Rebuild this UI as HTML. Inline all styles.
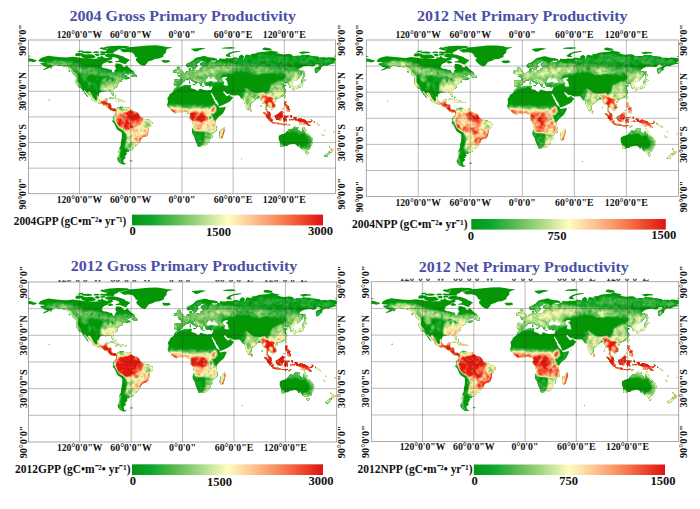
<!DOCTYPE html><html><head><meta charset="utf-8"><title>Primary Productivity</title>
<style>html,body{margin:0;padding:0;background:#fff}svg{display:block}text{font-family:"Liberation Serif",serif;font-weight:bold}</style></head><body>
<svg width="700" height="509" viewBox="0 0 700 509">
<defs>
<path id="land" fill-rule="evenodd" clip-rule="evenodd" d="M-61,51.17L-58,51.17L-57.87,51.28L-58.5,52.33L-60.8,52.33L-60.93,52.23L-61.13,51.33ZM-133.58,-57.39L-135.54,-58.37L-137.54,-58.68L-140.03,-59.57L-144.01,-59.87L-147.02,-60.87L-149.45,-60.87L-151.46,-59.08L-153.95,-58.18L-156.94,-56.68L-159.95,-55.38L-163.08,-54.7L-163.09,-54.89L-162.06,-55.91L-159.07,-57.61L-157.85,-58.58L-160.01,-58.67L-162.04,-59.38L-162.13,-59.5L-162.13,-60.41L-165.04,-61.38L-166.09,-62.41L-166.05,-62.62L-164.51,-63.33L-161.13,-63.62L-161.13,-64.37L-166.51,-64.57L-168.07,-65.49L-168.1,-65.68L-166.05,-68.42L-162.03,-70.13L-156.48,-71.43L-149.99,-70.63L-140.99,-69.83L-135,-69.43L-127.98,-70.33L-114.99,-68.63L-112.46,-68.45L-117.07,-69.74L-118.73,-71.88L-119.46,-71.43L-122.96,-70.93L-125.1,-71.75L-125.25,-71.9L-125.25,-72.11L-124.25,-74.31L-124.03,-74.47L-121.03,-74.77L-116.98,-74.47L-115.39,-73.74L-115.24,-73.58L-115.35,-73.31L-112,-72.97L-108.02,-73.27L-104.98,-73.07L-101.86,-71.23L-101.25,-69.8L-101.26,-69.57L-101.45,-69.44L-104.97,-68.73L-107.99,-68.43L-111.11,-68.35L-108,-68.13L-102,-68.13L-96.09,-68.33L-99.53,-68.73L-99.72,-68.84L-99.77,-69.05L-99.65,-69.22L-97.97,-70.27L-95.97,-70.07L-95.73,-69.8L-95.73,-69.15L-95.1,-70.58L-94,-71.93L-92.42,-70.11L-90.96,-69.42L-88.01,-68.64L-86.01,-69.63L-83,-69.78L-86.05,-69.94L-89.05,-70.54L-90.21,-71.83L-90.27,-72.03L-90.16,-72.22L-88.02,-73.77L-85,-73.97L-81,-73.97L-77.96,-73.27L-75.92,-73.06L-67.92,-70.46L-66.84,-69.23L-61.76,-67.12L-61.26,-66.12L-61.25,-65.9L-61.4,-65.75L-63.52,-64.9L-63.23,-64.47L-63.36,-64.27L-65.56,-62.95L-64.81,-62.19L-64.73,-61.99L-64.83,-61.79L-65.04,-61.73L-68.09,-62.25L-72.08,-63.74L-74.03,-64.23L-77.48,-64.03L-77.72,-64.14L-78.22,-64.84L-78.2,-65.19L-74.2,-65.75L-73.77,-67.04L-73.77,-67.82L-76.1,-68.75L-78.06,-69.73L-81.87,-69.73L-81.37,-67.53L-81.46,-67.37L-85.93,-66.18L-87.46,-64.38L-90.94,-63.18L-92.9,-61.91L-94.34,-59.03L-92.44,-57.12L-87.99,-56.63L-84.97,-55.43L-82.29,-55.13L-82.17,-55.02L-81.88,-52.87L-80,-51.37L-79.12,-52.07L-78.79,-54.59L-76.97,-56.51L-78.6,-58.72L-78.61,-58.87L-77.64,-60.52L-78.13,-62.37L-78,-62.53L-73.96,-62.42L-69.96,-61.12L-69.39,-59.1L-67.03,-58.44L-64.49,-60.43L-61.91,-57.59L-59.92,-55.6L-56.93,-53.61L-55.67,-51.97L-60,-50.07L-66.46,-50.07L-68.92,-48.4L-70.07,-47.48L-64.96,-49.32L-64.2,-48.38L-64.19,-48.24L-64.84,-47.02L-63.94,-46.13L-62.96,-46.06L-64.35,-46.68L-64.37,-46.91L-61.98,-46.63L-61.91,-46.41L-62.3,-46.02L-60.91,-45.89L-60.87,-45.2L-60.96,-45.08L-65.96,-43.48L-66.13,-43.6L-66.13,-44.69L-66.99,-44.86L-69.91,-43.6L-70.54,-42.52L-69.9,-41.79L-69.97,-41.57L-73.87,-40.5L-73.91,-39.41L-75.39,-37.92L-75.87,-36.98L-75.72,-35.4L-76.94,-34.39L-78.93,-33.29L-80.88,-31.73L-81.17,-30.01L-80.17,-27.51L-79.97,-25.51L-80.05,-25.38L-80.95,-24.98L-81.11,-25.02L-82.11,-26.42L-82.91,-27.94L-83.12,-29.12L-84.25,-29.88L-86.01,-30.17L-87.99,-30.17L-89.37,-29.99L-89.37,-29.2L-89.51,-29.07L-91.02,-29.17L-93.49,-29.57L-94.94,-29.18L-96.88,-27.73L-97.57,-23.98L-97.67,-22.32L-97.08,-20.56L-95.92,-19.1L-94.28,-18.33L-91.1,-18.91L-90.62,-20.54L-90.02,-21.33L-87.52,-21.63L-86.72,-21.11L-86.68,-20.95L-87.38,-19.46L-87.68,-18.15L-88.4,-16.46L-87.98,-16.53L-83.99,-15.93L-83.21,-15.69L-82.68,-11.06L-81.26,-9.74L-78.94,-10.12L-76.84,-9.12L-76.82,-8.25L-75.58,-10.61L-74.83,-11.13L-73.05,-11.62L-71.48,-12.53L-71.37,-12.42L-71.19,-11.18L-70.13,-11.59L-70.13,-12.2L-70.02,-12.33L-68.43,-11.41L-67.93,-10.73L-66,-10.73L-64.5,-10.34L-63.04,-10.82L-60.9,-10.93L-60.77,-10.78L-60.91,-10L-61.45,-9.97L-60.71,-8.61L-58.9,-8.09L-57.44,-6.42L-54.98,-6.13L-53.47,-5.73L-51.73,-4.61L-50.89,-3.07L-49.9,-1.88L-49.87,-0.57L-48.43,0.39L-47.94,0.87L-45.91,1L-44.45,2.37L-42.97,2.37L-41.49,2.77L-39.93,2.69L-38.42,3.6L-36.94,4.68L-35.17,5.27L-34.67,7.22L-35.07,9.32L-36.4,10.58L-37.21,11.89L-38.39,13.07L-38.87,14.52L-38.88,17.05L-39.58,18.54L-40.09,20.56L-40.91,22.09L-41.91,23.09L-44.47,23.33L-46.43,24.21L-47.9,25.38L-48.47,26.53L-48.6,28.39L-51.4,31.58L-53.43,34.11L-55.03,35.03L-57.03,34.63L-57.99,34.28L-57.17,35.27L-56.87,36.47L-57.66,38.32L-59.96,39.02L-61.89,39.12L-62.21,40.79L-64.87,41.12L-64.87,42.38L-63.69,42.47L-63.57,42.63L-65.18,43.58L-65.43,45.11L-67.27,46.21L-65.72,47.4L-65.7,47.58L-67.4,49.58L-68.85,50.56L-67.9,53.89L-65.16,54.68L-65.08,54.74L-65.16,54.92L-66.48,55.33L-68.98,55.63L-71.04,54.92L-73.07,53.61L-74.59,52.09L-75.63,50L-75.61,47.93L-73.62,44.95L-73.14,43.04L-74.13,41.99L-73.93,39.99L-73.62,37.96L-72.92,35.94L-71.93,33.96L-71.63,31.99L-71.63,29.97L-70.63,25.98L-70.33,21.99L-70.33,20.01L-70.52,18.47L-72.07,17.11L-74.06,16.12L-75.61,15.07L-76.42,13.86L-79.12,8.26L-80.09,6.6L-81.33,6.01L-81.4,4.41L-80.41,3.33L-80,2.33L-81,2.29L-80.93,0.99L-80.13,-0.24L-80.06,-1.12L-79.11,-1.59L-78.75,-2.62L-77.62,-3.09L-77.43,-4.5L-77.63,-5.71L-77.54,-6.93L-77.82,-7.1L-80.03,-6.67L-83.63,-7.67L-86.29,-10.31L-88.07,-12.39L-92.34,-13.78L-92.43,-13.9L-92.43,-14.68L-94.03,-15.96L-96.03,-15.57L-98.03,-16.07L-100.06,-16.88L-104.06,-18.88L-105.59,-20.2L-105.43,-21.48L-106.11,-22.92L-108.09,-24.91L-110.59,-27.7L-112.11,-28.73L-113.1,-30.41L-114.57,-31.45L-114.57,-30.05L-112.9,-28.08L-111.4,-26.08L-109.37,-23.08L-109.53,-22.97L-110.39,-23.2L-112.09,-24.7L-112.61,-26.12L-114.62,-27.76L-114.35,-28.66L-115.91,-30.23L-117.2,-32.42L-118.57,-33.88L-120.61,-34.43L-121.91,-36.43L-122.61,-37.73L-123.9,-39.42L-124.41,-40.34L-124.13,-44.51L-124.13,-46.28L-124.8,-48.37L-126.57,-49.39L-128.38,-50.69L-128.43,-50.79L-128.28,-50.93L-126.28,-50.57L-127.11,-50.93L-128.1,-52.42L-130.08,-54.4L-131.59,-55.41ZM-122.89,-48.26L-122.63,-47.8L-122.63,-48.92L-125.07,-50.09L-123.41,-48.6L-123.41,-48.41L-123.68,-48.37ZM-78.29,-18.53L-76.29,-18.33L-76.17,-18.19L-76.81,-17.67L-78.21,-17.77L-78.33,-17.87L-78.43,-18.37ZM-67.29,-18.59L-65.59,-18.53L-65.48,-18.35L-65.73,-17.79L-67.2,-17.77L-67.33,-17.9ZM-69.92,-19.9L-68.32,-18.7L-68.29,-18.53L-69.96,-18.17L-71.53,-17.57L-74.6,-18.32L-74.59,-18.49L-73,-20.03ZM-155.86,-20.12L-155.08,-19.85L-155.46,-19.08L-156.03,-19.4L-156.03,-20ZM-85.03,-21.87L-85.12,-22.04L-85.05,-22.12L-82.05,-23.32L-79.99,-23.13L-76.94,-21.82L-74.94,-20.82L-74.07,-20.22L-74.19,-20.07L-77.49,-19.77L-78.09,-20.6L-80.05,-21.58L-82,-22.26L-83.96,-21.68ZM-77.35,-25.32L-77.17,-25.17L-77.47,-23.97L-77.64,-23.88L-78.24,-24.08L-78.41,-24.86ZM-59.42,-47.66L-57.11,-51.07L-55.54,-51.62L-55.37,-51.47L-55.65,-50.09L-53.59,-49.37L-52.58,-47.66L-52.88,-46.66L-53,-46.57L-56.03,-46.67ZM-61.67,-49.19L-61.79,-49.07L-63.06,-48.99L-64.56,-49.79L-64.62,-49.95L-64.47,-50.03L-61.77,-49.33ZM-131.72,-54.11L-131.08,-52.34L-131.16,-52.18L-132.41,-52.73L-133.13,-54.02L-133,-54.13ZM-154.6,-57.58L-152.33,-58.13L-152.18,-58.05L-152.47,-57.07L-153.97,-56.67L-154.11,-56.72L-154.61,-57.42ZM-80.94,-64.62L-80.87,-63.8L-80.97,-63.67L-84.97,-62.87L-87.13,-63.97L-86.03,-65.63L-84.03,-66.13ZM-24.05,-65.62L-22,-66.53L-18,-66.43L-16.01,-66.63L-14.43,-65.61L-13.88,-64.45L-17.97,-63.27L-22.01,-63.67L-22.59,-64.41L-24.07,-65.39ZM-179.93,-69.06L-173.93,-67.46L-173.75,-67.31L-173.79,-67.05L-171.96,-66.92L-169.76,-66.12L-169.68,-65.96L-172.5,-64.37L-175.5,-64.37L-177.51,-65.16L-180,-64.68ZM-179.97,-71.87L-177.47,-71.57L-177.29,-71.47L-177.23,-71.27L-177.33,-71.09L-177.99,-70.63L-179.99,-70.53ZM-11.73,-81.33L-11.93,-81.04L-16.86,-79.76L-18.7,-77.92L-18.24,-76.07L-18.31,-75.81L-21.73,-72.39L-21.73,-70.5L-21.91,-70.24L-24.9,-69.25L-26.97,-68.23L-31.92,-67.74L-34.87,-66.07L-37.92,-65.34L-39.81,-64.58L-40.81,-62.81L-42.29,-61.33L-43.28,-59.85L-43.5,-59.73L-45.09,-59.74L-48.16,-60.78L-50.19,-62.31L-53.69,-65.81L-53.77,-66L-53.77,-68L-53.64,-68.23L-51.67,-69.41L-54.57,-70.24L-54.76,-70.41L-55.24,-71.87L-56.69,-73.81L-58.61,-75.24L-63.02,-75.93L-68.09,-75.74L-71.09,-76.74L-71.27,-77.05L-70.6,-77.66L-73.06,-78.24L-73.25,-78.39L-73.24,-78.62L-73.05,-78.77L-66.07,-80.06L-62.02,-81.47L-40.01,-83.57L-29.97,-83.77L-21.97,-82.77L-17.96,-81.77L-11.99,-81.57ZM-99.96,-74.27L-96.79,-73.67L-96.8,-71.62L-99.97,-71.23L-102.76,-72.92L-102.74,-73.12L-102.6,-73.25ZM-95.53,-74.07L-92.97,-74.37L-89.97,-74.07L-89.77,-73.93L-89.75,-73.69L-90.25,-72.59L-90.49,-72.43L-95.49,-72.23L-95.69,-72.31L-95.77,-72.5L-95.77,-73.8ZM-98.01,-74.73L-104.01,-74.93L-104.21,-75.03L-104.27,-75.23L-104.15,-75.42L-101.98,-76.87L-97.48,-76.57L-97.27,-76.45L-97.25,-76.2L-97.75,-74.9ZM-110.01,-76.77L-105.97,-76.27L-105.73,-76L-105.8,-74.82L-110.02,-74.33L-117.02,-74.93L-117.2,-75.02L-117.27,-75.2L-117.27,-76.2L-121.97,-75.73L-122.19,-75.81L-122.27,-76.03L-122.15,-76.23L-120.01,-77.57L-116.01,-77.77L-115.82,-77.7L-115.73,-77.5L-115.81,-77.31L-116.63,-76.49ZM-93.95,-81.56L-89.95,-80.76L-86.85,-79.2L-86.51,-79.45L-88.1,-80.25L-91.09,-81.24L-91.25,-81.4L-91.23,-81.63L-91.04,-81.77L-85.02,-82.77L-74.99,-83.37L-64.99,-83.07L-61.93,-82.26L-61.76,-82.12L-61.75,-81.9L-61.91,-81.74L-64.96,-80.73L-69.95,-79.94L-74.86,-78.76L-75.88,-77.76L-77.88,-76.76L-79.9,-75.95L-80.9,-75.95L-79.8,-75.78L-79.73,-74.6L-79.81,-74.41L-80,-74.33L-92,-74.43L-96.55,-75.23L-96.72,-75.35L-96.77,-75.55L-96.65,-75.72L-94.99,-76.77L-89.19,-76.6L-88.23,-78.14L-87.71,-78.56L-90.07,-78.04L-96.07,-79.74L-96.23,-79.86L-96.26,-80.06L-96.15,-80.23L-94.15,-81.53ZM69.2,48.97L70,49.02L69.88,49.6L69.22,49.6L69.07,49.13ZM45.92,15.7L49.2,11.91L49.37,11.89L50.42,15.55L49.62,17.54L48.62,20.54L47.42,24.54L45.17,25.63L43.67,23.52L43.38,21.45L44.17,19.48L43.87,17.02L43.93,16.89ZM119.03,9.37L120.91,9.83L120.86,10.02L119.94,10.42L118.94,9.92L118.87,9.5ZM114.9,8.12L121,8.27L122.99,8.07L123.12,8.24L122.92,8.84L122.8,8.93L117,9.13L115.19,8.93L115.08,8.84ZM107.98,7.93L105.15,6.92L105.08,6.76L106.54,5.88L108.51,6.47L110.83,6.27L112.76,6.78L114.56,7.68L114.63,7.82L114.53,8.62L114.39,8.73L110.98,8.43ZM122.05,1.92L121.7,2.06L122.91,3.93L123.11,5.37L122.94,5.42L121.89,4.87L121.38,4.05L120.92,2.96L120.43,3.1L120.49,5.7L119.41,5.59L119.27,3.55L118.68,2.65L119.67,0.17L119.74,-0.92L120.82,-1.43L122.99,-1.13L125.06,-1.72L125.12,-1.55L124.62,-0.35L124.5,-0.27L121.07,-0.27L120.42,0.71L121.31,0.87L123.39,0.71L123.38,0.9ZM104.51,5.9L103.42,4.9L102.2,4.09L100.9,2.59L100.19,1.08L98.88,-0.26L98.39,-1.73L96.91,-3.11L95.41,-4.71L95.17,-5.57L95.24,-5.71L97.6,-5.28L98.59,-4.09L100.37,-2.61L101.58,-2.1L103.08,-0.9L103.91,0.94L104.59,1.91L106.13,3.01L105.89,5.9ZM119.28,-5.1L118.12,-4.22L117.83,-3L118.12,-2.07L119.09,-1.09L119.1,-0.92L117.91,-0.69L117.63,0.82L116.62,1.57L116.43,3.02L116.08,4.1L114.71,4.23L113.95,3.53L112,3.53L110.89,3.07L109.07,0.53L108.87,-0.47L108.87,-1.5L109.41,-2.09L110.92,-1.85L111.38,-2.85L112.92,-3.31L113.9,-4.58L115.41,-5.6L116.79,-7.13L119.28,-5.3ZM79.67,-8.02L79.87,-9.72L80.01,-9.83L81.9,-7.58L81.91,-7.44L81.06,-5.88L79.9,-6.11ZM118.19,-9.04L118.01,-9.04L118,-9.21L118.7,-10.12L118.87,-10.15L118.91,-9.98L118.61,-9.44ZM53.4,-12.73L54.5,-12.73L54.62,-12.56L54.48,-12.19L53.5,-12.17L53.28,-12.56ZM92.63,-13.63L93.03,-13.53L93.13,-13.39L92.93,-11.59L92.77,-11.47L92.37,-11.57L92.27,-11.71L92.47,-13.51ZM120.33,-13.51L121.5,-13.38L121.26,-12.18L120.68,-12.45L120.28,-13.35ZM108.78,-18.37L108.67,-18.48L108.63,-19.41L109.93,-20.21L111.13,-19.63L110.1,-18.22ZM-4.41,-47.72L-4.91,-48.42L-4.9,-48.59L-3.02,-48.93L-1.68,-48.84L-1.92,-49.66L-1.85,-49.82L-1.28,-49.63L0.15,-49.82L1.72,-51L3.43,-51.52L4.4,-52.38L4.98,-53.33L8.58,-53.91L8.66,-54.47L8.07,-55.5L8.07,-57L8.17,-57.13L10.58,-57.6L10.63,-55.5L10.17,-54.56L11.02,-54.14L12.47,-54.43L14.3,-54.13L16.47,-54.63L18.68,-54.53L19.94,-54.92L20.88,-55.57L21.13,-56.91L22.43,-57.71L24.2,-57.45L24.34,-58.17L23.51,-58.2L23.37,-59.19L23.48,-59.33L25.49,-59.63L27.98,-59.73L28.98,-60L27.49,-60.37L22.81,-59.87L21.42,-60.9L21.17,-62.48L21.23,-62.61L22.44,-63.42L24.43,-64.41L25.1,-65L24.45,-65.57L22.54,-65.67L21.59,-64.91L20.6,-63.72L18.57,-62.89L17.43,-61.94L17.43,-60.87L18.87,-59.91L18.88,-59.7L17.59,-58.7L16.62,-57.73L16.23,-56.37L14.88,-56.08L14.31,-55.37L12.94,-55.29L11.09,-58.43L10.47,-59.14L7.47,-57.87L5.97,-58.27L5.07,-59.48L4.9,-61.08L5.9,-62.38L8.45,-63.42L10.44,-64.41L12.42,-65.6L14.41,-67.59L15.92,-68.8L18.96,-69.82L21.97,-70.43L24.97,-71.23L28,-71.13L30.04,-70.13L33.02,-69.63L37.02,-69.13L41.1,-68.08L41.13,-66.8L41.03,-66.67L37.99,-66.07L34.2,-66.35L34.9,-64.61L36.51,-64.13L37.98,-64.43L40.32,-64.71L39.88,-65.96L39.97,-66.13L41.97,-66.63L43.76,-66.45L43.17,-67.52L44.33,-68.63L46.51,-68.13L49.98,-68.13L53.47,-69.03L54.06,-68.44L59.94,-68.93L61.02,-69.93L65.02,-69.33L67.24,-68.72L66.87,-68.99L66.73,-70.91L70,-73.13L72.92,-71.04L72.14,-68.5L72.52,-66.96L73.38,-69.55L74.94,-72.92L81.64,-71.79L80.38,-72.46L80.99,-73.73L85.95,-74.13L86.97,-74.93L89.97,-75.63L99.98,-76.63L104.33,-77.83L107.03,-77.13L113.11,-76.07L113.07,-75.89L110.56,-74.22L113.28,-74.63L114.07,-73.82L119,-73.13L123.49,-73.63L126.04,-73.63L128.59,-72.89L130.54,-70.95L133,-71.63L139.41,-71.63L139.88,-72.75L140.01,-72.83L149.01,-72.33L151.03,-71.63L159.81,-70.63L161.05,-69.53L164,-69.73L168,-69.73L169.94,-68.97L170.5,-69.93L173,-69.93L178.01,-69.43L180,-68.93L180,-65.35L179.04,-64.88L177.79,-64.46L179.12,-63.56L179.62,-62.56L179.58,-62.4L177.02,-62.37L172.06,-60.88L170.48,-59.87L168,-60.17L166.03,-59.87L164.58,-59.39L162.94,-57.45L163.1,-56.12L162.1,-54.92L160.13,-54.4L160.07,-53.09L156.77,-50.89L156.58,-50.96L155.88,-52.96L155.47,-54.97L155.73,-57.11L156.97,-57.93L158.96,-58.42L161.44,-59.61L163.7,-61.09L164.28,-62.34L163.22,-62.2L163.61,-61.57L163.57,-61.39L161.87,-60.19L160.27,-60.47L159.72,-61.57L156.77,-61.47L155.01,-59.17L151.97,-58.87L148.99,-59.57L146.01,-59.27L143.03,-59.17L140.06,-57.88L137.58,-56.39L135.75,-54.75L137.52,-54.13L139.57,-54.31L141.27,-53.31L141.33,-53.18L141.13,-51.98L140.63,-49.97L139.09,-47.91L137.09,-45.91L135.58,-44.2L133.58,-42.7L132.02,-43.06L130.6,-42.21L129.86,-40.89L128.57,-40.19L127.69,-39.49L128.61,-38.57L129.61,-37.07L129.24,-35.18L127.54,-34.58L126.32,-34.4L126.17,-35.99L126.35,-37.39L125.18,-37.65L124.23,-39.74L122.34,-39.08L121.23,-38.89L121.18,-39.05L121.82,-40.42L121.02,-40.66L119.57,-39.69L118.09,-39.1L117.88,-38.75L118.86,-38.21L119.56,-37.34L121.98,-37.63L122.63,-37.02L122.55,-36.88L120.57,-36.09L119.48,-35L120.39,-34.09L121.11,-32.58L122.13,-31.49L121.24,-30.73L122.12,-30.25L121.83,-28.97L120.61,-27.23L119.81,-25.74L118.77,-24.59L117.05,-23.48L111.85,-21.48L110.6,-21.1L110.25,-20.18L110.08,-20.26L109.7,-21.29L108.51,-21.56L107.58,-21.19L106.6,-20.12L105.86,-19L106.6,-17.88L108.99,-15.6L109.43,-13.02L109.06,-11.39L107.1,-10.3L106.56,-9.39L104.95,-8.58L104.39,-10.3L102.95,-10.88L102.21,-12.1L100.89,-12.63L100.87,-13.27L100.12,-13.27L99.93,-11.47L99.44,-9.53L101.09,-6.99L102.41,-6.17L103.51,-4.57L103.53,-3.03L104.31,-1.56L104.22,-1.37L103.43,-1.29L101.18,-2.75L100.67,-3.97L100.18,-5.74L98.17,-8L98.17,-9.02L98.47,-11.49L97.88,-13.46L97.58,-15.46L96.95,-16.52L95.57,-15.69L94.3,-15.91L94.07,-17.95L91.89,-20.93L91.42,-22.34L90.02,-21.87L87.29,-21.39L86.88,-20.6L85.29,-19.4L84.09,-18.1L82.39,-16.6L81.57,-16.19L80.23,-15.14L80.33,-12.98L79.9,-10.22L79.1,-9.22L78.08,-8.4L77.16,-8.08L76.09,-9.94L74.88,-12.44L74.18,-14.45L73.18,-16.44L72.67,-18.97L72.58,-21.25L72.01,-20.87L70.2,-20.82L68.9,-22.42L68.2,-23.62L66.45,-25.27L61.49,-25.07L58.99,-25.27L57.17,-25.67L56.24,-26.96L54.02,-26.57L51.94,-27.58L50.71,-28.81L49.92,-29.98L48.83,-30.16L48.16,-29.75L48.61,-28.57L49.59,-27.59L50.31,-26.57L50.79,-25.36L51.08,-26.14L51.32,-26.16L51.63,-25.53L51.9,-24.14L53.94,-24.33L55.12,-25.4L56.4,-26.33L56.53,-26.23L56.91,-24.3L58.69,-23.7L59.93,-22.51L58.1,-20.32L57.11,-18.83L55.56,-17.69L52.26,-15.89L48.05,-13.88L45.05,-12.68L43.51,-12.57L43.17,-12.97L42.68,-14.96L41.88,-16.94L40.7,-18.92L39.11,-20.41L38.88,-21.95L37.39,-24.13L36.39,-25.93L34.9,-27.92L34.87,-28.84L34.35,-27.68L33.5,-28.06L35.62,-24.06L35.82,-22.86L37.13,-21.52L37.42,-19.55L38.62,-18.05L39.61,-15.59L41.07,-14.61L42.58,-13.1L43.37,-12.61L43.34,-11.65L44.53,-10.64L46.96,-11.33L48.98,-11.43L51.17,-11.93L51.33,-11.79L51.23,-10.49L50.62,-8.94L48.6,-4.92L47.07,-3.09L45.08,-1.7L43.09,-0.11L41.6,1.88L40.41,3.07L39.62,4.85L39.04,6.5L39.63,7.99L39.83,9.96L40.63,11.49L40.83,13.99L40.63,16.01L38.58,17.6L36.88,18.61L35.14,20.05L35.53,21.99L35.63,23.99L33.12,25.58L32.93,27.03L32.39,28.9L31.1,30.09L30.09,31.6L28.59,32.9L27.07,33.81L25.5,34.13L23.02,34.13L20.03,34.93L18.37,34.22L18.07,32.54L16.38,28.86L15.37,27.03L14.38,22.55L12.9,20.58L11.87,18.51L11.67,16.46L12.37,13.96L13.38,12.45L13.67,11.01L11.88,5.06L10.91,3.89L9.41,2.6L8.88,1.04L9.57,-2.02L9.67,-3.45L8.94,-4.17L6.99,-4.27L5.47,-4.67L4.43,-6.17L2.52,-6.17L1.04,-5.78L-1.46,-4.88L-4.98,-4.97L-7.46,-4.27L-9.06,-5.09L-11.07,-6.69L-12.61,-7.43L-13.41,-8.73L-13.81,-9.63L-15.09,-10.9L-16.63,-12.17L-16.92,-13.45L-17.63,-14.71L-16.63,-16.05L-16.43,-18.01L-16.43,-19.47L-17.12,-21.04L-16.42,-23.04L-15.12,-24.57L-14.6,-26.09L-13.06,-27.81L-11.57,-28.61L-10.12,-29.58L-9.82,-31.05L-9.12,-32.55L-6.61,-34.58L-5.96,-35.91L-2.01,-35.33L-0.04,-35.92L3,-37.03L10.04,-37.32L11.12,-36.95L10.44,-35.48L10.63,-34.32L10.23,-33.85L11.54,-33.33L15.33,-32.43L16.08,-31.41L18.03,-30.63L19.42,-30.63L20.38,-32.65L21.97,-33.03L23.55,-32.32L25.03,-31.83L28.99,-31.03L30.96,-31.62L32.33,-31.33L32.47,-31.06L32.58,-31.23L34.15,-31.43L34.39,-31.58L34.89,-33.06L35.67,-34.54L35.87,-35.81L35.87,-36.63L34.03,-36.17L32.52,-35.97L30.61,-36.66L29.45,-36.08L27.26,-36.88L26.68,-38.45L26.07,-39.48L25.89,-40.68L24.56,-40.77L23.84,-39.88L22.77,-40.21L22.92,-39.35L24.13,-37.7L24.03,-37.57L23.15,-37.4L23.31,-36.42L22.32,-36.3L21.52,-36.9L21.18,-38.13L19.3,-40.22L19.37,-41.45L18.92,-41.9L17.44,-42.88L15.45,-43.68L14.44,-45.05L13.51,-44.91L13.54,-45.43L12.45,-45.2L12.62,-44.26L14.07,-42.61L16.06,-42.01L18.63,-40.5L18.63,-40.1L18.47,-39.97L17.05,-40.35L16.78,-40.02L17.28,-39.6L17.3,-39.42L16.69,-38.7L15.79,-37.9L15.58,-37.96L15.27,-36.69L12.57,-37.37L12.37,-37.97L12.49,-38.13L15.49,-38.33L15.6,-38.29L15.61,-38.11L15.86,-38.52L15.59,-39.91L12.24,-41.59L10.22,-43.39L8.8,-44.25L6.49,-42.97L3.61,-43.16L3.27,-41.69L0.31,-39.91L-0.21,-38.41L-1.97,-36.67L-5.27,-35.97L-6.34,-36.37L-9.02,-36.87L-9.63,-38.77L-8.93,-40.04L-8.93,-41.48L-9.33,-42.97L-9.27,-43.11L-7.99,-43.93L-5.99,-43.73L-1.88,-43.53L-1.43,-44.53L-1.33,-45.95L-2.57,-47.18ZM120.94,-25.31L122.03,-25.13L122.12,-24.96L121.12,-21.96L120.98,-21.87L120.08,-23.04ZM32.27,-35.23L34.47,-35.73L34.63,-35.62L33.92,-34.77L32.44,-34.58L32.18,-35.04ZM23.61,-35.73L26.21,-35.43L26.33,-35.31L25.99,-34.87L23.59,-35.07L23.47,-35.2L23.47,-35.6ZM8.2,-41.09L9.79,-41.09L9.7,-39.11L8.42,-38.9ZM8.65,-42.72L9.45,-43.02L9.61,-42.97L9.48,-41.4L8.71,-41.51L8.57,-42.59ZM-6.22,-52.1L-10.3,-51.87L-10.43,-51.98L-9.65,-53.21L-10.12,-54.14L-10.06,-54.32L-8.36,-55.12L-7.03,-55.43L-5.38,-54.54L-5.88,-53.46ZM-6.1,-57.59L-5,-58.73L-3.11,-58.69L-3.1,-58.51L-3.73,-57.8L-1.99,-57.63L-1.87,-57.51L-2.79,-56.08L-1.58,-55.75L-1.09,-54.68L0.08,-53.7L0.3,-53.11L1.81,-52.77L1.43,-51.17L-0.98,-50.57L-3.49,-50.17L-5.79,-50.01L-5.78,-50.21L-4.38,-51.21L-3.83,-51.38L-5.31,-51.73L-5.26,-51.91L-4.45,-52.37L-4.61,-53.38L-3.15,-53.61L-3.31,-54.68L-4.91,-54.93L-5.62,-55.96ZM68.55,-76.53L59.09,-74.74L56.22,-73.31L55.82,-72.11L57.65,-70.82L57.77,-70.63L57.7,-70.42L57.49,-70.33L53.49,-70.43L51.4,-71.25L51.25,-71.4L51.26,-71.62L51.84,-72.72L53.88,-74.24L56.95,-75.76L61.95,-76.76L66.97,-77.27L68.54,-77.07L68.77,-76.81ZM10.78,-79.66L10.97,-79.77L14.97,-80.17L21.98,-80.67L27.02,-80.27L27.27,-80.02L27.07,-79.74L21.09,-78.25L18.12,-76.76L15.02,-76.53L13.35,-77.78L10.86,-79.27L10.74,-79.45ZM94.73,-78.8L94.79,-80.67L98.05,-81.26L104.05,-80.06L105.27,-78.49L105.03,-78.23L99.96,-77.73L94.96,-78.53ZM58.05,-81.76L62.05,-80.96L62.27,-80.69L62.03,-80.43L55.99,-79.73L46.99,-80.03L46.73,-80.27L46.94,-80.56L49.98,-81.27ZM166.41,45.71L168.11,44.11L169.92,43.09L171.2,41.92L171.89,40.83L172.64,40.39L174.33,41.27L172.61,43.87L171.31,44.59L170.85,46.02L168.97,46.73L167.45,46.32L166.45,45.92ZM148.29,40.77L148.43,40.92L148.09,42.59L147.09,43.59L146,43.63L145.19,42.37L144.58,40.65L144.73,40.57L146.51,40.97ZM173.75,39.42L173.7,39.22L174.56,38.07L174.18,36.56L172.88,35.06L172.58,34.46L172.71,34.27L174.57,36.19L175.85,36.68L176.1,37.47L178.4,37.52L177.88,39.3L176.89,40.1L175.39,41.69L175.18,41.65L174.68,40.55L174.84,39.88ZM129.88,13.26L130.74,12.29L132.44,11.39L135.31,12.07L136.88,12.1L136.91,12.27L136.12,13.56L135.66,14.93L137.58,15.9L139.54,17.37L140.7,17.37L141.37,14.98L141.58,12.75L142.38,10.75L142.61,10.73L143.61,12.43L143.63,14.21L145.43,14.96L146.13,17.46L146.32,18.82L147.9,19.71L149.39,21.41L152.59,24.71L153.33,25.98L153.63,28.53L153.13,31.03L152.11,32.86L151.12,34.36L150.43,36.04L150.13,37.53L150.03,37.63L148.05,38.02L146.37,39.21L144.7,38.35L143.47,38.93L140.97,38.33L139.71,37.09L139.12,35.74L137.91,35.79L137.97,34.21L137.73,32.92L136.88,34.1L135.68,35.03L134.7,33.38L133.44,32.32L131.19,31.63L126.03,32.43L124.09,33.11L123.5,34.03L121.02,34.03L119.55,34.42L117.99,35.23L115.99,35.03L114.93,34.41L114.88,34.25L115.47,32.97L115.57,31.52L114.08,28.05L113.38,26.04L113.37,24.49L113.57,21.99L116.64,20.38L118.96,19.88L121.41,18.9L122.19,17.44L123.51,17.18L123.9,16.22L125.46,14.38L126.96,13.88L128.24,14.77L129.4,14.77ZM163.89,20.27L163.95,20.08L164.06,20.09L165.56,20.89L167.09,22.2L167.09,22.4L166.13,22.31L164.43,21.11ZM177.41,17.5L178.51,17.57L178.63,17.73L178.53,18.13L178.39,18.23L177.4,18.09ZM166.59,15.26L166.66,15.08L166.77,15.09L167.42,15.55L167.92,16.75L167.87,16.91L167.71,16.89L167.21,16.39ZM126.57,9.11L124.57,10.31L123.41,10.39L123.42,10.2L124.92,9.1L127.06,8.29L127.1,8.48ZM161.73,10.08L161.51,10.47L161.32,10.5L159.43,9.11L157.14,7.81L157.1,7.32L157.25,7.28L159.85,8.38ZM154.69,5.37L155.98,6.4L156,6.58L155.7,6.98L155.51,7L154.71,6.3L154.57,5.52ZM147.56,5.88L148.12,7.93L149.6,9.22L150.6,10.42L150.58,10.6L147.91,10.3L146.42,8.9L144.52,7.76L143.6,8.59L142.99,9.33L140.99,9.23L139.47,8.24L137.93,8.51L137.89,8.34L138.65,7L137.91,5.6L135.95,4.72L133.5,3.94L132.76,4.12L131.88,2.75L133.03,2.38L132.23,2.31L130.93,1.51L130.87,0.8L130.97,0.67L132.47,0.27L134.03,0.67L134.13,0.78L134.32,2.44L135.01,3.13L136.45,2.08L138.04,1.48L144.54,3.68L145.88,5.09ZM152.15,4.24L150.69,2.77L150.75,2.58L152.57,3.59L153.12,4.65L152.94,4.71L152.39,4.4L151.88,5.4L150.58,6.4L148.9,6.28L148.4,5.68L148.41,5.51L150.46,5.37ZM126,3.07L127.31,3.12L127.12,3.84L127,3.93L126.02,3.9L125.87,3.22ZM128.01,2.87L130.81,3.07L130.92,3.26L130.49,3.93L128.19,3.73L127.88,3.04ZM127.95,0.92L127.37,-0.5L127.37,-2.2L127.48,-2.33L128.82,-1.56L128.62,-0.25L128.12,0.85ZM123.41,-8.59L125.43,-9.81L125.61,-9.77L126.62,-7.96L126.12,-6.46L125.39,-5.71L125.24,-5.69L123.94,-6.39L123.43,-7.34L121.93,-6.89L121.91,-7.09ZM121.95,-11.92L122.98,-11.64L124.54,-12.62L125.54,-12.32L125.63,-12.18L125.33,-10.28L125.23,-10.17L124.05,-9.88L123.07,-9.19L122.91,-9.21L122.17,-9.98L121.87,-11.78ZM120.17,-18.5L120.31,-18.63L122.3,-18.48L122.13,-16.49L121.65,-15.05L123.09,-14.09L124.09,-13.09L124.05,-12.88L123.43,-12.69L121.96,-13.67L120.68,-13.74L120.07,-15.01ZM130.38,-31.15L129.88,-32.45L129.91,-33.59L131.79,-33.69L131.6,-31.42L130.54,-31.08ZM132.49,-35.63L134.96,-35.83L136.61,-36.9L137.2,-37.58L138.45,-37.44L139.38,-38.56L139.87,-40.02L139.9,-41.08L141.27,-41.43L141.42,-41.35L142.11,-39.43L141.13,-37.76L140.93,-35.99L140.09,-35.11L138.81,-34.67L137.06,-34.57L136.01,-33.37L134.95,-34.36L134.57,-34.3L134.62,-34.16L134.25,-33.18L133.05,-32.68L132.18,-33.26L132.47,-34.02L131.01,-33.87L130.87,-34L130.93,-34.61ZM141.59,-45.47L141.78,-45.5L143.06,-44.42L145.33,-43.93L145.42,-43.75L145.12,-42.95L143.28,-41.87L141.04,-42.26L139.99,-41.37L139.87,-41.52L140.19,-43.27ZM141.86,-45.88L141.67,-46.01L141.87,-48.01L141.87,-53L142.38,-54.35L142.54,-54.42L143.31,-53.06L143.33,-51.53L144.62,-49.14L143.16,-48.89L143.62,-46.74ZM179.98,-70.53L178.78,-70.63L178.56,-70.78L178.26,-71.38L178.32,-71.7L180,-71.86ZM142.01,-76.47L148.01,-76.27L150.12,-75.24L150.26,-75.06L150.21,-74.84L150.01,-74.73L145.04,-74.53L141.07,-73.54L136.89,-75.25L136.74,-75.42L136.77,-75.64L136.96,-75.77Z"/>
<path id="lakes" d="M28,-41.5L29,-41.2L31,-41.2L33,-42L35,-42L36.5,-41.3L38.5,-41L40.5,-41L41.7,-41.6L41.5,-42.7L39.5,-43.7L38,-44.5L37,-45.2L36.5,-45.3L37.5,-46.5L39,-47.2L37.5,-47L35.5,-46.3L35.2,-45.5L35,-44.8L33.7,-44.4L32.7,-45.3L33.5,-46L31.5,-46.6L30.5,-46L29.7,-45.2L28.7,-44L28,-43ZM47.5,-45.7L49,-46.6L51,-47L53,-46.7L53,-45.3L51.3,-45L51,-44.3L50.3,-44.5L51.5,-43.2L52.5,-42.7L52.7,-41.5L53.5,-40.8L53,-40L53.5,-39.3L53.8,-37.5L53.9,-37L52,-36.8L50.5,-37L49,-37.6L48.9,-38.8L49.5,-40.3L50.3,-40.3L49.5,-41L48.5,-42L47.5,-43L47.3,-44.2L46.8,-44.8Z"/>
<clipPath id="lc"><use href="#land"/></clipPath>
<linearGradient id="cbg" x1="0" x2="1" y1="0" y2="0"><stop offset="0" stop-color="#089612"/><stop offset="0.1" stop-color="#0ca62c"/><stop offset="0.22" stop-color="#58b94d"/><stop offset="0.36" stop-color="#a9d987"/><stop offset="0.5" stop-color="#fffdc0"/><stop offset="0.64" stop-color="#fcc08e"/><stop offset="0.8" stop-color="#f8794c"/><stop offset="0.92" stop-color="#ea3a24"/><stop offset="1" stop-color="#dc1414"/></linearGradient>
</defs>
<rect width="700" height="509" fill="#fff"/>
<g transform="translate(181.90,116.90) scale(0.8533,0.8544)">
<use href="#land" fill="#049604"/>
<g clip-path="url(#lc)"><path fill="#11a325" d="M148.5,43.8l-1,0.7l-2,-0.5l-2,-3.8l-3,-1.2l-2,-2.7l-3,-0.7l-1,-1.1l1,-0.8l3,0.3l1,0.9l1,0.2l1,-0.9l3.4,-0.7l2.6,-2.8l0.9,-4.2l-1.6,-1l-0.3,-1.9l-1,-0.1l-1.2,-1l0.2,-2l-1,-0.9l-3,0.4l-2,1.3l-2,-0.7l-2,-2.3l-2,0.1l-1,-0.6l-3,0.2l-3,0.9l-2,-0.5l-1,-1.9l3,-2.9l3,-0.2l2,-2.1l2,-0.8l4.1,0l1,1l0,3l1.9,1.8l0.9,-0.8l0,-3l0.5,-1l-0.4,-1l-3,-0.7l-1.3,-1.3l0.3,-1l-0.8,-1l-3.2,-0.7l-1,-0.7l-1,0.3l-3,-0.3l-1,0.6l-1,-0.3l-1.7,1.1l0.7,0.7l3,0l1.1,1.3l-2.1,2.5l-2,0.7l-1,0l-1,-0.6l-3,0.4l-1,-0.7l-10,-1l-3,-0.9l-5,-4.7l-3.4,-4.7l-0.3,-1l-2.8,-3l-0.2,-1l0.7,-1.1l2.9,-0.9l0,-5l-0.9,-1.8l-2,-0.4l-1,-0.8l-0.9,-4l-2,-2l-0.1,-1.2l-0.1,1.2l-0.8,1l-2.1,0.3l-5.9,5.7l-0.4,4l1.7,3l-0.7,2l-1.7,0.9l-1.3,-0.9l-0.7,-2l-2,-0.1l-1,-0.9l-4,-10l-2.6,-3l-0.1,-2l0.7,-0.5l1,0.4l0.5,-0.9l0.1,-1l-1.5,-1l0.3,-2l1.6,-1.9l1,0.3l1,-0.5l0.6,-0.9l-1.4,-2l0.6,-1l1.2,-0.6l9,5.8l7,0.6l6,-1.6l1,1.4l1,0.5l3.2,-3.1l0.5,-1l0,-2l0.8,-1l0.2,-2l1.3,-1.8l2,-0.4l1,-1.1l3.2,-0.7l1.8,-1.6l4,-0.1l3.4,-3.3l0.2,-1l-0.6,-0.9l-2,-1.6l-0.7,0.5l-0.1,2l-1.2,0.4l-0.6,-1.4l1.3,-1l-1.7,-1.5l-0.5,0.5l0,1l-1.5,1.1l-1,-0.2l-2,-1.8l-2,0.9l-1,-1.1l-2,1.1l-3,-1l-1,0.7l-4,-0.8l-3,0.9l-2,1.4l-1,0l-4,-0.8l-3,0.2l-2,-1.6l-3,-0.5l-1,-1l-6,-0.1l-2,-1.2l-1,0.4l-1,1.2l-1,0l-2,-2l-4,3.8l-2,0.5l-5,-0.4l-2,0.7l-3,0.3l-1,0.7l-0.9,1.6l2,2l0.4,2l1.5,1.2l-2,1.4l-3,0.3l-1,1.1l-2,0.4l-2,1.2l-1,-2.3l-1.1,0.7l1.6,2l-1.5,0.3l-1,0.9l-2,0.3l-1,-0.6l-2,1.1l-1,0l-1,-0.9l-3,-0.1l-1,0.6l-3,0.5l-4,-4.4l-1,-0.5l-2,1.4l-1,-0.3l-5,-4.3l-3,0.6l-2,-0.4l-1,0.1l-2.9,2.7l-0.5,1l0.4,1.5l2,-0.9l4,0.8l2,-0.8l1,0.2l0.3,1.2l-1.3,1.6l-4,-1.1l-4,0.9l-1,0.8l-2,0.1l-4,1.2l-2,2.2l-1,0.2l-1.9,-0.9l1.9,-3l-0.2,-1l-1.9,-2l0.1,-5l2,-2l4,-0.2l1.4,-0.8l-2.4,-2.6l-0.6,-1.4l-4.1,-2l-0.4,-1l0.2,-2l2.6,-1l1.3,-3l1,-0.8l2.8,-0.2l1.3,1l1,3l2.9,2.6l1,0.3l6.4,-4.9l-0.4,-1.2l-1,-0.1l-1,0.6l-1,-0.4l-1.9,-2.9l0.8,-1l1.1,-0.6l2,0.2l2,-0.5l3.4,-2.1l0.6,-0.9l2,-0.4l2,-1l4,0.1l1.1,1.2l3.9,0.9l1.6,1.1l-0.3,1l1.7,0.5l2,-2.4l4,-1.8l3.2,0.7l2.8,1.3l4,-0.3l1,1.3l2,0.2l1,0.6l2,0.1l1,-1l2,-0.3l2,1.2l2,-0.3l0.8,-0.8l-1.1,-2l-0.2,-2l2.5,-1.7l2,1.1l2,0l2,2.1l1,-0.7l2,0l1,0.1l1,1.2l2,0.1l0.3,-0.2l-1.2,-2l1.9,-1.4l3,-0.2l1,-1l1,-0.3l2,-0.3l0.8,1.2l-0.9,1l0.1,1.3l1,0.2l3,-1.2l2,0.1l0.4,-0.4l-0.1,-1l-1.5,-2l4.2,-1.8l2,0.9l3,-0.6l2,1.8l2,-1l1,0l2,2.4l1,-2.3l1,0.6l2,-1.3l0.5,1.3l1.5,1.7l3,-0.6l2,0.7l1,-1.3l2,1.1l2,0.1l3,-1.1l1,1.1l2.8,1.3l-0.9,3l1.1,1.5l3.1,-1.5l-1.5,-1l-0.1,-1l1.5,-1.5l3,-1l3,0.7l0.4,-0.2l-0.3,-1l1.9,-1l2,0.8l2,-0.6l1,0.3l2,-1.1l0.9,1.6l-0.4,1l0.1,1l1.4,0.7l3,-2.2l2,0l1,-1.2l1,0.3l1,1.3l1,-0.3l0.9,2.4l1,1l0,2l-1.2,1l0.3,0.2l1,-1.1l2.1,-0.1l-0.8,-2l0.7,-1.1l4,-0.2l1,0.2l2,1.8l1,0l5,-2.4l1,1.8l2,0.9l2,2l-2,2.3l-1,-0.6l-2,0.1l-1,-0.6l-1,1.1l-3,0.7l-2,-1.2l-3,1.2l-3,-1.5l-4,0.6l-0.6,-2.1l-1.4,-0.7l-1,0.1l-1,-0.8l-1,0.2l-1.3,2.2l0.3,0.9l1,-1.3l1,0.3l0.8,1.1l-0.1,2l-1.7,1.4l-3,-1.6l-2,-2l-2,0.8l-3,0l-3,-1.2l-0.9,-1.4l1.6,-3l-0.7,-1.2l-0.8,1.2l0.3,1l-2.5,2.9l-3,-0.6l-1,0.6l1,1l1,-0.3l0.3,0.4l-0.3,1l-1,-0.9l-0.3,0.9l1,2l1.3,1.3l3,1.2l1,1.1l3,1.5l2,-0.9l2.2,1.8l0.1,2l0.8,2l-0.8,3l1.7,3l-1,2l-1.4,1l-1.6,4.8l-2.4,2.2l-2.6,0.4l-1,1l-2,0.1l-2,1.5l-2,0.4l-1,-0.5l-2,-2.8l-2,-0.6l-2,-4.9l-1,-0.8l-1,-0.1l-0.9,1.3l1.7,2l-1.5,2l2.2,3l0.1,2l-1.4,3l1.6,2l-0.8,2.5l-1,1l-3,-2.4l-2.8,1.9l-3.2,1l-0.7,2l-2.4,2l0.9,2l0,3l-4.8,4l-4,-3.6l-0.7,1.6l0.7,2l2,0.7l1.4,1.3l1.1,4l-0.4,1l0.2,1l2.2,2l0.5,1.9l1,0.3l-0.2,-1.2l-2,-3l0.2,-2l2,-2.3l3,-1.2l2.8,-2.5l3.3,-5l-0.5,-3l0.4,-2.9l2,-1.7l1,-0.2l2.5,1.8l0,3l0.5,0.9l2.7,2.1l0.3,1l-0.3,1l0.9,3l-0.6,1.6l-2,1.8l-1,-0.1l-1,-0.8l-2,-0.3l-1.5,1.8l0.5,0.6l4,0.2l3,-0.8l2,0.9l1,1l3,0.3l2,1.5l3,-0.1l5,1.4l4,2.5l1.3,-0.5l0.2,-1l1.5,-1.4l1,0.1l5,4.1l4,2.1l2.3,2.1l0.2,1l-1.5,1.2l-4,-2l-4,-2.8l-1,0l-1.6,1.6l1.6,2l-1,1.4l-1,0.3l-2,-0.4l-3,-1.7l-1.5,0.4l1.4,3l1.5,2l0.9,3l6.5,7l0.6,3l-0.5,3l-2.5,4l-0.4,2l-1,1.1l-2.2,0.9l1,3zM103.5,-73.2l-1,0.5l-0.8,-0.8l0.8,-0.9l1,0.3l0.5,0.6zM96.7,-68.5l0.8,-1l-1,-0.4l-1,0.3l-0.5,-0.9l-1.2,0l1.5,1l0.1,1zM108,-69.5l-0.5,-0.9l-1,0.9l1,0.5zM-60.5,40.6l-3,0.8l-0.6,-1.9l-1.4,-0.6l-0.8,-1.4l-1.8,-1l-0.1,-3l1,-1l0,-3l0.9,-1l0.1,-4l-0.7,-1l0.8,-1l-0.4,-1.2l-2.6,-2.8l0,-2l-3.4,-2l-1,0.6l-1,-0.4l-3,-6.2l-1,-0.4l-3,-2.6l-0.3,-1l0.7,-5l1.9,-3l0.2,-1l-0.5,-0.9l-2,-1l-2,-0.3l-5,-4.9l-4,-1.2l-3,-2.1l-2,0.4l-2.7,-1l-3.3,-2l-3.1,-3l-0.9,-2.1l-1.2,-0.9l-2.4,-5l1.6,-1.8l1,0l1.3,0.8l3.4,3l-0.7,2.2l1.9,1.8l0,1l1,1l1.1,0.3l0.5,-1.3l-0.2,-3l0.7,-1.2l1,-0.4l1.9,1.6l0.4,3l1.7,1.8l2,0l1.4,-1.8l1.6,-1.1l2,0.1l1,0.6l2,-1.7l2.7,-0.9l-1.8,-3l-1.9,-1.6l-4,0.8l-3.7,-0.2l-2.2,-1l-1.6,-2l-0.4,-5l0.9,-1.3l1.6,-5.7l2.4,-2l-0.2,-1l-0.8,-0.4l-3,0.8l-2.7,-1.4l-2.3,-0.4l-2,0.6l-1,-1.7l-5,1.5l-0.8,1l-0.4,3l1.2,1.9l1,0.1l1,-0.5l2,0.9l1,-0.1l0.1,0.7l2.9,1.2l2.3,1.8l0.6,1l-1,1l1.5,3l-0.8,1l-0.6,2l-1,0.2l-0.8,-1.2l0.8,-2l-2,-1.2l-2,-5l-2.9,3.2l-0.1,1.5l-3,0.8l-1,-0.3l0.9,-3l-0.1,-2l-0.8,-2l-1,-1l-2.8,1l-0.2,0.5l0,-1.5l-0.9,-2l-2.3,-3l-0.2,-1l0.6,-1l-1.2,-2l-1,0.3l-1.1,0.7l-0.1,8l2.4,2l1.3,2l0.5,2l1.3,2l-1.3,0.9l-5,-2.9l-2.7,-5l-0.3,-7.4l-3,-2l-3.8,-3.6l-1.1,-1l0.1,-1l-2.2,-1.5l-2.1,-0.5l-0.9,-0.9l-2,-0.3l-8,-0.7l-1,0.1l-1,0.9l-2,-0.4l-2,-1.1l-4,0.2l-1,-1.2l-1,0l-0.7,-0.6l0.7,-1.8l1,-0.6l1,-1.6l1,-0.4l2,1.4l3,-1l2,-2l1,0.5l2,-0.7l1,0.2l1,1.2l1,-0.5l2,0.5l1,-0.5l6,0.8l3,-0.9l5,1.8l1.8,1.6l-0.8,1l1,-0.8l3,-0.3l3.3,1.1l2.7,2.3l2,0.6l1,-0.4l1,1.3l1,0.4l2,-0.9l2,0.7l5,-0.1l1,0.8l2,-0.4l1,0.9l2,0.1l2,1.2l1,-0.5l1,0.2l1,0.9l1,-0.2l2,1.3l1,-0.7l2,1.2l5,0.6l2,-0.9l3,1.5l2,-1.4l3,1.8l2,-2.1l2,-0.2l3,0.7l0.1,-0.7l0.9,-0.3l1,1.1l2,0.7l2,0l3,1l2.1,2.5l0.8,2l-0.9,1.5l-0.7,0.5l-3.2,0l-2.1,-0.8l-2,0.8l-1,-0.2l-1,1.6l-2,-0.7l-1,0.8l-2,0.4l-2.8,3.1l-1.2,0.4l-1.9,1.6l-0.9,1l-0.2,2l-2.9,3l-1.1,0.3l-1,1.7l0.6,4l-0.3,2l2.7,0.1l0.2,0.9l2.8,2.4l3,-0.1l3,1.5l2,0.2l1.1,1l-0.4,1l-1.7,0.9l-3,-0.5l-3,0.5l-3,-0.7l-2,0.7l-1.7,-0.9l-0.3,-1l0.6,-1l-3.6,-1.1l-3,0.3l-0.8,1.8l0.3,1l1.5,0.1l2,1.4l0.9,1.5l0.1,3l1,0.5l4,0.5l2.1,-2l1.9,-0.1l1,-0.8l1,0.8l1,-0.4l5,1.3l2,-0.2l1,-0.6l1.4,1l1.1,2l1.5,1.2l5,1.6l2.5,2.2l2.5,3.5l1.5,0.5l1.5,1.5l4.4,0.5l3.9,2l2.7,2.9l0,2.2l-3.2,4.9l-0.7,4l-2.1,5l-2.4,2l-2.6,0.4l-2,1.5l-1,2.4l-4.7,5.7l-3.8,3l-1.5,1.9zM80.2,-63.5l1.1,-2l-0.8,-2l-1,-0.5l-1.2,0.5l-0.8,1.5l-1.9,0.5l1.9,0.6l1,-0.7l0,2.1l1,0.7zM142,-65.5l1.9,-2l-0.4,-0.6l-1,0l-1,0.7l-0.1,1.9zM97.9,-62.5l0.2,-2l-1.6,-1.2l-0.9,0.2l-1.1,1.5l-2,-1.2l-0.6,1.7l1.6,1.6l2,-0.5l1,0.6zM113.9,-58.5l-1,-1l3.9,-3l0.6,-2l-0.9,-0.5l-3,2.3l-1,0l-1,-1.4l-2,0.3l-4,-2.4l-1.2,0.7l2.2,3.5l1,-0.5l2,0.7l2,-0.1l0.4,0.4l0.2,2l1.4,1.3zM19.4,-56.5l2,-2l0.2,-1l-0.8,-1l1.4,-3l-1.7,-1.1l-1,0.8l-0.5,1.3l0.7,2l-2.1,3l0,1l0.9,0.7zM66.1,-62.5l0.4,-0.5l2,-0.1l0.4,-1.4l-0.4,-0.8l-2,1.5l-2,-0.9l-3.3,1.2l0.6,1l2.7,0.7zM128.5,-59.5l-0.6,-2l-2.4,-2.2l-3.7,2.2l0.7,0.7l1,0l2,2.2zM120.9,-61.5l-0.4,-1.1l-1.4,1.1l1.4,0.5zM101.5,-60.5l-1,-1.3l-1,-0.4l-0.2,0.7l1.2,2zM103.9,-61.5l-0.4,-1l-0.8,1l0.8,0.7zM159.5,-51.4l-1,0.2l-2.6,-2.3l0,-2l1.6,-1.9l2,-0.1l1.9,2l0.1,1zM-88.4,-46.5l0.9,-0.6l1,0.1l1,-0.5l-1,-0.3l-2.6,0.3l-0.1,1zM-98.5,-43.2l-1,0.5l-1,-0.8l0,-2.5l1,-0.4l1.7,0.9l0.5,1zM-80.9,-44.5l-0.6,-1l-2.1,0l0.7,1l1.4,0.7zM135,-37.5l3.1,-2l0.4,-3l1.6,-3l-0.6,-0.8l-4,3.9l-2,1.2l-2,0.4l-1.3,1.3l0,1l1.3,1.6l3,-0.2zM-86.4,-42.5l0.5,-2l-0.6,-0.5l-1,0.7l-0.2,1.8zM32.8,-43.5l-1.3,-1.6l-1.8,1.6l0.8,0.8l1,0zM33.9,-37.5l0.9,-1l-0.2,-1l-1,-1l-1.1,1.2l-2.6,0.8l1.6,1.7zM-115.5,-37.9l-1.3,-0.6l1.3,-0.9l0.5,0.9zM54.5,-35.9l-4,0.3l-2.5,-1.9l1.5,-1.1l2,0.8l3,0.1l0.5,1.2zM71.5,-31.8l-1.5,-0.7l0.5,-1.1l1.4,0.1l0.1,1zM69.5,-25.3l-1,0.4l-0.3,-0.6l0.3,-1.3l0.8,0.3l0.6,1zM-154.5,-18.5l-1,0.7l-1.8,-1.7l1.8,-1.9l1.2,0.9l0.4,1zM25.5,35.5l-5.8,0l-3.2,-3l0,-2.1l2,-0.4l0.3,-0.5l-0.7,-2l-0.6,-0.6l-1,0.1l-2,-3l-1,0.2l0,-2.7l1,0l1,1l2,-1.4l2,-0.4l2.3,-2.2l-4.3,-0.4l-0.7,0.4l0.3,2l-0.6,0.9l-2,0l-0.3,-0.9l-1.3,-1l-0.3,-3l-1.2,-2l0.8,-2l0,-2l-1,-4l-3.5,-5l0.4,-3l-0.6,-0.9l-4,-2l-3,0.4l-2,0.8l-7,0l-4,-2.7l-2,-1.9l-3,-4.5l0.2,-2.2l4.8,-1.5l3,0.6l1,-0.5l2,0.8l1,-0.6l3,1.2l2,-0.6l2,1.2l1,-0.6l2,0.1l1,-0.5l3,-0.1l2,0.6l3,0l3,-0.6l1,0.8l1,-0.3l3,0.5l2,-0.7l3,1l1,1.1l2,-0.4l3,-1.4l2.2,0.9l0.8,-1.5l1,-0.5l2,0.5l1.7,1.5l1.8,6l-0.4,1l-1.4,1l-1.7,2.6l-2.3,0.4l0,1l1.3,1.2l2,-1.3l2,0.5l0,1.7l-3,0.9l-0.4,1l2.6,2l0,3l1,5l-0.2,3.9l-4.9,4.1l-0.1,4l-2,2l-2,4l-3,3.1zM92.5,-10.3l-1,-1.2l0,-2l1,-1l1,0l0.9,1l-0.2,2zM46.5,-7.1l-1.9,-1.4l0.9,-1.5l2,1.4l0.8,0.1zM120.8,-7.5l0.6,-1l-0.9,-0.7l-1.5,1.7l0.5,0.7l1,-0.1zM49.5,-7.3l-1.5,-0.2l0.5,-0.9zM47.5,-4.4l-0.5,-0.1l-0.5,-1l1,-0.2zM33.6,1.5l-0.1,-0.8l-1,0.2l0,0.9zM46.5,26.6l-2,-0.1l-1.2,-1l-0.8,-2l0,-3l0.5,-1l-0.6,-2l5.1,-5.3l2,-1.3l1,0.6l1,2l0.1,3l-2.1,7.4l-1.1,1.6zM168.5,17.9l-1,0.3l-2.4,-2.7l0.3,-1l1.1,-1l3.2,3zM178.5,19.9l-1,0l-1.3,-1.4l-0.1,-1l1.4,-1.4l1.8,0.4l0.5,1l0,1zM25,27.5l-0.2,-4l0.7,-0.4l0.2,-1.6l-0.2,-2.3l-1,-0.9l-0.7,0.2l-1,3l1.1,1l-0.1,1l-1.4,0l-0.7,1l2.4,1l-0.2,2l0.6,0.5zM167.5,23.9l-2,-0.3l-2.3,-2.1l-0.4,-1l0.7,-1.6l1,-0.4l4,3.6l0.3,0.4zM118.5,35.8l-1,0.6l-1,-0.2l-2.3,-1.7l0.3,-3.6l1,-0.6l1,0l2,1.3l1.4,1.9zM170.5,47.3l-2,-0.2l-2.4,-1.6l0.4,-1l5.9,-5l0.5,-2l-1.3,-3l0.9,-0.8l4,2.1l2,0.5l1.1,1.2l-0.1,1l-1.3,2l-3.7,2.4zM-70.5,55l-2.2,-0.5l-0.6,-2l-0.9,-1l-0.1,-2l-1.5,-2l1.1,-3l-0.6,-4l0.7,-1l0.1,-2l1,-1l2,0.8l0.6,1.2l0,2l-1,5l1.1,2l0,4l1.3,2l-0.1,1zM69.5,50.6l-1.3,-1.1l0.2,-1l1.1,-0.7l1.1,0.7l0.3,1zM-68.5,56l-0.9,-0.5l0.9,-0.6l0.9,0.6z"/><path fill="#32ac39" d="M92.5,-71.3l-1,0l-1.7,-1.2l1.7,-0.9l1.6,0.9zM114.5,-64.4l-1,0.6l-0.6,-0.7l-0.2,-1l1,-1l0,-1l-0.7,-1l0.5,-0.8l3,-1.3l2.9,1.1l0.1,1.4l-1,0.2l-2,-0.8l-1,0.2l-0.2,1l2.4,1l-2.2,1zM143.5,-69.3l-0.6,-0.2l0.6,-2l0.4,1zM101.5,-63.5l-2,-3.5l-1,0.8l-3,0l-1,0.8l-1,-0.4l-0.2,-0.7l1.2,-1.6l2.8,0.6l0.2,0.6l2,-2.6l2.8,3zM112.5,-69.4l-1,0.9l-1.4,-1l1.4,-0.3zM124.5,-65.4l-1.4,-1.1l0.8,-1l-0.5,-1l-1.4,-1l0.5,-0.6l2.4,0.6l0.4,1zM132.5,-68.4l-2,0.7l-0.9,-0.8l0.9,-1.2l3,-0.1l0,1.3zM147.5,-63.4l-2,-0.5l-1,0.9l-3,0.1l-3,-0.6l-1,-1l1.9,-2l0.1,-1.4l1,-1l0.7,0.4l-0.7,1.4l-0.9,0.6l0.9,1.6l1,0.3l3,-0.6l1,-3l1.9,-0.3l2.1,-1.6l2,0.3l2,1.7l2,0.6l-1,0.9l-2,-0.7l-2,-0.1l-1,0.6l-1,-0.3l-0.8,0.6l0.6,2zM90.5,-64l-1.6,-0.5l1.3,-2l-1,-1l2.3,-2l1.2,1l-1.9,2l0.5,2zM65.5,-65.5l-1,-1.2l-1,0.4l-1,1.2l-1,0.1l-1.1,-1.5l1.1,-1.7l2,0.4l1,-0.5l1.1,0.8zM168.5,-63.4l-2.8,-2.1l2.8,-0.8l3,-1.6l3.3,2.4l-1.3,1.3l-2,-0.1l-1,0.7zM-61.5,40.5l-3.3,-3l-2.2,-1l-0.6,-1l1.7,-7l0,-2l0.7,-3l-0.3,-2.3l-4,-5.7l-3,-1.3l-2,-1.6l-2,-3.3l-1.8,-1.8l-0.2,-2l-2.3,-1l0.4,-6l1.5,-3l-0.6,-1l-2,-1l-2,-0.3l-5,-4.9l-4,-1.2l-3,-2.4l-2,0.7l-2.5,-0.9l-4.5,-2.9l-2,-2.1l-4.2,-8l1.2,-1.6l1,0l0.7,0.6l1.9,2l1.4,3.7l2,2.7l2,1.5l1,-1.9l-0.5,-3l1.5,-1.1l1.6,1.1l0.6,3l0.6,1l1.2,0.9l1,0.1l1,-0.1l1.5,-1.9l1.5,-1l2,0.1l1,0.7l2,-1.8l4,-1l-1,-0.2l-0.9,-0.8l-1.1,-2.2l-2,-1.6l-5,0.9l-2,-0.4l-2,-0.7l-2.1,-3l0.7,-6l1.4,-1.8l1.2,-0.2l-0.9,-1l0.6,-2l2.3,-2l2.8,-0.3l1.5,-0.7l0.4,1l-1.3,1l-0.2,2l0.6,0.7l1,0l1.3,-2.7l0.1,-3l-1.4,-0.7l-4,0.6l-5,-0.1l-1,-0.2l-1,-1.4l-1,-0.4l-2,1.1l-2,-0.1l-2,-1.5l-0.7,0.7l-3.3,0.6l-2.8,1.4l-0.2,2.6l-2,2.7l-1,-0.3l-1,-0.9l-2,-3.1l1.3,-2l-0.3,-1l-1,0.5l-2,-2.2l-1,-0.2l-1.6,0.9l-0.2,1l0.4,3l-0.1,5l3,3l0.4,2l1.2,2l0.2,1l-0.3,0.3l-5,-2.7l-2.1,-3.6l-0.3,-7l-0.6,-1.9l-3,-1.9l-3.3,-3.2l-1.3,-2l-2.4,-1.6l-1.8,-0.4l-1.2,-1.1l-9,-0.9l-2,0.1l-1,0.7l-4,-1.9l-3,0.2l-0.3,-1.1l-1,-1l0.9,-2l0.4,-0.3l2,1l3,-0.6l2,-1.8l2,-0.1l1,-0.5l2,1.3l4,-0.6l6,1.5l2,-0.7l2,0.8l2,-0.2l1.9,1.2l-0.2,2l0.3,0.2l1,0.1l2,-1.3l3,0.7l0.7,2.3l3.3,0.5l0.4,2.5l1.6,1.1l1,-1.8l3,0.6l1,-0.9l2,-0.5l6,0.2l1,1.5l2,-1l1.7,2.8l-0.4,1l0.7,3l1,0.1l0.6,-1.1l-1.6,-3.7l-0.9,-0.3l1.9,-0.2l2,1.1l1,-0.4l0.3,0.5l-1.3,1l2,1.6l1,-0.2l-0.1,-1.4l1.1,-1.3l1.7,1.3l0.3,1.6l2,0.6l2,-1.4l1,0.5l2,-0.5l4,0l2,1l2,-1.3l3,1.4l1,-0.2l1,-1.5l1,-0.5l1.6,0.3l1.4,1.9l1,0.3l3,-1.5l1,0.5l2,-0.3l3,0.8l2.1,2.3l-0.1,3l-2,1l-3,-0.9l-2.2,-0.1l-1.6,-1l0.3,-1l-0.5,-0.9l-0.4,0.9l0.3,1l-0.9,1.4l-0.7,0.6l-1.3,0.1l-3,1.1l-1,0.9l-2.4,2.9l-3.5,3l-0.2,2l-3,3l-0.9,0.2l-1,1.8l0.2,4l-1.2,2l4,0.3l0.2,0.7l2.8,2.6l3,0.1l3,1.2l2,0.1l1,1l-0.4,1l-1.6,0.8l-3,-0.5l-3,0.4l-3,-0.6l-2,0.7l-1.6,-0.8l-0.3,-1l0.8,-1l-3.9,-1.2l-3,0l-1,3.2l2,0.3l2,1.4l0.7,1.3l0.2,3l1.1,0.7l2,-0.1l2,0.7l3,-2.3l0.9,0l-0.2,1l1.3,0.4l1,-0.2l1,-1.3l5,0.9l2,-0.1l1,-0.5l1.3,0.8l1.1,2l1.6,1.3l5,1.5l2.4,2.2l2.6,3.5l1.4,0.5l1.6,1.6l4,0.5l4.2,1.9l2.7,3l0,2l-3.2,5l-0.6,4l-2.1,4.9l-2.6,2.1l-2.4,0.4l-2,1.4l-1,2.4l-5,6l-2,1.3l-3,3.1zM143.5,39.8l-2,-0.3l-1,-0.6l-1,-2.2l-1,-0.7l-2.5,-0.5l0.5,-0.6l2,-0.3l2,1.8l2,-1.6l4,0.1l2.4,-4.4l0.3,-1l-0.3,-1l1,-2l-2,-1l-0.3,-1l1.1,-1l-0.2,-1l-3.1,0l-0.9,-3.5l-1,-0.2l-5,1.1l-2,-0.6l-0.9,-0.8l-1.1,-2.1l-1,0.9l-3.9,-0.8l0.6,-1l-1.6,-1l-0.3,-1l3.2,-2.6l5,-0.4l1.1,1l-0.5,3l2.4,2.4l2,0.1l-1,-3.7l0.5,-1.8l-0.3,-1l-3.2,-0.8l-1.3,-1.2l0.4,-1l-0.8,-1l-3.3,-0.7l-1,-0.8l-1,0.4l-3,-0.3l-1,0.5l-1,-0.3l-1.7,1.2l0.7,0.8l3,-0.1l1.1,1.3l-2.1,2.5l-2,0.6l-2,-0.6l-3,0.3l-1,-0.6l-10,-1l-3,-0.9l-6,-5.8l-2.4,-3.5l-0.2,-1l-2.9,-3l-0.2,-1l0.7,-1l3,-1l0,-5.9l-0.7,-1.1l-2.3,-0.4l-0.8,-0.6l-0.5,-3l-2.1,-3l-0.6,-2.1l-0.4,0.1l-0.6,2.4l-2,0.6l-6,5.8l-0.7,4.2l0.7,0.2l1,1.8l0.2,2l-1.2,1.4l-1,0.3l-1.2,-0.7l-0.8,-2.4l-2,0.1l-0.8,-0.7l-2,-4l-2.2,-7.2l-2.2,-2.8l2.2,-1.2l0.6,-2.8l-1.2,-1l0,-1l0.6,-0.5l1,0.5l1.6,-2l0.5,-1l-1.3,-2l1.2,-1l8,5.2l2,0.6l6,0.4l6,-1.5l1,1.5l1,0.4l3.7,-3.6l0.7,-3l1.6,-4.1l2,-0.4l1,-0.8l2,-0.6l4,-2.2l3,0.1l1,-0.4l3.1,-3.6l0.8,-2l-1.9,-0.9l-2,-2.4l-1,0.8l-2,-1.1l-2,2.7l-2,-0.8l-1,-1.3l-2,0.5l-1.1,-0.5l-2.9,1l-2,-0.5l-2,0.6l-2,-0.6l-3,0.2l-3,1.4l-3,0.2l-3,-0.6l-2,0.3l-2,-1.7l-2,-0.9l-1,-1.6l-2,0.5l-0.4,-0.3l-0.2,-2l0.6,-1.4l1,-0.4l1,1.2l0.1,-0.4l-1.1,-1.2l-2,-0.4l-0.9,0.6l0.8,2l-0.2,1l-1.7,1.3l-2,0.3l-0.8,-0.6l0,-1l-1.2,-1.3l-2,3.4l-1.1,-0.1l-1.9,-2.3l-5,4.5l-3,0.1l-3,-0.7l-2,1l-2,-0.4l-2,0.8l-1.8,3l2.8,3l1.1,2l-1.1,1.3l-3,0l-2,1.1l-0.6,-0.4l-0.4,-1.4l-6,2l-2,-2.1l-1,-0.2l-2,1.3l-3,-0.2l-0.6,0.6l0,1l1.6,1l0.2,1l-4.2,0.9l-2,-0.5l-4,-3.1l-2,-0.2l-1,1l-1,-0.4l-3,-3.1l-2,-1l-4,-0.2l-2,0.6l-1.8,2l-2.2,1l0.6,4l-0.6,0.5l-1.5,-0.5l1.1,-1l-1.6,-1l-1,0.9l-0.7,2.1l-2.3,0.8l-2,2.2l-1,0.5l-1.4,-0.5l1.9,-3l-2.5,-3l0.2,-5l1.8,-1.7l5,-0.5l0.7,-0.8l-0.9,-1l0,-2l-5.4,-3l-1,-1l-0.3,-1l0.6,-1l2.6,-1l0.7,-2.5l1,-1l3,-0.2l1,0.7l1,3.1l3,2.7l1.3,0.2l6.5,-4l1.1,-3l-1.9,-0.5l-2,1l-1,-1.5l-1,-0.5l0,-0.9l1,-0.6l2,0.3l2,-0.4l5,-3.1l2,0l2,-1.3l2,0.1l0.6,0.4l0.1,1l-2.7,0.6l-1,1.6l-1,-0.4l-1,-1.4l-1.2,1.6l1.2,1.5l1,-1.3l1.4,2.8l-2,3l-0.1,1l1.7,0.9l2,-1l0.6,-0.9l0.9,-2l-0.4,-1l2.9,-4.8l1.4,-0.2l2.1,1l-0.3,2l0.8,2l0.2,-1l0.8,-0.6l1,0.2l2,-3l4,-1.6l2,1l1,2.5l2,-0.1l1.3,-1.4l1.7,-0.3l3,1.4l2,0.1l2.4,0.8l0.6,2l0.3,-2l1.7,-1.1l3,0.8l1,-0.4l2,0.4l1,0.8l4,1l3,-0.7l2,1.9l1,0.1l1,-3.1l1,0.2l1,-1.4l2,1.8l2,1l3,-0.8l2,0.7l1,-0.6l2,-0.1l2.6,1.5l1.4,-0.6l2,0.7l1,-0.6l2,-0.2l3,0.5l1,1.7l3,0.4l2.9,-2.9l1.1,0.8l1,-1l2.5,1.2l0.7,1l-0.1,1l1.9,0.9l1,1.2l1.4,-0.1l0.6,-1.1l2,-1.4l3,1.3l2,-1.8l1,0.1l0.5,0.9l1.5,0.6l2,0l2,-0.9l1,0.8l1,0l2,2.1l1.1,-0.6l2,2l1.9,0.1l2,1.2l0.7,-1.3l1.3,-0.4l1,0.3l1.2,1.1l0,2l0.7,2l-0.7,3l1.7,3l-0.9,1.9l-1.4,1.1l-1.8,5l-2.3,2l-2.5,0.4l-1,0.9l-2,0.1l-2.3,1.6l-1.7,0.3l-1,-0.6l-2,-2.6l-2,-0.8l-2,-5.4l-2,-0.9l-2.1,3l2.1,1l-1,0.8l-0.3,1.2l2.3,3l0.3,2l-1.2,3l1.5,2l-0.6,2.3l-1,0.8l-1,-0.3l-1,-1.4l-1,-0.6l-2.9,2.2l-2.1,0.3l-1.3,0.7l-0.4,2l-2.6,2l1.1,3l-0.1,2l-0.7,1l-4,2.7l-4,-3.7l-0.8,2l0.6,2l2.2,0.8l1.4,1.2l1.1,4l-0.5,1l0.3,1l1.9,2l0.8,2l1,0.3l-0.2,-1.3l-2,-3l0.2,-1.9l2,-2.4l3,-1.2l2.9,-2.5l3.3,-5l-0.5,-3l0.3,-2.7l2,-1.8l1,-0.2l2.4,1.7l0,3l3.2,3l0.1,2l0.9,3l-0.6,1.5l-2,1.9l-1,-0.2l-1,-0.8l-2,-0.3l-1.5,1.9l0.5,0.7l4,0.2l3,-0.8l2,0.8l1,1.1l1,0.3l1,-0.4l2,0.8l1,1l3,-0.1l4,1l5,2.9l1.4,-0.5l0.2,-1l1.4,-1.3l1,0.1l5,4l4,2.1l2.2,2.1l0.2,1l-1.4,1.1l-4,-2l-4,-2.7l-1,-0.1l-1.6,1.7l1.5,2l-0.9,1.3l-1,0.3l-2,-0.3l-3,-1.7l-1.6,0.4l1.3,3l1.6,2l0.9,3l5.9,6l1.1,4l-0.5,3l-2,3l-0.9,3l-0.8,0.9l-3,1.1l-2,-0.2zM118.5,-63.2l-0.4,-0.3l0.4,-1.5l2,-1.3l1.1,-0.2l-0.1,1.5zM73.5,-63.8l-1.1,-0.7l1.1,-1.1l0.8,1.1zM164.5,-64.2l-1,0.5l-0.7,-0.8l0,-1l0.7,-0.9l1.5,1.9zM122.5,-63.1l-1.4,-0.4l1.4,-1.2l0.8,0.2l0,1zM128.5,-62.9l-1.2,-0.6l0.5,-1l0.7,-0.3l0.7,0.3zM150.5,-60.3l-0.8,-1.2l0.8,-0.9l0.7,0.9zM116.5,-58.7l-2.1,-0.8l0.8,-1l1.3,-0.2l0.9,1.2zM123.3,-55.5l-1.8,-1.9l-1,1.9l2,0.6zM159.5,-52.1l-1,0.3l-1.8,-1.7l-0.2,-1.5l1,-1.3l2,0.1l1,0.7zM-105.9,-53.5l0.7,-1l-0.3,-0.2l-1,0.3l-0.2,0.9zM-123.2,-51.5l1.1,-1l-0.4,-1.5l-1,-0.3l-1,1.1l-1,-1l-1,0.1l-0.2,0.6l2.2,2.2zM141.7,-49.5l-0.2,-0.6l-1,-0.6l-0.4,1.2l0.4,0.9l1,-0.1zM-66,-48.5l1.1,-1l-1.6,-0.2l-0.8,1.2l0.8,0.5zM-80,-42.5l0.5,-0.7l1.1,-0.3l-1.1,-0.1l-1.4,-1.9l-2.6,-0.4l-0.7,0.4l2.3,2l-0.3,1l0.7,0.3zM135.1,-37.5l3,-2l0.4,-2.8l1.7,-3.2l-0.7,-0.9l-2,1.5l-2,2.4l-2,1.3l-2,0.3l-1.5,1.4l0.1,1l1.4,1.6l3,-0.1zM-0.4,-43.5l-0.1,-1l-1.3,0l0.3,1zM33,-43.5l-1.5,-1.7l-1.9,1.7l0.9,0.9l2,-0.4zM34.6,-42.5l0.9,-0.9l1,0.6l0.5,-0.7l-0.5,-0.5zM-107.5,-36.4l-2.3,-1.1l-0.5,-2l0.3,-1l1.5,-0.4l2,1.5l0.4,0.9zM54.5,-36.4l-4,0.5l-2,-1.6l1,-0.7l3,1.3l1,-0.3zM4.5,-36.3l-1.6,-0.2l0.6,-0.6l1.5,0.6zM9.5,-35.8l-2.3,-0.7l2.3,-0.7l0.6,0.7zM-155.5,-17.9l-1.7,-1.6l1.7,-1.8l1.1,0.8l0.4,1zM26.5,34.8l-1,0.5l-4,0.1l-2.3,-0.9l2.3,-1.6l2.2,-0.4l-0.2,-2.2l-2,-0.1l-1.7,-1.7l-0.4,-1l3.1,-0.5l2,1.9l1,-0.7l0.4,-3.7l0.6,-1l-0.1,-5l-5,-1l-6.9,-0.3l-1,-0.7l-1.7,-2l0.5,-3l-1,-5l-1.1,-2l-1.9,-2l-0.4,-1l0.3,-3l-0.7,-1.1l-4,-1.8l-3,0.3l-2,0.8l-7,0l-4.7,-3.2l-3.1,-4l-0.6,-1l0.2,-1l1.2,-1.5l2,-0.8l3,0.8l2,-0.4l1,0.6l2,-1l2,0.6l3,0.2l1,1.5l1,0.2l0.8,-0.2l0.6,-1l0.6,-0.2l1,0.6l1,-0.5l1,1.7l1,-0.3l1,-1.6l1,-0.2l2,0.8l1,-0.6l3,-0.3l1,0.4l1,1.2l6,-1.3l1,1.1l3,0.6l6,-0.3l4,-2.4l2.1,1.3l0.7,1l1.1,5l-2.9,3.7l-3,1.3l1.9,3l0.1,2.2l1,1.1l1,-0.1l1,0.8l0.3,6l0.7,2l0,3l-1,1.6l-4,3.3l-0.2,4.1l-2,2l-1.8,3.8l-3,3.2zM92.5,-10.4l-0.9,-1.1l0,-2l0.9,-0.9l1,0.1l0.7,0.8l-0.1,2zM120.9,-7.5l0.6,-1l-1,-0.7l-1.6,1.7l0.6,0.7l1,0zM33.8,1.5l-0.3,-1.1l-1,0l0,1.8l1,-0.1zM46.5,26.6l-2,-0.2l-1.1,-0.9l-0.8,-2l0.1,-3l0.4,-1l-0.5,-2l4.9,-5.3l2,-1.2l1,0.7l0.9,1.8l0.2,3l-2.1,7.3l-1.2,1.7zM126.5,18.1l-1,0.2l-1,-0.4l-1,-1.4l2,-2l1,-0.3l0.9,0.3l0.4,2l-0.4,1zM168.5,17.8l-1,0.2l-2.4,-2.5l0.3,-1l1.1,-0.9l1.4,0.9l1.7,2zM178.5,19.8l-1,0l-1.2,-1.3l-0.1,-1l1.3,-1.4l1.7,0.4l0.6,1l0,1zM167.5,23.8l-2,-0.3l-2.3,-2l-0.3,-1l0.6,-1.5l1,-0.4l4,3.5l0.2,0.4zM19.5,23.8l-0.5,-1.3l0.5,-0.3l0.9,0.3zM151.5,29.5l0,-2.7l-0.7,0.7l-0.2,1l0.3,1zM18.5,33.8l-1.1,-1.3l0.1,-1.1l1,-0.3l0.7,0.4l0.1,1l-0.2,1zM117.5,36.1l-3.1,-1.6l0.1,-3.1l1,-0.7l2,0.8l1.9,2l-0.2,1zM170.5,46.9l-1,0.3l-3.1,-1.7l0.3,-1l5.8,-4.8l0.5,-2.2l-1.1,-3l0.6,-0.6l4,2l2,0.5l1,1.1l-0.5,2l-2.5,2.4l-2,0.7zM-70.5,53.7l-1,0.7l-0.7,-0.9l-1.5,-2l-0.5,-3l-1.3,-1l0.9,-3l-0.4,-4l0.7,-3l0.8,-0.8l1.7,0.8l0.5,2l-1.2,2.8l-0.2,3.2l0.9,2l0.3,4zM148.5,43.7l-1,0.6l-2,-0.5l-1.3,-2.3l0.3,-1.9l3,-0.1l1,0.7l0.7,2.3zM70.5,49.5l-1,0.7l-1.1,-0.7l0.1,-0.8l1.9,-0.2z"/><path fill="#53b84a" d="M-118.5,-34.1l-4,-2.2l-1.8,-3.2l-0.3,-7l-0.6,-2l-3.2,-2l-4.5,-5l-2.6,-1.7l-1.5,-0.3l-1.5,-1.4l-6,-0.8l-4,0l-2,0.7l-1,-0.3l-3,-2l-2,0.2l-0.9,-1.4l0.8,-1l1.1,0.3l3,-0.7l3,-1.6l1,0l1,0.7l3,0.2l3,-0.9l4,0.7l3,1.6l5.6,-0.3l0.4,1.2l-1,0.3l-1,1.4l-1,0.3l-2,-0.9l-1.1,0.7l0.9,1l1.2,0.3l3.9,2.7l0.8,1l-0.1,1l0.5,1l4.6,4l0.7,3l-0.1,5l2.8,3l1.4,4zM25.5,-36.3l-1.1,-0.2l-0.9,-1.8l-1,0.4l-4,-2.2l-2.4,-2.4l-0.6,-1.3l-1.6,0.3l2.9,4l-0.3,0.3l-1,-0.2l-2.3,-2.1l-0.7,-1.2l-3,-1l-3,-0.4l-3,1.4l-1,1.8l-2.9,0.4l-1.1,1.8l-1,-0.1l-0.4,-0.7l0.4,-0.8l1,-0.6l1.7,-2.6l0,-1l-2.7,-0.8l-0.8,-1.2l1.1,-3l-0.2,-1l-3.1,0.6l-4,-2.6l-0.5,-1l0.5,-0.7l2,-0.6l0.7,-0.7l0.3,-1.8l0.8,-1.2l2.2,-0.5l1.6,0.5l1.4,3.7l4,3l4,-1.9l2,-1.5l1,-0.3l1,0.6l1,0l1.2,-0.6l-0.1,-1l-2.1,-0.9l0,-0.6l2.3,-2.5l-0.4,-3l1.1,-0.3l1.7,4.3l-0.4,3l0.5,1l4.2,-0.5l1,-0.5l1,-4.3l1,-0.3l2,0.9l0.7,-0.3l0.3,-1.9l0.2,1.9l1.8,1.1l1,-1.1l2.1,-1l0.9,-2.8l4,-1.6l1.6,1.4l0.4,2l2,0.9l1,-0.4l2,-2.1l1.7,0.6l-1,1l0.3,1.1l0.2,-1.1l0.8,-0.9l1.6,0.9l0.4,1.5l1.1,-0.5l-0.4,-1l1.3,-0.2l1.8,1.2l0.2,1.7l1,0.3l1,-2.7l1,-0.4l1,2.1l3,-2.2l7,2.6l3,-0.8l2,3.3l1,0.3l2.2,2.8l-1.2,0.4l-1,-0.3l-2,-3l-1,-0.5l-1,3.4l-1,1.2l-3,-3.9l-0.7,0.7l-0.2,3l-1.1,0.4l-1,-0.8l-1,1.9l-1,0.5l-2,0.4l-3,-0.3l-2,0.8l-1,-0.1l-1,-0.9l-1,1.1l-3,-0.1l-1,-0.4l-0.3,0.5l0.3,0.8l1,-0.6l0.6,0.8l-1.4,3l-0.3,2l1.1,-0.7l1,0.5l0.5,1.2l2,2l-0.8,1l-2.7,-0.3l-1,0.4l-3,-2.2l-0.1,1.1l-0.9,0.7l-3,0.8l-1,-0.2l-1.7,-1.3l2.4,-2l-0.7,-0.7l-2,0.5l-1,1l-0.2,-0.8l-1.8,-1.8l-1,0.6l-1,1.7l-1.1,0.5l1.1,0.3l3.8,-0.3l-0.4,1l-3.4,1.2l-1,-0.7l-1.3,1.5l0.1,2zM-144.4,-62.5l-0.1,-1.5l-1,-0.3l-0.6,0.8l0.4,1zM8.5,-60.4l-1,0.1l-0.1,-1.2l1.3,0zM-125.5,-57.2l-1,0.7l-0.9,-2l-1.7,-1l0.6,-1l2,0.2l0.7,1.8l1.1,1zM-100.5,-49.3l-2,-0.1l-2,-1.6l-2,0.9l-2,0.1l-2,-1.1l-1,-2.6l-1.1,2.2l-1.9,1.4l-2,-2.7l-1,1.5l-1,0.2l-2.1,-1.4l-1.9,-2.4l-0.9,-0.6l0,-1l-0.8,-1l0.6,-2l-0.4,-1l0.5,-0.7l1,0.5l0,0.8l-0.5,0.4l1.5,1.7l3,-0.7l0.5,2l2.5,1.8l1,-1.3l1,-0.2l2,0.7l1,-1.1l2,-0.8l2,0.3l1,0.6l0,1l-1,0.4l-1.4,1.6l0.4,1l1,0.4l2.4,-2.4l-0.4,-1.3l-0.9,-0.7l1.9,-0.7l2.2,1.7l0.8,1.5l1,-0.3l1.2,1.8l-0.2,2zM73.5,-57.3l-1,0.2l-0.6,-0.4l0.2,-2l1.4,-1.6l0.9,0.6l0.2,1l0,1zM76.5,-59.4l-0.7,-0.1l0.4,-1l1.2,0l0.1,1zM91.5,-49.9l-3,0.2l-2.8,-0.8l0.3,-2l-1.5,-1.3l-1,2l-2,-1.3l-1,0.2l-0.4,-0.6l0.4,-0.6l2,-0.9l0.1,-0.5l-0.5,0l-0.6,1l-1,-0.4l-1,-1l-2,-3.6l2,-0.6l0.8,1.6l1.2,0.8l1,-0.5l0.3,-1.3l0.7,-0.7l2,-0.3l1.6,1l-0.7,1l0,1l1.1,0.4l1.2,-0.4l0.8,-1.9l1,-0.5l2,0.5l1,-0.8l2,-0.4l1.4,1.1l-0.1,1l0.7,0.9l4,-0.7l1.6,1.8l0.4,1.5l1,-1.3l2,0.2l1,-0.5l0.6,0.1l0.7,1l1.6,1l-0.9,1.4l-1,-0.5l-1,1.8l-2,-0.1l-2,0.8l-1.9,-0.4l-0.1,-0.4l-2,1l-5,-0.3zM142.5,39.5l-1,-0.1l-1.3,-0.9l0.3,-1.6l1.5,-0.4l0.5,-1.1l1,-0.1l1.2,0.2l-1.3,1l1.1,0.5l1,0.1l1,-0.9l2,0.4l1.9,-2.1l-0.5,-1l0.7,-2l1,-1l0.5,-3l-0.6,-1.6l-2.6,-3.4l-3.1,-1l-1.3,-3.1l-2.4,-1.9l-1.3,-3l0.1,-3l-3.4,-0.9l-1.2,-1.1l0.4,-1l-0.9,-1l-3.3,-0.8l-1,-0.7l-4,0l-1,0.6l-1,-0.4l-1.8,1.3l0.8,0.9l3,-0.1l1,1.2l-2,2.4l-2,0.7l-2,-0.6l-3,0.2l-1,-0.5l-10,-1l-3,-0.9l-6,-5.8l-2.4,-3.5l-0.2,-1l-2.8,-3l-0.2,-1l0.6,-1l3.2,-1l-0.1,-6l-0.4,-1l-3.2,-1l-0.5,-3l-1.6,-2l-1.4,-3.4l-1,0l-0.8,2.4l-1.2,0.6l-4,4.3l-2,1.1l-1.1,5l1.1,0.3l1.2,2.7l-0.2,1.3l-1,1l-1,0.2l-1.1,-0.5l-0.9,-2.8l-2,0.3l-0.5,-0.5l-3.3,-7l-1.7,-7l0.8,-1l2.9,-7l0.3,-1l-1.2,-2l0.7,-0.5l4,2.1l4,3l2,0.7l6,0.1l5,-1.2l1,0.1l2,1.9l4,-3.9l2,-6.3l1,-0.8l1.8,-0.2l0.8,-1l5.4,-2.5l3,0l2,-0.9l0.7,-1.6l2.2,-2l0.7,-2l-0.3,-1l-1.3,-0.5l-2,-1.4l-1,-1.4l-2,-1.1l-1,-0.2l-1,2.5l-1,0.1l-1.4,-1l0.5,-1l-0.9,-1l-0.5,-2l0.3,-0.3l1,-0.3l1,0.5l0.2,1.1l0.8,0.5l3,0.1l2,-2.6l1,-0.2l0.7,1.2l-0.4,1l0.7,1.3l2,0.2l1,-0.4l1,1.9l1,-0.5l0.4,-1.5l-1.4,-1.9l-0.7,-0.1l0.7,-0.6l2,0.1l1,2.5l1,0.5l2,-0.7l4,1.4l1,-0.5l2,0.3l1,-0.4l1,0.6l0.8,0.8l-0.7,3l0.5,2l-2.6,2.3l-2.1,2.7l-1.9,1.2l-2,0.3l-1.6,1.5l0.1,1l1.5,1.7l3,-0.1l3.7,-2.6l1.2,-5l1.1,-1.8l1.2,-0.2l0.5,-3l-1.4,-3l0.4,-1l1.3,-1l1,0.1l1.1,0.9l0.5,4l-0.4,3l1.5,3l-0.7,1.7l-1.5,1.3l-1.8,5l-2.3,2l-2.4,0.3l-1,1l-2,0l-2.6,1.7l-1.4,0.1l-1,-0.5l-1.8,-2.6l-2.2,-0.9l-2,-6l-2,-0.6l-2.9,3.5l1.2,1l0.2,3l2,2l0.4,1l-0.2,2l-0.9,2l1.2,1l0.4,1l-0.4,2.1l-1,0.8l-1,-0.2l-0.7,-0.7l-0.3,-1.5l-1,-0.2l-3,2.6l-3,0.6l-0.6,0.5l-0.2,2l-1.2,1.1l-1,0.1l-0.5,0.8l1.2,4l-0.9,2l-3.8,2.5l-4,-3.7l-0.8,2.2l0.5,2l2.3,0.8l1.3,1.2l1.1,4l-0.5,1l0.3,1l1.8,2l1,2.1l1,0.2l0.3,-0.3l-0.4,-1l-2.1,-3l0.2,-1.7l2,-2.5l3,-1.3l2.9,-2.5l3.3,-5l-0.5,-3l0.3,-2.6l2,-1.8l1,-0.1l2.4,1.5l0,3l3.2,3l0,2l0.9,3l-0.5,1.5l-2,1.8l-2,-0.9l-2,-0.3l-1.5,1.9l0.5,0.7l4,0.2l3,-0.8l2,0.9l1,1.1l3,0.2l2,1.4l3,-0.1l4,1.1l5,2.9l1.4,-0.6l0.2,-1l1.4,-1.3l1,0.1l6,4.8l3,1.4l2.1,2l0.3,1l-1.4,1.1l-4,-2l-4,-2.8l-1,0l-1.6,1.7l1.5,2l-0.9,1.3l-1,0.3l-2,-0.4l-3,-1.7l-1,0l-0.6,0.5l1.1,3l1.7,2l0.9,3l5.9,6l1.1,4l-0.5,3l-2.2,3l-0.8,3l-0.6,0.7l-3,1zM158.5,-53.4l-1.1,-0.1l0.1,-1.5zM-80.5,-24.8l-1.5,-0.7l-1.5,-2.7l-1,-0.8l-1,-0.4l-5,0.6l-4,-1.4l-1,-0.9l-0.7,-2.4l1.1,-4l-0.4,-1l1,-1l2.3,0l0.7,-1l-1.7,-1l-0.2,-1l0.9,-1.3l2,-1.3l2,0.4l-0.1,2.2l1.1,1.2l1.2,-0.2l0.6,-2l1.2,-1.4l1.9,1.4l-0.2,1l0.3,0.9l2,-0.1l3.2,-1.8l-2.2,-0.6l-1,-1.7l-3.9,-0.7l-0.3,-1l-1.8,-1l-4,0.3l-2,-1l-2,0.9l-1.5,-0.2l-0.8,-1l1.3,-0.9l0.3,-1.1l0.7,-0.6l2,1l2,0.1l1,1.3l1,0.4l1,-1.6l1,0.5l3,-0.6l2,1.1l5,1.5l1,-2.3l1,-0.3l1,1.5l0.5,-1l-0.7,-1l1.2,-0.5l2.7,1.5l0.1,1l-1.3,1l0.4,1l2.1,0.7l2,-0.3l1.1,0.6l-0.6,1l-2.5,1.2l-6,6.8l-1,3l-3.8,3l-0.4,1l0.2,3.3zM-54.5,-46l-3,-1.3l-1,0.4l-0.9,-0.6l1.1,-1l-0.2,-0.4l-1,0.3l-2.3,-1.9l0,-1l1.3,-0.6l1,0.4l2,-0.4l2,0.7l1,-0.2l1,1.1l-0.8,2l1.2,1l-0.5,1zM-68.5,-49.4l-0.3,-1.1l0.3,-0.5l1.1,0.5zM84.5,-50.1l-1.5,-0.4l0.5,-0.9l1.7,0.9zM-113.5,-46.9l-1,0l-0.6,-0.6l0.5,-1l2.1,-0.4l0.4,0.4zM-63.5,-46.8l-1.4,-1.7l1.4,-0.8l0.7,0.8zM41.9,-46.5l0.3,-1l-0.7,-0.6l-0.8,0.6l0.2,1l0.6,0.5zM23.9,-44.5l0.6,-1l-1,-1l-2.2,1l1.2,0.1zM29.8,-46.5l-1.3,-0.6l-0.4,0.6l0.4,0.9l1,0.1zM-113.5,-43.1l-1,-0.4l1,-1.4l0.3,1.4zM-8.5,-31.4l-0.4,-0.1l0,-1l1.4,-2l-1,-2l-1.6,-1l-0.1,-2l0.5,-1l0.2,-2.6l2,-1l5,-0.2l0.5,0.8l-0.2,1l-3,2l-1,3l0.7,0.9l1.1,0.1l-0.1,2l-2,0.8l-0.6,1.2zM-108.5,-38.1l-1.1,-1.4l1.1,-0.7l0.6,0.7l0,1zM51.5,-36.1l-1,-0.2l-1.6,-1.2l0.6,-0.4l2,0.7l0.8,0.7zM-59.5,39.6l-2,0.4l-3,-2.9l-2,-0.8l-0.7,-0.8l0,-1l0.8,-1l1.6,-10l-0.6,-3l-3.9,-5l-3.2,-1.7l-2,-1.6l-3.8,-5.7l-0.2,-1.4l-1.3,-0.6l-0.6,-1l0.1,-5l1.4,-3l-0.4,-1l-1.9,-1l-2.3,-0.5l-5,-4.9l-4,-1.1l-3,-2.6l-2,0.8l-2.2,-0.7l-4.8,-3l-2,-2.2l-3.5,-6.8l-0.4,-1l0.9,-1.3l1,0l1.4,1.3l2.5,5l2.3,3l1.8,1.2l1.1,-2.2l-0.3,-3l1.2,-0.8l1.3,0.8l0.8,3l1.9,2l2.1,0l1.5,-2l1.4,-0.9l2,0.1l1,0.7l2,-1.8l4,-0.8l4,0.3l3,3.2l1,0.3l3,-0.1l2,0.9l2,0.3l0.9,0.8l-0.5,1l-1.4,0.6l-9,-0.5l-2,0.6l-1.5,-0.7l-0.3,-1l0.8,-0.9l1,-0.1l-4,-1.3l-2.5,0.3l-1.5,-0.7l-1.2,3.7l2.2,0.5l2,1.3l0.5,1.2l0.3,3l1.2,0.8l2,-0.1l2,1l2,-1.5l1,-0.3l1,0.7l2,0l2,-1.6l3,0.9l3,0l1,-0.5l1,0.4l1,1.1l0.3,1.1l1.7,1.4l5,1.5l2.4,2.1l2.6,3.6l1.3,0.4l1.7,1.7l2.5,0.3l5.6,2l2,2l0.6,1l-0.1,2l-3,5l-0.6,4l-2,4.8l-2,1.7l-3,0.8l-2,1.4l-1,2.4l-4.8,5.9l-2.2,1.4l-3,2.9zM-155.5,-18l-1.6,-1.5l0.6,-1l1,-0.7l1,0.7l0.4,1zM26.5,34.7l-2,0.5l-3,-0.1l-1.8,-0.6l4.6,-2l0.4,-3l1.3,-1l0.3,-3l2.4,-2l-1.2,-0.2l-0.6,-0.8l-0.1,-3l0.8,-1l-3.1,-1.1l-8,-0.2l-2.2,-0.7l-1.8,-2l-0.2,-4l-0.9,-4l-1.1,-2l-1.9,-2l-0.2,-4l-0.7,-1.3l-4,-1.7l-3,0.4l-2,0.8l-7,0l-4,-2.7l-2,-2l-2.2,-3.5l1.2,-1.6l2,-0.9l2,0.8l4,0.5l2,-1.4l4,0.4l2,1.9l2,0.8l3,-0.4l1,0.4l2,-0.9l1,0.5l1,-0.2l2,-1.3l2,-0.7l1,0.2l1,1.4l1,0.4l4,-1.2l1,0.4l1,1.7l2,-0.8l4,-0.3l2,0.6l1.8,-0.3l0.9,-1l1.3,-0.3l2,-1.6l2,1.2l0.8,1.7l0.5,4l-2.3,3.3l-3.4,1.7l1.9,3l0.5,2.9l1,0.8l1,-0.2l0.7,0.5l0.4,6l0.7,2l-0.1,3l-0.7,1.2l-4,3l-0.5,4.8l-1.9,2l-1.6,3.6l-3.3,3.4zM92.5,-10.5l-0.8,-1l0,-2l0.8,-0.8l1,0.1l0.6,0.7l-0.1,2zM120.9,-7.5l0.7,-1l-1.1,-0.7l-1.6,1.7l0.6,0.8l1,0zM33,2.5l1,-1l-0.1,-1l-1.4,-0.4l-0.4,1.4l0.4,1.1zM46.5,26.5l-2,-0.3l-1.1,-0.7l-0.5,-2l0.4,-4l-0.4,-2l0.4,-1l4.2,-4.2l1,-0.9l1,-0.2l1,0.6l0.8,1.7l0.2,3l-2,7.2l-1.3,1.8zM133.5,13.7l-1,0.3l-1,-0.8l-2,0.9l-0.6,-0.6l0.6,-1.1l2,-1.2l2,0.1l3,-0.6l0.9,0.8l0.1,1l-1,0.9zM135.5,15.5l-0.8,-1l0.8,-0.9l0.5,0.9zM168.5,17.8l-1,0.1l-2.3,-2.4l0.3,-1l1,-0.7l1,0.4l2.1,2.3zM125.5,17.7l-0.2,-1.2l1.2,-1.2l0,1.8zM137.5,18.5l-1,0l-0.5,-1l0.5,-1.6l1,0.4l0.8,1.2zM178.5,19.8l-1,0l-1.2,-1.3l-0.1,-1l1.3,-1.3l1.6,0.3l0.6,1l0,1zM167.5,23.8l-1.9,-0.3l-2.4,-2l-0.2,-1l0.5,-1.4l1,-0.4l4,3.5l0.2,0.3zM117.5,35.9l-2.8,-1.4l0.1,-3l0.7,-0.5l1.3,0.5l2.2,2l-0.1,1zM169.5,46.9l-2.8,-1.4l0.3,-1l5.5,-4.1l0.5,-2.9l-0.9,-3l0.4,-0.4l6,2.4l0.9,1l-0.9,2.5l-2,1.8l-1,0.5l-1,-0.1l-2,2.4zM-73.5,48.2l-1,0l-0.8,-0.7l0.7,-3l0,-4l0.5,-3l0.6,-0.6l1.4,0.6l0.4,2l-1,3l-0.3,4l0.5,1zM148.5,43.7l-2,0.4l-1,-0.6l-0.9,-2l0.4,-1l2.5,-0.5l1,0.7l0.5,1.8zM-72.5,51.9l-1,-1.4l1,-2.9l0.4,2.9z"/><path fill="#74c55e" d="M-119.5,-35.2l-2.8,-1.3l-1.8,-3l-0.1,-7l-0.7,-2l-3.1,-2l-4.7,-5l-2.8,-1.8l-1.1,-0.2l-0.9,-1.5l-5,-1.3l-1,0.3l-0.7,-0.5l0.7,-1l1,0.6l3.6,-1.6l-0.1,-2l0.6,0l2.8,2l0.5,1l-0.1,1l1,1l4.8,3l1.9,3.3l4.4,3.7l0.7,3l-0.1,5l1,1.7l1,0.5l1,1.5l0.4,2.3zM33.5,-58.4l-1,0.6l-1,-0.2l-1,-1.5l1.8,-2l0.3,-2l0.9,-0.4l0.6,1.4l-0.5,1l1.4,1l0.1,1zM-150.5,-59.3l-2,-1l-2,-1.7l-2,-0.5l3,-0.8l3,1l1,0.9l1,0.1l2,-0.9l1.8,0.7l-0.8,1.2l-3,0.1zM25.5,-37.4l-0.9,-2.1l-2.1,-0.5l-1,0.8l-1,-0.1l-2,-1.3l-3,-3.9l-2.9,0l-0.5,1l-0.8,0l-1.3,-1l1.1,-1l-1.6,-1.4l-1,0.1l0.7,1.3l-0.7,0.6l-2,0.1l-3.7,1.3l-1.3,1.8l-1,-0.5l0.5,-2.3l-3.6,-2l0.9,-1l-0.3,-3l-0.5,-0.7l-3,0.8l-1,-1.3l-3.1,-1.8l2.6,-1l1.5,-1.8l1,0.3l1,-0.5l0.4,-1l-0.9,-1l0.5,-0.1l1.2,0.1l0.4,2l1.1,2l2,1l0.8,1l0.5,1.7l1,0.5l0.7,-1.2l1.3,-0.9l4,-1.5l3,-0.3l3,-0.9l3,0.3l2,-0.4l2,2.1l1,-0.2l0,-1.2l-0.7,-1l1.2,-1l-0.5,-0.7l-1,-0.3l1,-1.3l1,0.2l1,0.8l2,-1.1l2,0.6l0.8,1.8l-1.1,1l0.3,0.5l1,-0.2l2,-1.7l3,-1.2l0.8,0.6l0.2,1l1.1,-1l-0.8,-2l-1.2,-1l-0.1,-1l1,-0.8l3,0.8l0,1l-0.6,1l0.6,0.7l2,-0.6l2,0l2,1.5l2,-2.3l1.2,-0.3l0.8,-1.3l1.1,0.3l0.2,2l0.7,0.8l1,-0.1l1,-1.1l1,-0.1l1,0.7l1,-0.3l2,-2.6l2,1.5l2.2,0.2l0.5,1l-1.1,1l-0.6,2.5l-1,0l-1,-1.1l-1,0.6l0.5,3l-0.5,1.3l-1.2,-0.3l0.8,-2l-0.6,-0.2l-2,1l-0.2,1.2l-0.8,0.8l-3,-0.8l-3,0l-1,-0.7l-1,0l-1,1.4l-2,-1.2l-1,0l-1,2.5l-2.3,2l1.3,4.4l0.7,0.6l-1.4,1l-0.3,1.1l-0.9,-1.1l-1.1,-0.3l-1,-1.5l-5.7,-1.2l-0.2,-1l-1.1,-1.4l-1.5,0.4l-0.5,1l0,1.8l-4,-2.4l-4,-0.5l-1,-0.9l-1.3,1l-0.1,1l0.7,1l0.7,0.5l2,0.1l1,0.8l1,-0.2l1.2,0.8l0.8,1.9l1,-2.4l1,-0.3l1,0.8l0,1.5zM66.5,-56.8l-0.5,-0.7l0.1,-2l1.6,0l0,1zM84.5,-55.4l-1,0l-0.5,-1.1l0.5,-2.5l0.6,1.5l1.8,1l-0.5,1zM91.5,-50.4l-3,0.3l-1,-0.4l-0.5,-1l0.5,-1l-1.7,-1l-0.3,-2l1,-0.9l2,-0.3l2,-2.1l1,-0.1l2,0.6l1,1.2l1,-0.1l0.9,0.7l-1.9,2.8l-2,-1.3l-1,0.5l1,1.3l2,-0.2l1,0.5l1.6,-0.6l0.2,-1l-0.6,-1l0.2,-1l3.6,-1.2l1.1,0.2l-0.6,1l0.7,1l-2.2,4l-1,-0.5l-3,0zM-118.5,-52l-2,-1.1l-1.6,-2.4l0.6,-1l2,-1.1l0.9,0.1l-0.6,1l1.7,0.6l1.3,1.4l-0.4,1zM-107.5,-55l-1,0.3l-0.9,-0.8l0.3,-1l1.6,-0.5l0.8,0.5zM118.5,-53.3l-0.9,-1.2l0.9,-1.4l1,1.4zM106.5,-52.5l-1.7,0l-0.3,-0.5l-1,1l-1,0.3l-0.3,-0.8l1.3,-1.2l1,-0.1l1,-1.3l1.1,0.6l0.7,1zM131.5,-30.5l-2,-0.6l-1,-2.1l-3,-1.4l-1.5,-5.9l0.5,-0.8l2.7,-1.2l0.4,-1l-0.3,-1l-1.8,-1.4l-2,0.8l-0.6,-0.4l-0.6,-2l0.2,-2l-3.3,-2l0.1,-1l1.2,-0.9l3,0.1l2,2.4l1,-2.2l2,-0.1l1,-0.6l1,0.8l2,-0.3l4,0.7l2,-0.6l1,0.7l-1.7,2l0.7,0.2l1.1,1.8l0,1l-0.7,1l-1.4,0.8l-2.2,3.2l-1.8,1.2l-2,0.1l-1.7,1.7l0,1l0.9,1l0.8,0.7l1,0.1l2,-0.1l3.8,-2.7l0.2,-2.2l0.9,-0.8l0.1,-2l1,-1.5l1.5,-0.5l0.2,-2l0.7,-1l-0.6,-1l-0.7,-3l0.9,-0.7l2,0.5l0.4,4.2l-0.3,3l1.4,3l-0.5,1.4l-1.6,1.6l-1.4,4.5l-2.7,2.5l-2.3,0.2l-1,1l-2,0.1zM-113.5,-51.3l-1,0.1l-0.4,-1.3l1.4,-0.7l0.5,0.7zM-108.5,-52.5l-1,0.8l-0.8,-0.8l0.8,-0.9zM-101.5,-51.2l-3,-0.6l-1.1,-0.7l2.1,-0.7l1,1.4l1,-0.2l0.8,0.5zM13.5,-50.5l0.8,-1l-0.8,-1l-1,0.3l-0.8,1.7l0.8,0.6zM-55.5,-48.6l-1.6,-0.9l-0.6,-2l1.2,0.6l2,0.1l0.2,0.3zM-94.5,-49.1l-0.8,-0.4l0.8,-1.1l0.6,1.1zM10,-49.5l-0.4,-1l-0.7,0l-0.1,1l0.7,0.9zM-84.5,-48.2l-1.3,-1.3l1.6,0l0.2,1zM35.2,-48.5l0.9,-1l-0.6,-0.4l-1.4,0.4l-0.9,1l0.3,0.5zM-80.5,-25.2l-1.2,-0.3l-1.6,-3l-1.2,-0.9l-1,-0.4l-5,0.6l-4.7,-2.3l-0.5,-1l0.1,-2l1.5,-3l-0.6,-1l3.2,-0.4l1,1.7l0.5,-0.3l0.5,-2.7l1,-0.6l2.8,0.3l1.2,1.4l0.2,-0.4l-1.1,-1l-0.3,-2l1.2,-1.5l1.3,0.5l0.1,2l0.6,1l2,0.5l2.1,-2.5l1.7,-1l-2.4,-1l0.6,-1.1l-1.9,-1.9l0.3,-1l1.6,-0.1l2,1.3l3,-1.1l0.7,0.9l-0.7,2.1l2,-1.3l1,1l3,-0.1l-1,0.6l-5.6,6.7l-1.8,4l-3.5,3l-0.6,1l0.5,2zM-82.5,-46.4l-0.8,-0.1l-0.1,-1l0.9,-0.4l1.4,0.4l-0.7,1zM-54.5,-46.9l-1,0.2l-0.3,-0.8l0.3,-0.9l1.4,0.9zM122.5,-41.8l-2,-0.1l-0.7,-1.6l0,-1l0.7,-0.6l1.3,0.6l0,1l1,1zM-90.5,-42.3l-2,0.6l-0.3,-0.8l1.3,-1.5l2,-0.2l0.3,0.7zM-7.5,-38.4l-1,0.7l-1,0l-0.3,-0.8l0.9,-3l-0.3,-1l0.7,-0.9l1.6,-0.1l0.4,0.9l2,-1.3l2,0.3l-2,1.6l-2,-0.4l-1.6,0.9l0.3,1l1.4,1zM47.5,-40.7l-2,-0.6l-1,0.3l-1.6,-1.5l0.6,-0.7l2,0.1l2.8,1.6zM147.5,39l-6,0.2l-1.2,-0.7l0.1,-1l1.1,-0.6l4,1l1,-0.8l2,0l2.5,-2.6l-0.2,-2l1.4,-3l0,-3l-2.9,-4l-2.8,-1.6l-2,-3l-1.8,-1.4l-1.6,-3l0,-3l-3.6,-0.9l-1.2,-1.1l0.4,-1l-0.8,-1l-3.4,-0.8l-1,-0.7l-4,0l-1,0.5l-1,-0.3l-1.8,1.3l0.8,0.9l3,0l0.9,1.1l-1.9,2.4l-2,0.6l-2,-0.6l-2,0.3l-12,-1.6l-3,-0.8l-6,-5.9l-2.3,-3.4l-0.2,-1l-2.9,-3l-0.2,-1l0.6,-0.9l3.3,-1.1l-0.1,-6l-0.2,-1l-3.3,-1l-0.5,-1l0,-2l-1.6,-2l-1.6,-3.7l-1.4,-0.3l-0.6,2.5l-5,5.1l-2,0.7l-0.5,0.7l-1,5l1.5,0.4l0.9,1.6l0.2,2l-0.8,1l-1.3,0.4l-1.1,-0.4l-0.9,-3.4l-1,0.6l-1.3,-0.2l-3.3,-7l-1.3,-6l1.5,-5l1.7,-3l0.7,-3.4l3,1.4l3,2.6l3,1.2l6,-0.2l5,-1.1l1,0.3l2,2l4,-3.8l1.8,-5l1.2,-2l1,-0.3l1,0.7l0.9,-0.4l-0.3,-1l0.4,-0.5l6,-2.8l2,0.3l2,-0.4l1.6,0.4l-0.6,2.2l-3.6,0.8l1.6,0.7l1.2,1.3l0.1,2l3.2,4l-0.2,2l-0.9,2l1.6,1.4l-0.1,2.6l-0.9,0.7l-1,-0.2l-0.5,-0.5l-0.5,-2.2l-1.6,0.2l-1.4,2l-4,1.3l-1,0.7l0.1,2l-1.1,1l-2,0l-1,-1l1,1l1.5,4l-0.1,2l-0.8,1l-3.6,2.2l-4,-3.5l-0.7,1.3l-0.3,2l0.5,1l2.5,0.9l1.3,1.1l1.1,4l-0.5,1l0.3,1l1.8,2.1l1,2.1l1,0.2l0.4,-0.4l-0.4,-1l-2.1,-3l0.3,-2l1.8,-2.2l3,-1.3l3,-2.5l3.3,-5l-0.5,-3l0.2,-2.4l1,-1.2l2,-0.8l2.3,1.4l0.1,3l3.2,3l0,2l0.9,3l-0.5,1.4l-2,1.8l-4,-1.1l-1.6,1.9l0.6,0.8l4,0.2l3,-0.8l1.9,0.8l1.1,1.1l3,0.2l2,1.5l3,-0.1l4,1l5,2.9l1.5,-0.6l0.1,-1l1.4,-1.2l1,0.1l6,4.8l1.4,0.3l2.7,2l1,1l0.2,1l-1.3,1l-4,-2l-4,-2.7l-1,0l-1.7,1.7l1.5,2l-0.8,1.2l-1,0.3l-2,-0.3l-3,-1.7l-1,-0.1l-0.7,0.6l1,3l1.8,2l0.9,3l6,6.3l1,3.7l-0.6,3l-2.2,3l-0.8,3zM-60.5,39.5l-1,-0.1l-3,-3l-2.4,-0.9l0.8,-2l0,-2l0.8,-2l0.9,-6l-1.1,-3.9l-3.5,-4.1l-5.5,-3.5l-3.5,-5.5l-0.5,-1.7l-1.6,-1.3l-0.1,-5l1.2,-2l-0.2,-2l-5.3,-2.2l-4,-4.3l-4,-1.2l-3,-2.6l-2,0.9l-2,-0.6l-5,-3.1l-2,-2.3l-3.7,-7.6l0.7,-1.1l1,0l1.1,1.1l2.6,5l3.3,4.1l1,0.4l1,-1.1l0.1,-4.4l0.9,-0.6l1.1,0.6l1.4,4l1.5,1.1l2,0.1l2,-2.5l1,-0.4l2,0l0.9,0.7l0.2,1l-0.5,3l3.4,1.1l1,0.9l1,4.4l1,0.5l2,-0.1l2,1.2l2,-1.5l1,0l0.9,0.5l1.1,2.3l0.6,-0.3l0.4,-2l2,-1.8l3,0.8l5,-0.1l1,1.1l0.2,1l1.8,1.5l5,1.4l2.3,2.1l2.7,3.6l1.3,0.4l1.7,1.8l7.7,2.2l2.3,2l0.6,2l-0.5,2l-2.6,4l-0.5,3.9l-2,4.7l-2,1.8l-3,0.9l-2,1.4l-1,2.3l-6,7l-1,0.2l-4,3.3zM80.8,-26.5l0.2,-1l-0.5,-0.6l-1,-0.4l-1,0.8l1,1.5zM85.7,-23.5l0.5,-1l-0.2,-1l0.6,-1l-1.1,-0.4l-2.2,3.4l1.2,0.7zM-65.5,-17.3l-13,0.1l-0.6,-1.3l0.6,-0.8l1.9,-0.2l-4.9,-1.5l-3,0.2l-0.9,-0.7l0,-1l2.9,-1.1l6,-0.1l3,3.1l4,0.3l4,1.1l0.8,0.7zM-155.5,-18.1l-1.4,-1.4l1.4,-1.6l0.9,0.6l0.4,1zM77.7,-18.5l0.5,-1l-0.7,-0.8l-0.7,0.8l0.2,1zM25.5,35l-5.1,-0.5l3.1,-1l1.4,-1l0.9,-3l0.8,-1l0.4,-3l2.5,-1l2,0.8l1.4,-0.8l0.1,-1l-0.4,-1l0.9,-1l-0.7,-2l-2.3,-1.2l-2,-0.1l-4,-1.1l-8,-0.2l-2,-0.6l-1.9,-2.8l-0.5,-5l-0.6,-2l-1.1,-2l-1.9,-2l-0.2,-4l-0.8,-1.5l-5,-1.6l-4,1.2l-7,0l-4,-2.7l-2,-2l-1.8,-3.4l0.8,-0.9l2,-0.9l6,1.3l2,-1.4l1,0.1l3,0.5l1.6,1.3l2.4,1l3,-0.5l1,0.6l2,0.1l2,-0.5l4,-2.2l1.6,1.5l1.4,0.4l4,-1l2,1.8l6,-1.1l2,1l2,-0.8l1,-1l1,-0.2l2,-1.6l2,1.3l0.7,1.2l0.1,4l-1.8,2.9l-3,1.2l-0.8,0.9l1.9,3l0.7,3l1.2,1.1l1,-0.4l0.7,1.3l0.2,6l0.7,2l-0.2,2l-1.4,1.8l-3.5,2.2l-0.2,5l-2,2l-1.3,3.4l-3.6,3.6zM93.5,-11l-1,0.4l-0.8,-0.9l0.1,-2l0.7,-0.7l1.5,0.7l-0.1,2zM121,-7.5l0.7,-1l-1.2,-0.8l-1.7,1.8l0.7,0.8l1,0.1zM33.6,2.5l0.6,-1l-0.1,-1l-1.6,-0.6l-0.4,0.6l0.2,2l0.2,0.3zM124.7,2.5l1.2,-1l-0.4,-0.6l-1.2,1.6zM-38.2,10.5l-0.3,-1.4l-0.7,0.4l-0.3,1.1zM47.5,26l-1,0.4l-3,-0.9l-0.3,-8l0.3,-1l2,-1.5l2,-2.7l1,-0.9l1,-0.1l1,0.7l0.7,1.5l0.2,3l-1.9,7zM136.5,13l-3,0l-1.3,-0.5l3.3,-1.4l1,0l0.5,0.4l0.1,1zM168.5,17.7l-1,0.1l-2,-1.8l0,-1.4l1,-0.7l2,1.3l1,1.3zM178.5,19.8l-1,-0.1l-1.1,-1.2l-0.1,-1l1.2,-1.3l1.5,0.3l0.7,1l0,1zM28.5,22.7l-1,-0.2l-0.4,-2l0.4,-1.1l2.6,1.1l0.3,1zM167.5,23.7l-1.8,-0.2l-2.4,-2l-0.3,-1l0.5,-1.4l1,-0.3l1,0.6l3,2.9zM31.5,23.5l-1.3,-1l0.3,-1l2,-0.7l1,0.7zM-60.7,34.5l-0.4,-1l1.6,-2.1l-2,0.6l-1.7,2.5l1.7,1zM117.5,35.6l-2.6,-1.1l0,-2l0.6,-1.2l2,2l1.1,0.2l0,1zM169.5,46.6l-2.4,-1.1l0.2,-1l4.2,-3.4l2,-0.1l-0.6,-1.5l0.2,-2l-0.8,-3l6.2,2.1l0.7,0.9l-0.7,2.5l-2,1.7l-1,0.5l-1,-0.4l-2,2.4zM-73.5,47.6l-1,0.4l-0.6,-0.5l0.7,-7l0.9,-3.4l1.1,0.4l0.3,2l-0.9,3zM148.5,43.6l-2,0.4l-0.8,-0.5l-0.9,-2l0.7,-0.8l2,-0.3l1.1,1.1z"/><path fill="#96d376" d="M-149.5,-60.3l-1,0.5l-1,-0.2l-0.8,-0.5l-0.3,-1l2.1,0.1l1.6,0.9zM31.5,-48.2l-1,0.4l-2,-1.8l-3,-1l-1,2.9l-2,-1.1l-2,0.8l-1,-0.3l-0.3,-1.2l-0.7,-0.2l-2,1.7l-2.7,-1.5l1.7,-1.2l1,1.2l2,-2.4l2,-0.2l1,-0.7l1,0.9l2,-1.6l1.6,0l-0.6,-0.5l-1,0.3l-0.3,-1.8l1.3,-1.5l1,0l1,-0.8l1.3,0.3l-0.4,3l1.1,0.7l3,-2.4l3,-1l1,1.3l1,-0.2l0.8,-0.4l0.2,-1.4l3,-0.9l2,0.1l1.2,1.2l-0.2,1.1l2,-0.2l0.9,-2.9l2.1,-1l0.3,0l0,2l0.7,0.7l1,-0.1l1.3,1.4l1.7,0.8l1,-0.8l0.6,-2l2.2,-1l0.2,-2l0.2,2l0.8,0.8l2,-1.4l0.4,0.6l-0.4,2.1l-1,0.4l-1,-1.3l-1,0.3l-1,2.4l-2,1.2l-1,1.8l-2,-0.7l-3,-0.4l-1,0.4l-1,-2.2l-1,-0.9l-1,1.3l-2,1.3l-2,-1.4l-1,0.2l-1.1,1.5l2.1,-0.2l0.1,1.2l-2.1,1.9l-1,1.8l-1,0.3l-1,-1.9l-1,-0.1l-4,-2.1zM-139.5,-59.8l-1.4,-0.7l1.4,-0.5l0.6,0.5zM32.5,-58.6l-1,0l-0.6,-0.9l1.6,-1.2l0.9,1.2zM38.5,-60.4l-1,0.4l-0.7,-0.5l0.7,-0.9l1,0.4zM-120.5,-36.5l-1.3,0l-2,-3l0,-8l-1.7,-1.8l-2.1,-1.2l-5,-5l-3.5,-2l-0.7,-1l1.3,-1.4l5.7,3.4l2.3,3.7l4.1,3.3l0.5,4l0,4l1.4,2.3l1.2,0.7l0.3,1zM93.5,-55.8l-1.5,-0.7l0.5,-0.6l1,-0.2l0.3,0.8zM-118.5,-53.5l-1,0.5l-0.6,-0.5l-0.2,-1l0.8,-1l2,0.1l0.5,0.9zM-0.5,-49.6l-1,-0.5l-1,-1.8l-1,-0.7l-1,1.4l-1.2,-0.3l0.6,-3l1.6,-1.3l1,-0.3l1,2.2l2,0.2l1,1.2l-0.3,1zM91.5,-51l-3,0.3l-0.5,-0.8l1.1,-2l-0.6,-0.6l-2,0.2l0,-1.3l1,-0.4l1,0.7l2,-1.4l0.7,0.8l-0.2,2l1.3,2zM99.5,-53.2l-1,-0.4l-1,-1.9l2,-0.5l0.6,0.5zM15.5,-51.9l-2.2,-1.6l2.2,-0.9l2.3,-0.1l-0.4,1zM144.5,-48.9l-2,-2.4l-0.4,-2.2l0.4,-0.3l2.1,0.3zM133.5,-31.4l-2,0.6l-2,-0.4l-1,-2.4l-2,-0.7l-1,-0.9l-0.9,-4.3l0.1,-1l3.8,-2.5l0.2,-1.5l-0.7,-1l0.5,-0.9l1.6,-1.1l-0.6,-1.4l1,0.2l0.4,-0.8l-0.4,-0.4l-4,1.1l-0.7,0.3l0.1,1l-1,1l-1.4,0.3l-0.5,-4.3l-2.5,-1.2l2,-0.7l1.3,0.9l0.7,1.5l1,0.5l1.4,-1l0.6,-1.7l2,-0.2l1,0.6l1,0l1,-0.9l2,0.5l1.6,1.7l0.4,2.8l1,-1.3l1,-0.2l0.5,0.7l-0.5,2l-1,-0.7l-1,0.8l-0.3,0.9l0.3,1l-1.4,2l-1.6,1.1l-2,0.1l-1.8,1.8l0,1l1.8,1.8l3,-0.1l3.9,-2.7l0.1,-1.9l0.9,0.9l0.1,1l1,-0.1l1,-1.9l-0.7,-2l-1.2,-1l0.9,-1.2l1,-0.1l0.9,-0.7l0.1,-1.9l1.5,-0.1l1.8,5l-0.2,1l-1.8,2l-0.3,1.5l-0.6,0.5l-0.4,2.4l-2.9,2.6l-2.1,0.1l-1,1l-2,0.1zM7.5,-45.8l-2,0.3l-0.4,-1l-0.3,-3l0.7,-2.3l0.7,0.3l-0.2,1l0.5,0.6l1,0.2l0.8,1.2zM37.5,-47.4l-2,0.3l-0.3,-0.4l1.3,-0.1l1,-0.8zM0.5,-45.5l-1.3,-1l1.3,-0.9l0.7,0.9zM-80.5,-25.5l-1.5,-1l-0.9,-2l-1.1,-1l-0.5,-1.6l-2,1.2l-4,0.2l-3.8,-1.8l-0.9,-2l0.7,-2.2l2,-1.9l2,1.1l2,-0.5l0.6,-0.5l-1.1,-1l0.5,-1.1l2,0.4l2,1.2l2,-1.2l4,0.1l0.8,-1.4l0.1,-2l1.9,-1l-1.8,-1l-0.4,-1l0.4,-0.7l2,0.1l1,1.3l3,-0.1l0.4,0.4l-0.3,1l-1.1,1.1l-2,-1.8l-0.7,0.7l0.7,1.3l1.5,0.7l-0.2,1l-1.3,1.6l-2,4.4l-1.6,1l-2.1,3l0.4,2zM16.5,-44.8l-2.5,-0.7l1.5,-1l1.3,1zM39.5,-43.1l-2,-0.3l-1,-1.1l0.2,-1l0.8,-0.7l1,0l1.4,1.7l0,1zM21.5,-40.1l-1,0.3l-2,-1.3l-1.1,-1.4l0.2,-1l1.9,-0.8l1,1.6l1,0.1l1.1,-0.9l0.8,1l-0.9,0.9l-0.8,0.1zM-84.5,-41.4l-0.8,-1.1l0.8,-0.8l0.6,0.8zM118.5,-39.5l-1,-0.6l-3,-0.4l4,-0.3l0.7,0.3zM-7.5,-39.3l-1,0.6l-0.8,-0.8l0.8,-1zM149.5,22.2l-4,-2.8l-1,-2l-1.4,-0.9l-1.8,-3l0,-3l-3.8,-1l-1.1,-1l0.4,-1l-1.3,-1.3l-3,-0.5l-1,-0.8l-6,0.2l-1.9,1.4l0.9,1l3,-0.1l0.8,1.1l-1.8,2.3l-2,0.6l-2,-0.5l-2,0.1l-12,-1.4l-3.3,-1.1l-5.7,-5.6l-2.3,-3.4l-0.1,-1l-2.9,-3l-0.2,-1l0.5,-0.8l3,-0.6l0.5,-0.6l-0.4,-7l-3.2,-1l-0.6,-1l0,-2l-1.5,-2l-0.9,-3l-1.9,-1.8l-1.4,-0.2l0.2,3l-1.8,1.4l-0.4,-0.4l-0.3,-1l1.3,-2l0.4,-2.5l0.7,-0.5l7.3,-1.2l1,0.4l2,2l2,-1.7l2,-0.3l1,-0.7l2,-0.2l0.3,-0.3l-0.3,-0.4l-2,-0.3l-0.2,-1.3l0.9,-1l0.5,-3l0.8,-1.2l1,-0.5l1.8,1.7l-1.8,2.8l-1.4,0.2l0.4,0.4l1,-0.2l1.7,-1.2l1.3,-0.2l2.1,2.2l0.9,-0.5l0.1,-1.5l-2.1,-1.5l-1.7,-0.5l-0.1,-1l0.7,-2l0.9,1l1.2,0.2l0.6,-0.2l0.1,-1l1.3,-1.4l1,2.2l3,1l0,2.7l1,0.1l3.1,3.4l0.1,1l-1.3,3l2.1,2l-0.3,2l-0.7,0.6l-1,-0.3l-1,-3l-2,0l-0.8,0.7l-0.2,1.1l-1,1.2l-3,0.7l-3,-0.4l0,0.8l1,-0.1l1,1.2l0.1,1.5l-1.1,0.9l-2,-0.1l-1,-1.1l-0.2,0.3l1.2,1.6l1.4,3.4l-0.2,2l-1.2,1.3l-3,1.6l-4,-3.3l-0.9,1.4l-0.2,2l0.4,1l2.7,0.9l1.3,1.1l1.1,4l-0.6,1l0.3,1l1.9,2.2l1,2.1l1,0.2l0.4,-0.5l-0.3,-1l-2.2,-3l0.4,-2l1.7,-2.1l3,-1.3l3.1,-2.6l3.3,-5l-0.6,-3l0.6,-3l1.6,-1.1l2,0.1l1.3,1l0,3l0.6,1l2.6,2l0,2l0.9,3l-0.4,1.4l-2,1.8l-4,-1.2l-1,0.7l-0.6,1.3l0.6,0.8l4,0.3l3,-0.8l1,0.2l2,1.7l3,0.2l2,1.4l3,-0.1l4,1l5,2.9l1.5,-0.6l0.2,-1l1.3,-1.2l1,0.1l6,4.9l1.3,0.2l3.7,3l0.3,1l-1.3,0.9l-7,-3.7l-1,-0.9l-1,-0.1l-1.7,1.8l1.4,2l-0.7,1.2l-1,0.3l-2,-0.4l-3,-1.7l-1,0l-0.8,0.6l0.9,3l1.8,2l1,3l2.7,3zM76.5,-29.9l-1,-0.3l0.3,-1.3l0.7,-0.6l1.5,0.6zM-58.5,38.7l-3,0.3l-2.8,-3.5l0.8,-0.4l1,1l1,0l1,-0.6l0.8,-1l-0.4,-1l1.6,-0.6l0,-2.6l-3.3,1.2l-1.8,2l-0.9,1.8l-1.6,0.2l-0.2,-1l0.5,-1l0,-2l0.8,-2l0.2,-3l0.9,-2l-1,-4l-2.7,-4l-6.9,-4.8l-3.3,-5.2l-0.7,-2.1l-1.3,-0.9l-0.2,-5l1.1,-2l-0.1,-2l-0.5,-0.6l-5,-1.7l-4,-4.3l-4,-1.2l-3,-2.6l-2,0.8l-1.7,-0.4l-5.3,-3.3l-2,-2.3l-2.2,-5.4l-1.3,-2l0.5,-0.8l1,0l0.8,0.8l2.7,5l3.5,4.4l1,0.3l1,-0.7l0.4,-5l0.6,-0.4l1,0.7l1.4,3.7l1.6,1.2l2.6,-0.2l1.4,-2.2l3,-0.3l0.7,0.5l0.2,1l-0.4,3l3.5,1.2l0.9,0.8l1.1,4.5l1,0.5l2,-0.1l2,1.3l2,-1.4l1,0.2l1,2l2,1.1l0.7,-3.1l1.3,-1.6l3,0.7l5,-0.1l0.9,1l0.2,1l1.9,1.6l5,1.3l2.3,2.1l2.7,3.7l1.2,0.3l1.8,1.9l7.2,2.1l2.6,2l0.6,2l-0.4,2l-2.6,4l-0.4,3.5l-2,5l-2,1.8l-3,0.9l-2,1.4l-1,2.2l-3.8,4.2l-1.2,2zM81.5,-5.4l-2,-0.1l-1,-4.2l-1,1.1l-1,0.1l-2.3,-4l-1.9,-6l-0.2,-4l1.4,-4l2,-2.7l2,1.2l0.7,1.5l-1.4,3l0.6,1l-1.9,1.3l-0.2,1.7l-0.8,1l1,2.9l1,1.3l1.7,-2.2l-0.7,-1l2.2,-3l-1.8,-1l-0.4,-1l1,-1.6l2,-0.3l1,2.1l1,-0.4l2,0.7l1.1,1.5l-0.1,1l-0.9,1l-1.1,1.2l-2.4,0.8l-1,2l-0.5,4l1.9,0.5l0.9,2.5l0.1,1zM82.5,-24.1l-2,-0.5l-0.4,-0.9l2.1,-1l-0.1,-1l0.4,-0.2l0.5,0.2l0.4,2zM-65.5,-17.4l-8,0.1l-1.6,-0.2l-0.4,-0.9l-0.1,0.9l-0.9,0.4l-2,-0.2l-0.5,-1.2l0.5,-0.6l2.6,-0.4l-4.6,-1l-1,-0.7l-3,0.1l-0.6,-0.4l0.1,-1l2.5,-0.9l6,0l2.4,1.9l0.6,1.2l4,0.1l4,1.1l0.7,0.6zM-155.5,-18.2l-1.3,-1.3l1.3,-1.4l1.2,1.4zM35.5,24.6l-1,0.8l-1,-0.9l0.8,-5l-1.8,-0.5l-1,-0.7l-7,-1.5l-8,-0.2l-2.5,-1.1l-1.1,-2l-0.5,-5l-0.7,-2l-3,-4l-0.3,-4l-0.9,-1.7l-2,-0.2l-1,-0.9l-2,-0.5l-4,1.4l-7,0l-4,-2.7l-2,-2l-1.3,-2.4l0.3,-0.9l2,-1.4l6,1.4l1,-0.3l1,-1l1,0l1,0.7l2,0l4,1.9l3,-0.5l3,0.8l2,-0.3l4,-2.2l2,1.5l5,-0.5l1,1.2l1,0.2l6,-1.1l2,1.1l6,-3.7l1,0.3l1.5,1.8l0.2,3l-1.7,3.6l-1,0.8l-2.9,0.6l-0.3,1l2,3l0.7,3l1.5,1.4l1,-0.4l0.5,1l0.4,4l-0.2,2l0.7,2l-0.3,2l-0.6,1l-2.5,1.9l-2.8,1.1l0.8,0.3l0.2,0.7l0.2,3zM93.5,-11.1l-1,0.4l-0.7,-0.8l0,-2l0.7,-0.6l1.4,0.6zM120.6,-6.5l1.2,-2l-1.3,-0.8l-1.7,1.8l0.7,0.9zM33.8,2.5l0.5,-2l-1.8,-0.9l-0.6,0.9l0.2,2l0.4,0.6zM124.8,2.5l1.1,-1l-0.4,-0.7l-1.2,1.7zM118,5.5l-0.5,-0.5l-1.1,0.5l1.1,0.9zM-37.8,10.5l0.2,-1l-0.9,-1.2l-2,0.1l-0.2,-0.9l-0.8,-0.3l0,2.1l1,-0.8l0.4,2l0.6,0.6l1,0zM47.5,25.9l-1,0.4l-2.6,-0.8l-0.4,-3l0.7,-1l0.3,-3l-1,-1l0.9,-2l1.1,-0.3l2,-2.8l1,-0.9l1,-0.1l1,0.7l0.6,1.4l0.1,3l-1.7,7zM136.5,12.6l-0.6,-0.1l-0.6,-1l1.3,0zM168.5,17.6l-1,0.1l-1,-0.8l-1.2,-1.4l0.2,-0.7l1,-0.7l1.2,0.4l1.7,2zM178.5,19.7l-1,0l-1.1,-1.2l-0.1,-1l1.2,-1.2l1,0l1.2,1.2l0,1zM167.5,23.7l-1.7,-0.2l-2.5,-2l0.2,-2.3l1,-0.3l1,0.5l3,2.9zM28.5,22l-0.6,-0.5l0.1,-1l0.5,-0.1l0.6,1.1zM150.5,23.5l-0.8,-1l0.8,-0.6l0.8,0.6zM151.5,34.3l-0.3,-1.8l1.3,-3l0.2,-2l0,-1l-2.2,-3l1,-0.8l2.2,2.8l0.6,3l-0.5,3zM25.5,34.8l-4.3,-0.3l2.3,-0.3l2.9,-2.7l1.1,-5.6l1,-0.4l3,0.4l2,-1.4l0.9,1l-0.8,1l-1.1,3.2l-3.9,3.8zM117.5,35l-2.3,-0.5l0.3,-2.9l1.2,1.9l1.3,1zM176.5,41.6l-1,0.4l-1,-0.5l-1.4,-2l0.1,-2l-0.8,-2l0.1,-1l5.6,2l1,1l-0.3,2zM150.5,37.8l-1.8,-0.3l1.8,-2.1l0.6,1.1zM-73.5,45.4l-0.7,-0.9l-0.1,-3l0.8,-4.2l0.5,0.2l0.5,2zM147.5,38.7l-5,0.4l-2.1,-0.6l1.1,-1.2l4,1l1,-0.6l1,0.2l0.5,0.6zM148.5,43.6l-2,0.2l-1.4,-2.3l0.4,-0.5l2,-0.3l1,1.1zM169.5,45.9l-2,-0.4l0.1,-1l3.9,-3.2l1.3,0.2l0.8,1l-1.8,2l-1.3,0.1l-0.3,0.9zM-74.5,47.8l-0.3,-0.3l0.3,-2.2l0.7,0.2l-0.1,2z"/><path fill="#b9e18d" d="M-128.5,-51.8l-4,-4.1l-1.7,-0.6l-2.1,-2l0.8,-0.6l1,0l4.3,2.6l2.6,4zM42.5,-55.6l-1,-1.9l2,-0.5l0.5,0.5zM39.5,-55.3l0,-1.8l1,0l0.4,0.6zM36.5,-51.2l-1,0.2l-0.5,-0.5l-0.9,-1l-0.6,-2.5l-1,0.5l-0.2,-1l2.2,-0.6l3,0.8l0.9,2.8zM54.5,-53.8l-1,0.1l-2.4,-0.8l1.4,-1.1l2,0.8zM30.5,-49.3l-2,-1.9l-2.4,-0.3l-0.3,-1l1.6,-1l0.1,-1.5l0,2.5l1,0.8l1,-0.7l1,0.9l0.4,1zM16.5,-53.2l-1,0.3l-0.8,-0.6l1.8,-0.3zM144.5,-51.9l-1.8,-1.6l1.8,0zM24.5,-50.4l-0.4,-1.1l0.4,-1.1l0.4,0.1l0.1,1zM-125.5,-49.8l-1.6,-0.7l-1,-1l0.6,-0.8l2.2,1.8zM20.5,-48.4l-0.3,-1.1l1.3,-2.2l1.9,1.2l0.6,1l-2.5,0.4zM133.5,-31.5l-3,0.4l-1,-0.3l-1,-2.7l-1,-0.9l-1,0.4l-0.7,-0.9l-0.7,-4l0.5,-1l3.2,-2l0.4,-2l-0.4,-1l0.7,-0.6l1,0.3l0.8,-0.7l0.7,-2l-0.4,-2l0.9,-0.8l2,-0.1l1,1.4l0.5,2.5l-0.3,4l-2,2l-2.2,0.1l-1.9,1.9l0,1l1.9,1.9l3,-0.1l4,-2.8l0,-1.3l0.3,1.3l0.7,0.5l2,-0.3l0.6,-4.2l-1.8,-1l0.2,-0.7l2,-0.2l0.3,0.9l0.7,0.4l2,-0.4l0,1l-1.1,1l0.2,1l-1.8,3l-0.2,2l-0.8,1l-2.3,2l-2,0l-1,1.1l-2,0.1zM7.5,-47.1l-1,0.3l-0.6,-0.7l0.6,-0.8l1,-0.3zM-122.5,-38l-1.1,-1.5l0.1,-6l0.1,4l0.9,1l0.8,2zM38.5,-43.8l-1.4,-0.7l0.4,-0.8l1,-0.1l0.8,0.9zM19.5,-41.4l-1,-0.3l-0.3,-0.8l0.3,-0.4l1,-0.2zM-81.5,-26.4l-2,-3.5l-0.1,-1.6l-0.9,-0.8l-1.2,-0.2l-0.8,2.1l-4,0l-3,-2l-0.7,-1.1l0.7,-2.1l1,-0.8l2,0.8l0.1,1.1l0.9,0.6l7,-4.7l1.4,0.1l0,2l0.6,0.4l1,-0.1l0.7,-1.3l1.3,-1.1l2,0l-1,3l-1,0.5l-1,-0.4l-1.2,1l0.5,2l-1.2,2l0.3,2l-0.4,1.4zM116.5,-32.9l-1,-0.2l-1,-2l-1,1.3l-4.3,-2.7l0.3,-0.4l2,0.4l2,-0.6l3,0.6l0.5,3zM106.5,-34.1l-1,0.2l-0.4,-0.6l0.4,-1.5l1,-0.5l0.7,1zM143.5,13.9l-1,0.4l-1,-1.1l0.2,-2.7l-4,-1l-1.3,-1l0.5,-1l-1.4,-1.4l-3,-0.5l-1,-0.7l-6,0.2l-1.9,1.4l0.9,1.1l3,-0.1l0.7,1l-1.7,2.3l-2,0.5l-16,-1.8l-3.3,-1l-5.7,-5.7l-2.2,-3.3l-0.2,-1l-2.9,-3l-0.2,-1l0.5,-0.7l3,-0.6l0.6,-0.7l-0.4,-7l-0.2,-0.5l-3,-0.6l-0.5,-0.9l0,-2l-2.1,-3l-0.4,-2.2l-2,-2.1l-1.4,-0.7l2.1,-1l5.3,-0.8l1,0.3l1,1.4l1,0.6l5,-2.4l2,0.6l0.3,1.3l0.7,0.7l1,0.2l0.5,-0.9l-1.5,-2l0.1,-2l0.4,-1l1.5,-1.1l1,0.1l2,1.6l1,0l1,-2.1l2,0.7l1,1.5l1.3,-0.7l-0.5,-1l1.2,-0.5l1.4,2.5l-0.8,1l0.4,0.2l1,-1l0.5,0.8l-0.4,2l-1.1,1.7l-1,0.4l-1,-0.5l-1,0.2l-1,3.2l-3,0.6l-2,-1.2l-1.6,0.6l-0.1,1l0.6,1l1.1,0l1,1l0,1l-1,0.8l-2,-0.2l-1,-1.1l-0.3,0.5l2.6,5l-0.3,2l-1,1.2l-3,1.3l-1,-0.3l-1.9,-2.2l-1.1,-0.5l-1.1,1.5l-0.1,2l0.4,1l2.8,1l1.2,1l1.1,4l-0.6,1l0.4,1l1.9,2.3l1,2.2l1,0.1l0.5,-0.6l-0.4,-1l-2.1,-3l0,-1.2l0.9,-1.8l1.1,-1.1l3,-1.3l3.2,-2.6l3.2,-5l-0.6,-3l0.7,-3l1.5,-1l2,0l1.3,1l0,3l0.5,1l2.7,2l0,2l0.8,3l-0.1,1l-1.2,1.4l-1,0.7l-0.8,-0.1l-1.2,-0.7l-1.9,-0.3l-0.9,-1l1.2,-2l-1.4,-0.9l-1.7,1.9l2.5,2l-0.8,0.5l-0.7,1.5l0.7,0.9l4,0.3l3,-0.9l1,0.3l2,1.7l3,0.1l2,1.5l3,-0.1l4,1l5,2.9l1.6,-0.7l0.1,-1l1.3,-1.1l1,0l6,5l1.2,0.1l2.8,2l1.2,2l-1.2,0.7l-1,-0.3l-7,-4.2l-1,0l-1.7,1.8l1.4,2l-0.7,1.2l-3,-0.1l-3,-1.7l-1,-0.1l-0.9,0.7l0.4,2zM-59.5,38.6l-2,-0.1l-0.4,-1l4.3,-4l0.2,-1l-0.6,-1l-0.1,-2l-1.4,0l-0.4,1l-2.5,1l-3.1,3l-0.1,-3l1,-2l0.1,-2.7l1,-1.5l1.3,-0.8l-0.3,-0.6l-1,-0.1l-1.5,-4.3l-2.3,-3l-7.2,-5.1l-3.1,-4.9l-0.9,-2.4l-1.1,-0.6l0.2,-3l-0.5,-2l1.1,-2l-0.1,-2l-0.6,-0.8l-5,-1.6l-4,-4.4l-4,-1.1l-3,-2.7l-2,0.9l-1.3,-0.3l-5.7,-3.5l-2,-2.4l-1.4,-3.1l-0.4,-2l-1.5,-2l0.3,-0.4l1,-0.1l0.5,0.5l2.8,5l3.7,4.7l2,0.3l1,-6.2l1,0.9l1.2,3.3l1.8,1.3l2,0.1l0.8,-0.4l1.2,-2.1l3,-0.3l0.7,1.4l-0.4,3l0.7,0.6l3,0.6l0.8,0.8l0.7,4l0.5,0.7l1,0.4l2,-0.1l2,1.4l2,-1.2l1.4,1.8l2.6,1.9l2,-0.8l4.2,-0.1l0.4,-1l-0.6,-0.5l-2,0.8l-2,-0.9l-0.8,-1.4l0.8,-1.3l3,0.7l5,-0.3l1,1.9l2,1.7l5,1.3l2.3,2l2.7,3.7l1.1,0.3l1.9,2l3,1.5l4,0.7l2.6,1.8l0.6,1l-0.4,3l-2.4,4l-0.4,3l-2,5.4l-2,1.8l-4,1.5l-1.5,1.3l-0.5,1.6l-4.2,4.4l-0.8,1.5l-1,0.1l-2.4,2.4zM77.5,-9.2l-1,0.5l-1.1,-1.8l-2.2,-5l-0.7,-3l0.1,-4l0.9,-0.9l1,0.3l0.7,-0.4l-0.2,-1l-1.2,-1l0.2,-1l1.5,-1.5l1,0.1l1.2,1.4l-0.2,1l-1.5,1l-0.3,1l0.5,1l-1.2,1l-0.5,1l-0.2,2l0.5,2l0.7,1.7l1,1.1l1,-0.2l1,-1.9l1,-0.1l0.3,0.4l-0.9,2l0.2,2zM121.5,-22.1l-1.2,-0.4l-0.3,-2l0.5,-0.8l1,0l0.8,0.8l-0.3,2zM82.5,-17.1l-1,-0.4l-1,0.6l-1.6,-1.6l1.3,-1l0.4,-1l-2.1,-1.9l0.1,-1.1l0.9,-0.5l2,2.5l2,-0.5l1.7,1.5l-0.1,1zM-65.5,-17.5l-8.6,0l-1.1,-1l-0.3,-1.1l-6,-1.8l-3,0.1l-0.1,-1.2l4.1,-0.7l4,0l2.3,1.7l0.7,1.4l4,0.1l4,1l0.6,0.5zM-155.5,-18.3l-1.2,-1.2l1.2,-1.3l1.1,1.3zM-76.5,-17.2l-2,-0.1l-0.4,-1.2l0.4,-0.5l2,-0.2l0.8,0.7l-0.1,1zM93.5,-11.2l-1,0.4l-0.6,-0.7l0,-2l0.6,-0.5l1.3,0.5zM35.5,18.6l-2,0.5l-2,-1.2l-5,-1.2l-9,-0.2l-3,-0.9l-1.3,-2.1l-0.6,-3l0.2,-2l-1.4,-3l-2.5,-3l-0.6,-5l-0.8,-0.9l-2,-0.1l-2,-1.4l-1,0l-4,1.4l-7,0l-5,-3.7l-1.2,-1.3l-0.8,-2.3l3,-1.3l5,1l2,-0.8l1,0.1l1,1l2,-0.5l4,1.5l3,-0.3l3,0.8l2,-0.2l2,-1.3l5,0.7l2,-0.6l3,1.3l4,-0.3l3,-1l2,1.2l1,0l5,-3.8l1,0.3l1.3,1.5l0.3,2l-1.4,4l-1.2,1.1l-3,0.4l-0.5,1.5l2.1,3l0.1,2l1.2,2l1.1,0.8l1,-0.2l0.2,0.4l0.5,4l-0.3,2l0.8,2l-1,3l-2.2,1.6zM80.5,-5.5l-1,-0.3l-0.3,-0.7l-0.5,-3l0.8,-0.9l2,0.5l0.7,1.4l0.1,2l-0.8,1zM34,2.5l0.5,-1l-0.1,-1l-1.9,-1.3l-0.8,1.3l0.3,2l0.5,0.8zM124.8,2.5l1.2,-1l-0.5,-0.8l-1.3,1.8l0.3,0.3zM117.5,6.5l0.5,-1l-0.5,-0.5l-1.3,0.5zM-41,12.5l0.5,-1l2,0l1.3,-2l-1.3,-2.1l-3,-1.6l-0.7,0.7l-0.4,3l0.1,0.7l1.5,0.3l-0.5,0.7l-1,-0.6l-1,0.1l-0.5,0.8l1.5,1.3l1,0.3zM47.5,25.8l-1,0.4l-2.3,-0.7l-0.1,-2l0.7,-1l0.1,-3l-0.4,-3.3l2,-1.9l1,-1.9l2,-0.9l1,0.8l0.5,1.2l0.1,3l-1.8,7zM148.5,21.2l-3,-2l-1,-2.2l-1,-0.7l-0.4,-0.8l0.4,-0.6l1,-0.4l1,0.2l2,4.3l1.7,1.5zM168.5,17.5l-1,0.1l-1,-0.8l-1,-1l0,-0.8l1,-0.8l1,0.2l1.6,2.1zM178.5,19.7l-1,-0.1l-1,-1.1l-0.1,-1l1.1,-1.2l1,0.1l1.1,1.1l0,1zM167.5,23.6l-1.5,-0.1l-2.6,-2l0.1,-2.3l1,-0.2l1,0.5l3,2.9zM34.5,25.1l-0.7,-0.6l0.7,-4.3l1,0.9l0.2,2.4zM-59,23.5l0.7,-1l-0.2,-1.3l-1.4,1.3l-0.3,1l0.7,0.8zM25.5,34.6l-1.5,-0.1l0.3,-1l2.2,-0.9l3.6,-3.1l-0.6,-0.6l-2,0.5l0,-2.5l1,-0.5l3,0.1l1,-0.8l0.7,0.8l-0.7,3l-4,3.8zM152.5,32.8l-0.9,-0.3l1.2,-3l0.7,-3.9l0.6,2.9l-0.3,2l-0.2,1zM116.5,34.6l-1,-0.1l0,-2.1l0.2,1.1l1.3,1zM176.5,41.5l-1,0.4l-0.7,-0.4l-1.6,-2l0,-2l-0.7,-2.5l1,-0.1l4.3,1.6l1.1,1l-0.2,2zM150.5,37.6l-1.3,-0.1l1.3,-1.7l0.4,0.7zM-73.5,44.8l-0.5,-3.3l0.5,-4l0.7,2zM144.5,38.6l-3,0.3l-0.8,-0.4l0.8,-0.9l3.3,0.9zM147.5,43.7l-1.2,-0.2l-0.8,-2.1l2,-0.4l0.5,0.5l0.4,2zM169.5,44.6l-1,0.5l-0.4,-0.6l3.4,-2.9l1.3,0.9l-0.3,0.8z"/><path fill="#deefa2" d="M-130.5,-54.2l-2,-2.2l-1.4,-0.1l-1.3,-1l-0.1,-1l0.8,-0.2l1.8,1.2l0.2,0.7l2,0.4l0.6,0.9l0,1zM36.5,-52l-1,0.4l-0.6,-0.9l0.8,-2l0.8,-0.2l0.6,0.2l-0.4,1l0.6,1zM132.5,-31.4l-0.7,-0.1l-0.3,-0.9l-0.4,0.9l-1.6,-0.2l-1.1,-3.8l-1.9,-1.4l-1,-1.6l0.8,-2l3,-2l2.3,-3l1.1,-3l-0.1,-1l1.9,-1.1l0.6,1.1l-0.8,1l1.2,1l-1,0.7l-0.6,1.3l1.5,2l-1.8,2l-2.1,0l-1.4,1l-0.6,1l0,1l2,1.9l3,0l1,-0.5l0.7,0.6l-0.8,1l0.3,2l-0.6,1zM140.5,-34.5l-1,-1.2l-2,0.2l-1.8,-2l2.8,-1.7l1,0.7l2,-0.2l2,-4.1l0.7,1.3l-0.7,2.3l-0.8,0.7l-0.2,2.1zM-81.5,-37.5l-1,0.9l-0.9,-0.9l0.9,-0.5zM-80.5,-31l-1,0.3l-2,-2.1l-2,-0.5l-1,0.3l-2,2l-3.6,-1.5l0.6,-1.2l1,-0.3l1,0.9l2,-1.2l1,0l1,-1l2,1.2l1,-0.2l1,-1.5l0.5,0.3l0.2,2l0.8,1zM151.5,11.6l-3,-0.1l-3,-1.6l-1,-0.1l-0.9,0.7l-0.1,0.6l-0.9,-0.6l-4.7,-1l-1.5,-1l0.5,-1l-1.4,-1.4l-3,-0.5l-1,-0.8l-6,0.2l-2,1.5l1,1.2l2.7,-0.2l0.9,1l-1.6,2.2l-2,0.5l-6,-0.9l-10,-0.8l-3,-0.9l-6,-5.8l-2.2,-3.3l-0.1,-1l-3,-3l0.3,-1.6l3,-0.5l0.7,-0.9l-0.1,-6l-0.6,-1.8l-2,0.1l-1,-0.6l-0.4,-0.7l0,-2l-2,-3l-0.6,-2.6l-2.2,-2.4l2,-1l4.2,-0.4l1,0.2l1,1.6l1,0.3l2.9,-0.7l2.1,-1.4l1.2,0.4l0.4,3l1.4,0.4l1,-0.5l1.1,-1.9l-0.1,-1l-1.4,-1l0.4,-2.2l1,-0.9l3,1.6l1,-0.2l0.6,-0.3l0.4,-1.2l1,-0.4l1.6,1.6l0.1,1l1.3,0l1.6,1l0.5,2l-1.1,0.5l-1,-0.6l-1,0.2l-1,1.8l-1.6,0.1l0.6,0.8l1,-0.5l0,0.8l-2,0.2l-0.6,0.7l-0.6,0l-0.4,-1l-1.4,-0.7l-2.5,1.7l1,2l1.5,0.2l0.8,0.8l0.1,1l-0.9,0.7l-2,-0.2l-1,-1.3l-0.5,0.8l1.9,3l0.7,2l-0.1,1.7l-0.9,1.3l-3.1,1.1l-1,-0.1l-1.7,-2l-1.3,-0.6l-1.2,1.6l0.2,3l1,0.7l2,0.3l1.2,1l0.5,3l0.6,1l-0.6,1l3.3,5.6l1,0.1l0.6,-0.7l-2.5,-4l-0.1,-1l1,-2l1,-1l3,-1.4l3.2,-2.6l3.3,-5l-0.6,-3l0.6,-3l1.5,-0.9l2,0.1l1.2,0.8l0.1,3l0.5,1l2.6,2l0.1,2l0.7,2l0,2l-2.2,2.1l-3.8,-1.1l-0.9,-1l1.1,-2l-1.4,-0.9l-1.8,1.9l2.3,2l-1.2,2l0.7,0.9l4,0.4l3,-0.9l1,0.2l2,1.7l3,0.2l2,1.4l3,-0.1l4,1l5,2.9l1.6,-0.7l0.1,-1l1.3,-1.1l1,0.1l4,2.9l1,1.5l2.1,0.6l2.9,2.2l1.1,1.8l-1.1,0.6l-1,-0.3l-6,-3.2l-1,-0.9l-1,-0.1l-1.8,1.9l1.4,2zM-80.5,-28.1l-1.1,-0.4l1.1,-1.4zM-51.5,31.9l-1,0.5l-3,-1.2l-1,0.9l-1,-0.6l0.7,-2l-1.7,-0.7l-1,-0.1l-1,1.8l-3,0l-0.6,-1l-0.1,-2l0.7,-1.4l1,-0.1l0.7,0.5l0.2,1l1.1,0.6l1.3,-1.6l0.2,-2l1.3,-2l-0.8,-2.2l-2.6,2.2l-2.4,0.6l-1.2,-3.6l-2.3,-3l-7.2,-5l-3.2,-5l-0.6,-2l-1,-1l0.5,-1.6l-0.4,-1.4l-0.9,-1l1.2,-4l-0.9,-2l-5,-1.5l-4,-4.4l-3.9,-1.1l-3.1,-2.8l-2,0.9l-1,-0.1l-6,-3.7l-1.9,-2.3l-1.4,-3l0.3,-2.1l4.2,6.1l1.8,1.9l1,0.4l2.2,-0.3l-0.5,-3l0.3,-3l1,1.2l1,2.8l2,1.4l2,0.1l1,-0.5l1,-2.1l3,-0.1l0.6,1.2l-0.4,3l0.8,0.7l3,0.6l0.8,0.7l0.6,4l0.6,0.8l1,0.4l2,-0.1l3,1.9l1,-1.3l1,1.7l3,2.1l3,-1.1l3,0l1.4,-1.4l-1.4,-0.9l-2,0.4l-2,-0.9l-0.5,-0.6l0.5,-1.1l1.9,0.1l1.1,0.6l5,-0.4l1,2l2,1.5l2.1,0.3l3.9,1.9l4,4.9l1,0.2l0.5,1l3.5,2.8l2,0l1,0.6l2,0.3l1,1.1l1.3,0.2l0.7,1l-0.5,3l-2.2,4l-0.3,2.5l-2,5.7l-2,1.8l-4,1.6l-1.6,1.4l-1.4,2.6zM121.5,-22.2l-1,-0.3l0,-2.4l1,-0.1l0.6,0.5zM-66.5,-17.4l-4,-0.5l-3,0.2l-1,-0.3l-1,-1.9l-3,-0.8l-3,-1.5l-1,0.2l-0.9,-0.5l6.9,-0.4l2.2,1.4l0.8,1.6l4,0.1l4.4,1.3l-0.4,0.8zM76.5,-9l-3.2,-6.5l-0.7,-4l0.9,-2.9l0.6,0.9l0.3,5l2.4,4l0.6,2l-0.1,1zM82.5,-17.5l-1.6,-1l0.2,-1l0.4,-1l2,-1.1l1.3,1.1l-0.1,1zM-155.5,-18.4l-1.1,-1.1l1.1,-1.2l0.8,1.2zM-76.5,-17.3l-2,-0.1l-0.3,-1.1l2.3,-0.5l0.6,0.5l-0.1,1zM93.5,-11.3l-1,0.4l-0.5,-0.6l0,-2l0.5,-0.4l1.2,0.4zM33.5,18.7l-2.8,-2.2l0.8,-0.4l2,0.3l0.5,-1.9l-1.5,-1l-1.4,1l-0.8,1l0.1,1l-0.9,0.5l-3,-0.8l-9,0l-2.7,-0.7l-1.3,-2l-0.5,-2l0.2,-3l-0.9,-2l-3.2,-4l-0.6,-5l-1,-1.4l-2,0.3l-2,-1.4l-1,-0.1l-0.6,0.6l-3.4,0.3l-1,0.5l-6,0.1l-4,-2.7l-2,-2l-0.3,-2.2l2.3,-1.2l5,0.9l2,-0.5l2,1.2l2,-0.5l2,0.3l2,0.9l1,-0.4l2,0.1l1,1.3l3,-0.6l2,0.1l1,-1.1l1,1.1l2,-1.1l2,0.5l2,-0.6l3,1.2l2,-0.6l2,0.3l3,-1l1,0.9l2,0.4l5,-4.2l1,0.3l1.1,1.3l0.3,2l-1.4,4l-2,1.2l-1,0.2l-1,-0.4l-0.9,1l0.5,2l-0.6,0.7l-1,-0.4l-0.8,0.7l-0.1,2l0.9,2.2l1,-0.4l1.5,-1.8l-0.1,-1l0.6,-0.5l0.4,2.5l1.1,2l1.5,1.2l1,0l0.5,3.8l-0.4,2l0.8,2l-0.9,3l-2,1.3l-3,0.1zM81.5,-5.7l-2,-0.3l-0.2,-0.5l-0.4,-3l0.6,-0.6l2.2,0.6l0.5,3zM124.9,2.5l1.1,-1l-0.5,-0.9l-1.4,1.9l0.4,0.4zM-41.3,13.5l1.8,-1.7l1,-0.1l1.3,-1.2l0.4,-1l-0.4,-2l0.2,-1l-0.5,-0.8l-1,0.5l-3,-1.5l-2,0.7l-1,-0.4l-0.5,0.5l0.4,1l1.7,1l-0.6,2l-1.4,0l-0.2,1l1.6,2.3zM117.7,6.5l0.4,-1l-0.6,-0.6l-1.4,0.6l0.4,0.8zM142.5,13.6l-0.9,-1.1l0.9,-1.7l1.1,1.7zM47.5,25.8l-1,0.2l-1.7,-0.5l-0.1,-2l0.5,-1l-0.2,-6l1.5,-0.8l1,0.5l0,-3.7l2,-0.7l1,0.6l0.4,1.1l-0.4,6l-1.8,5zM-47.2,16.5l0.6,-1l-0.9,-2.3l-1.3,2.3l0.3,1.4zM168.5,17.4l-1,0.1l-2,-1.8l0,-0.5l1,-0.8l1,0l1.1,1.1l0.3,1zM147.5,20l-2,-1.1l-1.8,-3.4l1.8,-0.4l2.2,4.4zM178.5,19.6l-1,0l-1,-1.3l-0.1,-0.8l1.1,-1.1l1,0l1.1,1.1l0,1zM-49.9,19.5l-1.6,-0.7l-0.6,0.7l1.6,0.8zM167.5,23.6l-1.4,-0.1l-2.7,-2l0.1,-2.2l1.9,0.2l3.1,3zM32.5,29l-0.9,-0.5l0.9,-2.2zM153.5,31.4l-0.5,-0.9l0.5,-3.5l0.4,1.5zM28.5,33l-1,0.4l-0.4,-0.9l1.4,-0.9l0.7,0.9zM-57.5,36.5l-1,-1l2,-2.6l1,-0.4l1,2l-2,1.9zM26.5,33.7l-1,0.5l-0.7,-0.7l0.7,-0.4l1.9,0.4zM175.5,41.8l-2.1,-2.3l-0.1,-2l-0.7,-2l0.9,-0.4l4,1.4l1.3,1l-0.1,2zM-58.5,37.6l-1,0.5l-1.7,-0.6l1.7,-1l1,0.6zM-73.5,42.2l0,-3.7l0.3,1zM147.5,43.6l-0.6,-0.1l-0.8,-2l1.6,0l0.5,1z"/><path fill="#fff6b1" d="M-133.5,-56.6l-1.2,-0.9l0.2,-0.4l1.3,0.4zM133.5,-41.5l-3.2,-1l2.1,-3l0.1,-1l0.4,2l1.8,1l-0.2,1zM134.5,-32.5l-1.2,0l-0.3,-1l-1.5,-1.6l-1.4,0.6l-0.6,1l-1.6,-4l-1.4,-1.1l-0.2,-0.9l0.7,-1l1.5,-0.7l0.6,0.7l-0.4,2l3.4,2l0.4,0.7l1,-0.2l0.7,0.5l0.8,2zM143.5,-39.3l-0.9,-0.2l0.9,-2zM141.5,-35.4l-5.2,-2.1l1,-1l1.2,-0.3l1,0.7l2,0.4l1,0.7l0,0.5zM-81.5,-31.5l-1.1,-1l0.1,-0.5l1,0l0.4,0.5zM112.5,-23.9l-3,-2.2l-0.3,-2.4l0.3,-0.2l1,0.6l1,-0.3l2,2l2,-2l2,-0.4l0.6,0.3l-0.3,1l-1.3,0.4zM151.5,11.6l-2.8,-0.1l-3.2,-1.7l-1,-0.1l-1,0.8l-5.4,-1l-1.6,-1l0.5,-1l-1.5,-1.5l-3,-0.5l-1,-0.7l-6,0.1l-2.4,1.6l1.4,1.3l2.3,-0.3l1.2,1l-0.3,1l-1.2,1.2l-2,0.4l-6,-1l-9.5,-0.6l-3.5,-0.9l-6,-5.9l-2.2,-3.2l-0.1,-1l-2.9,-3l0.2,-1.5l1,-0.5l2.5,0l0.4,-1l-0.2,-6l-0.7,-2l-2,0.1l-1,-0.6l-0.2,-2.5l-2.1,-3l-0.7,-3l-1.6,-2l4.6,-1.2l2,0.3l1,1.8l1,0.1l4,-0.7l1,-1l0.6,0.7l0.1,2l3.3,2l1.1,2l0.9,0.5l1,-0.1l0.6,0.6l0.1,1l-0.7,0.6l-2,-0.3l-1,-1.4l-0.6,1.1l1.9,3l0.7,2l0,1.4l-1,1.5l-4,0.8l-1.6,-1.7l-1.4,-0.7l-0.9,0.7l-0.4,1l0.2,3l4.3,2l0.4,3l0.7,1l-0.7,1l3.4,5.7l1,0.1l0.7,-0.8l-2.5,-4l-0.1,-1l0.9,-2l1,-1l3,-1.3l3.3,-2.7l3.2,-5l-0.6,-3l0.7,-3l1.4,-0.7l2,0l1.2,0.7l0,3l0.5,1l2.7,2l0,2l0.8,2l-0.1,2l-2.1,2l-3.7,-1l-0.9,-1l1.1,-2l-1.5,-1l-1.8,2l2.1,2l-1,2l0.7,1l4,0.4l3,-0.9l1,0.2l2,1.7l3,0.1l2,1.5l3,-0.1l4,0.9l5,2.9l1.7,-0.7l0.1,-1l1.2,-1l1,0.1l4,2.9l1,1.7l0.7,0.3l0.1,1l-0.8,0.8l-2,-0.7l-1,-0.9l-1,-0.1l-1.8,1.9l1.4,2zM-102.5,-18.4l-2,-1.1l-1.6,-2l-0.7,-2l-0.8,-1l0.1,-1.2l1,0.6l0.7,1.6l3.4,4l0.3,1zM108.5,-23.6l-0.5,-0.9l0.5,-0.8l0.9,0.8zM121.5,-22.4l-1.1,-1.1l0.1,-1.1l1,-0.2l0.3,0.3zM-52.5,31.8l-1,-0.3l-1,-2l-1,-0.3l-1,-1.1l-2,-0.1l-0.6,-0.5l0.6,-2.8l1.4,-2.2l-1.4,-3.6l-1,1.1l-1,0.3l-1,1.4l-2,0.9l-0.8,-3.1l0.8,-0.8l1,0.7l1,-0.3l0.7,-0.6l-0.6,-1l-2.1,-1l-0.8,1l0.3,1l-0.5,0.6l-3,-3.3l-6,-3.8l-1.4,-1.5l-2.3,-4l-1.2,-3l1.1,-2l-0.2,-1.8l-1,0.7l-1.1,-0.9l1.1,-4l-0.1,-1l-0.7,-1l-5.2,-1.6l-4,-4.5l-3.7,-0.9l-3.3,-3l-2,0.9l-2.6,-0.9l-0.9,-1l1.5,-0.4l1,0.2l0.6,-0.8l-0.7,-3l0.2,-1l0.9,-0.4l0.8,2.4l0.9,1l2.3,0.7l2,-0.5l1,-2.1l3,-0.2l0.5,2.1l-0.5,2l1,0.8l3,0.6l0.7,0.6l0.6,4l0.7,0.9l4,0.7l1.6,1.4l0.4,1.5l3,0l2,1.5l3,-1.1l3,-0.2l2.6,-1.7l-2.6,-1.4l-1,-0.2l-1,0.6l-2,-0.9l0.5,-1.1l0.5,-0.1l2,1l5,-0.5l1,2.1l2,1.3l1.9,0.2l4.1,2l4,4.8l0.8,0.2l0.5,1l2.5,2l0.3,1l-2.1,1.7l-1,2.3l1,0.6l0.7,-0.6l0.8,0l-0.2,1l-1.3,0.2l-1,2.6l-1,-1.1l-1,0.3l0.7,2l-1.3,1l-0.3,2l0.9,2.6l2.1,-1.6l0.6,-1l-0.8,-1l0,-1l1.1,-1.9l4,2.5l2,-2l1.6,-0.6l1.4,-1.8l0.7,0.8l-1.5,3l-1.2,5.7l-1,2.4l-2.3,1.9l-3.7,1.5l-1.6,1.5l-1.4,2.5zM-67.5,-17.4l-2,-0.7l-4,0.2l-1,-0.5l-0.3,-1.1l-0.7,-0.6l-2,-1.3l-1.2,-0.1l-0.4,-1l2.9,0l1.8,1l0.1,1l0.8,0.9l5,0.1l3.3,1l-0.3,0.6zM-155.5,-18.5l-0.8,-1l0.8,-1.1l0.5,1.1zM82.5,-18.3l-0.3,-0.2l0.4,-2l0.9,-0.7l0.9,0.7l-0.2,1zM75.5,-11.1l-2,-4.4l-0.6,-4l0.6,-0.9l0.5,0.9l-0.2,3l0.7,0.5l1.8,3.5l0,1zM-76.5,-17.4l-1.7,-0.1l-0.4,-1l2.1,-0.4l0.5,0.4zM104.6,-14.5l-0.3,-1l-0.8,-0.4l-1,-0.1l-0.5,0.5l0.1,1l1.4,0.7l1,-0.2zM93.5,-11.3l-1,0.3l-0.4,-0.5l0,-2l0.4,-0.4l1.1,0.4zM38.5,16.9l-1,0.6l-2,-0.1l-1,-0.3l-0.3,-0.6l0.6,-2l-0.2,-1l1.3,-1l-0.4,-1.3l-1.6,0.3l-0.4,1.1l-2,1.1l-2,2.6l-0.9,0.2l-2.1,-0.9l-1,0.3l-2,-0.5l-2,0.7l-6,-0.5l-1,-0.9l-1,-2.2l0.1,-4l-4.6,-7l-0.8,-5l0.3,-1.1l-3,0.7l-2,-1.3l-1,-0.1l-1,0.9l-2,0l-1,-0.6l-4,1.4l-3,-0.1l-4,-2.6l-2,-2.1l0,-1.8l2,-1l4,0.9l3,-0.5l1,1.1l5,-0.2l1,1.5l2,-1.2l1,0.1l2,1.8l2,-0.1l1,1.2l0.7,-0.9l-0.2,-1l0.9,0l0.1,1l0.5,0.2l2,-0.1l0.5,-1.1l1.5,-1.1l2,1.1l1,-1.1l1,0l3,1.3l3,-0.2l4,-1.1l2.7,1.1l0.3,0.5l1.1,-1.5l3.9,-3.3l1,0.3l0.8,1l0.4,2l-1.6,4l-2.6,1.2l-1.4,-1.2l-0.6,-1.4l-1,-0.3l-0.8,0.7l1.4,2l0.1,2l-2,1l0.4,4l0.9,2l2.9,-3l0.1,-1.1l0,2.1l1.2,2l2.8,2.1l0.2,2.9l-0.5,2l0.9,2l-0.4,2zM81.5,-5.8l-2,-0.4l-0.4,-3.3l0.4,-0.4l2.1,0.4l0.5,3zM124.9,2.5l1.2,-1l-0.6,-1l-1.4,2l0.4,0.4zM-35.5,10.2l-0.8,-0.7l-0.2,-2l0.1,-1l0.9,-1.1l0.7,1.1zM117.8,6.5l0.3,-1l-0.6,-0.6l-1.6,0.6l0.6,1zM162.5,10.6l-1,0.4l-1,-0.3l-1.5,-1.2l1.5,-1.1l1,0.6zM27.4,11.5l0.9,-1l-0.8,-0.9l-2.1,0.9l0.2,1l0.9,0.8zM47.5,25.7l-1,0.2l-0.9,-0.4l-0.6,-1l0.9,-5l0.9,-1l-1.5,-1l0.2,-1l1,-0.2l1,1.2l0.5,-2l-0.5,-2.2l0.4,-0.8l1.6,-0.4l1,0.5l0.3,0.9l-0.3,6l-1.8,5zM27,14.5l-0.5,-1.7l-1,0.4l0,0.9l1,1.2zM168.5,16.8l-1,0.2l-1,-0.4l-1,-1.3l2,-0.8l1.1,1zM146.5,19.4l-1,-0.9l-0.4,-3l0.4,0l1,2.1l0.3,0.9zM178.5,19.6l-1.1,-0.1l-0.9,-1.8l1,-1.2l1,0l1,1l0,1zM-49,20.5l-0.1,-1l-1.4,-1l-1,-0.4l-1.3,0.4l0.3,1.6l2,1l1,0zM167.5,23.5l-1.3,0l-2.7,-2l0,-2.1l1,-0.1l2.1,1.2l1.8,2zM-61.5,29.9l-1,0.2l-0.8,-0.6l-0.2,-2.4l1,-0.2l1.3,1.6l0.2,1zM-56.5,35.8l-1.2,-0.3l1.2,-0.8zM175.5,41.6l-2,-2.4l-0.6,-3.7l0.6,-0.3l3.7,1.3l1.4,1l0,2z"/><path fill="#fde0a1" d="M133.5,-42.5l-1.8,-1l0.8,-0.5l1.2,0.5zM139.5,-37.3l-2,-0.2l1,-0.5zM130.5,-35.4l-1,-0.3l-0.6,-0.8l0.6,-0.8l1.6,0.8zM151.5,11.5l-2.6,0l-3.4,-1.7l-1,-0.1l-1,0.6l-5.2,-0.8l-1.8,-1l0.6,-1l-1.6,-1.5l-3,-0.5l-1,-0.7l-6,0.1l-3,1.6l1,0.3l1,1.1l1.8,-0.4l1.6,1l-0.3,1l-1.1,1.2l-2,0.3l-4.3,-0.5l-1.7,-0.6l-2,0.2l-7.1,-0.6l-3.9,-0.9l-6,-5.9l-2.1,-3.2l-0.1,-1l-3,-3l0.2,-1.5l4.1,-0.5l-0.4,-2l0.1,-5l-0.8,-2.2l-2,0.2l-1.2,-1l-0.1,-3l-1.7,-1.7l-0.6,-3.3l-1.5,-2l4.1,-1l2,0.5l1,1.6l5,0l4,2.4l1.5,1.5l0.3,1l-1.6,2l2,3l0.8,3l-0.4,1l-1.6,1.2l-3,0.3l-2,-2l-1,-0.3l-1.1,0.8l-0.4,3l0.5,1.3l4.1,1.7l0.5,3l0.6,1l-0.7,1l2.5,3.5l1,2.3l1,0.1l0.7,-0.9l-2.3,-4l0.6,-2.8l1,-1.1l3,-1.4l3.4,-2.7l1.6,-3l1.6,-2l-0.7,-3l0.8,-3l3.3,-0.6l1.1,0.6l0.5,4l2.7,2l0.1,2l0.7,2l0,2l-2.1,1.8l-3,-0.6l-1.5,-1.2l1.1,-2l-1.6,-1l-1,0.5l-0.8,1.5l1.8,2l-0.8,2l0.8,1.1l4,0.4l3,-1l1,0.2l2,1.8l3,0.1l3,1.7l2,-0.4l4,1l5,2.9l1.7,-0.8l0.1,-1l1.2,-1l1,0.3l4,2.7l1.1,2l-0.1,1l-1,0.4l-2,-1.3l-1,0l-1.1,0.9l-0.7,1l1.3,2zM112.5,-25.1l-1,0l-1.5,-1.4l0.5,-0.9l1,-0.1l1.5,2zM-104.5,-19.9l-1.4,-1.6l-0.2,-1l0.6,-0.4l1.2,1.4l0.3,1zM-52.5,31.1l-1.3,-0.6l-0.5,-2l-2.9,-2l-0.1,-1l1.1,-2l-1.3,-3l0,-3.1l-1.4,0.1l-0.6,1.5l-2,-2.3l-2,-0.7l-2,1.3l-4,-3.3l-4.3,-2.5l-3.2,-5l-1,-3l1.5,-4l-1,-0.3l-1,0.8l-0.8,-0.5l0.9,-5l-1.1,-1.2l-5,-1.5l-4,-4.6l-3.6,-0.7l-3.4,-3.2l-1,0l-1,-0.8l-0.1,-2l-0.9,-2l1,-0.9l0.4,1.9l0.9,1l2.7,0.9l2,-0.5l1,-2.1l3,-0.1l0.4,1.8l-0.4,2.3l1,0.7l3,0.5l0.6,0.5l0.3,3l1.1,2l3,0.3l2.3,1.7l0.4,2l-0.3,2l0.6,0.7l0.8,-0.7l-0.4,-1l0.6,-0.5l2,-0.5l2,1.4l3,-1.2l2,0l2.9,-1.2l1.4,-1l-1.2,-2l0.9,-0.5l1,0l1,2.2l2,1.2l1.4,0.1l3.6,1.5l2,1.4l2.2,3.1l4,4l-2.5,5l-0.2,2l-1.5,0.1l-1,1.7l-1,-0.4l-2,0.8l-2.2,1.8l0.2,0.6l3,-1.9l1.2,0.3l-0.5,2l0.3,1l0.9,1l0.3,2l-1.2,-0.8l-1,0l-2.3,0.8l1.3,3.2l3,0l1.4,-1.2l0.1,-1l0.5,-0.4l1,1.1l1.6,0.3l-0.5,-2l-1.3,-1l1.2,-1l0.2,-1l-0.5,-2l0.3,-0.7l1,0.1l3,1.8l1.7,-2.2l1.3,-0.4l2.1,-1.6l-3.1,10.9l-2.7,2.1l-3.3,1.4l-1.7,1.6l-1.3,2.3zM-74.5,-20.1l-1.3,-0.4l-0.7,-1l2,0zM95.6,-18.5l0.6,-1l0.2,-2l-0.9,-0.3l-0.7,2.3l0.3,1zM73.5,-16.8l-0.3,-2.7l0.3,-0.5zM110.5,-18.1l-2.1,-0.4l-0.4,-1l0.5,-0.7l2.4,0.7l0.2,1zM-76.5,-17.5l-1,-0.1l-1,-0.9l2,-0.2zM-65.5,-18.2l-2,0.6l-1,-0.7l-5.6,-0.2l0.6,-0.7l1,0.5l3,-0.7l1,0.6l3,0.2zM-97.5,-16l-2.3,-0.5l-0.6,-1l0.9,-0.1l1,0.5l1,-0.4l0.8,1zM104.7,-12.5l0,-3l-2.4,-1l-0.8,0.8l0.1,1.2zM74.5,-13.2l-0.4,-1.3l0.4,-1.1l0.8,2.1zM93.5,-11.4l-1,0.3l-0.3,-0.4l0.3,-2.3l0.9,0.3zM35.5,-4.5l-0.9,-1l-1.1,-3l0.5,-1l3.5,-3.1l1.6,1.1l0.4,2.4l-1,1.2l-0.8,2.4zM-66.5,-10l-1.5,-0.5l0.5,-0.6l1.6,0.6zM-63.5,-9.6l-1.5,-0.9l2.4,0zM5.5,-4.2l-2,-1.1l-1,-0.1l-0.9,0.9l-0.9,0l-0.2,-0.5l-1,0.2l-1,-0.8l-1,0.2l-1,1l-5,0.5l-4.1,-2.6l-1.9,-2l-0.1,-1l2.1,-1.2l1,0l2,1.4l2,-0.7l2,-0.1l0.5,0.6l-0.5,1.3l3,-1l2,0.3l2,1l2,-1.3l1,0.2l2,1.7l1,-0.1l1.4,0.9l0.2,1zM81.5,-6l-2,-0.4l0,-3.3l2,0.1l0.5,2.1zM38.5,16.7l-1,0.4l-2.4,-0.6l0.4,-1l-0.1,-2l0.9,-1l0,-1l-1.8,-0.8l-1,0.4l-0.7,1.4l-1.3,0.6l-2,2.4l-1,0.6l-1.2,-0.6l0.7,-3l0.9,-1l-0.1,-3l1.6,-1l-0.9,-1.3l-1.3,0.3l-1.4,3l-1.3,0.2l-0.6,0.8l-0.5,2l0.5,2l-0.4,0.6l-1,-0.3l-3,1.1l-5,-0.7l-1.4,-1.7l-0.5,-2l0.5,-2l-0.4,-2l-4.6,-6l-0.6,-5l1.7,-3l0.3,-0.4l2,0.3l1,-0.4l2,-1.9l1,1.2l2,-0.2l0.8,0.4l1.2,1.3l1,-0.3l0.2,-1l3.8,-0.3l3,-1.2l3,1.2l0.2,0.3l-1.2,0.9l-1,-0.5l-0.4,0.6l0.4,0.6l1,-0.1l1,1.3l1,0.1l0,1.6l-1,0.5l-1,-1.8l-1.5,1.8l0.5,1.2l1,0.1l0.6,1.7l0.5,3l-0.7,2l0.1,2l1.2,1l0.3,1.3l1,-0.1l1,-1.1l-0.1,-1.1l-2.2,-1l2.3,-3.7l1,0.3l0.8,1.4l-0.1,2l1.3,-0.2l1.7,1.2l0.3,2l-1,3l1,0.3l0.3,0.7l-0.3,0.8l-1.1,0.2l0.8,1zM125,2.5l1.2,-1l-0.7,-1.1l-1.5,2.1l0.5,0.5zM117.9,6.5l0.3,-1l-0.7,-0.7l-1.8,0.7l0.8,1.2l1,0.2zM-35.5,9.7l-0.5,-3.2l0.5,-0.7l0.4,0.7zM19.1,7.5l-1.6,-0.4l-0.3,0.4l0.3,0.5zM162.5,10.5l-2,0.1l-1,-1.1l1,-0.9zM47.5,25.7l-1.7,-0.2l-0.3,-2l1.1,-2l0.1,-2l0.9,-1l0.7,-3l-0.5,-2l0.6,-1l1.1,-0.2l1.2,1.2l-0.4,6l-1.7,5zM167.5,16.6l-1,-0.1l0,-1l1.7,0zM178.5,19.5l-1,0l-0.6,-2l0.6,-1l2,1.2l0,0.8zM-62.5,21.8l-1,0.3l-0.3,-0.6l0.3,-2.2l2,1.2zM166.5,23.6l-2.7,-2.1l-0.3,-2.1l1,0l2,1.1l1.5,2l-0.7,1zM175.5,41.5l-1.1,-1l-0.9,-1.9l0,-3.2l3.4,1.1l1.5,1l0.1,2l-1,1z"/><path fill="#fcc78f" d="M150.5,11.7l-5,-2l-1,-0.1l-1,0.5l-5,-0.6l-1.8,-1l0.4,-1l-1.6,-1.6l-2.8,-0.4l-1.2,-0.8l-6,0.1l-2,1.4l-1.6,0.3l1.6,0.5l1,1l1,-0.5l2,0.6l0.1,1.4l-1.1,1.1l-1,0.2l-4.8,-0.3l-2.2,-0.8l-2,0.3l-6,-0.4l-5,-1.1l-0.5,-1l-2.7,-2l-2.8,-2.9l-2.1,-3.1l-0.1,-1l-2.9,-3l0.1,-1.4l4.3,-0.6l-0.5,-2l0.3,-4l-1.1,-3.3l-2,-0.1l-1,-0.6l0,-1l1,-0.4l1,-1.6l0.2,-2l-1.2,-0.6l-1.2,1.6l-0.8,0.4l-1,-1.4l-0.2,-3l-0.8,-1l-0.1,-1l1.1,0.6l2,-1.1l2,0.4l0.1,1.1l5.9,1.1l3,1.1l2.3,1.8l0.3,1l-1.5,2l2,3l0.7,2l-0.3,2l-1.5,1.1l-2,-0.2l-1,0.4l-2,-1.9l-1,-0.4l-1.2,1l-0.4,3l0.6,1.4l4.1,1.6l0.4,3l0.7,1l-0.8,1l2.6,3.6l1,2.3l2,0.4l1.9,-0.3l-1.9,-0.2l-0.5,-1.8l-1.6,-2l-0.4,-2l0.5,-1.6l1,-1.2l5,-2.7l1.5,-1.5l1.5,-2.9l1.7,-2.1l-0.2,-2l-0.5,-1l0.8,-3l3.2,-0.5l1.1,0.5l0.4,4l2.8,2l0,2l0.8,2l0,2l-2.1,1.5l-3.5,-0.5l-0.9,-1l0.2,-1l0.9,-1l-1.7,-1.2l-1,0.5l-0.9,1.7l1.7,2l-0.6,2l0.8,1.2l4,0.4l3,-1l1,0.1l2,1.8l3,0.1l3,1.8l2,-0.4l4,0.9l5,2.9l1.8,-0.8l0,-1l1.2,-0.8l1,0.2l4,2.8l0.6,0.8l0.2,2l-0.8,0.3l-2,-1.2l-1,-0.1l-1.9,2l1.3,2l-0.4,1zM-104.5,-20.5l-1.2,-1l0.2,-1l1.1,1zM-55.5,19l-1,0.3l-0.4,-0.8l0.5,-1l-1.1,-1.7l-2,1.2l-1.1,-0.5l1.2,-2l-1.1,-0.1l-1,1.4l-2,-0.2l-2,1.1l-3.4,-2.2l-0.6,-0.8l-4.1,-2.2l-3.3,-5l-0.5,-2l0.1,-2l1.2,-3l-0.2,-1l-0.2,-0.5l-2,1.6l-0.8,-1.1l1.1,-4l-1.3,-1.3l-5,-1.5l-4,-4.7l-3.4,-0.5l-4.5,-4l-0.6,-1l0.5,-1l1,0.6l3,0.3l1.6,-0.9l0.4,-1.4l3,0l0.2,1.4l-0.5,2l0.3,0.5l4.5,1.5l0.3,3l1.2,2.2l3,0.2l1.2,0.6l1.2,2l-0.4,3.7l1,0.7l3,-2.3l2,0.7l3,-1.3l2,0l3,-1.3l1.7,-1.2l-1.3,-2l0.6,-0.3l1.3,0.3l-0.1,1l0.8,1l7,2.7l2,1.2l5.7,7.1l-2.7,6.5l-1.5,0.5l-0.5,0.8l-2,0.1l-4,3.1l0.1,1l0.9,0.5l2,-1.3l1,0.6l0.2,1.2l0.9,1l-1.8,1l-2.3,0.5zM110.5,-18.2l-1.7,-0.3l-0.5,-1l2.2,-0.2l0.4,1.2zM-65.5,-18.4l-2,0.4l-0.7,-0.5zM105.2,-12.5l-0.2,-3l-1.5,-1.1l-1.9,0.1l-0.3,2l3.2,2.6zM92.5,-11.2l0,-2.5l0.6,0.2l0.3,2zM36.5,-5.1l-1,0.2l-0.5,-0.6l-1.2,-3l3.7,-3.8l1.4,0.8l0.4,2l-0.9,1l-0.9,2.8zM5.5,-4.5l-2,-1l-5,-0.9l-2,1.2l-2,0.1l-3,1l-4,-2.4l-1.8,-2l0.4,-1l1.4,-0.7l1,0l2,1.8l3,-1.4l0.7,0.3l-0.3,2l0.6,0.9l2,-1.9l4,1.1l1,-0.1l2,-1.4l3,1.9l1,-0.1l0.8,0.6l-0.2,1zM81.5,-6.1l-1.7,-0.4l-0.1,-3l1.8,0l0.3,2zM28.5,-6.5l-2.1,-1l2.1,-1l0.7,1zM21.5,15.6l-5,-0.3l-2.1,-1.8l0.1,-1.8l1,0.4l0.5,-0.6l-1.5,-2l0.1,-2l0.9,-0.4l2,1.9l3.8,-1.5l-0.8,-1.3l-7,0.1l-2,-1.7l-2,-2.7l-0.6,-2.4l-0.2,-3l1.8,-2.5l2.9,-0.5l1.1,-0.9l1,0l3,0.6l2,1.3l3,-2l2,0.6l1,1.7l3,0.2l0.5,0.5l-1.3,1l-0.3,1l1.1,1.9l1,0.2l0.7,3.9l-0.7,1.3l-3.6,0.7l-1.8,1l0.4,0.7l1.2,0.3l-0.2,0.9l-1,0.2l-0.9,0.9l-1.1,4.3zM125.1,2.5l1.1,-1l-0.7,-1.3l-1.5,2.3l0.5,0.5zM33.5,6.7l-0.3,-0.2l0.2,-1l1.1,-2l1,0.4l0.4,0.6l-0.4,0.9zM118,6.5l0.2,-1l-0.7,-0.7l-1.9,0.7l0.9,1.3l1,0.2zM139.5,8.5l1,-0.8l1,0.2l0.4,-0.4l-3,0zM30.5,13.5l-1,-0.3l-0.4,-0.7l0.8,-1l-0.9,-2l0.3,-1l1.2,-0.5l1.1,0.5l0.9,3zM37.5,12.4l-2.8,-2.9l1.8,-1.6l2,0.2l0.6,1.4zM161.5,10.7l-1,-0.2l-0.5,-1l0.5,-0.4l1,0.5l0.7,0.9zM-48.5,28.6l-2,0.8l-1,-0.4l-1,0.2l-3.6,-2.7l-0.5,-1l1.1,-1.8l1.1,-0.2l0.1,-1l-2.2,-0.7l0.1,-1.3l0.9,-0.5l2,1.1l1,1.1l3,0.1l1,-0.9l0.9,0.1l0.1,1.2l0,-1.2l5,-1.5l1.1,-1.5l-0.1,-0.4l-1,0.9l-1,-0.1l-1.6,-1.4l0.6,-3.7l1.9,0.7l1.1,1.7l1,0.4l-0.6,-1.1l1.6,-2.9l2,-0.2l0,1.8l-1,2.3l-0.1,2l-0.9,2.6l-3,2.4l-3,1.3l-1.8,1.7zM37.5,16.8l-0.9,-0.3l-0.7,-3l0.6,-0.7l0.9,0.7l0.7,2l0.2,1zM47.5,25.6l-1.4,-0.1l-0.4,-2l1.1,-2l1.7,-5.8l-0.3,-2.2l1.3,-0.9l1.1,0.9l-0.4,6l-1,2l-0.7,3zM28.5,15.7l-0.4,-0.2l0,-1l0.4,-0.7l0.7,0.7zM178.5,19.5l-0.9,-1l0.9,-0.5l0.5,0.5zM166.5,23.5l-1,-1.7l-1.3,-0.3l0.1,-1l-0.8,-0.5l0,-0.5l1,0l0.4,1l2.8,2zM-63.5,21.5l0,-1.5l1.1,0.5zM176.5,40.8l-1,0.4l-0.8,-0.7l-1.2,-4.4l3.1,0.4l1.2,1l-0.6,1l1,1z"/><path fill="#fbac79" d="M150.5,11.7l-5,-2l-2,0.3l-4.6,-0.5l1.6,-0.7l2,0l0.1,-1.3l-1.1,-0.7l-3,0.5l0.2,1.2l-1.2,0.4l-0.6,-0.4l0.3,-1l-1.7,-1.6l-6,-1.4l-4,0.2l-2,1.3l-2.2,0.5l2.2,0.6l1,1l1,-0.5l2,0.7l0,1.2l-1,1.1l-5.4,-0.1l-2.6,-1.1l-2,0.4l-6,-0.3l-4,-1.3l-1,0.1l-1,-1.5l-1,-0.3l-4,-3.9l-2.1,-3.1l0,-1l-3,-3l0.1,-1.3l4,-0.3l0.5,-0.4l-0.6,-2l0.4,-4l-0.9,-3l-0.4,-0.5l-2.4,-0.5l1.7,-3l0.2,-2l-0.5,-0.9l-1,0.1l-2,2l-0.8,-1.2l0,-2l1.7,-3l1.1,0.3l1,1.1l3,0.2l2.7,1.4l3.3,0.4l2,1.6l0.3,1l-1.4,2l2.1,3l0.6,2l-0.2,2l-1.4,1l-3,-1l1,-1l-0.2,-3l-2.8,-1.6l-1,0.4l-0.6,1.2l0.1,1l1.4,1l-2.3,2l-0.3,3l0.1,1l1.6,1.2l3.1,0.8l0.3,3l0.8,1l-0.8,1l0.3,1l2.3,2.7l0.2,1.3l0.8,1l2,0.7l5,-0.6l1,1.4l1,0.1l0.6,-0.6l0.2,-1l-0.8,-0.8l-2,0.6l-5,-0.3l-0.5,-1.5l-1.6,-2l-0.3,-2l0.4,-1.4l1,-1.3l5,-2.8l2.4,-2.5l0.6,-1.7l1.7,-2.3l0,-2l-0.7,-1l0.9,-3l3.1,-0.4l1.1,0.4l0.3,4l2.8,2l0.1,2l0.8,2l-0.1,2l-1,1.1l-4.4,-0.1l-0.9,-1l0.1,-1l1,-1l-1.8,-1.4l-1,0.5l-0.9,1.9l1.5,2l-0.4,2l0.8,1.3l4,0.4l3,-1l1,0.1l2,1.8l3,0.1l2,1.6l1,0.2l1.2,-0.5l4.8,0.9l5,2.9l1.8,-0.8l0.2,-1.1l1,-0.5l1,0.2l4,2.7l0.7,1.7l-0.1,1l-0.6,0.2l-3,-1.3l-1,0.8l-0.9,1.3l1.3,2l-0.4,0.9zM-77.5,-1.5l-1,0.8l-0.6,-0.8l1,-3l0,-1l-0.8,-1l-5.6,-1.9l-2.2,-2.1l-1,-2l-0.8,-0.6l-3.2,-0.4l-3.3,-3l-1.5,-2l4,0.1l1.8,-1.1l0.2,-1.2l1,0.8l2,-0.7l0,2l-0.5,1.1l0.5,0.8l4,0.8l0.4,0.4l0.2,3l1,2l1.4,0.6l2,-0.1l1.1,0.5l0.7,1l0.4,1l-0.4,5zM92.5,-11.3l0,-2.3l0.5,2.1zM36.5,-5.4l-1.2,-0.1l-1.2,-3l3.4,-3.5l1.2,0.5l0.2,2l-0.9,1l-0.5,2.3zM-60.5,-9.7l-1.3,-0.8l1.3,-0.2zM-7.5,-4.5l-1.5,0l-3.3,-2l-1.6,-2l0.4,-0.6l1,-0.7l3,1.6l2,-0.2l0.7,0.9l0.2,2zM7.5,-5.4l-2,0.1l-3.8,-1.2l0.4,-1l1.4,-1l2,1.4l2.3,0.6zM81.5,-6.3l-1.2,-0.2l-0.4,-2l0.6,-0.9l1,0.2zM-56.5,16.7l-1.1,-2.2l-2.9,-0.8l-1,1.5l-1,0.3l-1,-0.3l-2,0.9l-3.2,-1.6l-0.8,-1.9l-2,0l-2.9,-2.1l-2.3,-4l-0.6,-3l1.4,-3l0.6,-3l3.8,-2.1l2,1.3l0.1,-1.2l1.4,-1l3.5,-0.6l4,-2.3l4,1.3l2,1.3l2,0.2l2,1.1l5.3,7l-0.3,1l-1.6,3l-0.6,2l-1.8,1.1l-2,0.4l-4.2,2.5l-0.7,2l1.3,1zM21.5,14.8l-1,0.4l-4.3,-0.7l2,-2l-0.6,-2l1.9,-1.5l2,-0.5l0.6,-1l-0.8,-1l-0.8,-0.6l-2,0.2l-2,-0.6l-3,0.3l-1,-0.4l-3,-3.9l-0.6,-5l2.6,-2.6l4,-0.9l3,0.9l2,1.5l3,-2.2l1,0l2,2.1l0.8,0.2l0.1,2l2.1,2.5l1,0.2l0.4,3.3l-0.4,0.6l-4,1.1l-2,1.3l0.4,1l-1.5,2l0.4,1l-0.2,1l-1,1zM125.1,2.5l1.2,-1l-0.8,-1.5l-1.6,2.5l0.6,0.6zM-55.9,9.5l0,-1l-0.6,-0.2l-0.6,1.2l0.6,0.5zM16.5,11l-1.5,-1.5l0.5,-1.5l1.6,1.5l0.3,1zM31.5,10.8l-1,-0.1l-1,-0.9l0,-0.7l1,-0.4zM37.5,11.4l-1.4,-0.9l-0.6,-1l1,-0.6l2,0.1l0.3,0.5zM-38.5,15.9l-1,0.2l-0.6,-0.6l0.3,-2l1.3,-0.9l0.9,0.9zM47.5,25.5l-1.1,0l-0.6,-1l2.7,-8l0.1,-3l0.9,-0.6l1,0.6l-0.5,6l-1,2l-0.6,3zM-43.5,17.8l-1.1,-1.3l0.2,-1l0.9,-1l0.9,2l-0.3,1zM-52.5,16.8l-1,0.4l-1.7,-0.7l1.7,-1.3l1.6,1.3zM-49.5,28.9l-2,-0.6l-1,0.3l-2.9,-2.1l-0.6,-1l0.9,-1l1.6,-0.6l1.9,1.6l0.1,1.3l1,0.4l0.4,-2.7l0.6,-0.6l2,-0.3l1.8,-2.1l3.6,-1l1.6,-2.9l1,-0.2l0.6,1.1l-0.6,2.3l-1.9,1.7l-4.1,2.2l-3,3.7zM-51.5,24.2l-1,-0.1l-0.3,-0.6l1.3,-1.1l0.5,0.1l0.2,1zM176.5,38l-2,0.1l0,-1.3l2,0.4l0.3,0.3zM176.5,40.6l-1,0.3l-1,-1.4l1,-0.9l2.2,0.9z"/><path fill="#f88f60" d="M150.5,11.6l-5,-1.9l-2.8,-0.2l0.2,-2l-1.4,-1.1l-3,0.4l-0.2,1.7l-0.8,0.3l-0.5,-0.3l0.3,-1l-1.8,-1.7l-6,-1.4l-4,0.3l-2,1.2l-2.9,0.6l2.9,0.8l1,0.9l3,0.3l-1,2l-5.1,0l-2.9,-1.4l-2,0.6l-5.9,-0.2l-4.1,-1.6l-1,0l-5,-4.2l-3,-4.2l0,-1l-3.1,-3l0.1,-1.2l4,-0.2l0.7,-0.6l-0.5,-2l0.3,-3l-0.9,-4l-0.6,-0.6l-1.6,-0.4l1.2,-3l0.2,-2l-0.5,-1l-1.3,-0.1l-2,2l-0.6,-0.9l0.3,-2l2.3,-1.6l3,0.3l1.4,0.3l0.6,1l5,0.6l1.6,1.4l0.4,1l-1.3,2l2.3,3.2l0.5,1.8l-0.3,2l-1.2,0.8l-2.4,-0.8l0.6,-1l-0.1,-3l-2.1,-1.6l-2,0.1l-0.8,1.5l0.1,1l1.2,1l-2,2l-0.3,3l0.1,1l1.7,1.4l3,0.6l0.3,3l0.8,1l-0.8,1l0.2,1l2.5,2.8l0.4,2.2l2.6,1.1l5,-0.7l1,1.2l1,0.1l0.7,-0.7l0.1,-1l-0.8,-0.8l-5,0.4l-2,-0.4l-0.4,-1.2l-1.6,-2l-0.1,-3l1.1,-1.5l5,-2.9l2.6,-2.6l0.4,-1.5l0.9,-0.5l0,-1l0.9,-1l0,-2l-0.5,-1l0.6,-3l3.1,-0.2l1,0.2l0.4,4l2.8,2l0.8,5.1l-1,1.9l-0.6,0l-1.4,-1.3l-1.1,1.3l-0.9,0.1l-1.2,-1.1l0.1,-1l1,-1l-1.9,-1.6l-1.6,0.6l-0.4,2l0.3,1l1.1,1l-0.3,2l0.9,1.5l5,0.2l0.8,-0.7l2.2,-0.2l2,1.9l3,0l2,1.7l3,-0.1l4,0.7l2,0.8l2,1.8l1,0.3l1,-0.2l0.9,-0.7l0.1,-1.1l2,-0.1l1,1.1l1,0.1l2,1.4l0.6,1.6l-0.2,1l-0.4,0.2l-3,-1.5l-1,0.9l-1,1.4l1.3,2l-0.3,0.7zM-78.5,-0.9l-0.4,-0.6l0.8,-2l0.2,-2l-0.8,-1l-5.8,-2l-2.1,-2l-0.8,-2l0.3,-1l-4.4,0l-3.3,-3l-0.8,-2l3.1,0.3l2,-1.2l1,0.4l1.5,-0.5l-0.2,2l0.7,1.1l4.3,0.9l0.2,3l1,2l1.5,0.7l2,-0.1l1,0.5l0.7,0.9l-0.2,6zM36.5,-5.8l-1,-0.1l-1.1,-2.6l3.1,-3.2l1,0.5l0.2,0.7l-1.2,2l-0.2,2zM-8.5,-4.5l-3.5,-2l-1.5,-2l1,-0.9l2,1.1l2.9,0.8l0.5,2zM81.5,-6.4l-1,-0.7l0,-1.8l1,0.1zM-65.5,15.6l-1,-0.9l-2,-0.6l-0.2,-1.6l-0.8,-0.7l-1,0.7l-3,-1.3l-3,-4.7l-0.5,-3l0.5,-1.6l3.2,-0.4l0.8,-1.4l1,-0.6l-2,-0.7l-0.2,-1.3l2.2,-1.7l2,1.5l2,-2.8l3,-0.3l4,-2.3l4.8,1.6l1.2,1.3l2,-0.2l2,0.9l5,7l-2,4l-1,-1.1l-1,0.5l-0.2,0.6l1.2,0.2l0.7,0.8l-0.4,1l-2.4,1l-1.9,0.1l-1,1.4l-2,0.6l-2,2l-3,-0.4l-1,1.6zM4.5,-6l-1.5,-0.5l-0.2,-1l0.7,-0.4l1,0.2l0.9,1.2zM23.5,8.3l-3,-2.8l-2,0.1l-2,-0.8l-4,0.3l-2.8,-3.6l-0.6,-5l0.4,-0.7l2,-1.5l4,-0.9l3,1.2l0.8,0.9l0.2,2.4l0,-1.4l3,-2.2l2,-0.5l1.7,1.7l0.6,2l2.7,3l1,0.4l0.3,1.6l-0.3,1.1l-2,0.4l-4,2zM-68.9,1.5l-1.6,-1.4l-0.8,0.4l1.8,1.2zM125.2,2.5l1.1,-1l-0.8,-1.7l-1.6,2.7l0.6,0.7zM-56.4,10.5l1.8,-2l-0.9,-1l-1.9,1l-0.3,1zM22.5,11l-1.2,-0.5l1.2,-1.1zM37.5,10.8l-0.6,-0.3l-0.1,-1l0.7,-0.2l0.6,0.2zM-39.5,15l0,-1.5l1,-0.4l0.4,0.4l-0.4,0.9zM20.5,14.5l-2.7,0l0.5,-1l1.2,-0.7l1.8,0.7zM47.5,25.4l-1,0l-0.5,-0.9l1.4,-3l1.4,-5l0.2,-3l0.5,-0.4l0.6,0.4l0.3,2l-0.5,4l-1.1,2l-0.6,3zM-40.5,21.4l-1,-0.9l1,-2.3l1,-0.4l0.3,1.7l-0.3,1zM-49.5,28.6l-0.7,-1.1l0.7,-3l2,-0.5l2,-2.2l2,-0.9l1,0l0.9,0.6l-0.3,1l-3.6,2.1l-3,3.5zM-52.5,28l-2.9,-2.5l1.9,-0.9l1,0.5l0.8,2.4z"/><path fill="#f66f46" d="M150.5,11.6l-6,-2.4l-1.3,0.3l0.1,-2l-0.8,-1l-1,-0.4l-3,0.3l-0.5,2.1l-0.5,0.2l-0.2,-1.2l-1.8,-1.8l-2.3,-0.2l-3.7,-1.4l-3,0.2l-2.2,1.2l-4.3,1l3.5,1l1,0.8l2.4,0.2l-0.9,2l-4,0l-3.5,-1.7l-2,0.8l-2,-1.1l0.6,1l-3.2,0l-3.8,-1l-4.6,-2.2l-4,-3.8l-1.9,-3l-0.1,-1.3l-1,-0.7l0.5,-1l-0.3,-1l-0.3,0l-0.1,1l-0.8,0.1l-1,-1.1l0,-1.1l4,-0.2l0.9,-0.7l-0.3,-7l-0.9,-2l-0.7,-0.8l-1,-0.2l0,-1l1.2,-3l-0.4,-2l-1.8,-0.3l-2,1.8l-0.3,-0.5l0.6,-2l1.7,-0.9l3,-0.3l1,0.4l1,1.3l4,-0.1l2.2,1.6l0.4,1l-1.1,2l2.5,3.5l0.4,1.5l-0.3,2l-1.1,0.6l-1.9,-0.6l0.3,-4l-2.4,-1.8l-1,-0.3l-1,0.3l-1.1,1.8l0.1,1l1.2,1l-1.9,2l-0.2,4l1.9,1.6l3,0.4l0.2,3l0.9,1l-0.9,1l0.2,1l2.6,2.8l-0.2,2.2l1.8,1l-0.4,1l0.8,0.6l1,-0.7l1,0.4l0.6,-0.3l-0.4,-1l0.8,-0.3l3,-0.1l1,1.2l1,0l0.9,-0.8l0,-1l-0.9,-0.9l-6,0.3l-0.9,-0.4l-2,-3l-0.1,-1l0,-2l0.6,-1l6.3,-4l1.9,-2l0.2,-1.3l0.7,0.3l0.5,3l0.9,1l0,2l0.9,1.6l5,0.2l1,-0.8l2,-0.1l2,1.9l3.6,0.2l1.4,1.6l6.9,0.4l1.1,0.8l1,0.1l2,1.8l2,0.1l0.9,-0.8l0.1,-1.1l1,-0.2l1.1,0.3l0.2,1l3.1,1l1,1l-0.1,2l-3.3,-1.5l-2,2.5l1.3,2zM-78.5,-1.2l0.7,-4.3l-0.8,-1l-5.7,-2l-2.2,-2.1l-0.4,-0.9l0.4,-2l-1,-0.4l-2,0.5l-1,-0.7l-1,0.4l-3.1,-2.8l-0.6,-1l0.7,-0.7l2,0.2l2,-0.7l1,0.5l1,-0.5l0.1,1.2l0.9,1.4l4.2,0.6l0.1,3l1,2l0.7,0.6l3,0.2l1.5,1.2l-0.3,6zM126.5,-5.9l-3,-3.3l-2,-0.3l-3,-1.5l0.9,-1.5l-0.4,-3l0.5,-2.9l1,0.6l1,-0.8l2,0.3l0.3,3.8l2.8,2l0.7,4zM36.5,-6.3l-0.5,-0.2l-1.1,-2l2.6,-2.7l0.7,0.7l-1.2,2zM-8.5,-4.8l-3.2,-1.7l-1.3,-2l0.5,-0.4l3.7,1.4l1,1l0.2,1zM-62.5,15l-1,-0.4l-2,0.5l-1,-1l-1.6,-0.6l-0.4,-4.2l-1,-0.6l-1.1,0.8l1.1,1l-1,1.3l-3,-0.9l-2,-2.9l-0.5,-1.5l0.7,-2l-1.2,0.4l-0.3,-1.4l0.3,-1.3l3,-0.3l2,-1l1.2,0.6l1.7,2l-0.9,0.6l0,0.7l2,0.3l0.4,-0.6l-1.3,-1l0.3,-2l-0.4,-0.7l-1.6,-1.3l-2.4,-0.7l-0.4,-0.3l0.2,-1l1.2,-1.3l1.1,1.3l0.9,0.3l1,-1.1l2,2.7l2,0.2l-1,-2.1l-2.9,-1l0.4,-1l1.5,-0.8l1,0.2l1,-0.4l4,-2.3l4.2,1.3l0.8,1.7l0.6,0.3l2.4,-0.7l1.8,0.7l3,4l0.2,1.3l1.7,1.7l-1.7,3.3l-1,-1.6l-1.4,1.3l-0.6,1.4l-1.3,0.6l-0.7,1.3l-0.9,-1.3l-0.1,-1.8l-2,0l-1.2,1.8l-1.4,1l-0.3,1l1.8,2l-0.2,1l-0.7,0.7l-1,0.1l-2,-0.6l-1.1,1.8zM122.5,-5.4l-1.1,-1.1l0.1,-1.1l1,-0.5l1.2,1.6l-0.6,1zM23.5,7.2l-3,-2.1l-2,0l-2,-0.9l-4,0.7l-2.6,-3.4l-0.5,-2l0.1,-3.4l2.3,-1.6l3.7,-0.6l2,0.7l1.1,0.9l0.3,1l-0.7,1l1.3,1.2l2,-3.3l3,-0.9l1,1l0.7,2l2.6,3l1.5,1l0.2,1l-1,1l-1,-0.6l-0.2,0.6l-3.8,2zM125.3,2.5l1.1,-1l-0.9,-1.9l-1.5,1.9l-0.2,1l0.7,0.7zM116.3,3.5l0.9,-1l-0.3,-1l-0.7,0l-0.9,1l0.2,1.7zM-48.5,8.1l-1,0.3l-0.5,-0.9l1.5,-0.3zM48.5,21.9l-0.8,-1.4l1.4,-4l0.4,-3.1l0.6,2.1l-0.3,3zM-40.5,20.9l-0.4,-0.4l0.1,-1l1.3,-1.3l0,1.9zM-44.5,23.7l-1,0.6l-0.8,-0.8l0.8,-1.3l2,-1l1.5,0.3l-0.3,1zM47.5,25.2l-1,-0.1l-0.4,-0.6l1.4,-2.8l0.7,0.8l0.1,1zM-48.5,27.9l-1.2,-0.4l0.2,-2.1l0.9,-0.9l2.1,-0.8l0.8,0.8zM-53.5,26.4l-1.1,-0.9l1.1,-0.5l0.8,0.5z"/><path fill="#f04c2f" d="M99.5,-9.1l-0.2,-4.4l-2.5,-4l1.3,-2l0,-2l-0.6,-1.4l-3,-0.6l1,-0.6l2,0.1l1,-0.4l2,1.8l4,-0.3l0.9,0.4l1.1,2l-0.6,2l2.7,4l-0.1,2.9l-2,0.4l-0.5,-0.3l0.1,-4l-0.6,-0.9l-3,-1.5l-1,0.4l-1.4,2l-0.1,1l1.2,1l-1.5,2zM-77.5,-2.8l-0.1,-2.7l-0.7,-1l-5.7,-2l-2.5,-2.5l0.3,-2.5l-0.3,-0.5l-2,0l-2,-0.8l-1,0.9l-3.4,-3.6l0.4,-0.4l4,-0.3l2,0.8l1,1.5l4,0.3l0.4,4.1l0.8,1l0.8,0.7l3,0.2l1.3,1.1zM126.5,-6.6l-3,-3.1l-4.5,-1.8l0.4,-1l0.1,-5.5l1,0.9l2,-1.2l1,0.4l0.2,3.4l2.9,2l0.5,4zM-62.5,14.7l-1,-0.5l-2,0.5l-2,-1.8l-0.6,-2.4l0.3,-2l-0.7,-0.3l-2.1,0.3l-0.9,2.4l-2,-0.2l-2,-3.2l0,-1l1.2,-2l-1.2,-0.7l-1,0l0,-0.8l0.4,-0.5l4.7,-1l0.9,1l0.7,3l1.3,0.3l1,1.5l1.1,-1.8l-0.3,-2l1.6,-1l-0.4,-1.5l-1,0.1l-1,1.8l-0.4,-2.4l0.4,-0.6l1,0.5l2,-0.2l0.5,-0.7l-0.9,-2l-2.1,-1l-0.4,-1l1.9,-0.2l5,-2.8l2,0.4l2.5,1.6l-0.5,1.9l-1,0.2l2,-0.4l1,0.2l0.6,-0.9l1.4,-0.5l1.5,0.5l3.1,4l-1,2l0.3,1l-1,2l-1.4,2l-1.5,1l-1,-3.1l-1,-0.4l-2,1.5l-1,2.1l-0.6,-0.1l0.4,-1l-1.8,-2l-2,-0.2l-1,-1.3l-0.4,1.5l0.4,1.3l1,0.9l1,-0.6l0.6,0.4l0.8,2l-0.3,1l2.3,2l-0.1,1l-1.3,0.6l-2,-0.8l-0.9,0.2l-0.1,1.1zM-8.5,-5.2l-2.9,-1.3l-0.9,-1l0.8,-0.6l1.9,0.6l1.1,1l0.3,1zM150.5,11.5l-5.5,-2l-1.3,-1l0.1,-1l-1.3,-1.4l-4,-0.1l-0.7,0.5l-0.3,2.1l-0.3,-2.1l-7.7,-2.6l-3,0.2l-3,1.5l-4.6,0.9l6.1,2l-0.5,1.4l-0.8,0.6l-2.2,-0.5l-3,-1.7l-2,0.8l-0.5,-0.6l-0.1,-1l1.6,0l1,-1l0,-1l-1,-0.9l-0.8,-0.1l1.1,-3l-1.3,-0.3l-1.1,0.3l-0.8,2l0.4,1l-3.5,0.3l-1,-0.6l-1.6,-2.7l0,-3l0.6,-1.3l2.3,-1.7l1.7,-0.5l4,-3.5l1,2l-1.4,1l0.3,1l1.1,0l1,-0.8l0,1.8l1,1.8l5,0.1l1.4,-0.9l1.6,-0.1l2,1.9l3,0l2,1.9l6.5,0.3l1.5,0.9l1,0l2,1.9l2,0l1,-0.8l0,-1l1,-0.1l0.5,0.1l-0.2,1l0.7,0.4l3.3,0.6l1,1l-0.2,2l-3.1,-1.6l-2.5,2.6l1.7,2zM107.5,7.6l-5,-2.1l-2,-1.9l-2.7,-4.1l0.8,-2l-1.1,-2l-1,-0.6l-1,1.6l-0.9,-1l-0.1,-1l4,-0.1l2,-0.9l1,0.8l3,0.4l0.2,2.8l0.9,1l-0.9,1l0.1,1l2.7,3l-0.6,2l1.8,1zM12.5,4.6l-2.3,-3.1l-0.7,-2.1l0,-2.9l3,-1.8l2,-0.4l3,0.8l0.8,1.4l-2.6,2l0.3,2l-1.9,2l-0.2,1zM23.5,6.3l-2,-0.5l-1,-1.1l-1,0.1l-4,-1.1l-0.5,-1.2l0.5,-1l1,-0.1l1,-0.8l1,-1.6l1,0l0.9,-0.5l1.1,-2.6l1,-0.6l2,-0.2l0.8,1.4l0.1,1l2.1,1.6l0.7,1.4l-0.8,3l-2.9,1.6zM-68.5,-0.4l-2.7,-1.1l2.7,-0.5l0.4,0.5zM125.3,2.5l1.1,-1l-0.9,-2.3l-1.6,2.3l-0.2,1l0.8,0.8zM-46.5,3.8l-2,-1.3l1,-0.8l1.4,0.8zM114.5,7.6l-1,0.7l-1.1,-1.8l3.1,-0.1l0,0.5zM-61.8,11.5l0.3,-1l1.6,-1l-0.1,-1l-1.5,0.1l-1.8,2.9l0.8,0.4zM48.5,21.2l-0.5,-0.7l0.1,-1l1.3,-3l0.1,-2.5l0.2,4.5zM-44.5,23.3l-0.9,-0.8l1.9,0zM47.5,25l-1.2,-0.5l1.2,-2.3l0.6,1.3zM-48.5,27.6l-0.4,-0.1l-0.3,-2l0.7,-0.7l1,0l0.8,0.7z"/><path fill="#ea2e1d" d="M99.5,-14.6l-1,-0.7l-1.3,-2.2l0.4,-1l2.8,-2l-1.8,-1l-0.6,-2l0.5,-0.2l2,1.6l4.5,-0.4l0.6,1l-1.5,1l0.4,0.7l1,0.3l0.6,2l-0.6,0.6l-3,-1.3l-1,0l-1.5,1.7zM-84.5,-9.5l-2.1,-2l0.8,-2l-0.7,-1.3l-2,0.3l-2,-0.9l-1,1.3l-3.1,-3.4l4.1,-0.2l2,0.7l1,1.4l4,0.1l0.2,4l0.8,1l-1,0.9zM119.5,-15.2l0,-2.4l1,2.1zM126.5,-7.4l-4.5,-4.1l0,-3l-1.5,-1l1,-0.9l1,0.4l0.9,-1.5l0.2,3l2.9,2l0.4,4zM107.5,-11.4l-1.2,-0.1l0.1,-4l-0.5,-1l0.6,-0.6l1.3,1.6l0.9,2l-0.2,1.2zM-77.5,-5.6l-0.3,-0.9l-0.7,-0.3l-5.2,-1.7l0.2,-0.7l1,-1.3l1,0.9l2,0.5l1,-0.4l1.2,1zM-9.5,-6.1l-1.4,-0.4l-0.9,-1l1.6,0l1,1zM146.5,9.6l-1.3,-0.1l-1.1,-1l0.4,-1l-2,-1.7l-6,0.2l-2.8,-0.5l1.1,-2l-0.3,-0.1l-2,1.3l-1.3,-0.2l-0.7,-0.8l-4,0.2l-3,1.6l-3,0.1l-1,0.5l-2.3,-1.6l1.1,-3l-0.8,-0.5l-2.7,0.5l-0.9,3l-2.4,0.1l-2.1,-2.1l-0.1,-5l2.7,-2l3.5,-1.3l0.9,-0.7l0.1,-1.1l1,-0.3l0,1.1l-0.8,0.3l0.2,2l1.6,0.3l1,-0.6l0.3,2.3l0.7,0.9l3.7,0.1l-0.5,4l0.8,0.8l2,-1.8l-0.8,-3l1.6,-1l1.2,0l2,1.9l3.4,0.1l0.6,1.3l1,0.5l6.2,0.2l0.8,0.8l2,0.1l2,1.9l2,0.1l1,-0.8l3,1.3l2,-0.5l1.2,1.1l-0.2,1.6l-2,-1.3l-1,-0.1l-2,2.4l-1,0.2l-1,-1l-1.6,0.2l0.2,2zM-62.5,14.3l-2,-0.7l-1,0.6l-1.5,-1.7l-0.7,-2l0.2,-1.6l1.4,-1.4l-0.1,-1l0.6,-1l-0.3,-2l1.3,-1l1,-3l0,-1l-2,-2l0.5,-1l4.6,-2.7l2,0.4l2.1,1.3l-1.7,2l0.6,0.4l3,0l1.2,-1.4l2,0l2.8,3l0.3,1l-0.3,1.1l-3,1.9l0,1l-1,0.6l-2,-0.8l-1.7,1.2l-2.3,0.4l-1,-2.5l-2,0.5l-1,-1.3l-1.3,0.9l0.2,2l1.1,2l1.1,1l-2.5,4l0.4,0.8l1,0.2l0.6,1zM101.5,4.1l-1,-0.6l-0.3,-1l-0.7,-0.4l-1.4,-2.6l0.9,-2l-0.1,-1l-0.8,-1l1.4,-1.4l4,0.3l1,0.5l0.1,2.6l0.9,1l-0.9,1l-0.1,1.6l-2,1.4l-1,1zM12.5,4.2l-2.1,-2.7l0,-2l-0.7,-1l0,-2l0.8,-0.7l4,-1l2.8,1.7l-0.8,0.2l-1.6,1.8l0.3,2l-1.7,1.8l-0.3,1.2zM23.5,5.8l-1.8,-0.3l-1.2,-1.3l-2,-0.1l-2.5,-1.6l1.5,-1l1,-1.8l2,-0.8l1,-2.5l2,-0.8l1,0.2l0.4,0.7l-0.4,1l1.6,1l1.6,2l-1.2,1l0.9,1l-0.5,1l-2.4,1.2zM104.5,5.9l-2,-0.4l1,-1.6l1,-0.7l0.2,-1.7l0.8,-0.2l1.9,2.2l-0.9,1.9zM-71.5,9.9l-2,0.5l-1.6,-2.9l1.5,-3l-0.7,-1l0.8,-1l2,0.3l0.5,0.7l0.3,1l-1,2l0.2,0.4l2,-0.9l0.9,0.5l0.3,1l-2.2,0.4l-0.7,0.6zM-50.5,4.9l-0.8,-0.4l-0.2,-1l1,-0.6l0.4,0.6zM123.5,9.6l-2,0.2l-0.8,-1.3l-2.5,-1l1.3,-0.5l2.3,0.5l0.7,0.7l1.5,0.3zM151.5,10.9l-1,0.4l-2.2,-0.8l1.2,-1.2l1,0l1,0.9zM-58.5,12.8l-2.7,-1.3l0.7,-1.5l2,0.4l1,1.1l-0.1,1zM47.5,24.7l-1,-0.2l1,-1.9l0.4,0.9zM-48.5,27.1l-0.4,-1.6l0.4,-0.4l1,0.2z"/><path fill="#e31611" d="M104.5,-21.1l-2,0.5l-3.1,-0.9l0.1,-0.5l1,0.4l4,-1l0.6,1.1zM99.5,-15.9l-1.9,-1.6l3.9,-2.7l2,-0.1l2,1.8l0,1.1l-4,-1.7l-0.6,1.6zM-93.5,-16.4l-0.5,-1.1l1.1,0l0.4,1zM-88.5,-15.1l-1.4,-0.4l-0.6,-1l2,-0.1l0.5,1.1zM107.5,-11.6l-1,-0.2l-0.1,-0.7l0.5,-3l0.6,-0.3l1.1,2.3zM-83.5,-10.1l-2,-0.3l-0.8,-1.1l0.8,-2.3l1,-0.4l0.7,0.7l0.7,3zM126.5,-8l-1,-0.5l-2.5,-3l1.2,-1l0.3,-1l2,1.2zM-77.5,-6.6l-5.4,-1.9l1.4,-0.9l2,0.5l1,-0.3l1,0.7zM-56.5,4l-2,-0.5l-1,-1.9l-1,0.4l-3,-1.3l0.6,-2.2l-1.9,-2l0.3,-1l1,-0.4l4,4.6l1,0.3l1,-0.5l-2.2,-2l0,-1l-1.8,-0.3l-1.4,-1.7l1.4,-1l1,-0.4l2.2,0.4l1.3,1l-0.5,0.6l-1.5,0.4l0.3,1l1.2,0.7l3.8,0.3l-0.3,1l0.5,0.4l1.6,-0.4l-1.5,-1l0.8,-2l1.1,0l1,0.9l2,2.7l-0.4,1.4l-3.6,2.6l-3,-0.7l-0.3,1.1zM102.5,1.9l-2,0.5l-1,-0.4l-1,-1.5l-0.2,-1l1.4,-3l-0.8,-1l0.6,-1l4,0.1l1,0.5l0,2.4l1,1l-1,1l0,1.1zM122.5,5.6l-2,-0.4l-1,0.6l-1.8,-1.3l0.1,-1l0.7,-1.6l1,-1l0,-0.7l-1,1l-1,-0.5l-2,0.1l-1,-0.6l-2,0.1l-3,-2.3l-0.1,-0.5l1.1,-0.4l1.6,-1.6l3,-1l2.4,1.7l1,-0.2l0.7,0.5l1.3,2.1l3.1,-0.1l0.2,1l-0.5,1l0.3,2l0.9,0.9l2,-1.4l-0.5,-3.5l1.5,-0.9l1,0.1l2,1.7l3.3,0.1l0,1l1.5,2l-2.8,2l-0.7,0l-0.3,-1.3l-2,0.1l-1,0.6l-3,0.1zM12.5,3.9l-1,-0.9l-0.7,-1.5l0.7,-2l-1.5,-1l-0.1,-2l0.6,-0.5l4,-0.7l0.8,1.2l0.1,1l-1.1,1l0.1,2zM24.5,-3.3l-1,0.5l-0.7,-0.7l0.7,-0.5zM23.5,5.2l-1,0l-2,-1.4l-1,0.4l-1,-0.4l-1.2,-1.3l1.2,-2.3l2,-0.9l1,-1.4l2,0.7l1,-0.4l1,0.3l1.2,2l-4.2,1.7l0,0.6l1.6,1.7zM113.5,3.7l-2,0.7l-1,-0.6l-1,-1.3l0,-2.2l1,0.1l1,0.9l1,-0.6l1,0.2l0.8,0.6zM104.5,5.7l-1.4,-0.2l1.4,-1.6l0.7,-1.4l-0.2,-1l0.5,-0.1l1.7,2.1l-0.7,1.3l-1,0zM145.5,9.5l-1,-1l0.9,-2l-2.9,-1l-3.9,0l0.9,-0.5l0.3,-0.5l-0.3,-0.2l-0.8,0.2l-0.2,0.7l-1,-0.3l-1,0.9l-2.4,-0.3l2.2,-2l-1.5,-2l1.9,0l0.8,2.1l1.5,-2.1l2.3,0l0.9,1l2.3,0l2,1.9l2,0l1,-0.5l3,1.5l1,0l1,-0.9l1.1,1l-0.1,1.1l-1,0.1l-1,-1.1l-1,-0.1l-2,2.4l-1,-0.2l-1,-1l-2,0.4l-0.6,0.4l0.5,1l-0.3,1zM25.5,4.1l-1,0l-0.9,-0.6l2.9,-1.6l0.5,0.6l-0.5,1zM-72.5,9.8l-1,-0.2l-1.3,-2.1l1.3,-1.5l0.4,-2.5l0.6,-0.3l1,0.4l0.5,0.9l-0.3,1l-1.1,1l0.6,2l-0.2,1zM-62.5,9l-2,0.1l-1,-0.7l-0.2,-1.9l0.5,-1l-0.4,-1l1.1,-1.5l1.6,3.5l1,1zM-64.5,11.9l-1,0.6l-1,-0.1l-0.6,-0.9l-0.4,-2.1l2,-0.9l1.2,2zM-58.5,12.6l-2.2,-1.1l0.2,-1.2l1,-0.1l1,0.7l0.5,0.6zM151.5,10.7l-1,0.4l-1.8,-0.6l1.8,-0.9l1,0.7z"/></g>
<use href="#lakes" fill="#fff"/>
</g>
<path d="M79.50,40.00V193.80M130.70,40.00V193.80M181.90,40.00V193.80M233.10,40.00V193.80M284.30,40.00V193.80M28.30,65.63H335.50M28.30,91.27H335.50M28.30,116.90H335.50M28.30,142.53H335.50M28.30,168.17H335.50" stroke="#333" stroke-width="0.45" fill="none" opacity="0.75"/>
<rect x="28.30" y="40.00" width="307.20" height="153.80" fill="none" stroke="#666" stroke-width="0.55"/>
<text x="69.5" y="21.2" font-size="15.2" fill="#4b4fa6" textLength="226.5" lengthAdjust="spacingAndGlyphs">2004 Gross Primary Productivity</text>
<text x="79.50" y="202.6" font-size="9.6" text-anchor="middle" fill="#111" textLength="45.5" lengthAdjust="spacingAndGlyphs">120°0'0"W</text>
<text x="79.50" y="37.9" font-size="9.6" text-anchor="middle" fill="#111" textLength="45.5" lengthAdjust="spacingAndGlyphs">120°0'0"W</text>
<text x="130.70" y="202.6" font-size="9.6" text-anchor="middle" fill="#111" textLength="41.5" lengthAdjust="spacingAndGlyphs">60°0'0"W</text>
<text x="130.70" y="37.9" font-size="9.6" text-anchor="middle" fill="#111" textLength="41.5" lengthAdjust="spacingAndGlyphs">60°0'0"W</text>
<text x="181.90" y="202.6" font-size="9.6" text-anchor="middle" fill="#111" textLength="27.0" lengthAdjust="spacingAndGlyphs">0°0'0"</text>
<text x="181.90" y="37.9" font-size="9.6" text-anchor="middle" fill="#111" textLength="27.0" lengthAdjust="spacingAndGlyphs">0°0'0"</text>
<text x="233.10" y="202.6" font-size="9.6" text-anchor="middle" fill="#111" textLength="38.5" lengthAdjust="spacingAndGlyphs">60°0'0"E</text>
<text x="233.10" y="37.9" font-size="9.6" text-anchor="middle" fill="#111" textLength="38.5" lengthAdjust="spacingAndGlyphs">60°0'0"E</text>
<text x="284.30" y="202.6" font-size="9.6" text-anchor="middle" fill="#111" textLength="43.0" lengthAdjust="spacingAndGlyphs">120°0'0"E</text>
<text x="284.30" y="37.9" font-size="9.6" text-anchor="middle" fill="#111" textLength="43.0" lengthAdjust="spacingAndGlyphs">120°0'0"E</text>
<text transform="translate(26.0,40.00) rotate(-90)" font-size="9.6" text-anchor="middle" fill="#111" textLength="31.3" lengthAdjust="spacingAndGlyphs">90°0'0"</text>
<text transform="translate(344.6,40.00) rotate(-90)" font-size="9.6" text-anchor="middle" fill="#111" textLength="31.3" lengthAdjust="spacingAndGlyphs">90°0'0"</text>
<text transform="translate(26.0,91.27) rotate(-90)" font-size="9.6" text-anchor="middle" fill="#111" textLength="38.5" lengthAdjust="spacingAndGlyphs">30°0'0"N</text>
<text transform="translate(344.6,91.27) rotate(-90)" font-size="9.6" text-anchor="middle" fill="#111" textLength="38.5" lengthAdjust="spacingAndGlyphs">30°0'0"N</text>
<text transform="translate(26.0,142.53) rotate(-90)" font-size="9.6" text-anchor="middle" fill="#111" textLength="36.8" lengthAdjust="spacingAndGlyphs">30°0'0"S</text>
<text transform="translate(344.6,142.53) rotate(-90)" font-size="9.6" text-anchor="middle" fill="#111" textLength="36.8" lengthAdjust="spacingAndGlyphs">30°0'0"S</text>
<text transform="translate(26.0,193.80) rotate(-90)" font-size="9.6" text-anchor="middle" fill="#111" textLength="31.3" lengthAdjust="spacingAndGlyphs">90°0'0"</text>
<text transform="translate(344.6,193.80) rotate(-90)" font-size="9.6" text-anchor="middle" fill="#111" textLength="31.3" lengthAdjust="spacingAndGlyphs">90°0'0"</text>
<text x="13.8" y="224.6" font-size="12.3" fill="#111" textLength="112.5" lengthAdjust="spacingAndGlyphs">2004GPP (gC•m⁻²• yr⁻¹)</text>
<rect x="132" y="214.6" width="191.00" height="10.80" fill="url(#cbg)"/>
<text x="132.6" y="235.3" font-size="12.6" text-anchor="middle" fill="#111">0</text>
<text x="218.5" y="236.2" font-size="12.6" text-anchor="middle" fill="#111">1500</text>
<text x="320.5" y="234.6" font-size="12.6" text-anchor="middle" fill="#111">3000</text>
<g transform="translate(522.30,118.30) scale(0.8672,0.8700)">
<use href="#land" fill="#049604"/>
<g clip-path="url(#lc)"><path fill="#11a325" d="M148.5,43.8l-1,0.6l-2,-0.2l-1.8,-2.7l-0.2,-1.2l-2.3,-0.8l-2.7,-2.9l-3,-0.9l-0.9,-1.2l0.9,-0.8l3,0.3l2,1.3l1,-0.9l3.4,-0.9l2,-2l0.1,-1l-0.5,-1l0.8,-2l-3.3,-5l-0.5,-1.7l-3,-0.6l-2,1.4l-2,-0.7l-2,-2.2l-1,-0.3l-5,0.1l-1,0.6l-4,0.2l-0.8,-0.8l-0.3,-2l3,-3l3.1,-0.2l3,-2.8l5.1,0l1,1l0.3,1l-0.3,2l1.9,1.5l0.9,-1.5l0.2,-4l-3.1,-0.8l-1.3,-1.2l0.3,-1l-1,-1.1l-3,-0.6l-1,-0.7l-1,0.4l-3,-0.5l-1,0.7l-1,-0.4l-1.7,1.2l0.7,0.8l3,-0.2l1.1,1.4l-2.1,2.4l-2,0.8l-2,-0.7l-3,0.4l-1,-0.6l-10,-1.1l-3,-0.8l-6,-5.9l-2.7,-4.5l-2.7,-3l-0.3,-1l0.7,-1.1l2.9,-0.9l0.1,-5l-1,-1.7l-2,-0.5l-0.9,-0.8l-1,-4l-2,-2l-0.1,-0.9l-0.9,1.9l-2.1,0.3l-5.9,5.7l-0.3,4l1.3,2l0.2,2l-0.6,1l-1.7,0.9l-1.2,-0.9l-0.8,-1.9l-2,-0.1l-1,-1l-4,-10l-1.3,-2l-1.7,-1.2l-1.2,-3.8l0.1,-1l3.4,-4l-0.9,-2l0.4,-1l1.2,-0.2l2,1.2l0,1.1l0,-1.1l-0.8,-1l1.8,-1.7l5,3.1l2,1.9l1.8,0.7l7.2,0.5l6,-1.1l2,1.7l3,-2.1l0.8,-2l0.5,-5l1.7,-1.8l4,-1.3l4,-2.6l4.9,-0.3l3.1,-2.6l0,-1.1l-2,-2.7l-1,-0.6l-1.1,1l0.4,1l-0.3,0.6l-1,0.4l-1.1,-1l-2.9,0.2l-2,-1.3l-2,0.8l-1,-0.4l-1,0.2l-1,0.9l-2,-1.6l-5,-0.6l-3,0.4l-3,1.4l-2,-0.1l-2,-1l-3,0.7l-2,-0.5l-1,-1.1l-3,0l-1,-1.2l-1,-0.3l-2,0.6l-2,-0.6l-1,0.3l-2,-1.2l-1.6,1.4l-1.4,0.2l-2,-0.1l-1,-0.8l-4,3.3l-4,-0.6l-4,1.4l-2,-0.8l-1.2,0.4l-1.7,2l1.9,1.4l0.6,2.6l1.4,1l-0.3,1l-1.6,1l2.9,1.6l3,0l0.7,1.4l-0.7,1l-2,-0.2l-1,0.5l-2,-0.7l-1.7,-1.6l0.5,-1l-0.8,-0.8l-1,-0.1l-1,0.3l-1,1.1l-2,0.3l-2,1.4l-1,0l-2,1.6l-2,0.1l-1,-1l-2,0.5l-5,-0.4l-3,0.8l-3.2,-1.8l-1.1,-2l-0.7,-0.5l-1,-0.3l-2,1.5l-1,-0.3l-4,-3.6l-5,-0.5l-2,0.3l-2.8,2.4l-0.2,1.3l1,0.7l2,-0.7l3,0.9l2,-0.8l1,0.5l0.6,1.1l-0.6,0.9l-1,0.6l-2,-0.6l-2,0l-4,1.6l-5.9,0.5l-1.1,0.5l-2,2.4l-1,0.1l-1.8,-1l1.8,-3l-0.3,-1l-1.8,-2l0,-5l2.1,-2l4,-0.3l1.4,-0.7l-4.4,-4.8l-2.1,-0.2l-1.4,-1l-0.2,-1l0.6,-2l2.1,-1.1l1.9,-2.9l1.1,-0.8l2,-0.4l1,0.1l1.1,1.1l1,3l0.9,0.9l3,1.8l4.2,-2.7l1.6,-2l-0.8,-1.1l-2,0.3l-1.7,-1.2l-0.2,-2l0.7,-1l1.2,-0.9l2,0.2l3,-1.1l1.8,-1.2l1.2,-1.5l3,-0.8l2,0l2,-0.7l1,0.3l2.6,1.7l2.4,0.5l3,2.3l2,-2.4l3,-0.9l2,0.2l1,0.6l2,-0.4l6,1.4l2,1l3,0.3l2,-1.3l2,0.1l2,1.1l1.2,-0.5l-0.5,-2l0.7,-1l-0.2,-1l0.8,-1l4,0.7l2,-0.5l0.9,0.8l0.1,1.1l1,-1l2,-0.2l2,-1.6l1,1.2l1,0.1l2,-1.3l3,0.2l2,-1.3l2,0.9l2,1.7l1,0.1l1.8,-1.9l0.2,-2l4,-1.9l3,1l2,-1.2l3,1.1l3,-1.4l1.6,0.4l1.4,1l1,-1.3l1,0.2l2,2.1l2,0.8l3,0.3l1,-1.2l1,-0.1l0.5,0.2l0.5,1.1l2,0.6l3,-1.5l1,0.1l2.7,3.7l-0.7,2.1l1,0l1.2,-1.1l0.8,-3.8l2,0.3l2,-0.8l2,0.3l1,1.2l1,-0.1l1,-1.2l2,-0.8l3,0.4l2,-0.6l2,0.7l2,-0.5l2,1.3l4,-1.4l1.4,1l0.7,2l0.9,0.7l4,-0.5l1,-0.7l4,3.3l1,-0.1l2,-1.5l3,-0.5l5.1,4.3l0,1l-1.1,1.5l-5,-0.9l-2,1.6l-2,-0.5l-3,0.3l-4,-0.8l-5,0.5l-1,-0.5l-2,-0.2l-0.9,2l-1.1,0.7l-1,0l-1,-0.8l-2,0.8l-0.6,-0.7l0.3,-1l-0.7,-0.8l-0.5,0.8l-1.5,0.8l-2,-1.1l-3,-0.4l-2,-1.7l-1,1.4l-2,-1.2l-0.3,0.2l0.6,2l-1.9,2l0.5,1l2.1,0.2l6,4.1l2,-1l2.2,1.7l0.1,2l0.8,2l-0.8,3l1.8,3l-1,2l-1.4,1l-1.7,4.9l-2.4,2.1l-2.6,0.5l-1,0.9l-2,0.1l-2,1.6l-2,0.3l-1,-0.4l-2,-2.8l-1,0l-1,-0.7l-1.7,-3.5l-0.1,-1l-1.2,-0.9l-0.4,0.9l0.9,2l-1.8,2l0.3,1.5l1.1,1.5l0.4,2l-1.2,3l1.5,2l-0.8,2.5l-1,1.1l-1,-0.4l-2,-2.3l-2.8,2.1l-2.2,0.3l-0.9,0.7l-0.8,2l-2.5,2l1,2l0.1,3l-0.9,1.2l-3.9,2.8l-4.1,-3.7l-0.7,1.7l0.7,1.8l2,0.9l1.4,1.3l1.1,4l-0.5,1l0.3,1l2,2l0.7,1.9l1,0.3l-0.1,-1.2l-2.1,-3l0.2,-2l2,-2.3l3,-1.2l2.9,-2.5l3.2,-5l-0.4,-3l0.3,-2.6l2,-1.9l1,-0.3l2.4,1.8l0,3l0.6,0.9l2.6,2.1l0,2l0.9,3l-0.5,1.5l-2,1.9l-2,-1l-2,-0.3l-1.5,1.9l0.5,0.7l5,0l2,-0.7l2,1l1,1l3,0.3l2,1.4l3,-0.1l4,1l5,3l1.4,-0.6l0.1,-1l1.5,-1.3l1,0l5,4.1l2.9,1.2l3.4,3l0.2,1l-1.5,1.2l-4,-2l-4,-2.8l-1,0l-1.6,1.6l1.5,2l-0.9,1.3l-1,0.4l-2,-0.5l-3,-1.6l-1,-0.1l-0.4,0.5l2.9,5l0.9,3l6.5,7l0.6,3l-0.6,3l-2.5,4l-0.4,2l-1,1.1l-1.9,0.9l0.7,3zM154.7,-69.5l-0.2,-1.1l-1.1,1.1l0.1,0.6zM80,-67.5l1.4,-1l-0.9,-0.4l-1.6,1.4l0.6,0.5zM-60.5,40.6l-3,0.7l-1,-0.5l-1,0.3l-0.9,-0.6l-0.1,-1.5l-1.1,-1.5l-0.9,-3l-0.7,-1l1.7,-1.8l0.1,-2.2l0.9,-1.3l0.1,-1.7l-0.7,-2l-1.1,-1l0.3,-2l-0.7,-5l-4.9,-2.4l-4,-5.2l-2,-0.9l-2.2,-2.5l-0.3,-1l0.7,-5l2.2,-3l0.1,-1l-0.5,-0.9l-4,-1.3l-5,-4.9l-4,-1.2l-3,-2.1l-2,0.4l-2.9,-1l-4.1,-2.6l-2.2,-2.4l-0.8,-2l-3.4,-5l-0.4,-1l0.5,-1l1.3,-0.8l1,0l3,2.4l1,-0.3l1,0.4l0.7,2.3l-1.1,1l0.2,1l1.2,2l2,0.9l0.1,-3.9l0.9,-1.8l1,0l1.9,1.8l0.4,3l1.7,1.8l2,0.1l1.4,-1.9l1.6,-1.1l2,0.1l1,0.6l2,-1.7l2.5,-0.9l-1.6,-3l-1.9,-1.4l-2,0l-2,0.6l-5.2,-0.2l-2.6,-3l0.7,-6l-0.4,-1l1.5,-4.7l-1,-0.3l-1,1.1l-2,0.2l-2,1.7l2.1,3l-0.5,2l0.4,1.7l1.7,1.3l-2.7,3.7l-1.3,-1.7l0.5,-2l-2.2,-0.8l0,-2.7l-1,-1.3l-1,-0.4l-2,4.5l-3,0.7l-1,-0.6l-0.8,-1.4l1.5,-2l0.4,-2l-1,-2l-1.1,-0.6l-2.1,0.6l-0.9,3l-0.9,-1l0.5,-1l-0.6,-2l-2.4,-3l-0.2,-2l-1.4,-0.8l-1,1.9l0,3.9l2.8,3l2.6,5l-1.4,1.3l-3,-2.4l-1,-0.2l-1.7,-1.7l-2.2,-4l-0.1,-7.1l-7.9,-6.9l0,-1l-2.1,-1.5l-6,-1.8l-7,-0.6l-1,0.2l-1,0.9l-3,0.4l-1,-1l-2,-0.9l-1,0.3l-3,-0.6l-1.4,-1.4l-0.1,-1l0.5,-1.5l2,0l1,-1.8l1,-0.6l1,-0.1l3,1.1l1,-2l3,0.1l3,-0.9l3,1.8l4,-1.6l3,1.1l4,-0.4l2,1l2.2,-0.2l3.8,3.1l3,0l3,0.7l1,1.6l5.6,0.6l0.4,1.2l1,0.3l1,-0.4l3,0.1l3,0.6l2,1l2,-0.7l1.2,0.9l2.9,1l6.9,1.3l1,-0.6l1,0l3,1.6l2,0.1l2,0.8l2,-1.1l1,0.7l2,0.2l2,-2.2l2,1.7l3,-2.4l5,1.3l2.2,1.6l0.8,0.1l1,-0.7l4,2.1l3,3.5l0,1.7l-1,1.3l-4,0l-2,-0.6l-2,1.3l-1,0.1l-0.7,1.2l-2.3,-1l-3,1.1l-2.7,2.9l-1.3,0.4l-1.8,1.6l-0.9,1l-0.3,2.1l-2.9,2.9l-1.7,1l-0.3,1l0.5,4l-0.4,2l2.8,0.2l0.2,0.8l2.8,2.3l3,0l3,1.5l2,0.2l1.1,1l-0.4,1l-1.7,1l-3,-0.7l-3,0.7l-3,-0.8l-2,0.8l-1.7,-1l-0.3,-1l0.6,-1l-3.6,-1l-3,0.2l-0.8,1.8l0.5,1l1.3,0.2l2,1.3l0.9,1.5l0.1,3l1,0.5l4,0.4l2,-1.9l2,-0.2l1,-0.7l1,0.6l1,-0.4l5,1.5l2,0l1,-0.7l1.4,0.9l1.2,2l1.4,1.2l5,1.6l2.5,2.2l2.5,3.5l1.6,0.5l1.4,1.5l4.2,0.5l4.2,2l2.6,2.9l0,2.4l-3.2,4.7l-0.6,4l-2.2,5l-2.2,2l-2.8,0.5l-2,1.4l-1,2.5l-4.6,5.6l-3.8,3l-1.7,2zM132.3,-65.5l1.6,-1l-1.4,-0.8l-2.1,1.8l1.1,0.5zM79.5,-63.5l0.4,-1l-0.4,-0.2l-2,-0.2l-0.2,-0.6l-0.8,-0.3l-0.3,0.3l1.1,1l0.2,1.9l1,0zM127.6,-58.5l3.2,-1l0.1,-1l-1.4,-0.5l-1.1,-1.5l-1.9,-0.7l0,-1.9l-1,0.5l-1.5,2.1l0,1l1.5,2.4zM19.2,-56.5l2.2,-2l0.3,-1l-0.8,-1l0.1,-3l-0.5,-0.2l-1.2,1.2l0.7,2l-2.4,3l0.2,1l0.7,0.6zM67.1,-62.5l-1.6,-1.5l-1,-0.2l-0.9,0.7l-0.2,1l1.1,0.9l2,-0.2zM85.8,-62.5l-0.3,-0.4l-1,0.3l-0.2,-0.9l-0.8,-0.6l-0.6,0.6l0.6,1.1zM91.6,-62.5l-0.1,-0.8l-1,-0.3l-1.1,1.1l1.1,0.3zM113.3,-60.5l3.2,-1.7l0,-0.9l-3,0l-3,-0.9l-2.5,1.5l0.5,0.5l2,0.3l2,1.5zM159.5,-51.3l-1,0.3l-1,-0.3l-1.5,-1.2l-1,-2l0.8,-2l2.7,-2.3l2.1,1.3l1.2,2l-0.5,2zM-105.2,-41.5l2.7,-2.5l0.8,0.5l-0.2,1l0.4,0.4l0.7,-0.4l-0.6,-1l-0.1,-2.7l-2,-0.3l-1,-1.6l-3,0.2l-1.4,1.4l0.2,3l3.2,2.2zM-85.9,-47.5l-2.7,0l2.1,0.4zM-81.2,-44.5l-0.3,-1l-1.5,0l0.5,1.2l1,0.2zM135,-37.5l2.9,-2l0.5,-3l1.7,-3l-0.6,-0.8l-4,3.9l-2,1.2l-2,0.5l-1.2,1.2l-0.1,1l1.3,1.6l3,-0.2zM-86.3,-42.5l-0.2,-2.3l-1.1,2.3zM32.5,-43.5l-1,-1.5l-1.7,1.5l0.7,0.8l1,0zM-115.5,-36.3l-1.5,-0.2l1.5,-1zM20.5,-31.4l-0.7,-1.1l0.7,-0.4l0.7,0.4zM-154.5,-18.5l-1,0.6l-1.8,-1.6l1.8,-2l1.6,2zM24.5,35.5l-4,0.3l-1.2,-0.3l-2.5,-3l-0.3,-1.4l1.2,-1.6l0.2,-1l-0.4,-1l-4,-3l-0.2,-3l-1.8,-1.9l0,-1.7l1,-0.4l0.4,-1l-1.4,-1.2l-0.1,-0.8l0.7,-2l0.1,-2l-1.1,-4l-2.9,-4l-0.2,-4l-0.5,-0.7l-4,-2.2l-5,1.2l-7,-0.1l-4,-2.5l-2,-2l-3,-4.2l0,-2.7l5,-1.9l1,0l2,1.8l1,-0.8l2,0.8l1,-0.6l4,-0.2l2,0.8l6,-0.3l3,-0.8l2,1.1l3,0.2l7,0.2l2,-0.5l2,0.6l2,-0.4l4,0.6l1,-0.9l0.4,0.5l1.6,0.5l0.4,-0.5l-1.1,-1l0.7,-0.5l4,0.9l2.6,1.6l0.4,4.5l1.5,0.5l-1.1,2l-1.4,1l-1.1,2l0,1l-2.6,1l0.7,1.3l1,0.4l0.7,-0.7l0,-1l1,-2l1.8,0l3.2,1l0.2,1l-0.8,1l-1.1,0.7l-1,-0.2l-1,1l-2,0.1l-1,0.6l0,1.1l2,1l0.3,0.7l-0.1,3l1.3,6l-0.5,2.8l-1,1.2l-3.9,3l-0.1,4l-1.9,2l-2.1,4.1l-4,3.7zM92.5,-10.4l-1,-1.1l0,-2l1,-1l1,0.1l0.9,0.9l-0.2,2zM46.5,-5.9l-2.7,-1.6l0,-1l1.7,-1.3l1.7,0.3l0.9,2zM120.8,-7.5l0.6,-1l-0.9,-0.7l-1.6,1.7l0.6,0.7l1,0zM47.5,-3.7l-1,-0.8l0.2,-1l0.8,-0.6l0.8,0.6l-0.1,1zM46.5,26.7l-2,-0.1l-1.3,-1.1l-0.8,-2l0.4,-4l-0.4,-2l6.1,-6.2l1,-0.3l1,0.5l1,1.9l0.1,3.1l-2.1,7.5l-1,1.5zM168.5,17.9l-1,0.3l-2.5,-2.7l0.3,-1l1.2,-1.1l3.2,3.1zM178.5,19.9l-1,-0.1l-1.3,-1.3l0,-1l1.3,-1.4l1.9,0.4l0.4,1l-0.1,1zM19.4,20.5l1.3,-2l-3.2,-0.4l-0.7,0.4l-0.2,1l0.9,1.9zM25.6,20.5l0.2,-1l-0.7,-1l-2.7,0l0.9,1zM167.5,23.9l-2,-0.3l-2.3,-2.1l-0.4,-1l0.7,-1.6l1,-0.4l4,3.6l0.3,0.4zM118.5,35.9l-1,0.5l-1,-0.2l-2.5,-1.7l0.5,-3.7l1,-0.8l2,0.6l2.6,2.9l0.1,1zM170.5,47.5l-2,-0.1l-2,-1.1l-0.6,-0.8l0.6,-1.1l6,-4.9l0.4,-2l-1.3,-3l0.9,-0.8l4,2.2l2,0.4l1.1,1.2l0,1l-1.4,2l-3.7,2.4zM-70.5,55.2l-2.1,-0.7l-1.4,-2l-0.4,-3l-1.4,-2l1.1,-3l-0.5,-4l0.8,-3l0.9,-1l3,0.3l0.4,0.7l-2.5,8l1.5,2l0.6,2l1,-0.7l0.5,0.7l-0.2,1l-1.3,0.6l0.9,3.4zM69.5,50.7l-1.4,-1.2l0.3,-1l1.1,-0.9l1.7,1.9zM-68.5,55.7l-1,0.3l-0.6,-0.5l0.6,-0.8l1.6,0.8z"/><path fill="#32ac39" d="M103.5,-64.2l-1,0.6l-2,-1.9l-2,1.8l-1,0.2l-0.4,-2l-2.6,-1l0,-1l2.6,-1l0,-1l-0.6,0l-1,-1.4l-1,-0.1l-1,0l-0.3,0.5l0.2,1l-0.6,2l-2.3,3.2l-3,0.2l-3,-0.6l-1.3,-0.8l-0.1,-1l0.4,-1.1l1,-0.1l1,0.8l1,0l0.6,-0.6l0.3,-2l1.1,-0.5l2,1.8l0.3,-0.3l-1.7,-3l0.3,-1l2.1,-1.3l2,1.4l2,0.5l1,-0.3l1,-0.9l2,0.6l3,-1.4l1.3,0.4l-1,1l-0.3,1.9l-2,0l-1,-0.8l-1,0l-0.8,0.9l-0.1,2l0.9,0.3l1.9,-1.3l0.1,-0.8l0.1,0.8l1.9,1.6l1,-0.4l1.5,1.8l-1.2,1zM108.5,-71.1l-1.9,-1.4l0.9,-0.7l1.2,1.7zM121.5,-62.3l-1,-0.5l-2,0.3l-1.2,-2l-1.8,-0.1l-2,0.7l-2,-1.5l-1,-0.1l0,-1.1l-1,-0.5l-1,1.1l-0.1,-0.5l-2.6,-1l-0.8,-1l-1.5,-0.2l-0.5,-0.8l1.5,-1.8l1,-0.4l1,2.1l2,-0.2l0.5,-0.7l1.5,-0.5l2,0.2l1,1.3l1.4,-1l0.6,-1.2l0.8,0.2l0.2,1.3l2,-0.2l1,0.5l3,-1.5l2,1.4l0.7,1.5l-1.3,1l0.9,1l-0.3,1.5l-1,-0.7l-1,-0.2l-0.3,0.4l0.3,0.7l1,0.6l0.1,0.7zM136.5,-66.2l-1,0.5l-1.5,-1.8l-1.5,-0.9l-3,1.3l-0.5,-0.4l0,-2l1.5,-0.9l2,-0.2l2,1.5l2,0l0.7,1.6zM148.5,-61.9l-1,0.1l-2,-1.4l-2,1.3l-1,-0.7l-4,-0.5l-1.2,-1.4l-0.1,-1l0.8,-1l0,-1l0.7,-1l-1.2,-1l0.2,-1l1.8,-0.5l1,0.8l1,-0.8l1,0.4l1,-0.4l1.5,1.5l0.3,1l-2.8,-0.1l-0.9,1.1l-0.5,1l0.4,1.4l1.4,-0.4l0.6,-1.2l1,0.6l1,-2.3l2,-0.2l2,-1.7l2.4,0.8l-0.4,1.2l-1.3,0.8l-0.7,1l-1,0.1l-0.4,0.9l0.9,1l-0.1,2zM77.5,-66.5l-2,0.5l-1.6,-1.5l0.4,-1l2.2,-1l1,0.6l0.4,0.4zM123.1,-67.5l-0.1,-1l-1.5,-0.9l-1,0.1l-0.8,0.8l0.8,1.6zM163.5,-63.2l-2,-1.1l-1,1.1l-4,0l-0.5,-0.3l0.5,-2l-1,1l-1,-2l0.1,-1l1.9,-0.3l2.3,1.3l0.7,1.1l0.2,-1.1l-0.6,-1l0.4,-0.5l3,-0.7l1,1.2l0.4,2l0.9,1l-0.3,0.8zM148.5,43.7l-1,0.6l-2,-0.3l-2,-4.1l-2.1,-0.4l-1.4,-1l-1.2,-2l-3.3,-1l-0.5,-1l0.5,-0.5l3,0.4l2,1.5l2,-1.2l2.2,-0.2l2.9,-3l0.1,-3l0.9,-2l-1.7,-1l-2.1,-3l-0.3,-3.3l-2,0.7l-2,-0.2l-2,0.8l-2,-0.6l-2,-2.2l-6,-0.1l-2,1l-3,0l-0.9,-2.1l2.9,-3l3,-0.1l3,-2.9l1,-0.1l4,0.2l1.1,0.9l-0.1,3l2,1.7l1,-0.7l0.2,-5l-3.2,-0.9l-1.2,-1.1l0.3,-1l-1.1,-1.2l-3,-0.5l-1,-0.8l-1,0.4l-3,-0.4l-1,0.6l-1,-0.4l-1.7,1.3l0.7,0.8l3,-0.1l1.1,1.3l-2.1,2.4l-2,0.7l-2,-0.6l-3,0.3l-1,-0.5l-10,-1.1l-3,-0.9l-6,-5.9l-2.7,-4.4l-2.7,-3l-0.2,-1l0.6,-1l3,-1l0,-6l-0.7,-1l-2.3,-0.4l-0.7,-0.6l-0.5,-3l-2.2,-3l-0.6,-1.9l-1,2.3l-2,0.6l-6,6l-0.7,4l0.7,0.2l1,1.8l0.2,2l-0.6,1l-1.6,0.7l-1.2,-0.7l-0.8,-2.5l-2,0.4l-0.8,-0.9l-2,-4l-2.2,-7.1l-2.5,-2.9l2.1,-1l1.4,-3l-3,1.4l-1,0.1l-0.2,-1.5l1.5,-2l2.4,-1l0.3,-1.7l1,0.3l0.8,-0.6l-1.1,-2l1.3,-1.3l8,5.4l8,0.9l6,-1.1l2,1.7l3.3,-2.6l0.9,-2l0.4,-4l1.4,-2.1l4.9,-1.9l4.1,-2.5l4,0.1l3,-2.6l0.5,-1l-0.5,-2l-2,-2.3l-2,-1.3l-1,1.6l-1,-0.2l-0.7,1.2l-1.3,0.4l-6,-1.7l-2,1.1l-2,-0.6l-5,-0.4l-3,0.2l-3,1.2l-4,-0.6l-3,0.5l-1,-0.1l-2,-1.5l-2,-0.6l-2,-1.6l-5,0.3l-1,0.6l-1,-0.5l-1,-1.4l-1,0.1l-0.4,1.6l-0.6,0.5l-1,0.1l-1.4,-0.6l-0.6,-1.4l-5,4.1l-6,-0.8l-2,1.4l-2,-0.3l-2,0.9l-1.7,2.1l2.5,2l0.5,2l1.1,1l-0.5,1l-0.9,0.7l-3.5,0.3l-4.5,2.3l-1,-0.1l-1,0.4l-1,1.4l-2,0.1l-2.4,-3.1l-3.6,-1.1l-0.6,0.1l0.5,1l2.3,2l-1.2,0.6l-5,0.1l-2,-0.4l-4,-3.1l-1.3,-0.2l-1.7,1.2l-1,-0.3l-3,-3.1l-2,-0.9l-2,0l-1,-0.5l-1,0.6l-2,0.3l-2.9,2.7l-0.5,2l1.4,0.3l2,-0.6l3,0.9l2,-0.8l1,1.4l-1,0.7l-2,-0.5l-2,0.1l-3,1.3l-8,1.1l-2,2.4l-1,0.3l-1.2,-0.6l0.1,-1l1.4,-2l-2.3,-3l0.1,-5l1.9,-1.8l4,-0.3l1.8,-0.9l-3.3,-4l-4.7,-2l-0.3,-1l0.5,-1.8l2.4,-1.2l1.6,-3l2,-1l2,0l1.1,1l0.4,2l1.3,2l3.2,1.8l4,-2l2,-1.5l2,0.3l0.1,-0.6l-3.1,-2.6l-1,0.2l-2,-0.8l-0.4,-1.8l0.5,-1l0.9,-0.5l2,0.3l3,-0.7l3,-2.3l3,-1.5l2,0.1l2,-0.8l1.3,0.4l0.7,1.1l3.7,0.9l3.3,2.6l1,0l1,-2.4l4,-1.1l1.8,0.9l1.2,2.1l1,0.4l1,0l0.5,-1.5l2.5,-0.5l3,1.2l2,0l2,0.6l1,0l1,-0.7l2,-0.1l2,0.8l3,-0.3l3,2l3,0.4l2,-1.2l2,0.2l2,-1.3l2,0.9l0.6,-1l-0.6,-0.4l-2,0l-1.3,-1.6l3.3,-0.6l2.2,3.6l0.8,0.6l3,-0.3l6,0.7l1,0.5l3,-0.5l1,0.4l2,-0.6l2,0l1,0.4l2,-1.1l0.8,1.9l1.2,0.6l3,-0.2l1,-1.3l1,-0.1l1,0.5l1,-0.5l1,1.6l0.9,0.4l-0.9,0.3l-1,1.7l2,0.6l1,-0.9l2,-0.2l2,0.7l0.3,-1.2l-0.8,-1l0.5,-1.2l1,-0.2l1,0.4l1,-0.6l2,2.7l1.5,-0.1l1.5,-1.7l1,-0.4l1.5,2.1l3.5,0.8l1,-0.7l4,1.6l2,0.1l0.4,0.2l-0.2,1l3.8,1.3l1,0.9l1.2,-1.2l1.8,-0.1l1.2,1.1l0.1,2l0.7,2l-0.7,3l1.7,3l-1,2l-1.4,1l-1.8,5l-2.3,2l-2.5,0.4l-1,1l-2,0l-2,1.6l-2,0.3l-1,-0.5l-2,-2.7l-1,0l-1,-0.8l-2,-5.4l-1,-0.4l-1,0.2l-0.5,1.3l1.1,2l-1.2,1l-0.2,1l1.9,5l-0.9,3l1.4,2l-0.6,2.3l-1,1l-1,-0.3l-2,-2.5l-3,2.5l-2,0.2l-1,0.6l-0.7,2.2l-2.7,2l1.3,3l-0.1,2l-0.8,1.1l-4,2.7l-4,-3.9l-0.8,2.1l0.7,2l2.1,0.8l1.3,1.2l1.1,4l-0.5,1l0.3,1l1.8,2l1,2l1,0.3l0.3,-0.3l-0.4,-1l-2.1,-3l0.2,-1.9l2,-2.3l3,-1.3l2.9,-2.5l3.3,-5l-0.5,-3l0.3,-2.4l1,-1.3l2,-0.9l2.4,1.6l0,3l0.6,1l2.6,2l0,2l0.9,3l-0.5,1.5l-2,1.8l-2,-0.9l-2,-0.3l-1.6,1.9l0.6,0.7l5,0.1l2,-0.7l2,0.9l1,1.1l3,0.3l2,1.3l3,-0.1l4,1.1l5,2.9l1.4,-0.6l0.2,-1l1.4,-1.3l1,0.1l5,4l2.8,1.2l3.4,3l0.2,1l-1.4,1.1l-4,-1.9l-4,-2.8l-1,-0.1l-1.6,1.7l1.4,2l-0.8,1.3l-1,0.3l-2,-0.4l-3,-1.7l-1,0l-0.5,0.5l2.9,5l0.9,3l6.4,7l0.7,3l-0.6,3l-2.6,4l-0.3,2l-0.9,1l-2.3,1l0.9,2l0.1,1zM67.5,-64l-3,-1l-2,1l-2.1,-1.5l-0.5,-1l0.2,-1l1.4,-0.9l2,0.8l1,-0.2l2,1.7l2,-1l0.7,0.6l-0.1,1l-1.5,1zM112.7,-66.5l0.6,-1l-0.8,-0.5l-0.4,0.5l0.2,1zM169.5,-62.4l-3,-0.5l-0.5,-0.6l0.6,-1l-0.2,-1l3.1,-1.9l3,-0.5l2.2,2.4l-0.4,1l-0.8,1l-3.5,0zM-60.5,40.6l-2,0.1l-1.8,-1.2l-1.2,0.1l-0.6,-2.1l-1,-1l-0.7,-2l-0.3,-1l0.9,-1l0.7,-2.6l0.7,-3.4l-0.1,-2l0.5,-1l-1.3,-2l-1.6,-5l-5.2,-3.1l-4.7,-5.9l-0.3,-2.2l-1,-0.3l-1,0.3l-0.4,-0.8l0.2,-5l1.8,-4l-0.6,-1.1l-4,-1.2l-5,-4.9l-4,-1.2l-3,-2.4l-2,0.7l-2.7,-0.9l-4.3,-2.7l-2.1,-2.3l-4.4,-8l1.5,-1.6l1.8,0.6l2,2l1.2,3.4l2,2.9l2,1.2l0.8,-1.5l-0.4,-3l0.6,-0.9l1,-0.4l1.7,1.3l1.1,4l1.2,0.9l1,0.1l1,0l1.5,-2l1.5,-1l2,0.1l1,0.7l2,-1.9l3,-0.9l-1,-0.7l-1,-2.4l-2,-1.4l-5,0.6l-3,-0.4l-1,-0.4l-2.1,-2.3l0.4,-7l1,-3l2,-3l-0.3,-2.8l-1,0.8l-2,0.2l-3,-1.5l-3,-0.1l-2,-1l-4.6,0.4l-1.9,1l1.2,2l-0.7,3l-1,0.8l-3,0.2l-1,-0.2l-1,-0.9l-1.2,-1.9l-0.5,-2l0.4,-2l-1.7,-1.2l-2,0.8l-0.2,7.4l2.7,3l1.9,4l0.4,1l-0.8,0.7l-5.5,-3.7l-2.1,-4l-0.4,-7.5l-4.4,-3.5l-3.3,-4l-2.3,-1.5l-5,-1.9l-8,-0.5l-2,0.9l-3,-0.6l-3,-1.4l-1.9,0l0.9,-1l-1,1l-2,-0.7l-0.3,-0.3l0.3,-1.3l2,-0.7l1,-1.4l4,0.1l1.2,-0.7l0.8,-1.1l5,-0.4l2,0.4l1,0.8l4,-1.3l3,0.9l2,-0.2l2,1.4l4,-0.2l3,2.2l5,0.4l1.9,1.1l1.1,1.3l1,-0.1l2,1.3l2,0.1l1,0.7l5,-0.4l3,0.6l2,1l2,-0.6l1,0.9l3,1l5,0.4l2,1.1l1,-0.4l1,0.1l2,0.6l1,0.9l2,-0.4l2,0.6l2,-0.6l2,0.6l4,-0.4l1,0.7l2,-1.9l2,-0.5l3,0.4l2,1.3l2,0.4l1,-0.4l4,1.3l2.8,3.4l0.2,1l-1,1.7l-1.9,0.3l-4.1,-0.7l-3.4,0.7l-0.6,0.6l-2,0l-3,1.2l-6.8,6.2l-0.2,2l-2.9,3l-1.8,1l-0.3,1l0.3,4l-0.7,2l3.4,0.4l3,3.1l3,0.1l3,1.3l2,0.2l1,0.9l-0.4,1l-1.6,0.8l-3,-0.5l-3,0.5l-3,-0.6l-2,0.6l-1.6,-0.8l-0.3,-1l0.7,-1l-3.8,-1l-3,0l-0.9,2l0.1,1l1.8,0.4l2,1.2l0.7,1.4l0.2,3l1.1,0.6l4,0.4l2,-1.7l1,-0.4l2.3,0.1l0,1l0.7,0.1l0.1,-1.1l0.9,-0.3l5,1.1l2,0.1l1,-0.6l1,0.4l1.5,2.3l1.5,1.3l5,1.5l2.4,2.2l2.6,3.5l1.5,0.5l1.5,1.6l3.5,0.4l4.8,2l2.6,3l0.1,2l-3.3,5l-0.6,4l-0.9,3l-1.2,1.9l-2.4,2.1l-2.6,0.4l-2,1.4l-1,2.5l-4.7,5.7l-5.7,5zM93.5,-65.2l-0.6,-1.3l0.6,-0.3l1,0.3zM19.4,-56.5l2.6,-3l-0.4,-3l2.3,-2l-0.4,-0.6l-2,0.7l-1,-0.1l-1.3,1l-0.4,1l0.2,3l-1.8,2l1.3,1.7zM128.5,-63.3l-0.5,-0.2l-0.2,-1l0.7,-0.5l0.5,0.5l0.1,1zM150.5,-60.5l-1.2,-1l1,-1l0.2,-1.6l1,-0.2l0.2,0.8l-0.8,1zM77.2,-56.5l0,-2l-0.7,-0.4l-1,0.2l-1.2,1.2l1.2,1.9zM159.5,-51.4l-1.5,-0.1l-2.1,-2l0.1,-2l2.5,-2.6l1.3,0.6l1.1,2l-0.3,3zM-96.2,-50.5l-1.3,-3.6l-0.6,0.6l0.6,1.7l0.6,1.3zM-88.2,-46.5l2.7,-0.6l0.1,-0.4l-1.1,-0.5l-2,0.3l-0.9,0.2l-0.7,1zM-80.8,-44.5l-0.7,-1.3l-2.2,0.3l1.2,1.5l1,0.3zM135.1,-37.5l2.9,-2l0.5,-3l1.7,-3l-0.7,-0.9l-4,3.9l-2,1.3l-2,0.3l-1.3,1.4l-0.1,1l1.4,1.6l3,-0.1zM-86.1,-42.5l0.3,-2l-0.7,-0.7l-1,0.8l-0.3,1.9l1.3,0.5zM32.8,-43.5l-1.3,-1.6l-1.8,1.6l0.8,0.8l1,0zM-109.5,-33.4l-1.2,-0.1l-0.2,-1l1.6,-1l0.1,-1l-0.9,-1l-0.3,-3l1.9,-1.3l1,0.1l1.6,3.2l-1.7,3l0.1,1.5zM-101.5,-37.4l-1,0.2l-0.2,-0.3l-0.4,-1l0.6,-0.7l1.2,0.7zM54.5,-35.9l-4,0.2l-2.3,-1.8l1.3,-1l3,1.1l2,0.1l0.5,0.8zM-101.5,-34.3l-1,-1.2l1,-0.7l0.5,0.7zM71.5,-31l-0.8,-1.5l0.8,-0.3l0.8,1.3zM-155.5,-18l-1.6,-1.5l1.6,-1.8l1.1,0.8l0.4,1zM21.5,35.6l-1.5,-0.1l-2.1,-2l-0.3,-1l1.5,-3l-0.2,-1l-3.1,-4l0.7,-0.6l1,0.9l1,-2.5l1,-0.9l1.3,0.1l0.7,-1.2l2.1,2.2l-1.1,0.7l-1,-0.5l-1,0.4l-1.1,2.4l1.1,1.6l2,-0.3l2,1.5l0.7,-0.8l-0.2,-4l0.7,-1l0.6,-3l-0.3,-1l-1.5,-0.4l-3,0l-1,-0.6l-3,0.1l-2.1,0.9l0.1,1.8l-1,0.1l-1.4,-0.9l-0.2,-1l1,-1l-0.3,-1l-2.1,-2l0.7,-2l0.1,-2l-1.1,-4l-2.9,-4l-0.2,-4l-0.6,-0.8l-4,-2.1l-3,0.3l-2,0.8l-7,0l-4,-2.6l-2,-2l-3,-4.5l0.8,-2.1l4.2,-1.3l1,0.2l0.6,1.1l1.4,0.8l2,0l4,-1.4l4,1.3l8,-1.1l3,0.9l3,-0.1l3,0.9l1,1l1.2,-0.3l0.8,-1.1l3,-0.2l1,0.4l2,-0.6l2,0.8l1,-0.2l2,1.1l1,-1.1l1,0.3l1.8,-0.4l2.2,-1.4l3,2.1l0.9,4.3l-0.3,2l-2.6,2.9l-2.5,1.1l2.1,6l1.4,0.2l1.1,0.8l0,3l1.2,5l-0.3,2.9l-1.2,2.1l-3.8,3l-0.2,4l-1.8,2l-2,4l-1.9,2l-2.1,1.7l-3,1.1zM92.5,-10.5l-0.9,-1l0,-2l0.9,-0.9l1,0.1l0.7,0.8l-0.1,2zM120.9,-7.5l0.6,-1l-1,-0.7l-1.6,1.7l0.6,0.7l1,0.1zM33.6,1.5l-0.1,-0.9l-1,0.3l-0.2,0.6l0.2,0.5zM46.5,26.6l-2,-0.1l-1.2,-1l-0.8,-2l0,-3l0.5,-1l-0.5,-2l6,-6.2l1,-0.2l1,0.5l0.5,0.9l0.6,4l-2.1,7.4l-1.1,1.6zM168.5,17.9l-1,0.2l-2.4,-2.6l0.3,-1l1.1,-1l3.2,3zM178.5,19.8l-1,0l-1.2,-1.3l-0.1,-1l1.3,-1.4l1.8,0.4l0.5,1l-0.1,1zM167.5,23.8l-2,-0.2l-2.3,-2.1l-0.4,-1l0.7,-1.5l1,-0.5l4,3.6l0.2,0.4zM23.3,32.5l0.8,-1l-0.6,-1.2l-1.5,1.2l0.3,1zM118.5,35.6l-1,0.6l-3.3,-1.7l0.3,-3.2l1,-0.8l1,0l1,0.6l2.1,2.4l0,1zM170.5,47.3l-2,-0.1l-2.4,-1.7l0.4,-1.1l6,-4.6l0.4,-2.3l-1,-3l0.6,-0.5l4,2l2,0.4l1,1.1l-0.5,2l-2.5,2.4l-2,0.6zM-71.5,54.4l-2.1,-2.9l-0.2,-2l-1.7,-2l0.8,-3l-0.2,-4l0.7,-3l0.7,-0.8l1.8,0.8l0.5,2l-1.3,2l-0.4,4l1,2l0.3,3l1.1,3zM69.5,50.6l-1.3,-1.1l0.3,-1l1,-0.7l1.1,0.7l0.4,1z"/><path fill="#53b84a" d="M92.5,-71.5l-1,0.5l-0.6,-1.5l0.6,-0.5l1,0.5zM111.5,-67.9l-1.1,-1.6l1.1,-0.6l0.6,0.6zM118.5,-67.6l-1.1,-0.9l0.1,-1l1,-0.3l0.4,0.3zM130.5,-68.1l-0.7,-0.4l0.1,-1l1.6,-0.4l0.7,0.4zM98.5,-65.4l-0.6,-1.1l2.6,-1.7l0.8,0.7l-0.7,1zM-8.5,-31.3l-0.5,-0.2l-0.1,-1l1.3,-2l-2.5,-3l-0.2,-1l0.5,-4l0.5,-0.9l2,-0.9l6.8,-0.2l-0.8,-1.3l-1.9,-0.7l0,-2l0.9,-1l-2,0.3l-4,-1.3l-2,-1.3l0,-2l1,-1l2,-0.8l1,-2.6l1,-0.7l3,-0.4l1,0.8l1,3.6l3,2.2l1,0.1l6,-2.5l2,0.2l1.3,-0.6l-0.3,-1l-1.4,-1l-0.6,-1l0.7,-1l-0.7,-0.7l-3.1,0.7l-1.1,-3l2.2,0.3l2.1,-0.3l0.9,1.8l1.1,-0.8l-0.4,-1l2.3,-1.7l2,2l0.6,-2.3l-0.8,-1l1.2,-0.9l2,0.3l2,-1.2l1,0.5l0,0.9l-1,0.8l-2,0l-0.5,0.6l-0.8,2l0.6,2l-0.2,1l-2.1,2l2,1.9l2,-1.1l1.4,-1.8l0.5,-1l-0.3,-3l3.4,-2.9l1,0l1.4,0.9l0.6,2l1,-0.1l2,0.8l1,-2.9l4,-1.2l1,0.3l1,1.3l1,3.5l2,-1.2l2,-2.3l1,0l3,1.2l2,-0.3l3,0.9l3,-0.7l2,0.6l3,-0.3l2,2.5l4,-0.2l2,-0.9l2,1.2l0.6,-1.2l1.4,-0.9l1.7,0.9l1,2l-0.7,0.4l-0.8,1.6l0.2,1l1,1l0.1,1l-0.5,0.6l-3,0.8l-1,-0.7l-1,-1.9l-1,0.4l-1,2.2l-1,0.7l-2,-3l-2,2.9l-3,1.7l-2,-0.5l-2,0.6l-2,-0.4l-2,1.2l-2,-0.3l-2,0.9l-2.5,2.8l2.5,2l1.9,3l-0.9,1.5l-3,-0.1l-3,1l-3,-0.9l-2,1.4l-3,0.8l-0.3,-0.7l1,-1l-0.7,-1.4l-1.7,0.4l-0.3,1l-2,-0.7l-3,0l-1.3,0.7l3.2,2l-1.2,1l-1.7,0.3l-1,-0.6l-2,-0.1l-4,-2.9l-1.8,-0.7l-1.2,-1.3l-0.3,0.3l1,2l-0.7,0.8l-1,-0.3l-3,-3.1l-5,-1.8l-1,0.4l-0.6,1l-2.4,0.4l-4.4,5.6l0.4,0.5l1,-0.8l1,0.3l2,-0.7l3.6,0.7l-2.6,0.4l-2,1l-2,0.2l-3,-0.5l-0.6,0.9l-2.4,0.5l-2,2.3zM62.5,-65.4l-1.6,-1.1l0.6,-0.9l1,0.1l0.7,0.8zM116.5,-65.3l-3,0.6l-0.7,-0.8l1.7,-1.7l2.5,0.7zM172.5,-66l-1,0.1l-0.6,-0.6l1.6,-0.4l0.4,0.4zM-60.5,40.5l-1,0l-1.1,-1l-2.9,-0.9l0,-1.4l-1.7,-1.7l-0.1,-2l2.5,-10l-3.2,-7l-1.5,-1.2l-3,-1.3l-2.7,-2.5l-2.5,-4l-0.8,-2.6l-1.9,-1.4l0.1,-5l1.3,-2l0.1,-1l-0.6,-1.4l-4,-1l-5,-4.9l-4,-1.2l-3,-2.6l-2,0.9l-2.5,-0.8l-4.5,-2.8l-2,-2.3l-4.2,-7.9l1.2,-1.4l1,0l1,0.8l1.5,1.6l1.5,3.9l1.5,2.1l2.5,2l1.1,-2l-0.5,-3l1.4,-0.9l1.4,0.9l0.8,3l0.8,1.4l2,0.7l1.2,-0.1l1.4,-2l1.4,-0.9l2,0.2l1,0.6l2,-1.9l4,-1l-2,-1l-1,-2.5l-2,-1.1l-5,0.4l-3,-0.6l-2.7,-2.2l0.4,-7l1.3,-2.8l1,-0.2l1.3,-4l0.7,-0.7l3,0.4l1,-0.6l0.8,0.9l-1.1,1l-0.3,2l0.6,0.7l1,0l1.1,-2.7l0.3,-3l-1.4,-0.7l-5,0.8l-1,-0.6l-4,0.3l-1,-1.8l-3,1.1l-1,0l-2,-0.9l-7,0.2l-1.4,0.6l0.3,2l0.9,1l-0.8,2.3l-3,1.1l-2,-1.2l-1,-2.2l-0.2,-1l1.4,-2l-0.2,-0.7l-1,0.1l-2,-1.7l-1,0.3l-1.2,1l-0.3,1l0,6l0.5,1.7l2.1,2.3l1.9,4l-1,0.6l-4,-2.1l-2.1,-3.5l-0.4,-8l-0.5,-0.9l-4,-3.1l-3.5,-4l-2.5,-1.6l-1.7,-0.4l-3.3,-1.7l-7,-0.3l-2,0.2l-1,0.6l-3,-1l-3,-1.6l-1,-1.1l-0.9,-0.1l3.9,-1.8l1,0.1l3,-1.9l4,-0.1l2,0.3l1,0.7l4,-1.2l3,1l2,-0.3l2,1.5l4,-0.2l0.8,0.9l0.2,1.3l1,0.6l3,-0.6l2,0.1l2,1.1l1,1.2l2.1,0.3l-0.1,2.9l1,-1.2l2,0.4l7,-0.5l11,2.8l5,0.3l2,1.5l5,1.1l10,0l1,-0.3l2,0.6l3,-2l3,-0.1l1,1.2l4,0.5l2,-0.2l3,0.8l1,1l1.4,2.2l-0.4,2.3l-1,0.5l-4,-0.6l-4,0.2l-5,1.3l-2,1.3l-5.9,6l-0.1,1.3l-1,1.7l-2.1,2l-0.9,0.3l-1.2,1.7l0.2,4l-1,2l2,0.6l2,0l3,3l4,0.4l2,1l2,0.2l0.9,0.8l-0.4,1l-1.5,0.7l-3,-0.5l-3,0.5l-3,-0.6l-2,0.6l-1.5,-0.7l-0.2,-1l0.7,-1l-1,-0.5l-6,-0.8l-0.8,1.3l-0.3,2l4.1,1.8l0.5,1.2l0.3,3l1.2,0.8l2,-0.1l2,0.7l3,-2.3l1,1.1l2,0.2l0.8,-0.4l0.1,-1l1.1,-0.1l4,1l4,-0.1l1.4,2.2l1.6,1.4l5,1.5l2.4,2.1l2.6,3.6l1.4,0.4l1.6,1.7l2.7,0.3l5.4,2l1.3,1l1.2,2l0.2,2l-3.2,5l-0.5,4l-1,3l-1.1,1.8l-2.6,2.2l-2.4,0.4l-2,1.3l-1,2.5l-4.8,5.8l-5.9,5zM139.5,-64.1l-1.3,-0.4l0.1,-1l1.2,-0.7l0.8,0.7l-0.1,1zM147.5,-63.1l-1,-1.1l-1,-0.2l-2,1.4l-1.7,-0.5l0.7,-1l4,-0.4l1.3,0.4zM148.5,43.6l-2,0.6l-1,-0.4l-1.2,-2.3l0.2,-1.4l2.7,-0.6l-5.7,-0.1l-1.3,-0.9l-0.3,-1l0.6,-1l2,-1.4l2,0l2,-0.7l1.6,-2.9l0.3,-3l1.1,-2l-2,-1.2l-2.1,-2.8l-0.9,-3.9l-6,1l-2,-0.4l-2,-2.4l-3,0.3l-2,-1.1l-0.8,-1.5l-0.3,-1l3.1,-2.7l5,0l0.9,0.7l0.2,1l-0.9,3l4.8,1.5l0.3,-0.5l-1.3,-3.9l0.5,-1.1l-0.1,-1l-3.4,-1l-1.2,-1l0.4,-1l-0.9,-1l-3.3,-0.8l-1,-0.7l-1,0.3l-3,-0.4l-1,0.6l-1,-0.3l-1.8,1.3l0.8,0.9l3,-0.1l1,1.2l-2,2.4l-2,0.7l-2,-0.7l-2,0.3l-12,-1.5l-3,-0.9l-6,-5.9l-2.6,-4.4l-2.7,-3l-0.3,-1l0.6,-0.9l3.2,-1.1l0,-6l-0.4,-1l-1.8,-0.2l-1.4,-0.8l-0.5,-3l-1.6,-2l-1.5,-3.3l-1,0.2l-0.2,2.1l-1.8,0.7l-6.4,6.3l-0.7,4l1.1,0.3l0.9,1.7l0.2,2l-0.7,1l-1.4,0.6l-1,-0.5l-1,-3.2l-2,0.8l-0.7,-0.7l-1.9,-4l-2.4,-7.9l-0.9,-1.1l0.1,-1l0.8,-0.6l1.3,-2.4l0.9,-5l1,-1l-1,-2l0.8,-0.9l8,5.2l5,0.9l3,0l6,-1l2,1.9l3,-2.4l1,-1.3l1.2,-4.4l-0.2,-1l1,-1.7l5,-1.9l4,-2.4l3,0.3l1.8,-0.3l1.3,-2l1.4,-1l0.4,-1l-0.3,-2l-3.6,-4.1l-2,-0.8l-2,2.8l-1,0.5l-2.6,-0.4l-1.4,-2.2l-0.8,1.2l-1.6,0l-1.6,0.8l-8,-0.2l-3.6,0.4l-1.4,0.7l-4,-0.5l-4,0.4l-2,-1.7l-2,-0.8l-2.1,-2.1l1.1,-0.9l0,-0.9l-1,-3.9l-1.6,-0.3l0.6,-0.5l1,0.2l2,-0.8l2,0.7l2,-0.2l4,1.4l1,-1l3,0.5l4,-0.7l2,0.6l2,2l2,-0.9l3,1.2l0.9,-0.5l-1,-1l1.1,-0.4l1.4,1.4l-0.4,0.8l-0.8,0.2l0.5,1l3.3,1l1,-1.2l1,-0.3l2,1.2l2,-0.5l0.9,-2.2l1.1,-0.7l1,1.4l3,0l1,-0.7l4,1l0.9,1l-0.3,2l0.4,0.6l2,-2.5l2,0.2l1,1.2l1,-0.3l0.9,0.8l4.1,0.5l2,1.4l2,-1.8l1,-0.1l1,0.7l0.8,4.3l-0.6,3l1.7,3l-0.9,1.9l-1.5,1.1l-1.8,5l-2.3,2l-2.4,0.3l-1,1l-2,0.1l-2.3,1.6l-1.7,0.2l-1,-0.6l-1,-1.8l-3,-1.7l-1,-4.1l-1,-1.9l-2,-0.1l-1.5,2l1.1,2l-0.8,1l0.2,2l1.8,4l-0.8,3l1.4,2l-0.4,2.1l-1,0.9l-1,-0.1l-0.8,-0.9l-0.2,-1.5l-1,-0.5l-1,0.3l-1,1.7l-1,0.7l-3,0.7l-0.8,2.6l-2.8,2l1.3,3l0,2l-0.7,1l-4,2.6l-4,-3.8l-0.8,2.2l0.6,2l2.2,0.8l1.3,1.2l1.1,4l-0.6,1l0.4,1l1.8,2.1l0.9,1.9l1.1,0.4l0.4,-0.4l-0.4,-1l-2.1,-3l0.1,-1.7l2,-2.5l3,-1.2l3,-2.6l3.3,-5l-0.6,-3l0.3,-2.3l1,-1.3l2,-0.9l2.3,1.5l0.1,3l0.6,1.1l2.5,1.9l0,2l0.9,3l-0.4,1.4l-2,1.8l-4,-1.1l-1,0.7l-0.6,1.2l0.6,0.8l5,0.1l2,-0.7l1.9,0.8l1.1,1.2l3,0.2l2,1.4l3,-0.2l4,1.1l5,2.9l1.5,-0.6l0.1,-1l1.4,-1.2l1,0l5,4.1l2.7,1.1l3.5,3l0.2,1l-1.4,1l-4,-1.9l-4,-2.8l-1,0l-1.7,1.7l1.5,2l-0.8,1.3l-1,0.2l-2,-0.4l-3,-1.6l-1,-0.1l-0.6,0.6l2.9,5l0.9,3l5.8,6l1,2.2l0.2,1.8l-0.6,3l-2.5,4l-0.4,2l-0.7,0.9l-2.9,1.1l1.4,2zM159.5,-51.5l-1,-0.1l-1,-0.7l-1.2,-1.2l-0.2,-1l0.4,-1l2,-2.1l1,0.7l0.8,1.4l0,3zM104.7,-54.5l0,-1l-1.2,-1.3l-0.1,1.3zM122.7,-54.5l0.1,-1l-1.3,-1.2l-1,0.4l-0.4,0.8l0.5,1l1.9,0.8zM-104.4,-54.5l-0.1,-1.5l-1.1,1.5zM-123.3,-51.5l-2.2,-2.5l-1,-0.6l-0.2,1.1l2.2,1l0,1.3zM-95.7,-50.5l-1.8,-4.3l-1.1,1.3l1.1,2.8l1,0.8zM-63.4,-50.5l-1.1,-0.3l-1,0.3l1,0.8zM141.7,-49.5l-0.2,-2l-1.3,2l0.3,0.8l1,-0.3zM135.2,-37.5l2.9,-2l0.4,-2.9l0.9,-2.1l1.1,-1.7l0.9,-0.3l-0.9,-1.7l-0.2,0.7l-4.9,5l-1.9,1.2l-2,0.3l-1.4,1.5l-0.1,1l1.5,1.7l3,-0.1zM-81,-42.5l-0.2,-1l0.8,-1l-0.4,-1l-0.7,-0.6l-2,0.1l-0.6,0.5l2.2,2l0.2,1zM29.6,-42.5l1.9,-0.1l1.5,-0.9l-1.5,-1.7l-1.9,1.7zM-107.5,-36.5l-2.1,-1l0.1,-3.1l1,-0.3l0.6,0.4l1.2,2zM54.5,-36.2l-4,0.3l-2,-1.6l1,-0.8l3,1.4l2,0.1zM9.5,-36.1l-1.5,-0.4l1.5,-0.6l0.5,0.6zM71.5,-27.3l-0.8,-0.2l0.8,-1.2l0.4,1.2zM-155.5,-18l-1.5,-1.5l1.5,-1.7l1,0.7l0.4,1zM26.5,34.7l-5,0.7l-1,0l-1.3,-0.9l2.3,-1.5l2.5,-0.5l0.7,-1l-0.2,-1.3l-1,-0.6l-2,0.4l-1,-0.4l-0.2,-1.1l2.2,-0.4l2,0.9l1,-0.9l1.2,-9.6l-3.2,-0.9l-9,-0.6l-2.5,-2.5l0.3,-4l-1,-4l-2.9,-4l-0.2,-4l-0.8,-1l-3.9,-2l-3,0.4l-2,0.8l-7,-0.1l-4,-2.5l-2,-2.1l-2.3,-3.5l-0.2,-1l0.5,-0.8l2,-0.1l0.8,-1.1l1.2,-0.3l1,1.3l2,0.6l2,-0.1l4,-1.5l4,1.5l2,-0.6l2,0.2l1,-0.5l1,0.2l1,0.9l2,-0.9l3,0.4l2,-0.3l4,1.9l3,-1.1l1,0l2,1l2,-1.3l1,0.8l2,-0.2l2,0.9l6,-2.8l1,0.2l1.7,1.7l0.8,5l-2.5,3.3l-3.1,1.7l1.6,3l0.5,3l1,0.7l1,-0.3l0.9,0.6l0.5,6l0.7,2l-0.1,2.2l-1.6,2.8l-3.6,3l-0.2,4l-1.6,1.9l-2,3.8l-3.2,3.3zM93.5,-10.9l-1,0.4l-0.8,-1l0,-2l0.8,-0.8l1,0.1l0.6,0.7l-0.1,2zM120.9,-7.5l0.7,-1l-1.1,-0.7l-1.6,1.7l0.6,0.8l1,0.1zM33.7,1.5l-0.2,-1.1l-1,0.1l0,1.8zM124.8,2.5l1.1,-1l-0.4,-0.6l-1.2,1.6zM46.5,26.6l-2,-0.2l-1.2,-0.9l-0.7,-2l0.5,-4l-0.4,-2l0.5,-1l5.3,-5.1l1,-0.2l1.5,1.3l0.5,4l-2,7.3l-1.2,1.7zM126.5,18l-2,0.2l-1,-0.5l-0.4,-1.2l2.4,-2.7l1,0l0.9,0.7l-0.7,1l0.5,2zM168.5,17.8l-1,0.2l-2.4,-2.5l0.3,-1l1.1,-0.9l1.4,0.9l1.7,2zM178.5,19.8l-1,-0.1l-1.2,-1.2l0,-1l1.2,-1.3l1.7,0.3l0.6,1l-0.1,1zM167.5,23.8l-2,-0.3l-2.3,-2l-0.3,-1l0.6,-1.5l1,-0.4l4,3.6l0.2,0.3zM117.5,35.9l-3.2,-1.4l0.3,-3l0.9,-0.8l1,0.1l2.8,2.7l0,1zM18.5,33.8l-0.5,-1.3l0.5,-0.7l0.6,0.7l-0.1,1zM139.5,36.9l-1,-0.9l-2.1,-0.5l-1.1,-1l3.2,0.3l2,1.7zM170.5,47l-1,0.3l-1,-0.3l-2.2,-1.5l0.2,-1l6,-4.3l0.5,-2.7l-0.9,-3l0.4,-0.3l4,1.9l2,0.4l0.9,1l-0.4,2l-2.5,2.3l-2,0.4zM-71.5,53.8l-1.9,-3.3l0.1,-2l-1.2,-0.2l-0.8,-0.8l0.7,-3l-0.2,-3l0.8,-4l0.5,-0.5l1.3,0.5l0.6,2l-1.1,2l-0.5,4l2,8zM70.5,49.8l-1,0.6l-1.1,-0.9l0.1,-0.7l1,-0.7l1,0.3z"/><path fill="#74c55e" d="M-118.5,-34.3l-4,-2l-1.9,-3.2l-0.4,-8l-0.5,-1l-3.2,-2.3l-4.4,-4.7l-2.6,-1.7l-6,-2.5l-7,0l-2,0.7l-3,-1.1l-3,-2.4l7,-3.3l3,0.1l3,1l2,-0.8l3,-0.2l2.6,1.2l1.4,-0.4l3,1.5l2,-0.7l1,0.3l0.2,2.3l2.4,1l0.4,1.2l1,0.2l1,-2l1.1,-0.4l1.5,2l3.4,0.9l-0.2,1.1l1.2,1.9l2,-1.5l1,0.5l3,-0.6l3,0l1,0.1l0.7,0.6l-0.4,2l0.7,0.7l1.6,-0.7l0.4,-1.5l1,-0.1l2,1l1,-0.1l1.5,3.7l0,1l-0.5,0.6l-3,0.9l-2,-1l-4,0.6l-3,-0.8l-2.2,1.7l0.1,1l-2.3,1l0.7,1l1.7,0.3l0.5,0.7l-0.5,1.1l-2,0.7l-1.5,-0.8l-1,-2l-0.1,-1l1.5,-2l0.4,-2l-0.3,-0.8l-1,-0.1l-1,1.3l-2,-1.2l-2,0.2l-0.5,-0.4l-0.5,-2l-1,0l-2,-2.8l-1,0.1l-0.6,0.7l-0.4,1l0.3,1l2.7,2.8l2.2,0.2l0.3,9l3,4l0.9,3zM-7.5,-34.9l-2,-2.2l-0.6,-1.4l0.5,-4l0.7,-1l4.4,-0.7l4,0.5l0.7,-0.8l-2.1,-3l0,-2l-0.6,-0.6l-3,0.3l-3,-1.1l-2,-1.6l0.9,-2l2.1,-0.7l1,-2.6l1,-0.9l3,-0.4l0.7,0.6l1.1,4l4.2,2.2l3,-1.1l2,0l2,-0.6l3,-1.5l-0.3,-1l-1.4,-1l-0.2,-1l2.9,-4.9l2,3.7l1,-1.5l0.5,0.7l-0.5,1l-2,0.5l-0.4,0.5l1.4,2.2l2,0.8l3,-0.8l1.3,-3.2l-0.1,-3l1.9,-1l0.9,-1.2l1,-0.2l0.6,0.4l0.7,2l-0.8,2l0.5,0.9l2,1.1l0.2,-1l2.8,-2.4l1,0l1,0.8l3,-1.2l0.8,0.8l1.2,2.6l3,-2.6l1,-2.2l2,0.3l2,1l2,-0.5l0.8,0.4l1.1,1l-0.3,1l0.4,1.1l1,-0.1l0.6,-1l-0.3,-1l2.7,-1.1l2,0.6l1,-0.4l2,0.2l1.3,2.7l1.2,4l-0.3,2l-1.1,1l-3.1,0.9l-2,-0.1l-1,0.5l-2,-0.3l-2,1.1l-1.3,-0.1l0.1,-1l-0.8,-0.2l-1,1.4l-1,-0.1l-3.4,3.9l-0.6,1l1,0.7l1,-0.4l1,0.5l0.5,1.2l2.1,2l-0.6,1.2l-3,-0.2l-2,0.6l-1,-0.6l-3,0l-2,0.9l-1,-0.1l-2,-1.7l-6,0.8l-2,-1.4l-1,0.5l0.6,1l-0.6,0.8l-3,1.4l-3,-2l-1.1,-0.2l-1.9,-1.9l-1,-0.2l-1,-0.9l2.3,4l-0.3,0.4l-1,-0.2l-3,-3.4l-2.5,-0.8l-1.4,-1l-1.1,0l-1,0.3l-1,1.1l-1,-0.4l-1,0.4l-2.3,2.6l-1,2l-1.7,1.2l-2,0.4l-0.3,-0.6l1.2,-1l-0.3,-1l-1.6,-1.2l-0.1,1.2l-1.9,3.7zM33.5,-62.8l-1,-0.7l1,-1.1l0.5,0.1l0.3,1zM37.5,-63l-2.5,-1.5l1.5,-0.8l1.1,0.8l0.3,1zM8.5,-60.2l-0.6,-0.3l0.4,-1l1.6,0l-0.4,1zM71.5,-54l-2,-2.5l-1,-2.4l-1,-0.4l-0.7,1.8l-1.3,0.4l-0.6,-0.4l0.5,-1l-2.1,-1l4.2,-0.3l1,-0.9l1.5,1.2l0.1,2l1.4,0.3l0.5,-0.3l0.1,-1l-0.4,-1l0.2,-1l0.4,-1l0.5,0l1,2l-0.9,2l0.5,2zM91.5,-50.2l-3,0l-2,-0.6l-0.8,-1.7l-1.2,-0.2l-2,-2.3l-1.2,0.5l1.2,0.6l0.3,1.4l-0.3,0.3l-2,-0.3l-1.7,-2l0.4,-1l-0.7,-3l0.5,-1l0.5,-0.5l1.2,1.5l0.8,0.3l0.7,-1.3l-0.2,-1l1.5,-0.1l2.1,2.1l1.9,1.2l0.8,-0.2l0.2,-2.2l5,0l0.7,0.2l0.4,1l1.9,0.3l3,1.8l0.4,-1.1l1.6,-1.1l1.6,4.1l1.4,0.7l3,-0.9l2.2,0.2l-0.2,0.7l-1,-0.2l-1.1,1.5l-1.9,0.6l-3,0.7l-8,0.1l-2,0.3zM-130,-58.5l0.5,-1.2l-1.7,0.2l0,1zM125.5,-54.1l-1,-0.4l0.5,-1l-0.8,-1l0.3,-1.1l1,0.2l0.4,0.9l0.1,2zM149.5,38.5l-2,0.9l-6,-0.1l-1.2,-0.8l0.2,-1.6l1.3,-0.4l0.7,-1l1.6,0l0.4,0.5l3,-1.2l2,0l-1.9,-1.3l0.9,-1.6l0.7,-0.4l0.3,-3.1l0.5,3.1l0.5,0.2l1,-0.8l0.4,-3.4l-0.4,-1.5l-1,-1.1l-1,0.5l-1.7,-0.9l1.7,-1l-0.1,-1l-1.9,-0.9l-1,0.1l-2,-3.5l-1,-0.2l-1,-1.2l-1.6,-3.3l0.2,-3l-3.4,-1l-1.2,-0.8l0.3,-1.2l-1.3,-1.3l-3,-0.5l-1,-0.7l-6,0.1l-1.8,1.4l0.8,0.9l3,-0.1l1,1.2l-2,2.3l-2,0.7l-2,-0.6l-2,0.2l-12,-1.5l-3,-0.8l-6,-6l-2.5,-4.3l-2.8,-3l-0.2,-1l0.5,-0.8l3.3,-1.2l0,-6l-0.3,-1.1l-2,-0.3l-1.2,-0.6l-0.5,-1l-0.1,-2l-3.2,-5.5l-1.1,-0.5l-0.8,3l-1.9,1l-1.4,2l-3.8,2.9l-0.8,1.1l-0.7,4l1.5,0.4l0.8,1.6l0.2,2l-0.7,1l-1.3,0.4l-1,-0.4l-1,-3.7l-0.5,0.7l-1.5,0.5l-2.5,-4.5l-1.8,-6l-0.1,-2l-0.9,-1l1.9,-4l0.9,-4l1.1,-2l-1,-2l0.4,-0.5l8,5l5,0.9l4,-0.1l5,-0.8l2,2.2l4,-3.7l2,-7.3l3,-0.8l6,-3.5l3,0.5l3,-0.4l0,-1.5l2,-2l0.2,-3l-3.5,-5l-4.5,-1l0.8,-0.8l2,0.1l0.1,-1.3l0.9,-0.6l2.2,0.6l-0.1,3l2.9,0.9l3,0.5l3,-0.7l1,-2.2l1,-0.1l2,1l6,0.6l1.6,1l-0.6,3l0.2,2l-4.5,5l-1.7,1.2l-2,0.2l-1.5,1.6l-0.1,1l1.6,1.7l3,0l3.7,-2.7l0.3,-2.7l0.9,-2.3l1.1,-1.5l1.2,-0.5l0.4,-5l-0.5,-2l1.9,-0.7l1,0.5l0.6,4.2l-0.4,3l1.5,3l-0.7,1.7l-1.6,1.3l-1.8,5l-2.3,2l-2.3,0.2l-1,1l-2,0.1l-2.7,1.7l-1.3,0.1l-1,-0.7l-1,-2l-2.8,-1.4l-0.9,-4l-1.3,-2.6l-2.8,0.6l-2.2,3l1.6,1l-0.1,4l1.7,2l-0.2,3l-0.7,1l1.7,1.4l-0.1,2.6l-0.9,0.8l-1,-0.1l-0.7,-0.7l-0.3,-2.4l-2,0.1l-1,1.8l-1,0.9l-3.2,0.6l-0.8,3.2l-1,0.8l-1.9,0l1.6,5l-0.9,2l-3.8,2.3l-1,-0.5l-2,-2.6l-1,-0.5l-0.8,1.3l-0.1,2l0.9,1.3l2,0.6l1.3,1.1l1.1,4l-0.7,1l0.4,1l1.9,2.2l0.8,1.8l1.2,0.5l0.5,-0.5l-0.4,-1l-2.2,-3l0.3,-2l1.8,-2.2l3,-1.2l3,-2.6l3.3,-5l-0.5,-3l0.7,-3l1.5,-1.1l2,0l1.3,1.1l0,3l0.5,1l2.7,2l0.8,6l-2.3,2.2l-4,-1.2l-1,0.6l-0.7,1.4l0.7,0.9l5,0l2,-0.6l1.8,0.7l1.2,1.3l3,0.2l2,1.3l3,-0.1l4,1l5,3l1.5,-0.7l0.2,-1l1.3,-1.2l1,0.1l5,4l2.6,1.1l2.4,1.9l1.1,1.1l0.2,1l-1.3,1l-4,-1.9l-4,-2.8l-1,0l-1.7,1.7l1.4,2l-0.7,1.2l-1,0.3l-2,-0.4l-3,-1.7l-1,-0.1l-0.6,0.7l1.3,3l1.5,2l0.9,3l5.9,6.3l1,2.6l-0.5,4.1l-2.1,3l-0.8,3zM67.5,-54.5l-1,0.6l-0.8,-0.6l0.4,-1l1.4,-0.9l0.4,0.9zM112.5,-53.8l-1.2,-0.7l0.2,-1.7l1.8,1.7zM159.5,-52l-1,0l-1.7,-1.5l-0.3,-1l1,-1.6l1,-0.3l1.2,0.9l0.2,3zM-80.5,-24.8l-1.6,-0.7l-1.4,-2.8l-1,-0.5l-2,-0.5l-4,0.3l-5,-2.2l-0.5,-1.3l0.1,-3l0.6,-3l2.3,-3l0.5,-2l1.2,-2l2.8,0.2l0.2,2.8l0.8,0.9l1,0.1l0.8,-1l1.2,-3.2l1.9,2.2l0.1,1.3l2,0l1,-0.9l1.5,-0.4l-1.5,-0.2l-1,-1.9l-1,-0.7l-2.8,-0.2l-1.2,-1.6l-1,-0.4l-4,0.4l-0.8,-0.4l-1.2,-1.7l-1,-0.4l-0.2,2.1l-0.8,0.4l-1.9,-0.4l-0.2,-1l1.8,-1l-0.7,-0.5l-1,-2.1l0,-1.5l1.5,0.1l0.5,1l2,1.5l2,0.1l1,-1l1,0.4l-0.6,1l0.6,1.1l3,-1.4l1,0.4l2,-0.4l1,1.5l2,0.4l1,1.3l0.7,-0.9l0,-2l0.3,-0.1l3.4,0.1l0.7,1l-0.1,1.2l1,0.7l1.2,-0.9l-1.6,-2l1.4,-0.3l1,1l3,0.4l0.6,0.9l-0.6,1l-2,-0.5l-0.4,0.5l1.4,1.4l2.2,-0.4l1.8,-1.5l2,-0.5l1,1.6l1,-0.5l-1,-1.4l-1,0.1l-0.8,-1.8l0.8,-0.6l8,0.5l1,1l1.1,2.1l-0.4,2l-6.7,0.1l-2,-0.6l-5,1.7l-2,1.4l-6,6.4l-1.5,3l-3.3,3l-0.6,1l0.2,4zM-65.5,-52.4l-1,0.4l-1.3,-0.5l1.3,-1zM84.5,-50.3l-1.4,-0.2l-0.5,-1l0.9,-0.8l1.5,1.8zM30.6,-42.5l1.9,-0.2l0.7,-0.8l-1.7,-1.9l-2,2.1l-0.7,-0.2l-0.5,-1l1.2,-1l0.4,-1l-0.4,-0.6l-1,0.1l-1,1.5l-0.5,2l0.5,0.6l1,-0.2l1,1.2zM35.1,-42.5l1.4,-0.2l0.5,-0.8l-0.5,-0.6l-2.3,1.6l0.3,0.4zM51.5,-36l-1,-0.2l-1.7,-1.3l0.7,-0.5l2,0.6l1,0.9zM-7.5,-32.2l-1,-0.3l1,-1.9l1,-0.9l1,0.8l1.1,-1l0,1l-1.1,0zM-59.5,39.7l-2,0.2l-1,-1l-1.4,-0.4l-1.2,-2l-1.7,-1l-0.2,-1l2.8,-11l-3.5,-7l-4.8,-2.7l-2.5,-2.3l-2.9,-5l-0.5,-2l-1.6,-1l-0.1,-5l1.3,-3l-0.7,-1.7l-4,-0.9l-5,-4.8l-4,-1.3l-1,-1.3l-2,-1.3l-2,0.9l-2,-0.5l-5,-3l-2,-2.4l-3.9,-7.7l0.9,-1.3l1,0.1l1.4,1.2l2.5,5l2.1,3l2,1.3l1,-1.2l0.2,-1.1l-0.4,-3l1.2,-0.8l1.2,0.8l1.3,4l1.5,1.1l2,0.2l1.6,-2.3l1.4,-0.8l2,0.2l0.8,0.6l0.3,1l-0.3,3l3.2,1.1l1,0.8l1,4.5l1,0.5l2,-0.2l2,1l3,-2.1l1,0.9l2,0.2l1,-0.4l0.9,-1.3l6.1,1.3l2,-0.4l1,1l0.3,1.1l1.7,1.5l5,1.4l2.3,2.1l2.7,3.6l1.3,0.4l1.7,1.8l8,2.2l2,2l0.7,2l-0.2,1l-3,5l-0.5,4l-0.9,3l-1.1,1.7l-2.8,2.3l-2.2,0.3l-2,1.4l-1,2.4l-4.8,5.9l-6.2,4.9zM-65.5,-17.2l-4,-0.2l-3,0.4l-3,-0.4l-1,0.5l-2,-0.2l-0.6,-1.4l0.6,-0.8l1.5,-0.2l-4.5,-1.2l-3,0.2l-1.5,-1l1.5,-1.9l4,-0.9l2,0.7l2,-0.1l3,3l4,0.4l2,0.9l2,0.2l0.8,0.7zM-155.5,-18.1l-1.4,-1.4l1.4,-1.6l0.9,0.6l0.4,1zM25.5,34.9l-4,0.3l-1.8,-0.7l4.9,-2l0.5,-1l-0.3,-2l1,-1l0.6,-2l-0.1,-2l0.5,-1l0.4,-5l-3.7,-1.2l-8,-0.4l-2,-1.4l-1.2,-2l0.1,-3l-1,-4l-2.9,-4l-0.2,-4l-0.8,-1.1l-2,-0.7l-1,-0.9l-2,-0.4l-4,1.2l-7,0l-5,-3.5l-3,-4.8l3,-1.7l3.2,0.9l2.8,0.1l4,-1.6l4,1.6l2,-0.3l4,1.2l2,-0.3l1,-0.8l5,-0.4l3,1.6l4,0.1l1,-0.6l2,0.8l5,-1l2,1.4l6,-3.5l1,0.3l1.3,1.4l1,4l-0.7,2l-2.6,2.7l-2,0.4l-0.4,0.9l1.5,3l0.9,3.6l1,0.5l1,-0.5l0.5,0.4l1.5,9.4l-2,3.6l-3.5,3l0.2,3l-0.3,1l-1.6,2l-1.8,3.5l-3.4,3.5zM93.5,-11l-1,0.3l-0.7,-0.8l0,-2l0.7,-0.7l1.5,0.7l-0.1,2zM121,-7.5l0.7,-1l-1.2,-0.8l-1.7,1.8l0.7,0.8l1,0.2zM33,2.5l0.9,-1l-0.4,-1.2l-1.2,0.2l0.1,2zM124.8,2.5l1.1,-1l-0.4,-0.7l-1.3,1.7l0.3,0.3zM47.5,26l-1,0.5l-2,-0.3l-1.1,-0.7l-0.5,-2l0,-6l0.4,-1l4.2,-4.1l1,-1l1,-0.1l1.4,1.2l0.5,4l-1.8,7zM137.5,18.9l-1.2,-0.4l-0.8,-1.7l-1,-0.8l-2,0.7l-0.8,-0.2l-0.2,-0.7l-1.1,-0.3l1.1,-0.1l0.3,-0.9l-0.3,-0.6l-2,0.3l-0.5,-0.7l0.4,-1l2.1,-1.5l5,0l0.6,0.5l0.3,1l-1.3,1l-0.3,2l2.7,2l-0.3,1zM125.5,17.9l-1.2,-0.4l-0.8,-1l1,-0.3l1,-1.8l0.5,0.1l0.4,3zM168.5,17.7l-1,0.1l-2.3,-2.3l0.3,-1l1,-0.7l1,0.4l2.1,2.3zM178.5,19.7l-1,0l-1.1,-1.2l-0.1,-1l1.2,-1.3l1.6,0.3l0.6,1l-0.1,1zM33.2,19.5l-2.6,0l1.9,0.6zM167.5,23.7l-1.9,-0.2l-2.3,-2l-0.3,-1l0.5,-1.4l1,-0.4l1,0.7l3,2.9zM117.5,35.7l-3,-1.2l0.3,-3l0.7,-0.6l1,0.1l2.5,2.5l0,1zM170.5,46.7l-1,0.4l-3,-1.6l0.3,-1l6,-4l0.3,-3l-0.7,-3l6.1,2.1l0.8,0.9l-0.4,2l-2.4,2.2l-1,0.5l-1,-0.3l-2,2.9zM-73.5,47.8l-1,0.3l-0.6,-0.6l0.6,-6l1,-4.3l0.8,0.3l0.7,2l-0.9,2zM148.5,43.6l-2,0.4l-1,-0.5l-0.9,-2l0.6,-1l2.3,-0.7l1.3,1.7zM69.5,49.8l-0.9,-0.3l0.6,-1l1,0l0.2,1z"/><path fill="#96d376" d="M-119.5,-35.1l-3,-1.4l-1.8,-3l0,-5l-0.8,-4l-3.4,-2.5l-4.2,-4.5l-3.8,-2l-1,-1l-3,-1.3l-8,-0.2l-2,0.7l-3,-1.3l-1.7,-1.9l5.7,-3l1,-0.1l5,1.5l1.1,-0.4l0.9,0.6l1,-1l3,-0.2l1,0.9l2,0.2l3,1.4l1,0.1l0.7,-1l0.7,0l0.3,1l-1.7,1.8l-3,-0.8l-1.2,1l0.8,1l3.4,2l2.9,1l-0.4,1l0.4,2l3.1,3.2l1.5,0.8l0.9,3l0,5l0.6,1.5l2.3,2.5l0.3,2zM-140.9,-62.5l-0.6,-0.8l-1,0.8l1,0.5zM-6.5,-37.4l-2,0.2l-1.2,-1.3l0.5,-4l0.7,-0.9l1,-0.3l2,0.5l1,-0.7l1,0l1,0.1l1,0.9l1,0.1l1,-1.1l1.6,-0.6l-0.6,-0.8l-1,0l-1.2,-2.2l1.6,-1l-0.4,-1.6l-1,0.6l-1,-0.2l-1,-0.9l-2,0.6l-1,-0.2l-3,-1l-1.5,-1.3l0,-1l0.5,-0.7l2,-0.6l0.6,-0.7l0.4,-2l1,-1l3,-0.4l0.5,0.4l0.9,4l2.6,1.3l1,1.2l1,0.1l3,-1.2l3,0.9l2,-1.7l3.5,-1.6l-2.6,-3l1.1,-1.4l0.6,0.4l-0.1,1l1.9,3l1.6,0.7l2,-0.5l2,0.4l2,-1.6l0,-6l0.7,1l-0.4,2l0.7,0.8l1,0.7l1,-1.6l2.9,2.1l1.1,1.7l1.4,-0.7l0,-1l-1.1,-1l0,-1l0.7,-0.9l1,-0.6l2,0.5l2,-1l1,0.1l0.7,0.9l-0.3,1l-2.1,1l1.7,2.1l1,-1.9l1,0.3l1,-0.8l4,-1.3l2,0.3l1.6,-0.7l0.4,-1.3l1,-0.3l1,1.5l0,1.5l1,0.7l1.8,-1.1l1.2,-2.1l1,1.3l1,-0.9l3,-0.6l0.6,0.3l-0.6,2.4l1,-0.2l1.1,1.8l0.3,3l-0.4,1.1l-1,-1.2l-1,2.1l-1,0.4l-2,-0.4l-1,0.6l-2,0l-2,0.6l-1,-1.5l-1,0.2l-1,1.1l-2,-0.1l-1,2.1l-1.3,-1l-0.5,1l1.2,1l-0.4,1l-1,0.6l-2,-0.6l-0.9,1l0.9,1.6l1,0.1l2,1.2l1.1,-0.9l0.6,2l2.6,1l-0.7,1l-2.6,-0.4l-2,0.2l-1.7,-1.8l0.3,-1l-0.6,-0.7l-1.3,1.7l1.3,0.3l0.3,0.7l-2.3,0.2l-2,1.1l-1,-0.3l-1.2,-1l1.9,-2l-0.7,-0.8l-3,1.3l-2,-2.5l-1,0.5l0,-1.5l-1,-2.1l-1,0.6l-2,2.6l-3,-0.4l-1,0.7l-2,-2.3l-2.7,0.9l0.7,1.2l2.1,-0.2l1.9,1.1l1.8,1.9l1.1,2l-2.9,1.6l-1,-0.2l-2,-1.7l-1,0l-2,-2.2l-2.1,-1.5l-0.9,-1.7l-2,0.3l-1,-0.9l-1,-0.2l-1,0.4l0,1.3l-4,0.9l-1.5,0.9l-2.5,2.2l-1,2.5l-1,-0.2l-0.9,-2.5l-1.1,-0.6l-3,0.5l1.1,1.1zM-112.5,-50.1l-2,-0.9l-2,-1.8l-2,1.3l-2,-0.5l-1.9,-2.5l-1.1,-0.4l-0.5,-1.6l-1.5,-1l-1,0.4l-0.6,-0.4l-1.1,-2l1.7,-0.6l1,2.6l1,-0.6l1,-1.5l2,0.9l3,0.2l0.6,2l1.4,1.6l1,-0.2l1,-1.3l2,0.4l2,-0.7l3.7,0.2l0.4,1l-1.1,1.2l-1,0l-1,-0.7l-3.4,1.5l1.4,2zM89.5,-50.5l-1,0l-1.7,-1l-0.2,-1l-1.7,-1l-1.6,-2l-0.3,-2l0.5,-1.5l0.9,1.5l1.1,-0.1l1,1.1l2,-0.5l0.6,-0.5l0.4,-1.6l2,0.2l5,1.7l4,2.3l-0.7,3.4l-3.3,-0.1zM59.8,-56.5l0.2,-1l-0.5,-0.7l0,2.3zM71.5,-54.9l-0.5,-0.6l0.5,-1.1l0.8,1.1zM80.5,-55.4l-0.9,-1.1l0.9,-0.7l1,-0.1l0.5,0.8zM-102.5,-53.9l-0.8,-0.6l0.8,-1l0.6,1zM159.5,-52.5l-1,0.2l-1.3,-1.2l0.3,-2.1l1.5,0.1l-0.4,1zM94.1,-54.5l-1.6,-0.4l-0.6,0.4l0.6,0.7zM97.5,-53.5l-0.3,-1l-0.7,-0.4l-1.5,0.4l0.1,1l0.4,0.2zM-101.5,-49.8l-1,-1.2l-2,0.6l-4,0.1l-2.4,-2.2l2.4,-0.5l1,0.8l1,-0.1l1,-1l2,-0.9l2.5,2.7l0.3,1zM-99.5,-52l-0.9,-0.5l0,-1l0.9,-0.6l0.6,1.6zM103.5,-52.4l-1,0.6l-0.3,-0.7l0.3,-1l1.3,0l0.2,1zM105.5,-52.3l-0.8,-0.2l0.8,-1.2l0.6,0.2l-0.2,1zM133.5,-31.5l-2,1l-1,-0.1l-1,-0.7l-1,-2.2l-2,-0.6l-1,-1.6l-0.9,-4.8l2.6,-2l1.3,-2l-1,-0.3l-3,2.3l-1,0.2l-0.2,-1.2l-0.8,-0.4l-0.7,0.4l1,2l-2.6,0l0.1,-2l0.2,-0.6l1,-0.4l0.7,-2l0,-2l-1.5,-2l0.3,-1l3.5,-0.3l1,1l1,-0.1l4,-1.1l1,-1.3l1,-0.3l2,0.4l1,1.8l0.5,-0.1l0.2,-1l1.3,-0.8l2,0.8l0,1.2l-0.9,1.8l0.4,2l-0.5,0.6l-2,0.2l0.5,1.2l-0.2,1l-3,3l-2.3,0.3l-1.6,1.7l-0.1,1l1.7,1.8l3,0l3.7,-2.8l0.3,-2.4l0.6,-0.6l0.4,-2l2.5,-2l-0.2,-1l1.1,-4l0,-1l-0.9,-1l1.5,-0.4l1,0.3l0.4,4.1l-0.3,3l1.2,2l0,2l-1.9,2l-1.3,3l-0.1,1.4l-1,1.1l-1.8,1.5l-2.2,0.1l-1,1.1l-2,0.1zM41.8,-51.5l1.9,-1l-1.2,-0.4l-1.1,1.4zM12.5,-49.5l1.9,-2l-0.9,-0.7l-1,2.5l-1,0.2zM-88.5,-48.4l-2,-0.4l-1.2,-1.7l1.2,-0.4l1,1.3l1,0.1l0.3,1zM-82.5,-46.4l-2,-0.8l-2,-2.3l1,-0.9l1,0.2l1,-0.5l0.6,0.2l0.4,1.8l1,-0.7l2,0.9l-1,0.2zM-74.5,-49.3l-2.1,-0.2l0.1,-0.5l2,-0.9l0.3,0.4zM-53.5,-46.9l-2,0.3l-2,-0.5l-1,0.4l-1.7,-0.8l0.7,-1.3l1,0.1l2,-2l2,-0.6l0.9,0.8l-0.2,1l0.6,2zM36,-45.5l1.7,-1l-0.2,-0.4l-2,0l-0.4,-0.6l0.4,-0.5l1,0.3l0.5,-0.8l-0.5,-1.1l-1.7,0.1l-0.8,2l0.5,1.3l1,0.9zM-62.5,-47.3l-2,-0.2l-0.1,-1l2,0l0.4,1zM16.7,-47.5l-1.2,-1.1l-1.9,1.1l0.9,0.9l2,-0.5zM-80.5,-25.1l-1.3,-0.4l-1.7,-3.2l-2,-0.7l-5,0l-2.3,-1.1l-0.7,-0.9l-1,0.3l-0.7,-0.4l-0.4,-1l0,-3l0.8,-3l2.3,-2.6l0.8,0.6l-1,2l1.9,0l0.3,-1l-0.9,-1l0,-1l-0.7,-1l0.6,-1.7l1,-0.6l2,0.4l-0.3,1.9l1.3,1.4l1,0.2l0.6,-0.6l1.4,-3.3l1.4,1.3l-0.1,1l0.7,0.8l2,-0.1l3.1,-1.7l-2.4,-1l0.3,-1.7l1,0.4l2,-2.2l1,0.6l1,-0.7l2,0.9l2,-0.8l1,1.7l2,0l0.4,0.8l-5.4,5l-5.6,8l-2,2l0.4,2zM-64.5,-46.5l-1,0.4l-1.7,-0.4l2.7,-0.9zM-113.5,-43.2l-1.8,-0.3l-0.9,-2l3,1zM14.5,-40.5l-0.8,-1l0.8,-0.8l0.6,0.8zM149.5,22.1l-4,-2.4l-1,-1.9l-1.7,-1.3l-1.7,-3l0.2,-3l-3.5,-1l-1.3,-0.9l0.4,-1.1l-1.4,-1.3l-3,-0.6l-1,-0.7l-6,0.1l-1.9,1.5l0.9,1l3,-0.1l0.8,1.1l-1.8,2.3l-2,0.6l-2,-0.6l-2,0.2l-12,-1.4l-3.3,-1.1l-5.7,-5.7l-2.3,-3.3l-0.2,-1l-2.7,-3l-0.2,-1l0.4,-0.7l3.5,-1.3l0.1,-4l-0.4,-3l-3.2,-1l-0.6,-1l0,-2l-2.1,-3l-0.7,-2l-1.6,-1.4l-0.6,0.4l-0.4,2.5l-2,1l-1.5,2.5l-3.5,2.3l-1.3,1.7l-0.6,4l1.9,0.5l0.9,3.5l-0.9,1.1l-2,-0.2l-1,-4.2l-0.9,1.3l-1.1,0.3l-2.3,-4.3l-1.8,-6l0.4,-2l-1,-1l3.7,-10l-0.4,-1l0.4,-0.5l6,4.1l6,1l9,-0.8l2,2.4l4.4,-4.2l1.4,-4l0.2,-3l2,-0.5l0.8,0.5l0.2,0.9l1,-1.9l2,-1.4l2,0.6l0,-1.2l1,-1.1l1,-0.1l2,0.8l2,-0.5l1,0.6l0,1.3l-1.6,1l-0.5,1l2.1,1.5l0,1.1l-2,-0.8l-0.2,1.2l0.2,0.6l2,0.3l-0.6,1.1l2.2,2l0.3,1l-0.3,2l-0.9,1l2.3,2l-0.3,2l-0.7,0.7l-1,-0.1l-0.6,-0.6l-0.4,-3l-2,0.1l-2,2.9l-3,0.5l-1,-0.3l-2,0.8l2,0.5l0.1,2.5l-1.1,0.9l-2,-0.1l-1,-1.3l-0.3,0.5l2.7,5l0.2,1l-0.6,1.6l-4,2.5l-1,-0.5l-1.9,-2.6l-1.1,-0.5l-1,1.5l0,2.1l1,1.3l2,0.5l1.2,1.1l1.1,4l-0.7,1l0.5,1l1.9,2.3l0.7,1.7l1.3,0.5l0.5,-0.5l-0.3,-1l-2.2,-3l0.3,-2l1.7,-2.1l3,-1.3l3.1,-2.6l3.3,-5l-0.6,-3l0.7,-3l1.5,-1l2,0l1.2,1l0.1,3l0.5,1l2.6,2l0.8,6l-2.2,2.1l-3.9,-1.1l-1,-1l1.2,-2l-1.3,-0.8l-1.7,1.8l2.5,2l-0.8,0.5l-0.7,1.5l0.7,0.9l4,0.2l3,-0.7l1,0.2l2,1.7l3,0.2l2,1.4l3,-0.2l4,1.1l5,2.9l1.6,-0.7l0.1,-1l1.3,-1.1l1,0l6,4.8l1.5,0.3l3.5,3l0.3,1l-1.3,0.8l-4,-1.8l-4,-2.7l-1,-0.1l-1.7,1.8l1.3,2l-0.6,1.2l-1,0.2l-2,-0.4l-4,-1.7l-0.7,0.7l1.2,3l1.6,2l0.8,3l2.9,3zM51.5,-36.2l-1,-0.2l-1.4,-1.1l0.4,-0.3l2,0.7l0.6,0.6zM-59.5,39.5l-2,-0.2l-3,-3.2l-2,-0.6l0.3,-4l1.4,-6l1,-2l-3.7,-7l-5,-3l-2.3,-2l-2.9,-5l-0.5,-2l-1.4,-1l-0.4,-5l1.3,-3l-0.8,-1.9l-3,-0.5l-2,-0.9l-4,-4.2l-4,-1.3l-1,-1.3l-2,-1.3l-2,0.8l-2,-0.4l-3,-2.2l-2,-0.8l-2,-2.5l-3.8,-7.5l0.8,-1.1l1,0.1l1.2,1l3.9,7l2.9,2.6l1.3,-1.6l-0.3,-3.5l1,-1.1l1,0.7l1.4,3.9l1.6,1.2l2,0.2l1.7,-2.4l1.3,-0.7l2,0.3l0.9,1.4l-0.3,3l3.4,1.2l1,0.8l1,4.6l1,0.4l2,-0.2l2,1.2l3,-1.9l1,0.7l3,-0.1l1,-1.5l6,1.3l2,-0.5l1,1l0.2,1l1.8,1.5l5,1.4l2.3,2.1l2.7,3.6l1.2,0.4l1.8,1.9l7.6,2.1l1.5,1l1.3,3l-0.3,2l-2.6,4l-0.5,3.8l-1,3.2l-1,1.6l-3,2.4l-2,0.3l-2,1.3l-1,2.4l-2,1.9l-2.9,4.1zM105.9,-24.5l1.5,-1l0.3,-1l-1.2,-1.2l-1,2.2l0,1zM-65.5,-17.3l-13,0.1l-0.5,-1.3l0.5,-0.7l2.2,-0.3l-5.2,-1.4l-3,0.2l-0.9,-0.8l0,-1l0.9,-0.7l4,-0.8l2,0.6l2,-0.1l3,2.9l4,0.5l2,0.8l2,0.2l0.7,0.6zM75.8,-18.5l0.7,-0.8l1,-0.2l0.4,-1l-0.4,-1.1l-2.5,1.1l-0.5,2l1,0.5zM-155.5,-18.2l-1.3,-1.3l1.3,-1.4l1.2,1.4zM25.5,34.7l-4,0.3l-1.5,-0.5l2.5,-0.6l2.7,-1.4l0.3,-3l0.8,-1l0.5,-4l0.6,-1l-0.2,-3l0.3,-0.7l0.9,-0.3l0,-1l-4.9,-1.4l-7,-0.3l-2.6,-1.3l-1.3,-2l-0.2,-4l-0.9,-3l-2.7,-4l-0.5,-4l-0.8,-1.3l-2,-0.6l-1,-0.9l-2,-0.4l-4,1.3l-7,-0.1l-4,-2.6l-2,-2l-1.3,-2.4l0,-1l2.3,-1.4l6,1l4,-1.5l1,0.7l5,1.3l2,-0.2l3,0.8l2,0.1l2,-1.4l3,-0.2l3,1.2l6,0.6l6,-1.1l1,0.4l1,1.2l1,-0.2l2,-2l3,-1.7l2,1.4l1,4l-0.7,2l-2.3,2.3l-2.7,0.7l0,1l1.2,2l1.4,5l1.1,0.3l1,-0.5l0.7,1.2l0.3,5l0.9,3l-1.9,3.7l-3.2,2.3l-0.5,1l0.2,3l-3.5,6.3l-3.7,3.7zM93.5,-11.1l-1,0.3l-0.6,-0.7l0,-2l0.6,-0.6l1.4,0.6zM33.6,2.5l0.3,-2l-1.4,-0.3l-0.5,1.3l0.2,1zM124.9,2.5l1.1,-1l-0.5,-0.8l-1.4,1.8l0.4,0.4zM118,5.5l-0.5,-0.5l-1.1,0.5l1.1,1zM-38.3,10.5l0.4,-1l-0.6,-0.4l-1.2,0.4l0.3,1zM47.5,26l-1,0.4l-3.1,-0.9l-0.3,-8l0.3,-1l2.5,-2l1.6,-2.1l1,-0.9l1,-0.1l1.3,1.1l0.5,4l-1.7,7zM132.5,13.8l-1,-0.8l-2,0.4l-0.1,-0.9l2.1,-1.3l5.3,0.3l0.3,1l-0.6,0.6l-3,0.2zM168.5,17.7l-1,0l-2,-1.7l0,-1.3l1,-0.8l1.3,0.6l1.7,2zM178.5,19.7l-1,-0.1l-1,-1.1l-0.1,-1l1.1,-1.2l1.5,0.2l0.7,1l-0.1,1zM33.7,20.5l0.2,-1l-0.4,-0.3l-2.3,-0.7l-2.6,0l0.1,1l0.8,0.1l1,1.3l3,0.1zM167.5,23.7l-1.7,-0.2l-2.5,-2l-0.2,-1l0.4,-1.4l1,-0.3l1,0.6l3,2.9zM148.5,38.8l-1,0.4l-6,-0.1l-1.1,-0.6l0,-1l3.1,-1.1l2,0.8l2,-0.2l1,-0.2l1.3,-1.3l0.3,-1l-1.1,-1l0.3,-1l1.2,0.4l1,-1.2l0.7,-3.2l-0.5,-3l-1.8,-2l-0.2,-1l0.8,-0.9l3,3.4l1,3.5l-0.7,3l-2.7,4l-0.2,2zM117.5,35.5l-2.8,-1l0.4,-3l0.4,-0.4l1,0.2l2.2,2.2l0,1zM169.5,47l-2.7,-1.5l0.2,-1l2.7,-2l1.8,-1.2l2,-0.6l-1,-5.9l6,2l0.7,0.7l-0.7,2.4l-2,1.7l-1,0.4l-1,-0.4l-2,2.9zM-73.5,44.9l-0.7,-0.4l-0.1,-1l0.8,-6l1.2,2zM148.5,43.5l-2,0.3l-0.7,-0.3l-1,-2l0.7,-0.8l2,-0.5l1.1,1.3zM-74.5,47.9l-0.4,-0.4l0.4,-2.6l0.8,2.6z"/><path fill="#b9e18d" d="M-147.5,-62.8l-1,0.1l-1.5,-0.8l-0.1,-1l1.6,-0.3l0.7,0.3l0.9,1zM-119.5,-35.5l-2.7,-1l-1.9,-3l0.1,-5l-0.3,-3l-0.5,-1l-3.7,-2.7l-4,-4.3l-3.5,-2l-1.5,-1.6l-2,-0.3l-1,-0.8l-3.7,-0.3l0.7,-2.6l0.2,1.6l0.8,0.8l2,-0.9l0.8,-2.9l1.2,-0.3l1,0.1l3,2.2l-0.7,2l0.7,1l5.1,3l1.9,3.5l3,3.1l1.1,0.4l1.1,3l-0.4,3l0.4,2l0.8,2l2.1,2zM-145.5,-60.3l-3,0l-2,0.7l-3.5,-1.9l0.1,-1l4.4,1.1l2,-0.6l0.3,0.5l1.7,0.3l0.8,0.7zM40.5,-48.4l-1,-0.8l-1,0.4l-2,-1.7l-3,0.2l-1,0.7l-0.7,-1.9l1.3,-1l-0.3,-1l-2,-1l0.7,-0.2l1.3,-2.8l-1.4,-1l0.1,-1.3l1,-0.6l1,0.1l1.2,0.8l-1,1l0.4,1l1.4,0.1l1,1.2l2,0.7l1,-1.7l2,-1.3l3,0.2l0.6,0.8l0.2,2l-0.4,1l-0.4,0.7l-2,0l-1.3,1.3l-0.7,1l0.1,1l1.1,1zM-0.5,-50.3l-1,0l-1,-0.7l-2,0.7l-1.1,-0.2l-2.6,-1l-1.3,-1l-0.2,-1l1.2,-0.5l1,0.4l1,-2.4l1,0.7l1.1,-0.2l1.1,-1l-0.9,-2l1.7,-0.2l0.8,4.2l3.6,2l0.2,1zM48.5,-56.1l-1,-0.6l-1,1.1l-0.6,-2.9l1,0l1.9,1l0.4,1zM54.5,-52.2l-2.4,-0.3l-1.4,-2l0.3,-1l-1.4,-1l0.1,-1l0.8,-0.5l2,0.5l2,1.3l0.7,-0.3l-0.3,-1l-1.5,-1l1.1,-0.8l1,0.5l2,-0.6l1,1.3l-0.2,1.6l-0.8,0.9l-1,0.2l-1.3,2.9zM-118.5,-52.4l-1,0.1l-1,-0.7l-0.5,-2.5l-0.5,-0.3l-1.1,0.3l0.1,-2.2l2,-0.2l1.3,0.4l1.6,2l0.7,1zM24.5,-46.3l-2,-1.4l-4,-0.6l-1,0.5l-0.8,-0.7l0.1,-2l1.7,-1.6l1,0.1l1,-1.9l1,0l1,0.8l0.7,-0.4l0.5,-2l0.8,-1.1l3,-1.4l2.1,1.5l-0.5,2l0.4,0.5l1,0l0.8,2.5l-0.8,1.4l-4,0.4l-1.2,1.2l-0.2,2zM91.5,-51l-3,0l-0.8,-0.5l0.2,-1l-2,-1l-0.7,-1l0.5,-1l3.8,-1.6l2,0.1l2,-0.6l2.1,1.1l0.7,1l-1.8,0.5l-2,-0.5l-1,0.3l0,1.7l1,0.8l2,-0.5l3.7,0.7l-4.7,1l-1,-0.7zM-112.5,-54.4l-2,0.3l-0.6,-0.4l1.6,-1l1,0.4zM7.5,-45.4l-2,0.2l-0.5,-0.3l-0.5,-1.3l-1,0.6l-0.8,-2.3l-1.1,-1l0.9,-0.8l1,-0.2l0.2,-1l1.8,-1.1l1.9,0.1l2.1,1l2.3,-2l1.7,-0.8l2,-0.6l1.4,0.4l0.2,1l-1.6,1.7l-2,-1.1l-0.7,0.4l-0.4,1l-2.3,2l1,1l-1.6,1l-1,-0.6zM49.5,-53.3l-1,0.6l-1.2,-0.8l1.2,-1.5l1,0.1l0.7,0.4l-0.2,1zM58.5,-52.6l-0.9,-0.9l0.9,-0.9l0.8,0.9zM132.5,-31.2l-2,0.2l-1,-0.5l-1,-2.5l-2.1,-0.5l-1.1,-3l-0.1,-3l2.7,-2l1,-2l-0.1,-1l2.3,-1l-1.7,-2l0.1,-0.6l1,-0.2l0,-0.6l-2,0.4l-1.3,1l0.2,2l-2.4,1l-1.5,1.3l-0.7,-0.3l-0.1,-1l0.6,-3l0.2,-0.4l1,0.7l1,-0.1l0.4,-0.2l-0.4,-1l2,-1.2l3,-0.1l2,-0.7l-0.7,-1l0.7,-0.4l2,0.9l1,1.5l2,1.1l0.8,0.9l-0.8,0.8l-1,0.1l-0.7,1.1l0.7,2.1l-2.8,2.9l-2.2,0.2l-1.7,1.8l-0.1,1l1.8,1.8l3,0l3.8,-2.8l0.2,-2.2l0.8,-0.8l0.2,-1.6l1,0.6l-0.7,2l0.4,1l0.3,0.4l1,-0.8l0.6,-1.6l-0.3,-1l-0.3,-0.4l-1,0.4l-0.6,-1l2.3,-2l-0.2,-1l1.2,-2l-0.2,-1l1,-1l0,-1l-1.5,-1l2,0l0,7l1.3,3l-0.3,1.3l-1.7,1.7l-0.3,1.5l-0.9,1.5l-0.1,1.3l-2.9,2.7l-2.1,0.1l-1,1l-2,0.1zM-113.5,-51.2l-1.2,-1.3l0.2,-0.3l1.4,0.3l0.2,1zM-103.5,-51.4l-1,0.4l-1,-0.1l-0.5,-0.4l0.1,-1l2.4,-0.6l0.6,0.6zM137.5,-49.7l-0.6,-0.8l0.1,-2l1.5,-0.3l0.5,0.3l-0.1,1zM-54.5,-47.3l-1.4,-0.2l-0.7,-1l0.6,-2l0.5,-0.3l1.4,0.3l-0.4,2l0.4,1zM33.5,-44.5l-1,-1l-0.5,-3l0.5,-0.9l0.5,2.9l1.1,1zM-80.5,-25.4l-1,-0.2l-2,-3.4l-3,-0.8l-4,-0.1l-1.5,-0.6l-0.5,-1.3l-2,0l-0.6,-2.7l0.2,-2l1.4,-2l2,1l1,-0.1l1.5,-1.9l-0.5,-1l1,-0.6l2,1.1l1,0l0.9,1.5l0.7,0l-0.1,-1l-1.3,-2l0.8,-1.9l1.1,1.9l1.9,0.4l1,1.5l2,-0.6l0,-0.3l-1.7,-1l3.3,-2l-1.4,-1l0.8,-1.5l3,-1.3l1,0.7l2,-0.1l0.8,1.2l1.2,0.3l0.5,0.7l-2.4,3l-1.5,1l-3.6,4.8l-1,0.6l-0.9,2.6l-1.9,2l0.4,2zM22.5,-39.4l-1,-0.1l-2,-1.8l-1,0.1l-1,-1.6l-2.9,-2.7l0.9,-0.7l3,1.6l2,-0.1l1,1.1l1,-0.2l1.4,1.3l0.6,2zM39.5,-42.7l-2,-0.2l-1,-1.6l-0.5,0l2.5,-2l1,0.1l0.8,1.9l0,1zM-89.5,-43l-1,0.4l-0.8,-0.9l0.8,-0.5l1.6,0.5zM-7.5,-38.2l-1.3,-0.3l-0.7,-1l0.7,-1l-0.1,-2l1.4,-1l0.7,1l-1.2,1l0,1l1.6,1zM47.5,-41.1l-4,-0.2l-0.3,-1.2l0.3,-0.5l3,1.4l1.7,0.1zM148.5,21.4l-3,-2.1l-0.9,-1.8l-1.1,-0.7l-1.6,-2.3l-0.8,-2l0.4,-2l-3.5,-1l-1.5,-0.9l0.4,-1.1l-1.4,-1.4l-3,-0.5l-1,-0.7l-6,0.1l-1.9,1.5l0.9,1.1l3,-0.2l0.7,1.1l-1.7,2.2l-2,0.6l-16,-1.8l-3.3,-1l-5.7,-5.8l-2.2,-3.2l-0.2,-1l-2.8,-3l-0.2,-1l0.4,-0.6l3,-0.8l0.6,-0.6l0.1,-5l-0.7,-2.5l-2,-0.1l-1,-0.6l-0.5,-0.8l0.1,-2l-2.2,-3l-0.6,-2l-0.8,-1.1l-1,-0.6l-1,0.7l-0.1,2l-0.9,0.4l-1,0.3l-1.6,-0.7l0.9,-2l0,-1l0.9,-1l-0.2,-0.4l-1,0.2l-0.5,1.2l-1.4,1l-0.4,1l1.9,2l0.2,2l-1.8,2l-1,0.4l-1,-0.4l-0.8,2l-1,1l-0.7,4l-2.5,2.1l-2.2,-4.1l-1.6,-7l0.8,-0.9l0.7,0.9l0.3,1.6l2,2.8l0.9,-1.4l-1.5,-1l0.6,-1l1,-0.2l1,1l0.6,-0.8l-0.3,-3l-1.3,-1.7l-1,1.4l-1,0.2l-1,-1.3l0,1l0.4,0.4l-1.4,0.7l-1.1,-0.7l3.5,-10l0.6,-0.5l1,0.4l2.4,2.1l-2,1l0.4,1l1.2,0.6l1,0l0.2,-1.6l0.8,-0.1l1,0.1l1,1.1l2,-0.5l7,0l3,-0.7l1,0.2l2,2.4l4.3,-3.5l2.1,-5l-0.4,-2l1,-1.1l1.2,0.1l0.8,2.6l1,0.9l1,0l1,2.1l1,0.5l0.6,-1.1l-1.6,-2.9l-1,0.2l-0.4,-2.3l0.4,-0.4l0.4,0.4l0.6,1.9l1,-0.6l1.4,-2.3l0.6,-2.5l1,-0.1l0.8,0.6l-0.6,2l1.8,2.5l0.3,1.5l-0.3,1l-1.1,0l-0.2,1l4.3,4.4l1,-0.3l0.1,0.9l-2.1,1.9l-1,-0.4l-1,0.4l-0.5,2.1l-1.5,1.1l-2,0l-2,-1.6l-1,0.5l-0.4,2l1.4,0.3l0.8,0.7l0.3,2l-1.1,0.8l-2,-0.1l-1,-1.5l-0.4,0.8l2.7,5l0,2l-0.9,1l-3.4,1.8l-1,-0.4l-1.7,-2.4l-1.3,-0.6l-1.1,1.6l0.1,2.4l1,1.1l2,0.5l1.2,1l0.5,3l0.6,1l-0.7,1l2.4,3.3l0.6,1.7l1.4,0.6l0.6,-0.6l-0.3,-1l-2.3,-3.4l1,-2.6l1,-1.1l3,-1.3l3.2,-2.6l3.3,-5l-0.6,-3l0.7,-3l1.4,-0.8l2,-0.1l1.2,0.9l0.5,4l2.7,2l0.8,6l-2.2,2.1l-3.8,-1.1l-1,-1l1.1,-2l-1.3,-0.9l-1.8,1.9l2.3,2l-1.2,2l0.7,1l4,0.2l3,-0.7l1,0.2l2,1.7l3,0.2l2,1.3l3,-0.1l4,1l5,2.9l1.6,-0.7l0.1,-1l1.3,-1.1l1,0.1l6,4.8l1.4,0.2l3.6,3l0.2,1l-1.2,0.7l-3.8,-1.7l-4.2,-2.8l-1,0l-1.8,1.8l1.4,2l-0.6,1.1l-1,0.3l-1.9,-0.4l-4.1,-1.8l-0.8,0.8l1.1,3l1.8,2l0.6,3l2.1,2zM118.5,-39.3l-0.7,-0.2l0.2,-1l0.5,-0.2l0.3,0.2zM119.5,-30.4l-1,0.4l-0.9,-0.5l0.9,-1zM107.2,-24.5l1.2,-2l-1.9,-3.1l-1.5,5.1l1.5,0.5zM-58.5,38.7l-1,0.5l-1,-0.2l-2.4,-1.5l-0.1,-1l1.5,-1l0.3,-1l-0.3,-1.7l-0.5,-0.3l-0.7,0l-0.8,2.3l-2,0.6l-0.8,-0.9l1.9,-9l0.9,-1.6l1,-0.4l-1,-0.2l-0.6,-0.8l-3.1,-6l-5.1,-3l-2.2,-1.9l-2.5,-4.1l-1,-3l-1.5,-1.5l-0.3,-1.5l0,-3l1.2,-3l-0.8,-2l-3.1,-0.5l-2,-0.9l-4,-4.2l-4,-1.4l-1,-1.3l-2,-1.3l-2,0.9l-1.7,-0.3l-1.9,-1l-1.4,-1.4l-2,-0.8l-2,-2.5l-3.6,-7.3l0.6,-0.8l1,0l1,0.9l1.3,1.9l1.2,3l3.5,4.4l1,0.4l1,-0.5l0.6,-2.3l-0.4,-2l0.2,-1l0.6,-0.4l1,0.9l1.3,3.5l1.7,1.3l2,0.3l0.9,-0.6l0.1,-1l1,-1.2l1,-0.3l2,0.3l0.7,1.2l-0.3,3l4.4,2l0.7,4l0.5,0.7l1,0.4l2,-0.2l2,1.3l3,-1.5l2,2.4l1,-0.3l2,-3.3l6,1.2l2,-0.6l1.1,1.9l1.9,1.6l5,1.4l2.2,2l2.8,3.7l1.1,0.3l0.9,1.2l3,1.8l1,1l1,-0.5l3,0.5l2,1.1l1.1,2.9l-0.2,2l-2.5,4l-0.4,3.5l-1.1,3.5l-0.9,1.4l-3,2.5l-2,0.3l-2,1.3l-1,2.3l-2,1.8l-3,4.4zM79.6,-25.5l-0.1,-0.6l-1,0.3l0,1.3l1,-0.4zM121.5,-22l-1.4,-0.5l-0.1,-2l0.5,-0.8l1,0l0.8,0.8l-0.2,2zM-65.5,-17.4l-2,0.2l-2,-0.5l-4,0.5l-2,-0.5l-1,0.6l-2,-0.2l-0.4,-1.2l0.4,-0.5l2.7,-0.5l-5.7,-1.5l-3,0.1l-0.7,-0.6l0,-1l0.7,-0.5l4,-0.8l2,0.6l2,-0.1l2.4,1.8l0.6,1.1l8,1.4l0.6,0.5zM-155.5,-18.3l-1.1,-1.2l1.1,-1.3l1,1.3zM24.5,34.6l-4.1,-0.1l2.1,-0.1l3.6,-1.9l0.1,-3l1.3,-5l2.2,-1l-0.2,-0.5l-1,0.2l-1,-1.3l0,-1.4l1,-0.5l1,0.4l1,1.6l2,-0.5l1,0.7l1.1,-2.7l-3.1,-1.3l-3,0l-5,-1.4l-6,0l-3,-1l-1.5,-2.3l-0.3,-4l-0.9,-3l-2.8,-4l-0.6,-4l-0.9,-1.5l-2,-0.4l-1,-0.9l-2,-0.5l-4,1.3l-7,-0.1l-4,-2.6l-2,-2l-1.1,-2.3l0.6,-1l1.5,-1l6,1l3,-0.8l2,0.9l1,-0.5l10,1.8l1,0l2,-1.3l3,-0.4l2,0.9l5,0.7l4,0.1l2,-0.9l2,-0.3l1,0.4l1,1.5l1,0l2,-2.5l3,-1.7l1.7,1.1l1.1,4l-0.8,2l-2,2l-3.1,1l1.8,4l1,4l1.3,0.6l1,-0.5l0.5,0.9l0.5,4l-0.2,1l0.9,3l-1.7,3.4l-3.8,2.6l0.2,4l-3.4,6.1l-3.9,3.9zM93.5,-11.2l-1,0.3l-0.5,-0.6l0,-2l0.5,-0.5l1.3,0.5zM80.5,-5.4l-1.2,-1.1l-0.4,-3l0.6,-0.8l2,0.4l0.5,1.4l0.3,2l-0.8,1zM33.7,2.5l0.4,-2l-0.6,-0.5l-1,0.1l-0.5,0.4l0.1,2l0.4,0.4zM125,2.5l1.1,-1l-0.6,-0.9l-1.4,1.9l0.4,0.5zM117.6,6.5l0.5,-1l-0.6,-0.6l-1.3,0.6zM-41.4,12.5l0.9,-1.9l2,0.4l0.7,-0.5l0.3,-1.2l-3,-1.3l-1,0.5l-0.4,1l0.4,0.8l0.7,0.2l-1.7,0.3l-0.6,0.7l0.6,1zM47.5,25.9l-1,0.3l-3,-0.7l-0.2,-8l1.1,-2l1.1,-0.4l2,-2.6l2,-0.9l1.2,0.9l0.4,4l-1.6,7zM136.5,12.8l-3.6,-0.3l3.6,-0.9l0.3,0.9zM168.5,17.6l-1,0l-1,-0.8l-1.2,-1.3l0.2,-0.7l1,-0.7l1.2,0.4l1.7,2zM178.5,19.6l-1,0l-1,-1.1l-0.1,-1l1.1,-1.2l1,0l1.1,1.2l-0.1,1zM167.5,23.6l-1.6,-0.1l-2.5,-2l0.1,-2.3l1,-0.3l1,0.6l3,2.9zM152.5,32.9l-1,-0.4l1,-3l-0.1,-3l-2.1,-3l-0.3,-1l0.5,-0.6l1,0.6l2,2.8l0.7,2.2l-0.5,4zM117.5,35.1l-2.5,-0.6l0.5,-3.2l0.7,0.2l2,2l0.2,1zM151.5,34.6l-0.9,-1.1l0.9,-1l0.5,1zM148.5,38.6l-1,0.4l-6,-0.1l-0.8,-0.4l0.8,-1.2l4,0.5l2.2,-0.3l2.8,-2.5l0.3,2.5zM176.5,41.5l-1,0.4l-2,-1.7l-1,-4.8l2.6,0.1l3.9,2l-0.2,2zM-73.5,44.1l-0.4,-3.6l0.4,-2.5l0.8,1.5zM147.5,43.6l-1.4,-0.1l-1.1,-2l0.5,-0.5l2,-0.4l1,0.9l0,1.3zM169.5,46.8l-2.4,-1.3l0.2,-1l4.2,-2.9l2.5,-0.1l-1.5,2.7z"/><path fill="#deefa2" d="M-138.5,-59.4l-1.5,-1.1l0.6,-2l-0.1,-1l1,-0.9l3,1.6l0.3,1.3l-0.3,0.7l-1.5,0.3l-0.8,1zM-149.5,-60.4l-1,0.3l-1.3,-0.4l0.3,-0.8l2.8,0.8zM-125.5,-49.6l-3,-1.9l-4,-4.3l-4,-2.5l-0.6,-1.2l0.6,-0.6l1,0l0.3,0.6l5.4,3l2.3,3.9l2.2,2.1zM43.5,-54.2l-3,-0.7l-0.6,-0.6l0.3,-1l1.3,-1.4l2,-0.2l0.8,0.6l0.1,2zM57.5,-56.3l-0.6,-0.2l-0.4,-1l1,-0.9l0.6,0.9zM24.5,-47.2l-1,-0.3l-0.2,-1l-2.4,-1l-0.6,-2l1.2,-1.1l1,0.3l1,-0.7l2,0.2l1,-0.6l-0.2,-3.1l1.2,-0.8l1.3,0.8l-0.6,2l0.3,1.2l1,0.4l1.2,1.4l-1.2,1l-1,-1.5l-1,1.3l-1,0.2l-1,-1.1zM39.5,-50.3l-1,0.5l-2,-1.4l-1,0.3l-1.8,-0.6l0.3,-2l-1.8,-2l2.3,-1.4l1,0.2l2.8,2.2l0.2,1.3l2,-1l1,0.2l0,0.6l-2,1.2l-0.3,0.7zM-119.5,-53.3l-0.6,-2.2l0.6,-0.7l1.1,0.7l0.2,1zM54.5,-52.7l-1,-0.1l-1.6,-1.7l0.6,-1.5l3.1,0.5l0.2,1zM91.5,-51.4l-3,-0.1l1.8,-2l-1.8,-0.6l-2,0.3l-0.6,-0.7l0.6,-0.9l3,-0.7l1.1,0.6l0,2l0.9,1.3zM0.5,-51.2l-2,0.4l-1,-0.6l-2,0.8l-0.9,-0.9l-0.1,-3l2,-0.6l2,2.2l2,-0.1l1,0.5l-0.4,1zM15.5,-52.6l-1,-0.8l-0.8,-0.1l1.8,-0.6l0.9,0.6zM6.5,-45.9l-0.5,-0.6l0,-2l-1.5,-3l1,-0.6l2.5,0.6l-0.4,2l-0.7,1l0.1,2zM18.5,-49.3l-0.8,-1.2l0.8,-0.7l0.6,0.7l-0.1,1zM132.5,-31.4l-2.2,-0.1l-1.8,-2.9l-1.7,-1.1l-1,-2l-0.2,-2l0.1,-1l2.9,-2l0.9,-2.7l2,-1l1.3,-1.3l-1.6,-2l2.3,-1.7l1,0.2l1.6,2.5l-0.6,1.4l-1,0.1l-0.6,1.5l0.1,1l1.1,1l-0.4,1l-1.2,1.1l-2,0l-1.8,1.9l-0.1,1l1.9,1.9l3,0l1,-0.5l2.9,-2.4l0.1,-1.9l0.9,0.9l0.1,1.3l1.5,-0.3l1.8,-3l0,-1l1.7,-2.2l1.1,1.2l0.1,1l-0.1,1l-1.9,2l-0.2,1.4l-0.7,0.6l-0.3,2.2l-1,1.1l-1,0.7l-2,-1.2l-2,0.4l-1,2.8zM-119.5,-36.3l-2.4,-0.2l-2,-3l0,-8l-1.4,-2l1.8,0.5l1,2.5l-0.6,2l0.3,2l1.3,3.5l1.8,1.5zM143.5,-46.2l-1,0l-0.3,-1.3l0.3,-0.7l1,-0.4l0.5,1.1zM-75.5,-37.8l-1,0l-0.7,-0.7l-0.3,-2l-1,-2l2.2,-1l-1.4,-1l1.2,-1.1l1,0.2l0.9,0.9l0.1,1.9l1.4,-0.9l-1.1,-1l1.7,-1.4l2.1,1.4l-0.3,1l-1.3,2l-2.4,2zM39.5,-43.3l-2,-0.1l-0.3,-1.1l1.3,-1.4l1.3,1.4zM23.5,-40.4l-2,0.2l-0.6,-1.3l0.2,-1l1.4,-0.7l1.2,1.7zM-80.5,-25.9l-1,-0.1l-2,-3.3l-2,-0.8l-4.7,-0.4l-0.3,-1.1l-1,0.6l-1.2,-1.5l0.5,-1l-0.3,-1l-1,1.8l-0.8,-0.8l-0.1,-3l0.9,-1l1,0.2l1,1.7l1,-0.5l2,-2.4l2,-0.5l1,0l1,1l3,-1.1l1.1,0.6l0.1,1l2.3,0l0.8,1l-1,1l-0.3,2.3l-2,2.7l0.5,2zM113.5,-23.4l-1,0.5l-1,-0.6l-1.9,-3l0.2,-1l1.2,-1l-1.5,-1.8l-1,1.8l-0.8,-2l0.2,-1l0.6,-0.2l2,1.2l1,-0.1l0.9,-0.9l0.6,-2l-1.3,-1l-0.3,-1l2.1,-2.7l1.8,1.7l-1.1,1l-0.1,3l1.4,1l1.3,2l1.8,1l0.4,1l-0.5,0.8l-2,-0.1l-1,2.9zM115.5,-34.3l-0.5,-0.2l-0.1,-1l0.6,-0.7l0.6,1.7zM75.5,-22.4l-1.1,-4.1l1.7,-3l-0.1,-1l0.5,-1l1.3,1l-0.2,1l-0.9,1l1.6,2l-1.8,3.6zM105.5,-29.4l-1.4,-1.1l-0.1,-1l0.5,-0.9l2,0.9zM115.9,-28.5l-2.4,-1.1l-0.3,1.1l1.3,0.8zM-59.5,38.8l-2.7,-1.3l1.7,-3l-0.2,-2l-0.8,-0.6l-1,-0.2l-1,0.7l-0.9,2.1l-1.1,0.3l-0.3,-0.3l0,-3l1.3,-4.8l1,-1.9l1.4,-0.3l0.6,-1l-2,-0.6l-2,-4.2l-2,-2.7l-5,-2.9l-2,-1.7l-1.3,-1.9l-2.7,-6.4l-1,-1l-0.2,-3.6l1.1,-3l-0.6,-2l-5.3,-1.5l-4,-4.2l-3.9,-1.3l-3.1,-2.8l-2,0.9l-1.3,-0.1l-2.1,-1l-1.6,-1.6l-2,-0.8l-2,-2.6l-0.6,-2l-2.8,-5l0.4,-0.6l1,0l1.5,1.6l1.8,4l3.7,4.8l2.1,0.2l0.7,-2l-0.3,-3l0.5,-1.2l1,1.2l1.1,3l0.8,1l1.1,0.5l2,0.2l1,-0.6l1,-2.2l1,-0.3l2,0.3l0.6,2.1l-0.3,2l4.4,2l0.7,4l1,1l2.6,0l2,1.4l2,-0.8l2,1l2,2l1,-0.6l-0.3,-1l1.3,-3.2l6,1.1l2,-0.7l1,1.8l2,1.7l5,1.5l2.2,1.8l2.8,3.7l1.1,0.3l0.4,1l3.1,3l-0.1,1l-1.5,1l-0.4,1l3.4,1l-2.4,4l1.4,1.4l1,0.3l1.4,-1.7l1.6,-0.2l1,-0.7l0.5,-1.1l-0.5,-0.8l-2,-0.8l-1.8,-1.4l0.7,-3l3.1,0.2l2,1.2l0.8,2.6l-0.1,2l-2.4,4l-0.3,3.2l-2,5.1l-3,2.4l-2,0.5l-2,1.3l-1,2.1l-2,1.7l-3,4.4l-1,0.4l-2,1.9zM148.5,21.1l-3,-2.2l-0.6,-1.4l-2.7,-3l-0.9,-2l0.7,-2l-3.8,-1l-1.7,-1l0.5,-1l-0.9,-1l-3.6,-1l-1,-0.6l-6,0l-2,1.6l1,1.2l3,-0.2l0.6,1l-1.6,2.2l-2,0.5l-15.8,-1.7l-3.4,-1l-5.8,-5.8l-2.2,-3.2l-0.2,-1l-2.8,-3l0.2,-1.5l3,-0.7l0.8,-0.8l-0.3,-1l0.4,-3l-0.5,-3l-0.4,-0.8l-2,0l-1,-0.6l-0.6,-3.6l-1.8,-2l-1.3,-3l-1.3,-1l-2,0.7l-0.8,-0.7l1.2,-2l7.6,-0.7l1,0.2l1,1.7l1,0.6l3.9,-1.8l1.1,-1.7l1,0l0.7,1.7l-0.7,3l2,1.1l1,-0.4l1,-1.4l0.5,0.7l-1.2,2l1.7,1.8l1,-0.2l0.5,0.4l0.5,2l-1,0.7l-2,-0.2l-1,-1.5l-0.6,1l2.7,5l0.1,2l-1,1l-3.2,1.5l-1,-0.3l-1.5,-2.2l-1.5,-0.7l-1.2,1.7l0.4,3l2.8,1l1.2,1l0.4,3l0.7,1l-0.8,1l3.5,5.5l1,0.2l0.7,-0.7l-2.7,-5l1,-2l1,-1l3,-1.3l3.3,-2.7l1.6,-3l1.6,-2l-0.6,-3l0.8,-3l1.3,-0.7l2,0l1.1,0.7l0.5,4l2.7,2l0.8,6l-2.1,2l-3.7,-1l-1,-1l1.1,-2l-1.4,-0.9l-1.8,1.9l2.1,2l-1.1,2l0.8,1.1l4,0.2l3,-0.7l1,0.1l2,1.8l3,0.1l2,1.4l3,-0.2l4,1.1l5,2.9l1.7,-0.8l0.1,-1l1.2,-1l1,0l4,3l1,1.3l2.3,0.7l3.7,3.3l0,0.8l-1,0.4l-1,-0.2l-7,-4.1l-1,0l-1.8,1.8l1.3,2l-0.5,1.1l-2.6,-0.1l-4.4,-1.9l-0.8,0.9l0.6,2l2.1,3l0.6,3l2.1,2zM83.5,-17.8l-1,0.2l-2,-0.5l-1.7,-5.4l1.3,-1l1.4,-3.3l3.1,1.3l-0.5,1l-3.6,3l1,0.2l1,-0.9l2.2,1.7l0.5,1l-0.2,1zM86.5,-22.4l0,-2.4l0.6,2.3zM121.5,-22.1l-1.3,-0.4l0.3,-2.5l1,-0.1l0.6,0.6l-0.2,2zM-65.5,-17.5l-2,0.2l-2,-0.7l-4,0.7l-1.4,-0.2l-0.6,-0.8l-1,1.1l-2,-0.2l0,-1.5l3,-0.1l0.1,-0.5l-1.1,-0.7l-3.8,-0.3l-1.2,-0.7l-3,0.1l-0.5,-0.4l0.1,-1l4.4,-1l2,0.6l2,-0.2l2.3,1.6l0.7,1.3l8,1.3l0.4,0.4zM-155.5,-18.4l-1,-1.1l1,-1.1l0.8,1.1zM76.5,-8.6l-2,-3.9l-1,-3l-0.5,-3l0.5,-1.4l3,6.4l1,0.3l1,-3l1,0.1l0.3,0.6l-0.8,1l-0.5,3.6l-1,0.3l-0.1,1.1zM93.5,-11.3l-1,0.3l-0.4,-0.5l0,-2l0.4,-0.4l1.2,0.4zM36.5,18.9l-1,0.3l-4,-1.3l-3,-0.1l-5,-1.2l-5,0l-3,-0.5l-0.9,-0.6l-1.3,-2l-0.6,-5l-0.7,-2l-2.7,-4l-0.8,-4l-1,-1.8l-2,-0.2l-2,-1.4l-1,-0.1l-4,1.3l-7,0l-4.3,-2.8l-1.7,-1.8l-0.8,-2.2l1.8,-1.4l6,0.8l2,-0.5l2,0.7l5,-0.1l2,0.7l3,0.1l2,0.9l3,-1.7l7,0.4l2,0.7l5,0.4l1,0l1,-1.1l2,-0.3l1,0.3l1,1.5l1,0.3l2,-2.8l1,-0.2l2,-1.6l1,0.4l1.5,3.5l-0.8,3l-1.7,1.7l-1,0.5l-2,-0.1l-0.4,0.9l1.9,4l0.1,2l0.8,2l0.6,0.8l2,-0.3l0.3,0.5l0.5,4l-0.3,1l0.9,3l-1.4,3zM81.5,-5.7l-1,0.1l-1,-0.6l-0.4,-3.3l0.4,-0.5l2.1,0.5l0.6,3zM33.9,2.5l0.3,-2l-0.7,-0.6l-1,0l-0.7,0.6l0.1,2l0.6,0.6zM125,2.5l1.1,-1l-0.6,-1l-1.5,2l0.5,0.5zM117.7,6.5l0.5,-1l-0.7,-0.6l-1.4,0.6l0.8,1zM47.5,25.8l-1,0.3l-2.7,-0.6l-0.2,-2l0.8,-1l-0.9,-1.9l0.7,-2.1l-0.6,-1l0.9,-2l1,-0.2l2.2,-2.8l1.8,-0.7l1.1,0.7l0.4,4l-1.6,7zM33.8,14.5l-1.3,-1l-0.7,1l0.7,0.9zM168.5,17.5l-1,0l-1,-0.8l-1,-0.9l0,-0.8l1,-0.8l1,0.1l1.6,2.2zM178.5,19.6l-1,-0.1l-0.7,-1l-0.3,-1l1,-1.1l1,-0.1l1.1,1.2l-0.1,0.9zM167.5,23.6l-1.4,-0.1l-2.7,-2l0.1,-2.3l1,-0.1l1,0.4l2.1,2l0.9,1zM-59.1,23.5l1.7,-1l-1.1,-2.2l-1.3,3.2zM28.5,22.2l-0.7,-0.7l0.7,-1l0.7,1zM27.5,33.6l-3,0.6l-0.3,-0.7l2.6,-1l0.3,-5l1.1,-2l2.8,-1l0.5,-2.2l0.9,1.2l0.1,1.1l1,-0.4l1,-2.8l1,0.3l0.2,1.8l-3.2,5.7l-2,2.5l-2,1.6zM152.5,26l-1.7,-2.5l0.7,-0.6l1.8,2.6zM152.5,32.6l-0.3,-1.1l0.6,-2l0.1,-3l0.6,-0.9l0.6,2.9l-0.6,3zM-58.4,31.5l-0.1,-1.2l-1,0.1l-0.7,1.1l0.7,0.9zM117.5,34.8l-2.3,-0.3l0.3,-3l2,2.3l0.4,0.7zM175.5,41.8l-1,-0.6l-1.2,-1.7l-0.4,-4l1.8,0l4.2,2l-0.2,2l-1.2,1.2zM150.5,37.7l-1.8,-0.2l1.8,-1.7l0.3,0.7zM147.5,38.8l-6.3,-0.3l0.3,-0.6l5,0l1.7,0.6zM-73.5,42.1l0,-3.6l0.5,1zM147.5,43.3l-1,-0.1l0,-0.7l-1,-0.5l0,-0.8l2,-0.4l0.7,0.7l0,1zM169.5,46.6l-2.1,-1.1l0.2,-1l2.9,-2.2l2,-0.6l0.7,0.8l-0.3,1z"/><path fill="#fff6b1" d="M-136.5,-61.2l-2,0.2l-0.1,-2.5l2.8,1l0,1zM-128.5,-51.9l-4,-4.2l-1.3,-0.4l-2.1,-2l0.4,-0.4l1,0.1l4.4,2.3l2.2,4zM42.5,-55.5l-1.3,-1l0.8,-1l1.5,-0.1l0,1.1zM54.5,-53.3l-1,-0.3l-0.8,-0.9l0.5,-1l2,1zM35.5,-51.5l-0.9,-1l1,-2l0.9,-0.5l0.8,0.5l-0.2,2zM-0.5,-51.2l-1.5,-0.3l1.5,-1.1l1.3,0.1zM22.5,-49.7l-1,-0.3l-0.5,-1.5l0.5,-0.4l1,0.2l1,-0.7l1,0l0,1.4zM134.5,-48.5l-2.2,-1l1.2,-1.2l1.5,1.2zM134.5,-32.4l-1.6,-0.1l-1.1,-3l-4.3,-0.5l-0.2,-1.5l-0.8,-0.4l-0.4,-1.6l0.1,-1l3,-2l0.9,-1l0,-1l2.4,-2.1l2.1,4.1l-1.1,1l-2,0l-1.9,2l-0.1,1l2,2l3,0.6l1,1.4l-0.4,2zM38.5,-43.5l-0.7,-1l0.7,-0.8l0.8,0.8zM-121.5,-36.4l-2.3,-3.1l0.3,-4.6l1.5,4.6l1.6,2l-0.5,1zM141.5,-35.3l-1,0.1l-2,-1.1l-1,0.2l-1.4,-1.4l2.3,-2l0.1,-1.4l1,2.2l2,-0.1l1.9,-3.7l-0.1,-1l1.2,-0.9l1,0.9l-1.6,1l0.3,1l-0.7,2.3l-1,1.2l-1,-0.2l0,1.2l1,0.5zM-75.5,-40.4l-1,-0.2l-1.4,-1.9l1.4,-0.5l1,0.4l0.8,1.1zM-73.5,-40.8l-0.8,-0.7l0.8,-0.7l0.9,0.7zM-81.5,-26.4l-2,-3.9l-0.9,-0.2l0.9,-0.2l0.5,-0.8l-0.5,-1l-2,-0.3l-1,1.6l-2,0.6l-2,-1.7l-1,-0.2l0,-2l1,-0.3l1,0.8l1,-2.2l1,0.6l0.6,-0.9l-1,-1l0.4,-0.5l2,-0.1l1,0.5l3,-1l0.5,1.1l-0.5,1.1l2,-0.4l1.2,0.3l-1,2l0.2,1l-2.1,3l0.7,0.5l0.3,1.5l-0.3,1.7zM115.5,-29.3l-1.6,-1.2l-0.7,-1l0.3,-0.5l1,0.3l1.3,1.2zM112.5,-23.5l-2.1,-3l1.1,-1.7l0.7,-0.3l-0.7,-0.4l-0.3,-0.6l0.3,-0.3l1,0.1l0.1,1.2l0.6,1l1.9,1l0.2,1l-0.8,0.7l-1.6,0.3zM-102.5,-18.3l-2,-0.8l-1.8,-2.4l-0.6,-2l-2.9,-5l0.3,-0.4l1,0l2,2.4l0.5,2l2.6,4l1.2,1l0.3,1zM143.5,14.4l-1,-0.1l-1,-1.8l1.1,-2l-4.2,-1l-1.9,-1l0.6,-1l-0.9,-1l-3.7,-1l-1,-0.7l-6,0l-2,1.6l-0.9,0.1l0.9,0.2l1,1.1l2.7,-0.3l0.8,1l-1.5,2.1l-2,0.4l-15.4,-1.5l-3.8,-1l-5.8,-5.9l-2.1,-3.1l-0.2,-1l-2.8,-3l0.1,-1.4l3,-0.7l0.9,-0.9l-0.3,-1l0.5,-3l-0.6,-3l-0.5,-1l-2,0.1l-1,-0.7l-0.3,-3.4l-2,-2l-0.7,-2.4l-2,-1.8l-1,0.1l-0.7,-0.9l1.7,-1.2l5,-0.2l2,0.3l1,1.8l1,0.4l4,-1.3l1,-1.7l1.2,0.9l0.1,1l-1,2l2.7,1.3l2.7,2.7l1.5,0l0.7,2l-0.9,0.6l-2,-0.3l-1,-1.5l-0.8,1.2l2,3l1.1,3l-0.3,1l-1,1l-3,1.2l-1,-0.2l-1.3,-2l-1.7,-0.9l-1,0.9l-0.3,1l0.3,3l4.1,2l0.4,3l0.7,1l-0.8,1l3.6,5.6l1,0.2l0.8,-0.8l-2.3,-4l-0.3,-1l0.8,-1.8l1,-1.2l3,-1.3l3.4,-2.7l1.5,-3l1.7,-2l-0.1,-2l-0.6,-1l0.9,-3l3.2,-0.6l1.1,0.6l0.4,4l2.7,2l0.9,6l-2.1,1.7l-3.6,-0.7l-1,-1l1.1,-2l-1.5,-1l-1.8,2l1.9,2l-0.9,2l0.8,1.2l5,0.2l2,-0.8l1,0.2l2,1.7l3,0.2l2,1.3l3,-0.1l4,1l5,2.9l1.7,-0.8l0.1,-1l1.2,-1l1,0.2l4,2.8l1,1.6l2.2,0.4l3.8,3.6l0,0.5l-1,0.3l-1,-0.2l-7,-4.1l-1,0l-1.8,1.9l1.2,2l-0.4,1l-2.3,0l-4.7,-1.9l-0.9,0.9l0.9,3zM-56.5,36.6l-1,0.5l-1.6,-1.6l1.2,-2l-0.1,-3l-0.5,-0.9l-1,0.2l-1,1.4l-1,0.1l-2,-0.8l-1,3.3l-1,-0.3l0,-2l0.8,-1l0.1,-3l1.1,-2.1l2,-0.2l1,-1.3l1,0.6l1,-0.3l1,-0.9l0.5,0.2l-0.3,1l0.8,0.4l0.4,-2.4l-2.4,-3.2l-0.4,0.2l-0.6,2.3l-1,1.1l-1,-0.7l-2,0.3l-1.7,-4l-2.3,-2.7l-4.2,-2.3l-2.8,-2.3l-2.7,-4.7l-1,-4l-0.8,-1l0.2,-1l-0.8,-1l1.1,-4l0.1,-1l-0.7,-1l-5.4,-1.6l-4,-4.2l-3.7,-1.2l-3.3,-2.9l-2,0.9l-3.2,-1l-0.7,-1l2.4,-1l0.3,-1l0.2,-5l2.6,5l1.4,0.6l2,0.3l1,-0.5l1,-2.4l1,-0.2l2,0.5l0.5,1.7l-0.4,2l4.5,2l0.7,4l0.7,0.9l1,0.4l2,-0.1l3,2.1l1,-0.7l2,0.5l2,2.3l1.2,-0.4l1.5,-2l-0.1,-1l-0.8,-1l0.2,-0.7l1,-0.3l5,1.2l2,-0.8l1,1.9l2,1.5l1.6,0.2l1.4,1l3,0.9l4,4.9l1,0.2l2.7,4l-0.2,1l-1.3,1l-1.5,2l0.3,0.4l1,-0.8l2.2,0.4l0.3,1l-1,1l-0.7,2l3.2,2.5l2,-2.4l1,0l1.5,-1.1l0.4,-1l-0.9,-2.2l-1,0.1l-1.8,-0.9l0.2,-2l2.6,-0.4l2,1.1l0.4,4.3l-2.2,4l-0.2,2.8l-2,5.4l-2.1,1.8l-3.9,1.5l-1,0.9l-1.4,2.6l-1.6,1l-2.5,3l-0.5,1.3l-1,-0.7l-1,0.2l-0.3,0.2l0.7,1zM121.5,-22.3l-1.2,-0.2l0.1,-2l1.1,-0.4l0.4,0.4zM-66.5,-17.5l-1.5,0l-1.5,-0.8l-5,0.8l-0.8,-1l0.2,-1l-0.4,-0.5l-3,-1l-6,-0.3l-0.2,-1.2l3.2,-0.3l1,-0.5l2,0.6l2,-0.2l2.2,1.4l0.8,1.5l4.7,0.5l3.6,1l-0.3,0.7zM83.5,-18.2l-2,-0.3l-0.5,-1l-0.2,-1l1.7,-1.9l1.8,0.9l0.7,1l-0.3,1zM96,-19.5l0.2,-1l-0.7,-1.2l-0.5,2.2l0.5,0.5zM-155.5,-18.6l-0.7,-0.9l0.7,-1l0.5,1zM-76.5,-17.3l-2,-0.2l-0.2,-1l2.2,-0.5l0.9,0.5zM73.5,-16.1l0,-3.3l0.9,2.9zM76.5,-8.9l-2,-4l-0.5,-2.6l0.5,-0.9l2.3,4.9l0.3,2zM93.5,-11.4l-1,0.3l-0.3,-0.4l0.3,-2.3l1,0.3zM36.5,18.6l-1,0.2l-5,-1.6l-2,0.3l-5,-1.2l-2,0.3l-6,-0.7l-1.8,-2.4l-0.5,-5l-3.7,-6l-1.2,-5l-0.8,-1l-2,-0.1l-2,-1.4l-1,-0.1l-1,0.7l-10,0.5l-4,-2.4l-2,-2.1l-0.3,-1.1l0.3,-1l2,-1l5,0.7l2,-0.2l1,0.8l6,-0.6l1,0.7l5.1,0.6l0.9,2l3,-3l1,-0.1l1,0.8l1,-0.5l2,0.4l2,-0.4l1,0.7l6,0.7l4,-1.7l3,3l2,-3.5l1,-0.3l2,-1.7l1,0.3l1.4,3.3l-1,3l-0.7,1l-1.7,1l-2,-0.3l-0.6,1.3l1.9,4l0,2l1.3,3l0.4,0.3l2.1,-0.3l0.5,4l-0.3,1l0.9,3l-1.5,3zM-63.3,-7.5l-1.2,-2.1l-1.7,2.1l0.7,0.6zM81.5,-5.8l-1,0l-1,-0.7l0,-3.1l2,-0.1l0.6,3.2zM33.5,-6.5l-1,-1l-0.9,1l0.9,0.6zM34.1,2.5l0.2,-2l-0.8,-0.7l-1,0l-0.8,0.7l0,2l0.8,0.7zM125.1,2.5l1.1,-1l-0.7,-1.2l-1.5,2.2l0.5,0.6zM117.9,6.5l0.3,-1l-0.7,-0.7l-1.6,0.7l0.7,1l0.9,0.3zM47.5,25.8l-3.3,-0.3l0.1,-2l0.6,-1l-0.4,-6l3.8,-4l1.2,-0.4l1,0.3l0.3,1.1l0.2,2l-0.5,4l-1.2,4zM33.4,15.5l1,-1l-0.9,-1.2l-2,-0.1l0,2.5zM-46.9,16.5l0.1,-1l-0.7,-1.6l-1,1.1l0,2.3zM147.5,20l-2,-1.4l-0.2,-1.1l-1.5,-2l-0.2,-1l0.9,-1l1.6,2l0.1,2l1.5,2zM168.5,17.2l-2,-0.6l-1,-1.4l1,-0.8l1,0l1.1,1.1l0.3,1zM178.5,19.6l-0.9,-0.1l-0.5,-1l-0.3,-1l0.7,-1.1l1,0l1.1,1.1zM167.5,23.5l-1.3,0l-2.7,-2l0,-2.2l1.8,0.2l2.3,2l0.8,1zM34.5,24.8l-0.4,-0.3l0.3,-2l1.1,-0.1l0,1.1zM28.5,33.1l-1,-0.1l-0.2,-0.5l1.2,-3l-1,-0.7l0,-1.6l2.6,-1.7l3.4,-0.6l0.4,0.6l-1.4,3.3l-2,-0.8l-1,0.3l-1,1.2l1,0.9l1,-0.5l0.6,0.6zM-61,27.5l0.8,-1l-1.3,-0.5l-0.5,1.5l0.5,0.4zM153.5,30.9l-0.4,-0.4l-0.2,-2l0.6,-2.2l0.5,2.2zM-55.1,31.5l-0.4,-1.5l-0.9,0.5l0.9,1.7zM116.5,34.6l-1.1,-0.1l0.1,-0.8l1,0.1l0.7,0.7zM175.5,41.6l-2.1,-2.1l0,-4l5.3,2l-0.1,2l-1.1,1.2zM-59.5,38.2l-1.9,-0.7l0.9,-1.6l2,1.6zM147.5,42.7l-1,-1.1l-0.7,-0.1l1.7,-0.4l0.4,0.4zM170.5,44.5l-2,0.7l-0.5,-0.7l2.5,-2l2,-0.1l0,1.3z"/><path fill="#fde0a1" d="M-133.5,-56.6l-1.1,-0.9l0.1,-0.9l1.8,0.9zM-130.5,-54.3l-2,-2.1l-0.6,-0.1l0.6,-0.5l2,0.5l0.7,1l-0.2,1zM133.5,-42l-2,-0.6l-0.5,-0.9l0.5,-1.4l2.2,1.4zM-122.5,-38.1l-1.1,-1.4l0.1,-3.3l1.5,4.3zM129.5,-36.2l-1.2,-0.3l-0.2,-1l-1.4,-2l0.3,-1l2.5,-1.4l0.3,1.4l-1,2l1.3,2zM142.5,-38.5l0.2,-2l0.8,-1l0.1,2zM139.5,-36.4l-3,-1.1l2,-1.8l1,1.3l1,0.5zM-85.5,-33.7l-0.5,-0.8l0.5,-1.5l0.6,0.5l0.1,1zM-87.5,-31.4l-1,0.3l-0.7,-1.4l0.2,-1l1.5,-1l1.7,1zM-81.5,-31.7l-1,-0.1l-1,-1.5l-0.7,-0.2l2.7,-1.3l0.6,2.3zM134.5,-32.5l-0.6,0l-0.1,-1l-1,-1l0.7,-0.6l1.3,0.6zM-80.5,-28.1l-1,0.4l-0.6,-0.8l0.6,-1l1,0.2zM-102.5,-18.8l-2,-0.6l-1.6,-2.1l-0.5,-2l-2.9,-5.1l1,-0.1l1.1,1.2l0.9,1.5l0.6,2.5l1.4,1.3l0.7,1.7l1.4,1zM143.5,12.6l-1,0.7l-0.5,-0.8l0.1,-1l1.1,-1l-4.6,-1l-1.9,-1l0.5,-1l-1.7,-1.5l-2.9,-0.5l-1.1,-0.7l-5,-0.3l-3,1.7l-1.4,0.3l1.4,0.4l1,1l2.3,-0.4l1.1,1l-0.3,1l-1.1,1.1l-2,0.3l-15,-1.4l-4.1,-1l-5.9,-5.9l-2.1,-3.1l-0.2,-1l-2.8,-3l0.1,-1.3l4.1,-0.7l-0.4,-2l0.5,-3l-0.6,-3l-0.6,-1.1l-2,0.1l-1.1,-1l0.1,-1.7l2,-1.3l0.1,-2l-1.1,-0.6l-2,1.7l-1.1,-1.1l-1.1,-3l-3,-2l1.2,-1l3,0.3l2,-0.5l2,0.5l1,1.8l4,0.4l1.7,1.5l2.3,0.2l2.6,1.8l0.4,1l-1.4,1l-0.5,1l1.9,3l1.2,3l-0.3,1l-0.9,0.9l-3,1l-1,-0.1l-1.1,-1.8l-1.9,-1l-1.2,1l-0.2,3l0.3,1l1.1,0.8l3.1,1.2l0.3,3l0.8,1l-0.9,1l3.7,5.7l2.2,0.3l-0.6,-2l-1.7,-2l-0.5,-2l0.6,-1.6l1,-1.2l5,-2.7l1.5,-1.5l1.5,-3l1.7,-2l-0.1,-2l-0.6,-1l0.9,-3l3.1,-0.4l1.1,0.4l0.3,4l2.8,2l0.8,6l-1,1.1l-1,0.3l-3.5,-0.4l-1,-1l1.1,-2l-1.6,-1l-1.9,2l1.7,2l-0.7,2l0.9,1.4l5,0.1l1,-0.6l2,-0.1l2,1.8l3,0.1l2,1.5l3,-0.3l4,1l2,0.9l2,1.8l1,0.2l1.8,-0.8l0.2,-1.2l1,-0.6l1,0.1l4,2.8l1,1.8l2,0.1l1.1,1l-0.1,0.9l-1,0.6l-1.6,-0.5l-0.4,-0.8l-1,0.1l-2,-1.2l-1,0l-1.9,1.9l1.3,2l-0.4,1l-2.1,0l-4.9,-2l-1,1zM103.5,-25.3l-0.4,-1.2l0.4,-0.9l0.8,0.9zM113.5,-25.4l-1.2,-0.1l-1.1,-1l1.3,-0.5l0.9,0.5l0.6,1zM121.5,-22.4l-1,-0.1l0,-1.1l1,-1.1zM-79.5,-21.2l-4,0l-1.1,-0.3l0.1,-0.8l1,-0.4l1.8,0.2l0.2,1l0.1,-1l0.9,-0.5l1,0.2l0.9,0.3zM-70.5,-18.2l-3,0.6l-1,-0.2l-0.6,-0.7l0.2,-1l-0.6,-0.8l-2.8,-2.2l2.4,0l1.5,1l0.1,1l0.8,0.7l3.2,0.3l0.7,1zM-78.5,0.4l-0.9,-0.9l1.1,-4l0,-1l-0.6,-1l-5.6,-1.7l-4,-4.2l-3.5,-1.1l-3.5,-3.2l-2,0.9l-3,-0.7l-0.5,-1l2.4,-1l0.3,-3l0.8,-0.9l1.3,2.9l2.7,0.9l2,-0.3l0.5,-0.6l0.1,-1l0.9,-1l1.3,0l1.2,0.6l0.4,1.4l-0.4,2l1,0.8l3.5,1.2l0.4,3l1,2l1.1,0.4l2,-0.1l2.6,1.7l0.4,2l-0.8,2l-0.4,3zM83.5,-18.6l-1,0l-0.8,-0.9l-0.1,-1l1.9,-1.2l1.2,1.2zM110.5,-18l-2.2,-0.5l-0.3,-1l0.5,-1l2,0.1l0.7,0.9l0,1zM-76.5,-17.4l-1,-0.1l-1,-1l2,-0.4l0.6,0.4zM-65.5,-18.1l-2,0.5l-1,-0.9l3,-0.2zM75.5,-11.2l-1,-2.3l0,-2.1l1.5,3.1l0,1zM104.7,-13.5l-0.3,-2l-0.9,-0.5l-1,0.6l-0.4,0.9l0.4,0.6l2,1.1zM93.5,-11.5l-1.2,0l0.2,-2.2l0.7,0.2zM37.5,-5.3l-2,0.5l-1.6,-0.7l-0.4,-3l1,-2l2,-1.2l1,-1.2l1,0.4l1.2,3l-1.1,3zM-66.5,-8.2l-0.4,-1.3l-1.3,-1l0.7,-0.5l2.4,0.5zM-52.5,32.5l-1.7,-1l-1.3,-1.9l-1.4,-0.1l-0.6,1l0.5,1l-0.5,0.7l-0.2,-2.7l-0.8,-0.3l-1,0l-1,1.5l-1,0.2l-2.5,-1.4l-0.4,-1l0.9,-1.9l2,1.8l2.2,-1.9l-0.7,-1l1.5,-0.3l1,0.8l1,-0.2l1,-2l0.1,-1.3l-3.1,-3.7l-2,0.5l-0.6,-1.8l-2.4,-0.7l-2,0.8l-2,-2.1l-6,-3.5l-2,-2.5l-1.5,-3l-0.8,-4l0.8,-2l-0.1,-1l0.6,-0.4l1.6,-3.6l-0.3,-1l1.7,-2.3l1,-0.1l2,2.6l3,-2.1l2,1l3.2,-1.1l-0.2,-1l-1.2,-1l3.2,-1.5l1.4,2.5l2.8,1l1.8,1.3l3,0.7l4,4.8l0.8,0.2l1.7,3l-0.3,2l-2.1,3l0.5,1l-0.6,1l-1,0.1l-0.8,0.9l0.8,0.5l2,-0.3l1,0.4l3.8,3.4l0.2,0.9l0.6,-1.9l1.4,-1.6l1,0l2,-1.8l0.8,0.4l-1.7,3l-0.1,2.2l-2,5.9l-3,2.3l-3,1.1l-1.7,1.5l-0.9,2l-1.9,1zM37.5,17.7l-2,0.6l-3,-0.6l-1,-0.9l-1,-0.2l-2,0.6l-5,-1.2l-2,0.5l-6,-0.8l-1.5,-2.2l-0.5,-2.1l0.2,-2.9l-3.9,-6l-1.9,-7l-2.4,0.6l-2,-1.3l-1,0l-1,0.7l-3,-0.2l-2,0.4l-1,-0.5l-4,0.7l-4.2,-2.4l-1.8,-2l0,-1.6l2,-0.8l3,0l4,0.6l1,0.8l3,-0.6l2,0.2l0.6,0.4l-1,1l1.4,0.6l1.9,-1.6l3.1,-0.1l1,2.1l2,0.5l1,-1.6l2,-0.9l1,1.2l1,-1.5l3,0.5l1,-0.4l1,1.2l1,-0.5l4,0.8l5,-1.8l2.4,2.5l-0.9,1l0.4,1l2.1,0.3l0.4,2.7l1.8,3l-0.2,1.2l-2,-2.1l-1,0l-1,0.9l0,2l1,0.9l1,-0.2l1,-1.4l1,0.8l1,3.4l1,0.6l2,-0.7l0.1,4.6l0.9,3l-1.6,3zM81.5,-6l-1.7,-0.5l0,-3l1.7,0l0.4,3zM-68.3,2.5l1.1,-3l-0.5,0l-2,2l0.5,1l0.7,0.4zM125.2,2.5l1,-1l-0.7,-1.4l-1.6,2.4l0.6,0.7zM-66.3,7.5l0,-2l-3.2,-1.7l-0.5,0.7l1.5,1l1,1.5zM-58.3,6.5l0,-1l-1.3,-1l-0.6,1l0.4,1zM-38.5,6.6l-0.2,-2.1l1.4,0l-1.1,1zM-35.5,10.3l-0.5,-0.8l0,-4l0.5,-0.1zM118,6.5l0.3,-1l-0.8,-0.7l-1.7,0.7l0.7,1.1l1,0.3zM140.2,7.5l-0.7,-0.4l-1.1,0.4l0.1,0.4l1,0.2zM-69.2,9.5l0.2,-1l-1.7,0l0.2,1.5l1,0zM162.5,10.5l-2,0.1l-1.8,-1.1l0.8,-0.9l1,-0.1zM34,15.5l0.8,-1l-0.6,-1l0.7,-1l-0.4,-0.7l-1.2,0.7l-1.8,0.2l-0.6,2.8l0.6,0.8l2,-0.3zM47.5,25.7l-1,0.2l-2,-1.1l1,-4.2l1.1,-0.1l-1.1,-0.2l-0.5,-3.8l0.5,-0.6l1,0l0.7,0.6l0.3,1.9l0.6,-2.9l-0.2,-2l1.6,-1.1l1,0.4l0.2,0.7l0.2,2l-0.6,4l-1.6,5zM-47.4,17.5l1.4,-1l-0.1,-1l-1.4,-2.2l-1,0.4l-0.4,0.8l-0.1,2l0.5,1.6zM168.5,16.7l-2,-0.2l-1,-1.2l1,-0.8l1,-0.1l1.1,1.1zM145.5,16.8l-1.2,-1.3l0.2,-0.4l1,-0.2l0.3,0.6zM178.5,19.5l-1.1,-1l0.1,-2l1,-0.1l1,1.1zM-60.5,21.5l-3,0.7l-1.1,-2.7l0.1,-1.6l1,0.9l2,0.7l0.9,1zM166.5,23.6l-2.8,-2.1l-0.2,-2.1l1.5,0.1l0.5,0.8l1,0.2l1,1l0.6,1l-0.6,0.9zM32.5,28.3l-1.6,-0.8l-0.2,-1l1.8,-0.7l0.7,0.7zM153.5,29.9l-0.4,-1.4l0.4,-1.7l0.3,1.7zM-56.5,35.7l-1,0.6l-0.7,-0.8l0.7,-1.3l2,-0.2l0.6,0.5l-0.6,0.8zM177.5,40.6l-2,0.9l-1,-0.7l-1,-1.5l0,-3.2l1,-0.1l4.1,1.5l0,2zM170.5,44.1l-1,0l-0.2,-0.6l1.2,-0.7l0.7,0.7z"/><path fill="#fcc78f" d="M-87.5,-32l-0.9,-0.5l0.9,-1.5l0.6,0.5zM-107.5,-25.2l0,-1.8l0.9,1.5zM150.5,11.7l-6,-2.4l-1,1l-1,-0.6l-3.4,-0.2l1.9,-2l-0.5,-0.4l-2,-0.2l-0.4,0.6l0.3,1l-0.9,0.3l-0.6,-0.3l0.4,-1l-1.8,-1.6l-2.7,-0.4l-1.3,-0.8l-4,-0.5l-2,0.5l-2,1.4l-1.9,0.4l1.9,0.6l1,0.9l1,-0.5l2,0.5l0.1,1.5l-1.1,1l-2,0.3l-5,-0.8l-9.5,-0.5l-2.5,-0.9l-2,-0.1l-6,-6l-2.1,-3l-0.1,-1l-2.8,-3l0,-1.2l4.3,-0.8l-0.5,-2l0.6,-3l-0.7,-3l-0.7,-1.3l-2,0l-1,-0.7l0.2,-1l2.2,-2l0.2,-2l-0.6,-0.8l-1,-0.2l-2,1.8l-1,-0.9l-0.8,-2.9l-2.8,-2l0.6,-0.4l5,-0.4l2,0.6l1,1.6l3,0.2l2,1.5l3,0.3l2.4,1.6l0.3,1l-1.3,1l-0.5,1l2.1,3.3l1,2.7l-0.2,1l-1.6,1l-3.2,0.5l-0.7,-1.5l1.2,-1l0.2,-2l-0.7,-1.6l-2,-0.4l-0.8,2l0.7,1l-2.3,2l-0.1,3l0.2,1l1.3,0.9l3,1.1l0.3,3l0.8,1l-0.9,1l0.4,1l2.4,2.7l0.3,1.3l0.7,0.8l2,0.5l1.9,-0.3l-1.9,-0.6l-0.4,-1.4l-1.6,-2l-0.4,-2l0.4,-1.4l1,-1.3l5,-2.7l2.5,-2.6l0.5,-1.8l1.7,-2.2l0,-2l-0.6,-1l0.8,-3l3.1,-0.3l1,0.3l0.4,4l2.7,2l0.6,6l-0.7,1l-4.4,0l-0.9,-1l0.1,-1l0.9,-1l-1.7,-1.3l-1.9,2.3l1.5,2l-0.5,2l0.9,1.6l5,0.1l0.9,-0.7l2.1,-0.1l2,1.8l3,0.1l2,1.5l3,-0.3l4,1l2,0.8l2,1.9l1,0.2l1,-0.2l0.8,-0.7l0.1,-1l1.1,-0.6l2,0.5l3.6,3.1l0.2,2l-0.8,0.2l-2,-1.1l-1,-0.1l-1.9,2l1.2,2l-0.3,0.9zM-104.5,-20l-1.8,-2.5l0.8,-0.6l1.2,1.6zM-74.5,-20.6l-2.1,-0.9l-0.5,-1l2.6,1zM-78.5,0.1l-0.7,-1.6l1.1,-3l-0.7,-2l-5.7,-1.8l-3.9,-4.2l-3.5,-1l-3.6,-3.4l-2,0.8l-2.7,-0.4l-0.5,-1l2.2,-0.5l0.4,-0.5l0.6,-3.4l1.1,2.4l0.9,0.7l3,0.6l1.8,-1.3l0.2,-1.5l2,0.7l1,-0.2l-0.2,3l1.2,0.9l3.4,1.1l0.4,3l0.9,2l1.3,0.6l2,-0.2l2.2,1.6l0.4,2l-0.8,2l-0.4,3zM83.5,-19.3l-1,-0.1l-0.2,-1.1l1.2,-0.7l0.8,0.7zM-70.5,-18.4l-4,0.3l-0.3,-0.4l0.3,-1.9l1,0.9l2,0.3zM110.5,-18.1l-2,-0.4l0,-1.5l2,-0.2l0.6,1.7zM-65.5,-18.4l-2,0.3l-0.4,-0.4zM92.5,-11.4l0,-2.2l0.8,1.1l-0.2,1zM36.5,-5.2l-1.7,-0.3l-1,-3l0.7,-1.5l2.3,-1.5l0.7,-1.1l1,0.7l1,3l-1.2,2.4zM-51.5,30.9l-2,0.5l-2,-2.4l-5,-0.5l2,-2l2,-0.2l1.5,-2.8l0,-1l-1.9,-3l-1.3,-1l-0.3,-2.2l-1,0.7l-3,-0.2l-1,-0.6l-2,0.8l-1,-1.5l-2,-0.6l-5,-3.1l-2,-2.5l-1.3,-2.8l-0.7,-4l3,-6.5l0.2,-1.5l1.8,-2l2,2.8l1,-0.1l0.3,-0.7l1.7,-1.2l2,0.8l3.6,-1.6l-0.5,-2l0.5,-1l1.4,-0.3l1,2.4l3,1.1l2,1.5l2,0.1l2,1.1l2.2,3.1l1.4,1l1,2l0.3,2l-2,3l0,2l-2.2,2l-0.4,1l0.7,0.4l3,-0.6l4.3,3.2l0.7,2l1.6,-4l3.4,-1.7l0.1,0.7l-1.1,2l-0.1,2l-1.9,5.9l-3,2.3l-3,1.2l-1.7,1.6l-1,2l-2.2,1zM36.5,17.7l-1,0l-1.8,-1.2l1.5,-2l-0.4,-1l0.8,-1l-0.3,-1l-0.8,-0.4l-2,1.1l-1,-0.2l-2,4.6l-2,0.2l-4,-1.1l-2,0.5l-5.9,-0.7l-1.3,-2l-0.2,-5l-4.6,-7.2l-1,-6.1l-1,-0.1l-2,0.7l-2,-1.1l-1,-0.1l-1,0.7l-3,-0.5l-2,0.6l-1,-0.8l-1,0.1l-1,0.8l-2,0.3l-4.1,-2.3l-1.8,-2l-0.1,-1.2l2,-0.7l3,-0.2l1,1l2,-0.6l2,1.4l1.3,-0.7l1.7,-0.2l2,2l1,0.1l2,-1.2l1,-0.2l2,1.5l3,1.3l1,-1.2l3.7,-0.1l0.3,-1.4l1,-0.3l1.2,0.7l-0.2,0.6l-1.6,0.4l0.6,0.1l1,-0.1l1,-0.8l2,0.3l2,-0.5l1,0.8l3,0.1l1,-0.9l2,-0.5l2,0.7l0.7,0.8l-1,2l2.3,0.3l0.9,0.7l-0.2,1l1.6,3l-0.3,0.6l-1,-0.6l-2,0.2l-2,-1.3l0,1.3l1.6,0.8l0.2,3l-0.8,0.7l-1.6,0.3l-0.2,1l0.8,0.7l1,-0.3l2.2,-2.4l1.8,-1.1l1,0.8l0.6,1.3l0.4,3.3l1,0.6l2,-0.8l0.1,1.9l-0.4,1l0.9,3l-1.5,1l0,2zM81.5,-6.1l-1.4,-0.4l0.2,-3l1.2,0.3l0.3,2.7zM-69.3,10.5l1.8,-2.6l1,0.3l0.9,-0.7l0.5,-2l-1.6,-1l2.8,-2l-0.6,-2l-2,1.4l-0.5,-0.4l0.5,-1.3l1.2,-0.7l-0.1,-1l-1.1,-1.1l-1,-0.3l0,0.7l0.7,0.7l-2.7,0.9l-4,-0.1l-0.4,1.2l0.4,1.8l1,0l1,-0.8l0.9,1l-0.5,1l0.6,1.7l1,0.1l1.2,1.2l0.4,1l-0.6,0.7l-2,-0.4l-0.8,0.7l0.8,2.1zM125.2,2.5l1.1,-1l-0.8,-1.7l-1.6,2.7l0.6,0.7zM-57.6,6.5l0.4,-1l-2.3,-1.8l-3,0.2l-0.9,0.6l1.9,2.1l1,-0.1l1,1l1,0zM118.1,6.5l0.2,-1l-0.8,-0.8l-1,0.1l-0.9,0.7l0.9,1.3l1,0.3zM-56,9.5l0.4,-1l-0.9,-0.2l-2,0.6l-2,-0.5l-0.8,1.1l0.8,0.4zM161.5,10.6l-1.1,-0.1l-0.8,-1l0.9,-0.4l1.6,1.4zM26.8,11.5l1.9,-1l-1.2,-0.6l-1,1l0,1.3zM-43.4,20.5l-2.1,-1l-0.8,-1l-0.3,-1l1.2,-1l-0.1,-1l-1.4,-2l-0.6,-0.6l-1.5,0.6l-0.2,4l0.7,1.4l1,0.1l1,1.5l1,0.3zM47.5,25.7l-1.6,-0.2l-0.9,-1l1.1,-3l1.5,-2l1,-4l-0.2,-2l1.1,-0.8l1,0.5l0,4l-1.9,7.3zM168.5,15.5l-1.8,0l0.8,-1zM178.5,18.2l-1,-0.7l1,-0.9l0.9,0.9zM-52.1,21.5l0.1,-1l2.1,0l0.1,-1l-0.7,-1l-2,0.5l-0.5,0.5l0.2,2zM-62.5,21.8l-1,0.1l-0.3,-0.4l-0.2,-1l0.5,-1.1l1.9,1.1zM166.5,23.5l-2.5,-2l-0.5,-0.8l0,-1.3l1.3,0.1l0.7,1.5l2,1l0.3,0.5zM-61.5,30.4l-1.2,-0.9l0.2,-0.3l1,-0.1l0.7,0.4zM177.5,40.5l-2,0.6l-1,-0.5l-1.1,-2.1l0.6,-2l1.5,0l1,0.7l1.7,0.3l0.2,2z"/><path fill="#fbac79" d="M150.5,11.6l-6,-2.6l-1,0.9l-0.7,-0.4l-0.3,-1.5l-1.9,-1.5l-2.2,0l-0.5,1l0.2,1l-0.6,0.2l-0.4,-0.2l0.3,-1l-1.9,-1.6l-8,-1.8l-2,0.5l-2,1.4l-2.8,0.5l2.8,0.8l1,0.8l1,-0.4l2,0.5l0,1.3l-1.4,1l-3.9,0l-2.7,-0.7l-8.9,-0.3l-4.1,-1.3l-1,0.2l-0.5,-0.9l-1.5,-0.9l-4,-4.1l-0.3,-1l-1.7,-2l-0.1,-1l-2.9,-3.2l0,-0.9l4.5,-0.9l-0.6,-2l0.6,-3l-0.6,-3l-0.9,-1.4l-2.6,-0.6l0.4,-1l2,-2l0.2,-2l-1,-1.3l-1,-0.1l-2,1.8l-1,-1.1l-0.4,-2.3l-2.2,-2l4.6,-0.1l2,0.6l1,1.1l3,0.4l2,1.4l3,0.2l2.1,1.4l0.3,1l-1.6,2l2.2,3.7l0.9,2.3l-0.3,1l-1.6,0.9l-2,0l-0.9,-0.9l1,-1l0,-2l-1,-2l-2.1,-0.4l-1.1,1.4l-0.1,1l0.7,1l-2,2l-0.1,3l0.2,1l1.4,1.1l3,0.9l0.2,3l0.9,1l-0.9,1l0.2,1l2.6,2.8l0.2,1.2l0.8,0.9l2,0.6l5,-0.5l1,1.5l1,0.2l0.8,-0.7l0.1,-1l-0.9,-0.8l-1,0l-1,0.7l-4,-0.3l-0.9,-0.6l-2,-3l-0.2,-3l1.1,-1.6l2,-1.4l2,-0.6l3.7,-3.4l0.3,-1.5l1.8,-2.5l-0.4,-3l0.6,-2.8l3,-0.3l1,0.3l0.3,3.8l2.8,2l0.1,6l-0.2,0.6l-0.5,-0.6l0.2,-1l-0.7,-0.4l-1.3,0.4l0.2,1l-1.1,1l-1,0l-1,-1l0.1,-1l0.9,-1l-1.8,-1.6l-1.6,1.6l-0.3,1l0.2,1l1.1,1l-0.4,2l1,1.7l5,0.1l1.3,-0.8l1.7,0l2,1.8l3.5,0.2l1.5,1.5l2.2,-0.5l4.8,1l2,0.9l2,1.9l2,0l0.9,-0.8l0.1,-1.1l1,-0.3l2,0.4l3.5,3l0,2l-1,0l-1.5,-1l-1,0l-1,0.7l-1,1.3l1.3,2l-0.3,0.7zM-104.5,-21.3l-1,0l-0.3,-1.2l0.3,-0.2zM-78.5,-0.3l-0.6,-1.2l1.2,-3l-0.7,-2l-5.9,-1.9l-3.6,-4.1l-3.6,-1l-4.8,-4.2l-0.8,1.2l-1.2,0.2l-1.4,-0.2l0.4,-0.8l1.3,-0.2l0.7,-1.3l5,0.9l1.2,-0.6l0.8,-1l0,-1.2l0.4,0.2l-0.2,1l0.8,0.4l2,-0.7l-0.4,2.3l1.4,1.1l3.3,0.9l0.3,3l1,2l1.4,0.7l2,-0.2l1.1,0.5l0.8,1l0.4,2l-1.3,5zM110.5,-18.2l-1.6,-0.3l-0.3,-1l1.9,-0.5l0.4,1.5zM-73.5,-18.2l-1,-0.2l0,-0.5l1,-0.2l1,0.6zM36.5,-5.5l-1.2,0l-1.2,-3l0.4,-0.9l1,-0.5l2,-2.2l1.7,2.6l-1.3,3zM-53.5,30.8l-2.7,-4.3l1.6,-3l-0.1,-1l-1.5,-3l-1.4,-1l0.1,-2.2l-1,-0.9l-1,-0.2l-1,-1.5l-1,2.1l-1,0.5l-1,-0.6l-2,0.8l-1,-1.5l-2,-0.3l-1,-1.1l-2,-0.6l-2.2,-1.5l-1,-1l-1.9,-4l-0.6,-4l1.7,-4l1.5,-2l0.4,-2l1.1,-1.3l1.6,2.3l1.2,3l-1.8,0.5l-2,-0.4l-0.7,0.9l-0.2,2l0.3,1l0.6,0.6l1.5,0.4l0.5,1l-1,0.5l-2,-1.4l-0.8,0.9l2.7,3l2.1,3.5l1,0.4l2,-2.7l2,-0.3l1.5,-2.9l0.5,-0.2l2,1.7l1.3,0.5l-1.7,2l0.4,0.6l4,0.2l3,-1.2l1,0l0.2,-0.6l-1.2,-0.9l-3,0.3l-0.4,-0.4l1.2,-1l0.2,-1l-3,-2.5l-3,0.2l-1.9,-3.7l0.1,-1l-2.2,-2.1l-1,-0.4l-1.1,0.5l0.1,-2l1,-0.6l1,0l1,0.9l1.6,-1.3l1.4,-0.1l1,-0.9l0.4,-1l-0.9,-1l0.5,-1.1l1.2,0.1l0.1,2l3.7,1.5l2,1.9l2,-0.4l2,1l1.3,2l2.1,2l0.1,1l1.2,2l-2.2,4l-0.2,2l-2.8,3l1.5,0.8l1,-0.2l1,0.4l-2,0.7l-1,1l0.7,1.3l0.2,2l-3.2,1l-1,2l0.4,1l0.9,0.4l4,-1.3l4,0.7l1.6,-0.8l-2.5,-2l0.3,-3l-0.4,-1l-2,-2l1,-0.5l3,1.7l0.8,0.8l1.2,2.6l1.4,-0.6l-0.4,-2l1,-2l2,-0.3l0.2,0.3l-2.2,8.7l-2.9,2.3l-3.1,1.3l-1.8,1.7l-1.2,2.1l-3,0.6l-1,1.2zM-7.5,-4.5l-1.3,0l-3.7,-2l-1.5,-2l0,-1l2.5,-0.7l2,0.3l1,0.9l2,-0.8l1,1.5l1,0.3l3,-1l2,1.8l1,0.2l2,-1.3l1,-0.1l1,1l2.9,0.9l-0.1,1l-2.8,0.8l-4,-1.2l-2,0.6l-2,-0.4l-1,0.5l-1,-0.9l-1,0.1zM81.5,-6.3l-1.1,-0.2l0.1,-2.4l1,0.5zM37.5,16.9l-2,0l-0.6,-0.4l1,-1l-0.6,-2l0.6,-1l-0.1,-1l-1.3,-0.8l-2,0.9l-2,-0.5l-0.7,0.4l0.7,1.4l-1,1.6l0,1.2l-1,0.8l-1.1,0l-0.9,-0.8l-2,0.2l-1,-0.5l-2,0.6l-3,-0.1l-2.3,-0.4l-0.7,-0.6l-0.7,-1.4l0.4,-2l-0.6,-1l-0.1,-2l-4.3,-6l-0.8,-2l-0.7,-4l1.4,-3l1.4,-0.5l1,0.6l2,-0.7l2,0.2l1,-0.6l4,0.6l2,-0.5l2,0.4l1.7,1.5l0.2,3l1.1,0.8l1,2.2l1,-0.2l0.5,1.2l-0.5,2.1l-2,0.3l-2.3,1.6l2.1,3l-2.3,2l-0.4,1l0.3,1l-0.4,1l0.4,1l0.6,0.8l1.7,-1.8l-0.5,-1l1.7,-2l-0.8,-1l0,-1l2.9,-1.6l0.8,-2.4l2.2,-1.6l1.3,1.6l0.2,4l2.5,0.4l0.8,0.6l-0.9,2l1.1,0.9l0.2,1.1l-1.2,-0.2l-0.5,3.2zM28.5,-6.3l-1,0.4l-1.1,-1.6l1.1,-0.6l2.7,0.6zM19.9,-3.5l0.6,-0.4l0,-0.8l-1,0.2l0,1.2zM33.5,-0.9l-3.5,-1.6l-0.9,-1l0.4,-1.4l1,0.3l2,-0.3l0.5,0.4l-0.2,1l1.2,2zM125.3,2.5l1,-1l-0.8,-2l-1.7,3l0.7,0.8zM14.5,4.5l1.2,-1l-0.2,-0.7l-1,-0.6l-0.6,0.3l-0.1,1zM116.2,3.5l-0.3,-1l-0.6,0l-0.2,1l0.4,0.4zM17.8,8.5l0.3,-1l-0.6,-0.8l-1,0.1l0,1.4zM34.8,9.5l0,-1l-1.3,-0.6l-1.1,1.6l2.1,0.5zM141.5,9.5l-1.7,0l0.7,-1l1,-0.4l0.5,0.4l-0.1,1zM-52.2,12.5l-0.3,-0.7l-1.7,0.7l0.7,0.6zM47.5,25.6l-1.3,-0.1l-0.7,-1l2.3,-5l1.1,-6l0.6,-0.4l0.7,0.4l0.4,2l-2,9zM-63.5,21.6l0,-1.6l1.2,0.5l-0.4,1zM176.5,40.5l-1,0.3l-1,-0.9l-0.6,-1.4l0.6,-1.2l1,1.4l2,0.2l0.4,0.6z"/><path fill="#f88f60" d="M92.5,-24.7l-1.1,-0.8l0.1,-0.3l1.6,0.3zM150.5,11.6l-3,-1.5l-2.4,-0.6l-0.6,-0.7l-1.1,0.7l-0.4,-2l-1.5,-1.1l-3.7,0.1l-0.3,2.1l-0.7,-2.1l-1.3,-0.7l-8,-1.9l-1,0.1l-2,1.5l-4,0.5l-0.7,0.5l3.7,1l1,0.7l2,-0.2l1,0.4l0,0.6l-2.3,1.5l-5.7,-0.9l-2,0.3l-6.2,-0.4l-4.8,-1.6l-1,0.1l-5,-4.5l-6,-8.8l2,-0.7l2,0l0.7,-0.5l-0.7,-2l0.7,-3l-0.3,-2l-0.9,-2l-0.5,-0.6l-2.3,-0.4l2.5,-3l0.2,-2l-1.4,-1.7l-1,0l-2,1.7l-0.8,-1l-0.1,-2l2.9,-1.3l2,1.2l2.3,0.1l2.7,1.7l3,0l1.7,1.3l0.4,1l-1.5,2l0.7,2l1.7,2.1l0.7,1.9l-0.2,1l-1.5,0.7l-2,-0.5l0.4,-3.2l-0.8,-2l-2.6,-0.8l-1.1,0.8l-0.4,1l-0.1,1l0.8,1l-1.9,2l0,3l0.1,1l1.6,1.4l3,0.8l0.1,2.8l1,1l-1,1l0.2,1l2.7,2.9l0.1,1.1l0.9,1l2,0.8l5,-0.6l1,1.4l1,0.2l0.9,-0.8l0.1,-1l-1,-0.9l-5,0.5l-1.6,-0.6l-2.1,-3l-0.3,-3l1,-1.5l2.2,-1.5l1.8,-0.4l3.9,-3.6l0.1,-1.2l1,-0.8l0,-1l0.9,-1l0.1,-4.9l1,2.4l1,-0.5l1,-3l1,0.5l0.2,3.5l2.8,2l0,3.7l-3.3,0.3l-0.2,1l0.7,1l-1.2,1l-1.1,-1l0,-1l1,-1l-1.9,-1.8l-1.8,1.8l-0.2,2.4l-1,-0.2l-0.6,0.8l0.6,0.9l2.2,-0.9l-0.2,2l1,1.9l5,0l1.9,-0.9l1.1,0.1l2,1.7l3.3,0.2l1.7,1.6l2,-0.4l4.7,0.8l2.3,0.9l2,2l2,-0.1l0.9,-0.8l0.1,-1.1l2.8,0.1l3.6,3l-0.1,2l-3.3,-1.2l-1.5,1.2l-0.5,1l1.2,2zM110.5,-18.3l-1.1,-0.2l-0.2,-1l1.3,-0.3zM-77.5,-2.5l-0.3,-3l-0.7,-1l-6,-2l-4,-4.5l-3,-0.5l-4.3,-4l0.3,-0.8l3,0.6l4,-1.6l0.6,0.8l-0.2,1l0.6,0.7l1,0.6l3.2,0.7l0.3,3l0.9,2l1.6,0.8l2.9,0.2l0.8,1l0.3,2zM36.5,-6.1l-1,-0.5l-1.2,-1.9l3.2,-2.8l1.3,1.8l-1.3,3zM-6.5,-5.5l-2,0.8l-1,-0.4l-2.6,-1.4l-1.5,-2l0.1,-0.5l2,-1l4,1.7l1.5,1.8zM-54.5,19.3l-1,0.1l-1.4,-0.9l-0.6,-3l-1.6,-1l0.6,-1l-1,0.4l-1,-1.2l-1,2.1l-1,0.9l-1,-0.5l-1,0.4l-1,-0.2l-1,-0.9l-1,0.3l-1,-0.3l-0.8,-1l-0.1,-1l1.9,-3.4l3.9,0.4l-0.5,-1l0.6,-1.6l1,-0.2l1,0.8l-1,2l1,3l0.2,-1l0.8,-0.9l3,0.1l4.6,-1.2l-0.6,-5.1l-1,0.6l-1,0l-2,-0.9l-2,-1.8l-2,0.7l-1,-0.4l-1.3,-3.1l0.2,-1l-2.2,-2l1.1,-2l1.2,-0.9l1,0.1l2,-1.9l4,1.6l1,2.2l1,0.1l1,-0.8l1,-0.2l1.8,0.8l3.4,4l0.4,2l0.8,1l-0.4,0.8l-1.3,0.2l0.3,1l-0.9,2l-0.1,1.5l-2,2.1l-4.2,2.4l0.2,1.2l2,-0.6l1,-1.1l1.4,0.5l-0.8,1l-0.1,1l1.1,2l-0.6,1l-3,0.9zM0.5,-6.3l-4,0.4l-0.6,-0.6l0,-1l2.6,-0.8l1,1.2l1.5,0.6zM5.5,-6.4l-2,0.6l-1.8,-0.7l0.7,-1l1.1,-0.5l1,0.2l1.3,1.3zM25.5,15.6l-3,-0.7l-1,0.8l-3,0.1l-1.5,-0.3l-1.5,-1l0.1,-1l1.4,-1l-1.2,-1l-0.9,-2l0.6,-1.9l1,1.4l1,0.2l2,-1.5l1,-0.2l-0.1,-1l-0.9,-1.2l-1,1.6l-0.4,-1.4l-2,-1l0.1,-1l-0.7,-2.4l-2.3,0.4l0.1,3l-0.8,0.7l-2,-2.7l-1.1,-3l-0.4,-3l1.5,-2.5l1,-0.5l2,0.5l1,-0.7l2,0.4l3,-0.7l2,1l2,-0.9l2,0.4l0.9,1l0.6,3l1.5,1.5l1,2.4l1,-0.6l0.3,0.7l-0.3,1.3l-1,0.7l-1,-0.7l-2.7,2.7l1.5,3l-2.3,3l-0.1,2zM-66.5,-4.7l-1,-0.1l-0.3,-0.7l1.3,-0.2zM-71.5,-1.5l-1.7,-1l-0.1,-1l0.8,-1.8l1.5,1.8l0.2,1zM20.3,-2.5l0.7,-2l-0.5,-0.9l-1,0.4l-0.5,1.5l0,1l0.5,0.4zM-78.5,-0.6l-0.4,-0.9l0.4,-1.1l0.9,0.1zM17.9,-0.5l-0.4,-0.8l-1.5,-0.2l0.5,1.2l1,0.3zM-76.5,4.6l-0.4,-2.1l1.4,-3.4l0.6,0.4l0,4zM125.3,2.5l1.1,-1l-0.9,-2.6l-0.6,0.6l-1.2,3l0.8,0.9zM104,3.5l0.8,-1l-0.3,-0.3l-1.7,0.3l-1.1,1l0.8,0.4zM116.9,3.5l-0.1,-1l-1.3,-0.5l-0.7,0.5l-0.1,1l0.8,0.8zM32.5,7.6l-0.3,-2.1l2.3,-2.1l1.1,1.1l-0.1,2.5zM14.5,7.7l-1.2,-2.2l2.2,-0.7l0.6,0.7l-0.9,2zM-70.5,12.9l-1,-0.2l-3.1,-2.2l-1.7,-4l0.8,-0.9l2.6,1.9l1.6,3l1.7,2zM31.5,10.8l-2,-0.8l-0.4,-1.5l2.4,-0.6l0.7,2.6zM37.5,16.3l-1.6,-2.8l0.3,-2l-1,-1l1.3,-1.2l2,0.2zM-52.5,29.6l-1,0.4l-0.7,-2.5l-1.5,-1l1.7,-4l4.5,-0.8l1,0l1,1l1,-0.8l2,-0.2l2.2,-1.2l-0.1,-1l0.9,-0.1l0.4,-1.9l1.8,-1l-0.8,-1l0.3,-2l0.3,-0.5l1,-0.1l0.4,2.6l-1.4,5.5l-1.6,1.5l-4.4,2.2l-1.9,1.8l-1.1,2l-3,-0.4zM47.5,25.6l-1,-0.1l-0.7,-1l1.7,-3.2l2,-7.8l0.9,2l-0.5,1l-0.4,3.8l-1,2.2l0,2zM-42.5,19.5l-2.4,-1l0.4,-2l-0.4,-2l0.4,-0.8l1.4,0.8l0.6,2l0.8,1zM-50.1,26.5l0.3,-1l-0.7,-1l-1,0.3l0,1.9l1,0.5z"/><path fill="#f66f46" d="M94.5,-22.4l-1,0.3l-0.4,-0.4l0.4,-0.9l1.1,-0.1zM108.5,8.1l-3,-0.4l-3.1,-2.2l0.1,-0.8l2.4,-1.2l0.2,-1l-0.6,-0.7l-1,0.1l-3,1l-1,-0.8l-3,-4.6l0.1,-1l-1.2,0l-0.5,-2l3.6,-0.3l1,-0.7l-0.6,-2l0.5,-3l-0.6,-3l-1.3,-1.7l-1.8,-0.3l0.8,-1.5l1.7,-1.5l0.1,-2l-1.5,-2l1.7,-1l4,1.9l3,0l1.2,1.1l0.3,1l-0.5,0.4l-1.4,-0.4l0.9,1l0.3,2l-0.8,1l-3,-1.2l-1.5,1.2l-0.4,2l0.6,1l-1.6,2l0.1,3l0.1,1l1.7,1.7l2,0.1l1,0.6l0,2.6l1,1l-1,0.9l0.1,1.1l2.9,3l0.2,2l1.8,1zM-77.5,-3.4l-0.2,-2.1l-0.8,-1.3l-5.7,-1.7l-2.3,-2l-1,-2l0.9,-1l-1.9,0.3l-3,-0.5l-3.6,-3.8l0.6,-0.3l2,0.6l4,-1.5l0.2,1.2l1.8,1.6l3,0.3l0.4,3.1l0.8,2l0.8,0.7l3.6,0.3l0.9,1l0.2,2zM126.5,-9.3l-1,0.4l-2,-0.2l-1,0.5l-1.1,-0.9l-0.3,-1l-2.2,-1l0.6,-2.1l1,1.2l2.2,-1.1l-0.7,-2l0.1,-1l0.9,-1l0.5,-0.2l0.1,3.2l2.9,3.1zM108.5,-11.2l-2.7,-0.3l0.7,-4.8l1,0.7l1,1.7l0.5,1.4zM37.5,-7.3l-1,0.5l-1.7,-1.7l2.7,-2l0.7,1zM-7.5,-5.3l-1,0.2l-3.2,-1.4l-1.5,-2l1.1,-1l1.1,0l2.7,2l1.2,2zM-2.5,-6.5l-0.6,-1l1.6,-0.4l0.4,0.4l-0.4,0.7zM4.5,-6.3l-1.7,-0.2l0.4,-1l0.8,0zM-49.5,5.9l-3,0.5l-1,-2.6l-2,0.5l-2,-0.7l-2,-2l-1,0.1l-1.1,0.8l-1.5,-3l0.3,-1l-2.4,-2l0.2,-1l1.5,-1.5l1,0.1l2,-1.6l2.8,1l0.9,1l-0.3,1l0.6,0.8l2.2,0.2l0.6,-1l1.2,-0.5l1.5,0.5l3.5,4l-0.7,2l1.8,1l-2.1,0.4l-0.1,1.6zM147.5,9.5l-2.2,0l-1.2,-1l-0.3,-1l-2.3,-1.4l-5,0.1l-9,-2.5l-2,0.6l-1.1,1.2l-1.9,0.3l-2,-0.6l-1,0.9l-2.6,-1.6l0.8,-2l-0.2,-1l-3,0.6l-0.2,1.4l0.8,1l-3.6,0.2l-2.2,-2.2l-0.1,-3l-0.5,-1l0.8,-1.4l1,-0.2l1.3,-1.4l1.7,-0.3l2,-1.8l0.7,0.1l0.7,2l1.6,0.2l1.7,2.8l4.7,0l-0.8,1l0.5,1l-0.9,2l0.8,0.9l2,-1.9l-0.2,-2l-0.6,-1l1.8,-0.7l2,0.5l1,1.1l3.2,0.1l1.8,1.8l2,-0.4l4.3,0.6l0.7,0.6l2,0.4l2,2l2,-0.2l1,-0.8l0,-1l2.1,0l-1.2,1l1.1,0.4l1,-0.6l1,0.1l2.3,2.1l-0.3,2l-2,-1.4l-1,0l-2,2.2l-2,-0.3l-0.8,0.5zM12.5,4.7l-0.5,-1.2l-1.8,-2l-0.9,-4l0.2,-1.5l2,-2l1.2,0.5l0.8,1.3l0.3,-1.3l0.7,-0.6l2,0.3l3,-0.4l0.2,0.7l-1.7,3l-0.5,0.4l-2,-0.6l-0.5,1.2l0.5,1l-2.8,2zM23.5,13.2l-3,-1.1l-4,-0.4l-1.2,-2.2l0.2,-0.7l2,1.2l3.6,-2.5l-0.6,-2.3l-3,-1.1l-1,-1.2l0,-1.4l2,-2.4l2.3,-1.6l1,-3l1.7,-0.9l1,-0.1l1.5,1l-0.1,2l2.9,4l-0.3,0.8l-0.8,0.2l0.3,1l-3.4,4l1.9,0.6l0.3,1.4l-1.3,1.5l-1,0.3l-0.3,-0.8l-0.7,-0.3l-0.3,0.3l1.3,1l-0.1,2zM-75.5,3.6l-1,0.4l0,-1.9l0.7,0.4zM34.5,6.8l-1.4,-0.3l-0.4,-1l1.8,-1.6l0.7,0.6zM124.5,9.8l-4,-0.1l-1,-0.5l-2,0.5l-4.8,-0.2l-3.1,-1l1.3,-1l-0.1,-1l4.7,-0.5l1,1.3l3,-0.6l5,1.6l2.9,0.2l-0.9,0.6l-1,-0.1zM-71.5,12.1l-2,-0.8l-1,-1l-1,-1.8l0,-1.6l2.2,0.6l2.1,4zM30.5,9.9l-1,-0.4l0.2,-1l1.4,0l0.2,1zM-62.5,15l-3,-0.2l-1,-1.1l-1,0.9l-1,-0.5l-0.5,-0.6l1.6,-4l1.6,0l2.3,1.4l1.6,2.6l0,1zM150.5,11.5l-1.8,-1l1.8,-1.3l1.1,1.3zM36.5,11.5l-0.6,-1l0.6,-0.6l0.9,0.6zM-54.5,18.5l-1,0.4l-0.6,-0.4l-1.1,-3l-0.9,-1l0.3,-1l-2.7,-1.5l-0.3,-0.5l0.3,-0.3l5,-0.3l0.8,0.6l-0.6,2l0.8,0.6l3,-0.5l0.4,1.9l0.9,1l-1.4,1zM37.5,13.3l-1,-0.8l1,-0.8zM19.5,15.6l-1.6,-0.1l-1.8,-1l2.4,-1.6l3,-0.1l0.6,0.7l-0.6,1.8zM-38.5,16.1l-1.2,-0.6l0.2,-2l1,0.4zM49.5,19.2l-0.7,-1.7l0.7,-1l0,-2.1l0.4,1.1zM-43.5,18.6l-0.5,-0.1l0,-3l0.5,-0.9l0.3,1.9l0.9,1l-0.2,0.7zM-48.5,28.2l-1,0.1l-0.7,-0.8l0.8,-2l-1.1,-1.6l-1.5,0.6l0.2,3l-0.7,1l-0.8,-1l-1.8,-1l0.6,-2.1l1,-1.2l2,-1l3,0.1l1,0.9l2,-1.2l2,-0.3l2,-1.2l1.3,-3l0.7,-0.5l0.7,0.5l-0.7,3.3l-2,1.7l-4,2.1zM48.5,21.4l-0.4,-0.9l0.4,-1.6l0.8,0.6zM47.5,25.5l-1.5,-1l1.5,-2.6l1,1.6z"/><path fill="#f04c2f" d="M99.5,-11.7l-0.2,-2.8l-1.8,-1.8l-1.2,-0.2l0.2,-1.1l2.2,-1.9l0,-2l-0.9,-2l0.7,-0.5l5.8,2.5l-0.2,1l1.4,1.1l0.4,1.9l-0.4,0.5l-3,-1.1l-1,0.4l-1.4,2.2l-0.2,1l0.6,1zM-77.5,-5.2l-1,-1.8l-2.9,-0.5l-4.1,-2l-1.3,-2l0.7,-2l-0.4,-0.7l-2,0.8l-1.1,-0.1l-0.9,-0.7l-1,0.3l-1.1,-1.6l0.1,-0.7l1,0.2l0.7,-0.5l-0.2,-1l1.5,-0.2l1,0.2l2,1.8l3,0.2l0.2,3l0.8,2l1,0.8l3.3,0.2l1.1,1l0.1,2zM122.5,-15.3l0,-1.2l1,-0.6l0,1.5zM108.5,-11.3l-2.3,-0.2l0.3,-2.2l1,-0.8l1.3,2zM125.5,-9.2l-2,-0.5l-1,0.4l-0.4,-1.2l-1.5,-1l1.9,-1.5l3,1.3l1,1.2zM-9.5,-6l-1.5,-0.5l-1.7,-2l1.2,-0.5l2.2,1.5zM-51.5,5.8l-2,-2.6l-2,0.7l-3.2,-2.4l-1.8,-0.3l-1.7,-1.7l0.5,-1l-3,-2l0.2,-1.1l1,-1l1,0.1l2,-1.5l2,0.5l0.5,3l0.5,0.3l2,-0.1l2,0.7l0.5,-1.9l1.8,0l3.4,4l-0.7,1.4l-2.3,0.6l0.3,0.7l1,0.3l0.3,2zM103.5,1.6l-3,0.6l-1,-0.3l-1.4,-2.4l-0.1,-1l0.5,-1l-3.1,-3l3.1,-0.2l2,-0.9l1,1.1l2.3,0l0.7,0.7l0,1.3l-1.4,1l0.6,2l0.8,1l-0.5,1zM117.5,0.9l-2,0.5l-3.4,-1.9l1.1,-2l-0.7,-0.1l-3,1.8l-0.4,-0.7l0.2,-1l1.2,-0.4l1.5,-1.6l1.5,-0.1l2.2,-1.9l0.8,2.5l2,0.1l0.7,1.4l-0.1,2zM11.5,2.2l-1,-0.5l0,-1l1.6,-1.2l-1.6,-0.8l-1,-1.1l-0.1,-1.1l1.8,-1l0.3,-1l1.3,2l0.7,0.2l1,-0.6l0.4,1.4l-0.5,2l-1.9,1zM17.5,-3.3l-0.7,-0.2l-0.3,-1l0.6,-1l1.4,-0.2l0.4,0.2zM23.5,12.1l-3.7,-0.6l-1.6,-1l1.3,-1.6l2.1,-1.4l-0.9,-3l-3.1,-1l-0.7,-1l1.6,-2.8l2.8,-2.2l1.2,-3l1,0.2l1,-0.6l1,0.2l0.3,1.2l-1.1,2l-1.5,1l1,1l0.2,1l-1.3,1l0.4,0.7l1,0.1l1.5,1.2l-1.9,3l1.3,1l0.1,2l-1,-0.9l-1,-0.2l-1,1.1l1.2,1zM-56.3,1.5l-3.2,-3.7l-1.1,-0.3l-0.1,1l2,1l1.2,1.8l1,0.5zM116.4,-1.5l0,-1l-0.9,-0.1l-0.3,1.1zM123.5,5.6l-1.5,-0.1l-1.5,-1.3l-0.9,0.3l-0.1,0.7l-1.9,-0.7l0.9,-3.4l1,-0.1l0.5,-0.5l-0.1,-1l1.6,-1l1.8,0l0,1l1,1l-0.7,2l1,1zM146.5,9.3l-1,0.1l-0.5,-1.9l-3.5,-1.8l-4,-0.1l-1,0.4l-3.1,-0.5l-0.9,-0.8l-1.9,-0.2l-1.1,-0.6l-4,-0.4l0,-1l1.1,-1l-0.2,-3l2.1,-0.4l1,0.3l1,1.1l3,0l0.3,1l1.7,0.9l3,-0.2l2.6,0.3l0.4,1.1l2.8,-0.1l1.3,1l0.9,1.8l3,-1.7l2,1l2,-1.1l2.2,2l-0.2,0.9l-1,0.3l-1,-0.9l-1,0.1l-2,2.1l-2,-0.6l-1.6,0.1zM113.5,4.5l-1.9,0l-2.1,-1.9l0,-2.5l1,0.1l1,1.8l2,-1l0.4,0.5l0,3zM107.5,7.7l-2.9,-1.2l0.9,-1l0,-3l1,-0.2l0.7,1.2l-0.3,2l2,1l-0.5,1zM34.5,5.8l-1.1,-0.3l1.1,-1.1zM104.5,6.5l-2,-1.1l1,-0.7l1.9,-0.2l0.1,1zM120.5,9.5l-2,-1l-1,1.1l-1,-0.4l-2.8,0.3l-1.2,-0.7l-2.2,-0.3l2.2,-1.5l3,-0.8l1,1.3l1,0.3l2,-0.7l2.2,0.4l0.8,0.8l2.6,0.2l-0.6,0.5l-2,-0.2zM-72.5,11.5l-2,-1.4l-0.7,-1.6l0.3,-1l1.4,0.2l1.4,2.8zM-67.5,14.1l-1.1,-0.6l2.1,-3.8l1.5,0.8l0.3,1l-0.8,0.7l-1,0zM151.5,10.7l-1,0.3l-1.1,-0.5l1.1,-0.6zM-52.5,17.6l-3,0.4l-1.9,-3.5l0.4,-1l-1.9,-1l0.4,-0.7l2,-0.5l0.4,0.2l0.4,1l-0.3,1l0.5,0.4l2,0.7l1,-0.4l0.4,0.3l-0.1,1l0.6,1zM19.5,15.2l-1,0l-0.7,-0.7l1.8,-1l0.7,1zM-39.5,20.6l-1,0.5l-0.5,-0.6l0.1,-1l1.4,-2l0.3,1zM-42.5,22.6l-0.4,-0.1l0,-1l1.2,0zM-48.5,27.9l-1.3,-0.4l1.3,-3.6l1,-0.2l2,-1.3l1.5,0.1l0,1l-2.7,2zM47.5,25.2l-1.3,-0.7l1.3,-2.1l0.7,1.1zM-51.5,23.9l-1,0.4l-0.3,-0.8l1.3,-1l0.7,1zM-53.5,26.9l-0.9,-0.4l-0.2,-1l1.1,-1.6l0.9,0.6l0.3,1z"/><path fill="#ea2e1d" d="M99.5,-15l-1,-0.4l-1.6,-2.1l2.2,-2l0.3,-1l-1,-2l0.1,-1.1l1,0.1l2,1.3l2.1,0.7l-0.1,1.8l-1,1.1l-1,0zM105.5,-17.4l-2.8,-1.1l0.8,-0.8l2,0.5zM-87.5,-14.3l-1,0.4l-1.7,-1.6l0,-1l0.7,-0.8l1,0.2l1.8,1.6l-0.3,1zM-81.5,-8.4l-2.1,-0.1l-2.4,-2l-0.6,-1l0.8,-1l0.3,-1.8l2,1.4l0.5,2.4l1.7,1l0.5,1zM108.5,-11.5l-0.8,0l-0.5,-1l1.3,-0.2zM125.5,-9.5l-3.5,-2l0.5,-0.9l3,1.4l0.4,0.5zM-77.5,-5.9l-1,-1.4l-1.9,-0.2l0,-1l1.9,-0.7l1,0.5zM-59.5,-2.9l-2,-1.3l-0.4,-1.3l1.4,-1l1,0.2l0.7,0.8l0.1,2zM102.5,1.6l-3,0.1l-1,-1.2l-0.2,-1l0.7,-2l-0.2,-1l-2.7,-2l2.4,0l2,-0.9l0.9,1.9l0.5,0l0.6,-1l1,0l1,0.9l-2.3,2.1l0,1l1.2,2zM-52.5,3.2l-1,-0.7l0.4,-1l-0.4,-1.1l-0.4,1.1l0.3,1l-1.9,0l0.2,-1l-1,-1l0,-1l-1.2,-0.3l-1.6,-1.7l0.6,-0.8l4,0.6l1,1.2l2,-3l0.8,1l0.2,1.4l1,-0.1l0.9,0.7l0.4,1l-0.3,0.6l-2.9,1.4l-0.2,1zM112.5,-3.2l-1,0.5l-0.2,-0.8l0.9,-1l1.1,0zM114.5,-1.6l-0.7,-1.9l0.3,-1l1.4,-0.5l0.5,1.5zM13.5,-0.3l-3,-1.7l-0.7,-1.5l1.7,-0.6l1,1l1.8,0.6l-0.7,1zM24.5,-3.2l-1,0.4l-1.1,-0.7l0.1,-0.4l2,-0.4zM109.5,-1.4l0,-1.2l1.7,0.1zM116.5,1.1l-1,-0.1l-1,-1.4l-0.7,-0.1l0.7,-0.5l2,0l2,-2l0.3,1.5l-0.3,0.8zM23.5,8.1l-1,0l-0.4,-0.6l-1,-2l0.1,-1l-0.7,-0.6l-1.8,-0.4l-0.8,-1l0.6,-2.4l3,-1.9l1.6,1.3l0,1l-0.7,1l0.1,1.2l0.5,0.8l1.9,1l-1.1,2l0.5,1zM136.5,5.7l-3,-0.2l0,-1.1l-2.4,0.1l-0.6,-0.6l-2.5,-0.4l-1.4,-1l0.8,-4l2.1,0l1,1.3l1.6,0.7l0.1,1l1.3,-0.5l1.4,0.5l0.4,1l-0.3,1l0.5,0.4l0.7,-0.4l-0.5,-1l0.5,-1l3.2,0l-0.9,1l0.3,2zM-59.5,0.7l-1,0.1l-0.5,-1.3l0.5,-0.3l0.7,0.3l0.7,1zM121.5,0.6l-0.6,-0.1l-0.2,-1l0.8,-0.4l0.8,0.4zM109.5,2.6l0,-1.2l1,-0.3l-0.2,1.4zM123.5,5.2l-1,0.1l-0.7,-0.8l0.7,-2.7l1,-1l0.4,2.7zM112.5,4.5l-1.5,-1l0.5,-0.9l1.6,-0.1l0.3,1zM120.5,3.3l-1,0l-0.6,-0.8l0.6,-1l1,0.6zM144.5,6.1l-1,-0.7l-1.6,0.1l-0.7,-1l0.2,-1l1.1,-0.4l2.1,0.4l0.9,2zM150.5,7.7l-0.8,-0.2l-0.2,-1.3l-1,-0.4l-1.2,0.7l-0.1,-1l0.8,-1l1.5,-0.5l1,1l2,-0.3l1.7,0.8l-1.7,0.2zM107.5,7.3l-1.4,-0.8l0.4,-0.5l1.8,0.5zM-73.5,10.8l-1.1,-1.3l-0.3,-1l0.4,-0.8l1,0.5l0.7,1.3l0.3,1zM22.5,11.7l-1.5,-1.2l0.5,-0.7l1.1,0.7l0.4,1zM-52.5,16.9l-2,0.4l-1,-0.6l-1,-1.1l0,-1.5l4,2.2zM-40.5,20.5l-0.1,-1l1.1,-1.3l0,1.9zM47.5,24.8l-1,-0.3l1,-1.6l0.4,0.6zM-53.5,26.4l-0.7,-0.9l0.7,-1.1l0.8,1.1zM-48.5,27.7l-0.5,-0.2l0.5,-2.3l2,-1.5l0.6,0.8l-2.1,2z"/><path fill="#e31611" d="M99.5,-16.1l-1,-0.1l-1.1,-1.3l1.1,-0.1l1.9,-2.9l-1.5,-2l0.6,-0.5l2.4,1.5l0.8,1l-1.2,1.1l-0.7,1.9zM-88.5,-14.8l-1.4,-1.7l0.4,-0.4l1,0.1l0.9,1.3zM-84.5,-9.5l-1,-0.6l-0.9,-1.4l1.9,-1.6l1.1,1.6zM-59.5,-3.9l-1,0l-0.8,-1.6l0.8,-0.6l1,0.4zM-50.5,0.6l-2,0.5l-1,-1.4l-1,1.4l-1,-0.3l0.2,-1.3l-2.2,-0.7l-0.3,-1.3l3.1,0l1.2,1.8l1.6,-0.8l0,-2l0.4,-0.4l0.4,2.4l0.6,0.2l1,-0.7l1,1.5zM12.5,-1.9l-2,-0.5l-0.4,-1.1l1.4,-0.1l1.8,1.1zM99.5,1.5l-0.8,-2l0.8,-2.4l1,-1l1,0l0.6,0.4l-0.7,2l1.6,2l-0.5,0.6zM21.5,4.2l-2,-0.9l-1.1,-1.8l0.1,-1l1,-1l2.1,0l0.4,3zM116.5,0.8l-1.3,-0.3l0.3,-0.7l2,-1l0.2,0.7zM130.5,3.5l-1.2,0l-2,-1l0.4,-3l1.8,-0.3l1.4,1.3l0.4,2l-0.3,1zM133.5,3.8l-1,0.3l-0.9,-0.6l0.2,-1l1.7,-1l1.3,1zM137.5,4.5l-1.1,-2l1.1,-0.6l0.4,1.6zM23.5,7.8l-1,-0.3l-1.1,-2l0.1,-0.8l1,-0.7l1.4,0.5l-0.5,2l0.5,1zM136.5,5.5l-2.7,0l0.7,-0.9l1,-0.2zM151.5,6.6l-0.9,-0.1l-0.4,-1l2.5,0zM-73.5,10.6l-1,-1.1l0,-1.3l1,0.4l0.4,0.9l0,1z"/></g>
<use href="#lakes" fill="#fff"/>
</g>
<path d="M418.23,40.00V196.60M470.27,40.00V196.60M522.30,40.00V196.60M574.33,40.00V196.60M626.37,40.00V196.60M366.20,66.10H678.40M366.20,92.20H678.40M366.20,118.30H678.40M366.20,144.40H678.40M366.20,170.50H678.40" stroke="#333" stroke-width="0.45" fill="none" opacity="0.75"/>
<rect x="366.20" y="40.00" width="312.20" height="156.60" fill="none" stroke="#666" stroke-width="0.55"/>
<text x="417" y="21.2" font-size="15.2" fill="#4b4fa6" textLength="210.5" lengthAdjust="spacingAndGlyphs">2012 Net Primary Productivity</text>
<text x="418.23" y="205.8" font-size="9.6" text-anchor="middle" fill="#111" textLength="45.5" lengthAdjust="spacingAndGlyphs">120°0'0"W</text>
<text x="418.23" y="37.9" font-size="9.6" text-anchor="middle" fill="#111" textLength="45.5" lengthAdjust="spacingAndGlyphs">120°0'0"W</text>
<text x="470.27" y="205.8" font-size="9.6" text-anchor="middle" fill="#111" textLength="41.5" lengthAdjust="spacingAndGlyphs">60°0'0"W</text>
<text x="470.27" y="37.9" font-size="9.6" text-anchor="middle" fill="#111" textLength="41.5" lengthAdjust="spacingAndGlyphs">60°0'0"W</text>
<text x="522.30" y="205.8" font-size="9.6" text-anchor="middle" fill="#111" textLength="27.0" lengthAdjust="spacingAndGlyphs">0°0'0"</text>
<text x="522.30" y="37.9" font-size="9.6" text-anchor="middle" fill="#111" textLength="27.0" lengthAdjust="spacingAndGlyphs">0°0'0"</text>
<text x="574.33" y="205.8" font-size="9.6" text-anchor="middle" fill="#111" textLength="38.5" lengthAdjust="spacingAndGlyphs">60°0'0"E</text>
<text x="574.33" y="37.9" font-size="9.6" text-anchor="middle" fill="#111" textLength="38.5" lengthAdjust="spacingAndGlyphs">60°0'0"E</text>
<text x="626.37" y="205.8" font-size="9.6" text-anchor="middle" fill="#111" textLength="43.0" lengthAdjust="spacingAndGlyphs">120°0'0"E</text>
<text x="626.37" y="37.9" font-size="9.6" text-anchor="middle" fill="#111" textLength="43.0" lengthAdjust="spacingAndGlyphs">120°0'0"E</text>
<text transform="translate(362.8,40.00) rotate(-90)" font-size="9.6" text-anchor="middle" fill="#111" textLength="31.3" lengthAdjust="spacingAndGlyphs">90°0'0"</text>
<text transform="translate(687.2,40.00) rotate(-90)" font-size="9.6" text-anchor="middle" fill="#111" textLength="31.3" lengthAdjust="spacingAndGlyphs">90°0'0"</text>
<text transform="translate(362.8,92.20) rotate(-90)" font-size="9.6" text-anchor="middle" fill="#111" textLength="38.5" lengthAdjust="spacingAndGlyphs">30°0'0"N</text>
<text transform="translate(687.2,92.20) rotate(-90)" font-size="9.6" text-anchor="middle" fill="#111" textLength="38.5" lengthAdjust="spacingAndGlyphs">30°0'0"N</text>
<text transform="translate(362.8,144.40) rotate(-90)" font-size="9.6" text-anchor="middle" fill="#111" textLength="36.8" lengthAdjust="spacingAndGlyphs">30°0'0"S</text>
<text transform="translate(687.2,144.40) rotate(-90)" font-size="9.6" text-anchor="middle" fill="#111" textLength="36.8" lengthAdjust="spacingAndGlyphs">30°0'0"S</text>
<text transform="translate(362.8,196.60) rotate(-90)" font-size="9.6" text-anchor="middle" fill="#111" textLength="31.3" lengthAdjust="spacingAndGlyphs">90°0'0"</text>
<text transform="translate(687.2,196.60) rotate(-90)" font-size="9.6" text-anchor="middle" fill="#111" textLength="31.3" lengthAdjust="spacingAndGlyphs">90°0'0"</text>
<text x="352" y="228.0" font-size="12.3" fill="#111" textLength="115.5" lengthAdjust="spacingAndGlyphs">2004NPP (gC•m⁻²• yr⁻¹)</text>
<rect x="471.3" y="219" width="194.50" height="10.60" fill="url(#cbg)"/>
<text x="471" y="239.6" font-size="12.6" text-anchor="middle" fill="#111">0</text>
<text x="557" y="240.0" font-size="12.6" text-anchor="middle" fill="#111">750</text>
<text x="663.8" y="239.0" font-size="12.6" text-anchor="middle" fill="#111">1500</text>
<g transform="translate(182.55,362.00) scale(0.8569,0.8889)">
<use href="#land" fill="#049604"/>
<g clip-path="url(#lc)"><path fill="#11a325" d="M148.5,43.8l-1,0.7l-2,-0.4l-1.8,-2.6l-0.2,-1.1l-3.5,-1.9l-1.5,-2.3l-3,-0.6l-1,-1.1l1,-0.7l3,0.6l1,0.6l1.7,-1.5l3.5,0l1.8,-1.4l0.8,-1.6l0.2,-4l-3,-3.6l-1,-2.5l-2,-0.2l-3,1.2l-7,-3.2l-2,0.7l-5,0.4l-1,-0.3l-1,-2.1l-0.1,-0.4l3.1,-3l3,-0.1l3,-2.9l1,-0.1l4.1,0.1l1,1l0,3l1.9,1.4l0.9,-1.4l0,-2l0.5,-1l-0.3,-1l-3.1,-0.7l-1.3,-1.3l0.3,-1l-1,-1.1l-3,-0.6l-1,-0.7l-1,0.4l-3,-0.4l-1,0.7l-1,-0.4l-1.7,1.1l0.7,0.7l3,-0.1l1.2,1.4l-2.2,2.5l-2,0.7l-2,-0.6l-3,0.3l-1,-0.5l-10,-1.1l-3,-0.9l-6,-5.8l-2.8,-4.6l-2.7,-3l-0.2,-1l0.7,-1.1l2.8,-0.9l0.2,-5.4l-0.9,-1.6l-2.1,-0.1l-1,-0.9l-0.9,-4l-2.1,-2l-1,1l-2,0.3l-5.9,5.7l-0.2,4l1.5,3l-0.6,2l-1.8,0.9l-1.3,-0.9l-0.7,-1.7l-2,-0.3l-1,-1l-2,-4l-1.2,-4l-0.8,-1l-0.3,-2l-0.7,-1.2l-2,-0.9l-0.4,-2.9l-0.7,-1l0.2,-1l1.9,-0.8l1.4,-3.2l-0.7,-2l0.3,-0.8l2,0.2l0.3,-1.4l0.7,-0.7l2,0.1l3,2.6l5,3l7,1l6,-1.6l2,1.7l3.2,-3.1l0.2,-3l2.6,-4.1l8,-4.6l4.1,-0.3l1.1,-2l1.6,-1l0.4,-2l-1.2,-1.5l-0.6,0.5l0.3,1l-0.6,1l-1.1,0.8l-1,-0.3l-1,-2.5l-3,1.2l-2,-1.5l-2,0.6l-1,-0.8l-2,1.2l-2,-1.1l-2,0l-2,-1.1l-1,0l-4,1.8l-5,0.8l-2,-1.5l-3,0.4l-3,-0.8l-2,-1l-1,-1.1l-3,0.6l-3,-0.2l-2,-0.7l-2,1.1l-2,-0.6l-1,-0.8l-1,0.2l-2,2.7l-1,0.4l-5,-0.6l-2,1.3l-5.4,0.5l-1.8,2l1.2,1.5l1.1,0.5l0.9,2.6l1.4,0.4l-2.4,1.8l-3,0.5l-4,2.9l-1,0.2l-1,-1.5l-0.4,1.1l-2.6,1.3l-2,-0.4l-2,1l-2,-0.8l-3,-0.5l-2,1.4l-4.4,-2l-1.6,-2.4l-1,-0.4l-2,1.6l-1,-0.3l-1.7,-1.5l-1.3,-2.2l-1,-0.5l-4,0.4l-3,-0.6l-2.9,2.9l-0.4,1l0.3,0.9l1,0.2l1,-0.9l3,0.5l1,0.6l2,-0.5l0.7,1.2l-0.7,0.9l-4,0.1l-5,1.3l-4,0l-2,1.1l-2,2.3l-1,0.1l-1.6,-0.8l1.7,-3l-0.3,-1l-1.9,-2l0,-5l2.1,-1.9l4,-0.3l1.3,-0.8l-3.1,-4l-1.2,-0.9l-1.7,-0.1l-1.6,-1l-0.3,-1l0.5,-2l3.1,-1.7l1,-2.3l1.6,-1l1.4,-0.2l1,0.2l1,1l0.5,2l1.5,1.9l2,1.7l1,0.2l3,-1.4l1,-2l2.8,-1.4l-0.5,-1l-1.3,-0.6l-1,0.3l-2,-0.7l-0.8,-2l0.8,-1.1l1,-0.9l3,0.4l3,-0.9l2,-1.5l1,-1.6l5,-1.2l1,0l2,1.3l2,0.1l2,1l1.7,1.4l-0.2,1l0.5,0.7l1.5,-0.7l0.3,-1l1,-1l5.2,-2.1l1,1.1l7,0.8l2,1.5l1,0.1l5,-0.7l3,0.5l1,0.6l0.9,-0.8l0.1,-0.9l0.3,0.9l1.7,0.1l2,1.8l2,0.3l1,-0.5l1,0.4l1,-0.9l1,-0.2l0.2,-1l-1.2,-0.4l-2,0.5l-1,-0.5l-3,1l-2.5,-2.6l1,-2l1.5,-0.9l2,0.9l2,0l1,1.9l1.6,-0.9l-0.1,-1l0.5,-0.5l1,0.6l1,-0.2l1,-1l2,0.8l3,-1.2l2,0.3l2,-1.6l0.9,0.8l-0.2,1l-2.5,1l-2.7,3l1.5,3.2l1.1,-0.2l1.2,-2l2.4,-1l-1.3,-1l0.9,-2l2.9,0l2.5,-2l0.3,-1.4l2,-0.5l0.7,-1.1l1.3,-0.5l3,1.2l1,1.9l1,-0.1l1,-1.2l1,0.5l2,-1l1,0l1,1.6l1,0.3l1,-1.8l2,0.6l0.8,-0.5l-1.1,-1l-0.1,-1l0.4,-0.3l1.4,0.3l1.3,2l2.3,0.8l3,0.2l2,-1.2l0.5,0.2l0.5,1.5l2,0.1l1,-1l2,-0.5l3,2.3l1,-0.8l3,0.6l4,-1.6l3,0.9l1,-1.1l1,0.3l3,-0.8l1,0.9l1,-0.4l2,0.3l0,1.9l1,0.6l2,-1.8l3,0l2,-0.7l0.4,0.3l-0.4,2.1l2,1.1l2,0.3l1,1.7l1.9,-2.2l2.1,-1.1l1,0.2l1,1.6l2,0l1,0.5l1.3,-0.2l1.7,-1.8l3,2l2,0.5l1.3,2.3l-4.3,2.7l-1,-0.3l-2,0.7l-7,-0.5l-2,-1.1l-2,0.9l-2,0.1l-1.7,-1.5l0.7,-0.8l1,0.1l0,-1.3l-2,-0.6l-1,0.3l-1.2,1.3l1.5,2l-1.3,0.8l-1,1.9l-1,0.3l-2,-0.9l-1,0.3l-1,-0.3l-0.2,-1.1l-0.8,-1.1l-1.3,0.1l-1.7,1.2l-2,0l-3.3,-2.2l-0.6,-1l1.5,-3l-0.6,-1.6l-0.6,0.6l-0.4,1.9l-1.5,1.1l0,1l1.5,2l-1,0l-2,-1.6l-1,0.6l1.3,2l-1.1,2l0,1l0.8,0.9l2.7,1.1l0.3,0.7l1,0l3,1.9l0.3,-0.6l1.7,-0.6l2.2,1.6l0.2,2l0.8,2l-0.9,3l1.8,3l-1,2l-1.5,1l-1.6,4.9l-2.5,2.1l-2.5,0.4l-1,1l-2,0.1l-2,1.5l-2,0.4l-1,-0.5l-2,-2.8l-2,-0.6l-1,-2.4l-0.5,-0.1l0,-2l-0.5,-0.7l-1.9,-0.3l-0.6,1l1.9,2l-1.8,1l-0.7,1l2.4,3l0.3,2l-1.3,3l1.5,2l-0.8,2.5l-1,1.1l-1,-0.3l-2,-2.4l-1,1.1l-1.8,1l-2.2,0.3l-0.9,0.7l-0.7,2l-2.5,2l0.8,2l0.2,3l-0.9,1.1l-4,2.8l-4,-3.4l-0.6,1.5l0.6,1.8l2,0.9l1.4,1.3l1.1,4l-0.4,1l0.2,1l1.9,2l0.8,1.9l1,0.2l-0.2,-1.1l-2,-3l0.2,-2l2,-2.3l3,-1.2l2.8,-2.5l3.3,-5l-0.5,-3l0.5,-3l1.9,-1.6l1,-0.2l2.4,1.8l0.1,3l0.5,0.9l2.7,2.1l0,2l0.9,3l-0.6,1.6l-2,1.8l-1,-0.1l-1,-0.8l-2,-0.3l-1.5,1.8l0.5,0.6l4,0.2l3,-0.8l2,0.9l1,1l3,0.3l2,1.4l3,-0.1l4,1.1l5,2.9l1.3,-0.5l0.2,-1l1.5,-1.4l1,0.1l5,4.1l2.9,1.2l3.5,3l0.2,1l-1.6,1.2l-4,-2l-4,-2.7l-1,-0.1l-1.5,1.6l1.5,2l-1,1.4l-1,0.3l-2,-0.4l-3,-1.7l-1.5,0.4l2.9,5l1,3l5.7,6l1,2l0.2,2l-0.4,3l-2.6,4l-0.3,2l-1,1.1l-2,0.9l0.9,3zM-60.5,40.6l-2,0l-1,-1l-2,0.3l-1,-2.3l-2.9,-1.1l0.1,-3l1.8,-0.7l1.5,-6.3l-1.3,-4l0.1,-2l-1.6,-2l0.3,-1l-0.6,-1l-1.2,-1l-3.2,-1.1l-2.6,-2.9l-1.4,-2.6l-2.6,-2.4l0.7,-1l-1.1,0.6l-0.4,-0.6l-0.4,-2l0.2,-4l1.9,-3l0.2,-1l-0.5,-1l-4,-1.1l-5,-4.9l-4,-1.2l-3,-2.1l-2,0.3l-2.8,-1l-4.2,-2.6l-2.2,-2.4l-0.8,-2l-1.1,-1l-0.9,-2.4l-1.9,-2.6l0.4,-1l1.5,-0.9l1,0l1.3,0.9l2.6,3l0.1,1.9l3,4.1l1.2,0l0.5,-1l-0.5,-3l0.8,-1.4l1,-0.2l1.7,1.6l0.7,3l1.6,1.9l2,-0.1l1.3,-1.8l1.7,-1.1l2,0l1,0.7l2,-1.7l2.6,-0.9l-1.7,-3l-1.9,-1.4l-2,0l-2,0.7l-6,-0.2l-1.5,-2.1l-0.4,-2l0,-4l0.9,-2.7l1.8,-3.3l0.9,-3l-2.7,-1.2l-1,-0.2l-1,0.5l-0.5,-1.1l-1.5,-0.5l-1,0.1l-2,1.1l-0.8,-0.7l-0.1,-1l-1.1,-0.2l-3.2,1.2l-1,1l0.2,3l1.8,3l1.2,0.9l1,0l0.2,-0.9l1.8,-1.4l0.7,0.4l-0.3,1l0.6,0.9l1.8,1.1l0.2,1l1,-0.3l1.5,2.3l-0.5,0.5l-1,-1l-2,2l-2.6,-2.5l-0.4,-1.8l-1,-1.2l-0.6,3l-1.4,3l-3,0.5l-1,-0.5l1.4,-3l-0.7,-4l0.4,-1l-2.1,-0.3l-3,0.5l-2,-2.7l-2,0.1l-0.4,-0.6l0.3,-1l-0.9,-1.2l-1,2l-0.2,2.2l0.2,1l2.6,3l2,4l-0.6,1.4l-1,-0.1l-4,-2.6l-2.5,-3.7l-0.5,-8.1l-7.7,-6.9l-0.3,-1.2l-2,-1.3l-5,-1.8l-3,0.1l-2,-0.7l-3,0l-1,0.1l-1,0.9l-3.3,-1.1l-5.7,0l-2.1,-2l0.2,-2l0.9,-0.3l1,0.5l2,-2.9l1,-0.4l2.6,0.1l0.4,1.3l1,-0.2l-0.8,-1.1l0.8,-0.8l3,0.5l3,-1.3l3,0.9l4,-0.2l1,1.2l3,0.2l3,-1l2,0.8l2,-0.1l1,2l1,0.6l3,0l3,1.2l3,0.3l2.2,2.7l-0.2,1.1l1,0.1l1,-0.8l2,-0.4l3,1l1,0.1l1,-0.7l3,0.2l2,1.3l2,-0.7l5,2.7l1,-0.3l3,0.4l2,1.2l1,-0.9l1,0.1l3,2.5l1.6,-0.9l0.4,-1.1l1,0.9l3,-0.6l2,0.7l3,-1.5l2,1.5l2.2,-0.9l0.8,-1l3,0.6l2,-0.2l1.2,1.6l1.8,0.3l1,-0.7l4,2.1l2.1,2.3l0.9,1.9l-1,1.8l-4,0.3l-1,-0.7l-1,0l-3.9,2.7l-1.1,-0.1l-1,-1l-3,1.2l-2.5,2.9l-1.5,0.5l-1.8,1.5l-0.9,1l-0.3,2.1l-2.9,2.9l-1.1,0.4l-0.9,1.6l0.7,4l-0.5,2l2.7,0.1l0.2,0.9l2.8,2.4l3,-0.1l3,1.5l2,0.1l1.2,1.1l-0.4,1l-1.8,0.9l-3,-0.6l-3,0.6l-3,-0.7l-2,0.8l-1.7,-1l-0.3,-1l0.7,-1l-3.7,-1.1l-3,0.3l-0.9,1.8l0.3,1l1.6,0.2l2,1.3l0.8,1.5l0.1,3l1.1,0.5l4,0.4l2,-1.9l3,-0.2l1,0.3l1,-0.6l5,1.3l2,-0.1l1,-0.6l1.4,0.9l1.2,2l1.4,1.1l5,1.6l2.5,2.3l2.5,3.4l1.5,0.6l1.5,1.4l5,0.8l3.3,1.8l2.7,2.9l0,2.3l-3.2,4.8l-0.6,4l-2.2,5l-2.4,2l-2.6,0.5l-2,1.4l-0.7,2.1l-4.3,5.3l-6.3,5.7zM129.2,-59.5l0.4,-2l1.2,-1l-0.1,-1l1.6,-2l2.1,-1l-0.9,-0.8l-1,-0.4l-2.6,1.2l0.5,3l-0.1,1l-0.8,1l-3,-1.8l1.6,-2.2l-1.6,-1.8l-1.1,-0.2l-0.9,4l-1.4,2l3.4,2.6l1,0.1zM97.5,-62.5l-1,-2.4l-3,1.3l-1,-2l-0.4,1.1l1.4,2.6l2,-0.4l1,0.4zM111.7,-60.5l0.8,-0.6l2,0.1l3,-1.5l-0.5,-2l-1.5,-0.2l-1,1.1l-1,0.2l-2,-1.1l-1,0.6l-2,-0.2l-3,-1.9l-0.6,0.5l1.6,2.6l1,0l3,3.1zM150.7,-64.5l-0.2,-1.4l-1.2,1.4l0.2,0.7zM84.2,-62.5l0.6,-1l-1.3,-1.2l-0.7,0.2l-0.1,2l0.8,0.6zM19.3,-56.5l2.2,-2l0.4,-1l-1.2,-1l-0.2,-3.2l-0.7,1.2l0.3,2l-2.6,3l0.1,1l0.9,0.7zM91.2,-62.5l-0.7,-1l-1,1l1,0.4zM102.8,-59.5l2.1,-2l-1.4,-1.7l-1.6,0.7l0.1,2l-0.5,0.9l-0.7,-0.9l0.4,-1l-0.7,-0.6l-1,0.1l-0.2,0.5l1.2,1.6l2,0.7zM120.4,-59.5l0.1,-1l-1,-0.6l-1,0.6l1,1.9zM158.5,-51.4l-2.2,-1.1l-1.3,-2l1.9,-3l1.6,-0.6l2,1.1l1.4,1.5l-1.4,3l-1,1zM-85.8,-47.5l-0.7,-0.3l-2.4,0.3l0.4,0.7l2,-0.2zM-99.5,-44.7l-0.9,-0.8l0.9,-0.6l0.7,0.6zM-81.2,-44.5l-0.7,-1l-1.6,0l1,1.2l1,0.2zM135,-37.5l3,-2l0.4,-3l1.7,-3l-0.6,-0.9l-4,3.9l-2,1.3l-2,0.4l-1.3,1.3l0,1l1.3,1.6l3,-0.2zM-86.5,-42.5l0,-2.4l-1,1.1l-0.1,1.3zM32.9,-43.5l-1.4,-1.6l-1.8,1.6l0.8,0.8l1,0zM32.6,-37.5l0.8,-1l-2.9,-0.6l-0.9,0.6l0.9,1.3l1,0.3zM54.5,-35.6l-4,-0.1l-2.4,-1.8l1.4,-1.2l2,1l3,-0.5l0.8,1.7zM-100.5,-29l-1.2,-0.5l-0.4,-1l2.6,-2.5l1.3,0.5l-1.2,2l-0.1,1zM71.3,-24.5l0.2,-1l-2,0.4l-0.3,0.6l1.3,0.5zM-155.5,-17.9l-1.7,-1.6l1.7,-1.9l1.2,0.9l0.4,1zM24.5,35.5l-4.9,0l-3,-3l0,-1l1.5,-1l0.4,-2l-2.3,-2l-0.4,-2l-2.3,0l-0.5,-3l0.8,-1l-1.5,-1l0.8,-2l0,-1l-0.6,-1.4l-1,-0.6l0.8,-2l-0.1,-2l-0.7,-1.5l-0.2,-2.5l-3.5,-5l0.3,-3l-0.6,-0.9l-3,-1.7l-2,-0.3l-4,1.2l-7,0l-4.8,-3.3l-4.2,-5.5l0,-2.2l1,-1l1,0.3l3,-1.5l5,2.2l1,0l2,-0.9l10,0.7l4,-1.1l8,1.7l2,0.8l1,-0.8l3,-1.2l4,2.1l1.9,-0.6l3.1,-2.3l0.9,0.3l-0.2,1l1.3,0.5l0.5,-0.5l-0.1,-1l0.6,-0.2l3,0.6l2,1.6l0.6,1l-0.2,2l1.1,2l0.3,2l-1.8,0.9l-3,2.9l-1.3,0.2l0.1,1l1.4,2l-0.2,2.1l3.2,1.9l-0.1,3l1.2,5l-0.6,4l-4.6,4l-0.1,4l-2,2l-2,4l-4,3.8zM92.5,-10.3l-1,-1.2l0,-2l1,-0.9l1,0l0.8,0.9l-0.1,2zM47.5,-4.1l-2.3,-2.4l-1.1,-2l1,-1l1.4,0.2l0.8,0.8l-0.7,2l1.6,1zM120.8,-7.5l0.6,-1l-0.9,-0.6l-1.5,1.6l0.5,0.6l1,0zM45.5,-2l-0.4,-1.5l0.4,-0.5l1,0.2l0.3,0.3zM33.6,1.5l-0.1,-1l-1,0.5l0,0.8zM46.5,26.6l-2,-0.1l-1.2,-1l-0.8,-2l-0.1,-3l0.5,-1l-0.4,-2l5,-5.3l2,-1.2l1,0.6l1,1.9l0.1,3l-2.1,7.4l-1.2,1.6zM168.5,17.9l-1,0.2l-2.4,-2.6l0.2,-1l1.2,-1.1l1.6,1.1l1.6,2zM178.5,19.9l-1,0l-1.3,-1.4l-0.1,-1l1.4,-1.5l1,-0.1l1,0.6l0.4,1l-0.1,1zM24.9,27.5l0,-6l0.6,-0.3l0.6,-2.7l-1.6,-0.6l-5,0.3l-2,-0.6l-1.3,0.9l-0.2,2l1.5,2.2l3,-2l3.5,1.8l-3.2,1l-0.4,1l0.1,0.4l1,-0.7l1,0l0.9,1.3l-0.3,2l1.4,1zM167.5,23.9l-2,-0.2l-2.3,-2.2l-0.4,-1l0.7,-1.6l1,-0.3l4,3.4l0.3,0.5zM23.1,32.5l0.7,-1l-0.3,-1.2l-1.6,2.2zM118.5,35.8l-1,0.6l-1,-0.2l-2.3,-1.7l0.3,-3.5l1,-0.9l1,-0.1l2,1.2l1.5,2.3l0,1zM169.5,47.5l-2,-0.6l-1.4,-1.4l0.4,-1.1l5.9,-4.9l0.5,-2l-1.2,-3l0.8,-0.7l4,2.1l2,0.5l1.1,1.1l-0.1,1.1l-1,1.6l-2,1.8l-2,0.8l-3.1,3.7zM-70.5,55.2l-2,-0.7l-2.2,-3l0.3,-2l-1.4,-2l1.1,-3l-0.5,-4l0.8,-3l0.9,-1.2l3,0.6l0.4,0.6l-2.4,8l1.8,6l1.7,2zM69.5,50.6l-1.2,-1.1l0.1,-1l1.1,-0.8l1.1,0.8l0.3,1zM-68.5,50.3l-1.2,-0.8l0.2,-0.7l1,0.2zM-67.5,55.5l-1,0.5l-1.2,-0.5l0.4,-1l0.8,-0.5z"/><path fill="#32ac39" d="M92.5,-70.8l-1,0.3l-0.7,-1l-0.1,-1l0.8,-0.7l1.4,0.7l0.2,1zM101.5,-64.1l-1,-1l-3,0.2l-2,-1.1l-1,1.1l-0.9,-0.6l0.2,-1l1.7,-1.3l1,0l0.9,-0.7l0.1,-0.9l1,-0.2l2,-1.9l1,2.9l1,0.5l0.7,-1.4l2.3,-2l2,2.5l3,-1.9l3,0.4l2.3,1l-1.3,1l-1,-0.6l-1,0.4l-1,1.6l-1,-1.1l-2,1.2l-3,-1.4l-0.5,1.9l-1.5,1.5l-1,-0.5zM124.5,-68.1l-1,-0.1l-3.1,-2.3l2.1,-0.9l2.4,1.9l0.2,1zM140.5,-66.9l-1,-0.1l-0.8,-2.5l0.1,-1l1.7,-0.3l0.5,0.3l0.3,2zM143.5,-68.7l-1.4,-0.8l1.4,-1l0.6,1zM91.5,-67.2l-1,-0.3l0.7,-1l0.3,-2l1,2zM118.5,-68.2l-1.1,-1.3l1.1,-0.4l0.5,0.4zM128.5,-67.1l-0.5,-0.4l0.5,-1.1l2,-1.1l2,-0.3l0.7,0.5l-2.7,1.6l-1,-0.2zM150.5,-60.4l-3,-1.4l-1,-2.5l-1.5,0.8l-4.5,1.1l-3.1,-2.1l1.1,-1.8l2,0.2l1,1l2,0.3l3,-0.5l-0.9,-1.2l0.9,-1.8l1,0.4l0.7,-1.6l1.3,-0.8l2,0.2l1.2,1.6l0,1l-1.2,-0.5l-1.9,0.5l-1.4,1l0.1,2l1.2,2.3l1,-0.5l1.2,0.2zM76.5,-67.3l-1,0.1l-0.4,-1.3l0.8,0zM18.5,-63.5l-2.6,-2l1.6,-1.1l1,0.7l3,-1.6l1.2,1l0.3,1l-1.5,0.8l-2,-0.2zM63.5,-65.4l-2,0.1l-1.3,-1.2l1.3,-1.6l1,-0.1l1.3,1.7zM87.5,-64.7l-2,0.1l-1,-0.5l-0.9,-1.4l0.8,-1l2.1,-0.7l1.4,1.7l0.2,1zM170.5,-62.5l-3.4,0l-2.6,-0.8l-1,0.3l-1.2,-0.5l-0.2,-1l2.4,-0.9l1,-1.5l3,0.5l1,-0.6l1,0.2l1,-0.8l0.8,1.1l-0.4,2zM-60.5,40.5l-1.1,0l-0.9,-1.1l-2.3,-0.9l-0.3,-1l-2.4,-1l-0.6,-1l2.7,-9l-0.1,-3l-1.9,-5l-1.3,-2l-1.1,-1l-3.7,-1.7l-4.8,-6.3l-0.2,-2l-2,-1.3l-0.4,-1.7l0.5,-4l1.5,-3l-0.6,-1.2l-4,-1l-5,-4.9l-4,-1.3l-3,-2.3l-2,0.6l-3,-1.1l-4,-2.5l-2.1,-2.3l-2.9,-6l-1.6,-2l1.6,-1.7l1,0l0.8,0.7l1.8,2l3,6l1.4,1.3l1,0.2l1.1,-1.5l-0.7,-3l1.6,-1.2l1.4,1.2l0.9,3l1.7,1.9l2,0l1.4,-1.9l1.6,-1.1l2,0.1l1,0.7l2,-1.8l3.2,-0.9l-1.2,-1.1l-1,-2l-2,-1.4l-2,0l-2,0.6l-5,-0.3l-1,-0.8l-1.1,-2l-0.3,-1l0.8,-6l2.3,-3l0.3,-2l1.3,-3l-1.3,-1.7l-3,0.6l-1,-1.2l-1,-0.4l-1,0.8l-3,0.2l-2,-1.2l-4,0.7l-2.6,1.2l0.6,2l-0.7,2l-2.3,1.2l-2,-0.7l-2.6,-2.5l0.5,-2l-0.3,-1l-1.7,-2l-1.9,2.2l-0.5,4.8l0.5,2.5l3.7,5.5l0.2,1l-0.9,0.7l-4,-2.4l-2.2,-3.3l-0.4,-4l0.4,-1l-0.8,-3.5l-3,-2.2l-4.6,-5.3l-2.4,-1.6l-1.8,-0.4l-1.2,-0.9l-2,-0.6l-3,0l-4,-0.7l-2,0.4l-1,0.6l-4,-1.6l-1,0.4l-1,-0.5l-2.7,-0.1l-1.1,-1l0.8,-0.4l2,-2.9l5,0.7l1,-1.7l1,-0.3l4,-0.7l1,0.5l4,-0.3l4,1.1l1,0.8l3,-0.7l1.1,0.9l3.9,0.1l2,2.8l3,-1.3l1,0.4l2,2.2l2,-0.9l2.5,1.7l-0.7,2l0.2,1.1l1.2,-1.1l2.8,0.2l3,-0.8l2,0.3l3,-0.4l3,1.4l2,0l4,1.5l1.3,0.8l0.1,1l1.1,0l2.5,-1.5l2,1.6l1,1.6l1,-0.2l2,0.6l4,-1.6l5,0.2l2,-0.6l3,0.8l3,-1.5l2,0l1.8,0.6l0.2,1.3l3,-0.6l3,0l2,1.2l1,0l1,1l1.5,3.1l-0.5,1.3l-2,0.7l-3,-0.9l-1,0.1l-1,0.6l-2,0.1l-1,1l-2,-0.5l-1.7,0.6l-2.3,1.5l-2,2.5l-2,1.1l-1.8,1.9l-0.2,2l-3.1,3l-0.9,0.3l-1,1.7l0.5,4l-1,2l1.5,0.5l2,-0.1l0.2,0.6l2.8,2.6l4,0.3l2,1l2,0.1l1.1,1l-0.4,1l-1.7,0.8l-3,-0.6l-3,0.5l-3,-0.5l-2,0.6l-1.6,-0.8l-0.3,-1l0.9,-1l-4,-1.2l-3,0.2l-0.7,1l-0.4,2l2.1,0.4l2,1.2l0.7,1.4l0.1,3l1.2,0.6l2,-0.1l2,0.5l3,-2l1.3,0l0,1l0.7,0.3l1.5,-0.3l0.5,-1.1l4,0.9l3,0l1,-0.4l1,0.3l1.5,2.3l1.5,1.2l5,1.5l2.4,2.3l2.6,3.5l1.5,0.5l1.5,1.5l4,0.6l4.1,1.9l2.8,3l0.1,2l-3.3,5l-0.6,4l-2.1,4.8l-2.6,2.2l-2.4,0.4l-2,1.4l-0.8,2.2l-4.2,5.2l-6.7,5.8zM116.5,-65.5l-3,0.9l-0.3,-0.9l1.3,-1.6l1,-0.2l1.6,0.8zM123.5,-63.3l-1,0.7l-2,-1l-2,0.2l-0.3,-1.1l0.3,-0.9l1,0.1l1,-1.2l1,-0.1l0.5,1.1l1.8,1zM148.5,43.7l-1,0.6l-2,-0.4l-1.4,-2.4l-0.1,-1l-3.9,-2l-0.7,-2l2.1,-2.1l4,0l2.1,-2.9l0.8,-2l0.4,-3l-2.1,-3l-2.1,-2l-0.1,-2.2l-3,0.1l-3,1.1l-3,-1.7l-4,-1.6l-2,0.8l-5,0.6l-1.7,-2.1l1.7,-1.9l4,-1.1l2,-2l2,-1l1,0.3l3,-0.3l1,1l0,3l2,1.8l1,-0.8l0,-3l0.6,-1l-0.3,-1l-3.3,-0.8l-1.3,-1.2l0.4,-1l-0.8,-1l-3.3,-0.7l-1,-0.7l-1,0.3l-3,-0.3l-1,0.6l-1,-0.4l-1.8,1.2l0.8,0.8l3,-0.1l1.1,1.3l-2.1,2.5l-2,0.6l-2,-0.6l-3,0.3l-1,-0.5l-10,-1.1l-3,-0.8l-6,-5.9l-2.7,-4.5l-2.7,-3l-0.3,-1l0.7,-1.1l3,-0.9l0.1,-6l-0.6,-1l-2.5,-0.3l-0.8,-0.7l-0.4,-3l-2.4,-3l-0.4,-1.4l-1,1.7l-2,0.8l-6.1,5.9l-0.4,4l0.5,0.1l1.1,1.9l0.1,2l-1.2,1.5l-1,0.2l-1.2,-0.7l-0.8,-2.3l-2,0.1l-0.9,-0.8l-3.9,-9l-0.2,-2.6l-1,-1.6l-1.4,-0.8l0.4,-0.5l1,0.4l1,-1l0.9,-1.9l-0.2,-1l1.3,-2l-1.2,-2l2.1,-1l-1.5,-2l0.5,-1l1.1,-0.6l3.1,2.6l5.9,3.4l7,0.8l5,-1.3l1,0.1l2,1.7l3.8,-3.7l0.2,-3l2,-3.5l9,-4.8l3,0l1,-0.5l1,-1.8l2,-0.9l0.4,-0.5l0.1,-2l-1.5,-2.2l-2,-1.1l-1,1.4l-2,-1.5l-0.7,0.4l-1.3,2.1l-2,-0.4l-2,-1.3l-1,0.3l-1,-0.6l-2,1.3l-3,-0.9l-1,0.2l-3,-0.6l-3,0.6l-3,1.3l-3,0.3l-2,-1.7l-3,0.9l-3,-1.1l-3,-2.5l-3,0.7l-2,-0.5l-1,0.6l-2,-0.9l-2,1.4l-1.1,-0.2l-0.9,-1.5l-1,-0.2l-4,3.7l-1,0.3l-2,-0.9l-2,0.1l-4,1.2l-2,-0.1l-2,1l-1.6,1.4l-0.4,1l4.3,5l-1.3,1.4l-3,0.3l-2,1.2l-1,0l-1,-1.4l-2,0.4l-2,3.4l-3,-0.4l-0.4,-0.9l0.4,-1l2,-0.5l0,-0.5l-2,-0.4l-1,-1l-2,1l-3.4,0.4l1.4,2.8l1,0.3l-3,0l-2,0.9l-2,-1.4l-2,0.1l-1,-0.7l-1,-1.8l-1,-0.2l-2,1.3l-1,-0.3l-3,-3.9l-2.9,-1.1l-0.1,-0.8l-2,1.6l-2.1,0.2l-0.9,-0.6l-1,0.3l-0.2,1.3l-2.5,3l-0.2,1l0.9,1.1l1,0.1l0.8,0.8l-2.8,0.6l-3,-0.8l-3,2l-2,2l-1,0.3l-0.6,-1.1l1.1,-2l-2.5,-3l0,-5l2,-1.5l5,-0.7l0.6,-0.8l-1,-1l-0.2,-1l0.9,-2l-2.3,0.1l-4.7,-2.1l-0.6,-1l0.5,-2l0.8,-0.5l2,-0.3l1,-2.9l3,-1.3l1.9,1l1.1,3.4l3,2.4l1,0.1l3.6,-0.9l1.4,-2.5l1,-0.3l2,1.1l0.7,-0.3l-1.1,-2l0,-1l2.4,-3l-0.4,-2l1.4,-0.6l2,3.3l2,-1l0.2,0.3l0.4,1l-0.6,1l-2.1,2l0.3,1l1.8,0.9l2.8,-1.9l0.6,-1l0.4,-1l-0.5,-2l0.7,-1.5l1,-0.5l1,1.2l1,0.2l0.4,-0.4l-0.1,-1l-1.3,-0.4l-0.6,-1.6l1.6,-0.6l1.4,0.6l1,1l-0.3,1l0.8,2l-1.1,1l1.2,0.5l1,-1.5l2,-1.4l1,-1.8l4,-1.5l2,0.8l3,2l1,-0.8l2,-0.4l3,1.2l2,-0.3l3,0.5l1,-0.8l3,0.9l4,-0.1l4,1.8l2,0l2,-1l1,0.3l1,1.1l2,-1l4,-0.1l3,0.5l1.2,1.1l0.8,1.7l0.4,-1.7l4.6,-1.7l1,0.9l4,1.1l3,-0.9l3,0.2l3,2.2l2,0.4l2,-1.9l1,-0.4l1,0.4l1,-0.9l1,0.7l0.3,0.9l-0.3,0.8l-2,1l-1,-0.4l-0.4,0.6l0.4,0.6l2,-0.2l1,-0.9l1,0l3,0.3l1,0.9l1,0.1l2,-1.7l5,0.7l1,-1.6l1,-0.2l3,1.9l1,0.1l4,-1.5l0.3,1.5l1.7,2l1,-0.3l2,1.2l2,0.3l2,1.5l1,-1.6l1,-0.4l1,0.2l1.2,1.1l0.9,4l-0.9,3l1.8,3l-1,2l-1.4,1l-1.8,5l-2.5,2l-2.3,0.3l-1,1l-2,0.1l-2.1,1.6l-1.9,0.3l-1,-0.5l-2,-2.7l-2,-0.8l-1.3,-3.3l0.2,-1l-0.9,-1.3l-2,-0.3l-1.7,1.6l-0.4,1l1.5,1l-1.1,2l0.4,1l2.2,2l0.3,1l-0.2,2l-0.9,2l1.5,2l-0.6,2.3l-1,1l-1,-0.2l-1.1,-2.1l-0.9,-0.5l-3,2.5l-2,0.2l-1,0.7l-0.7,2.1l-2.6,2l1,3l0,2l-0.7,1l-4,2.7l-4,-3.7l-0.7,2l0.6,2l2.1,0.7l1.4,1.3l1.1,4l-0.5,1l0.3,1l2.7,4l1,0.2l-0.1,-1.2l-2.1,-3l0.3,-2l1.9,-2.2l3,-1.3l2.9,-2.5l3.2,-5l-0.4,-3l0.5,-3l1.8,-1.5l1,-0.2l2.4,1.7l0.1,3l3.2,3l0,2l0.8,3l-0.5,1.5l-2,1.9l-2,-1l-2,-0.2l-1.5,1.8l0.5,0.6l4,0.3l3,-0.8l2,0.9l1,1l1,0.3l1,-0.4l2,0.8l1,1l3,-0.1l4,1l5,2.9l1.3,-0.5l0.2,-1l1.5,-1.3l1,0l5,4.1l4,2.1l2.3,2.1l0.2,1l-1.5,1.2l-4,-2l-4,-2.8l-1,0l-1.6,1.6l1.6,2l-1,1.3l-1,0.3l-2,-0.3l-3,-1.8l-1,0l-0.5,0.5l2.8,5l1,3l5.7,6l1,2l-0.3,5l-2.1,3l-0.7,3l-0.9,1l-2.6,1l1.3,2l0,1zM74.5,-64l-1,0.4l-1,-0.9l0.9,-1l1.1,-0.2l0.4,1.2zM159.5,-63.4l-2.2,-0.1l0.4,-1l2.8,-0.6l0.5,0.6zM9.5,-59.8l-2,0l-2,-1.7l0.3,-1l0.7,-0.5l1,0.1l1,0.7l1,0l0.7,0.7l0.2,1zM78.1,-55.5l-0.6,-1.3l-1,0.6l0.1,-2.3l-1.1,-0.3l-2.8,2.3l2.8,1.8zM69.9,-55.5l-0.4,-1.3l-1,-0.1l0,1.8l1,0.5zM158.5,-51.9l-2.1,-1.6l0.6,-2l1.5,-1.7l2.4,1.7l-1.4,3zM110.7,-53.5l0.2,-1l-0.4,-1.1l-0.5,0.1zM-105.4,-53.5l0.5,-1l-0.6,-0.4l-1.1,0.4l0.1,1.6zM-96.3,-50.5l0.2,-1l-1.4,-2.9l-1,0.9l1,2.8zM-66.2,-48.5l2.7,-1l0,-1.5l-2,0.9l-1.1,1.6zM135,-37.5l3.1,-2l0.4,-3.1l2,-3.8l0.6,-0.1l-0.2,-2l0.9,-1l-0.3,-0.8l-1,-0.2l-0.7,1l0.5,2l-4.9,5l-1.9,1.2l-2,0.4l-1.4,1.4l0,1l1.4,1.6l3,-0.1zM-86.4,-46.5l1.1,-1l-1.2,-0.7l-3,0.7l-1,1l1,0.5l2,-0.6l1,0.4zM-80.7,-44.5l-0.8,-1.3l-2,0l-0.4,0.3l1.4,1.5l1,0.4zM-86.3,-42.5l0.5,-2l-0.7,-0.9l-1.1,0.9l-0.2,2l0.3,0.3zM33.2,-43.5l-1.7,-1.7l-1.8,1.7l0.8,0.9zM-107.5,-35.8l-2.2,-1.7l0.2,-2.8l1,0l1.9,1.8l0.1,1zM54.5,-36l-4,-0.1l-1.8,-1.4l0.8,-0.6l3,1.2l2,-0.7l0.4,1.1zM8.5,-36.4l-5,0.8l-1,-0.9l1,-1l1,0l4.7,1zM-108.5,-34.1l-1.2,-0.4l1.2,-1.5l1,1.5zM71.5,-27l-0.6,-0.5l0.6,-1.2l0.5,1.2zM-155.5,-18l-1.6,-1.5l1.6,-1.8l1.1,0.8l0.3,1zM21.5,35.5l-1.1,0l-1.3,-1l0.4,-0.6l3,-0.5l1.5,-0.9l0.6,-2l-0.1,-0.6l-2.9,-0.4l-0.9,-1l1.8,-0.4l1,1.3l1,0l0.9,-0.9l1,-5l-0.4,-2l1,-3l-2.5,-1.1l-9,0l-1,-0.4l-1,-0.9l-1.3,-2.6l0,-3l-0.7,-1.9l-0.1,-2.1l-3,-4l-0.5,-2l0.3,-2l-0.7,-1.1l-3,-1.5l-2,-0.4l-4,1.2l-7,0l-4.7,-3.2l-4.3,-5.8l0,-0.6l1,-0.4l1,0.3l1,-0.3l1,-1.8l1,-0.6l3.9,2.2l1.1,0.2l3,-1l3,-0.1l2,0.8l7,0.7l1,-1.5l1,0l6,0.7l1,1.4l1,0.3l2,-0.2l4,-1.7l4,1.6l4,-1.4l3,0.4l3,-1.3l2.3,1.1l0.7,1l0,2l1.1,3l-0.5,1l-3.6,3.4l-2.2,0.6l1.8,3l0.4,2.6l2.9,1.4l0.2,3l1,5l-0.4,3l-1.1,2l-3.6,2.8l-0.3,4.2l-1.8,2l-2.9,5l-3,2.6l-3,1.1zM92.5,-10.4l-0.9,-1.1l0,-2l0.9,-0.9l1,0.1l0.7,0.8l-0.1,2zM120.8,-7.5l0.6,-1l-0.9,-0.7l-1.5,1.7l0.5,0.7l1,0zM33.8,1.5l-0.3,-1.2l-1,0l0,2l1,-0.1zM46.5,26.6l-2,-0.2l-1.1,-0.9l-0.8,-2l-0.1,-3l0.6,-1l-0.4,-2l0.5,-1l4.3,-4.2l2,-1.2l1,0.6l0.9,1.8l0.2,3l-2.1,7.3l-1.3,1.7zM168.5,17.9l-1,0.1l-2.3,-2.5l0.2,-1l1.1,-1l1.5,1l1.6,2zM178.5,19.9l-1,-0.1l-1.3,-1.3l-0.1,-1l1.4,-1.4l1.9,0.4l0.5,1l-0.1,1zM167.5,23.8l-2,-0.2l-2.3,-2.1l-0.3,-1l0.6,-1.5l1,-0.3l4,3.4l0.3,0.4zM21.5,31.6l-1,-0.9l0,-0.6l1,0.1zM117.5,36.1l-3.1,-1.6l0.1,-3l1,-0.9l1,0l2,1.4l0.9,1.5l0,1zM18.5,33.9l-0.8,-1.4l0.8,-0.9l0.8,0.9l-0.2,1zM136.5,35.1l-1,0.1l-0.6,-0.7l0.6,-0.4l1,0.3zM170.5,46.9l-2,0.2l-2.2,-1.6l0.3,-1l5.9,-4.8l0.4,-2.2l-1,-3l0.6,-0.5l4,2l2,0.5l1,1l-0.5,2l-2.5,2.4l-1,0.6l-1,-0.1zM-71.5,54.5l-2.4,-3l0.3,-2l-1.9,-2l0.8,-3l-0.1,-4l0.6,-3l0.7,-0.8l1.8,0.8l0.1,1l0,2l-1,2l-0.2,3l1.3,6l1.2,2zM69.5,50.5l-1.1,-1l0.4,-1l0.7,-0.4l1,0.4l0.1,1z"/><path fill="#53b84a" d="M99.5,-66.4l-0.2,-1.1l1.2,-0.6l0,1.4zM-118.5,-34.2l-2,-1.5l-1.9,-0.8l-2,-3l-0.4,-4l0.4,-1l-1.1,-4l-3,-2l-5,-5.4l-2,-1.3l-1.5,-0.3l-1,-1l-2.5,-0.8l-3,0l-3,-1l-4,1.3l-4,-2.1l-1,0.5l-2.3,-1.9l0.3,-0.9l3.2,-0.1l1.8,0.9l0.2,-0.9l1.8,-1.5l2,-0.3l1.1,1.8l-0.5,1l1.4,1.4l1.7,-1.4l0.5,-2l0.8,-0.7l3,-0.7l4,1.9l3,-0.3l1,0.8l3,-0.5l0.9,0.5l0.5,2l2.3,1l0.3,1.9l1,0.3l0.4,-2.2l0.6,-0.5l2,1.2l1,0.2l1,-0.5l2.5,0.6l-0.7,2l0.2,1l1,1l1,0l1,-1.4l3,0.5l2,-0.9l4,0.4l1,-0.6l6,2.6l0.2,0.4l-0.8,1l0.5,1l-1,1l1.1,-0.9l0,1.9l-1,1.3l-3,0.1l-1,-1.2l-5,0.6l-1,-0.6l-1,1.1l-2.2,0.7l-1,3l1.2,-0.3l0.2,1.3l-0.4,1l-0.8,0.6l-1.6,-0.6l-2,-2l1.2,-2l-0.6,-1.4l-1,-0.2l-2,-2.2l-2,1.3l-0.5,1.5l-0.2,6l0.7,2.1l2.3,2.9l1,2l0.1,1zM167.5,-64.4l-1.1,-0.1l0.1,-1.1l1.2,0.1zM-7.5,-32.3l-0.5,-0.2l-0.1,-1l0.5,-1l-0.3,-1l-2,-2l-0.4,-1l0.4,-4l0.8,-1l7.5,-1l-1.9,-2l1.5,-3l-0.5,-0.5l-3,0.1l-2.1,-0.6l-0.9,-1.3l-1,-0.1l-0.8,-0.6l0.5,-2l2.3,-0.4l0.7,-0.6l0.3,-2.3l1,-0.9l3,-0.3l0.6,0.5l1.2,4l3.2,2l3,-0.4l2,0.4l0.7,-1l-0.2,-1l0.9,-1l0.6,-0.3l2,1.1l1.6,-0.8l0,-1l1.4,-1l1,0.4l1,1.3l1,0.2l1,0.2l2.6,-1.1l1.1,-1l0.7,-2l-0.2,-1l0.8,-0.9l1.2,0.9l-0.2,1.1l1,0.4l1,-1.3l2,1.1l3,-2.6l1.8,-2.7l1.2,0l1,-0.8l1,-0.1l1,1.5l1,-0.1l0.5,0.5l-0.5,0.9l-1,-0.7l-1,0.4l-2,-1.6l0,1.4l1,0.8l3,-0.1l1,1.4l3,-1.1l1,-1.8l4,1.3l2,-0.5l3,0.8l2,-0.7l1.1,0.5l0.5,1l-0.9,1l0.3,1l1,-1l0.1,-1l1.9,-1.3l6,1.9l2,0.2l2,-1l1.3,2.2l-0.3,1.3l-1,-0.1l-2,1.1l-4,-2.8l-0.6,1.5l0.6,1.6l1.3,1.4l-0.3,1l-2,2.4l-2,0.9l-3,-0.8l-6,1.6l-3,-1.1l-1,-2.2l-0.8,1.2l0.6,1l-0.5,1l0.8,1l-1.1,0.8l-0.9,2.2l4.5,5l-0.7,1l-0.9,0.3l-2,-0.2l-2,1.1l-1,-2.6l-1.3,1.4l-3.7,0.9l-4,-1.8l-5,1l-1,-0.2l-1.2,3.1l-0.8,1l-1.7,-1l-0.3,-0.8l-1,0.8l-1,0l-2,-2.4l-3,-1.7l-0.5,0.1l1,2l-0.5,0.7l-1,-0.2l-2.1,-2.5l-0.3,-1l0.4,-0.7l1,0.2l0.2,-0.5l-1.2,-1.8l-1,-0.1l-1,0.7l-1,-0.4l-1,-1.4l-1,-0.1l-0.5,1.1l-2.5,2l-1,-0.5l-1.6,0.5l-0.4,3l-3,-0.3l-1,-1.2l-1.5,0.5l0.5,0.9l1,-0.3l0.4,0.4l0.1,1l0.9,1l-2.4,1l-0.8,-1l0.2,-1l-1.4,-0.6l-1.3,1.6l-0.2,3l0.8,1zM15.5,-59.2l-2,0.2l-0.3,-0.5l1.3,-1.9l1.2,0.9zM52.5,-59.5l0.7,-1l-0.7,-0.7l-0.6,0.7zM73.5,-57.6l-1,-0.2l0,-2.1l1,-0.5l1,0.6l2,-1.1l0.6,0.4l0.1,1l-1.7,0zM80.5,-55.6l-1,-0.3l-1.6,-1.6l0.6,-1.9l1.2,-0.1l1.6,2l0.2,1zM91.5,-50l-3,0.2l-2,-2.7l-3,-1l-1,-2.9l-0.6,-0.1l0.6,-0.2l1,-3l2,-0.3l2,0.3l1,-0.6l2,0.7l3,0.2l1,1.2l0.7,-0.3l0.3,-1.8l2,2.9l1,-0.7l5.3,0.6l-1.6,2l-2.2,1l0.1,3l-0.6,0.1l-1,-0.6l-1,0.1l-5,1.2zM-126.8,-54.5l0.4,-1l-0.9,-1l-0.1,-2l-1.1,-0.5l-0.6,0.5l1.5,2l0,2zM85.2,-58.5l-0.7,-0.9l-0.9,0.9l0.9,0.4zM71.5,-54.7l-1,-1l0,-1.8l1.4,1l0.1,1zM143.5,39.7l-2,-0.3l-1.2,-0.9l-0.2,-1l1.2,-2l1.2,-0.8l2,0.2l3,0.8l1,0.8l1.1,-1l0.3,-1l-0.4,-0.4l-1,1l-1.1,-1.6l2.3,-4l0.8,-0.6l1,0.6l0.2,-2l-0.2,-0.5l-1,1l-0.5,-0.5l-2.1,-3l-0.2,-2l-1.2,0l-1,-0.9l-1,-2.9l-1,-0.3l-4,1.1l-0.9,-1l0.9,-1.3l1.3,-0.7l0.5,-1l-0.6,-3l0.5,-1l-0.2,-1l-3.5,-0.9l-1.2,-1.1l0.4,-1l-0.9,-1l-3.3,-0.8l-1,-0.7l-1,0.3l-3,-0.3l-1,0.6l-1,-0.3l-1.8,1.2l0.8,0.8l3,0l1.1,1.2l-2.1,2.4l-2,0.7l-2,-0.6l-3,0.2l-6,-1.1l-5,-0.4l-3,-0.9l-6,-5.8l-2.6,-4.5l-2.8,-3l-0.2,-1l0.6,-1l3.1,-1l0.1,-6l-0.3,-1l-2.9,-0.5l-0.6,-0.5l-0.4,-3l-2.2,-3l-0.8,-2.1l-0.6,0.1l-1,2l-1.4,0.7l-6.6,6.3l-0.3,4l0.9,0.2l1,1.8l0.2,2l-1.2,1.4l-1,0.2l-1,-0.5l-0.7,-1.1l-0.3,-2l-2,0.7l-1.8,-2.7l-2.8,-7l-0.2,-3l-0.6,-1l0.1,-1l2.6,-5l0.1,-3l0.9,-1l-1.5,-2l0.7,-1l0.5,-0.3l3,2.5l6,3.5l4,0.7l3,0l5,-1.2l1,0.1l2,2.1l4,-4l0.5,-3.4l1.6,-3l0.9,-0.7l2,-0.6l6,-3.5l4,0l1.3,-2.2l2.6,-1l0.4,-3l-1.6,-2l-0.5,-2l0.8,-1.5l2,0.4l1,-1.8l1.5,-0.1l-0.5,-0.4l-1,0.2l-0.6,-1.8l0.6,-0.6l2.2,0.6l0.4,1l-0.2,1l1.6,1.5l1,-0.2l2,-2.1l2,2.1l6,0.4l1.7,2.3l-0.9,2l0.4,2l-0.8,1l-3.6,4l-1.8,1.2l-2,0.3l-1.6,1.5l0.1,1l1.5,1.7l3,-0.1l3.7,-2.6l0.3,-2.9l0.9,-2.1l1.1,-1.6l1.2,-0.4l0,-2l0.6,-1l-1.3,-3l0.2,-1l1.3,-0.9l1,0l1,0.7l0.9,4.2l-0.8,3l1.7,3l-0.8,1.8l-1.5,1.2l-1.8,5l-2.5,2l-2.2,0.3l-1,0.9l-2,0.1l-2.4,1.7l-1.6,0.2l-1,-0.6l-1,-1.9l-3.1,-1.7l-0.8,-3l0.2,-1l-1.3,-1.9l-2,-0.2l-1,0.5l-2,1.6l0,1l1.5,1l-0.8,2l1,2l1.7,1l0.6,1l-1.1,4l1.5,2l-0.4,2.1l-1,0.9l-1,-0.1l-0.8,-0.9l-0.2,-1.5l-1,-0.4l-1.7,1.9l-4.3,1.6l-0.7,2.4l-1.3,1.1l-1,0l-0.6,0.9l1.3,4l-0.8,2l-3.9,2.5l-4,-3.7l-0.8,2.2l0.6,2l2.2,0.8l1.3,1.2l1.1,4l-0.4,1l0.2,1l2.7,4l1.1,0.2l-0.1,-1.2l-2,-3l0.3,-2l1.8,-2.2l3,-1.3l2.9,-2.5l3.3,-5l-0.5,-3l0.5,-3l1.8,-1.4l1,-0.1l2.4,1.5l0,3l3.2,3l0,2l0.9,3l-0.5,1.4l-2,1.9l-2,-0.9l-2,-0.3l-1.5,1.9l0.5,0.7l4,0.3l3,-0.8l2,0.8l1,1.1l1,0.3l1,-0.4l2,0.7l1,1l3,-0.1l4,1l5,3l1.4,-0.6l0.1,-1l1.5,-1.3l1,0.1l5,4.1l2.7,1.1l3.5,3l0.3,1l-1.5,1.1l-4,-2l-4,-2.7l-1,0l-1.6,1.6l1.5,2l-0.9,1.3l-1,0.3l-2,-0.4l-3,-1.7l-1,0l-0.6,0.5l2.8,5l1,3l6.3,7l0.5,3l-0.5,3l-2.1,3l-0.7,3l-0.7,0.9l-3,1l-2,-0.2zM118.5,-53.4l-2.1,-1.1l1.1,-1.9l1,-0.7l0.9,0.6l0.6,2zM-105.8,-51.5l0,-1l1.6,-2l-0.3,-0.7l-1,-0.6l-1.8,1.3l-0.3,1l0.2,2l0.9,0.8zM104.5,-51.4l-2,0.2l-0.6,-0.3l-0.5,-1l1.1,-1.7l2,0.3l0.7,-0.6l-0.3,-1l0.6,-0.3l2,0.1l2.2,1.2l-0.3,1l-0.9,0.4l-1,1.5l-1,-0.5zM112.5,-52.1l-0.6,-0.4l0.6,-3.3l2,-0.2l0.8,0.5l-0.4,1zM-123.1,-51.5l1.2,-2l-1.6,-1.2l-1.8,2.2l0.8,1.4zM-95.5,-52.8l-1,-0.3l0,-1.5l1.1,0.1l0.3,1zM93.7,-53.5l-1.3,-1l0.1,1.1zM-80.5,-24.6l-1.6,-0.9l-1.4,-2.5l-2,-1.1l-5,0.5l-3,-0.5l-1.3,-0.4l-1.2,-2l-0.3,-1l0.8,-6l2.1,-2l0.9,-3.7l1,-1.2l2,0.1l2,-0.9l0.7,0.7l-1.2,1l-0.1,2l0.6,0.6l1,-0.1l1.2,-2.5l0.4,-3l-1.6,-1l-5,1.5l-0.5,-0.5l-0.5,-1.9l-3,1.3l-1,-0.2l-0.7,-1.2l1.4,-1l0.3,-1.5l1,0.2l1,-0.6l2,0.5l1,-0.6l-0.7,-1l0.7,-0.8l2.2,2.8l1.8,1l3,-0.5l1,-0.7l1,0.5l1,-1.1l0.7,0.8l-0.4,1l1.7,1.6l1.5,-1.6l-0.8,-1l0.3,-0.3l1,0.3l3,-1.1l1,0.1l1.5,1l0.5,1.3l1,0.1l1.4,-1.4l-0.6,-1l1.2,-0.6l2,0l0.9,0.6l-1.9,2l-0.7,2l0.7,1.1l1,0l0.8,-1.1l3.1,-1l-0.9,-0.2l-0.4,-1.8l0.4,-0.4l2,-0.3l2,0.5l1,-0.2l3.9,1.4l-0.3,1l1.3,2l-0.2,1l-0.7,0.3l-1,0.3l-1.7,-0.6l-0.3,-0.5l-3,0.7l-2,-0.6l-1.4,1.4l-2.6,0l-2,1.1l-6.9,6.9l-0.1,1.5l-0.9,1.5l-3.8,3l-0.4,1l0.3,4zM82.5,-51.7l-2,-0.3l-1.5,-1.5l0.5,-0.7l2.6,0.7l0.8,1zM110.5,-50.3l-0.6,-1.2l0.1,-1l0.5,-0.2l1.3,1.2zM83.5,-50.4l-0.8,-1.1l0.8,-0.3l0.8,1.3zM-72.2,-49.5l-1.3,-1.7l0,1.4zM-57.4,-48.5l-0.2,-2l-0.9,-0.7l0,2.7zM23.8,-45.5l-0.3,-1.2l-1.1,0.2l0.2,1l0.9,0.5zM-80.6,-42.5l-0.4,-1l0.5,-0.5l1,0.6l1.2,-0.1l-1.2,0l-2,-2.6l-2,-0.1l-0.7,0.7l2.2,2l0.4,1zM33.5,-43.5l-2,-1.8l-1.9,1.8l0.9,1l2,-0.3zM34.8,-42.5l1.7,-0.1l0.6,-0.9l-0.6,-0.6l-2.5,0.6zM-107.5,-37.1l-1.3,-1.4l0.3,-0.3l1,0.3zM-59.5,39.6l-1,0.5l-1,-0.3l-2.3,-2.3l-3.7,-2l2.3,-9l0.3,-3l-0.6,-2l-2.9,-5l-1.1,-1l-3,-1.3l-2.8,-2.7l-2.6,-4l-0.6,-2.3l-1.8,-1.7l0,-5l1.3,-2l-0.2,-2l-0.3,-0.4l-4,-1l-5,-4.8l-4,-1.3l-3,-2.5l-2,0.7l-3,-1l-4,-2.5l-2,-2.2l-2.8,-6l-1.5,-2l1.3,-1.5l1,0l1.5,1.5l3.9,7l1.6,1.6l1,0.3l1,-0.9l0.2,-1l-0.6,-3l1.4,-0.9l1.1,0.9l1.6,4l1.3,1l2,0l1.5,-2l1.5,-1l2,0.2l1,0.7l2,-1.9l4,-0.9l2,0.7l2,-0.2l3,3.2l4,0.2l2,0.9l2,0.2l1,0.9l-1,1.4l-4,-0.2l-3,0.3l-3,-0.4l-2,0.6l-1.5,-0.7l-0.2,-1l0.7,-0.9l1,-0.1l-4,-1.3l-3.1,0.3l-0.9,-0.6l-1.2,3.6l4.2,1.8l0.5,1.2l0.2,3l1.3,0.7l2,-0.1l2,0.7l3,-2.1l2,1.5l2,-0.6l1,-1l3,0.7l5,0l1.4,2.2l1.6,1.3l5,1.5l2.4,2.2l2.6,3.5l1.4,0.5l1.6,1.6l6,1.5l2,0.9l2.1,2l0.6,1l0.1,2l-3.2,5l-0.5,4l-2.1,4.7l-2.8,2.3l-2.2,0.4l-2,1.3l-0.8,2.3l-4.2,5.2l-7,5.7zM-155.5,-18.1l-1.4,-1.4l1.4,-1.7l1,0.7l0.3,1zM26.5,34.6l-5,0.7l-1.9,-0.8l0.9,-0.6l2,-0.1l2,-1.3l0.6,-3l1.1,-1l0.6,-2l-0.2,-1l0.7,-2l-0.7,-2l0.2,-1l0.7,-1.1l3,0.6l1.2,-0.5l-0.6,-1l-3.6,-0.3l-3,-1.1l-8,0l-2,-0.8l-1.9,-2.8l-1.1,-7l-3,-4l-0.2,-4l-0.8,-1.3l-5,-1.8l-4,1.3l-7,0l-4,-2.7l-2,-2l-2.5,-4.5l2.5,-0.3l2,-1.5l1,1l4,0.6l3,-0.9l3,-0.2l3,1.5l5,0.5l3,-1.8l2,0.7l0.7,-0.6l1.3,-0.1l1.2,0.1l1.8,1.9l1,0.4l4,-1.1l1,0.1l1,0.8l2,-1.1l2,0.6l2,-0.3l3,1.1l0.9,-1.4l2.1,-0.6l1,-0.9l2,-0.1l1,0.8l0.6,0.8l0.9,5l-3.5,3.9l-2,0.3l-0.6,0.8l1.8,3l0.1,2l0.7,1.2l2.6,0.8l1.3,8l-0.5,3l-1.3,2l-3.1,2.3l-0.4,0.7l0.2,3l-0.4,1l-1.7,2l-1.7,3.6l-3.2,3.4zM93.5,-10.9l-1,0.4l-0.8,-1l0,-2l0.8,-0.8l1,0.1l0.6,0.7l-0.1,2zM120.9,-7.5l0.6,-1l-1,-0.7l-1.6,1.7l0.6,0.7l1,0.1zM33.6,2.5l0.3,-2l-0.4,-0.5l-1,0l-0.1,2.5zM46.5,26.5l-2,-0.3l-1.1,-0.7l-0.6,-2l-0.1,-3l0.5,-2l-0.3,-1l0.4,-1l2.4,-2l1.8,-2.2l2,-1.1l1,0.6l0.8,1.7l0.2,3l-2,7.2l-1.4,1.8zM136.5,18.2l-1.6,-0.7l-0.4,-1.1l-5,0.6l-0.6,-0.5l0.2,-1l-0.8,-1l1.1,-2l3.1,-1.8l2,0.6l2,-0.6l0.8,0.8l0.1,1l-1.4,4l1.2,1zM132.3,14.5l0.9,-1l-1.7,-0.7l-1,1.7l1,0.7zM168.5,17.8l-1,0.1l-2.3,-2.4l0.2,-1l1.1,-0.9l1.4,0.9l1.7,2zM126.5,17.8l-1,0.2l-1,-0.4l-1,-1.3l1,-0.9l2,-0.6l0.7,2.7zM178.5,19.8l-1,0l-1.2,-1.3l-0.1,-1l1.3,-1.4l1.8,0.4l0.5,1l0,1zM167.5,23.8l-2,-0.2l-2.3,-2.1l-0.3,-1l0.6,-1.4l1,-0.3l1,0.6l3,2.8l0.2,0.3zM117.5,35.8l-2.8,-1.3l0.1,-3l0.7,-0.6l1.5,0.6l1.9,2l0.1,1zM170.5,46.5l-1,0.5l-1,-0.2l-1.9,-1.3l0.3,-1l5.6,-4.2l0.5,-2.8l-0.8,-3l0.3,-0.3l6,2.4l0.9,0.9l-0.4,2l-2.5,2.3l-1,0.5l-1,-0.3zM-73.5,48.3l-1,0.1l-0.8,-0.9l0.7,-3l-0.1,-3l0.7,-4l0.5,-0.6l1.3,0.6l0.3,2l-0.9,3l-0.1,5zM148.5,43.7l-1,0.4l-2,-0.5l-1.1,-2.1l0.1,-1.5l3,-0.3l1,0.9l0.6,1.9z"/><path fill="#74c55e" d="M-119.5,-35.3l-2.5,-1.2l-2.2,-3l-0.3,-4l0.4,-1l-1.4,-4.3l-2.6,-1.7l-4.6,-5l-2.8,-1.8l-1.1,-0.2l-0.9,-1.3l-8.5,-1.7l2.3,-2l1.2,-1.9l1,0l1,-0.8l1,0.1l3,1.6l1.7,0l-0.1,2l1.1,2l2.3,1.4l2,0.4l1.9,4.2l2.1,1.5l1,1.4l2,-0.1l0.5,5.2l-0.4,3l0.9,2.8l2,2.2l0.7,2zM22.5,-38.3l-1,-0.1l-1.9,-2.1l-1.1,-0.2l-2.6,-1.8l-1.9,-3l1,-2l0.1,-1l-0.6,-0.4l-1,0l-1.2,2.4l-0.8,0.4l-1,-0.3l-0.9,-1.1l-0.1,-3.6l-1,0.3l0.6,2.3l-1.8,2l-0.2,1l-1.6,0.9l-1,-0.5l-1,0.2l-1,-0.6l-0.2,-1l-0.8,-0.4l-1.2,0.4l0.2,-2.7l-3,-1.6l-2,0.6l-1.8,-0.3l-1.2,-0.7l-0.4,-1.3l-0.6,-0.4l-1,0.2l-0.4,-0.8l0.4,-0.7l2,-0.2l1,-0.7l0.6,-1.4l-0.4,-1l0.8,-0.7l2,-0.6l1.3,0.3l0.8,4l3.9,2.4l2,0l1,-0.4l2,0.7l2,0.1l0.3,-0.8l-1.1,-2l0.8,-0.7l2,1.1l3,-1.7l1,0.1l1.6,1.2l0.4,1.5l0.7,-1.5l3.3,-1.4l1.9,0.4l-0.9,1l1,0l0.1,-1l0.8,-1l0.1,-1.4l1,-0.1l1,-1.2l2,0.9l1,-0.3l4,-5.2l1,2.8l1,0.2l1,-0.7l1.3,0l0.9,1l-0.4,1l1.2,0.9l2,-1.2l1.8,0.3l0,-2l2.2,-0.7l1.4,0.7l0,1l0.6,0.7l1,0.1l0.8,-2.8l1.2,0.1l0.8,0.9l-0.3,2l0.5,1l1,0.1l2,-0.7l2,0.1l0.6,-0.5l0.4,-2l1,-0.7l1.6,0.7l-1,1l0.4,1l1.2,0l2,4l-0.2,0.8l-1,0.7l-2,-3.5l-1,-0.1l-0.4,1.1l-2.6,3l0.2,1l-1.2,0.8l-2.5,0.2l-1.5,-1.2l-1,0.6l-1,0l-2,-2.6l-1.4,0.2l-0.6,1.1l-1,-0.1l-1,0.7l-0.3,4.3l-1.5,2l2,1l-0.2,0.9l-1,0.8l-1,-1l0.9,1.3l-0.8,1l-0.1,1.5l-1,-0.3l-0.7,-1.2l-1.3,-0.4l-1,-1.4l-6.5,-1.2l-0.5,-1.8l-1,-0.8l-0.5,0.6l0,2l1.5,0.4l0.3,0.6l-0.3,1.2l-1,0l-1,1l-0.6,-0.2l-0.4,-2l-3,-2.8l-2,0.4l-3,-0.3l-0.9,0.7l0.5,1l1.4,0.9l1,0.1l0.9,1l1.1,-0.7l1.2,0.7l0.8,2.1l0.9,0.9l-1.9,1.1zM-150.5,-59.4l-2.3,-1.1l-0.5,-1l1.8,-1.6l1,0l2.8,2.6zM-131.5,-60.6l-1,-0.3l-0.5,-1.6l1.6,0l0.5,1zM66.5,-58.4l-1,-1.1l1,-0.5l1.4,0.5zM91.5,-50.5l-3,0l-1,-2.1l-3,-1.4l-1,-2.6l2.4,0.1l-0.4,-1l1,-0.1l1,0.9l1,-0.2l0.8,-0.6l0.2,-1.6l2,0.1l3,1.4l1,-0.2l2,1.1l1,-0.3l1.3,0.5l-0.9,2l0.3,1l-1.1,1l-3.6,0.5l-1,0.7l-1,0zM-120.5,-51.3l-1.5,-0.2l0.9,-2l-2.4,-2.7l-1,0.9l-0.3,-0.2l-0.1,-1l1.4,-1.7l1,0.5l4,-0.5l0.2,1.7l3.2,3l-0.4,0.7l-2,-0.4l-1,1.4l-1,-0.2zM31.3,-55.5l2,-1l0.6,-1l-0.4,-0.3l-1,0.6l-2,-0.9l-0.6,2.6l0.6,0.5zM-108.5,-51.9l-1,0.1l-0.8,-0.7l0.5,-1l-0.1,-1l-0.6,-0.5l-2,1.2l-1.8,-1.7l0.8,-0.8l2,0.6l1,-0.2l1,-0.8l2.8,0.2l-1.3,2zM-101.5,-54.1l-2,0l0,-1.4l1,-0.3l1.2,0.3l0.5,1zM92.7,-52.5l3.8,-0.5l0.7,-0.5l0.1,-1l-0.8,-0.6l-2,0.3l-2,-0.4l-0.9,0.7l0,1l0.9,1.3zM151.5,35.3l-1.5,-1.8l2.1,-5l-0.6,-3l-1,-0.5l-1,0.6l-0.8,-1.1l0.6,-1l-0.3,-1l-3.5,-2.2l-1,-2.2l-2,-0.9l-1.5,-3.7l0.2,-3l-3.7,-1l-1.2,-1l0.5,-1l-1.3,-1.3l-3,-0.5l-1,-0.7l-4,0l-1,0.5l-1,-0.3l-1.9,1.3l0.9,0.9l3,-0.1l1,1.2l-2,2.4l-2,0.6l-2,-0.6l-2,0.2l-12,-1.5l-3,-0.8l-3.6,-3.3l-2.8,-3l-2.2,-4l-2.7,-3l-0.2,-1l0.5,-0.9l3.3,-1.1l0,-6l-0.3,-1.1l-2,-0.2l-1.4,-0.7l-0.4,-3l-1.6,-2l-1.6,-3.4l-1,-0.1l-1.5,2.5l-4.5,4.6l-2,1.1l-1,1.3l-0.6,4l1.6,0.3l0.9,1.7l0.2,2l-0.7,1l-1.4,0.4l-1.1,-0.4l-0.9,-4.2l-0.4,1.2l-1.6,0.5l-2.6,-4.5l-2,-6l-0.1,-4l2.4,-5l0,-2l0.9,-2l-1.4,-2l0.8,-0.9l9,6.3l4,0.3l4,-0.2l4,-1.1l1,0.3l2,2.4l2,-2.4l2.2,-1.7l0.8,-4l2,-3.3l1,-0.2l1,1l0.8,-0.5l-0.1,-1l1.1,-1l5.2,-2.7l4,0.9l0.4,-0.2l0.2,-2l1.4,-1.3l1.5,0.3l0.5,1.1l1,0.4l3.2,-0.5l-1.4,-1l-1.8,-0.1l-1.3,-1.9l0.2,-2l-1,-2l0.3,-1l1.8,-1.6l2,2l1,-2.1l2,-0.3l2,-1.8l1,1.3l2.7,0.5l1.3,1.5l0.1,-0.5l1.9,-1l1,0.2l0.7,0.8l-0.2,5l-0.5,0.9l-3.4,4.1l-1.6,1.1l-2,0.3l-1.7,1.6l0.1,1l0.8,1l0.8,0.8l1,0l2,-0.2l3.8,-2.6l0.2,-2.6l0.9,-2.4l1.1,-1.4l1.5,-0.6l0.1,-2l0.7,-1l-1.2,-4l0.9,-0.6l2,0.5l0.6,4.1l-0.5,3l1.5,3l-0.6,1.5l-1.6,1.5l-1.8,5l-2.5,2l-2.1,0.2l-1,1l-2,0.1l-2.7,1.7l-1.3,0.1l-1,-0.6l-1,-2.2l-3,-1.5l-0.6,-2.8l0.2,-1l-1.6,-2.6l-3,-0.1l-2.9,2.7l0.3,1l1.3,1l-0.9,2l1.3,2l1.9,1l0.7,1l-0.4,2l-1.1,2l1.8,1.7l-0.1,2.3l-0.9,0.9l-1,-0.1l-0.6,-0.8l-0.4,-2.1l-1.6,0.1l-1.8,2l-3.6,1.3l-0.6,0.7l-0.2,2l-1.2,1l-2,-0.1l-1,-1l1.7,3.1l0.9,3l-0.1,1l-1.5,1.5l-3,1.7l-4,-3.5l-1,3.3l0.6,1l2.4,0.9l1.3,1.1l1.1,4l-0.5,1l0.3,1l2.6,4l1.2,0.3l0,-1.3l-2.1,-3l0.3,-2l1.8,-2.1l3,-1.3l3,-2.6l3.3,-5l-0.6,-3l0.6,-3l1.7,-1.3l1,-0.1l2.3,1.4l0.1,3l0.6,1l2.6,2l0,2l0.8,3l-0.4,1.4l-2,1.9l-2,-1l-2,-0.2l-1.6,1.9l0.6,0.7l4,0.4l3,-0.9l1.9,0.8l1.1,1.1l1,0.3l1,-0.3l2,0.6l1,1.1l3,-0.1l4,1l5,2.9l1.4,-0.6l0.2,-1l1.4,-1.3l1,0.1l5,4.1l4,2.1l2.2,2l0.2,1l-1.4,1l-4,-1.9l-4,-2.8l-1,0l-1.6,1.7l1.4,2l-0.8,1.3l-3,-0.1l-3,-1.7l-1,-0.1l-0.7,0.6l1.3,3l1.5,2l1,3l3.9,4l2.6,4l-0.2,5zM57.5,-52.4l0,-1.5l1,-0.3l1,0.7zM105.5,-52.5l-0.1,-1l2.1,-1l0,1.1zM-112.5,-49.4l-0.5,-1.1l-1.5,-0.2l-0.8,-0.8l0.2,-1l2.6,-0.5l1.4,1.5l0.1,1zM-103.5,-51.5l-1,0.6l-0.5,-1.6l1.5,-0.5zM-88.5,-48.4l-3,0.2l-0.2,-1.3l-0.8,-0.9l-2,1.2l-1,0.2l-0.7,-0.5l1.7,-1.3l2,-0.7l1,0.7l1,-0.4l1,1l1,0l0.6,0.7zM-80.5,-25l-1,-0.3l-2,-3l-1,-0.6l-2,-0.4l-4,0.3l-4,-1l-1.3,-2.5l0.1,-3l0.7,-3l0.5,-0.6l1.8,-0.4l0.1,-3l1.1,-1.6l3,-0.6l0.1,2.2l0.9,0.9l1,-0.1l2,-3.9l1.9,2.1l0.1,1.2l2,0.1l3.1,-1.3l-1.1,-0.5l-1,0.1l-2,-2.5l-2.2,-0.1l-2.1,-2l0.3,-0.7l2,-0.7l1,1.2l1,-0.9l1,0.4l1.1,0.7l0,2l0.9,1.1l1.3,-1.1l0.1,-1l1.2,-1l0.1,-2l1.3,-0.4l1,2l3,0.9l1,1.2l2,-0.5l1.8,0.8l-0.8,1l-2,0.5l-0.5,1.5l-5.5,6l-1,3l-3.8,3l-0.5,1l0.2,4zM-54.5,-46.3l-1.6,-1.2l-0.3,-2l0.9,-0.9l1,0.6l0.2,1.3l1,1zM26.7,-48.5l0.1,-1l-1.3,-0.9l-1.1,0.9l1.1,1.4zM37.9,-46.5l-0.4,-0.9l-2,0.7l-0.3,-0.8l0.5,-1l-1.2,-0.5l-2,0.5l1,2.5l1,0.3l1,-0.6l2,0.2zM39.2,-48.5l-2.2,0l0.5,0.6l1,0.1zM-63.5,-46l-1.2,-0.5l1.2,-1.1l0.8,1.1zM-58.5,-47l-1.5,-0.5l0.5,-0.5l1,0.2l0.4,0.3zM128.8,-46.5l-0.3,-1.9l-1.4,0.9l-0.2,1l0.6,0.6zM-72.1,-46.5l-0.4,-0.9l-1.4,0.9l1.4,0.6zM-1.5,-45.4l-1,-1.2l1.8,0.1l-0.2,1zM1.5,-42.1l-1,0.1l-0.5,-0.5l-0.2,-1l0.7,-1.7l1,0.2l0.2,0.5zM47.5,-40.4l-2,-0.4l-2,0.2l-1,-2.6l-0.8,-0.3l0.8,-0.9l1,0.4l2,-0.8l1,1.9l2.1,1.4zM-7.5,-36.4l-2,-1.5l-0.5,-1.6l0.6,-3l1.9,-1l0.8,1l-0.5,1l1.1,2zM-2.5,-43.1l-2,0.3l-0.5,-0.7l2.5,-0.2l0.4,0.2zM31.5,-41.5l-0.4,-1l1.7,0zM-60.5,39.7l-2,-1.2l-1,-1.5l-3.5,-1.5l2.7,-12l-1.2,-3.3l-1.9,-2.7l-2.1,-2.1l-3,-1.3l-2.6,-2.6l-3,-5l-0.4,-1.6l-1.6,-1.4l0,-5l1.1,-2l0,-2l-0.5,-0.7l-4,-0.8l-5,-4.8l-4,-1.3l-3,-2.6l-2,0.8l-2.1,-0.6l-4.9,-2.9l-2,-2.3l-2.6,-5.8l-1.4,-2l1,-1.3l1,0l1.3,1.3l3.9,7l1.8,1.9l1,0.2l1.3,-1.1l-0.4,-4l1.1,-0.7l1,0.9l1.6,3.8l1.4,1.1l2,0l1.6,-2.1l1.4,-0.9l2,0.2l1,0.7l0.3,1l-0.6,3l3.3,1.1l1,0.8l1,4.5l1,0.4l2,-0.2l2,1.1l3,-2.1l1,1.2l0.9,0.2l-0.9,1l1,0.8l0.1,-1.8l1.9,-0.5l1,-1.1l3,0.5l5,0l1,1l0.3,1.1l1.7,1.3l5,1.5l2.4,2.2l2.6,3.6l1.3,0.4l1.7,1.7l7.5,2.3l2.5,2l0.6,3l-3,5l-0.6,4l-2,4.5l-3,2.5l-2,0.3l-2,1.4l-1,2.4l-5.9,6.9l-1.1,0.3l-4,3.3zM-65.5,-17.2l-10,-0.3l-1,0.6l-2,-0.2l-0.6,-1.4l0.6,-0.7l1.8,-0.3l-4.8,-1.5l-3,0.3l-0.9,-0.8l0.1,-1l0.8,-0.7l4,-0.8l2,0.5l2,-0.1l3,3l4,0.3l4,1l0.9,0.8zM-155.5,-18.2l-1.3,-1.3l1.3,-1.5l0.8,0.5l0.4,1zM75.7,-18.5l0.4,-2l-0.6,-0.2l-0.3,1.2l0.3,1.4zM78.3,-18.5l-0.8,-1.7l-0.4,0.7l0.3,1zM25.5,34.8l-4,0.2l-1.4,-0.5l2.4,-0.3l2.7,-1.7l2.3,-7.2l1,-0.7l3,0.3l0.6,-0.4l-2.6,-0.7l-0.3,-0.3l0.3,-1.2l-2,0l-0.3,-0.8l0.3,-1.1l1,-0.4l2,0.7l3.1,-1.2l-2.1,-1.3l-3,-0.2l-3,-1l-7,-0.1l-2,-0.2l-2,-0.8l-2,-3.7l-0.7,-5.7l-3.2,-4l-0.3,-4l-0.8,-1.5l-2,-0.4l-1,-0.8l-2,-0.6l-4,1.4l-7,0l-4.5,-3.1l-1.8,-2l-1.4,-3l2.7,-1.4l7,0.7l2,-0.9l2,-0.1l5,1.7l2,-0.2l4,1.2l-0.4,-1l1.4,-1.1l0.3,1.1l0.7,0.3l2,-0.7l1,-1.1l1,0.1l1,1.8l2,0.3l5,-0.7l1,0.7l2,-1.1l1,0l1,0.4l2,-0.2l2,1.4l1,0l2,-2.2l3,-1.4l1,0.2l1,0.9l1.1,4.3l-0.1,1l-3,3.5l-2.5,0.5l-0.5,1l1.4,2l0.6,3l1,1.8l2.3,0.2l1.4,8l-0.6,3l-1.1,1.7l-3.5,2.3l0.1,4l-2.2,3l-1.4,3.3l-3.5,3.7zM93.5,-11l-1,0.4l-0.7,-0.9l0,-2l0.7,-0.7l1,0.1l0.5,0.6l-0.1,2zM120.9,-7.5l0.7,-1l-1.1,-0.7l-1.6,1.7l0.6,0.8l1,0.1zM33.8,2.5l0.3,-2l-0.6,-0.7l-1,0l-0.5,1.7l0.5,1.6zM-38.4,10.5l0.4,-1l-0.5,-0.6l-0.7,0.6zM47.5,25.9l-1,0.5l-3,-0.9l-0.4,-2l0.1,-6l0.2,-1l2.5,-2l1.6,-2.1l2,-1l1,0.6l0.7,1.5l0.1,3l-1.7,7zM132.5,12.3l-1.1,-0.8l1.1,-0.3l0.7,0.3zM135.5,15.5l-0.8,-1l0.3,-1l-2.1,-1l3.6,-1.4l0.5,1.4l-1.3,1l0.3,1zM168.5,17.7l-1,0.1l-2.2,-2.3l0.2,-1l1,-0.7l1,0.4l2,2.3zM178.5,19.8l-1,0l-1.2,-1.3l-0.1,-1l1.3,-1.4l1.7,0.4l0.6,1l-0.1,1zM167.5,23.7l-2,-0.2l-2.2,-2l-0.3,-1l0.5,-1.4l1,-0.2l1,0.5l3,2.8zM117.5,35.6l-2.6,-1.1l0.1,-2l0.5,-1.3l0.8,0.3l2.2,2.5zM-61.1,34.5l-0.4,-1.9l-1,0.7l0,0.9l1,0.8zM169.5,46.8l-2.5,-1.3l0.2,-1l4.3,-3.3l2,-0.5l-0.6,-1.2l0.2,-2l-0.8,-2l0.2,-1l6,2.2l0.7,0.8l-0.7,2.5l-3,2.2l-1,-0.5l-2,2.6zM148.5,38.8l-1,0.4l-5,0.1l-2.1,-0.8l0,-1l2.1,-2.3l2.2,0.3l0.8,1.2l2,0.3l1,-0.1l2,-2l0.6,0.6l-0.1,2l-0.5,0.6zM-73.5,47.6l-1,0.6l-0.6,-0.7l0.9,-8l0.7,-2.3l0.8,0.3l0.4,2zM148.5,43.6l-1,0.4l-1.8,-0.5l-1,-2l0.7,-1l2.1,-0.4l1,0.8l0.4,1.6z"/><path fill="#96d376" d="M-120.5,-36.5l-1.1,0l-2.3,-3l0,-5l-1,-4l-0.6,-0.7l-2.3,-1.3l-1.7,-2.2l-3.1,-2.8l-3.4,-2l-1.5,-2.1l-1,0.3l-2,-0.9l-3,0l-0.9,-0.3l0.5,-1l2.4,-0.3l1,-0.6l0.3,-2.1l1.2,0l1.5,1.4l2,0.5l0.5,2.1l1.5,1.7l4,2.2l1.5,3.1l3.5,3.4l1,0l0.5,0.6l0.7,3l-0.5,4l1.3,3.7l1.3,1.3zM-149.5,-60.1l-2,-0.1l-0.6,-0.3l-0.1,-1l0.7,-0.6l2,0.9l0.7,0.7zM32.5,-58l-1,-0.5l-0.3,-1l1.3,-1.3l2.1,1.3l-1.1,0.2zM54.5,-52.1l-2,-0.1l-2,-1.3l-2,0.7l-2,-2.7l-2,0l-2.5,2l-0.5,1.3l-1,0.2l0.4,-1.5l-0.4,-0.7l-1,-0.3l0,-1l-1.9,-1l0,-1l0.9,-0.8l2,-0.1l1,-0.6l2.7,0.5l1.3,-1.4l3.1,2.4l0.7,-1l0.2,-1.6l0.3,1.6l6.4,3l-1.1,3zM20.5,-48.2l-1,0.5l-0.8,-0.8l-0.8,-3l0.6,-0.5l2,0.1l1,-1.7l1,0.7l3.8,-0.6l-0.3,-3l0.5,-1.4l1.5,0.4l1.1,1l-0.9,2l1.3,0.9l1,0.1l1.7,-2l3.3,-2l1.8,2l0.5,1l-0.2,1l0.8,1l-0.9,0.3l-2,2l-3,0.6l-0.6,-0.9l-0.1,-2l-1.3,-0.9l-0.6,1.9l-2.4,1.4l-2,-1.4l-3,2.7l-1,-0.1zM91.5,-51.2l-2,0.4l-1.1,-0.7l-0.5,-2l-2,-1l0.5,-1l5.1,-2.8l2.2,1.8l-2.8,2l-0.1,1l1,2zM-119.5,-52.9l-2.4,-2.6l0.4,-1.2l1,0l3,2.2zM-3.5,-51.3l-1,0.6l-1.4,-0.8l0.8,-1l-0.2,-2l0.8,-0.7l0.9,0.7l-0.3,1l1.3,1l-0.4,1zM15.5,-52.5l-3.4,-1l1.4,-1l2,0.1l1.3,0.9zM131.5,-30.5l-2,-0.7l-1,-2.4l-2.3,-0.9l-0.7,-0.8l-0.1,-3.2l-1.2,-3l0.3,-0.7l2,0.7l1.5,-1l0.7,-1l-0.2,-2l1.2,-1l-0.5,-2l0.5,-1l-0.2,-0.7l-1,0l-1,1.5l-1,0l-0.5,-0.8l0.7,-2l0.6,-1l0.7,0l0.5,1.4l1,-2.5l3,1.1l-1,1l1,0.2l0.6,-0.2l-0.6,-1l2,0l-0.6,1l1.6,1.1l1,-0.6l0.3,-1.5l0.7,-0.5l1.2,0.5l-0.2,4.5l-1,0.4l-1,-1.4l-0.2,0.5l1,1l-0.7,3l-2.9,3l-2.2,0.3l-1.8,1.7l0.1,1l1.7,1.8l3,-0.1l3.8,-2.7l0.2,-2.3l1,-2.7l1,-1.1l1,-0.1l0.8,-0.8l0.2,-1.9l0.9,-1.1l-0.6,-1l0.2,-2l-1,-1l0.5,-0.3l2,0.3l0.4,4l-0.5,3l1.5,3l-0.4,1.3l-1.7,1.7l-0.3,1.5l-0.7,0.5l-0.3,2.4l-3.1,2.6l-1.9,0.1l-1,1l-2,0.1zM3.5,-48.2l-1,0.3l-0.9,-0.6l0.5,-2l-0.6,-1l-1,0.7l-1.4,-0.7l1.4,-1.5l1,1.4l2.8,0.1zM6.5,-47.4l-1.4,-2.1l0.3,-1l-0.6,-1l0.7,-0.3l1.2,0.3l1.3,2l0,1l-0.5,0.8zM11.5,-50.7l-1,-0.4l0,-1l1,-0.3l0.7,0.9zM39.5,-50.1l-1,0.5l-0.8,-0.9l0.8,-2l1.8,1l0,1zM124.5,-45.6l-1.3,-0.9l0.3,-5.3l1,1.3l-0.9,1l0.2,1l1.4,1l0,1zM11.5,-47.3l-1,-0.8l0,-1l1,-0.2l0.6,0.8zM-80.5,-25.3l-1,-0.3l-2,-3.1l-1,-0.4l-6,-0.2l-3.5,-1.2l-1.2,-2l-0.2,-3l0.9,-3.1l1,-0.3l2,1.5l1,0.1l1,-0.5l0.8,-1.7l-1.3,-2l-1.5,-0.5l-0.2,-0.5l0.5,-1l0.7,-0.3l1.7,0.3l-0.5,1l1.8,1.2l1,-0.1l2,-3.2l1.5,1.1l0.5,1.9l3,-0.4l2.7,-1.5l-1.7,-1l3,-2.4l1,1.5l3,0.3l1.6,1.6l-3.6,3.8l-2.6,5.2l-3.9,4l0.4,2l-0.2,2zM22.5,-39.3l-1,0.2l-1.3,-1.4l-1.7,-0.5l-1.8,-1.5l-2,-3l0.8,-1.5l5,4l1,0.4l1,-0.9l1,0.9l0.4,1.1zM39.5,-42.9l-2,-0.5l-1,-1.1l2,-1.8l1,0.1l0.3,0.7l0.3,2zM121.5,-41.7l-0.8,-0.8l0.8,-1l0.5,1zM-7.5,-38.2l-1,0.3l-0.9,-0.6l-0.3,-1l1.1,-2l0.1,-1.1l0.7,0.1l-0.6,1l1.6,2zM47.5,-41.2l-4,-0.2l-0.4,-1.1l0.4,-0.7l1,-0.3l3.3,2zM149.5,22.4l-4,-2.6l-1,-2.2l-2,-1.7l-1.2,-2.4l0.1,-3l-3.9,-1l-1.2,-1l0.5,-1l-1.3,-1.4l-3,-0.4l-1,-0.8l-6,0.3l-1.9,1.3l0.9,1l3,-0.1l0.9,1.1l-1.9,2.3l-2,0.6l-2,-0.5l-2,0.1l-12,-1.4l-3.3,-1.1l-5.7,-5.6l-2.3,-3.4l-0.2,-1l-2.8,-3l-0.2,-1l0.5,-0.8l3.4,-1.2l0,-6l-0.4,-1.3l-2,-0.1l-1.2,-0.6l-0.5,-1l0,-2l-2.1,-3l-0.7,-2l-1.5,-1.3l-1.3,2.3l-4.3,5l-2.4,0.9l-1.4,2.1l-1.1,4l-1.1,1l-0.3,1l-1.1,0.3l-2.5,-4.3l-1.9,-6l0.3,-2l-0.2,-2l2.5,-5l0.7,-4l-0.6,-1l0.7,-1l6.7,5l-0.4,1l0.7,0.4l1,0.2l1,-0.8l1,-0.1l1,0.3l-1,2.1l-1,0.1l-1.1,0.8l1.1,1.1l2,-1.5l1.2,-2.6l7.8,-1.3l1,0.4l1.2,1.9l0.8,0.3l4,-3.7l2.2,0.4l-1.2,-2l0.6,-3l0.9,-1l0.5,-1.8l1,0l1.1,1.8l-0.1,1.7l2,-0.6l2,1.1l1,-0.2l-1,-0.1l-1,-1.4l-1,0.3l-0.6,-0.8l-0.1,-1l0.7,-1l1.1,0l-0.4,-2l4.3,-2.2l2.5,1.2l-1.1,1l1.3,2l0.2,3l2.1,2.6l2,0.8l0.4,0.6l0,1l-1.7,3l0.3,1l1,0l0.9,1l-0.2,2l-0.7,0.7l-1,-0.1l-0.5,-0.6l-0.5,-2.6l-2,0.4l-2.4,2.2l-2.6,1l-0.9,1l0.1,2l-1.2,1l-2,-0.2l-1,-1.1l0,0.9l1.6,2.4l0.9,3l-0.2,1l-1.3,1.4l-3,1.6l-4,-3.4l-0.8,1.4l-0.2,2.2l1,1.2l2,0.5l1.3,1.1l1.1,4l-0.6,1l0.4,1l2.6,4l1.2,0.4l0.4,-0.4l-0.3,-1l-2.1,-3l0.3,-2l1.7,-2.1l3,-1.3l3,-2.6l3.3,-5l-0.5,-3l0.6,-3l1.6,-1.1l2,0l1.3,1.1l0.1,3l0.5,1l2.6,2l0,2l0.8,2l-0.1,2l-2.2,2.2l-2,-0.9l-2,-0.3l-1.6,2l0.6,0.8l4,0.4l3,-0.9l1,0.2l2,1.7l3,0.2l2,1.4l3,-0.1l4,1l5,2.9l1.5,-0.6l0.1,-1l1.4,-1.2l1,0.1l5,4.1l2.4,1l3.7,3l0.3,1l-1.4,1l-4,-2l-4,-2.7l-1,0l-1.7,1.7l1.5,2l-0.8,1.2l-3,-0.1l-3,-1.7l-1,-0.1l-0.7,0.7l1.1,3l1.6,2l1,3.1l2.6,2.9zM-58.5,38.7l-2,0.5l-1,-0.3l-2,-3l-3.1,-0.4l1.8,-9l1.2,-3l-1.3,-2l-0.6,-2l-2.6,-3l-1.4,-1.3l-3,-1.3l-2.5,-2.4l-2.9,-5l-0.6,-2l-1.3,-1l-0.2,-5l1.3,-3l-0.8,-1.9l-4,-0.7l-5,-4.8l-4,-1.4l-3,-2.6l-2,0.8l-1.9,-0.4l-5.1,-3l-2,-2.5l-2,-4.8l-1.8,-2.7l0.8,-1.1l1,0l1.1,1.1l3.8,7l2.1,2.1l1,0.2l1.5,-1.3l-0.4,-4l0.9,-0.5l1,1l1.4,3.5l1.6,1.2l2,0.1l1.7,-2.3l1.3,-0.8l2,0.2l0.8,0.6l0.2,1l-0.5,3l3.5,1.2l1,0.8l0.5,4l0.5,0.5l1,0.4l2,-0.2l2,1.3l3,-1.8l0.6,0.8l-0.2,1l1.6,1.3l0.9,-0.3l0.1,-1.6l2,-1.7l6,0.6l2,-0.3l1,1l0.2,1l1.8,1.4l5,1.5l2.3,2.1l2.7,3.6l1.2,0.4l1.8,1.8l7,2.2l2.8,2l0.6,3l-2.9,5l-0.5,3.7l-2,4.7l-3,2.5l-2,0.3l-2,1.4l-1,2.4l-2.8,3l-1.2,2l-2,2l-1,0.2zM-65.5,-17.3l-10,-0.3l-1,0.6l-2,-0.2l-0.5,-1.3l0.5,-0.5l2.6,-0.5l-4.7,-1l-0.9,-0.7l-3,0.2l-0.6,-0.5l0.1,-1l0.5,-0.4l4,-0.7l4,0.2l2.4,1.9l0.6,1.1l4,0.3l4,0.9l0.8,0.7zM-155.5,-18.3l-1.2,-1.2l1.2,-1.4l1.1,1.4zM77.6,-15.5l0.4,-1l1.4,-1l-0.6,-3l-1.3,-1l-2,0.2l-0.9,0.8l-0.1,1l1,4l1,0.8zM36.5,18.9l-2,0.6l-3,-1.7l-3,-0.2l-3,-1l-7,0.1l-3,-0.5l-1,-0.7l-2,-3.9l-0.1,-4.1l-3.6,-5l-0.6,-5l-0.7,-0.7l-2,-0.2l-1,-0.9l-2,-0.6l-4,1.5l-7,0l-4,-2.7l-2,-2l-1.2,-2.4l0.2,-0.8l2,-1l7,0.6l2,-0.9l1,0l3,0.4l3,1.3l3,-0.2l3,1.2l5,-1.7l1,0l0.2,1.1l0.8,0.2l4,-0.5l1,0.4l2,-0.3l1,0.4l3,-1.1l1,0.4l2,-0.3l2,1.6l1,0l4,-3.4l1,-0.4l1,0.2l0.9,0.8l0.6,2l0.3,2l-0.3,1l-1.2,2l-1.3,1.2l-1,0.5l-2,0.1l-0.4,1.2l1.5,2l0.6,3l1.3,2.6l2,-0.5l1,4.3l-0.1,2.6l0.5,2l-1.1,3zM93.5,-11.1l-1,0.4l-0.6,-0.8l0,-2l0.6,-0.6l1.4,0.6zM81.5,-5.3l-2,-0.2l-0.5,-1l-0.3,-3l0.8,-0.9l2,0.3l0.9,1.6l0.1,2zM121,-7.5l0.7,-1l-1.2,-0.8l-1.6,1.8l0.6,0.8l1,0.2zM34.1,2.5l0.3,-2l-0.9,-0.9l-1,-0.2l-0.6,2.1l0.6,2zM124.8,2.5l1.1,-1l-0.4,-0.6l-1.3,1.6zM-38,10.5l0.7,-1l-1.2,-1.7l-1,-0.5l-2,2.2l2,1.2l1,0.2zM47.5,25.9l-1,0.4l-2,-0.5l-1,-1.2l-0.3,-4.1l0.3,-1.8l0.7,-0.2l-0.7,-0.6l0.1,-1.4l0.8,-1l1.7,-1l1.4,-2.1l2,-0.9l1,0.6l0.6,1.4l0.1,3l-1.7,7zM168.5,17.7l-1,0l-2.2,-2.2l0.2,-0.8l1,-0.8l1,0.3l2,2.3zM178.5,19.7l-1,0l-1.1,-1.2l-0.1,-1l1.2,-1.3l1.6,0.3l0.7,1l-0.1,1zM167.5,23.7l-1.9,-0.2l-2.3,-2l-0.2,-1l0.4,-1.3l1,-0.2l1,0.5l3,2.8zM28.5,21.9l-0.7,-0.4l0.7,-1.1l0.7,1.1zM25.5,34.6l-2.9,-0.1l3.6,-2l1.1,-5l1.2,-1.8l3,0.1l2,-1.3l-1.1,-1l0.4,-1l-0.3,-0.6l-1,1.1l-1,-0.5l0,-1l1,-0.5l2,0l1,-1.4l1,0.9l0.4,3l-1.7,2l-1.7,4.1l-3.9,3.9zM151.5,34.4l-0.7,-0.9l0.1,-1l1.4,-3l0.3,-2l-0.5,-2l-2.2,-2l-0.3,-1l0.9,-0.7l3.1,3.7l0.4,2l-0.3,4zM-60.9,35.5l0.6,-1l-0.2,-1.6l2,-1.4l-1,-0.3l-1,1l-1,-0.8l-1,0.8l-0.9,2.3l1,1zM117.5,34.9l-2.3,-0.4l0.3,-3l0.8,2l1.6,1zM176.5,41.6l-1,0.4l-0.9,-0.5l-1.6,-2l0.1,-2l-0.7,-2l0.1,-0.7l2.8,0.7l3.8,2l-0.3,2zM148.5,38.6l-5,0.6l-2.9,-0.7l1.9,-2.4l2.2,1.4l2.8,0.1l1,-0.3l2,-1.6l0.3,1.8zM-73.5,45.1l-0.6,-0.6l-0.1,-3l0.7,-4.1l0.9,2.1zM148.5,43.5l-2.4,0l-1.1,-2l0.5,-0.7l2,-0.3l1.1,1zM169.5,46.5l-2.1,-1l0.1,-1l4,-3.1l1.7,0.1l0.3,1l-0.6,1zM-74.5,48l-0.5,-0.5l0.5,-2.3l0.8,2.3z"/><path fill="#b9e18d" d="M-136.5,-61.2l-1,0.2l-0.5,-0.5l0.2,-1l1.3,0.4zM-128.5,-51.5l-1,-2l-6.9,-5l0.8,-2l1.9,2l3.8,2l0.6,2l1.7,2zM42.5,-54.4l-2,-0.8l-2.1,-2.3l3.1,-0.6l2.8,0.6l-0.7,1l0,1zM54.5,-52.5l-3,-1.8l-3,1l-0.5,-2.2l-1.1,-1l2.6,-0.4l1,-0.8l0.7,1.2l-0.4,1l0.7,0.8l1,-1.3l2.4,0.5l0.2,1zM88.5,-54.4l-0.4,-1.1l2.4,0l-1,1zM33.5,-50.4l-1,-1.1l0.5,-1l-0.4,-2l1.9,-0.8l2,0.5l0.4,2.3l-0.4,0.7l-1,0.5l-1,-0.7zM144.5,-49.1l-0.9,-1.4l0.3,-2l0.6,-0.5zM-122.5,-38l-1.2,-1.5l0.1,-5l-0.6,-3l-1.3,-2l-3,-2l1,-1l1.5,1l1.5,1.8l1.1,0.2l0.9,3l0,1.3l-0.7,0.7l0.1,2l1.1,3l0,1zM22.5,-49.5l-1,0l-0.3,-1l2.3,-1.7l0.8,0.7zM133.5,-31.5l-2,0.7l-2,-0.6l-1.9,-4.1l-1.1,0.4l-1,-1.3l-0.1,-1.1l0.6,-1l-0.2,-2l2.8,-2l0.7,-1l-0.2,-2l2.8,-2l-0.4,-2.3l2,-1.1l1.8,1.4l-0.1,1l0.9,1l0.2,2l-0.8,1.4l-0.7,-0.4l0.1,-2l-0.4,-0.4l-0.9,0.4l0,1l1.4,2l-0.3,1l-1.2,1.1l-2,0.1l-1.9,1.8l0.1,1l1.8,1.9l3,-0.1l3.9,-2.8l0.1,-2.1l0.8,-0.9l0.2,-1.5l3,-2l2,0.4l1,1.1l0.2,1l-0.2,1l-1,0l0.2,1l-1,1l-0.2,1.4l-0.8,0.6l-0.1,2l-0.7,1l-1.4,1l-1.2,0l-0.6,1l-2.1,0l-0.1,-1l-1,1l-0.2,1zM-75.5,-40l-1,-0.3l-1,0.4l-0.1,-0.6l-1.3,-1l0.4,-1l2.6,-1l-1.7,-1l1.1,-1.3l2,1.5l2.3,-0.2l0.9,1l-0.2,1.3l-1,0.8l-2,-0.4zM19.5,-41.3l-1,-0.1l-1.3,-1.1l-1.7,-3.3l1,0l3.7,3.3l-0.1,1zM38.5,-43.4l-1,-1.1l1,-1.1l1.1,1.1l-0.1,0.5zM-80.5,-25.7l-1.6,-0.8l-1.4,-2.6l-9,-1.3l-1.8,-1.1l-0.4,-1l-0.4,-3l0.6,-1.7l1,-1.1l2,1.6l1,0.2l1.9,-1l1.2,-2l-0.5,-1l2.1,-1l0.3,-1.1l1,-1.2l1.1,0.3l0.6,3l-0.7,0.6l-2,0l-0.3,0.4l1.3,0.8l3,-0.9l0.8,-0.9l-0.3,-1l0.5,-0.1l0.9,0.1l-0.1,1l1.2,2.1l2,0.4l1,-1l0.2,0.5l-0.9,3l-4,5l0.5,2zM22.5,-40.9l-0.5,-0.6l0.5,-1.4l0.5,1.4zM141.6,-39.5l-0.7,-1l0.6,-1l-1,-0.3l-1,1.3l-0.1,1l1.1,0.4zM148.5,21.4l-3,-2l-1,-2.5l-0.7,-0.4l-0.3,-1l0.4,-1l-1.4,0.3l-1,-2.1l0.2,-2.2l-4.2,-1.1l-1.1,-0.9l0.5,-1l-1.4,-1.4l-3,-0.5l-1,-0.7l-6,0.2l-2,1.4l1,1l3,-0.1l0.8,1.1l-1.8,2.3l-2,0.5l-16,-1.7l-3.3,-1.1l-5.7,-5.7l-2.3,-3.3l-0.2,-1l-2.8,-3l-0.1,-1l0.4,-0.7l3,-0.7l0.5,-0.6l-0.2,-7l-0.3,-0.5l-3,-0.5l-0.6,-1l0.1,-2l-2.2,-3l-0.6,-2l-1.7,-1.9l-1,0.4l-0.8,-0.5l0,-1l1.3,-1l6.5,-1l1,0.5l1,1.7l1,0.4l1.2,-0.6l1.4,-2l1.4,-0.8l3,0.9l2,1.2l0.2,-2.3l1.5,-4l1.6,1l-1.2,2l0.9,0.5l0.3,-1.5l1.7,-0.7l2.7,-2.3l-0.7,-1.3l-2,1.3l-1.4,-1l-0.1,-1l2,-2l0,-2l1.5,-0.5l0.7,0.5l-0.7,1l1.8,2l1.2,5.4l4,1.4l0.2,1.2l-2.2,4l-3,1l-2.3,2l-1.7,0.6l-2,-0.5l-1.8,0.9l0.8,0.8l1,-0.5l1.2,1.7l-0.1,1l-1.1,0.9l-2,-0.3l-1,-1.1l-0.3,0.5l1.8,3l0.9,3l-1,2l-3.4,1.8l-4,-3.3l-1,1.5l0,2.5l1,1l2,0.5l1.2,1l1.1,4l-0.6,1l0.4,1l1.9,2.4l0.7,1.6l1.3,0.5l0.4,-0.5l-0.2,-1l-2.2,-3.6l0.9,-2.4l1.1,-1.1l3,-1.3l3.1,-2.6l3.3,-5l-0.6,-3l0.7,-3l1.5,-1l2,0l1.2,1l0.1,3l0.6,1l2.6,2l0,2l0.8,2l-0.1,2l-2.2,2.1l-2,-0.9l-1.9,-0.2l-1,-1l1.2,-2l-1.3,-0.8l-1.7,1.8l2.6,2l-1.5,2l0.6,0.8l4,0.5l3,-0.9l1,0.2l2,1.7l3,0.2l2,1.3l3,0l4,0.9l5,3l1.5,-0.7l0.1,-1l1.4,-1.2l1,0.1l4,3l1,1.3l2.3,0.8l3.8,3l0.2,1l-1.3,0.8l-7,-3.6l-1,-0.9l-1,-0.1l-1.7,1.8l1.4,2l-0.7,1.2l-3,-0.1l-3,-1.7l-1,-0.1l-0.8,0.7l3.6,8l1.8,2zM-8.5,-38.5l-0.8,-1l0.8,-0.9l1,0.9zM105.5,-33.3l-1,0.6l0,-1l1,-0.5zM76.5,-8.4l-2.3,-4.1l-2,-6l1.3,-3.4l1.8,6.4l1.2,1.5l1,-0.5l1,-1.6l1.8,-1.4l-0.6,-1l-0.1,-2l-1.7,-2l2,-2l-0.4,-0.6l-1,-0.5l-1.6,2.1l0.1,1l-0.5,0.4l-1,0.1l-1,-1l-1,0.3l-0.3,-0.8l0.3,-1l1.4,-1l-0.3,-1l0.9,-2l0,-2l1,-1.7l3.6,2.7l-1.6,1l1,1.8l2.2,1.2l-0.7,3l1.3,0l0.2,-0.5l2,0.9l1,1.6l-0.2,1l-1.8,2.1l-1,0.4l-1,-0.4l-1.8,2.9l-0.9,3l-1.8,3zM-59.5,38.7l-2,-0.2l-0.6,-1l0.2,-1l2,-1l0.6,-1l-0.1,-1l1.1,-1l0.3,-2l-0.5,-0.6l-2,1.2l-2,-0.1l-1.9,3.5l-1.1,0.5l-0.6,-0.5l0.4,-3l1.2,-5.1l1,-1.6l1,-0.5l1,2.1l1,0.6l1,-2.3l2.3,-2.2l-1.3,-0.9l-1.5,0.9l-0.5,1.5l-1,-0.9l-2,-0.2l-1,-1l-1.3,-3.4l-3.7,-3.4l-3,-1.4l-2.3,-2.2l-3,-5l-0.7,-2.2l-1.1,-0.8l-0.3,-5l1.3,-3l-0.1,-1l-0.7,-1l-4.1,-0.7l-2,-1.5l-3,-3.3l-4,-1.4l-3,-2.6l-2,0.8l-1.5,-0.3l-5.5,-3.1l-2,-2.6l-2,-5.1l-1.6,-2.2l0.6,-0.8l1,0l0.8,0.8l4.2,7.3l2,2.1l1,0.1l1.7,-1.5l-0.4,-3l0.7,-1.3l1,1.1l1.3,3.2l1.7,1.3l2,0.1l1.8,-2.4l1.2,-0.6l2,0.2l0.6,0.4l0.2,1l-0.4,3l3.6,1.3l0.9,0.7l0.5,4l0.6,0.7l1,0.3l2,-0.2l2,1.4l2.3,-1.2l1.5,2l2.2,1.1l1,-1.1l-0.3,-1l1.4,-2l5.9,0.5l2,-0.4l1.1,1.9l1.9,1.4l5,1.5l2.3,2.1l2.7,3.7l1.1,0.3l0.9,1.3l3,1.9l5,1.1l2.5,1.7l0.7,2l-0.2,2l-2.6,4l-0.4,3.3l-2,5l-2,1.8l-3,1.1l-2,1.3l-1,2.4l-2.2,2.1l-2,3l-0.8,0.6l-1,-0.9l-0.4,0.3l0.3,1l-0.7,1zM87.5,-22.4l-1,0.6l-0.7,-0.7l1.7,-2.8l0.6,1.8zM121.5,-21.9l-1.4,-0.6l-0.1,-2l0.5,-0.7l1,-0.1l0.7,0.8l-0.1,2zM-65.5,-17.4l-2,0.1l-2,-0.5l-4,0.4l-2,-1.1l-0.2,1l-0.8,0.4l-2,-0.2l-0.3,-1.2l0.3,-0.4l2,-0.4l1,0.7l0.1,-0.9l-6.1,-1.9l-3,0.1l-0.1,-1.2l4.1,-0.7l4,0.1l2.3,1.6l0.7,1.4l8,1l0.7,0.6zM-155.5,-18.4l-1,-1.1l1,-1.2l0.8,1.2zM93.5,-11.2l-1,0.4l-0.5,-0.7l0,-2l0.5,-0.5l1.3,0.5zM35.5,18.8l-1,0.1l-1,-0.9l-3,-1.4l-1,0.5l-2,-0.2l-1,-0.6l-5,0.3l-6,-0.6l-2.8,-4.5l-0.1,-1l1,-1l-1.3,-3l-3.4,-4l-0.5,-5l-0.9,-0.9l-2,-0.1l-3,-1.5l-4,1.6l-7,-0.1l-4,-2.7l-2,-2l-1,-2.6l2,-1.1l7,0.5l2,-0.5l3,0l4,1.7l3,-0.5l3,1.3l4,-1l1,0.7l4,0l1,-0.8l2,0.7l9,-1.1l2,1.6l1,0.1l4,-3.5l1,-0.5l1,0.2l1,1.5l0.5,2l0,1l-0.9,2l-0.6,1l-2,1.5l-2,-0.3l-0.7,1.8l0.2,1l-0.5,0.4l-1,-0.3l-0.8,1.9l0.8,4l1.8,-2l0.5,-2l0.7,-0.6l0.3,2.6l0.9,2l-0.7,1l0.5,0.8l3,-1.2l0.2,0.4l0.6,4l-0.2,2l0.5,1l-0.5,3l-1.6,1.9zM81.5,-5.4l-2,-0.3l-0.4,-0.8l-0.2,-3l0.6,-0.7l2,0.2l0.8,1.5l0.1,2zM124.8,2.5l1.2,-1l-0.5,-0.7l-1.3,1.7zM118,5.5l-0.5,-0.5l-1.2,0.5l1.2,0.9zM-40.8,11.5l2.3,-0.3l1.6,-1.7l-1.1,-2l-1.5,-1.4l-1,-0.4l-0.6,0.8l0.3,1l-2.3,3l0.6,1.4zM47.5,25.8l-1,0.4l-2.2,-0.7l-0.5,-2l1.3,-1l-0.5,-2l0.3,-2l-0.9,-2l0.4,-1l1.1,-0.2l0.8,-0.8l1.2,-2l2,-0.8l1.2,0.8l0.5,3l-1.7,7.7zM33.7,15.5l-0.2,-1.3l-1.2,0.3l1.2,1.4zM168.5,17.6l-1,0l-2,-1.9l0,-0.8l1,-0.9l1,0.3l1.2,1.2l0.6,1zM-46.4,16.5l-1.1,-1.1l-0.5,1.1l0.5,0.4zM178.5,19.7l-1,0l-1.1,-1.2l-0.1,-1l1.2,-1.3l1.5,0.3l0.7,1l0,1zM167.5,23.7l-1.8,-0.2l-2.3,-2l0.1,-2.3l2,0.3l3,2.9zM34.5,24.8l-0.9,-2.3l0.9,-1.8l1,0.4l0.2,1.4l-0.2,1.4zM151.5,23.9l-1,-0.4l-0.5,-1l0.5,-0.3zM24.5,34.5l-0.1,-1l2.1,-0.7l0.9,-1.3l0.1,-2.2l1,-2.6l2,-0.6l1,0.4l1,-0.6l0.7,0.6l-0.7,2.6l-2,2.5l-2.3,1.9zM151.5,33.7l-0.1,-1.2l1.5,-4l0,-2l0.6,-0.7l0.1,5.7zM176.5,41.6l-1,0.3l-0.7,-0.4l-1.6,-2l0,-2l-0.7,-2.3l2.4,0.3l4,2l-0.1,2zM150.5,37.7l-1.6,-0.2l1.6,-1.3zM-73.5,43.9l-0.4,-2.4l0.4,-3.6l0.7,1.6zM147.5,38.8l-4,0.2l-2.3,-0.5l1.3,-0.6l3,0.3l1,-0.4l1.6,0.7zM147.5,43.6l-1,-0.1l-0.2,-1l-1.1,-1l0.3,-0.3l2,-0.4l0.9,0.7l0.1,1.6zM169.5,45.7l-1.4,-0.2l-0.3,-1l2.7,-2.2l2,-0.2l0.1,1.4l-1.1,0z"/><path fill="#deefa2" d="M-130.5,-54.3l-4.2,-3.2l-1,-1l0.2,-0.7l5.1,2.7l0.6,1l-0.2,1zM42.5,-55l-1,0l-1.4,-1.5l1.4,-0.7l1,0.3l0.5,1.4zM-126.5,-50.3l-1,-1.3l1.1,0.1l0.4,1zM133.5,-48.8l-0.7,-0.7l0.7,-0.7l1,0.7zM132.5,-31.4l-1,0.3l-2,-0.5l-1,-2.9l0.2,-1l-2.2,-2l-0.3,-2l0.1,-1l3.6,-3l0.4,-1l-0.4,-1l2.6,-0.8l2.1,3.8l-1.1,1l-2,0.1l-2,1.9l0.1,1l1.9,1.9l3,0l4,-2.9l0,-1.2l0.1,1.2l0.9,1.2l3,1.1l0,0.7l-1,1.3l-1,0.2l-2,-0.7l-2,0.3l-1,0.9l-0.6,2zM142.5,-38.1l-0.6,-2.4l0.5,-1l0,-2l2.1,-0.3l0.5,0.3l-1.5,0.9l-1,0.1l1,0l0.9,1l-0.7,1l-0.2,1.3zM19.5,-42.1l-1,0.1l-0.6,-0.5l0.6,-0.7l1,0.5zM-80.5,-26.1l-1,-0.1l-2,-3.3l-1,-0.5l-4,0.1l-3,-0.6l-1.8,-1l-1.2,-2.2l0,-2.8l1,-0.9l4,2.2l0.1,-1.3l2.9,-2l3,0.3l2,-0.8l4,1.6l0.6,0.9l-0.6,1.4l-1,-0.7l0.5,1.3l-2.5,4l0.6,2zM113.5,-36.2l-1.1,-0.3l1.1,-0.8l0.8,0.8zM144.5,13.8l-2,0.1l-0.5,-1.4l0.3,-2l-4.8,-1.2l-1.1,-0.8l0.6,-1l-1.5,-1.5l-3,-0.4l-1,-0.7l-6,0.1l-2.4,1.5l1.4,1.1l3,-0.1l0.7,1l-1.7,2.3l-2,0.4l-16,-1.7l-3.2,-1l-5.8,-5.7l-2.2,-3.3l-0.2,-1l-2.8,-3l0.2,-1.6l3,-0.7l0.7,-0.7l0,-6l-0.7,-1.7l-2,0l-1,-0.5l-0.5,-0.8l0.1,-2l-2.2,-3l-0.4,-2l-2,-2.4l-1.3,-0.6l1.3,-0.7l6,-1l1,0.5l1,1.8l1,0.2l2.3,-0.8l0.7,-1.6l1,-0.6l3,1l1,1.6l1,0.5l1.9,-2.9l2.5,-2l1.6,-2.3l2,-0.4l1,-1l0.2,2.7l2.8,1.4l0,-0.4l1,-0.3l0.6,0.3l0,1l-1.1,1l-0.5,2.2l-0.6,0.8l-4.4,1.5l-1.4,1.5l-0.6,0.2l-2,-1.1l-1,0.8l-1,0.1l-0.1,1l0.9,1l1.2,-0.3l1,1.3l0,1l-1,0.7l-2,-0.2l-1,-1.2l-0.4,0.7l1.8,3l0.8,3l-0.2,1l-1,1.2l-3,1.3l-1,-0.4l-3,-2.8l-1.1,1.7l0.1,2.7l4.2,2.3l0.5,3l0.6,1l-0.6,1l0.4,1l1.9,2.5l0.6,1.5l1.4,0.6l0.5,-0.6l-0.3,-1l-1.9,-3l-0.2,-1l0.9,-2l1,-1l3,-1.4l3.2,-2.6l3.3,-5l-0.7,-3l0.7,-3l1.5,-0.9l2,0l1.2,0.9l0.1,3l0.5,1l2.6,2l0.1,2l0.7,2l-0.1,2l-2.1,2.1l-2,-0.9l-1.8,-0.2l-1,-1l1.1,-2l-1.3,-0.9l-1.7,1.9l2.4,2l-1.4,2l0.7,0.9l4,0.5l3,-1l1,0.2l2,1.7l3,0.2l2,1.4l3,-0.1l4,1l5,2.9l1.6,-0.7l0.1,-1l1.3,-1.1l1,0.1l4,3l1,1.4l2.2,0.6l2.8,2l1,1l0.3,1l-1.3,0.7l-7,-3.5l-1,-1l-1,0l-1.8,1.8l1.5,2l-0.7,1.1l-3,-0.1l-3,-1.7l-1,-0.1l-0.9,0.8zM-57.5,36.9l-1.6,-1.4l1.3,-2l0.7,-3l-0.4,-1.3l-2,-0.1l-1,1.5l-3.2,-0.1l-0.1,2l-0.7,1.3l-1,-0.1l0,-1.4l0.7,-1.8l0.3,-3.1l1,-2l1,0l0.9,2.1l1.1,0.7l1,-0.6l0.1,-2.1l1.9,-1.5l1,0.2l1,-0.7l-0.2,-1l-1.7,-1l-1.1,-1.5l-2,1.8l-3,0.5l-0.9,-0.8l-0.8,-3l-1.3,-0.6l-3,-2.9l-3.1,-1.5l-3.5,-4l-3.5,-7l-0.1,-4l1.1,-3l0.1,-1l-0.8,-1l-3.2,-0.5l-2,-0.9l-4,-4.2l-3.9,-1.4l-3.1,-2.7l-2,0.8l-1.1,-0.1l-5.9,-3.3l-2,-2.6l-1.9,-5.1l-1.5,-2l0.4,-0.6l1,0l0.6,0.6l4.4,7.6l2,2l2,0.1l0.5,-0.7l0.4,-1l-0.4,-3l0.5,-1.1l1,1.3l1.1,2.8l1.9,1.4l2,0.1l0.8,-0.5l0.2,-1l1,-1.1l1,-0.4l2,0.2l0.7,1.3l-0.5,3l4.6,2l0.5,4l0.7,0.8l3,0.1l2,1.5l2,-0.9l1.3,1.5l2.7,1.5l2,-0.2l1.3,-1.3l-1.3,-2l0.9,-1l5.1,0.7l2,-0.5l1,1.8l2,1.5l5.1,1.5l2.1,2l2.8,3.7l1,0.3l1,1.5l2.2,1.5l0.8,1.7l2,-1l1,0.6l2,0.3l2.3,1.4l0.7,3.2l-2.7,4.8l-0.3,2.8l-2,5.3l-2.1,1.9l-3.9,1.6l-1.5,1.4l-0.7,2l-2.4,2l-2.2,3l-0.5,0l-0.7,-1.3l-0.7,0.3l-0.9,1l0.5,1l-0.5,1zM76.5,-24.3l-0.5,-0.2l-0.5,-3l1,-0.6l1,0l0.9,0.6l0.2,1zM121.5,-22.1l-1.3,-0.4l0.3,-2.5l1,-0.1l0.5,0.6l-0.1,2zM-83.5,-21.4l-0.8,-0.1l0.6,-1l1.8,0l-0.6,0.9zM-65.5,-17.4l-2,0l-2,-0.6l-4,0.4l-1.6,-0.9l-0.4,-1.4l-3,-1.3l-2.3,-0.3l-0.4,-1l4.7,-0.4l2.2,1.4l0.8,1.6l8,0.9l0.6,0.5zM82.5,-17.2l-1.5,-1.3l-0.5,-2.7l-0.6,-0.3l3.6,-0.6l1.6,1.6l-0.2,1zM-155.5,-18.5l-0.6,-1l0.6,-1.1l0.5,1.1zM76.5,-8.6l-2.2,-3.9l-1.9,-6l1.1,-1.9l1.5,4.9l1.5,2.2l1.6,-1.2l0.4,-1l0.5,1l-0.3,2l-0.2,0.4l-1,0l-0.2,2.6zM-76.5,-17.2l-2,-0.2l-0.2,-1.1l2.2,-0.6l0.8,0.6l-0.2,1zM93.5,-11.3l-1,0.3l-0.4,-0.5l0,-2l0.4,-0.4l1.2,0.4zM37.5,17.8l-2,0.3l-0.9,-0.6l-0.2,-3l-0.9,-0.9l-2,0.5l-2,2.5l-2,-0.2l-0.6,-0.9l0.8,-2l-2.2,-0.6l-0.5,0.6l0.9,2l-0.4,0.2l-4,0.6l-6,-0.6l-2.5,-4.2l0,-1l1.1,-1l-0.3,-1l-1.2,-2l-3.5,-4l-0.6,-5.7l-1,-0.7l-2,0.3l-3,-1.5l-0.7,0.6l-3.3,1l-7,-0.1l-4.3,-2.9l-1.8,-2l-0.7,-2l2.8,-0.9l11,0.3l2,0.8l0.8,0.8l0.2,1.1l2,-1.6l2.6,0.5l-1,1l0.4,0.2l1,-1.1l2,0.4l1,-0.4l1,0.2l1,1.1l2,0.5l1,-1.6l3,0.4l1,-0.3l0.2,0.6l0.8,0.3l2,-1.3l3,-0.4l0.8,0.4l-0.3,2l1.5,1.5l0.8,-0.5l-0.9,-2l1.1,-1.2l2,-0.7l2,1.6l1,0.1l4,-3.6l1,-0.6l1,0.3l1.2,2.1l0,2l-2.2,3.6l-1,0.6l-2,-0.4l-1.4,2.2l-1.7,1l0.3,4l-1.1,3l-0.2,2l2.1,1.4l1,0l2,-2.3l1,0.3l3,-1.3l0.6,3.9l-0.3,2l0.6,2l-0.9,2.6zM80.5,-5.5l-1.3,-1l-0.1,-3l0.4,-0.5l2,0.1l0.7,1.4l0.1,2l-0.8,1zM124.9,2.5l1.1,-1l-0.5,-0.8l-1.4,1.8l0.4,0.4zM33.5,6.6l-1.2,-0.1l-0.2,-1l2.4,-2.9l1,0.1l0.7,1.8l-1.7,1.8zM-41.1,12.5l1.6,-1l1,0l2.1,-2l-1.1,-2.4l-2,-1.9l-2,-0.3l-1,0.8l-1,-0.3l-1,0.5l-0.4,0.6l0.4,1l1,-0.3l1.3,0.3l-1.5,3l0.2,1l1,1.2l1,0.4zM118.1,5.5l-0.6,-0.5l-1.3,0.5l1.3,1zM47.5,25.8l-1,0.2l-1.4,-0.5l-0.5,-1l0.1,-1l1,-1l-0.6,-2l0.2,-2l-0.9,-2l0.1,-1l3,0.3l-1,-1.3l1,-1.8l2,-0.8l1,0.5l0.4,1.1l-0.3,6l-1.4,4zM168.5,17.5l-1,0l-2,-1.9l1,-1.4l1,0.1l1.2,1.2l0.3,1zM-45.9,16.5l-1.6,-1.6l-1.1,1.6l0.1,0.6l1,0.3l1,-0.2zM147.5,20.1l-2,-1l-1,-3.7l1,-0.5l0.2,1.6l0.8,0.6l1.3,2.4zM178.5,19.7l-1,-0.1l-1.1,-1.1l0,-1l1.1,-1.2l1.4,0.2l0.8,1l-0.1,1zM-51.2,21.5l1.4,-1l-0.4,-1l-1.3,0.4l-1.1,-0.4l0.7,2zM167.5,23.6l-1.6,-0.1l-2.5,-2l0.1,-2.2l1.7,0.2l3.3,2.9zM35.5,22.7l-1,0.6l-0.4,-0.8l0.4,-1.3l0.6,0.3zM153.5,31.1l-0.9,-0.6l0.7,-1l0.2,-3.1zM152.5,32.6l-0.4,-0.1l0.4,-2l0.6,1zM27.5,33.5l-2.5,0l1.5,-0.2l2,-1.6l0.7,0.8zM175.5,41.8l-2.2,-2.3l0,-2l-0.8,-2l2.1,0l4.2,2l-0.1,2l-2.2,2zM-59.5,37.7l-1,0.3l-1.2,-0.5l1.2,-0.5l1.5,0.5zM-73.5,42.1l0,-3.4l0.4,0.8zM147.5,43.4l-1,-1.5l-0.9,-0.4l1.9,-0.5l0.6,0.5l0.1,1zM169.5,45.1l-1,0.1l-0.4,-0.7l2.4,-1.9l0.4,0.9z"/><path fill="#fff6b1" d="M130.5,-36.4l-1,0.7l-1.2,-0.8l-1.2,-2l-0.3,-2l4.7,-3.8l1,-0.2l1.2,2l-1,1l-2.2,-0.4l-2.1,2.4l0.5,1l1.6,1l0.6,1zM143.5,-39.3l-1,-0.2l-0.1,-1l1.1,-0.8zM-81.5,-26.5l-1.1,-2l-0.9,-4.5l-2.2,0.5l0.6,2l-4.2,0l-1.2,-1.3l-1,0.4l-1.5,-1.1l-1.1,-2l0.6,-2l4,2.3l0.9,-0.3l0.1,-2l2,-0.1l0.5,-0.9l4.6,-1l0.3,1l-0.5,1l2.1,-0.3l0.4,1.3l-0.3,3l-1.8,2l0.9,1l-0.2,2.9zM141.5,-35.3l-0.9,-0.2l-0.1,-0.5l-4,-0.7l-0.6,-0.8l1.2,-1l1.4,-0.3l1,1.7l3,0.5zM134.5,-32.5l-1.5,0l0.3,-1l-1.3,-1l0.5,-1.1l3,-1.3l0.8,0.4l-1.8,2.8l-0.6,0.2zM-83.2,-34.5l-0.3,-1.4l-0.4,0.4l0.4,1.9zM131.5,-31.5l-2,-0.8l0,-1.8l1,-0.3l1.5,0.9l0.1,1zM151.5,11.6l-2.8,-0.1l-3.2,-1.7l-1,-0.1l-1,0.8l0,0.7l-1,-0.9l-4.3,-0.8l-1.8,-1l0.7,-1l-1.6,-1.5l-6,-1.3l-4,0.3l-3,1.5l1,0.3l1,0.9l2.8,-0.2l0.8,1l-1.6,2.2l-2,0.4l-15.9,-1.6l-3.1,-0.9l-6,-5.8l-2.2,-3.3l-0.2,-1l-2.8,-3l0.2,-1.5l1,-0.6l2,-0.1l0.8,-0.8l0,-6l-0.8,-1.9l-2,0.1l-1,-0.6l-0.7,-3.6l-1.8,-2l-0.5,-2.4l-2.5,-2.6l5.5,-1.5l2,0.8l1,1.6l3,-0.3l1,0.5l0.6,-2.1l1.4,-0.4l2.2,1.4l0.3,1l-0.6,1l1.1,-0.5l1,0.3l2,-2.8l3,-2.1l1,-2.7l1,-0.3l1,0.3l1,1.8l2.7,2l-0.3,2l-0.4,0.6l-4,1.2l-1,1.4l-1,0.4l-2,-1.1l-2.6,1.5l0.9,2l0.7,0.3l1,-0.3l0.9,1l0.1,1l-1,0.6l-2,-0.3l-1,-1.2l-0.6,0.9l1.9,3l0.8,3l-0.2,1l-0.9,1.1l-3,1.1l-1,-0.2l-3,-2.8l-1.2,1.8l-0.2,2l0.4,1l4.2,2l0.4,3l0.7,1l-0.7,1l2.4,3.5l0.5,1.5l0.5,0.6l1,0l0.6,-0.6l-2.2,-4l-0.1,-1l0.8,-2l2.9,-2.1l1,-0.2l3.3,-2.7l3.2,-5l-0.6,-3l0.7,-3l1.4,-0.8l2,0l1.2,0.8l0.5,4l2.7,2l0,2l0.8,2l-0.1,2l-2.1,2l-2,-0.8l-1.7,-0.2l-1,-1l1.1,-2l-1.4,-0.9l-1.7,1.9l2.2,2l-1.2,2l0.7,0.9l4,0.5l3,-0.9l1,0.2l2,1.7l3,0.2l2,1.3l3,0l4,0.9l5,2.9l1.6,-0.7l0.1,-1l1.3,-1.1l1,0.1l4,3l1,1.7l2.1,0.3l3.9,3l0.2,1l-1.2,0.6l-1,-0.3l-7,-4.1l-1,0l-1.8,1.8l1.4,2zM-52.5,32.8l-3,-2.3l-1.7,-2l-1.7,-1l0.1,-2l2.3,-0.6l1.8,-1.4l-0.2,-1l-1.5,-1l-1.7,-3l-0.4,-0.2l-3.1,3.2l-1.9,0.5l-0.9,-1.5l-0.1,-1.7l2,0.4l1,-0.3l0,-0.7l-2,-0.8l-2,0.7l-1,-0.5l-3,-2.7l-2.9,-1.4l-3.6,-4l-3.2,-7l-0.4,-4l0.9,-2l0.3,-2l-0.7,-1l-3.4,-0.6l-2,-0.9l-4,-4.2l-3.8,-1.3l-3.2,-2.9l-1,0.1l-1,0.8l-1,-0.1l-2,-0.8l-2,-1.7l-2,-0.9l-2,-2.7l-1.6,-4.8l-1.4,-1.6l0,-0.7l1,-0.1l0.4,0.4l4.6,7.8l2,2l2,0.3l0.9,-1.1l0.1,-4.5l1,1l1.7,3.5l1.3,0.5l2,0.2l1,-0.6l1,-2.2l3,-0.1l0.6,1.2l-0.5,3l0.9,0.8l3,0.6l0.7,0.6l0.5,4l0.8,0.9l3,0.1l2,1.6l1,0.3l1,-0.8l1,1.3l3,1.6l2,-0.3l2,-1.4l0.7,0.7l1.3,0l0.9,-1l-0.9,-0.6l-2,0.5l-1.6,-1.9l0.6,-0.6l5,0.5l2,-0.5l0.8,1.6l2.2,1.6l5,1.4l2.2,2l2.8,3.7l0.9,0.3l0.4,1l2.3,2l0.1,2l-2.1,3l0.2,1l1.6,1l-0.2,2l2.8,2.9l1,-2l2.4,-0.9l1.6,-1.4l0.6,0.4l-1.4,3l-0.2,2.3l-2,5.7l-2.3,2l-3.7,1.5l-1.6,1.5l-0.8,2zM114.6,-27.5l1.2,-1l-1.5,0zM76.5,-25.4l-0.6,-1.1l0.4,-1l1.2,-0.1l0.6,1.1l-0.6,0.9zM121.5,-22.2l-1.1,-0.3l0.1,-2.2l1,-0.2l0.3,0.4zM-67.5,-17.4l-2,-0.9l-4,0.5l-1.2,-0.7l-0.1,-1l-0.7,-0.7l-2.2,-1.3l0.4,-1l0.8,-0.2l2.1,1.2l0.1,1l0.8,0.8l5,0.2l3.5,1l-0.5,0.9zM83.5,-18.5l-1,0.9l-0.5,-0.9l-0.6,-2l1.1,-1.2l1,0l1.2,1.2l-0.2,1zM76.5,-8.9l-2.1,-3.6l-1.6,-5l-0.2,-1l0.9,-1.5l0.9,2.5l-0.1,1l2.5,5l0.2,2zM-76.5,-17.3l-2,-0.1l-0.1,-1.1l2.1,-0.5l0.7,0.5zM93.5,-11.4l-1,0.3l-0.4,-0.4l0.4,-2.3l1.1,0.3zM36.5,-4.5l-3,-1l0.3,-1l-0.3,-2l1,-1.7l3,-2.4l1,0.4l1,1.6l0,1.6l-1,1.2l-0.6,2.3zM38.5,16.8l-1,0.7l-2,-0.3l-0.7,-1.7l-0.3,-4l-0.4,1l-2.6,0.6l-2,2.5l-1,0.2l-0.7,-0.3l0.5,-2l-0.7,-1l0.9,-0.7l0,-1.4l-1,2l-3,-0.2l-0.3,1.3l0.7,1l-0.4,0.9l-3,0.6l-6,-0.5l-2.2,-4l0.2,-1l1.1,-1l-0.4,-1l-1.2,-2l-3.7,-4l-0.8,-7.3l-3,0.9l-3,-1.4l-1,0.8l-5,0.3l-1.8,0.7l-3.2,-0.2l-4,-2.6l-2,-2.1l-0.3,-2.1l2.3,-0.4l7,0.1l4,0.6l2,1l0.1,0.7l0.9,0.5l2,-1.4l0.6,0.9l1.4,0.6l1,-0.5l3,-0.4l1.4,1.3l1.6,0.5l1,-0.1l1,-1.5l5,0.8l2,-1.2l2,0.5l3,3l1,0.2l0.5,-0.2l0.2,-1l-1,-1l0,-1l2.3,-1.3l1.8,1.3l0.7,1l-0.5,1.4l2,0.6l0,1l-2.6,3l0.7,4l-0.7,2l-1.4,0.9l0,1.1l-1.3,1l5.3,2.1l2,-2.2l2,0l1,-1.1l0.6,0.2l0.7,3l-0.3,2l0.6,2l-0.6,2zM81.5,-5.6l-2,-0.5l-0.4,-2.4l0.4,-1.3l2.2,0.3l0.5,3zM124.9,2.5l1.2,-1l-0.6,-0.9l-1.4,1.9l0.4,0.4zM-35.5,10.3l-0.6,-0.8l-0.7,-3l-1.7,-1l0.5,-1l1.5,0.9l1.1,0.1l0.7,3zM34.5,5.8l-0.7,-0.3l-0.1,-1l0.8,-0.9l1,0.1l0.3,0.8zM117.6,6.5l0.5,-1l-0.6,-0.6l-1.5,0.6l0.5,0.7zM47.5,25.7l-1,0.2l-1.6,-1.4l1.3,-2l-0.6,-3l0.9,-0.9l1,0.5l0.4,-3.6l-0.5,-2l2.1,-1.4l1,0.4l0.4,1l-0.4,6l-1.9,5zM-46.2,17.5l0.8,-1l-2.1,-2.4l-1,0.7l-0.6,1.7l0.2,1l0.4,0.7l2,-0.3zM168.5,17.3l-1,-0.2l-2,-1.6l0.7,-1l1.3,-0.1l1.1,1.1zM46.5,17.1l-1,0.3l-0.5,-0.9l0.5,-0.5l1,0.3zM178.5,19.6l-1,0l-1,-1.1l-0.1,-1l1.1,-1.2l1,0l1.2,1.2l-0.1,1zM146.5,19.4l-1.1,-0.9l0.1,-1.4l1,0.4l0.4,1zM-49.9,21.5l2.5,-1l-3.1,-1.6l-2,0l-1.1,0.6l0,1l1.1,1.2zM167.5,23.6l-1.5,-0.1l-2.5,-2l0,-2.2l1.4,0.2l2.7,2l0.9,1zM-61.5,30l-2.7,-0.5l0.1,-2l0.6,-1.4l1,0.2l0.5,1.2l1,1l0.1,1zM-56.5,35.6l-1,0.6l-0.6,-0.7l0.3,-1l2.3,-0.4l0,0.8zM175.5,41.6l-2,-2.1l-0.5,-4l1.1,0l4.5,2l0,2l-1.1,1.1zM169.5,44.7l-1.1,-0.2l1.1,-1.1l0.6,0.1z"/><path fill="#fde0a1" d="M132.5,-42.2l-1.8,-0.3l0.8,-1.2l1,0zM138.5,-37.2l-1,0.2l-1.1,-0.5l0.9,-1l0.8,0zM-86.5,-30.7l-2,0.2l-1,-1.5l-0.9,-0.5l2.9,-2.1l1,0.2l1,-2.4l1,0l0.6,0.3l-0.9,1l0.4,2l-1.9,1l0.4,1zM-81.5,-31.1l-1.3,-1.4l0,-2l0.5,-1l1.8,-0.6l0.8,0.6l-0.9,2l0.7,1zM-91.5,-32.5l0,-1.2l1,-0.3l1,0.5l-1,1zM114.5,-29.3l-1,-2.2l1,-0.5l0.8,0.5l0.5,1zM-81.5,-27.2l-0.7,-1.3l0.7,-0.9l1,-0.3l0,2.1zM-108.5,-27.4l-1,-1.2l1.2,0.1zM118.5,-28.2l-1,0.5l-0.6,-0.8l0.6,-0.4l1,0.3zM151.5,11.6l-2.5,-0.1l-3.5,-1.8l-1,-0.1l-1,0.8l-5.1,-0.9l-1.9,-1l0.6,-1l-1.6,-1.6l-6,-1.3l-4,0.3l-2,1.3l-1.4,0.3l1.4,0.4l1,0.9l1,-0.4l1.5,0.1l1,1l-0.3,1l-1.2,1.2l-2,0.3l-15.6,-1.5l-3.4,-0.9l-6,-5.9l-2.2,-3.2l-0.1,-1l-2.8,-3l0.1,-1.4l1,-0.6l2,0l0.9,-1l-0.3,-1l0.5,-3l-0.2,-2l-0.9,-2l-2,0.1l-1,-0.7l-0.2,-3.4l-0.8,-0.3l-1.4,-1.7l-0.6,-2.8l-1.6,-2.2l4.6,-1.3l2,1l0.6,1.3l3.4,0l1,1.2l1,0l0.5,-0.2l-0.2,-2l0.7,-0.8l1.6,0.8l-0.6,2l2,1.2l1.6,1.8l0.4,1l-1.7,2l1.9,3l0.8,3l-0.2,1l-1.8,1.5l-2,0.5l-1,-0.2l-3,-2.7l-1,0.9l-0.5,3l0.4,1l1.1,0.8l3.1,1.2l0.4,3l0.7,1l-0.7,1l3.5,5.7l1,0l0.6,-0.7l-2,-4l0.4,-2.7l1,-1.1l3,-1.5l3.4,-2.7l1.5,-3l1.7,-2l-0.7,-3l0.8,-3l1.3,-0.7l2,0.1l1.1,0.6l0.5,4l2.7,2l0.1,2l0.7,2l-0.1,2l-2,1.9l-3.6,-0.9l-1,-1l1.1,-2l-1.5,-0.9l-1.8,1.9l2.1,2l-1.1,2l0.8,1l4,0.5l3,-0.9l1,0.1l2,1.7l3,0.2l2,1.4l3,-0.1l4,0.9l5,3l1.6,-0.8l0.1,-1l1.3,-1l1,0.2l3.9,2.8l1.1,1.9l3.2,1.1l2.8,2.3l0.1,0.7l-1.1,0.5l-1,-0.3l-6,-3.1l-1,-0.9l-1,-0.1l-1.8,1.9l1.4,2zM113.5,-24.3l-1,0.6l-2.7,-0.8l-0.6,-2l2.3,-1l2,0.2l1,0.8l2,-1.6l0.8,0.6l-0.2,1l-1,1l-1.6,0.2zM-103.5,-18.8l-1,-0.4l-2,-2.9l-1.2,-3.4l0.2,-1.7l1.3,2.7l3.7,5zM121.5,-22.4l-1,-0.1l-0.1,-1l0.4,-1l0.7,-0.1zM-51.5,31.3l-2,-0.3l-1,-1l-1,-0.3l-1,-1.8l-1.3,-0.4l1.3,-1.1l0.1,-0.9l2.4,-2l-0.5,-1.7l-1.1,-0.3l-0.1,-1l1.2,-0.3l2,2l5,-0.5l2.1,-1.2l0.4,-1l-0.9,-1l0.9,-2l-0.5,-1.1l-2,-2.3l-1,0.3l-1,3.1l0.5,2l-0.5,0.3l-2,-0.6l-3,1.1l-1,-0.1l-3,-2.2l-0.9,0.5l0.3,1l-1.4,1.1l-0.9,-2.1l-2.1,-0.4l-2,0.6l-1,-0.3l-3,-2.6l-2.7,-1.3l-3.7,-4l-2.7,-6l-0.3,-3l-0.6,-1l1.2,-4l-0.2,-1.4l-1,-0.9l-3,-0.4l-2,-0.9l-4,-4.2l-3.6,-1.2l-3.4,-3l-2,0.7l-3,-0.7l-1,-1.3l2.8,-0.7l0.5,-1l-0.3,-3.8l1,0.6l1.4,3.2l2.6,0.8l2,-0.6l1,-2.2l3,0l0.4,1l-0.4,3.1l1,0.8l3.6,1.1l0.5,4l0.9,1l3,0.1l1,0.5l1.6,1.4l0.4,1.2l1,1l1,-0.1l1,-1l2,1.1l2,-0.1l2,-1l2,0.1l1.9,-1.2l-1.9,-1.2l-2,0.5l-1,-1.5l4,-0.1l1,0.6l2,-0.8l0.5,1.5l2.5,1.6l2,0.4l4,1.9l4,4.9l0.8,0.2l0.2,1l2.1,2l-0.3,2l-1.7,3l0.5,2l-0.6,0.8l-1.3,0.2l0.3,1.4l1,-1.1l0.3,0.7l1.7,0.4l3,3.7l1.3,-3.1l2.7,-1.1l1,0.1l-3,9.7l-2.6,2.3l-3.4,1.4l-1.7,1.6l-0.9,2l-2.4,1.1zM-74.5,-19.2l-2.4,-2.3l0.4,-0.6l1.8,0.6l1,2zM83.5,-19.4l-1,-0.4l-0.4,-0.7l0.4,-0.5l1,-0.2l0.8,0.7zM95.5,-18.5l0.4,-1l-0.4,-1.5l-0.7,1.5zM73.5,-15.8l-0.6,-2.7l0.6,-1.1l0.7,2.1zM110.5,-18l-2,-0.3l-0.8,-1.2l0.8,-0.9l1,0.4l1,-0.3l0.7,0.8l0.1,1zM-76.5,-17.4l-1.6,-0.1l-0.2,-1l1.8,-0.4l0.5,0.4zM-70.5,-18.4l-3,0.3l-0.8,-0.4l0.8,-1l1,0.7l2,-0.2l0.7,0.5zM-65.5,-17.8l-2,0.2l-1.8,-0.9l0.8,-0.5l3,0.2l0.4,0.3zM75.5,-10.8l-1,-2l-0.3,-1.7l0.3,-1l1.7,3l0.1,1zM104.1,-14.5l-0.6,-1.3l-1,0.3l-0.3,1l0.3,0.3l1,0.6zM93.5,-11.5l-1,0.3l-0.3,-0.3l0.3,-2.2l0.9,0.2zM37.5,-5.4l-1,0.6l-1.9,-0.7l-0.9,-3l0.8,-1.3l3,-2.5l1.7,1.8zM38.5,16.5l-1,0.6l-1.9,-0.6l-0.4,-3l0.9,-2l-0.6,-0.4l-2,-0.5l-4,3.8l-0.6,-0.9l0,-3l-0.4,-0.7l-1,0l-1,1.2l-1,-0.7l-0.6,0.2l-1.4,2.3l-2.3,-0.3l0.6,1l0.2,2l-3.5,0.3l-2,-0.4l-1,-0.5l-1.7,-3.4l1.1,-2l-0.2,-1l-1.3,-2l-2.4,-2l-1.5,-2l-0.6,-3l0.2,-4l-0.6,-0.8l-3,1.2l-3,-1.3l-1.1,0.9l-1.9,0.1l-2,-0.5l-3,1.1l-3,-0.1l-4,-2.5l-2,-2l0,-1.8l8.1,-0.3l1.9,0.7l3,0.3l3,1.8l2,-0.7l2,0.9l1,-0.4l2,0.2l1,0.7l3,0.5l1,-0.1l2,-1.4l4,0.7l2,-1.2l6,3.5l1.7,-0.5l0.5,-1l-1.4,-1l1.2,-0.9l1,0l0.7,0.9l-0.5,2l1.5,2l-1.4,1l-0.3,1l0.9,4l-0.9,2.1l-1,0.2l-1,1.3l-1.8,0.4l1.8,1.7l1,-0.1l3,2.2l2,-0.3l1,-1.6l1,-0.2l3,1.3l-1.1,2l0,1l1.1,-0.3l0.2,1.3l-0.9,1zM81.5,-5.8l-2,-0.6l0,-3.2l1,-0.3l1.1,0.4l0.5,3zM125,2.5l1.2,-1l-0.7,-1l-1.5,2l0.5,0.5zM117.7,6.5l0.5,-1l-0.7,-0.6l-1.6,0.6l0.6,0.9zM-35.5,9.9l-0.7,-2.4l0,-1l0.7,-0.8l0.5,2.8zM47.5,25.6l-1,0.2l-1.3,-1.3l1.4,-2l-0.1,-2.1l1.4,-1.9l0.3,-3l-0.4,-2l1.7,-1.2l1,0.4l0.3,0.8l-0.4,6l-1.8,5zM168.5,16.7l-1.6,-0.2l-0.6,-1l0.1,-1l1.1,-0.1l1,1zM178.5,19.6l-1,0l-1,-1.6l1,-1.6l1,0l1.1,1.1l0,1zM-62.5,21.5l-1.1,0l-0.6,-2l0.7,-0.3l2,0.9l0.1,0.4zM167.5,23.5l-1.3,0l-1.5,-1l-1.2,-1.4l0,-1.7l1.2,0.1l2.8,2l0.7,1zM-50.2,25.5l0.2,-1l-0.5,-0.7l-0.7,0.7l0.1,1l0.6,0.5zM-62.5,29.6l-1,-0.4l-0.3,-0.7l0.3,-1.3l1,0.3l0.9,1l-0.5,1zM177.5,40.6l-2,0.9l-1,-1l-1.1,-2l0.1,-2.9l5,1.9l0.1,2z"/><path fill="#fcc78f" d="M-81.5,-32.3l-0.8,-2.2l0.8,-0.9l0.6,0.9l-0.5,1l0.5,1zM-87.5,-31.3l-1,0.3l-0.5,-1.5l1.5,-1.5l1.4,0.5l-0.9,1l0.2,1zM151.5,11.5l-2.2,0l-4.8,-2l-1,0.7l-1,-0.5l-3.8,-0.2l-2.1,-1l0.6,-1l-1.7,-1.6l-6,-1.4l-4,0.4l-2,1.2l-1.8,0.4l1.8,0.6l1,0.8l1,-0.5l2,0.5l0.4,0.6l-0.3,1l-1.1,1.1l-3,0.3l-5,-0.9l-9,-0.5l-4,-1l-6,-5.8l-2.1,-3.2l-0.2,-1l-2.8,-3l0.1,-1.3l1,-0.6l3,-0.2l-0.3,-1.9l0.5,-4l-1.2,-3.2l-2,0.2l-1.2,-1l0.2,-1.6l1,-0.1l0.8,-1.3l0,-2l-0.8,-0.2l-1,1.9l-1,-0.2l-1.3,-1.5l-0.6,-3l-1.1,-2l4.4,-1l1.4,1l0.2,1l4,0.4l1,1.4l3,-0.1l2,0.8l1.4,1.5l0.4,1l-1.6,2l2.2,4l0.2,3l-1.6,1.4l-3,0.2l-3,-2.7l-1.2,1.1l-0.4,3l0.6,1.2l4.1,1.8l0.3,3l0.8,1l-0.7,1l3.5,5.8l1,0l0.7,-0.8l-1.7,-3l-0.4,-2l0.4,-1.5l1,-1.2l3,-1.6l3.5,-2.7l1.5,-3l1.7,-2l-0.2,-2l-0.6,-1l0.8,-3l2.3,-0.6l2.1,0.6l0.5,4l2.7,2l0,2l0.8,2l-0.1,1.9l-2,1.8l-3.5,-0.7l-1,-1l1.1,-2l-1.6,-1l-1.8,2l1.9,2l-0.9,2l0.8,1.1l4,0.5l2,-0.7l2,-0.1l2,1.7l3,0.1l2,1.4l3,0l4,0.9l2,0.9l2,1.8l1,0.2l1.7,-0.8l0.1,-1l1.2,-1l1,0.3l4,2.9l1,2.6l0.8,0.2l-1.8,0.3l-2,-1.2l-1,0l-1.9,1.9l1.4,2zM112.5,-24.3l-1.3,-0.2l-1,-2l1.3,-0.6l2.3,0.6l0.3,1zM-103.5,-19.1l-1,-0.3l-2,-3l0,-2.7l2.6,4.6l1,1zM-54.5,18.8l-1.4,-0.3l-1.6,-3l-1,0.3l-1.9,1.7l0.2,1l-0.3,0.2l-0.1,-1.2l-0.9,-0.4l-2,-0.2l-2,0.5l-1,-0.2l-3,-2.6l-2.5,-1.1l-1.5,-1.3l-2.3,-2.7l-2.6,-6l0.3,-2l-1.2,-2l1.1,-4l-0.3,-1.6l-1,-0.8l-3,-0.3l-2,-1l-3,-3.5l-2,-1.3l-2.5,-0.5l-3.5,-3.3l-1,-0.1l-2,0.9l-1.6,-0.5l-1,-1l2.9,-1l0.4,-1l-0.2,-2l0.5,-0.8l0.4,1.8l0.8,1l2.8,0.9l2,-0.5l1,-2.2l1,-0.3l2,0.3l0.2,1.8l-0.4,2l1.2,1l3.5,1l0.2,3l1.1,2l3.2,0.2l1.3,0.8l1.5,3l-0.7,2l0.9,0.3l0.8,-1.3l2.2,-1.2l2,0.7l2,-0.2l2,-0.9l2,0l2.7,-1.4l-0.3,-2l1.6,-0.4l0.3,1.4l0.7,0.5l2,1.2l5,1.6l2,1.6l5.7,7.1l-0.1,1l-1.8,4l-0.1,2l-1.7,1l0.4,2l-1.4,0.1l-0.5,0.9l0.4,2l-0.3,1l-1,1zM110.5,-18.1l-2,-0.4l-0.5,-1l0.5,-0.6l1,0.3l1,-0.3l0.6,1.6zM-76.5,-17.5l-1.2,-1l1.5,0zM-65.5,-18l-2,0.1l-0.9,-0.6l2.9,-0.2zM73.5,-16.4l-0.4,-1.1l0.4,-1.7l0.5,1.7zM104.8,-12.5l-0.5,-3l-1,-1l-1.2,0l-0.3,2l2.7,2.2zM92.5,-11.3l0,-2.3l0.5,0.1l0.4,1l-0.2,1zM75.5,-11.1l-0.6,-1.4l0.6,-0.7l0.4,0.7zM36.5,-5l-1.5,-0.5l-1,-3l0.5,-1l3,-2.4l1.3,1.4l-0.9,2l0,2zM-63.5,-9.4l-1.4,-1.1l1.9,0l-0.1,1zM5.5,-4.3l-3,-1.3l-2,1l-3,-0.9l-3,1.3l-3,0.1l-4,-2.4l-1.9,-2l-0.1,-1.2l2,-0.3l3.8,0.5l1.2,1.1l0.3,-0.1l-1.2,-1l0.9,-0.6l1,0.2l0.8,0.4l-0.6,1l0.2,1l0.6,0.4l2,-2.1l4,1.7l1,0.2l2,-0.8l2,1l1,-0.2l1.8,0.8l-0.3,1zM81.5,-5.9l-1.9,-0.6l0,-3l2,0l0.4,3zM18.5,15.5l-2,-0.6l-1,-1.2l0.4,-1.2l-0.9,-2l0.1,-2l-0.5,-1l0.8,-1l-1.9,-0.3l-2,-1.4l-2,-2.6l-0.4,-5.7l0.6,-2l0.8,-0.8l3,0.1l1,-0.9l3,-0.4l1,0.8l3,0.3l1,-0.4l3,0.9l2,1.2l2,-0.4l1,0.5l0.3,1.1l-1.3,1l1.4,3l0.3,2l-0.7,1.6l-5.1,2.4l0.1,1.4l2.3,0.6l-1.3,0.2l-1,1l-2,-0.5l-0.3,0.3l0.7,1l-0.4,1.3l-2,-0.1l-1,0.4l-0.4,0.4l1.1,1l-0.1,1l-0.6,1zM125.1,2.5l1.1,-1l-0.7,-1.1l-1.5,2.1l0.5,0.5zM117.9,6.5l0.3,-1l-0.7,-0.7l-1.8,0.7l0.8,1.1l1,0.2zM17.6,7.5l-0.2,-1l-1.8,0l0.9,1zM30.5,12.5l-1,0.7l0.1,-1.7l-0.9,-2l0.8,-1l2.5,2l-0.3,1zM158.5,8.7l-1.6,-0.2l0.6,-1l1.3,1zM37.5,15.3l-1,0l-0.8,-1.8l1.3,-2l-2,-1l0.5,-1l1,-0.3l2.2,0.3l-1,2l0.4,3zM162.5,10.6l-2,0l-1.4,-1.1l0.4,-0.5l1,-0.1l2,1.2zM-52.5,30l-3,-2.6l-0.2,-1.9l3.6,-3l1.8,0l-1.8,2l0.6,1.5l1,0.6l1.5,-3.1l0,-1l1.5,0l1,-1l2.4,-1l0.5,-1l-1.1,-1l-0.2,-3l-2.1,-3l0.5,-0.4l2.2,0.4l2,3l-0.2,2l0.3,1l0.7,0.4l0.7,-4.4l0.9,-2l2.4,-0.6l0,2.9l-2,6.1l-2.9,2.6l-3.1,1.3l-1.7,1.7l-1.3,2.3l-1,0.3l-2,-0.4zM47.5,25.6l-1.4,-0.1l-0.6,-1l1.3,-2l0,-2l1.3,-2l0.4,-3l-0.4,-2l1.4,-1l1.2,1l-0.5,6l-1.7,5zM168.5,15.7l-1,0.5l-0.4,-1.7zM178.5,19.5l-1,0l-0.9,-2l0.9,-1.1l1,0l1.1,1.1l-0.1,1zM166.5,23.6l-1.5,-1.1l-1.5,-1.9l0,-1.1l0.7,0l0.5,1l2.8,1.4l0.4,0.6l-0.4,0.6zM177.5,40.5l-2,0.4l-1,-0.9l-1,-1.3l0,-2.4l1.4,0.2l0.6,0.8l2.3,0.2l0.7,2z"/><path fill="#fbac79" d="M150.5,11.7l-6,-2.3l-1,0.5l-0.8,-0.4l0.2,-1l-0.4,-0.4l-0.6,0.4l0.2,1l-2.6,0l0.5,-2l-0.5,-0.3l-1,-0.1l0.2,1.4l-1.2,0.4l-0.7,-0.4l0.5,-1l-1.8,-1.7l-2.7,-0.3l-1.3,-0.8l-2,-0.3l-4,0.4l-1,0.8l-3.2,0.9l3.2,1.5l1,-0.5l2,0.6l0.1,1.4l-1.1,1.1l-3,0.2l-4,-0.9l-9.9,-0.4l-4.1,-1l-0.5,-1l-2.8,-2l-2.7,-2.9l-2.1,-3.1l-0.1,-1l-2.9,-3l0.1,-1.2l1,-0.5l3.2,-0.3l-0.4,-2l0.5,-4l-1.3,-3.3l-2,0.1l-1,-0.8l0,-1l1,-0.3l1,-1.3l0.3,-2.4l-1.3,-0.6l-1,1.7l-1,0.2l-1.1,-1.3l-0.9,-4.5l0.4,-0.5l2.6,-0.8l1.4,0.8l0.6,1.3l4,0.5l1,1.4l4,0.1l2.3,1.7l0.3,1l-1.6,2l2.3,4l0.2,3l-1.5,1.2l-3,0.3l-3,-2.9l-1.3,1.4l-0.4,3l0.7,1.4l4.1,1.6l0.3,3l0.8,1l-0.8,1l0.3,1l2.3,2.8l0.2,1.2l0.8,0.9l2.3,0.1l-0.8,-2l-1.5,-2l0,-3.3l1,-1.3l5,-3l1.6,-1.4l1.4,-3l1.7,-2l-0.1,-2l-0.6,-1l0.8,-3l2.2,-0.5l2,0.5l0.5,4l2.7,2l0.8,4.6l-0.9,2.4l-1.1,0.5l-3.4,-0.5l-1,-1l0.2,-1l0.9,-1l-1.7,-1.1l-1,0.8l-0.9,1.3l1.9,2l-0.8,2l0.8,1.3l4,0.4l1,-0.1l1,-0.7l2,0l2,1.7l3,0.1l2,1.5l1,0.2l2,-0.4l4,0.9l1,0.8l1,0.1l2,1.8l1,0.2l1,-0.1l0.7,-0.7l0.1,-1l1.2,-0.8l2,0.7l3.5,3.1l0.3,2l-1.8,0l-1,-0.9l-1,0l-1.9,1.9l1.4,2l-0.5,1zM112.5,-25.1l-1,0.1l-0.3,-1.5l2,1zM-104.5,-19.8l-1.7,-2.7l0.7,-0.7l1,1.7zM-78.5,0.3l-0.6,-1.8l1.1,-4l-0.6,-1l-0.9,-0.5l-3,-0.3l-2,-0.9l-2.3,-2.3l-0.7,-1.4l-2,-1.2l-2.3,-0.4l-3.7,-3.5l-1,-0.3l-2,1.1l-1.2,-0.3l-0.9,-1l2.1,-0.3l1,-1.6l5,1l1.5,-1.1l0.5,-1.6l1,-0.4l2,0.6l-0.4,3.4l0.4,0.5l1,0.8l3,0.4l0.4,0.3l0.2,3l1,2l1.4,0.4l2,-0.1l1.2,0.7l1.1,2l-0.4,5l-0.3,1zM110.5,-18.2l-1.3,-0.3l-0.9,-1l2.2,-0.4l0.5,1.4zM-65.5,-18.2l-2,0.1l-0.6,-0.4l2.6,-0.2zM105.2,-12.5l-0.5,-3l-0.8,-1l-1.4,-0.4l-1,0.4l0,2.1l3,2.4zM92.5,-11.4l0,-2.1l0.6,1zM36.5,-5.3l-1.1,-0.2l-1.2,-3l3.3,-3l0.8,1l-0.8,2l0.2,2zM-52.5,17.7l-2,0.7l-1,-0.4l-2,-2.9l-1,0.1l-2,1.7l-3,-0.3l-2,0.6l-1,-0.2l-7,-5l-2.2,-2.5l-2.5,-6l1.1,-4l0.8,-1l0,-2l3.8,-2.8l2,0.5l7.5,-1.7l1.8,-1l0.4,-1l-1,-1l1.3,-0.3l0.1,1.3l0.9,0.7l8,3.3l4.5,5l0.1,1l1.8,2l-2.4,7l-3.7,2l-0.3,1l-1,-0.2l-1,0.6l-0.3,0.6l0.3,0.4l2,-0.3l1.1,2.9zM-6.5,-4.4l-2,0.2l-3.7,-2.3l-1.7,-2l0.4,-1l4,0.8l5.3,3.2l-1.3,0.9zM81.5,-6l-1.6,-0.5l-0.4,-2l0.5,-1l1.5,0l0.4,2zM6.5,-5.3l-1,0.6l-1,-0.2l-2,-1.2l-2,0.8l-1,-0.1l-1,-0.6l-2,-0.1l-0.4,-1.4l0.4,-0.9l5,1.5l2,-0.8l3.5,1.2l0.2,1zM22.5,9l-1,0.1l-0.5,-0.6l0.3,-1l-0.8,-1l-2,0.5l-2,-1.3l-1,0.4l-2,-0.3l-3,-2.3l-1.1,-2l-0.2,-3l0.1,-2l1.2,-2.1l1,-0.6l2,0.3l1,-0.7l2,-0.4l2,0.8l4,0l3,0.6l3.4,2.1l0.6,2.7l1,0.6l0.2,0.7l-0.1,3l-6.1,3l-0.2,1zM125.1,2.5l1.2,-1l-0.8,-1.3l-1.6,2.3l0.6,0.6zM118,6.5l0.3,-1l-0.8,-0.7l-1.9,0.7l0.9,1.3l1,0.2zM19.5,11.9l-2,-1l-1,0.8l-1,-1.2l0,-1.8l1,0.2l1,1.4l2,-1.7l1,0.2l2.1,1.7l-0.1,0.4l-2,-0.1zM162.5,10.5l-2,0l-0.4,-1zM30.5,11.5l-0.7,-1l0.7,-0.7l0.9,0.7zM-48.5,28.6l-1,0.2l-1,-0.8l-1,0l-1,0.6l-2.8,-2.1l0.2,-1l1.6,-0.7l1,0.7l0.4,1l1.6,0.6l2,-3.4l1,-0.4l1.6,-1.8l4.4,-2.1l1.4,-2.9l-0.3,-2l0.7,-2l2,0l0.2,1.3l-1.1,2.7l0.1,1.3l-1,2.8l-3,2.8l-3,1.3l-1.8,1.8zM-43.5,17.9l-0.7,-0.4l-0.1,-2l-0.9,-2l0.7,-0.6l1.4,2.6zM19.5,15l-2.5,-0.5l0.1,-1l2.4,-0.8l1,0.6l-0.1,1.2zM47.5,25.5l-1.1,0l-0.7,-1l1.3,-2l0.2,-2l1.1,-2l0.4,-3l-0.2,-2l1,-0.8l1,0.5l0.2,2.3l-1.2,5.7l-1.2,3.3zM178.5,19.4l-1,-0.4l-0.6,-1.5l0.6,-1l1,0l1,1l0,0.7zM166.5,23.5l-1.2,-1l-0.1,-1l2.4,1zM174.5,39.1l-0.4,-0.6l0.4,-1.4l0.4,1.4z"/><path fill="#f88f60" d="M150.5,11.6l-5.6,-2.1l-2.4,-2l-2,-0.1l-2,-1l-0.5,1.1l0.3,1l-0.8,0.3l-0.5,-0.3l0.4,-1l-1.9,-1.7l-2.5,-0.3l-3.5,-1.3l-3,0.3l-2,1l-3.7,1l3.7,1.6l1,-0.6l2,0.7l0,1.3l-1,1l-5,0l-2,-0.9l-9.4,-0.1l-4.6,-1.3l-1,-1.3l-2.2,-1.4l-2.8,-2.9l-0.4,-1.1l-1.7,-2l0,-1l-2.9,-3l0,-1.1l1,-0.5l3.5,-0.4l0,-1l-0.6,-1l0.6,-3l-0.1,-2l-1.4,-2.4l-2,0l-0.8,-0.6l1.8,-2l0.6,-3l-0.6,-1l-1,0.1l-1,1.5l-1,0.5l-1,-1.1l-0.6,-4l1,-1l1.6,-0.5l2,2.1l3,0.1l2,1.7l4,0.1l2.1,1.5l0.2,1l-1.5,2l2.4,4l0.2,3l-1.4,1.1l-3,0.2l-2.4,-2.3l0.4,-0.6l2,1.4l1,-0.8l-0.2,-2l-0.8,-2l-2,-0.7l-1.3,0.7l0,2l0.9,1l-2.1,2l-0.3,3l0.2,1l1.6,1.2l3,0.8l0.3,3l0.8,1l-0.8,1l0.3,1l2.4,2.9l0.1,1.1l0.9,1l5,0.5l2,-0.4l1,1.3l1,0.2l0.6,-0.6l0.2,-1l-0.8,-0.8l-2,0.6l-5,-0.1l-0.4,-1.7l-1.4,-2l-0.2,-3l1,-1.5l5,-3l1.7,-1.5l1.3,-2.8l1.8,-2.2l-0.1,-2l-0.7,-1l0.9,-3l2.1,-0.4l2,0.5l0.4,3.9l2.8,2l0.7,4l-0.8,3l-1.1,0.3l-2,-0.6l-1.3,0.3l-1,-1l0.1,-1l1,-1l-1.8,-1.3l-1,0.8l-0.9,1.5l1.7,2l-0.7,2l0.9,1.5l5,0.3l1,-0.8l2,-0.1l2,1.7l3,0.1l2,1.6l1,0.2l1,-0.5l5,0.9l1,0.9l1,0.1l2,1.8l1,0.2l1,-0.2l0.8,-0.7l0,-1l1.2,-0.7l2,0.7l3.4,3l0.2,2l-1.4,0l-1.2,-0.9l-1,-0.1l-1.9,2l1.3,2l-0.4,0.9zM-78.5,-0.1l-0.4,-1.4l1.1,-4l-0.6,-1l-1.1,-0.6l-3,-0.3l-2,-0.9l-2.2,-2.2l-0.8,-1.6l-2,-1.1l-2.1,-0.3l-4.6,-4l-0.1,-1l3.8,0.3l1.7,-1.3l0.3,-1.4l3,0.3l-0.6,3.1l1.6,1.5l3.3,0.5l0.1,3l1,2l1.6,0.5l2,-0.1l1.1,0.6l0.6,1l0.3,2l-0.4,4zM110.5,-18.3l-0.8,-0.2l0.1,-1l0.7,-0.2l0.3,1.2zM36.5,-5.6l-1,-0.3l-1.1,-2.6l2.1,-2.1l1,-0.4l0.4,0.5l-0.8,2l0.2,2zM81.5,-6.2l-1.4,-0.3l-0.3,-2l0.6,-1l1.1,0.1l0.3,1.9zM-53.5,17.9l-1,0.1l-0.7,-0.5l-0.3,-1l-2,-1.8l-1,0.1l-2.8,1.7l-2.2,-0.1l-2,0.6l-1,-0.2l-3,-2.6l-2.1,-0.7l-2.9,-2.6l-2.4,-4.4l-1.1,-4l2,-4l0,-1l2.5,-2.8l1,-0.7l2,0.5l4,-1.1l2,-0.1l2,-0.7l2,-1.5l4,1.4l2,1.5l2,0.2l2,1.3l3.3,4l0,1l1.8,2l0,1l-2.6,6l-3.5,1.4l-2.4,1.6l-0.6,1l0.4,1l1.8,0l1.1,2zM-7.5,-4.4l-1,0l-3.3,-2.1l-1.6,-2l0.9,-0.6l1,0.1l3,1.2l3.3,2.3zM5.5,-5.1l-1,-0.1l-1.9,-1.3l0.9,-0.8l1,0.3l1.7,1.5zM23.5,7.7l-1,0.4l-2,-2.5l-2,0.7l-2,-1l-1,0.3l-4,-1.2l-2,-2.9l-0.2,-3l0.2,-2l1.4,-2l0.6,-0.4l2,0.4l1,-0.7l2,-0.3l2,0.7l7,0.5l2.7,1.8l1.3,3.8l1,0.1l0,2.7l-1,0.5l-1,-0.7l-0.6,1.6l-4,2zM125.2,2.5l1.1,-1l-0.8,-1.6l-1.7,2.6l0.7,0.6zM-38.5,15.8l-1,0.5l-0.4,-0.8l-0.2,-1l0.6,-1.8l1,-0.1l0.7,0.9zM19.5,14.6l-1.2,-0.1l0.3,-1l0.9,-0.3l0.5,0.3zM47.5,25.3l-1,0.1l-0.7,-0.9l1.4,-2l1.7,-6l-0.1,-3l0.7,-0.6l1,0.6l0,2l-0.5,1l-0.5,4.3zM-49.5,28.5l-0.9,-1l1.9,-3.3l1.3,-0.7l1.7,-1.8l4,-1.9l2,-2.9l0.2,2.6l-1.2,2l-2,1.7l-3,1.4l-3,3.8zM178.5,18.7l-1,-0.3l-0.4,-0.9l0.4,-0.9l1,0.1l1,0.8zM-53.5,27.3l-1,-0.8l0,-1l1.4,0z"/><path fill="#f66f46" d="M150.5,11.6l-3.3,-1.1l-0.7,-0.8l-1.4,-0.2l-1.3,-1l-0.3,-1l-1,-0.6l-2,0l-2,-0.9l-2,0.3l-7,-2.3l-3,0.3l-2,1.2l-4.1,1l4.1,1.7l1,-0.5l2,0.7l0,1.1l-1.2,1l-4.5,0l-2.3,-1.2l-2,0.5l-6.7,-0.3l-5.3,-1.6l-1,-1.2l-2.2,-1.2l-2.8,-3l-0.3,-1l-1.7,-2l-0.1,-1l-2.7,-3l-0.2,-1l1,-0.5l3,-0.1l0.7,-0.4l0,-1l-0.7,-1l0.6,-5l-1.6,-2.5l-2.5,-0.5l2.2,-3l0.2,-2l-0.5,-1l-1.4,-0.3l-2,2.1l-0.7,-0.8l-0.2,-4l1.9,-1.2l2,2l3,0.1l2,1.7l4,0l1.9,1.4l0.2,1l-1.5,2l2.5,4l0.1,3l-1.2,1l-2.8,-1l1,-1l-0.1,-2l-0.7,-2l-2.4,-0.9l-1,0.3l-0.6,0.6l0,2l0.7,1l-1.7,2l-0.2,3l0.1,1l1.7,1.4l3,0.6l0.2,3l0.9,1l-0.8,1l0.2,1l2.5,3l0,2.1l6,0.7l2,-0.4l1,1.2l1,0.1l0.7,-0.7l0.2,-1l-0.9,-0.9l-5,0.6l-2,-0.3l-0.3,-1.4l-1.3,-2l-0.3,-3l0.9,-1.3l2.1,-1.7l2.9,-1.4l2.5,-2.6l0.5,-1.6l1.8,-2.4l0,-2l-0.6,-1l0.8,-3l2,-0.3l2,0.9l0.3,3.4l2.8,2l0.5,4l-0.6,3l-1.4,0l-1.6,-3.1l-0.8,1.1l1.1,1l-1.3,1l-1.2,-1l0.1,-1l1,-1l-1.9,-1.6l-1,0.9l-0.9,1.7l0.3,1l1.2,1l-0.5,2l0.9,1.6l5,0.3l1,-0.9l2,0l2,1.7l3.6,0.3l1.4,1.5l2,-0.2l5,0.7l1,0.8l1,0.1l2,1.9l2,-0.1l0.8,-0.7l0.2,-1.2l1,-0.3l1.9,0.5l3.4,3l0,2l-3.3,-1.1l-1,0.8l-1,1.3l1.3,2l-0.3,0.7zM-78.5,-0.4l-0.3,-1.1l1.1,-4l-0.5,-1l-1.3,-0.7l-3,-0.3l-2,-0.9l-2.1,-2.1l-0.9,-1.8l-2,-1l-2,-0.2l-4.1,-4l0.1,-0.9l3,0.4l1.8,-1.5l0.2,-1.2l0.6,0.2l0.3,1l1.1,0.2l0.3,1.8l0.7,1l1,0.7l3.2,0.3l0.1,3l0.9,2l0.8,0.5l3,0l0.9,0.5l0.9,2l-0.2,4zM36.5,-6.1l-1,-0.4l-0.5,-2l1.5,-1.4l0.4,0.4zM-6.5,-5.3l-2,0.7l-2.9,-1.9l-1.4,-2l1.3,-0.1l2.6,1.1l2.8,2zM81.5,-6.3l-1.1,-0.2l-0.4,-2l0.5,-0.8l1,0.3zM-53.5,17.6l-1.2,-0.1l-0.8,-1.6l-2,-1.6l-1,0.1l-3,1.8l-2,-0.1l-2,0.7l-1,-0.2l-3,-2.7l-2,-0.6l-3,-2.6l-1.5,-2.2l-1.8,-5l0.9,-3l1.3,-2l0,-1l2.1,-2.5l1,-0.7l2,0.4l4,-1.1l2,0l4,-2l1,0l3,1.1l1.2,0.8l0.8,1.4l1,-0.7l1,0.1l2,1.3l3.2,3.9l-0.1,1l1.7,2l-0.1,1l-1.9,5l-0.8,0.9l-2,0.3l-1,-1.3l-0.3,2.1l-2.7,2.2l-0.4,1.8l2.7,1l0,1zM22.5,7.4l-2,-2.4l-2,0.9l-2,-1l-1,0.2l-3,-0.4l-1.6,-1.2l-1.2,-2l0.3,-1l-0.6,-2l0.3,-2l1.7,-2l2.1,0.5l1,-0.7l3,-0.1l2,1.3l2,-0.7l3,0l3.2,1.7l0.2,1l1,1l0.5,3l-1.2,1l-0.8,2l-3.9,1.8zM125.3,2.5l1.1,-1l-0.9,-1.8l-1.7,2.8l0.7,0.7zM-39.5,15.6l-0.2,-2.1l1.2,-0.4l0,1.6zM47.5,25.1l-1,0.1l-0.5,-0.7l1.4,-2l0.4,-2l1.1,-2l0.3,-2l-0.2,-3l0.5,-0.4l0.7,0.4l0.2,1l-0.7,2l0,3zM-40.5,21.1l-1,0l-0.2,-0.6l1.2,-1.5l1,0.5zM-48.5,28.1l-1.3,-0.6l1.3,-2.9l3,-2.6l3,-1.1l0.9,0.6l-0.3,1l-3.6,2z"/><path fill="#f04c2f" d="M150.5,11.5l-3.1,-1l-0.9,-1l-1.2,0l-1.2,-1l-0.6,-1.8l-0.6,-0.2l-2.4,-0.1l-3,-1.3l-1,1l-3,-0.5l-1,-0.8l-2,-0.3l-1,-0.7l-3,0.3l-2,1.2l-4.9,1.2l4.9,1.8l1,-0.3l2,0.5l-1,1.3l-1.1,-0.3l-0.5,1l-2.5,0l-3.9,-1.8l-1,1l-1.9,-0.2l-1.1,-1.7l-3,1l-3.9,-0.3l-5.1,-2.9l-3,-3.1l-0.3,-1l-1.7,-2l0,-1l-0.9,-1l0.3,-1l-1.4,0.1l-0.5,-1.1l-0.2,-1l3.7,-0.4l0.9,-0.6l-0.4,-3l0.2,-4l-1.7,-2.7l-2.1,-0.3l1.7,-2l0.7,-3l-0.5,-1l-1.8,-0.6l-2,2.1l-0.4,-0.5l-0.1,-3l0.5,-1l1,-0.5l0.9,1.5l3.8,0l2.3,1.8l4,0l1.6,1.2l0.3,1l-1.5,2l1,2l1.6,2l0.1,3l-1.1,0.7l-2.2,-0.7l0.6,-3l-0.5,-2l-0.9,-0.7l-2,-0.5l-1,0.4l-0.8,0.8l-0.1,2l0.5,1l-1.3,2l-0.2,3l0,1l1.9,1.7l3,0.5l0.1,2.8l1,1l-0.9,1l0.1,1l2.5,3l-0.4,2l0.6,0.4l6,0.8l2,-0.6l1,1.1l1,0.1l0.9,-0.8l0,-1l-0.9,-0.9l-1.8,-0.1l0.8,-2l-1.7,-1l-0.3,-1.1l-0.5,0.1l1.2,4l-3.7,0.5l-1,-0.5l-1.5,-3l-0.1,-3l0.6,-1.2l1,-0.4l1.3,-1.4l1.7,-0.5l3.7,-3.5l0.3,-1.4l1.9,-2.6l-0.4,-3l0.5,-2.7l2,-0.5l0.8,0.2l0.2,1l1,0l0.3,3l2.8,2l0.3,4l-0.4,2.6l-1,-0.1l-1,-2.7l-1,-0.3l-1,0.8l-2,-2.1l-1,1l-1,1.8l0.3,1l1.1,1l-0.3,2l0.9,1.8l5,0.2l1,-0.8l2,-0.2l2,1.8l3.5,0.2l1.5,1.6l7,0.4l1,0.9l1,0l2,2l2,-0.1l0.9,-0.8l0.1,-1.1l2.4,0.1l3.6,2.7l0.3,1.3l-0.3,1l-3,-1.3l-1.5,1.3l-0.5,1l1.3,2l-0.3,0.6zM-77.5,-2.5l-0.4,-1l0.3,-2l-0.9,-1.5l-3.7,-0.5l-2.3,-1l-2,-2l-1,-2l-4,-1.2l-3.7,-3.8l0.7,-0.6l2,0.4l1.6,-0.8l0.4,-2l0,1l2,0.9l0.7,2.1l1.3,0.9l3.1,0.1l0.1,3l0.8,2l1,0.7l3,-0.1l1.4,1.4l0,5zM81.5,-6.4l-1,-0.8l0,-1.7l1,0.2zM-65.5,16.6l-2,-0.8l-2,-2.2l-2,-0.6l-2,-1.4l-2.4,-3.1l-1.7,-5l1,-3l1.6,-2l-0.2,-1l0.5,-1l2.2,-1.9l3,0.3l3,-1.1l2,0.1l5,-2.1l3.8,1.7l0.4,3l1.8,1.4l0.5,-1.4l-1.1,-1l0.6,-1l2,0.6l4,4.4l-0.5,2l1.9,1l-2.1,6l-1.3,0.5l-1,-0.3l0,-2.1l-2,1.9l-1,-0.8l-1,0.8l2.2,2l-2.7,2l-0.5,2.4l-2,-1.1l-1,0l-3,2.1l-2,0zM-7.5,-5.1l-1,0.1l-1.1,-0.5l-2.3,-2l0.4,-0.5l2,0.6l2.6,1.9zM22.5,6.5l-2,-2.1l-2,0.8l-2,-0.9l-4,0.1l-1,-0.4l-1.6,-2.5l0.7,-2l-0.8,-1l0.1,-2l0.6,-0.7l1,-0.7l2,0.3l1,-0.6l2,0.3l1,-0.4l1.2,0.8l0.1,2l0.7,0.4l1.4,-2.4l0.6,-0.3l3,-0.2l2.7,1.5l-0.2,1l1.7,1l-0.1,3l-0.9,1l-0.9,2zM18.2,-0.5l0.1,-1l-0.8,-0.7l-1.4,1.7l0.4,0.6zM-72.2,0.5l-1.6,-1l-0.1,1l0.4,0.6zM125.3,2.5l1.1,-1l-0.9,-2l-1.8,3l0.8,0.7zM104.2,3.5l1,-1l-0.7,-0.6l-1.8,0.6l-0.6,1l0.4,0.7zM112.4,7.5l-1.9,-0.7l-0.9,0.7l1.9,0.8zM-55.9,9.5l-0.6,-0.7l-1.3,0.7l1.3,0.9zM49.5,16.4l-0.3,-1.9l0.3,-1.2l0.5,1.2zM-53.5,17l-1,-0.3l0.1,-1.2l1.4,0l0,1zM48.5,21.8l-0.5,-1.3l0.5,-1.2l1,-0.8l0,-1.7l0,2.7zM-44.5,23.7l-1,0.4l-0.9,-0.6l0.9,-1.2l1,-0.4l2,-0.7l0.4,0.3l-0.1,1zM47.5,25l-1,0l-0.4,-0.5l1.4,-1.8l0.6,0.8zM-48.5,27.7l-0.6,-0.2l0.2,-2l2.4,-1.9l0.6,0.9z"/><path fill="#ea2e1d" d="M99.5,-8.8l-0.1,-4.7l-0.4,-1l-1.5,-1.8l-1.6,-0.2l2.1,-3l0.2,-2l-0.7,-1.2l-2.2,-0.8l3.2,-0.9l3,2l3.9,-0.1l1.4,1l-0.3,1.5l-2,-1.1l-0.3,0.6l0.3,0.5l1,-0.3l0.7,0.8l-0.7,2.5l-3,-0.9l-1,0.3l-1.1,1.1zM151.5,11l-1,0.4l-2.7,-0.9l0,-1l1.6,-1l-2.9,-2.6l-0.8,0.6l-0.2,2.3l-1,-0.3l-0.5,-2l-0.5,-0.5l-3,0l-1.3,-0.5l0.3,-1.2l-2,0.1l-1,1.4l-3.1,-0.3l-0.9,-0.9l-1.5,-0.1l-1.5,-0.9l-3,0.2l-2,1.3l-5.9,1.4l3.9,1.6l4.6,0.4l-0.6,0.7l-2,0l-2,0.9l-4,-1.9l-0.9,1.3l-1.4,0l-0.7,-2l2,-0.1l1,-0.9l0,-1l-1,-1l-0.9,0l0.7,-2l-2.8,-2.4l-1,0l-2,-2l-1,0.3l-0.9,1.1l1.9,1.2l2,0.5l0.8,2.3l-0.3,1l-2.5,0.3l-0.7,-0.3l-1.6,-3l0.2,-4l1.1,-0.4l1.4,-1.6l1.6,-0.3l3.9,-3.7l0,-1l1.1,-1l1,-2.8l1,-0.2l-1.3,-2l0.3,-2.1l0.9,-0.9l1.4,0l0,1l1.7,0.5l0.2,2.5l2.9,2l-0.1,5.4l-1,0l-0.3,-1.4l-1.7,-1l-1,0.7l-2,-2l-1.9,2.3l0,2l1.2,1l-0.3,2l1,2l3.2,0l1.4,1l-1.4,3l0.8,0.8l2,-1.8l-0.7,-3l1.7,-0.9l2,0.8l1,0.9l3.3,0.2l0.5,1l1.2,0.8l6.8,0.2l1.2,1l1,0l2,1.9l2,-0.1l0.9,-0.8l0.1,-1.1l1.9,0.1l0.1,1.1l2,-0.1l2.2,2l-0.2,1.5l-3,-0.9l-2,2.2l-0.9,0.2l0.9,0.3l1,1.2zM-77.5,-5.8l-1,-1.4l-3.4,-0.3l-2.3,-1l-2.2,-2l-0.2,-1l0.5,-2l-0.4,-0.6l-2,0.8l-3,-0.6l-2.4,-2.6l0.4,-1l3,-0.9l1.8,0.9l2.2,2.6l0.7,-0.6l2.3,0l0,3l0.6,2l1.4,0.8l3.5,0.2l0.8,2zM107.5,-11l-1.8,-0.5l0.8,-4.9l1,0.7l1,2l-0.2,2.2zM-61.5,15.6l-4,0.8l-1,-0.4l-2.2,-1.5l-0.8,-1.5l-2,-0.4l-1,-1.2l-1,-0.1l-2.3,-2.8l-1.6,-5l1,-3l0.9,-1.2l1,0.7l1,1.7l2.6,-1.2l-0.6,-0.8l-3,-1.4l-0.4,-0.8l2.4,-2.6l3,0.4l3,-1.4l2,0.2l2,-0.6l2,-1.3l2,0l2.4,1.3l0.3,1l-0.7,1.6l-1.3,0.4l0.3,0.3l1,0l4,1.8l-0.1,-2.1l-1,-1l1.1,-0.6l2,1.2l2.8,3.4l-1.2,2l-0.1,3l-0.5,1l-2,0.7l-0.9,-0.7l0.9,-1.1l0.6,-1.9l-0.6,-0.1l-0.3,1.1l-2,1l-1.7,4.8l-1,-0.9l-1,0.1l-0.7,1l0.4,1l2.2,1l-0.3,1l-0.6,0.7l-2,0.1zM101.5,3.3l-1,0.2l-2.6,-4l0.3,-3l-1.7,-1.2l-1,1.2l-0.4,-2l3.4,-0.3l2,-0.8l1,1l2,0.1l1,0.5l0,2.5l1,1l-0.9,1l-0.1,2l-2.6,1zM22.5,5.7l-2,-1.6l-1,0.3l-3,-1.1l-1,0.6l-2,-0.2l-1,0.4l-1,-0.3l-1.4,-2.3l1.1,-1l0.2,-1l-1,-1l-0.2,-2l0.3,-0.4l1,-0.5l2,0.3l1,-0.6l2,0.7l1,-0.9l0.5,0.4l0.5,1.2l-1,0.3l-2.2,2.5l0.2,1.2l1,0.1l4,-2.3l1,-2.8l3,-0.4l1,0.9l1.1,0.3l-1.1,0.3l-1.7,1.7l0.7,0.8l1,-0.7l2.3,-0.1l0.7,2l-1,1.2l-3,-1.7l-0.7,1.5l0.1,1l0.6,0.6l1,-0.1l1,-0.7l0,1.5l-0.3,0.7zM108.5,8.5l-6,-2.9l0,-0.8l1,-0.7l2,-0.3l0.4,-1.3l0.6,0l0.3,1l-0.3,2l1,0.7l2.3,0.3zM-69.3,10.5l-0.2,-1.4l-1,-0.6l-0.6,1l0.6,0.7zM-54.5,10.8l-1,0.6l-0.3,-0.9l0.3,-0.8l1.9,0.8zM-44.5,23.5l-1.3,0l1.3,-1.3l0.7,0.3zM47.5,24.8l-1.2,-0.3l1.2,-1.5l0.4,0.5zM-48.5,27.1l-0.2,-1.6l1.2,-0.7l0.6,0.7z"/><path fill="#e31611" d="M99.5,-13.9l-2,-2.5l-1.2,-0.1l1.8,-2l0.4,-3l-1,-1.6l-0.9,-0.4l1.9,-0.6l3,2l2,-0.1l0.9,0.7l-0.6,1l0.7,0.9l1.1,0.1l-0.1,1.7l-3,-0.3l-1.5,0.6l-0.9,1zM-88.5,-13.4l-0.7,-0.1l-0.3,-0.9l-2,0.4l-0.5,-0.5l0.1,-1l0.9,-1l-1.1,-1l1.6,-0.5l3.3,2.5l0.5,1zM126.5,-8.7l-1,0.2l-2,-1.3l-1,0.6l-1,-0.7l-0.9,-2.6l0.5,-1l-1.7,-2l0.1,-1.3l1,-0.9l3,1.1l0.1,2.1l2.9,2zM-77.5,-6.4l-1,-1l-3,-0.1l-2.4,-1l-2.3,-2l-0.3,-1l2,-3.6l1,0.1l0,1.9l-0.6,0.6l1.6,3l4.4,0l0.6,1zM107.5,-11.2l-1.5,-0.3l0.5,-2.9l1,-1l0.8,1.9l-0.3,2zM-64.5,15.7l-1,0.4l-2,-0.6l-2,-3.3l-1,0l-0.9,-0.7l0.9,-0.7l1,0.5l0.8,-0.8l-0.8,-2.2l-1,-0.2l-3,2.9l-1,-0.9l-1.2,-1.6l-1.5,-5l0.1,-1l1.6,-2.8l0.8,0.8l0.2,1l1,0.7l2,-0.9l3,0.7l0.4,-0.5l0.9,-2l-0.3,-0.2l-1,0.2l-1,1.5l-1,-1.7l-2,-0.5l-1,-1.2l-1,0l1,-0.3l0.4,-1.8l0.6,-0.4l2.7,0.4l0.3,1.2l0.4,-1.2l1.6,-1.2l3,0.1l1,-0.5l1,0.3l2,-1.8l2,-0.1l2.2,1.2l0.3,1l-0.5,1l-1.7,1l0.7,0.6l1.5,0.4l0.5,0.9l1,-0.2l1,0.8l1,0l0.8,-0.5l-0.5,-2l-0.9,-1l1.6,-0.1l3.6,4.1l-0.6,1.4l-1,0.6l-1,-0.2l-1.6,1.2l-0.4,1l-1,0.3l-2,4.2l-2,0.1l-1,1.3l-1,-0.6l-1.3,0.7l4.2,2l-0.2,1l-3.7,1.2l-1,1.5zM136.5,5.6l-2.7,-0.1l0.6,-1l-2.9,0l-0.9,-1l-1.1,-0.4l-1,0.6l-2,0l-2,1.2l-5,1.2l-2,-1.6l-0.1,-1l1.1,-2.5l1.2,-0.5l-1.2,-0.4l-2,1.2l-2,-1.5l-1.1,-0.3l-0.8,-1l0.5,-1l-1.3,0l-2.3,1.1l0,-1.1l1,-0.2l1.5,-1.8l1.5,-0.2l4,-3.6l1,2.8l1.1,0l-0.1,4l1,0.7l0.5,-0.7l2.2,0l1.4,1l0,1l-0.9,1l-0.1,1l0.9,0.9l2.3,-1.9l-0.8,-3l1.5,-0.6l2,0.6l1,0.9l3.2,0.1l-0.4,1l1.2,1.1l2.6,-0.1l-0.8,1l0.2,0.2l1,-0.8l1.5,1.6l-1.5,0.2zM98.5,-4l-2,-1.2l-1,0.2l-0.2,-0.5l4.2,-0.2l1,-0.7l0.7,0.9zM-61.6,-3.5l-0.9,-1.8l-0.7,0.8l0.1,1zM100.5,3l-2.1,-2.5l-0.2,-1l1,-2l0.3,-1.8l1,0.8l1,-1.7l3,0.4l0,1.2l-1.1,1.1l2.1,1l-0.9,1l-0.1,1.3zM12.5,3.9l-1.1,-0.4l-1.1,-2l1.2,-0.6l0.3,-1.4l-1.3,-1.5l-0.1,-1.5l1.1,-0.6l2,0.4l1,-0.6l1.8,0.8l0.1,1l-1.5,2l-1.7,4zM23.5,4.9l-1,0.4l-2,-1.4l-1,0.1l-1,-1.1l-3.1,-0.4l0.3,-1l4.8,-2.4l1,-2.9l1,0.1l2,-0.8l0.8,1l-2.2,2l0.8,1l-0.7,3l0.9,1l0,1zM-66,-2.5l-0.5,-0.5l-1.1,0.5l1.1,0.8zM117.9,-1.5l-0.4,-1.1l-2,-0.3l-0.7,0.4l0.7,1.7zM-57.8,-0.5l-0.7,-1l-0.5,1l0.5,0.8zM27.5,1.2l-0.7,-0.7l-0.1,-1l0.8,-0.5l0.6,1.5zM112.5,4.6l-1.4,-0.1l-1.6,-2l0,-2.5l1.3,0.5l0.7,1l2,0.3l0.5,1.7zM150.5,8l-1,0.1l-2,-1.6l-1,-1.5l-1,1.2l-1,0.1l-1,-0.8l-3.5,0l0.3,-1l-1.6,-3l3.4,0l1.4,1.8l2,0.3l1,0.9l2,-0.2l1,-0.8l0,-1.1l1,0l0.4,0.1l-0.3,1l1.4,1l1.5,0.3l1,-0.4l1.1,1.1l-0.2,1l-0.9,0.3l-1,-0.9l-1,0zM-50.5,5.7l-0.9,-0.2l0.9,-2.1l0.8,1.1zM-73.5,5.5l-0.3,-1l-0.7,-0.3l-0.7,0.3l0.7,1.2zM-67.1,6.5l0.7,-1l-2.1,-1l-1,-0.2l-1,1.2l1,-0.2l1,0.3l1,1.2zM104.5,6l-2,-0.5l0,-0.3l2,-1l0.6,0.3l0.4,1zM-57.7,6.5l0.4,-1l-1.2,-0.5l-1,-0.1l-1,0.4l-1,-0.7l-0.7,0.9l0.7,1.4l1,-0.4l2,0.7zM108.5,7.6l-1,0.2l-1.9,-1.3l0.9,-0.5l2.1,0.5zM122.5,9.7l-1.2,-0.2l-1.8,-1.6l-1.6,-0.4l2.6,-0.2l2,1.1l4.3,0.1l-0.3,0.4l-3,-0.1zM151.5,10.9l-1,0.4l-2.2,-0.8l0.1,-1l2.1,-0.3l1,0.9z"/></g>
<use href="#lakes" fill="#fff"/>
</g>
<path d="M79.72,282.00V442.00M131.13,282.00V442.00M182.55,282.00V442.00M233.97,282.00V442.00M285.38,282.00V442.00M28.30,308.67H336.80M28.30,335.33H336.80M28.30,362.00H336.80M28.30,388.67H336.80M28.30,415.33H336.80" stroke="#333" stroke-width="0.45" fill="none" opacity="0.75"/>
<rect x="28.30" y="282.00" width="308.50" height="160.00" fill="none" stroke="#666" stroke-width="0.55"/>
<text x="70.8" y="270.5" font-size="15.2" fill="#4b4fa6" textLength="226.5" lengthAdjust="spacingAndGlyphs">2012 Gross Primary Productivity</text>
<text x="79.72" y="450.8" font-size="9.6" text-anchor="middle" fill="#111" textLength="45.5" lengthAdjust="spacingAndGlyphs">120°0'0"W</text>
<text x="131.13" y="450.8" font-size="9.6" text-anchor="middle" fill="#111" textLength="41.5" lengthAdjust="spacingAndGlyphs">60°0'0"W</text>
<text x="182.55" y="450.8" font-size="9.6" text-anchor="middle" fill="#111" textLength="27.0" lengthAdjust="spacingAndGlyphs">0°0'0"</text>
<text x="233.97" y="450.8" font-size="9.6" text-anchor="middle" fill="#111" textLength="38.5" lengthAdjust="spacingAndGlyphs">60°0'0"E</text>
<text x="285.38" y="450.8" font-size="9.6" text-anchor="middle" fill="#111" textLength="43.0" lengthAdjust="spacingAndGlyphs">120°0'0"E</text>
<clipPath id="tc3"><rect x="28.3" y="280.00" width="308.5" height="1.7"/></clipPath><g clip-path="url(#tc3)">
<text x="79.72" y="281.50" font-size="9.6" text-anchor="middle" fill="#333" textLength="45.5" lengthAdjust="spacingAndGlyphs">120°0'0"W</text>
<text x="131.13" y="281.50" font-size="9.6" text-anchor="middle" fill="#333" textLength="41.5" lengthAdjust="spacingAndGlyphs">60°0'0"W</text>
<text x="182.55" y="281.50" font-size="9.6" text-anchor="middle" fill="#333" textLength="27.0" lengthAdjust="spacingAndGlyphs">0°0'0"</text>
<text x="233.97" y="281.50" font-size="9.6" text-anchor="middle" fill="#333" textLength="38.5" lengthAdjust="spacingAndGlyphs">60°0'0"E</text>
<text x="285.38" y="281.50" font-size="9.6" text-anchor="middle" fill="#333" textLength="43.0" lengthAdjust="spacingAndGlyphs">120°0'0"E</text>
</g>
<text transform="translate(26.6,282.00) rotate(-90)" font-size="9.6" text-anchor="middle" fill="#111" textLength="32.7" lengthAdjust="spacingAndGlyphs">90°0'0"</text>
<text transform="translate(345.4,282.00) rotate(-90)" font-size="9.6" text-anchor="middle" fill="#111" textLength="32.7" lengthAdjust="spacingAndGlyphs">90°0'0"</text>
<text transform="translate(26.6,335.33) rotate(-90)" font-size="9.6" text-anchor="middle" fill="#111" textLength="40.2" lengthAdjust="spacingAndGlyphs">30°0'0"N</text>
<text transform="translate(345.4,335.33) rotate(-90)" font-size="9.6" text-anchor="middle" fill="#111" textLength="40.2" lengthAdjust="spacingAndGlyphs">30°0'0"N</text>
<text transform="translate(26.6,388.67) rotate(-90)" font-size="9.6" text-anchor="middle" fill="#111" textLength="38.5" lengthAdjust="spacingAndGlyphs">30°0'0"S</text>
<text transform="translate(345.4,388.67) rotate(-90)" font-size="9.6" text-anchor="middle" fill="#111" textLength="38.5" lengthAdjust="spacingAndGlyphs">30°0'0"S</text>
<text transform="translate(26.6,442.00) rotate(-90)" font-size="9.6" text-anchor="middle" fill="#111" textLength="32.7" lengthAdjust="spacingAndGlyphs">90°0'0"</text>
<text transform="translate(345.4,442.00) rotate(-90)" font-size="9.6" text-anchor="middle" fill="#111" textLength="32.7" lengthAdjust="spacingAndGlyphs">90°0'0"</text>
<text x="15" y="473.3" font-size="12.3" fill="#111" textLength="115.5" lengthAdjust="spacingAndGlyphs">2012GPP (gC•m⁻²• yr⁻¹)</text>
<rect x="132" y="464.3" width="191.00" height="10.70" fill="url(#cbg)"/>
<text x="132.8" y="485.2" font-size="12.6" text-anchor="middle" fill="#111">0</text>
<text x="219.5" y="485.8" font-size="12.6" text-anchor="middle" fill="#111">1500</text>
<text x="321" y="484.6" font-size="12.6" text-anchor="middle" fill="#111">3000</text>
<g transform="translate(525.05,361.70) scale(0.8542,0.8878)">
<use href="#land" fill="#049604"/>
<g clip-path="url(#lc)"><path fill="#11a325" d="M147.5,44.5l-2,-0.4l-1.8,-2.6l-0.2,-1.1l-2.3,-0.9l-2.7,-2.9l-2,-0.9l-1,0l-1,-1.2l1,-0.8l5,1.1l1,-1l2,0.2l3.4,-2.5l0.5,-4l-2.8,-4l-0.1,-2.5l-3,-1.2l-3,1.4l-1,-0.2l-3,-2.3l-3,-0.5l-7,1l-1.8,-0.7l-0.2,-1l-0.1,-1l3.1,-3.1l3,-0.1l3,-2.8l1,-0.1l4.1,0.1l1,1l0,3l1.9,1.4l0.9,-1.4l0.2,-4l-3.1,-0.7l-1.3,-1.3l0.3,-1l-1,-1.1l-3,-0.5l-1,-0.8l-1,0.4l-3,-0.4l-1,0.7l-1,-0.4l-1.6,1.1l0.6,0.7l3,0l1.1,1.3l-2.1,2.5l-2,0.7l-1,0l-1,-0.7l-3,0.4l-1,-0.6l-10,-1l-3,-0.9l-6,-5.9l-2.8,-4.5l-2.7,-3l-0.2,-1l0.7,-1.1l2.8,-0.9l0.2,-5l-1,-1.6l-3,-1.2l-1,-4l-2,-2.5l-0.7,1.3l-2.3,0.4l-6,5.6l-0.3,4l1.4,2l0.2,2l-0.6,1l-1.7,0.8l-1.3,-0.8l-0.7,-1.7l-2,-0.3l-1.1,-1l-3.9,-9l-0.1,-1l-1,-2l-1.9,-1.3l-0.7,-2.7l-1,-1l0.7,-1.7l2,-1.6l1.1,-1.7l-0.8,-1l0.1,-2l0.6,-0.5l2,0.3l1,-1.5l1,-0.3l1,0.3l5.9,4.7l2.1,1.1l7,0.7l6,-1.5l2,1.8l3,-2.5l1.3,-6.6l5.7,-3.8l2,-0.5l2,-1.4l4,-0.4l3.3,-2.9l0.3,-1l-0.6,-0.8l-2,-0.5l-1,1.5l-1,-0.2l-1,-1.4l-3,0.6l-2,-1l-3,0.6l-1,-1l-1,0.7l-1,0l-6,-1.4l-1.6,0.9l-0.4,0.9l-2,-0.7l-1,0.9l-1,0.1l-3,-0.3l-2,-0.9l-2,0.5l-1,-0.2l-2,-1l-6,-1.7l-4,0.1l-2,-0.5l-2,0.7l-2,-0.1l-1,0.8l-1,-0.6l-3,1.8l-3,-0.4l-3,0.8l-2,1.3l-3,-0.8l-1.1,0.3l-1.9,2l3,2.6l1,-0.9l0.7,1.3l-1.7,0.4l-0.1,0.6l1.5,1l-0.6,1l-1.8,0.9l-2.4,0.1l-1.6,1.3l-2,0.3l-5,3.3l-2,-0.1l-1,-0.8l-2,1.1l-3,-1.2l-2,0.2l-3,1.3l-2,-0.9l-1.8,-1.5l-1.2,-2.1l-1,-0.4l-2,1.2l-1,-0.2l-4,-3.8l-2,-0.3l-2,0.5l-2,-0.5l-1,0.1l-2,1.7l-0.8,0.8l-0.2,1.2l1,0.7l2,-0.8l3,1l2,-0.9l1.1,0.8l0.3,1l-0.4,1.1l-1,0.7l-4,-0.6l-5,1.3l-4,0.2l-2,1.2l-2,2.2l-1,0.4l-1,-0.2l-1,-1.3l2,-3l-0.3,-1l-1.8,-2l0,-5l2.1,-2l4,-0.3l1,-0.7l-4,-4.8l-2.2,-0.2l-1.2,-1l-0.2,-1l0.5,-2l3,-2l1,-2l1.1,-0.9l2,-0.3l1,0.2l1.1,1l0.7,1l0.3,2l0.9,0.9l2,1.6l1,0.2l3.9,-2.7l1.7,-2l-0.6,-0.8l-2,0.4l-1.8,-1.6l-0.5,-1l1.1,-2l1.2,-0.9l4,0l3.3,-2.1l0.7,-1.1l2,-1.3l6,-0.2l2,1.4l3,0.4l2,2.1l1,0.3l2,-2.2l2,-1l5,0.3l6,1.3l1,-0.5l3,1.1l1,-0.9l2,1.4l5,-1.1l2,0.9l0.2,-0.9l-1.1,-1l0.1,-2l0.5,-1l1.3,-0.5l5,1.4l2,-0.4l2,0.8l3.6,-1.3l2.4,-2.2l0.2,1.2l1.8,0.4l4,-2.4l1,0.2l2,3.2l1,-0.4l1.1,-2l0.1,-1l2.8,-0.8l2,-1.2l2,1l2,0.2l1,-0.8l1.1,0.6l1.9,0.2l1.2,-0.2l1.8,-1.3l1,0.1l2,1.2l2,-0.8l2,1.8l2,0.5l3,0l1,-0.5l3,1.4l1,0.1l1,-0.9l5,1.1l2,-1l1,0l1,1.3l0.7,0l2.3,-1.3l2,1.3l1,-0.2l1.7,-1.8l1.3,-0.7l4,0.8l2,-0.3l1.5,1.2l0.5,1.1l2,-1.6l0.5,0.5l2.5,0.2l1,-0.9l3,0.8l1.2,1.9l1.8,1.2l4,-1.5l1,0l1.7,0.3l0.3,1l2,0.9l4,-1.6l5,3l1.5,1.7l-0.3,1l-2.2,1.1l-3,0.6l-1,-0.6l-2,1l-2,0.2l-2,-1.4l-1,-0.1l-3,0.8l-1,-0.3l-6,0.1l-1,1.7l-1,-0.1l-2,0.8l-4,-0.5l-1,-1.6l-6,-0.1l-3,1.3l-2,-1.4l-0.6,2.5l1.6,1.9l5,3.1l2,-0.8l2.2,1.8l0.9,4l-0.8,3l1.8,3l-1.1,2l-1.4,1l-1.6,4.9l-2.4,2.1l-2.6,0.4l-1,1l-2,0.1l-2,1.5l-2,0.4l-1,-0.5l-2,-2.7l-2,-0.8l-2,-4.6l-1,-0.4l-1,0.4l1.5,2.2l-1.9,2l0.5,2l1,1l0.5,2l-1.3,3l1.5,2l-0.8,2.5l-1,1.2l-1,-0.4l-2,-2.6l-0.9,1.3l-5,2l-0.7,2l-2.4,2l0.9,2l-0.1,3l-4.8,4l-3,-2.9l-1,-0.4l-0.6,1.3l0.8,2l1.8,0.7l1.4,1.3l1.1,4l-0.5,1l0.3,1l2.7,4l1,0.1l-0.2,-1.1l-2,-3l0.2,-2l2,-2.3l3,-1.2l2.8,-2.5l3.3,-5l-0.5,-3l0.4,-2.7l2,-1.9l1,-0.3l2.4,1.9l0,3l0.6,1l2.7,2l-0.1,2l1,3l-0.6,1.6l-2,1.8l-4,-1.2l-1.5,1.8l0.5,0.6l4,0.2l3,-0.8l2,0.9l1,1l3,0.3l2,1.5l3,-0.2l4,1.1l5,2.9l1.3,-0.5l0.2,-1l1.5,-1.4l1,0.1l5,4l3,1.3l3.4,3l0.2,1l-1.6,1.2l-4,-2l-4,-2.8l-1,0l-1.6,1.6l1.5,2l-0.9,1.3l-1,0.4l-2,-0.4l-3,-1.7l-1.5,0.4l3,5l0.8,3l6.6,7l0.5,3l-0.5,3l-2.1,3l-0.8,3l-1,1.1l-1.9,0.9l0.8,3zM-67.5,55.7l-1,0.2l-3,-0.6l-1.4,-0.8l-1.8,-3l0.2,-2l-1.2,-2l0.9,-3l0,-2l-0.5,-1l0.7,-2l0.1,-2.4l1,-0.9l2.4,0.3l-0.4,-1l0.6,-1l3.3,-3l-0.1,-2l1.1,-1l0,-1l-0.6,-2l-1.7,-1l0,-1l1,-1l-0.6,-5.3l-1.9,-1.7l-4.1,-1.8l-1,-2l-1,-0.4l-1,-1.8l-4.2,-4l-0.4,-1l1,-3l-0.2,-2l2.1,-3l0.2,-1l-0.5,-0.9l-5,-2l-4,-4.1l-4,-1.3l-3,-2.1l-2,0.4l-3,-1l-4,-2.7l-2.1,-2.3l-0.9,-1.9l-1.6,-1.1l-0.4,-2.1l-1.7,-1.9l-0.2,-1l0.9,-1.9l1,-0.4l2,0.9l2,2.1l3,-0.8l-0.3,2.1l1,2l-1.1,1l0.4,2.1l1,0.9l1,0l0.3,-5l0.7,-0.9l1,0l1,0.4l1,1.5l0.4,3l0.6,1l1,0.8l1,0.1l1,-0.1l1.3,-1.8l1.7,-1.1l2,0l1,0.6l2,-1.6l2.2,-0.9l-1.4,-3l-1.8,-1.3l-2,-0.1l-2,0.8l-6,-0.2l-1.2,-1.2l-0.8,-5.7l-1,1.7l-1,-0.5l-3,0.3l-1,-2.2l-0.9,-0.6l-0.1,-2.3l0,1.3l-2.2,2l-0.2,2l-0.6,1l-1,0.3l-1,-0.5l-1,1.9l-2.3,-2.7l2,-3l-0.1,-4l-2.6,-0.8l-2,0.8l-1,-0.7l-1,-2.3l-1,-0.1l-1,-2.9l0,-2.1l-1.4,1.1l0.1,1l-0.8,2l0,3l3.8,4l1.8,4l-1.5,1.1l-5,-3.1l-0.8,-1l-2.1,-4l-0.2,-7l-7.9,-6.4l0,-1.6l-1,-0.8l-4,-1.8l-5,-0.5l-3,-0.7l-3,0.2l-2,1.3l-2,0.5l-2,-1.2l-1,0.5l-4,-1.6l-1,-1.5l-0.9,-0.4l0.6,-2l0.8,-1l1.5,-0.3l2,-2l2,0.7l1,-0.2l1,0.9l0.7,-1.1l2.3,-1.4l1,0.8l3,-1l1,0.6l3,0.4l3,-0.3l3,0.8l5,-0.4l1,0.8l2,0l3,1.5l1,-0.1l3,1.1l6,2.7l7,-0.1l0.5,0.6l-0.1,1l4.6,0.5l5,1.7l3,0.1l1,0.9l2,-0.3l4,1.4l6,-0.1l3,1.3l2,-0.3l2,0.9l1.1,-0.1l0.9,-0.8l5,-0.5l1,-0.6l2,0.8l4,-0.6l1,1l2,0.1l3,1.4l3.3,3.2l0.6,1l0.1,1.5l-1.1,1.5l-3.9,0.1l-2,-0.7l-3,2.6l-2.1,0l-0.9,-1.1l-1.2,1.1l-1.8,0.1l-2.6,2.9l-1.4,0.5l-1.8,1.5l-0.8,1l-0.4,2.2l-2.9,2.8l-1.1,0.5l-0.9,1.5l0.6,6l2.3,0.1l0.3,0.9l2.7,2.3l3,-0.1l3,1.6l2,0.2l1.1,1l-0.3,1l-1.8,1l-3,-0.6l-3,0.6l-3,-0.8l-2,0.8l-1.7,-1l-0.3,-1l0.6,-1l-2.6,-0.9l-4,0.2l-0.8,1.7l0,1l1.8,0.3l2,1.2l0.9,1.5l0.1,3l1,0.5l4,0.4l2,-1.9l2,-0.2l1,-0.6l1,0.5l1,-0.4l2,0.9l3,0.5l3,-0.7l1.5,1l1.2,2l1.3,1.1l5,1.6l2.5,2.3l2.5,3.5l1.6,0.5l1.4,1.3l5,0.8l4.7,2.9l1.4,2l-0.1,2.3l-3.2,4.7l-0.6,4l-2.1,5l-2.2,2l-2.9,0.5l-2,1.4l-0.7,2.1l-3.2,4l-7.1,7l-4,1.3l-2,-0.3l-1,0.4l-1.9,-1.4l-1.1,-1.5l-2,-0.2l-1,0.5l-0.3,4.2l-0.7,2l0.1,3l0.9,2.9l2,-0.3l1,0.6l0.2,1.8l1,1l0,1zM128.7,-59.5l1.7,-1l-4.3,-3l0.6,-2l-1.2,-0.9l-0.2,1.9l-1.8,2l0.2,1l1.9,2l1.9,0.5zM95,-62.5l-0.4,-1l-2.1,-1.2l0,1.3l1.4,0.9zM112.1,-62.5l-0.6,-1.3l-3.3,0.3l0.1,1l1.2,0.9zM19.1,-56.5l2.3,-2l0.2,-1l-0.7,-1l0.6,-2.2l-1,-0.6l-1.2,0.8l0.4,2l-1.9,3l0,1l0.7,0.5zM159.5,-51.4l-1,0.4l-2.9,-1.5l-0.7,-1l-0.3,-1l2.9,-3.9l1,-0.2l3.1,2.1l-0.1,3zM-104.2,-42.5l0.7,-1.9l2,-0.8l0.9,-1.3l-0.6,-1l-1.3,0.3l-1,2l-1,-1.8l-2,-0.8l-1.5,0.3l-0.7,1l-0.3,3l0.5,0.9l4,0.9zM-97.4,-37.5l1.2,-3l0.5,-3l0.6,-1l0,-1l-2.4,-0.9l-0.4,0.9l0.7,2l-1.1,2l-0.1,2l-0.8,1l0.7,1.1zM-81.2,-44.5l-0.3,-0.9l-1.2,-0.1l0.2,1.1l1,0.3zM135,-37.5l3,-2l0.4,-3l1.6,-3l-0.5,-0.8l-4,3.9l-2,1.2l-2,0.4l-1.3,1.3l0,1l1.3,1.6l3,-0.1zM-87.1,-42.5l0.6,-0.5l0,-1.6l-1,0.8l0,1.3zM32.6,-43.5l-1.1,-1.3l-1.6,1.3l0.6,0.6l1,0.1zM-115.5,-38l-1.3,-0.5l0.1,-1l1.2,-0.9l0.7,1.9zM54.5,-35.8l-4,0.2l-2.6,-1.9l1.6,-1.7l1,1l2,0.7l2,-0.6l0.7,1.6zM20.5,-31.1l-0.7,-0.4l-0.3,-1l1,-0.8l2,0.1l0.5,0.7zM-114.5,-29.2l-0.5,-1.3l0.5,-1.1l1.6,1.1l-0.6,0.9zM-99.5,-29.3l-1.3,-0.2l-0.4,-1l0.7,-1l1.4,2zM-155.5,-17.9l-1.7,-1.6l1.7,-1.9l1.2,0.9l0.4,1zM25.5,35.5l-6,0.1l-3,-3l0,-2.4l1.7,-0.7l0,-1l-2.7,-1.7l-0.4,-1.3l-1.6,-1l-0.1,-2l-1.6,-3l0,-3l-0.5,-2l0.7,-2l0.1,-2l-1,-4l-3.4,-5l0.4,-3l-0.6,-0.8l-4,-2l-5,1.1l-7,0l-5,-3.5l-3.8,-4.8l-0.2,-1.7l2,-2.3l3,-1.1l3,1.3l1,-0.8l1,-0.1l1,0.9l2,-0.4l7,0.9l3,-0.4l1,0.3l2,-0.6l4,0.8l3,-0.1l2,0.7l6,-0.9l1,0.6l4,0.7l4,-2.3l0.5,1.5l1.1,1l0.5,0l0.9,-1.8l2,0l1,0.2l3,2.4l-0.2,3.2l1,2l-0.1,1l-3.6,4l-0.1,0.7l-2,-0.1l0,0.4l2,0.1l0.5,1.9l-0.8,2l0.3,0.4l1,0.1l1.4,1.5l-0.2,3l1.3,6l-0.5,2.6l-1,1.4l-4,3l0,4l-1.9,2l-2.1,4.1l-3,3zM92.5,-10.3l-1.1,-1.2l0.1,-2l1,-1l1,0.1l0.9,0.9l-0.2,2zM41.5,1l-1,0.3l-0.8,-2.8l0.8,-0.7l1.5,-0.3l2.5,-1.9l1,-0.2l0.1,-0.9l-2.1,-3l2,-1.9l2,-0.4l2,1.2l1.8,0.1l-1.8,0.2l-0.4,0.8l-0.6,1l1.2,1l-1.1,1l-1.1,2.7l-2.9,2.3l-2.1,0.1zM120.8,-7.5l0.6,-1l-0.9,-0.7l-1.6,1.7l0.6,0.7l1,-0.1zM46.5,26.6l-2,0l-1.2,-1.1l-0.9,-2l0.4,-4l-0.4,-2l0.5,-1l4.6,-4.4l2,-1.2l1,0.6l1,1.8l0.1,3.2l-2.1,7.6l-1.1,1.4zM168.5,18l-1,0.3l-2.5,-2.8l0.2,-1l1.3,-1.1l1.6,1.1l1.7,2zM178.5,19.9l-1,0l-1.3,-1.4l-0.1,-1l1.4,-1.5l2,0.5l0.4,1l-0.1,1zM18.6,21.5l3.5,-3l-5.6,-0.3l-0.3,3.3l1.3,0.4zM24.6,22.5l0.9,-0.7l0.2,-1.3l-0.2,-1.2l-1,-0.8l-0.6,1zM167.5,23.9l-2,-0.2l-2.4,-2.2l-0.3,-1l0.7,-1.6l1,-0.4l4,3.5l0.3,0.5zM118.5,35.9l-2,0.5l-2.4,-1.9l0.4,-3.8l1,-0.7l1,0l2,1.2l1.7,2.3l0,1zM169.5,47.6l-2,-0.5l-1.6,-1.6l2.6,-3l1,-0.3l2.9,-2.7l0.4,-2l-1.1,-3l0.8,-0.7l4,2.1l2,0.5l1.1,1.1l-0.1,1.1l-1,1.6l-4,2.8l-4,4.4zM-67.5,43.2l-1,0.1l-0.3,-0.8l0.3,-1l1,-0.4l0.3,1.4zM70.5,50.5l-1,0.3l-1.3,-1.3l0.2,-1l1.1,-1l1.7,2z"/><path fill="#32ac39" d="M148.5,43.8l-1,0.6l-2,-0.5l-2,-3.8l-2.2,-0.6l-1.3,-1l-1.5,-2.2l-3,-0.7l-0.8,-1.1l0.8,-0.6l1,0.2l4,1.5l1,-1l3,-0.4l3,-2.7l0.7,-4l-3.2,-5l-0.5,-3.2l-2,0.2l-1,-0.4l-3,1.3l-4,-2.5l-3,-0.2l-7,1l-1,-0.4l-0.9,-1.8l2.9,-3.1l3,0l2,-2l2,-1l4,0.1l1.1,1l0,3l1.9,1.7l0.8,-0.7l0.5,-5l-3.3,-0.8l-1.3,-1.2l0.4,-1l-0.8,-1l-3.3,-0.7l-1,-0.7l-1,0.3l-3,-0.3l-1,0.6l-1,-0.4l-1.7,1.2l0.7,0.8l3,-0.1l1.1,1.3l-2.1,2.5l-2,0.6l-1,0l-1,-0.6l-3,0.3l-1,-0.6l-10,-0.9l-3,-1l-6,-5.8l-2.7,-4.5l-2.7,-3l-0.3,-1l0.7,-1l3,-1l0,-6l-0.7,-1l-2.3,-0.3l-0.8,-0.7l-0.6,-3l-2.1,-3l-0.5,-1.5l-1,1.9l-2,0.7l-6,5.3l-0.7,4.6l0.7,0.1l1.1,1.9l0.1,2l-0.6,1l-1.6,0.7l-1.2,-0.7l-0.8,-2.3l-2,0.2l-1,-0.9l-3.8,-9l-0.2,-2.1l-1,-1.7l-1.5,-1.2l0.5,-0.5l1,-0.1l0.2,-1.4l-1.2,-0.6l-1,0.4l-0.9,-0.8l0,-1l1.9,-1l1.6,-2l0.3,-1l-1.1,-2l0.2,-0.6l1,-0.3l0.7,0.9l0,1l1.3,0.7l0.7,-0.7l-1.4,-2l0.4,-1l1.3,-0.7l3.4,2.7l5.6,3.4l4,0.7l3,0l5,-1.5l1,0.2l2,1.9l3.2,-2.7l0.8,-2l0.5,-4l0.6,-1l8.9,-5l5,-0.8l3,-3.2l0,-2l-1.8,-1l-1.2,-1.6l-1,1.1l-2,-1.4l-1,1.9l-1,0.3l-1,0l-3,-1.4l-2,-0.1l-2,0.8l-3,-0.4l-1,0.3l-3,-0.7l-2,0.5l-1,-0.2l-3,1.4l-2,0l-3,-0.9l-3,0.2l-2,-1.2l-3,-0.8l-1,-0.9l-6.3,0.1l-0.7,-0.2l-1,-1.4l-0.9,0.6l-0.4,1l-1.7,0.4l-1,-0.4l-1,-1.2l-4,3.4l-1,0.1l-1,-0.8l-1,0l-1,0.7l-2,0.2l-2,1.3l-3,-0.5l-2,0.8l-1.8,2l3.5,3l-0.1,1l1,1l-0.6,0.9l-1,0.6l-2,0l-3,1.3l-1,-0.1l-2,1.1l-1,-1l0.3,1.2l-2.3,2.2l-2,-0.1l-1,-0.9l-2,1.1l-3,-0.8l-4,0.8l-4,-1.2l-2,-2.5l-1,-0.3l-2,1.1l-1,-0.3l-4.6,-4.1l-6.4,0.3l-2.9,2.7l-0.4,1l0.1,1l1.2,0.3l2,-0.7l3,0.9l2,-0.9l1,1.4l-0.6,1l-0.4,0.3l-4,-0.6l-3,0.9l-6,0.7l-2,1.2l-2,2.1l-1,0.3l-1,-0.2l-0.6,-0.7l1.8,-3l-0.3,-1l-2,-2l0,-5l2.1,-1.7l4,-0.5l1.3,-0.8l-3.1,-4l-1.2,-0.8l-1.7,-0.2l-1.4,-1l-0.3,-1l0.5,-2l0.9,-0.8l2,-0.6l1,-2.6l1.8,-1l1.2,0l2,1l1,3l1,1l2,1.6l1,0.2l3.4,-1.8l3.2,-3l-0.6,-1l-1,-0.5l-2,0.1l-1,-0.6l-0.7,-2l0.7,-1l1,-0.5l4,0.1l3,-1.6l1.1,0l2.9,-2.9l1,0.7l4,-0.7l1,1.7l4,0l2,2.3l1,0.3l1,-1.7l2,-1.3l3,-0.4l4,0.5l2,1.5l1,-0.7l3,0l5.8,1.7l2.2,-0.8l3,0.9l3,-0.3l0.8,-0.8l-1.4,-2l0.3,-1l1.3,-1.3l2,0.3l0,1.1l1,-0.5l1,0.7l1,1.7l-1,0.8l-1,-0.1l-2,0.7l-0.6,0.6l0.6,1l4,0.8l2,-1.6l1,1.3l1,-0.1l2,-1.3l2,0.5l1,-0.6l0.7,1l1.3,0.4l2,-0.4l2,-2l1,2.3l2,-0.6l1,0.7l2,-1.4l0.9,1l0.1,1l1,0.7l1,-1l4,0.3l4,-0.4l0.8,1.4l1.2,0.6l2,-1.2l1,0.3l0.8,-0.7l0.1,-2l-0.9,-0.4l-1,1l-1,0.1l-0.8,-0.7l-0.2,-1.1l-0.1,1.1l-1.9,0.9l-2,-2.2l-1,0.4l-3,-1.1l-1,1.4l-3,1.4l-2.8,-1.8l-2.2,-0.1l-2,-1.9l-1.1,0l0.2,-1l1.9,-0.9l3,-0.1l1,0.6l1,-2.4l2.1,0.8l-1.1,-2l3,-2.2l4,1.4l5,-0.6l1,0.3l0.7,1.1l-0.6,2l0.9,0.5l3,-2.9l2,1.7l-0.1,-1.3l1.1,-0.7l2,0.7l3,-0.1l1,0.7l1,-0.4l2,1.3l1,-0.3l1,0.5l1,-1.1l2,0.9l3,0.1l1,-0.6l2,-0.1l1,1l3,-1.2l1,0.5l1,1.3l1,0l3,-2.9l2,0.3l1,1l1,0l1,-1.1l0.7,0.2l1.3,1.7l1,0.5l3,-1.4l2.8,1.2l1.2,1.9l4,-0.2l0.3,0.3l-0.3,1.8l-2,1.9l-1,-2.1l-1,-0.2l-0.6,2.6l0.8,1l-2.2,0.9l-1,1.1l-2,-0.8l-1.5,-1.2l-8.5,-0.1l-1,-0.7l-0.3,-1.2l1.4,-3l0,-1l-1.1,-0.7l-2,2.6l-3,-1.7l-1,0.1l-2,1.5l-2,-3.2l-0.7,0.4l-0.3,1.5l1.5,0.5l0.1,1l1.4,0.2l0.5,0.8l0.2,1l-0.7,1.8l-1,0.1l-1.2,-0.9l0.1,-2l-0.9,-1.8l-1,0.1l-0.7,0.7l-0.8,1l0.3,1l-0.6,1l-2.2,1.6l-1,-1.5l-3,0.3l0.6,-1.4l-0.6,-0.5l-3,1.6l-3,-1.5l-2,0.7l-2,-1l0,-1.5l-2,-0.1l-1.4,1.3l0.5,2l1.9,1.2l1,-0.2l2,2l2,-0.5l1,1.5l1,-1.3l3,-0.3l2,1.1l2,-0.2l1,-0.8l2,0.8l1,1.2l3,1.1l2,-1.1l2,0.1l2,1.8l1,0l1,1l2,0.6l0.6,1l1.4,0.1l1,0.6l2,-1.2l2.2,1.5l0.8,4l-0.7,3l1.7,3l-1,1.8l-1.5,1.2l-1.7,5l-2.3,2l-2.5,0.3l-1,1l-2,0.2l-2.1,1.5l-1.9,0.2l-1,-0.5l-2,-2.6l-1,-0.1l-1,-0.8l-2,-5l-1,-0.5l-1.5,0.3l-0.7,1l2,2l-2.1,2l0,1l2.4,3l0,2l-0.9,2l1.4,2l-0.6,2.3l-1,1.1l-1,-0.3l-2,-2.9l-1,0.8l-0.3,1l-4.7,1.9l-0.7,2.1l-2.5,2l0.9,2l0,3l-4.7,3.8l-4,-3.7l-0.7,1.9l0.6,2l2.1,0.7l1.4,1.3l1,4l-0.4,1l0.3,1l2.6,4l1.1,0.2l-0.1,-1.2l-2.1,-3l0.3,-2l1.9,-2.2l3,-1.3l2.9,-2.5l3.3,-5l-0.5,-3l0.3,-2.6l2,-1.9l1,-0.2l2.3,1.7l0.1,3l0.6,1l2.7,2l-0.1,2l0.9,3l-0.5,1.5l-2,1.8l-4,-1.2l-1.5,1.9l0.5,0.7l4,0.2l3,-0.8l2,0.9l1,1l1,0.3l1,-0.4l2,0.8l1,1l3,-0.1l4,1l5,2.9l1.3,-0.5l0.2,-1l1.5,-1.3l1,0.1l5,4l2.9,1.2l3.4,3l0.3,1l-1.6,1.1l-4,-1.9l-4,-2.8l-1,0l-1.6,1.6l1.5,2l-0.9,1.3l-1,0.3l-2,-0.3l-3,-1.7l-1,-0.1l-0.6,0.5l3,5l0.8,3l5.9,6l1,2l0.2,2l-0.5,3l-2.2,3l-0.7,3l-0.9,1l-2.6,1l0.6,0.3l0.7,1.7l0.1,1zM82.5,-68.8l-1,-0.2l-1.8,-1.5l1.8,-0.3l1,0.8zM97,-68.5l-0.5,-1.2l-0.5,1.2l0.5,0.5zM75.5,-63.5l-1,-0.4l-2,0.3l-1,-1.3l-1,0.3l-1,-1.7l-1.1,-0.2l5.1,0.4l1,-0.4l0.1,-2l2.9,-0.7l1,0.3l0,0.5l-2,1.5l-1.8,0.4l0.8,0.7zM123.1,-67.5l-0.6,-1.2l-1,-0.3l-1.3,0.5l1.3,1.5l1,0zM169.5,-62.1l-2,0.1l-2,-1.6l-1,-0.2l-6,1.1l-1.6,-0.8l0.6,-1.8l2,0.2l0.5,-0.4l0.3,-1l-0.8,-1l2,-1.4l1,0.1l5,2.1l4,-1.3l4.2,2.5l-1.2,1.8l-1,0.1l-1,0.7l-2,0zM-61.5,40.6l-2,-1.3l-2,0.3l-0.7,-2.1l-2.2,-1l0.2,-3l0.9,-1l1.3,-6l-1.5,-3l0.9,-1l0.1,-2l-1.4,-3l-2.2,-2l-3.7,-2l-3.2,-4l-1.2,-2l-0.3,-1.9l-2.6,-1.1l-0.2,-1l0.8,-2l-0.3,-2l1.9,-4l-0.6,-1.1l-4,-1.2l-5,-4.8l-4,-1.3l-3,-2.3l-2,0.7l-3,-1.1l-4,-2.7l-2,-2.2l-4.6,-8l1.6,-1.9l1,0.1l2.7,2.8l3.3,6.4l1,0.9l1,0.1l0.7,-1.4l-0.5,-3l0.8,-1.3l1,-0.3l1.8,1.6l0.5,3l1.7,1.9l2,0l1.4,-1.9l1.6,-1l2,0l1,0.7l2,-1.8l2.7,-0.9l-0.7,-0.5l-1,-2.5l-2,-1.4l-2,-0.1l-2,0.7l-3,-0.2l-2,-0.4l-1.7,-1.6l-0.5,-2l0.2,-5l1.4,-5l1.6,-2l-0.3,-1l-2,-1l-1.7,-1.9l-1,0.5l-2,0l-4,-0.9l-2,0.1l-2.7,1.2l-0.8,5l-0.5,0.4l-2,0.5l-3,-0.2l-0.9,-0.7l-1.9,-3l0,-3l-1.2,-1.5l-2,1.6l-0.3,6.9l2.8,3l2,4l0.4,1l-0.9,0.7l-5,-2.9l-1.8,-2.8l-0.8,-2l-0.4,-7.1l-7.8,-6.9l-0.1,-1l-2.1,-1.6l-3,-1.2l-7,-1l-3,-0.1l-2,1l-3,0l-3,-1.7l-3,0.2l-1.5,-1.6l0.5,-2l1,0.1l2,-2.3l3,0.4l1,0.7l2,-1.5l4,-1.2l4,0.9l2,-0.6l5,1.5l2,-0.6l2,1l1,-0.6l3,0.4l4,1.8l3,0.5l6,2.8l3,0.2l2,0.9l1,-0.2l1,0.8l5,0.2l2,1.2l1,-0.4l2,0.9l2,-0.2l2,1.2l2,-0.3l4,1.4l1,-0.2l1,0.4l5,0.3l2,0.7l2,-0.3l2,0.8l4,-0.5l2,-0.9l6,0.2l1,-0.3l2,0.9l3,0.1l3,1.4l2.6,3.4l0,2l-0.6,0.6l-1,0.4l-3,0l-2,-0.7l-2,0.7l-2,1.7l-2,-1.1l-2,1.4l-1,0l-3,3l-1,0.3l-1.9,1.7l-0.8,1l-0.3,2.1l-2.9,2.9l-1.1,0.4l-0.9,1.6l-0.1,6l3,0.2l0.3,0.8l2.7,2.4l3,0l3,1.5l2,0.2l1.1,0.9l-0.4,1l-1.7,0.9l-3,-0.6l-3,0.5l-3,-0.6l-2,0.7l-1.6,-0.9l-0.3,-1l0.7,-1l-3.8,-1l-3,0.1l-0.7,0.9l-0.4,2l3.1,0.9l1,0.7l0.7,1.4l0.2,3l1.1,0.6l4,0.4l2.8,-2l3.2,0l1,-0.5l2,0.9l3,0.4l3,-0.6l1.4,0.8l1.2,2l1.4,1.2l5,1.6l2.5,2.2l2.5,3.5l1.5,0.5l1.5,1.4l4.3,0.6l4,2l2.7,2.9l0,2.2l-3.2,4.9l-0.6,4l-2.2,5l-2.2,2l-2.8,0.4l-2,1.4l-0.8,2.2l-3.1,4l-7.1,6.8zM144.6,-65.5l-0.1,-1.5l-1.2,0.5l0.2,1.9zM132.5,-61.9l-0.5,-0.6l0.2,-3l1.3,-0.6l1,0.2l0.5,1.4zM19.3,-56.5l2.2,-2l0.4,-1l-0.3,-1l0.9,-4.2l-2,0.4l-2,1.8l0.6,2l-1.5,3l0.1,1l0.8,0.7zM159.5,-51.4l-1.4,-0.1l-2.3,-2l0.2,-2l0.5,-0.9l1,-1.2l1,-0.3l2.2,1.4l0.3,1l0,2zM122.3,-55.5l0.2,-1l-1.2,0l-0.3,1zM-88.1,-46.5l2.4,-1l-3.7,0l-0.1,1l1,0.3zM-100.5,-41.3l-0.4,-0.2l0,-2l0.7,-1l-0.1,-1l0.8,-0.4l1,2.4zM-80.8,-44.5l-0.7,-1.2l-2.1,0.2l1.1,1.3l1,0.5zM135.1,-37.5l3,-2l0.4,-3l1.6,-3l-0.6,-0.9l-2,1.3l-2,2.6l-2,1.3l-2,0.2l-1.4,1.5l0,1l1.4,1.7l3,-0.2zM-86.4,-42.5l0.3,-2l-0.4,-0.5l-1,0.5l-0.3,1l0.3,1.3zM32.9,-43.5l-1.4,-1.5l-1.7,1.5l0.7,0.7l1,0.1zM-102.5,-41.5l-0.5,-1l0.5,-1.2l0.5,0.2zM-110.5,-33l-1.2,-0.5l1.7,-3l-0.4,-2l0.5,-2l2.4,-1.3l1,0.3l0.8,1l0.2,2l-0.4,1l-2,2l-0.2,1zM-100.5,-35l-1,0.2l-0.7,-0.7l0.7,-1.1l-1,0.5l-0.6,-1.4l0.1,-1l0.5,-0.4l1,0.3l1,1.1l1.1,0l0.2,1zM32.5,-37.5l-0.4,-1l-1.1,0l0.5,1.2zM54.5,-36.1l-4,0.2l-2.2,-1.6l1.2,-1l3,1.4l2,-0.6l0.4,1.2zM-155.5,-18l-1.6,-1.5l1.6,-1.8l1.1,0.8l0.4,1zM21.5,35.6l-2,-0.1l-2.5,-3l0,-1l1.5,-1l0.8,-1l0,-1l-3.1,-2l-0.9,-2l0.2,-1l3.4,1l1.6,2.8l1,0.3l1,-0.7l0.2,0.6l1.8,0.6l0.6,-0.6l0.9,-6l0,-3l-5.5,-0.9l-6,-0.1l-2,-1.4l-1,-1.3l0.7,-3.3l-1,-5l-3.3,-5l0.2,-3l-0.6,-0.9l-4,-2l-5,1.2l-7,0l-5,-3.6l-3.6,-4.7l-0.4,-1.1l1.6,-0.9l0.3,-1l1.1,-0.8l2,-0.4l2,1.2l2,-0.8l1,0.1l1,0.7l2,-0.6l7,1l3,-0.5l2,0.5l1,-0.7l3,0.7l4,0l1,0.7l3,0.3l4,-0.9l1,0.6l2,-0.3l1,0.8l1,0.1l2,-0.9l1,1.2l2,-0.1l4,-2.2l2,0.9l1.4,1.4l0.2,3l0.6,2l-0.3,1l-2.9,3l-2.6,1l1.6,3l0.2,2l0.8,1.1l1,-0.1l1.2,1l0,3l1.1,6l-0.4,2l-1.3,2l-3.6,2.7l-0.2,4.3l-1.8,2l-2,4l-2,2.1l-2,1.5l-3,1.3zM92.5,-10.4l-1,-1.1l0.1,-2l0.9,-0.9l1,0.1l0.8,0.8l-0.2,2zM120.8,-7.5l0.7,-1l-1,-0.7l-1.6,1.7l0.6,0.7l1,0zM33.6,1.5l-0.1,-1l-1,0.3l0,1zM46.5,26.6l-2,-0.1l-1.2,-1l-0.8,-2l0,-3l0.4,-1l-0.4,-2l0.5,-1l4.5,-4.3l2,-1.2l1,0.5l1,2l0.1,3l-2.1,7.5l-1.2,1.5zM168.5,17.9l-1,0.3l-2.5,-2.7l0.3,-1l1.2,-1l1.6,1l1.6,2zM178.5,19.9l-1,0l-1.3,-1.4l-0.1,-1l1.4,-1.4l1.9,0.4l0.4,1l0,1zM15.5,20l-2,-0.1l-0.5,-0.4l0.2,-1l1.3,-1l1,1.4zM167.5,23.9l-2,-0.3l-2.3,-2.1l-0.3,-1l0.6,-1.5l1,-0.4l4,3.4l0.3,0.5zM23.5,22.7l-1,0.4l-1,-0.4l-2,0.3l-0.2,-0.5l1.2,-2.1l1,-0.3l2,1.9zM118.5,35.6l-1,0.7l-1,-0.2l-2.3,-1.6l0.3,-3.2l1,-0.9l1,0l1,0.7l2.3,2.4l-0.2,1zM170.5,47.2l-2,0l-2,-1l-0.4,-0.7l0.4,-1l6,-4.7l0.4,-2.3l-1,-3l0.6,-0.5l4,1.9l2,0.5l1,1.1l-0.5,2l-2.5,2.4l-2,0.8zM-70.5,54.6l-1,0.2l-1,-0.6l-1.5,-2.7l0.1,-2l-1.5,-2l0.7,-3l-0.4,-3l0.7,-4l0.9,-0.9l1.9,0.9l0.2,1l0,4l-0.8,3l0.7,5l1.6,3zM69.5,50.7l-1.2,-1.2l0.2,-1l1,-0.7l1.1,0.7l0.4,1z"/><path fill="#53b84a" d="M92.5,-68.3l-1,0.6l-0.5,-0.8l0.5,-1.6l0.9,-0.4l-0.6,-1l0.7,-0.6l0.6,0.6l-0.5,1zM100.5,-70.7l-2,-0.1l-0.4,-0.7l2.4,-0.5l0.5,0.5zM106.5,-68.1l-2,0.5l-0.5,-0.9l0.5,-1.7l1,-0.5l1,1.9l0.6,0.3zM112.5,-69.1l-1,0.5l-3,-0.9l1,-1.3l3,0.3l0.5,1zM143.5,-68.7l-0.5,-0.8l0.5,-1l0.8,1zM102.5,-65.1l-1,-0.3l-3,0.6l-1.3,-0.7l2.3,-4.8l1,0.3l1,1.9l2,-0.1l0.9,0.7zM119.5,-66.9l-1,-0.5l-0.6,-1.1l0.6,-1.1l1.3,2.1zM140.5,-66.8l-0.8,-0.7l-0.2,-2l1,-0.7l0.7,2.7zM150.5,-68.2l-2,0.3l-0.9,-0.6l1.9,-1.6l1.7,0.6zM90.5,-64.3l-1,-0.8l-1.1,0.6l-0.6,-1l1.6,-1l-1.1,-1l-0.2,-1l0.4,-0.3l1.5,0.3l1.4,1l0.3,2zM96.5,-66.2l-1,-0.1l-1.5,-1.2l-0.1,-1l0.6,-0.8l2,2.5l0.8,0.3zM124.5,-67.3l-0.6,-1.2l0.6,-0.8l1,0.8zM147.5,-63.1l-3.6,-0.4l1.6,-2l-0.6,-3l1.8,0l0.8,0.7l0,1.3l0.9,2l-0.2,1zM113.5,-64.4l-0.8,-1.1l0.8,-2.4l1,-0.2l1,1.3l1.8,0.3l-0.8,1zM-58.5,39.5l-3,0.7l-2,-1.4l-2,-0.2l0.5,-1.1l-1.5,-0.7l-1.3,-1.3l2.4,-9l0.3,-3l-0.4,-2.4l-2.9,-4.6l-5,-3l-2.7,-3l-2.4,-5.2l-2,-1.8l0.2,-5l1.4,-3l-0.6,-1.4l-5,-1.7l-4,-4.1l-4,-1.4l-3,-2.4l-2,0.9l-3,-1.1l-4,-2.7l-3.8,-5.1l-1.1,-3l-1.4,-2l1.3,-1.7l1.7,0.7l1.6,2l3.7,6.7l2,1.1l1,-1.8l-0.6,-3l0.6,-0.9l1,-0.4l1.6,1.3l0.6,3l0.8,1.2l1,0.8l1,0l1,0l1.5,-2l1.5,-0.9l2,0.1l1,0.6l2,-1.8l3.6,-1l-1.6,-0.9l-1,-2.4l-2,-1.3l-5.6,0.6l-3.4,-0.9l-1.2,-1.1l-0.6,-2l0.2,-5l1.1,-4l2.4,-4l-2.9,-1.7l-2,-1.9l-3,0.7l-3.5,-1.1l-5.5,1.1l-1,0.9l0.5,2l-0.5,2.5l-1,0.7l-3,0.3l-1.2,-0.5l-2,-3l-0.2,-4l-1.6,-1.3l-1,0.1l-1,1l-0.3,1.2l-0.2,7l3.3,4l1.6,4l-0.4,0.4l-5.4,-3.4l-2,-4l-0.6,-7.5l-3,-2.2l-5,-5.5l-5,-2.8l-8,-1l-3,0.2l-1,0.7l-2,-0.4l-5,-1.9l-2,0.5l-0.7,-1.1l2.7,-3.2l4,0.5l3,-1.8l3,-0.8l4,0.8l2,-0.4l5,1.4l2,-0.5l2,1.5l2,-0.7l2,0.1l4,1.8l3,0.4l6,2.7l2.2,0.2l2.8,1.2l4,0.6l3,-0.1l2,1.3l1,-0.4l2,0.8l2,-0.2l2,1.3l2,-0.4l2,0.5l3.6,1.4l-0.6,1.1l3,-1.1l2,0.9l1,-0.4l4,0l2,0.7l2,-0.4l2,0.2l2,-1.1l2,-0.2l4,0.8l1,-0.5l2,0.5l3,0.1l3,1.1l2.1,2.3l0.3,2l-0.4,1.3l-2,0.5l-4,-0.6l-3,0.6l-1,0.8l-2,-0.4l-1,0.3l-3,1.8l-2,2.3l-2,1.4l-1.8,2l-0.2,2l-3.1,3l-0.9,0.3l-1,1.7l-0.1,5l-0.7,1l3.8,0.4l3,3.1l1,0.4l2,-0.2l3,1.2l2,0.2l1,0.9l-0.4,1l-1.6,0.8l-3,-0.5l-4,0.3l-2,-0.5l-2,0.7l-1.5,-0.8l-0.2,-1l0.8,-1l-3.1,-1l-4,-0.1l-0.8,1.1l-0.4,2l3.2,1l1,0.8l0.6,1.2l0.2,3l1.2,0.7l2,-0.1l2,0.8l3,-1.7l1,0.6l2,-0.2l1,-1.3l4,1l4,-0.4l1,0.3l1.5,2.3l1.5,1.2l5,1.6l2.4,2.2l2.6,3.5l1.5,0.5l1.5,1.5l4,0.6l4.2,1.9l2.7,3l0,2l-3.2,5l-0.5,4l-2.2,4.9l-2.4,2.1l-2.6,0.4l-2,1.4l-1,2.4l-4.8,5.8zM21.5,-65.1l-2.1,-0.4l2.1,-1.3l0.6,0.3l0,1zM63.5,-65.4l-1,0.3l-1,-0.2l-0.6,-1.2l0.6,-0.9l1,0l1.4,1.9zM86.5,-65.2l-2.1,-0.3l-0.9,-0.9l0,-0.6l1,-0.5l1.9,1l0.8,1zM120.5,-65.1l-1,-0.4l1,-1l0.5,1zM169.5,-63.1l-2,0.2l-0.9,-0.6l-0.5,-2l3.4,-1.2l1,0.5l1,-1l1,0.3l1.2,1.4zM18.5,-63.3l-1,0.1l-1.3,-2.3l1.3,-0.7l1,0.9l0.8,0.8zM143.5,39.8l-2,-0.3l-1,-0.6l-1.4,-2.4l0.4,-0.9l1,0.5l2,-1.4l2.7,-0.2l2.3,-2.1l1.1,-2.9l0.1,-2l-1.5,-3l0.3,-1l1.1,-1l-1,0l-0.1,0.8l-1.6,-0.8l-1.4,-3.8l-3,-0.2l-2,0.8l-2,-0.1l-1,-0.3l-2,-1.8l-6,0.3l-4,0.8l-1,-0.6l-0.4,-1.1l2.4,-2.8l3,-0.2l2,-2.1l2,-0.9l4,0.2l1,0.8l0,3l2,2l1,-0.3l0.4,-0.7l-0.4,-3l0.6,-1l-0.1,-1l-3.5,-0.9l-1.2,-1.1l0.3,-1l-0.8,-1l-3.3,-0.7l-1,-0.8l-4,0l-1,0.6l-1,-0.3l-1.7,1.2l0.7,0.8l3,0l1,1.2l-2,2.4l-2,0.7l-1,0l-1,-0.7l-2,0.3l-2,-0.5l-10,-1l-3,-0.9l-6,-5.9l-2.7,-4.4l-2.7,-3l-0.2,-1l0.6,-1l3.1,-1l0,-6l-0.4,-1l-1.7,-0.2l-1.6,-0.8l-0.6,-3l-1.5,-2l-1.3,-3.1l-1,0.6l-0.3,1.5l-1.9,1l-3.8,3.9l-2,0.9l-0.7,1.2l0.2,1l-0.5,3l1,0.2l1.1,2.8l-0.1,1.2l-1,1.1l-1,0.2l-1.1,-0.5l-0.9,-2.8l-2,0.5l-0.8,-0.7l-3.8,-9l-1.1,-5l1.7,-3l0.5,-4l1.7,-2l-1.5,-2l0.6,-1l0.7,-0.4l3,2.5l6,3.5l4,0.7l3,-0.1l5,-1.2l1,0.2l2,2l3.6,-3.2l1.4,-6l0.6,-1l8.4,-4.5l4,-0.6l1,0.3l1.4,-2.2l1.6,-1.4l0.7,-1.6l-0.1,-1l-1.5,-1l-2.1,-3.3l-3,-0.6l-1,2.4l-1,1l-2,-0.3l-1,-1.1l-1,0l-4,0.9l-10,-0.3l-3,1.2l-5,-0.7l-2,0.5l-1,-0.2l-4,-2.8l-3.3,-0.7l-0.3,-1l0.9,-1l0.7,-2l-2,-0.6l-1.4,0.6l-0.1,1l1,1l0.1,1l-0.6,0.9l-1,0.4l-2.9,-0.3l-1.1,-2.5l-3,3.3l-2,-1.8l-3,3.1l-1,0.4l-3,-0.6l-5,2.1l-3,-0.5l-2,0.7l-2.6,2.8l0.9,1l2.7,1.5l1,2.6l-1,1.1l-3,0.1l-2,0.9l-4,-0.5l-1,0.9l0.2,1.4l-1.2,1.5l-1,-0.5l-0.2,-3l-1.8,-0.9l-1,0.1l-1,1l-4.2,-0.2l0.2,1l0.9,1l-0.1,1l-3.8,0.7l-2,-0.7l-4,-2.7l-1,-0.2l-2,0.9l-1,-0.2l-4,-3.9l-4,-0.3l-3,0.4l-3,3l-0.8,2l0.8,0.7l3,-0.7l3,0.8l2,-0.8l0.6,1l-0.6,0.8l-4,-0.5l-5,1.2l-1.3,-0.5l0.3,-1l-1.3,0l-0.7,1.3l-1,0.2l-5,4.1l-1.2,-0.6l0.2,-1l1.6,-2l-2.6,-3l0.1,-5l1.9,-1.4l3,-0.3l2,-0.7l0.5,-0.6l-0.9,-1l-0.6,-2.6l-1,-0.1l-4.7,-2.3l-0.5,-1l0.6,-2l0.6,-0.6l2,-0.2l1,-2.9l2,-1.1l2,0.2l0.9,0.6l1.1,3.3l3,2.5l1,0.1l4,-1.7l2,-1.8l1,-0.1l1,1l1,-0.1l0.4,-0.2l-0.4,-0.7l-1.5,-1.3l0.5,-2.1l-1,-0.4l-1,0.6l-2,-0.1l-1,-1.5l-1,0.5l-0.3,-1l1,-1l1.3,-0.2l3,0.6l1,1.1l0.8,-0.5l0,-1l1.2,-1.3l5,3.1l-0.1,1.2l-1,2l0.1,1l1,0.8l3.5,-2.8l0,-2l1,-3l1.5,-1.7l3,0l1.1,1.7l1.9,1.2l1.1,-2.2l0.9,-0.6l4,-1l2,0.6l1,1l1,-0.5l0.2,0.5l-1.2,0l-0.5,1l0.5,0.8l1,0.3l2,-0.7l1,-1.5l1,0l5,0.8l2,0.8l3,-0.8l3,0.9l3,-0.2l6,2.1l2,-0.9l2,1.5l2,-1.7l1,-0.1l6,0.9l2,-0.5l1,0.6l2,-0.6l2,2.1l4,-0.5l2,0.9l0.2,-1.2l0.8,-0.5l2,0l4,2l8,-1.8l1.8,1.3l-0.8,0.7l-1.5,-0.7l-0.5,-0.9l-1.8,2.9l0.8,0.9l3,-0.8l0.3,-1.1l1.7,-1.2l1,2.1l1,-0.2l2,0.8l1,-0.1l1,-1l3,-0.2l3,-1l1.1,0.8l3,1l1.9,2.4l1.4,-0.4l0.6,-1l-0.9,-1l0.9,-0.6l1.3,0.6l0.2,2l1.5,0l1,1.2l1,-0.4l4,0.9l1,0.6l1.5,-1.3l1.5,0l1.2,1l0.6,4l-0.6,3l1.7,3l-0.9,1.6l-1.5,1.4l-1.8,5l-2.3,2l-2.4,0.3l-1,1l-2,0.1l-2.5,1.6l-1.5,0.1l-1,-0.5l-2,-2.6l-2,-1l-1,-3.8l-1,-1.6l-1,-0.4l-2,0.4l-1.4,2.4l1.4,0.2l1.1,0.8l-2.1,2l0.7,2l2,2l0.1,2l-0.8,2l1.4,2l-0.4,2.1l-1,1l-1,-0.2l-0.8,-0.9l-0.2,-2.3l-1.4,0.3l-1.7,2l-3.9,1.5l-0.7,2.5l-2.7,2l0.9,2l0.2,2l-0.9,2l-3.8,2.6l-4,-3.7l-0.8,2.1l0.6,2l2.2,0.8l1.3,1.2l1.1,4l-0.5,1l0.3,1l2.6,4l1.2,0.3l0,-1.3l-2.1,-3l0.2,-2l1.9,-2.2l3,-1.2l2.9,-2.6l3.4,-5l-0.6,-3l0.3,-2.5l1,-1.2l2,-0.9l2.3,1.6l0.1,3l0.5,1l2.7,2l-0.1,2l0.9,3l-0.4,1.5l-2,1.8l-4,-1.2l-1.6,1.9l0.6,0.7l4,0.3l3,-0.8l2,0.8l1,1.1l1,0.3l1,-0.4l2,0.8l1,1l3,-0.2l4,1l5,3l1.4,-0.6l0.2,-1l1.4,-1.3l1,0.1l5,4l4,2.1l2.3,2.1l0.2,1l-1.5,1l-4,-1.8l-4,-2.8l-1,-0.1l-1.6,1.7l1.4,2l-0.8,1.3l-1,0.3l-2,-0.4l-3,-1.7l-1,-0.1l-0.6,0.6l2.9,5l0.8,3l6.6,7l0.5,3l-0.6,3l-2.2,3l-0.7,3l-0.7,0.9l-3,1zM138.5,-63.4l-0.7,-1.1l0.7,-0.9l1,0l1.6,0.9zM121.6,-54.5l2.5,-1l-1.6,-1.9l-1,0.1l-1.1,0.8l0.1,1.5zM159.5,-51.7l-1,0.1l-1.1,-0.9l-1,-1l-0.2,-1l0.9,-2l1.4,-0.9l1.9,1.9l-0.1,3zM-96.2,-50.5l0,-1l-1.3,-2.6l-1,0.5l1,2.7l1,0.8zM-87.6,-46.5l2.3,-1l-3.2,-0.5l-1.3,0.5l-0.4,1l1.7,0.6zM135.2,-37.5l3,-2l0.3,-2.9l0.9,-2.1l1.1,-1.8l1,-0.2l-1,-1.3l-3,2.4l-2.1,2.9l-1.9,1.2l-2,0.2l-1.5,1.6l0,1l1.5,1.7l3,-0.1zM-81.2,-43.5l0.8,-1l-1.1,-1.4l-2.4,0.4l1.4,1.5l1,0.8zM-86.3,-42.5l0.5,-2l-0.7,-0.8l-1.3,0.8l-0.2,2l0.5,0.5zM33.1,-43.5l-1.6,-1.6l-1.7,1.6l0.7,0.8l1,0zM-107.5,-36.4l-2,-0.5l-0.5,-1.6l1,-2l1.5,-0.6l1.4,2.6zM54.5,-36.4l-4,0.3l-1.9,-1.4l0.9,-0.7l3,1.5l1,-0.3l1,0.2zM-155.5,-18.1l-1.5,-1.4l1.5,-1.6l1,0.6l0.3,1zM26.5,34.7l-1,0.5l-5,0.3l-1,-0.3l-1.9,-2.7l0.9,-1l1,1.7l3,-0.1l1.2,-0.6l0.8,-2.1l-3,-0.4l-0.6,-0.5l1.6,-1.1l2,0.6l1,-1.1l0.9,-4.4l0.1,-5l-2,-0.9l-10,-0.6l-1.9,-1.5l-0.7,-1l0.3,-4l-0.9,-4l-2.9,-4l-0.4,-2l0.2,-2l-0.7,-1.1l-4,-1.8l-5,1.1l-7,0l-3.4,-2.2l-2.6,-2.4l-2.4,-3.6l-0.1,-1l3.5,-2.4l1,0.2l1,1l4,0.1l3,-0.9l4,0.9l5,0l3,1.5l1,-1.7l3,0.4l3,-0.3l1,0.3l1,1.3l5,-0.9l2,1l3,-0.8l1,0.5l2,-0.2l3,1.2l5,-3.1l1,0.2l1.9,1.7l0.9,5l-0.2,1l-2.6,2.5l-3.1,1.5l1.7,3l0.4,2.3l1,1.1l1,-0.2l1,0.8l1,10l-1.8,3l-3.2,2.2l-0.4,4.8l-1.8,2l-1.8,3.7l-3,3.3zM92.5,-10.4l-0.9,-1.1l0,-2l0.9,-0.8l1,0.1l0.6,0.7l-0.1,2zM120.9,-7.5l0.7,-1l-1.1,-0.7l-1.6,1.7l0.6,0.8l1,0zM33.8,1.5l-0.1,-1l-1.3,0l0.1,1.6l1,-0.1zM46.5,26.5l-2,-0.1l-1.1,-0.9l-0.7,-2l-0.1,-3l0.4,-1l-0.3,-2l0.4,-1l4.4,-4.3l2,-1.1l1,0.6l0.9,1.8l0.1,3l-2,7.4l-1.2,1.6zM168.5,17.9l-1,0.2l-2.4,-2.6l0.2,-1l1.2,-0.9l1.5,0.9l1.7,2zM178.5,19.8l-1,0l-1.2,-1.3l-0.1,-1l1.3,-1.4l1.8,0.4l0.5,1l-0.1,1zM167.5,23.8l-2,-0.2l-2.3,-2.1l-0.3,-1l0.6,-1.5l1,-0.3l1,0.6l3,2.8l0.3,0.4zM117.5,36.1l-3.1,-1.6l0.2,-3l0.9,-0.8l1,0.1l3,2.7l-0.2,1zM138.5,36l-3,-0.7l-0.4,-0.8l1.4,-0.1l2.9,1.1zM170.5,46.9l-1,0.3l-1,-0.3l-2.3,-1.4l0.4,-1l5.9,-4.2l0.4,-2.8l-0.8,-3l0.4,-0.3l6,2.3l0.9,1l-0.5,2l-2.4,2.3l-2,0.5zM-70.5,53.7l-1,0.7l-0.8,-0.9l-1.2,-2l0.3,-3l-1.3,-0.2l-0.7,-0.8l1,-10l0.7,-0.7l1.6,0.7l0.1,3l-0.7,1.3l-0.2,4.7l1,5zM148.5,43.7l-1,0.6l-2.2,-0.8l-1,-2l0.2,-2l1,0.4l2,-0.3l1,0.5l0.6,2.4zM69.5,50.5l-1.1,-1l0.4,-1l0.7,-0.4l1,0.4l0.3,1z"/><path fill="#74c55e" d="M-80.5,-24.7l-1.8,-0.8l-1.2,-2.7l-1,-0.6l-3,-0.4l-3,0.6l-4,-1.3l-1,-1l-0.6,-2.6l0.3,-4l1.3,-4.2l3,-4.1l1,-0.3l2,0.5l1,-0.6l0.8,0.7l-1.5,1l0,2l0.7,0.7l1,0l1,-2.7l-0.8,-2l0.8,-0.2l0.4,-0.8l-1.4,-0.6l-2,-0.1l-1,0.2l-1,1.1l-1,0.1l-4,-1.3l-1.2,-1.4l1,-1l-0.1,-1l-1.7,-3l-1,0.3l-0.4,0.7l1.2,3l-0.8,0.8l-2,0.7l-3,-1l-4,0.8l-2,-0.6l-0.8,0.3l-0.9,1l0.6,3l-0.3,2l-2,1l-1.6,0.1l-1,-0.7l-0.5,-1.4l-1,-1l-0.2,-1l0.8,-2l-0.1,-1l-3,-1.8l-2,0.5l-0.7,2.3l0.1,7l0.6,1.4l2.5,2.6l1.2,3l-0.7,0.5l-2,-1.5l-2,-0.8l-1.4,-2.2l-0.9,-3l-0.1,-5l-0.6,-1.8l-3,-2.2l-5,-5.3l-5,-3l-8,-0.9l-4,0.8l-2,-0.4l-2,-1.3l-1,0.1l-1.6,-1l-1.2,-1l0.5,-1l2.3,-0.6l3,0.4l1,-1.2l3,-1.2l5,0.6l2,-0.5l4,0.9l1,0.6l3,0.2l1,1l1,0l2,-1l2.1,0.8l0.9,1.2l5,0.6l1,0.7l1,0.1l1,1.3l2,0.3l0.7,0.8l-1.8,1l1.1,1.5l1,-2.3l2,-0.1l9,1.8l1,-0.5l2,1l3,0.6l2,-0.1l2,1.3l2,-0.5l2,0.3l1.7,1l1.3,2.1l2,-0.4l1,-1l1,0.8l3,-0.5l5,0.8l2,-0.4l3,0.2l1,-0.8l2,-0.6l1,0.3l1,1.4l2,-0.3l1,-1l5,0.3l3,1l2,2.1l-0.1,3l-1.9,0.5l-6,-0.5l-3,0.9l-2,0.1l-2,1.2l-5.3,4.8l-1.6,2l-0.1,1.4l-0.9,1.6l-3.8,3l-0.4,1l-0.2,5zM-8.5,-31.3l-0.6,-0.2l0,-1l1.5,-2l-0.8,-2l-1.5,-1l-0.3,-2l0.4,-3l1,-1l1.3,-0.5l5.9,-0.5l-0.9,-0.2l-1.1,-1.8l0.5,-3l-2.4,-0.2l-2.5,-0.8l-1.8,-1l-0.7,-1l0.6,-2l2.9,-1l0.5,-2.4l1,-0.8l2,-0.3l1.6,0.5l1.5,4l2.9,2l1,0.2l4,-1.5l2,-1.6l1,-0.2l1,0.7l1.9,-0.6l-0.3,-1l-1.3,-1l0,-1l0.4,-2l2.3,-1.6l3,1.6l0.3,1l-0.3,0.5l-1,-0.4l-0.3,0.9l0.3,2.1l0.7,0.9l1.3,0l3.9,-3l-0.1,-2l1.2,-3.1l1,-0.9l2,-0.4l1,0.3l0.6,1.1l0.2,2l-1,1l1.2,1.1l3,-2.6l0.6,-2.5l4.4,-1.2l1.1,0.2l1.1,1l-0.7,2l2.5,2l0.5,-1l1.5,-0.5l1,-2l1,-0.1l3,1l2,-0.2l2,1l3,-0.8l1,0.8l5,-0.3l6,2.4l2,2.6l1,-2.1l2,1.8l0.7,-0.6l-0.2,-1l0.9,-2l2,0l0.4,1l-2.4,4l0.1,1l1.1,1l-0.6,0.5l-2,-0.2l-0.8,-1.3l-0.2,-1.3l-1,-0.5l-1,0.3l-0.3,1.5l-1.7,2l-3,-2.4l-0.7,0.4l0.2,2l-1.5,1.6l-4,0l-5,2l-2,-0.3l-1,-0.6l-3,0.8l-2.4,3.5l-0.1,1l0.5,0.5l2,0.2l1.8,1.3l0.6,2l-0.4,0.6l-3,0.2l-2,0.7l-4,-0.5l-1.9,1l-0.1,1.2l-0.1,-1.2l-2.9,-1.5l-1,0l-2,1l-3,-0.1l-1.4,0.6l1.2,2l-0.8,1l-2,0.1l-2,-0.9l-1.1,-1.2l-3.9,-1.2l-1,-0.8l-0.2,1l-0.8,0.6l-1,-0.1l-4,-3.9l-4,-0.8l-2,1l-1,-0.5l-1,0.7l-2.6,3l-0.4,1.3l-1,0.8l-1.1,-0.1l-1.9,-2.4l-1,0l0.7,3.4l-0.4,2zM169.5,-64.3l-1.5,-0.2l0.5,-0.6l1.8,0.6zM9.5,-61.5l-1,0.8l-1,0l-0.4,-0.8l0.4,-0.4zM92.5,-50.4l-1,0.5l-3,-0.1l-2,-0.8l-2,0.6l-1,-0.1l-0.5,-1.2l1,-1l-0.5,-2.2l-0.7,0.2l-0.3,1.5l-1.4,-0.5l1.1,-1l0,-1l-0.7,-0.1l-2,1.8l-2.6,-0.7l1.9,-2l-1.3,-2.6l-1.3,-1.4l2.3,-0.3l2,0.5l1,1.7l1,0l1,-1.4l3,1.5l1.1,1l0.9,0l1,-1.7l2,0.1l1,0.6l2,-0.5l1,-1.2l1,1.3l2,0.9l3,-0.7l1,0.6l1,-0.3l0.4,0.9l-0.5,1l0.1,1.3l5,-0.9l1,0.2l0.6,1.4l-0.2,1l1.1,1l0.3,1l-0.8,0.3l-2,-1.8l-1,1.6l-1,-0.3l-2,0.7l-4,0.2l-2,-0.5l-4,0.2zM142.5,39.5l-2,-0.7l-0.5,-1.3l1.5,-1.9l1,-0.5l2,0.1l3,-0.7l-0.1,-1l1.7,-4l0,-2l-1.3,-3l1.1,-1l0.1,-1l-2.3,-1l-2.2,-3.3l-1,-0.1l-1.6,-1.6l-1.2,-4l0.5,-2l-3.7,-1l-1.2,-1l0.4,-1l-1.2,-1.3l-3,-0.5l-1,-0.7l-4,0l-1,0.5l-1,-0.3l-1.8,1.3l0.8,0.9l3,-0.1l0.9,1.2l-1.9,2.4l-2,0.6l-1,0l-1,-0.6l-2,0.2l-12,-1.4l-3,-0.9l-6,-5.9l-2.6,-4.4l-2.7,-3l-0.3,-1l0.6,-0.9l3.3,-1.1l0,-6l-0.3,-1.1l-2,-0.2l-1.4,-0.7l-0.5,-1l-0.1,-2l-1.5,-2l-1.5,-3.4l-1,-0.1l-1,2.5l-1.6,1l-2.4,2.8l-3.7,2.2l-0.5,1l0.3,1l-0.5,3l1.4,0.3l0.9,1.7l0.1,2l-1,1.2l-2,-0.1l-1,-3.5l-1,0.9l-1,0.1l-0.6,-0.6l-2,-4l-2,-6l-0.5,-4l1.5,-3l0.8,-4l1.3,-2l-1.5,-2l0.9,-1l6.1,4.3l3,1.5l4,0.7l3,-0.1l5,-1.1l1,0.3l2,2.2l3,-2.4l0.9,-1.4l1.5,-6l0.7,-1l8.9,-4.3l3,-0.1l1.1,0.4l0.9,-0.5l1,-2.5l1.9,-2l0.3,-2l-1.3,-1l-2.2,-4l-3.7,-0.7l-1.6,1.7l-0.7,0l-0.1,-1l1.4,-2.5l1,-0.2l1,1.1l1,0.3l1,-2l2,-0.9l0.5,0.2l-0.2,2l0.7,1.5l2,0.4l2.5,-1.9l-1.1,-2l1.6,0l1.2,1l0.4,1l-0.2,2l1.6,0.2l0.6,-1.2l1.4,-0.4l4.2,1.4l0.8,1.9l1,-0.3l1,-1.5l2,0.1l1,0.6l2,-1.7l2,0.7l0.6,4.2l-0.5,3l1.6,3l-0.7,1.4l-1.6,1.6l-1.8,5l-2.3,2l-2.3,0.2l-1,1l-2,0.1l-2.8,1.7l-1.2,0l-1,-0.6l-1,-1.9l-2.7,-1.5l-1.1,-4l-1.2,-1.9l-1,-0.4l-2,0.1l-1,1.5l-1.4,0.7l-0.1,1l0.5,0.6l1.9,0.4l-2,2l1.3,2l2.1,2l0,2l-0.9,2l1.6,1.2l0,2.8l-1,0.9l-1,-0.1l-0.7,-0.8l-0.3,-2.8l-2.5,0.8l-1.2,2l-3.3,1.1l-0.6,0.9l-0.2,2l-1.2,1.1l-1,0.1l-0.6,0.8l1.2,4l-1,2l-3.6,2.4l-4,-3.6l-0.8,2.2l0.4,2l2.4,0.8l1.3,1.2l1.1,4l-0.5,1l0.3,1l2.6,4l1.2,0.4l0.3,-0.4l-0.3,-1l-2.1,-3l0.3,-2l1.8,-2.2l3,-1.2l3,-2.6l3.3,-5l-0.6,-3l0.6,-3l1.7,-1.3l2,0.2l1.3,1.1l0,3l0.5,1l2.8,2l0.7,6l-2.3,2.2l-4,-1.2l-1.6,2l0.6,0.8l4,0.3l3,-0.9l1.9,0.8l1.1,1.1l2,0l2,0.7l1,1l3,-0.1l4,1l5,2.9l1.4,-0.6l0.2,-1l1.4,-1.2l1,0.1l5,4l4,2l2.2,2.1l0.3,1l-1.5,1l-4,-1.9l-4,-2.8l-1,0l-1.7,1.7l1.5,2l-0.8,1.2l-1,0.3l-2,-0.3l-3,-1.7l-1,-0.1l-0.7,0.6l1.3,3l1.6,2l0.8,3l6,6.1l1,3.9l-0.5,3l-2.3,3l-0.6,3l-0.6,0.7l-3,1zM159.5,-52.2l-1,0.2l-1.5,-1.5l-0.3,-1l0.8,-1.8l1,-0.5l1.3,1.3zM-123.1,-51.5l-2.5,-4l-0.8,1l1.9,1l-0.3,2l0.3,0.4zM-105.7,-53.5l1.2,-1l0,-1.3l-1,0.3l-0.8,1l-0.3,1zM102,-53.5l-0.5,-0.5l-1.4,0.5l1.4,0.8zM135.3,-37.5l3,-2l0.2,-2.6l0.9,-2.4l1.1,-1.6l1.3,-0.4l0.2,-3l-0.5,-1.1l-1,0.5l-0.4,1.6l-1.5,2l-1.3,0l-0.5,2l-1.5,2l-1.8,1.2l-2,0.1l-1.6,1.7l0,1l1.6,1.8l3,-0.1zM128.6,-47.5l-1.1,-0.6l-0.3,0.6l0.3,0.8zM-80.7,-42.5l0.2,-1.1l1,0.6l1.7,-0.5l-1.7,-0.2l-2,-2.4l-2,0l-0.7,0.6l2.2,2l0.4,1zM33.4,-43.5l-1.9,-1.7l-1.8,1.7l0.8,0.9l1,0l1,0zM-107.5,-37.2l-2,-0.8l0,-0.8l1,-1.3l1,0.2l0.6,1.4zM4.5,-36.1l-1.7,-0.4l1.7,-0.5l0.8,0.5zM51.5,-36.2l-1.2,-0.3l0.2,-0.9l1.8,0.9zM-59.5,39.6l-2,0.1l-5.9,-4.2l2.7,-12l-0.7,-3l-3.1,-4.3l-4,-2.2l-2.5,-2.5l-2.2,-3l-1.3,-3.4l-1.7,-1.6l0,-5l1.4,-3l-0.7,-1.6l-5,-1.6l-4,-4.1l-4,-1.4l-1,-1.2l-2,-1.2l-2,0.9l-1,-0.3l-2,-0.8l-4,-2.6l-2,-2.4l-1.7,-2.7l-1,-3l-0.9,-1l-0.4,-1l1,-1.5l1,0.1l1.4,1.4l4.6,8l2,1.1l1,-1.1l0.2,-1l-0.6,-3l1.4,-1l1.4,1l0.8,3l1.8,2l2.2,0l1.4,-2l1.4,-0.8l2,0.1l1,0.7l2,-1.9l4,-0.9l4,0.4l3,3.1l1,0.4l3,-0.1l2,1l2,0.2l0.9,0.8l-0.4,1l-1.5,0.6l-3,-0.4l-4,0.3l-2,-0.4l-2,0.5l-1.4,-0.6l-0.2,-1l0.6,-0.8l1,-0.2l-4,-1.2l-3,0.3l-1,-0.5l-0.6,0.4l-0.8,3l3.4,1.1l1,0.8l1,4.5l3,0.3l2,1l2,-1.4l4,0.1l1,-1.1l1,-0.3l1,0.6l2,0.3l5,-0.1l1.4,2.2l1.6,1.3l5,1.5l2.4,2.2l2.6,3.6l1.4,0.4l1.6,1.6l6,1.5l2.1,0.9l2,2l0.8,2l-0.2,1l-3.1,5l-0.5,4l-2.1,4.8l-2.6,2.2l-2.4,0.3l-2,1.4l-1,2.5l-4.8,5.8l-5.2,4.2zM-155.5,-18.2l-1.3,-1.3l1.3,-1.5l0.8,0.5l0.4,1zM26.5,34.5l-1,0.5l-4,0.3l-2.4,-0.8l0.4,-0.6l3,-0.4l1.7,-1l0.9,-2l-0.4,-1l1.7,-3l0.6,-8l-2.5,-1.1l-6,-0.2l-4,-0.6l-1.3,-1.1l-1.1,-2l0.2,-3l-0.9,-4l-2.8,-4l-0.5,-2l0.2,-2l-0.8,-1.2l-4,-1.7l-5,1.1l-7,0l-6,-4.7l-2.2,-3.5l0.2,-0.7l3,-1.6l2,0.7l3,0.1l4,-0.8l3,0.3l4,1.2l2,-0.5l1.8,1.3l1.2,0.1l2,-1.5l2,0.5l3,-0.8l2,1.8l5,-0.9l2,1l3,-0.7l3,0l3,1.3l1.9,-1.8l3.1,-1.7l1,0.3l1.6,1.4l0.9,5l-0.3,1l-3.2,2.8l-2,0.5l-0.4,0.7l1.7,3l0.7,2.8l1,0.8l1,-0.2l0.7,0.6l1.1,10l-1.8,2.8l-3.3,2.2l-0.3,5l-1.7,2l-1.7,3.5l-3,3.3zM93.5,-10.9l-1,0.4l-0.8,-1l0,-2l0.8,-0.7l1.5,0.7l-0.1,2zM120.9,-7.5l0.8,-1l-1.2,-0.8l-1.7,1.8l0.7,0.8l1,0.1zM33.9,1.5l-0.4,-1.2l-1.2,0.2l0.2,1.9l1,-0.2zM124.7,2.5l1.2,-1l-0.4,-0.6l-1.2,1.6zM47.5,26l-1,0.5l-2,-0.3l-1.1,-0.7l-0.6,-2l0.1,-6l0.3,-1l4.3,-4.3l2,-1l1,0.6l0.8,1.7l0.2,3l-1.9,7zM137.5,18.7l-1,-0.3l-2,-2.2l-2,0.4l-1,-1l-1,0.6l-1,-0.1l-1,-1.2l-1,0.2l-0.9,2.4l-1.1,0.4l-1.3,-0.4l-0.4,-1l1.9,-2l2.8,-0.3l0.8,-1.7l1.2,-1l2,-0.7l4,0.1l0.7,0.6l0.2,1l-0.4,2l1.1,2l1.4,0.9l1.3,0.1l-0.3,0.6l-1,-0.1zM168.5,17.8l-1,0.2l-2.4,-2.5l0.3,-1l1.1,-0.8l1.4,0.8l1.7,2zM178.5,19.8l-1,0l-1.2,-1.3l-0.1,-1l1.3,-1.3l1.7,0.3l0.6,1l-0.1,1zM167.5,23.8l-2,-0.3l-2.2,-2l-0.3,-1l0.5,-1.4l1,-0.3l1,0.6l3,2.8l0.2,0.3zM117.5,36l-3,-1.5l0.4,-3l0.6,-0.6l1,0.2l2.6,2.4l-0.1,1zM18.5,33.7l-0.6,-1.2l0.6,-0.6l0.6,0.6zM170.5,46.6l-1,0.4l-3.1,-1.5l0.4,-1l1.7,-1.3l3,-2.2l1.7,-0.5l-0.9,-6l6.2,2.2l0.8,0.8l-0.8,2.5l-2,1.7l-1,0.4l-1,-0.1l-2,2.7zM-73.5,47.9l-1,0.2l-0.6,-0.6l1.1,-10l0.5,-0.5l1.2,0.5l0.3,2l-0.8,3l-0.2,5zM148.5,43.7l-1,0.4l-2,-0.6l-1,-3l3,-0.5l1,0.5l0.5,2zM70.5,49.6l-1,0.5l-0.7,-0.6l0.7,-1.2z"/><path fill="#96d376" d="M-119.5,-34.9l-2.9,-1.6l-1.8,-3l-0.6,-3l0.1,-4l-0.7,-2l-3.1,-2.2l-4.5,-4.8l-3.2,-2l-1.3,-1.4l-10,-1.1l-3,0.9l-2,-0.6l-2,-1.4l-1,0.1l-2,-1.5l1,-0.7l2,-0.4l2,0.8l1.4,-1.7l2.6,-1.3l5,0.8l2.4,-0.5l3.6,0.7l1,0.7l2,0.1l2,1.1l1,0l2,-1l1.2,0.4l0.4,1l-0.4,1l-2.2,2l2,0.7l1,-1.5l1,-0.1l0.6,0.9l0,3l-1.6,2l3,3.8l1,0.2l0.9,1l0.5,3l-0.2,5l0.8,1.7l2.3,2.3l0.6,2zM25.5,-37l-0.9,-0.5l0.5,-1l-0.6,-0.5l-3,0l-3,-1l-3,-2.5l-0.5,-1l-0.7,0l1.2,1.1l1.3,2.9l-0.3,0.3l-1,0l-3,-3.4l-5,-1.8l-1,0.2l-1,0.9l-1,-0.9l-1,0.3l-1,2.1l-2.3,1.3l-0.7,2.3l-1.4,-1.3l-0.2,-1l2.2,-4l-3.2,-2l0.8,-3l-1.2,-0.6l-2,0.1l-1.8,-0.5l-2,-1l-0.9,-1l0.1,-1l0.6,-1.1l2,-0.2l0.8,-0.7l0.1,-2l1.1,-0.9l3,-0.3l1.7,4.2l3.3,2.6l1,0l4,-1.4l2,-1.5l2,0.2l2.5,-0.9l-0.1,-1l-1.4,-2l0.1,-1l1.9,-1.5l1,0l0.4,0.5l-0.1,1l-0.9,1l0.9,1l0.2,2l0.5,0.6l1,0.1l2,-0.8l4,-3.3l2,-1l1,0l2,1.5l2,0.1l1,1.7l0.6,-0.9l-1.5,-1l0,-1l1.4,-2l0.5,-3l3,-0.2l1,-0.5l1.1,0.7l-0.6,2l1.7,1l0.8,1.7l1,0.2l1,-1.3l1.4,-0.6l0.7,-2l0.9,-0.1l1.5,1.1l0.5,3.5l1.9,-1.5l-0.3,-1l0.4,-1.1l1,0.1l0.9,1l1.1,0.2l2,-1.1l1,0l1,1.6l1,-0.1l2,-1.4l1,0l3,1.3l2,0.2l1.2,1.3l-0.2,1l1,-0.6l1.1,1.6l-2.1,1.8l-3,-1.2l-2,1.2l-1,-0.7l-0.5,0.9l0.2,1l1.3,2l-4,0.2l-4,1.9l-1.5,-0.1l-1.5,-1.3l-1,0.7l-2,-0.7l-3,4.9l-0.2,1.4l0.2,1.1l2,-0.3l1,0.4l0.7,0.8l-0.4,1l0.4,1l-3.7,0.6l-1,-1.1l-1,1l-1,0.2l-1,-0.6l-2,1.4l-3,-1.5l1,-1.2l1,0.2l0.7,-1l-0.7,-0.7l-1,0.2l-1,1.2l-3,-2.5l-1.9,1.8l0.9,0.9l1.6,0.1l1.4,1l-4,0.9l-2,-0.1l-1.4,1.2l0.1,2zM26.5,-61.7l-0.8,-1.8l0.8,-0.8l1.1,0.8l-0.2,1zM-133.2,-59.5l0.3,-1l-0.6,-0.5l-0.5,0.5l0.4,1zM-112.5,-43.2l-1,0.4l-1.8,-0.7l2.2,-2l-0.8,-1l-1.1,0l-0.5,1.3l-1,-0.9l0.8,-1.4l0.3,-4l-1.1,-1.6l-1,1.4l-1,0.3l-3,-0.5l-0.6,-0.6l-0.4,-2.2l-1.9,-1.8l0.3,-3l0.6,-1.4l1,-0.3l1,0.3l1,1.4l1,-0.5l2,1.5l-0.7,2l1.3,1l0.4,1l1,-0.7l0,-1.5l1,-0.9l2,0.5l4,-0.1l2,0.7l0.3,1l-1,2l0.7,0.8l4,-3l1.6,0.2l0.4,1l1,0.4l1.3,2.6l-0.3,1.2l-3,0.8l-2,-0.9l-5,0.6l-2,-0.9l-1.8,2.2l1,2l0.1,2l-0.3,0.8zM81.5,-56.4l-1,0.6l-1,-0.1l-1.2,-2.6l0.2,-1.1l1.4,0.1l1.6,1.6l1.3,0.4zM91.5,-50.2l-4,-0.5l-2.5,-2.8l-1,-3l1.5,-1.2l3,0.8l2,-1.7l2,0.8l4,0l1,0.8l4,-0.7l1,1.2l0,1.3l-1,0.4l-5,-0.2l-1.4,0.5l-0.1,1l3.5,0.7l1,-0.5l1.9,1.8l-1.9,0.3l-1,-1l-1,0.5l-4,0.6zM119.5,-54.1l-1.6,-0.4l0.6,-2zM158.5,-52.4l-1.2,-2.1l0.2,-1.1l1,-0.5l0.7,0.6l-0.6,1zM-95.5,-51.7l-1,-1l0,-2.1l1.8,1.3l0,1zM-80.5,-24.9l-1.6,-0.6l-1.4,-3l-3,-0.8l-4,0.4l-4,-1.5l-1,-1.1l-0.4,-2l0.8,-5l2.6,-5.2l2,-1.6l1,0.2l1,0.4l0.1,2.2l0.9,1l1,-0.1l1.6,-3.9l0,-2l-0.6,-0.6l-4,-0.2l-2,0.9l-1,-0.7l-2,-0.2l-1,-0.6l-0.4,-0.6l0.7,-1l-0.1,-1l1.8,-2l1,1.3l1,0.1l0.5,-0.4l-0.2,-1l0.7,-0.3l0.9,0.3l0.2,2l0.9,0.8l5,-0.4l5,1.5l4,-1.8l2,2.4l1.2,-0.5l0.8,-1.3l0.7,0.3l0.3,2.2l0.1,-2.2l1.4,-1l0.5,-1.1l0.3,1.1l1.3,1l-0.2,1l0.6,0.9l2,-0.7l1,1.2l3.2,-1.4l-2.2,-0.5l-1,0.2l-0.5,-1.7l0.5,-0.7l5,0l1,0.6l2,0.2l0.8,0.9l0.2,1.8l0.6,1.2l-0.4,1l-2.2,0.3l-5,-0.9l-3,1.1l-2,0l-3,1.9l-4,3.9l-2,2.7l-1,3l-2,1.2l-1.8,1.8l-0.5,1l0.3,2l-0.5,3zM103.5,-51.4l-1.9,-0.1l1.9,-2.7l1,0.3l3,-0.3l0.5,0.7l-0.5,1.2zM133.5,-31.4l-2,0.8l-2,-0.6l-1,-2.2l-2.4,-1.1l-1.1,-4l-1.5,-2.8l-2,0.1l-1.9,-1.3l0.4,-2l1.4,-1l0.9,-2l0,-1l-2,-2l0.3,-1l0.9,-1.3l1,-0.1l1,-0.8l2,2.7l1,0.5l-0.2,-1l1.2,-0.5l1,0.2l1.1,-0.7l-0.1,-1.2l1,-0.1l3,0.3l1,1l0.1,1l0.9,0.5l1,0l0.6,-1.5l1.4,-0.6l1,0.2l1.7,1.4l-0.7,0.5l-1.2,2.5l-2.8,1.9l0.1,2.1l-1.5,2l-1.6,1.1l-2,0.1l-1.7,1.8l0,1l1.7,1.8l3,0l3.9,-2.8l0.1,-2.4l0.6,-0.6l0.4,-2l1,-1.4l1,0l0.6,-0.6l-0.3,-1l0.7,-2l-1.5,-3l1.5,-1.7l1,0.1l1.1,0.6l0.3,4l-0.3,3l1.2,2l-0.1,2l-1.9,2l-1.3,4.5l-1,1l-1.9,1.5l-2.1,0.1l-1,1l-2,0.2zM127,-42.5l1.6,-2l-0.4,-1l0.8,-2l-0.5,-1.2l-1,-0.2l-0.6,0.4l-0.4,1l0.3,1l-2,4l1.7,0.8zM21.9,-45.5l0.1,-1l-0.5,-0.3l-1.3,0.3l1.3,1.2zM-79.5,-42.5l2.2,-1l-1.2,-0.6l-1,0.1l-2,-2.3l-2,0l-0.9,0.8l2,2l-0.1,1l1,0.3zM25.7,-41.5l0.2,-1l-0.9,-2l-1.5,-1.4l-0.3,0.4l0.1,2l1.2,1.5zM-6.5,-36.6l-2,-0.7l-1,-1l-0.5,-1.2l0.7,-3l1.8,-1.2l2,0.1l2,-0.7l2.6,0.8l-1.6,2.2l-2,0.1l-1,0.6l-1,-0.7l-0.4,0.8l1.4,0.3l0.2,1.7zM151.5,34.5l-1,-0.4l-1.7,-2.6l0.7,-1.2l1,1.8l1,-1.5l0.5,-2.1l-0.5,-2.7l-1,-0.4l0.4,1.1l-0.2,1l-0.2,0.4l-1,-0.4l-1,-3l1,-0.9l-0.1,-1.1l-3.9,-2.8l-1,-1.9l-1,-0.2l-1.2,-1.1l-1.3,-3l0.4,-3l-3.9,-1.1l-1.1,-0.9l0.4,-1l-1.3,-1.4l-3,-0.4l-1,-0.8l-4,0l-1,0.5l-1,-0.2l-1.8,1.3l0.8,1l3,-0.1l0.8,1.1l-1.8,2.3l-3,0.6l-1,-0.6l-2,0.2l-12,-1.4l-3,-0.9l-3.5,-3.2l-2.8,-3l-2.2,-4l-2.8,-3l-0.2,-1l0.5,-0.8l3,-0.7l0.4,-0.5l0,-6l-0.4,-1.3l-2,-0.1l-1.2,-0.6l-0.6,-1l0,-2l-1.5,-2l-1.7,-3.6l-1,-0.5l-1,2.5l-2,1.4l-1.4,2.2l-4.9,3l-0.4,1l0.3,1l-0.4,3l1.8,0.4l0.8,1.6l0.1,2l-0.7,1l-2.2,0l-1,-4.1l-0.6,1.1l-1.4,0.4l-2.5,-4.4l-1.9,-6l0.3,-2l-0.6,-2l1.4,-3l1,-4l1.2,-2l-1.5,-2l0.6,-0.6l6,4.2l4,1.9l6,0l5,-1l3,2.6l3.8,-3.1l2,-7l0.8,-1l1.4,-0.5l1,0.1l1,-1.3l5,-2.2l2,-0.1l4,1l-0.8,1l-2.2,0.5l-0.3,0.5l1.5,2l0.3,1l-0.2,1l1.2,2l2.5,2.6l-0.5,2.4l-1.5,1.6l-3,1l-1.5,2.4l-2.5,0.5l-1,-0.7l-0.4,0.2l0.8,3l-0.2,1l-1.2,1l-2,0l-1,-1.5l0,1.4l1,0.3l1.1,2.8l0.1,3l-1.2,1.3l-3,1.9l-4,-3.5l-0.9,2.3l0.4,2l2.5,0.9l1.3,1.1l1,4l-0.5,1l0.3,1l1.9,2.4l0.7,1.6l1.3,0.5l0.4,-0.5l-0.3,-1l-2.1,-3l0.3,-2l1.7,-2.1l3,-1.3l3.1,-2.6l3.3,-5l-0.6,-3l0.6,-3l1.6,-1.1l2,0l1.2,1.1l0.5,4l2.8,2l0.7,6l-2.2,2.2l-3.9,-1.2l-1.1,-1l1.3,-2l-1.3,-0.8l-1.7,1.8l2.6,2l-0.9,0.6l-0.6,1.4l0.6,0.8l4,0.4l3,-0.9l1,0.3l2,1.6l3,0.2l2,1.5l3,-0.2l4,1l5,2.9l1.5,-0.6l0.1,-1l1.4,-1.2l1,0.1l5,4l4,2.1l2.2,2l0.2,1l-1.4,0.9l-4,-1.8l-4,-2.8l-1,0l-1.7,1.7l1.4,2l-0.7,1.2l-1,0.3l-2,-0.4l-3,-1.7l-1,-0.1l-0.8,0.7l0.8,1.1l0.4,1.9l1.7,2l0.8,3l6.5,7l0.5,3l-0.5,3zM-7.5,-32.2l-1.1,-0.3l2.1,-3.6l1,-0.7l0.7,2.3zM112,-31.5l-0.4,-1l-1.1,-0.2l-0.8,1.2l0.8,0.7zM-58.5,39.1l-3,0.2l-2,-1.9l-3.6,-1.9l2.8,-12l-1.2,-3.8l-1.6,-2.2l-2.4,-2.2l-3,-1.5l-1.5,-1.3l-3,-4l-1.5,-3.7l-1.5,-1.3l-0.1,-5l1.4,-3l-0.8,-1.9l-5,-1.4l-4,-4.1l-4,-1.5l-1,-1.2l-2,-1.2l-2,1l-2,-0.6l-5,-3.2l-2,-2.3l-1.5,-2.6l-1.1,-3l-0.8,-1l-0.4,-1l0.8,-1.3l1,0l1.2,1.3l4.6,8l1.2,0.9l1,0.3l1.2,-1.2l-0.5,-4l1.3,-0.8l1.2,0.8l1.4,4l1.4,1.1l2.4,-0.1l1.6,-2.3l3,-0.2l0.8,0.5l0.2,1l-0.5,3l0.5,0.5l3,0.7l0.9,0.8l1.1,4.5l1,0.4l2,-0.1l2,1.2l2,-1.5l4,0.2l2,-1.4l3,0.7l5,-0.1l1.3,2.1l1.7,1.4l5,1.5l2.3,2.1l2.7,3.6l1.3,0.4l1.7,1.7l7.8,2.3l2.1,2l0.8,2l-0.4,2l-2.8,4l-0.4,4l-2.1,4.7l-2.8,2.3l-2.2,0.3l-2,1.4l-1,2.4l-4.9,5.9zM121.5,-21.7l-1,-0.2l-0.6,-0.6l0.1,-3l0.5,-0.5l1,0.2l1.1,1.3l-0.3,2zM-65.5,-17.2l-8,0.1l-2,-0.4l-2,0.5l-1.3,-0.5l-0.2,-1l0.5,-0.7l1.7,-0.3l-4.7,-1.3l-3.2,0.3l-1.3,-1l0.4,-1l1.1,-0.7l2,-0.5l6,-0.1l3,3.1l1,0.5l3,-0.1l2,0.9l2,0.2l0.8,0.7zM-155.5,-18.3l-1.2,-1.2l1.2,-1.3l1.1,1.3zM25.5,34.8l-5,0.3l-1.1,-0.6l1.1,-0.7l2,0l2.2,-1.3l1,-2l-0.3,-1l1.3,-3l-0.1,-1l0.7,-1l-0.4,-3l0.6,-3l-2,-1.1l-7,-0.3l-4,-0.9l-0.8,-0.7l-1.3,-2l-0.2,-5l-1.2,-3l-2.3,-3l-0.3,-4l-0.9,-1.4l-2,-0.5l-1,-0.8l-2,-0.4l-4,1.2l-7,0l-6,-4.7l-1.9,-3.4l2.9,-1.5l5,0.6l6,-0.8l3,0.7l2,1.1l1,0.1l1,-0.7l1,0.7l3,0.5l2,-1l4,-0.9l2,1.8l5,-0.8l2,0.8l2,-0.1l2,-0.7l2,0.2l3,1.3l2,-2.1l3,-1.6l1,0.2l1.3,1.2l0.8,4l-0.1,1.7l-3,2.8l-2.2,0.5l-0.5,1l1.6,3l1,3l1.1,0.9l1,-0.3l0.5,0.4l1.3,9l-0.2,1l-2,3l-3.3,2l0.3,4l-2.1,3l-1.5,3.3l-3,3.3zM93.5,-11l-1,0.4l-0.7,-0.9l0,-2l0.7,-0.6l1.4,0.6zM33.3,2.5l0.7,-1l0,-1l-1.5,-0.3l-0.5,1.3l0.5,1.1zM124.8,2.5l1.1,-1l-0.4,-0.7l-1.2,1.7zM-38.6,10.5l0.1,-1.3l-1,-0.3l-1.5,1.6l1.5,0.4zM47.5,25.9l-1,0.4l-3,-0.8l-0.5,-2l0,-6l0.3,-1l4.2,-4.2l1,-0.9l1,-0.2l1,0.7l0.7,1.6l0.1,3l-1.7,7zM135.5,16l-1,-0.7l-1,0.5l-1,-0.2l0.1,-1.1l-1.1,-1.3l-2,1.2l-0.4,-0.9l0.3,-1l2.1,-1.2l5,-0.1l0.6,1.3l-0.6,1l0,2zM168.5,17.8l-1,0.1l-2,-1.9l-0.3,-0.5l0.3,-1.1l1,-0.6l2,1.3l1.1,1.4zM178.5,19.7l-1,0l-1.1,-1.2l-0.1,-1l1.2,-1.3l1.6,0.3l0.6,1l0,1zM32.8,19.5l-2.3,-0.9l-0.7,0.9l1.7,0.8zM167.5,23.8l-1.9,-0.3l-2.3,-2l0.2,-2.3l1,-0.3l1,0.5l3,2.8zM117.5,35.8l-2.8,-1.3l0.8,-3.4l1,0.3l0.6,1.1l1.7,1l0,1zM148.5,38.6l-6,0.8l-2,-0.7l-0.2,-1.2l2.2,-2l3,0.8l1,-0.4l2,0.9l2,-2.2l0.6,0.9l-0.1,2zM169.5,46.9l-2.8,-1.4l0.4,-1l4.4,-3.4l2,0l-1,-6.4l6,2.1l0.7,0.7l-0.7,2.4l-2,1.7l-1,0.4l-1,-0.4l-2,2.9zM-74.5,47.9l-0.4,-0.4l1.4,-10.3l0.8,0.3l0.3,2l-1.2,8zM148.5,43.6l-1,0.4l-1.7,-0.5l-1,-2l0.7,-0.9l2.4,-0.1l0.9,1z"/><path fill="#b9e18d" d="M-119.5,-35.2l-2.5,-1.3l-2,-3l-0.6,-3l0.1,-4l-0.7,-2l-3.3,-2.4l-4.3,-4.6l-3,-2l-1.7,-1.9l-2,0.3l-8,-1.2l-3,0.9l-2,-0.6l-2,-1.5l-1,0.1l-0.8,-1.1l1.8,-0.6l2,0.9l1.4,-0.3l1.2,-1l-0.2,-1l1.6,-0.9l2,0.3l0.8,0.6l-1.3,2l0,1l0.5,0.3l1,-0.4l0.7,-0.9l0.3,-1.6l2,-0.6l1.5,0.2l-0.4,1l0.9,0.1l1,-1l1,-0.2l7,2.4l2,-0.8l0.5,0.5l-0.3,1l-1.5,1l-0.7,1.3l-1,-2.1l-1,-0.5l-1.1,1.3l1.1,1.5l3,1l1,-0.2l2,1.5l-0.4,2.2l0.4,0.6l2.9,3.4l1.7,1l0.7,3l-0.3,5l1,2.1l2.1,1.9l0.4,2zM33.5,-61.7l-1.1,-1.8l1.1,-1l1.7,1zM21.5,-39.4l-3,-1l-3,-3.8l-1,-0.3l-1,1l0.5,1l-0.5,0.4l-1,-1.1l-1,-0.3l-0.8,-2l-1.2,-1.2l-0.4,0.2l1.2,1l-0.8,0.8l-3,-0.4l-1,0.8l-1,-1.8l-2,2l-0.9,-1.4l0.4,-1l-0.5,-0.2l-1,1l-3,-0.8l1,-1l-0.2,-2l-0.8,-1l-3.9,0l-3.1,-1.6l-0.4,-1.4l0.4,-0.7l2,-0.3l1.4,-1l0.1,-2l0.5,-0.4l0.5,0.4l-0.1,1l0.6,0.3l1,-0.3l1,-2l1.3,4l1.8,1l1.6,2l-1.3,1l-0.4,1.2l5,-3.3l3,-0.3l1,1l1.1,-0.6l0.1,-1l3.8,-2l1,0.2l1,1l1,0.3l4,-2.5l1,0.1l1,1l1,-0.1l1,-2.9l1,-0.1l1,1l2,-0.4l1,1.6l1,0.3l1.1,-0.5l0.5,-1l-1.7,-2l0.7,-1l1.4,-0.8l1,0.3l2,-0.8l1.2,0.3l0.3,1l-1.5,2l2,-1.2l0.4,1.2l0.6,0.3l2.4,-1.3l1.6,-1.6l1,0.4l0.9,1.2l0.1,2.1l1.1,-0.1l2.9,-3.2l1,-0.1l1,1l3,-0.2l1,1l2,-1.1l1,0.9l1,0.3l1,-0.2l0.8,0.6l0.4,1l-1.2,0.8l-1,-1l-1,-0.1l-0.6,2.3l1.2,2l-0.6,0.8l-1,-0.1l-1,-1.2l-1.2,1.5l-2.8,1.6l-1,-0.2l-0.4,-1.4l-0.6,-0.5l-2,0.8l-2,-2l-2,0l-0.2,0.7l-0.8,0.5l-1,0l-1.1,1.5l1.4,1l-1.2,2l-1.1,-0.5l-1,0.3l-0.4,0.2l-0.1,1l1.5,1.2l2,0l0.3,1.8l0.7,0.7l2,-0.3l0.6,0.6l-1.6,1.9l-1,-0.1l-1,-1.2l-1,-0.2l-1,1l-0.2,-0.4l-2.8,-0.3l-1,-1.6l-0.6,-0.1l0.7,-2l-1.5,-1l0.1,-2l-0.7,-0.4l-1.4,0.4l-1.3,2l0.1,1l0.6,0.4l1,-0.4l1.4,2l-0.4,0.5l-2,-0.5l-1,-0.9l-1,0.4l-1,2.2l-1,0l-0.8,-0.7l-0.1,-1l1.9,-1l-1,-1.9l-1,2.7l-3,-1.1l-1,-1.7l-1,0.5l-1,-0.6l-1,0.2l-1,0.9l2,1.9l1,0.1l1,2l2.3,2l-1.3,0.6l-2,-0.4zM-118.5,-52.1l-2,-0.4l-1.2,-1l-0.4,-2l-1.3,-2l0.9,-0.8l2,0.4l1,-0.8l0.4,0.2l0.5,1l-0.4,1l1.5,1l0.4,1l0,1zM91.5,-50.4l-2.1,-0.1l-2.2,-1l0.3,-1l-1.5,-1l-0.4,-1l0.1,-1l0.8,-1l2,0.1l2,-1.3l1,0l2,0.9l3.4,0.3l-2.4,1.6l-2,0.1l-0.3,1.3l3.3,1l2.1,0l-3.1,0.3zM-113.5,-51.1l-1,0.1l-1.5,-2.5l1.3,-1l0.2,-2l2,0l1.7,1l-2,2l-0.5,1l0.4,1zM-107.5,-53.9l-1,0.1l-1.8,-1.7l0.4,-1l2.5,0l0.6,1zM-99.5,-50.5l-6,-0.5l-0.7,-0.5l0.2,-1l2.5,-1.8l1,-0.5l1,0.3l0.2,1l1.8,0.5l1,1.4zM-108.5,-50.6l-2.6,-0.9l0.2,-1l1.4,-1.6l2.1,1.6zM133.5,-31.5l-2,0.5l-2,-0.4l-1,-2.5l-2.1,-0.6l-0.6,-3l-1.2,-2l-0.1,-1l2.5,-1l2.2,-3l-0.1,-4l-1.3,-1l0.6,-1l2.1,-1l0.4,-1l1.6,-0.4l3,2.5l1,-0.1l1.2,-2l0.8,-0.3l0.9,0.3l0.7,1l-0.6,1.6l-1.3,0.4l-0.3,1l-1.4,-0.3l-0.1,1.3l-0.7,1l0.5,2l-1.3,2l-1.4,1.1l-2,0l-1.8,1.9l0,1l1.8,1.9l3,-0.1l4,-2.8l0,-2.1l0.8,-0.9l0.3,-2l0.9,-1.2l1,0.1l0.9,-0.9l-0.3,-1l1.1,-2l-1.3,-4l0.6,-0.4l2,0.4l0,7l1.3,3l-0.3,1l-1.8,2l-1.2,4.3l-2,1.8l-2,-0.5l-0.4,0.4l1.4,0.5l0,0.5l-2,0l-1,1.1l-2,0.1zM19.5,-46.5l-6.5,-3l1.8,-2l-1.3,-1.2l-0.6,0.2l0.2,2l-2.6,0.8l-1,-0.3l0,0.8l3,0.4l2,1.9l2,0.2l2,0.9zM-90.5,-48.1l-1,-0.1l-1,-1.5l-2,0.7l-0.7,-0.5l0.7,-1.4l1,-0.9l1,0.6l2,0.2l0.8,0.5l-0.1,2zM-57.5,-50.7l-2.4,-0.8l2.4,-0.3l0.6,0.3zM123.5,-43.7l-0.9,-0.8l-0.2,-1l0.8,-2l-0.5,-3l-1.2,0.4l-0.4,-0.4l0.4,-1.3l2,-0.6l1.2,1.9l0.2,1l-0.6,1l1.2,-0.1l0.2,2.1l-0.4,1zM-112.5,-49.5l-0.4,-1l0.4,-0.7l0.9,0.7zM-80.5,-25.2l-1.3,-0.3l-1.7,-3.3l-3,-0.7l-4,0.4l-4,-1.8l-1.1,-2.6l0.9,-5l1.6,-1l0.5,-3l1.1,-1.6l2,0.1l0.4,1.5l1.6,1.5l1,-0.2l1,-2.6l1,-1.2l1.8,1.5l0.2,1.7l3,-0.3l2.5,-1.4l-1.5,-0.9l-1,0.2l-1,-1.9l-4,-0.8l-1,-1.4l-1,-0.2l-0.8,-1l0.8,-0.6l3,0l1,1.2l1,-0.3l4,0.3l2,-0.7l1,-1l0.2,1.1l0.8,0.7l1,0.4l2,-0.4l1,1.4l1,0.5l0.8,-0.6l-1.1,-2l1.3,-1.2l0.6,1.2l-0.5,2l1.9,0.8l2,-1.3l0.4,0.5l-0.4,1l-2,0.1l-3,1.6l-2,2.6l-3.1,2.7l-2.5,5l-1.4,0.7l-2.5,3.3l0.3,2zM-55.5,-46.5l-2.4,-3l0.8,-1l1.6,-0.5l1.3,0.5l0.1,2l0.8,1l-1.2,0.9zM-114.5,-47.4l0,-1.8l1.1,0.7l-0.5,1zM-57.5,-47.5l-1,0.4l-1.5,-0.4l1.5,-0.7l1,0.1l0.5,0.6zM-77.9,-45.5l0.3,-1l-0.9,-0.3l-0.6,1.3l0.6,0.8zM121.5,-41.7l-1.4,-1.8l0.4,-1.1l1.7,0.1l0.1,2zM-113.5,-43.2l-1.2,-0.3l1.2,-0.7l0.6,0.7zM-6.5,-37.9l-2,0l-1,-1.2l0.8,-2.4l-0.2,-1l1.4,-1l2,0.8l0.3,-0.8l0.7,-0.4l2.4,0.4l-0.4,1l-1,0.5l-2,-0.3l-2.5,0.8l0,1l1.9,1l0.1,1zM1.5,-42l-0.7,-0.5l0,-1l0.7,-0.7l0.8,0.7l0.2,1zM141.2,-39.5l-0.4,-2l1,-1l0.2,-1l-0.5,-0.1l-0.5,0.1l-1,3l-1.1,1l0.6,0.6zM149.5,22.2l-4,-2.8l-1,-2l-1.7,-0.9l-1.8,-4l0.5,-1.6l0.6,-0.4l-4.6,-1.2l-1.1,-0.8l0.4,-1l-1.3,-1.4l-3,-0.5l-1,-0.7l-6,0.2l-1.9,1.4l0.9,1l3,0l0.7,1l-1.7,2.3l-2,0.5l-16,-1.7l-3.3,-1.1l-5.7,-5.7l-2.5,-4.3l-2.8,-3l-0.1,-1l0.4,-0.7l3,-0.7l0.5,-0.6l0,-6l-0.5,-1.5l-2,0l-1,-0.5l-0.7,-1l0,-2l-2,-3l-0.6,-2l-1.7,-1.5l-1.2,2.5l-1.8,1.1l-0.5,-0.1l-1.3,-3l-0.8,0l-0.2,1l1.3,1l0.8,2l-0.3,1l-2,2l-2,0.3l-1.9,1.7l-0.4,1l0.4,2l-0.5,2l-1.5,2l-1.1,0.3l-2.4,-4.3l-1.9,-6l0.6,-2l-0.6,-2l0.2,-1l1.4,-2l0.7,-3.5l1,-2l1,-1l3,1.5l4,2.9l1,0.1l8,-0.5l3,-0.7l3,2.6l5,-3.4l-0.2,-2l0.8,-1l0.6,-4l0.8,-1l1,-0.2l1,1.2l0.2,2l0.8,0.8l1.5,0.2l-0.5,0.9l-2,-0.5l-0.9,0.6l1.9,0.1l1,3.5l1,0.4l1,-1.9l3.1,-2.1l-1.1,-1.5l-2,0.3l-1,-1.8l-1,0l-1.3,-2l0.1,-1l5.2,-2.4l2.6,0.4l-0.8,2l1.9,3l0.1,2l-0.9,2l1.1,0.4l1,-0.6l1.3,1.2l-0.4,1l-0.1,3l-2.8,0.8l-4,3.1l-2,-1.7l-1.3,2.8l1.3,0.2l0.8,0.8l0.3,2l-1.1,0.9l-2,-0.1l-1,-1.6l-0.4,0.8l0.3,1l1.8,2l0.7,3l-0.3,1l-1.1,1.2l-3,1.8l-1,-0.5l-2,-2.5l-1,-0.5l-0.9,1.5l-0.2,2l0.4,1l2.7,0.9l1.2,1.1l1.1,4l-0.6,1l0.4,1l1.9,2.5l0.6,1.5l1.4,0.5l0.5,-0.5l-0.3,-1l-2.2,-3l0,-1.1l0.9,-1.9l1.1,-1.1l3,-1.3l3.2,-2.6l3.3,-5l-0.7,-3l0.7,-3l1.5,-1l2,0l1.2,1l0.5,4l2.8,2l0.7,6l-2.2,2.1l-3.8,-1.1l-1,-1l1.2,-2l-1.4,-0.9l-1.7,1.9l2.3,2l-1.3,2l0.7,0.9l4,0.4l3,-0.9l1,0.2l2,1.7l3,0.2l2,1.4l3,-0.2l4,1l5,3l1.5,-0.7l0.2,-1l1.3,-1.1l1,0.1l5,4l2.5,1l3.6,3l0.3,1l-1.4,0.8l-4,-1.8l-4,-2.7l-1,-0.1l-1.8,1.8l1.4,2l-0.6,1.1l-3,0l-3,-1.7l-1,-0.2l-0.9,0.8l1.2,3l1.7,2l0.7,3l3.1,3zM-58.5,38.9l-3,0.1l-3,-2.9l-2.3,-0.6l2.9,-12l-1.5,-4l-1.5,-2l-2.6,-2.3l-4.3,-2.7l-3.1,-4l-1.6,-3.9l-1.2,-1.1l-0.2,-5l1.2,-3l-0.7,-2l-5.1,-1.4l-4,-4.2l-4,-1.4l-1,-1.2l-2,-1.2l-2,1l-2,-0.6l-5,-3.3l-2,-2.3l-3.7,-7.4l0.7,-1.2l1,0.1l1,1.1l4.6,8l1.4,1.1l1,0.3l1.3,-1.4l-0.4,-4l1.1,-0.7l1,0.8l1.5,3.9l1.5,1.2l2,0.2l0.7,-0.4l1.3,-2.2l3,-0.2l0.6,0.4l0.2,1l-0.4,3l0.6,0.6l3,0.7l0.9,0.7l0.6,4l0.5,0.7l1,0.3l2,-0.1l2,1.3l2,-1.4l2,0.7l3,-0.6l1,-1.3l3,0.5l5,-0.1l1.2,2l1.8,1.4l5,1.5l2.3,2.1l2.7,3.7l1.2,0.3l1.8,1.8l7.5,2.2l2.2,2l0.8,2l-0.3,2l-2.8,4l-0.4,4l-2,4.6l-2.9,2.4l-2.1,0.2l-2,1.4l-1,2.4l-3.8,4l-1.1,2zM75.6,-19.5l0.9,-1.4l2,1.2l0.2,-1.8l-0.9,-1l0.1,-1l0.9,-1l-0.3,-1.5l-1.5,1.5l0.1,1l-0.6,1l-1.3,1l-0.2,1zM107.7,-24.5l1.3,-1l-1.5,-0.2l-0.3,1.2zM121.5,-21.8l-1.4,-0.7l0.4,-2.9l1,-0.1l0.9,1l-0.2,2zM-65.5,-17.3l-8,0.1l-2,-0.5l-1,0.6l-2,-0.2l-0.4,-1.2l0.4,-0.5l2.2,-0.5l-5.2,-1.5l-3,0.4l-1,-0.9l0.1,-1l2.9,-1.1l6,0l3,3.1l1,0.4l3,-0.1l2,0.9l2,0.2l0.7,0.6zM-155.5,-18.4l-1.1,-1.1l1.1,-1.2l0.9,1.2zM25.5,34.7l-4,0.3l-1.8,-0.5l0.8,-0.5l2,0.1l2.7,-1.6l0.6,-1l1.3,-6l1.1,-1l-0.9,-2l0.2,-3.1l5,1.5l1,-1.4l-2,-1l-4,-0.4l-2,-1l-7,-0.2l-4,-1l-1.8,-2.4l-0.1,-5l-1.5,-3l-2.2,-3l-0.5,-4l-0.9,-1.6l-2,-0.3l-1,-0.9l-2,-0.4l-4,1.3l-7,0l-6,-4.7l-1.3,-2.4l0.2,-1l2.1,-0.9l5,0.4l7,-0.7l4,2l2,-0.4l4,0.8l6,-1.9l1,1.7l6,-0.7l4,0.9l2,-1l3,0.5l2,1.1l2,-2.3l3,-1.7l1,0.3l1,0.9l0.7,2l0.2,3l-2.9,3.3l-2.8,0.7l-0.1,1l1.6,3l0.9,3l1.4,1.2l1.3,-0.2l1.3,9l-0.2,1l-2.4,3.2l-3.5,1.8l0.5,0.5l0.5,3.5l-2.2,3l-1.3,3.1l-3,3.3zM93.5,-11.1l-1,0.4l-0.6,-0.8l0,-2l0.6,-0.5l1.3,0.5zM81.5,-5.5l-2,-0.2l-0.4,-0.8l-0.4,-3l0.8,-0.9l2,0.4l0.7,1.5l0.1,2zM33.6,2.5l0.5,-2l-1.6,-0.5l-0.6,0.5l0.4,2l0.2,0.3zM124.9,2.5l1.1,-1l-0.5,-0.8l-1.3,1.8l0.3,0.3zM-40.3,11.5l1.8,-0.6l0.5,-1.4l-0.5,-0.9l-1.7,-1.1l-0.1,-1l-1.2,-0.4l-0.6,0.4l0.3,2l-0.5,2l0.8,0.9zM47.5,25.9l-1,0.3l-3,-0.7l-0.3,-8l0.2,-1l2.4,-2l1.7,-2.2l1,-0.8l1,-0.2l1,0.7l0.6,1.5l0.1,3l-1.6,7zM134.5,13.6l-3,-0.9l-2,0.5l0,-0.7l2.1,-1l5,0l-0.1,1.5zM168.5,17.7l-1,0.1l-2,-1.8l0,-1.5l1,-0.6l2,1.2l1,1.4zM178.5,19.7l-1,0l-1.1,-1.2l-0.1,-1l1.2,-1.2l1.5,0.2l0.7,1l-0.1,1zM167.5,23.7l-1.8,-0.2l-2.3,-2l0.1,-2.3l2,0.3l3,2.8zM151.5,33.6l-0.3,-1.1l1.2,-3l-0.1,-3l-2.4,-3l-0.1,-1l0.7,-0.8l3,3.4l0.6,2.4l-0.4,4zM117.5,35.6l-2.6,-1.1l0.6,-3.2l2.8,2.2l0.2,1zM-61,34.5l-0.5,-1.3l-1.8,1.3l1.8,0.9zM147.5,38.8l-6,0.3l-1.1,-0.6l0.1,-1l2,-0.9l3,0.8l1,-0.4l2,0.2l2,-1.8l0.5,1.1l-0.5,1.4l-2,0.2zM176.5,41.5l-1,0.4l-0.8,-0.4l-1.2,-1.5l-1,-4.8l1,-0.3l4.2,1.6l1.3,1l-0.3,2zM-73.5,45.4l-0.8,-0.9l0.8,-7.1l0.8,2.1zM148.5,43.6l-1,0.3l-1.4,-0.4l-1.1,-2l0.5,-0.6l2,-0.4l1.1,1zM169.5,46.7l-2.5,-1.2l0.3,-1l4.2,-3.2l1.5,0.2l0.6,1l-0.6,1zM-74.5,47.7l0,-2.7l0.8,0.5l-0.7,1l0.4,1z"/><path fill="#deefa2" d="M-119.5,-35.5l-2.2,-1l-2.1,-3l-0.6,-3l0.2,-4l-1.3,-2.6l-3,-2l-4.2,-4.4l-2.8,-2l-0.8,-1l-0.2,-2.1l-3,1.3l-6.2,-1.2l1.2,-1.4l1,-0.2l1,0.4l4,-2l4.4,1.2l-1,2l0.5,1l3.1,1.9l2,0.5l0.7,0.6l1.2,3l2.7,3l1.6,1l0.9,3l-0.3,5l1.2,2.6l2,1.9zM-148.5,-60.5l-2,0.8l-2,-0.7l-1.2,-1.1l3.2,-0.5l1.4,0.5zM38.5,-49.1l-1.9,-1.4l-3,-1l0.6,-1l-0.7,-0.7l-3.6,-0.3l1.7,-2l3.9,-2.4l1,1.3l2,-0.9l1,0.1l1.2,-1.1l2.8,-0.9l0.7,0.9l0.3,2.1l3,-0.6l0.8,-1.5l1.2,-0.6l2.4,1.6l-1.5,3l-1.9,1.4l-1,-1.5l-4,-0.7l-4,5.7zM57.5,-56.3l-1.2,-0.2l-0.4,-1l0.6,-1.6l1,0l0.5,0.6zM-118.5,-52.9l-1,0.3l-1.2,-0.9l-0.3,-1l0.5,-2.2l2,1.2l0.7,1zM26.5,-46.1l-1.8,-0.4l-0.2,-2l-1,-0.6l-4,1.2l-2,-0.1l-3.1,-1.5l2.1,-0.8l0.1,-1.2l2.5,-1l-0.4,-1l0.7,-1l3.1,0.7l2,-0.9l1,-1.6l1,-0.6l3,-0.3l0.4,0.7l-0.3,1l-0.9,1l2.7,4l0.1,2l-1,1.7l-0.7,-0.7l-0.3,-1.4l-2,1.3l-1,-1.5l-1,-0.5l-1,1.1l2.5,1zM54.5,-52.4l-1,0.2l-0.6,-0.3l-0.1,-1l-2.2,-1l1.9,-2.2l1,0.4l2,0.1l0.6,0.7l0,1zM92.5,-51.4l-1,0.6l-3.5,-0.7l0.7,-1l-0.2,-0.9l-2,-0.4l-0.5,-0.7l0.1,-1l0.4,-0.5l2,0.2l2,-1.1l0.7,0.4l0.9,1l-0.8,2l1.5,2zM-0.5,-49.4l-2,-1.6l-2,0.5l-3,-0.9l-1,-0.9l-1,-0.2l-0.2,-1l1.2,-0.4l1,0.3l5,-2.9l1,1l-0.5,1l2.5,1.5l0.9,1.5l-0.9,0.5zM16.5,-53l-1,0.5l-2,-0.9l-1.4,-0.1l1.4,-0.2l1,-1.1l1,0.2l1.4,1.1zM-103.5,-51.5l-1.8,-1l1.8,-1.1l1.6,1.1l-0.6,0.9zM144.5,-49.7l-1,-0.8l0.2,-1l-1.2,-1.4l0,-0.8l1,0l1,0.6zM3.5,-46.1l-0.4,-1.4l-1.2,-1l0,-1l1.6,-1.2l1,0.6l0.1,-1.4l0.9,-0.6l2,-0.2l1.1,1.8l-0.2,3l-0.9,0.9l-1,0.1l-2,-1.1zM11.5,-50.9l-1,0.1l-0.5,-0.7l1.5,-0.8l0.6,0.8zM132.5,-31.4l-3,-0.3l-0.4,-1.8l-3.9,-6l0.6,-1l1.7,-1l2,-2.1l1.3,0.1l0.7,-0.7l0.4,-1.3l-0.2,-2l0.8,-1.5l-2,2.3l-0.8,-2.8l1.8,-0.4l0.8,-0.6l0.2,-1.3l3.6,2.3l-0.4,2l-1,1l1,2l-1,2l-1.1,1l-2.1,-0.4l-0.4,0.4l-1.5,2l0,1l1.9,1.9l4,-0.3l1.2,2.4l-1.3,2zM-81.5,-47.4l-1,0.4l-2,-0.5l-2,-2l1,-0.2zM-54.5,-47l-1.4,-0.5l-0.8,-2l1.2,-0.9l0.6,1.9l1.1,1zM143.5,-46.5l-1.2,-1l1.2,-1.3l0.4,1.3zM-78.5,-47.5l-1,0.7l-0.5,-0.7l0.5,-0.7l1.6,0.7zM-80.5,-25.4l-1.1,-0.1l-1.9,-3.6l-3,-0.6l-4,0.3l-1,-0.8l-3,-1.2l-0.9,-2.1l0.9,-3.9l1,-1.2l1,0l2,1.2l0,-1.1l0.6,-1l1.4,-1l0.1,1l0.9,0.2l1.6,-2.2l0.4,-1.9l1,-0.9l1.4,0.8l0.2,2l0.4,0.7l0.9,0.3l-0.4,1l2.5,-0.3l1,0.3l0,-1.3l-3,0.2l-0.2,-0.9l3.2,-0.4l1.9,-1.6l-1,-1l0.6,-3l2.5,-0.7l0.9,0.7l0.1,1.2l1,0.4l2,-1.9l0.6,1.3l-1,1l1.4,1l-0.2,1l-4.3,4l-1.5,3.5l-2,1.8l-2.6,3.7l0.2,2zM124.5,-45.4l-1,0.5l-0.3,-0.6l0.3,-1.3l1,-0.3l0.4,0.6zM20.5,-41.3l-2,0.6l-2.6,-3.8l-1.4,-1l2,-0.6l2,1.2l1,-0.2l1,2.1l2,-0.1l0.5,0.6l-0.5,0.8l-1,-0.4zM40.5,-43.3l-3,0l-0.8,-1.2l1.8,-1.7l2,1.6l1,-1.1l0.4,1.2zM141.5,-35.2l-1,0.5l-1,-0.9l-2,-0.3l-1.6,-1.6l2.6,-1.7l1,0.8l1,0.1l1.3,-1.2l0.1,-2l1.3,-1l0.3,-1.4l1,-0.9l1,0.2l0,1.5l-1.8,0.6l0.5,1l-0.6,2l-0.9,1l-0.2,2.2zM-3.5,-42.9l-1,0l-0.2,-0.6l1.8,0zM-7.5,-38.3l-1,-0.3l-0.8,-0.9l0.8,-1l1.4,1l0.4,1zM113.5,-35.1l-1,0.5l-0.7,-0.9l0.6,-4l1.1,-0.4l1,0.2l0.4,2.2zM110.5,-36.2l-1,0.2l-0.4,-0.5l-0.1,-1l0.5,-0.8l1.6,0.8l0,1zM105.5,-32.7l-1,-0.8l0.6,-3l1.4,-0.7l0.5,0.7l-0.2,1zM148.5,21.3l-3,-2.2l-1,-2l-1.4,-0.6l-1.6,-2.8l0,-2.1l1.4,-1.1l-5.4,-1.2l-1.1,-0.8l0.5,-1l-1.4,-1.5l-3,-0.4l-1,-0.7l-6,0.1l-1.9,1.5l0.9,1.1l2.9,-0.1l0.7,1l-1.6,2.3l-2,0.4l-16,-1.6l-3.2,-1.1l-5.8,-5.7l-2.2,-3.3l-0.2,-1l-2.8,-3l0.2,-1.6l3,-0.6l0.6,-0.8l0.2,-5l-0.8,-2.7l-2,0.1l-1,-0.6l-0.6,-0.8l0,-2l-2,-3l-0.5,-2l-1.9,-1.9l-1.6,2.9l-1.4,0.5l-0.7,-1.5l1.1,-3l1.9,-1l6.7,-1l3,2.6l1,-0.2l2,-1l2,-1.9l1,0.1l0.4,-0.6l-1.1,-2l0.7,-0.7l1,0l1,1l1.9,0.7l0.5,2l0.6,0.5l2,-0.4l1,0.8l1,-0.9l-1.6,-1l1.6,-0.9l1,-1.5l1,-0.2l1.7,2.6l1.5,1l-1.2,1.6l-1,-0.3l-0.7,0.7l0.1,1l-0.4,0.4l-1.8,0.6l-1.2,1l-5,-4.3l-1,0.3l-1.7,2l-0.1,1l1.8,1l2,-0.6l0.7,0.6l-0.6,1l0.1,1l0.8,0.7l1,-0.2l1,1.1l0.1,1.4l-1.1,0.8l-2,-0.2l-1,-1.6l-0.6,1l0.3,1l1.9,2l0.7,3l-0.3,1l-1,1.1l-3,1.7l-1,-0.5l-1.8,-2.3l-1.2,-0.6l-1,1.6l0.2,3l2.8,1l1.2,1l0.5,3l0.6,1l-0.6,1l2.8,5l1.5,0.6l0.6,-0.6l-2.4,-4l-0.1,-1l0.8,-2l1.1,-1l3,-1.3l3.3,-2.7l3.2,-5l-0.7,-3l0.8,-3l1.4,-0.9l2,0l1.1,0.9l0.5,4l2.8,2l0.7,6l-2.1,2l-3.7,-1l-1,-1l1.2,-2l-1.5,-0.9l-1.8,1.9l2.2,2l-1.1,2l0.7,0.9l4,0.5l3,-0.9l1,0.2l2,1.6l3,0.2l2,1.4l3,-0.1l4,1l5,2.9l1.6,-0.7l0.1,-1l1.3,-1.1l0.9,0.1l5.1,4l2.4,1l3.7,3l0.2,1l-1.3,0.7l-3.8,-1.7l-4.2,-2.8l-1,0l-1.8,1.8l1.4,2l-0.6,1.1l-3,-0.1l-4,-1.8l-0.9,0.8l1,3l1.8,2l0.7,3l2.3,2zM77.5,-25.4l-2,0.6l-0.8,-1.7l0.1,-2l1.3,-1l0.4,-1.2l1,1.2l1,-1.1l1.6,1.1l-0.8,1l0.4,1l-1.2,0.3zM-58.5,38.6l-3.3,-0.1l-0.5,-1l0.1,-1l1.6,-1l0.2,-1l-0.1,-1.1l-1,-0.8l-2.6,1.9l-0.6,1l-1.8,0l0.9,-5l1.5,-5l2.4,-2l-0.8,-0.7l-1,0.7l-1,-1.6l-0.7,-2.4l-1.6,-2l-2.7,-2.5l-4,-2.3l-3.2,-4.2l-1.1,-3l-1.7,-2.1l-0.4,-3.9l1.3,-4l-0.7,-2l-5.2,-1.5l-4,-4.2l-3.8,-1.3l-1.2,-1.3l-2,-1.2l-2,1l-3.8,-1.5l-1.2,-1.4l-2,-1l-2,-2.4l-2.2,-5.2l-1.4,-2l0.6,-1l1,0.1l0.8,0.9l4.6,8l1.6,1.3l1,0.2l1.5,-1.5l-0.4,-4l0.9,-0.5l1,0.9l1.4,3.6l1.6,1.3l2,0.2l0.9,-0.5l0.2,-1l0.9,-1.2l3,-0.1l0.7,1.3l-0.4,3l0.7,0.8l3,0.5l0.8,0.7l0.6,4l0.6,0.8l3,0.2l2,1.3l2,-1.2l3,2.5l3.9,-0.6l0.2,-1l-1.4,-1l0.3,-1l6,0.4l2,-0.3l1.1,1.9l1.9,1.5l5,1.5l2.3,2l2.7,3.7l1.1,0.3l1.9,1.8l7.1,2.2l2.4,2l0.8,2l-0.3,2l-2.6,4l-0.4,3.8l-2,4.7l-3,2.4l-2,0.3l-2,1.3l-1,2.3l-4.2,4.2l-0.8,1.9zM82.5,-17.5l-1,-0.3l-1,0.4l-1.2,-1.1l0.5,-1l-0.9,-3l0.7,-1l0,-2l1.1,-1l0.4,-1l-1.3,-1l0.7,-0.2l1.5,0.2l0.4,1l1.9,1l0.6,1l-3.1,1l0,1l2.7,1.4l0.9,1.6l-0.9,1.9zM121.5,-22l-1.3,-0.5l-0.1,-1l0.4,-1.6l1,-0.2l0.7,0.8l-0.1,2zM-65.5,-17.3l-5,-0.3l-3,0.3l-1.5,-0.2l-0.5,-0.9l-0.2,0.9l-0.8,0.4l-2,-0.3l0,-1.4l2.7,-0.7l-5.7,-1.6l-3,0.3l-0.8,-0.7l0.2,-1l2.6,-0.9l6,0l2.3,1.9l0.7,1.2l1,0.3l3,0l2,0.8l2,0.2l0.6,0.5zM-155.5,-18.5l-0.7,-1l0.7,-1l0.5,1zM76.5,-8.4l-2.3,-4.1l-1.6,-5l-0.1,-2l1,-1.9l1.2,1.9l0.5,3l0.8,1l0.5,2.6l1,0.3l1,-1.7l0,2.8l-1,0.8l0,1.7zM93.5,-11.2l-1,0.4l-0.6,-0.7l0.1,-2l0.5,-0.5l1.2,0.5zM35.5,18.8l-2,0.3l-2,-0.9l-3,-0.2l-5,-1.4l-5,0.1l-4,-1.2l-1.8,-3l0.3,-4l-3.9,-6l-0.9,-5l-0.7,-0.8l-2,-0.2l-1,-0.8l-2,-0.5l-4,1.4l-7,0l-6,-4.8l-1,-2.8l1,-0.8l2,-0.3l2,0.5l4,0.1l5,-0.7l3,1.2l1,0.9l3,-0.4l3,0.6l6,-1.7l0.4,1.1l0.6,0.4l3,-0.7l2,0.4l1,-0.4l4,0.9l2,-1.1l3,0.5l2,1.3l3,-3.1l2,-1.1l1,0.2l1.3,1.7l0.2,4l-2.5,3l-3,0.7l-0.1,1.3l1.6,3l0.3,2l0.6,1l1.6,1.4l1.1,-0.4l1.3,9l-1.4,3l-2,1.7zM81.5,-5.6l-2,-0.3l-0.3,-0.6l-0.3,-3l0.6,-0.7l2,0.3l0.2,0.4l0.5,3zM33.8,2.5l0.5,-2l-1.8,-0.6l-0.7,0.6l0.3,2l0.4,0.5zM124.9,2.5l1.1,-1l-0.5,-0.9l-1.3,1.9l0.3,0.4zM118,5.5l-0.5,-0.6l-1.2,0.6l1.2,0.9zM-41.5,12.5l3,-1.2l0.9,-1.8l-2,-3l-1.9,-1l-1.6,1l0.7,1l0,1l-1.3,3l1.1,1zM47.5,25.8l-1,0.3l-2.6,-0.6l-0.5,-2l0.1,-7l2.5,-2l1.5,-2.1l1,-0.8l1,-0.2l1,0.8l0.5,1.3l0.1,3l-1.6,7zM136.5,12.6l-2,0.5l-1.9,-0.6l2.9,-0.8zM168.5,17.6l-1,0.1l-2,-1.8l0,-1.3l1,-0.5l1,0.2l1,0.9l1,1.3zM178.5,19.7l-1,-0.1l-1,-1.1l-0.1,-1l1.1,-1.2l1.4,0.2l0.8,1l-0.1,1zM167.5,23.7l-1.7,-0.2l-2.4,-2l0.1,-2.2l2,0.2l3,2.9zM24.5,34.7l-4.4,-0.2l1.4,-0.3l1,0.2l3.6,-1.9l0.7,-5l0.9,-2l3.8,-1l-1,-1l-1,0.2l-1.4,-1.2l-0.6,-0.7l0.3,-1.3l0.7,-0.6l2,1.3l1.4,0.3l0.2,1l1.4,1.5l0.5,-3.5l0.5,-0.6l1,1.4l0.3,2.2l-2.1,3l-1.2,2.8l-3,3.5zM152.5,32.7l-0.6,-0.2l-0.1,-1l1.1,-2l-0.2,-3l-2.5,-3l-0.1,-1l0.4,-0.5l3.1,3.5l0.2,5l-0.2,1zM117.5,35.4l-2.4,-0.9l0.4,-2.7l2.7,2.7zM175.5,41.7l-1,-0.6l-1.2,-1.6l-0.7,-4l0.9,-0.4l5.4,2.4l-0.4,2.2l-2,1.7zM150.5,37.7l-1,0.2l-0.8,-0.4l1.8,-1.7l0.4,0.7zM147.5,38.6l-5,0.5l-1.9,-0.6l0.9,-1.4l4,0.8l1,-0.2l1,0.3l0.3,0.5zM-73.5,45l-0.4,-0.5l0.4,-6.2l0.5,1.2zM147.5,43.7l-1.1,-0.2l-0.9,-1.1l-0.3,-0.9l0.3,-0.4l2,-0.3l0.9,0.7l0.1,2zM169.5,46.3l-2.2,-0.8l0.2,-1l4,-3l1,0.3l0.8,0.7l-0.5,1l-1.3,1.3l-1,0.3z"/><path fill="#fff6b1" d="M-135.5,-60.5l-1,-0.9l-1.1,-0.1l1,-1l1.3,0l0.3,1zM-149.5,-60.3l-2.5,-0.2l-0.5,-1l1.7,0l1.3,0.6l0.4,0.4zM-139.5,-59.6l-2.9,-0.9l1.9,-1.4l1,-0.1l0.7,0.5l0.2,1zM-122.5,-37.9l-1.2,-1.6l-0.3,-7l-0.8,-2l-1.7,-1.7l-2,-1.1l-2,-2.4l-4.7,-3.8l-0.3,-1.5l1,-0.1l4.9,2.6l1.7,3l4.4,4.3l0.8,2.7l-0.2,5l1.2,3zM42.5,-55.4l-1,0.5l-0.9,-1.6l-0.2,-1l1.1,-0.8l2,0.3l0.3,0.5zM39.5,-51.5l-2,-0.5l-2.1,0.5l-0.4,-2l-0.5,-0.5l-3,0l-0.2,-0.5l1.1,-1l3.1,-1.4l1,1.1l2,-0.5l0.9,0.8l-0.9,2l1.7,1zM20.5,-48.5l-0.8,-1l1.2,-2l0.6,-0.5l1,0.1l1,-1.7l2,0.5l0.4,-2.4l0.6,-0.6l1,0l0.8,0.6l0,2l1.3,1l0.9,2.3l-1,-0.2l-2,0.6l-1.1,-0.7l-0.9,-1.5l-1,2.1l-1,-0.1zM54.5,-53.1l-1,-1.4l-1,-0.1l0,-1.1l2,0.4l0.7,0.8zM87.5,-54.2l-1.2,-0.3l0.5,-1l1.2,0l0.3,1zM90.5,-53.8l-1.5,-0.7l0,-1l1.5,-0.6l0.6,0.6zM-0.5,-50.4l-2,-1l-2,0.4l-0.8,-0.5l0.8,-1.5l1,0.4l1,-0.5l1,0.8l1,-0.1l0.8,0.9zM17.5,-48.4l-0.7,-1.1l1.3,-2l1.8,0l-0.6,1l0,1zM91.5,-51.1l-2.5,-0.4l1.5,-1l1,0.2l0.7,0.8zM7.5,-47.3l-1,0.2l-0.9,-1.4l-0.2,-1l1.1,-1.7l1,0.1l0.6,1.6zM133.5,-45.3l-0.9,-1.2l0.8,-2l-0.2,-1l0.3,-0.5l1,0l0.8,0.5l-1.3,2zM-80.5,-26l-1,0.3l-1.3,-2.8l-1.7,-1.4l-1,-0.3l-5,0.3l-1,-1l-3,-1.3l-0.5,-1.3l0.5,-2.5l1,-1.5l1,-0.3l0.9,1.3l1.1,0.2l1,-2.3l2,0.3l2,-2.2l0,-2.3l1,-0.9l1.1,0.2l-0.3,1l0.7,2l-0.5,1l1,0.8l1.6,0.2l0.4,1.1l1,-0.5l2.4,-2.6l-0.6,-2l1.5,-1l-0.7,-1l0.4,-1.6l1.2,-1.4l0.8,-0.2l0.2,1.2l-0.6,1l3.4,0.6l1.2,1.4l-5,5l-0.2,2l-2.3,2l-2.5,4l0.2,2zM19.5,-41.3l-1,0.2l-0.4,-0.4l-1.1,-3l2.5,0.5l0.7,1.5zM39.5,-44.3l-1,0.5l-1.2,-0.7l1.2,-0.8zM133.5,-41.5l-1.1,-1l1.1,-1.6l1,1.6zM129.5,-33.1l-0.4,-2.4l-1.5,-2l-1.1,-0.6l-0.7,-1.4l3.7,-3.4l1.5,0.4l-1.8,3l0.3,1l1.9,2zM142.5,-37.8l-0.9,-0.7l0.9,-2.5l1,-0.9l0.1,2.4zM141.5,-35.3l-1,0l-4.2,-2.2l1.2,-1.1l3,0.9l1,-0.4l1,0.9l0,0.7zM134.5,-32.4l-3,0.3l-0.4,-0.4l1.4,-0.1l0.3,-0.9l-1.1,-2l0.8,-0.7l2.1,-0.3l0.8,3l-0.4,1zM115.5,-28.7l-1.5,-0.8l0.5,-1.7l1,0.1l0.3,0.6zM151.5,11.6l-2.8,-0.1l-4.2,-1.9l-1,0.9l-5.4,-1l-1.6,-1l0.5,-1l-1.5,-1.5l-3,-0.4l-1,-0.8l-6,0.2l-2,1.5l1,1.2l2.6,-0.2l0.9,1l-0.3,1l-1.2,1.2l-2,0.4l-6,-1l-2,0.2l-8,-0.8l-1,-0.7l-2,-0.2l-6,-5.9l-2.2,-3.2l-0.2,-1l-2.8,-3l0.2,-1.5l3,-0.6l0.8,-0.9l0.1,-5l-0.5,-2l-0.4,-0.9l-2,0.1l-1,-0.6l-0.4,-0.6l0,-2l-2.1,-3l-0.5,-2.2l-2,-2.1l-1,0.2l-0.9,-0.9l2.4,-1l4.5,-0.6l2,0.5l2,2l3,-0.2l2,-2.5l1,0.3l3,-2l0.2,1.5l-2,1l-1.8,3l3.6,1.7l1.6,2.3l1.4,-0.2l1,1.2l0,1l-1,0.7l-2,-0.2l-1,-1.8l-0.7,1.3l0.3,1l1.9,2l0.6,3l-0.3,1l-0.8,1l-3,1.5l-1,-0.4l-1.7,-2.1l-1.3,-0.7l-1,1.3l-0.3,2.4l0.3,1l1,0.7l2,0.4l1.2,0.9l0.4,3l0.6,1l-0.6,1l3.4,5.6l1,0.1l0.6,-0.7l-2.2,-4l-0.1,-1l0.7,-2l1,-1l3,-1.3l3.4,-2.7l1.5,-3l1.7,-2l-0.7,-3l0.7,-3l1.4,-0.8l2,0l1.1,0.8l0.4,4l2.9,2l0.7,6l-2.1,2l-3.6,-1l-1,-1l1.2,-2l-1.6,-1l-1.8,2l2,2l-1,2l0.8,1l4,0.5l3,-0.9l1,0.1l2,1.7l3,0.2l2,1.4l3,-0.2l4,1l5,2.9l1.6,-0.7l0.1,-1l1.3,-1l1,0.2l4,2.8l1,1.3l2.3,0.7l2.7,2l1,1l0.3,1l-1.3,0.6l-1,-0.3l-7,-4.1l-1,0l-1.8,1.8l1.3,2zM-59.5,38.5l-2,-0.2l-0.4,-0.8l2.3,-2l-0.2,-2l1.3,-1.4l0,-1.1l-3,0.5l-4,3.8l-0.6,-0.8l0.6,-3.6l2,-5.4l2,-0.9l0.4,-1.1l-1.4,-1.2l-1,0.6l-1.5,-3.4l-1.6,-2l-2.9,-2.6l-3,-1.5l-3.5,-3.9l-1.7,-4l-1.4,-2l-0.7,-4l1.3,-4l-0.6,-2l-5.4,-1.6l-4,-4.2l-3.7,-1.2l-1.3,-1.4l-2,-1.3l-2,1l-3.7,-1.3l-1.3,-1.6l-2,-1l-2,-2.4l-2,-5l-1.5,-2l0.5,-0.8l1,0.1l0.7,0.7l4.5,8l1.8,1.5l1,0.2l1.2,-0.7l0.5,-1l-0.3,-4l0.6,-0.4l1,1.1l1.2,3.3l1.8,1.5l2,0.1l1,-0.5l1,-2.2l3,0l0.6,2.1l-0.5,2l0.9,0.9l3,0.5l0.7,0.6l0.6,4l0.7,0.9l3,0.2l2,1.4l2,-0.9l3,2.6l1,0.1l3.7,-1.3l0.2,-1l-0.9,-1.1l7,-0.7l1,1.8l2,1.6l5,1.5l2.2,1.9l2.8,3.8l1,0.2l2,1.9l3,1.6l3.5,0.5l2.8,2l0.8,2l-0.2,2l-2.6,4l-0.3,3.4l-2,4.9l-3,2.5l-3,0.8l-1.5,1.4l-0.9,2l-4.3,4l-0.3,1.4l-3.2,2.6zM77.5,-26.2l-1,0.5l-1,-1.2l-0.3,-0.6l0.3,-1.2l1,-0.3l0.8,0.5zM112.5,-24.5l-2.8,-2l1.8,-1l1,0.5l2,-0.1l0.8,1.6zM83.5,-25.5l-1.6,0l0,-1l1.1,0zM87.5,-23.8l-0.3,-0.7l0.3,-1.6l0.6,0.6zM121.5,-22.1l-1.2,-0.4l-0.1,-1l0.3,-1.2l1,-0.4l0.5,0.6l-0.1,2zM-65.5,-17.4l-5,-0.4l-4,0.3l-0.8,-1l-0.1,-1l-1.1,-0.6l-5,-1.2l-2,0.5l-1.6,-0.7l0.3,-1l2.3,-0.6l6,-0.1l2.3,1.7l0.7,1.3l5,0.5l1,0.7l2,0.1l0.5,0.4zM83.5,-18.1l-1,0.2l-1.4,-0.6l-1.5,-4l0.9,-0.6l4,1.4l0.6,1.2l-0.2,1zM76.5,-8.5l-2.1,-4l-1.6,-5l-0.1,-2l0.8,-0.9l0.8,0.9l1.2,5.5l1.7,2.5l0.3,2zM-76.5,-17.2l-1.9,-0.3l-0.2,-1l2.1,-0.7l0.9,0.7l-0.3,1zM93.5,-11.3l-1,0.4l-0.5,-0.6l0.1,-2l0.4,-0.4l1.1,0.4zM34.5,18.7l-4,-1l-2,0l-5,-1.5l-5,0.3l-3.6,-1l-1.1,-1l-0.9,-2l-0.1,-2l0.6,-2l-4.1,-6l-0.9,-5l-0.9,-1l-2,0l-1,-0.9l-2,-0.5l-4,1.4l-7,0l-6,-4.8l-0.9,-2.2l0.9,-0.8l2,-0.4l2,0.6l5,-0.3l2,0.3l2,-0.6l4,2.2l3,-0.6l3,0.7l4,-1.1l4,0.8l2,-0.8l2,0.5l1,-0.5l4,1l1,-0.2l1,-1l2,0.2l3,1.8l1,-0.5l1.3,-2.3l2.7,-1.7l1,0.2l1.4,2.5l-0.3,3l-2.1,2.8l-1,0.4l-2,-0.1l-0.4,1.9l1.7,3l0.2,2l0.7,1l1.8,1.7l1,-0.4l0.9,4.7l-0.3,2l0.6,2l-1.5,3l-1,1zM81.5,-5.7l-2,-0.4l-0.4,-3.4l0.4,-0.5l2.2,0.5l0.4,3zM34,2.5l0.5,-2l-2,-0.8l-0.9,0.8l0.4,2l0.5,0.6zM125,2.5l1.1,-1l-0.6,-1l-1.4,2l0.4,0.4zM-41.1,12.5l2.7,-1l1.1,-2l-0.2,-1l-1,-1l-1,-1.9l-2,-0.7l-1,0.1l-1.6,0.5l0,1l1,1l0.1,1l-1.1,3l0.6,1.1l2,0.4zM118.1,5.5l-0.6,-0.6l-1.3,0.6l1.3,1zM143.5,14.3l-1,0.1l-1.1,-1.9l2.1,-1.8l0.5,1.8zM47.5,25.8l-3.3,-0.3l-0.5,-2l0.7,-1l-0.4,-2l0.5,-1.6l-0.8,-1.4l0.1,-1l0.6,-1l1.8,-1l1.3,-2.1l2,-0.8l1,0.7l0.5,1.2l-0.4,6l-1.1,3.8zM147.5,20.4l-2,-1.6l-1,-2.1l-1,-0.4l-0.3,-0.8l0.6,-1l0.7,-0.4l1,0.4l1.4,4l0.9,1zM168.5,17.6l-1,0l-2,-1.8l0,-1l1,-0.6l1.2,0.3l1.5,2zM178.5,19.6l-1,0l-1,-1.2l-0.1,-0.9l1.1,-1.1l1,-0.1l1.1,1.2l-0.1,1zM167.5,23.6l-1.5,-0.1l-2.5,-1.9l0,-2.3l1.7,0.2l3.3,2.9zM29.5,21.5l-1,0.6l-0.6,-0.6l0.6,-1.2zM-59.1,23.5l1.5,-1l-0.9,-1.4l-1.3,2.4l0.3,0.6zM34.5,24.9l-0.7,-0.4l0.7,-3.6l1,1.2l0.2,1.4zM29.5,32.6l-2,0.8l-0.5,-0.9l0.1,-5l1.4,-1.7l1,0.2l4,-1.3l0.5,0.8l-1.5,3.3l-1,-0.7l-1,0l-1.1,1.4l2.1,-0.7l0.5,0.7zM152.5,32.5l-0.4,-1l0.4,-1.2l0.9,-0.8l-0.4,-2l0.5,-1.7l0.2,4.7zM24.5,34.6l-0.6,-0.1l0.6,-1.2l2,-0.3l1,0.5zM117.5,34.9l-2.1,-0.4l0.1,-1.7l2,1.3zM175.5,41.6l-2,-2.1l-0.6,-4l0.6,-0.3l5.2,2.3l-0.2,2.2l-1,1zM150.5,37.5l-1.4,0l1.4,-1.4zM146.5,38.7l-4,0.2l-1.6,-0.4l0.6,-1.1l5.8,1.1zM147.5,43.6l-1,-0.6l-1,-1.6l2,-0.4l0.6,0.5l0.2,1zM168.5,45.6l-0.6,-0.1l-0.1,-1l1.3,-1l2.4,-1.5l1.3,0.5l-0.2,1l-1.1,1.1l-1,-0.4z"/><path fill="#fde0a1" d="M-126.5,-50.5l-2,-1l-2,-2.6l-4.3,-3.4l-0.1,-1l0.4,-0.2l4.4,2.2l1.9,3l2,2l0.2,1zM42.5,-56.3l-1,-0.1l-0.1,-1.1l1.1,0.6zM28.5,-51.4l-1,0.3l-0.8,-1.4l0,-3l1,0l-0.1,2zM36.5,-52.3l-0.7,-0.2l-0.1,-2l0.8,-0.6l1,0.1l0.5,0.5l-0.2,1zM21.5,-49.3l-0.6,-0.2l0.6,-1.4l1,0.1l0.2,0.3zM6.5,-47.9l-0.3,-1.6l1.3,-0.4l0,1.4zM-123.5,-39.6l-0.3,-7.9l0.3,-0.9l0.6,7.9zM-81.5,-26.1l-1.5,-3.4l-1.3,-1l0.4,-1l-0.5,-1l-1.1,-0.7l-0.7,0.7l-0.2,2l-3.1,0.4l-2.9,-2.4l0.3,-1l-1.4,-2l1,-0.6l1.7,0.6l1.3,1.2l0,-2.3l2,-0.5l1,-1l1,-0.3l2,0.8l1,-0.2l1,1.3l2,-0.6l2.7,-2.4l0.4,-1l-0.7,-2l1.5,-1l0.1,-0.6l1,0.2l0.2,-0.6l0.8,-0.3l1,0.3l-0.6,3l-2.4,2.2l-0.5,2.8l-2.6,2l-0.5,2l-1.4,2l0.3,2l-0.5,2zM18.5,-41.4l-0.6,-1.1l0.6,-1.2l1.2,1.2zM127.5,-38.2l-1,-1.3l0.8,-1l1.2,-0.3l0.5,0.3zM139.5,-37.3l-2.1,-0.2l0,-1zM129.5,-35.9l-0.7,-0.6l0.1,-1l0.6,-0.3l0.7,1.3zM141.5,-35.4l-0.7,-0.1l-0.7,-1l1.4,-0.3l0.9,0.3zM-83.1,-34.5l0,-1l-0.4,-0.3l-0.9,1.3l0.9,0.7zM134.5,-32.5l-0.4,0l0.1,-1l-1.5,-1l0.3,-1l0.7,0l0.8,1zM-93.5,-33.3l-1,0.1l-0.1,-0.3l1.1,-2l1,1zM-108.5,-26.8l-1.3,-1.7l0.3,-0.6l1,0.1l1,1.5zM76.5,-26.7l-0.9,-0.8l0.9,-0.8l0.5,0.8zM151.5,11.5l-2.6,0l-4.4,-1.9l-1,0.7l-5.3,-0.8l-1.6,-1l0.4,-1l-1.5,-1.6l-3,-0.4l-1,-0.7l-6,0.1l-2.5,1.6l1.5,1.3l2.3,-0.3l1.1,1l-0.3,1l-0.9,1l-1.2,0.3l-2,0.1l-5,-1l-2,0.3l-7.7,-0.7l-1.3,-0.7l-2,-0.2l-6,-5.9l-2.1,-3.2l-0.2,-1l-2.8,-3l0.1,-1.4l3.4,-0.6l0.5,-1l-0.1,-6l-0.8,-2.1l-2,0.2l-1,-0.6l-0.3,-2.5l-2.1,-3l-0.6,-2.5l-2,-2.2l-0.9,-0.3l2.4,-1l3.5,-0.4l2,0.6l1.8,1.8l2.2,0.3l1.7,1.7l2.3,-0.4l2,0.8l1.6,1.6l0.3,1l-0.9,0.5l-0.8,1.5l0.3,1l1.9,2l0.6,3l-0.3,1l-0.7,0.8l-3,1.5l-4,-3.1l-1,1l-0.4,2.8l0.3,1l1.1,0.8l2,0.4l1.1,0.8l0.4,3l0.7,1l-0.7,1l3.5,5.7l1,0.1l0.7,-0.8l-2.1,-4l0.5,-3l2.9,-2.1l1,-0.2l3.5,-2.7l1.5,-3l1.7,-2l-0.2,-2l-0.6,-1l0.8,-3l1.3,-0.6l2,0l1,0.6l0.4,4l2.9,2l0.8,6l-2.1,1.8l-3.5,-0.8l-1,-1l0.2,-1l1,-1l-1.7,-1l-1.9,2l1.9,2l-0.8,2l0.8,1.1l4,0.5l3,-1l1,0.2l2,1.7l3,0.1l2,1.5l3,-0.2l4,0.9l5,3l1.7,-0.8l0.1,-1l1.2,-1l1,0.3l4,2.7l1,1.5l2.2,0.5l3.8,3l0.2,1l-1.2,0.5l-1,-0.3l-7,-4l-1,-0.1l-1.9,1.9l1.4,2zM-58.5,37.5l-2,0.4l-1,-0.4l2.8,-1l-0.2,-2l1,-1l0.1,-2l-0.7,-1.5l-1,-0.1l-1,1l-1,0l-2.6,1.6l-0.1,1l-1.4,1l0.1,-1.1l0.9,-0.9l-0.7,-1l1.8,-5.1l1,-0.7l2,1.9l0.3,-1.1l-1,-1l2.7,-1l1.5,-2l-1.5,-2.7l-0.5,1.7l-1.5,1.9l-1,-1.2l-1,-0.2l-1,0.4l-1.3,-2.9l-1.4,-2l-3.3,-2.7l-3.8,-2.3l-3.1,-4l-2.4,-5l-0.9,-4l1.3,-4l-0.6,-2l-5.5,-1.7l-4,-4.2l-3.5,-1.1l-3.5,-2.8l-2,1l-3.5,-1.2l-1.5,-1.8l-2,-1l-1.9,-2.2l-1.5,-3l-0.3,-2l0.7,-1l4,7l2,1.7l2,0.1l0.5,-0.8l0.3,-1l-0.3,-3l0.5,-1.2l1,1.2l1.1,3l0.9,1.1l1,0.5l2,0.2l1,-0.5l1,-2.3l3,0.1l0.5,1.9l-0.5,2l1,1.1l3,0.4l0.6,0.5l0.6,4l0.8,1l3,0.2l2,1.5l2,-0.4l3,2.3l1,0.2l1,-0.6l5,-0.5l0.5,-0.7l-0.5,-1l-2.3,-1l6.3,-0.6l0.9,1.6l2.1,1.6l4.6,1.4l2.6,2l2.8,3.8l0.9,0.2l1.1,1.4l2.6,1.6l-0.2,2l-1.4,0.2l-0.5,0.8l0,1l0.9,1l0.3,1l-0.6,3l0.9,1.5l2,0.4l1,-1l2.4,-0.9l1.2,-2l0.1,-1l-1.7,-2.3l3.1,-0.7l0.7,2l-0.1,2l-2.5,4l-0.2,3l-2,5.2l-3,2.4l-3,0.9l-1.6,1.5l-0.9,2l-3.5,3l-1,0.7l-2,-0.1l-0.5,0.4l-0.3,1l0.9,1l-1.8,2zM113.5,-25.3l-1.4,-0.2l-1,-1l2.9,0l0.1,1zM121.5,-22.2l-1.1,-0.3l0,-1l0.2,-1l0.9,-0.4l0.4,1.4zM-66.5,-17.5l-4,-0.5l-3.1,0.5l-0.9,-0.3l-1,-2l-2,-1l-4,-0.7l-2,0.5l-1.4,-0.5l0.5,-1l0.9,-0.3l7,-0.2l2.2,1.5l0.8,1.5l5,0.4l1,0.7l2.4,0.4l-0.4,0.9zM83.5,-18.4l-1,0.1l-1,-0.8l-1.3,-2.4l0.3,-0.6l3,0.2l1,0.8l0.1,1.6zM73.5,-15.6l-0.7,-2.9l0.7,-1.7l0.6,0.7l0.4,2l-0.2,1zM110.5,-17.9l-2,-0.3l-0.4,-1.3l0.4,-0.8l2,-0.2l0.9,1l0,1zM-76.5,-17.3l-1.4,-0.2l-0.6,-1l2,-0.5l0.7,0.5zM76.5,-8.7l-2,-3.8l-0.8,-3l0.8,-0.7l2.8,6.7zM93.5,-11.4l-1,0.4l-0.4,-0.5l0.4,-2.3l0.9,0.3zM37.5,17.8l-4,0.4l-5,-0.8l-5,-1.6l-5,0.5l-3.2,-0.8l-1.2,-1l-0.9,-2l-0.2,-2l0.7,-2l-4.2,-6l-0.9,-5l-1.1,-1.5l-2,0.2l-3,-1.2l-0.5,0.5l-3.5,0.7l-7,0.2l-6,-4.8l-0.3,-2.1l3.3,-0.8l1,0.6l5,-0.3l1,0.6l1,0l2,-0.8l2,1l1,1.2l4,-0.8l1.9,0.3l1.1,0.8l4,-1l1,0.9l1,-0.8l2,0.4l2,-1l2,0.6l1,-0.4l4,1l1,-0.2l1,-0.9l2,0.3l2.6,1.3l-1.1,2l1.5,1.1l0.6,-0.1l0.1,-2l1.3,-3.2l3,-2.3l1,0.3l1.3,2.2l-0.1,2l-0.9,2l-2.3,2l-2,-0.4l-0.4,0.4l-0.2,2l1.1,2l-0.5,0.7l-2,-0.6l-1.1,0.9l0.4,2l0.7,0.8l1.7,-0.8l1.3,-2.3l0.3,2.3l1.4,2l1.3,0.9l1,-0.2l0.1,0.3l0.6,4l-0.3,2l0.7,2l-1.6,3zM81.5,-5.9l-2,-0.4l0,-3.4l2.1,0.2l0.4,3zM125,2.5l1.1,-1l-0.6,-1.2l-1.5,2.2l0.5,0.5zM-37.5,5.2l-3,-0.3l-0.7,-0.4l0,-1l0.7,-0.3l1.6,0.3l1.9,1zM117.6,6.5l0.5,-1l-0.6,-0.7l-1.5,0.7zM47.5,25.7l-1,0.1l-2,-1.1l-0.2,-1.2l0.8,-1l0.1,-1l-1,-5l0.3,-1l1,-0.2l1.8,-1.8l0.2,-1l2,-0.7l1,0.6l0.4,1.1l-0.4,6l-1,3.6zM142.5,13.6l-0.7,-1.1l0.7,-0.8l1,0.3l0,1.1zM168.5,17.5l-1,0l-2,-1.8l0,-0.7l1,-0.7l1,0.1l1.2,1.1l0.2,1zM145.5,18.5l-0.7,-2l-1,-1l0.7,-0.6l1,0l0.4,0.6l0.2,2zM178.5,19.6l-1,0l-1,-1.6l1,-1.6l1,0l1.1,1.1l-0.1,1zM167.5,23.6l-1.4,-0.1l-2.6,-2l0,-2.1l1.3,0.1l2.8,2l0.9,1zM32.5,28.3l-2.7,-1.8l3.7,-1.4l0.2,0.4zM28.5,28.8l-1,-0.1l-0.2,-1.2l1.2,-0.8l1.2,0.8zM28.5,32.9l-0.8,-0.4l0.1,-2l0.7,-0.5l1.5,1.5zM177.5,40.6l-2,0.8l-1,-0.7l-1,-1.5l-0.3,-3.7l1,0l4.4,2l0,2zM143.5,38.7l-2.2,-0.2l0.2,-0.5l1,0l1.9,0.5zM147.5,43.3l-1.6,-1.8l1.9,0zM170.5,43.8l-1,0.4l-0.2,-0.7l1.2,-0.4l0.6,0.4z"/><path fill="#fcc78f" d="M-128.5,-52l-4.4,-4.5l2.4,0l2.8,4zM-75.5,-40.6l-1,-1.9l1.6,0l0.3,1zM-80.5,-31l-2,0.3l-0.7,-0.8l0.7,-3.4l1,-1l3,-0.7l0.7,-0.9l0.1,-1l1.2,-0.1l0,2l-3.6,2.1l0.7,2zM-84.5,-36l-1,0.2l-0.5,-0.7l0.5,-0.7l1.7,0.7zM-87.5,-30.5l-2.1,0l-0.9,-1.6l-0.8,-0.4l0.7,-1l1.1,0.1l2,-1.1l0.8,1l-0.1,2zM-108.5,-27.2l-1,-0.9l0,-0.7l1.3,0.3l0.2,1zM-80.5,-28.2l-1,0.5l-0.4,-0.8l0.4,-0.8l1,0zM150.5,11.7l-6,-2.2l-1,0.5l-5.1,-0.5l-1.7,-1l0.4,-1l-1.6,-1.6l-6,-1.3l-4,0.2l-2,1.5l-1.1,0.2l1.1,0.4l1,1.1l1,-0.6l2,0.7l0.1,1.4l-1.1,1.1l-3,0.2l-5,-1l-2,0.3l-7,-0.6l-2,-0.8l-2,-0.2l-6,-5.9l-2.1,-3.1l-0.2,-1l-2.8,-3l0.1,-1.3l4.1,-0.7l-0.4,-2l0.3,-5l-1,-2.2l-2,0.2l-1.2,-1l-0.3,-3l-1.5,-1.6l-1,-3.2l-1.8,-2.2l1.8,-0.9l3,-0.3l2,0.7l1.2,1.5l2.8,1l0.7,1l4.3,0.2l1.6,0.8l0.7,1l0.2,1l-1.5,2l0.3,1l2,2l0.5,3l-0.2,1l-3.6,2.1l-4,-3l-1.1,0.9l-0.4,3l0.5,1.3l4.1,1.7l0.3,3l0.8,1l-0.7,1l0.3,1l3.2,4.8l4.8,0.2l-2.8,-0.1l-0.5,-1.9l-1.5,-2l-0.3,-3l1.3,-1.8l3,-1.4l3.6,-2.8l1.4,-3l1.7,-2l-0.1,-2l-0.6,-1l0.8,-3l1.2,-0.5l2,0l1,0.5l0.3,4l3,2l0.7,6l-2,1.6l-3.4,-0.6l-1,-1l0.1,-1l1.1,-1l-1.8,-1.2l-1.9,2.2l1.7,2l-0.6,2l0.8,1.2l4,0.5l2,-0.8l2,-0.1l2,1.7l3,0.2l2,1.5l3,-0.3l4,1l5,2.9l1.7,-0.8l0.1,-1l1.2,-0.8l1,0.3l3.9,2.5l1.1,1.7l2.1,0.3l3.9,3.3l0.2,0.7l-2.2,0.1l-4,-2.5l-2,-0.6l-1,-0.9l-1,0l-1.9,1.9l1.3,2l-0.4,1zM-103.5,-19.2l-1,-0.3l-1,-1.1l-2,-3.3l-0.4,-1.6l0.4,-1.5l1,1l3,5.9l1,0.6zM-53.5,31.7l-2,-1.6l-1,0l-1,1l-1,-2.4l-1.7,-0.2l1.3,-1l0.4,-1.6l2,-0.8l0.9,-1.6l-2.5,-4l-0.4,-0.3l-0.6,0.3l-0.4,2l-1,0.7l-2,-0.6l-1,0.5l-1.4,-3.6l-0.9,-1l-3.7,-2.8l-3,-1.6l-3.2,-3.6l-2.8,-6l-1.1,-4l1.4,-4l-0.6,-2l-5.7,-1.8l-4,-4.2l-3.4,-1l-3.6,-2.9l-2,1l-1.2,-0.1l-2.2,-1l-1.6,-2l3.5,0l0.5,-2l-0.1,-4l2.8,5l1.3,0.7l2,0.2l1,-0.4l1,-2.3l1,-0.3l2,0.5l0.4,1.6l-0.5,2l1.1,1.3l3,0.3l0.5,0.4l0.3,3l1,2l3.2,0.3l2.7,1.7l0.5,1l-0.9,3l0.7,0.2l0.7,-1.2l2.3,-1.4l2,0.7l1,-0.7l5,-0.5l1.1,-1.1l-0.4,-1l-1.3,-1l2.6,0.2l2,-0.7l0.6,1.5l2.4,1.7l1.7,0.3l4.3,2l4,4.8l0.7,0.2l3.2,3l-0.2,1l-1.2,1l-1.6,3l0.1,1l1.6,2l-0.1,1l1.5,1.9l2,0.7l1.2,-1.6l2.4,-1l1.3,-2l0.6,-3l0.5,-0.6l0.5,3.6l-2.4,4l-0.1,2.4l-2,5.7l-2.1,1.9l-3.9,1.4l-1.7,1.6l-1.3,2.3l-1.5,0.7l-1.5,1.4zM121.5,-22.3l-0.7,-0.2l-0.3,-1l1,-1.2zM-67.5,-17.5l-2,-0.7l-4,0.5l-1,-0.4l-0.5,-1.4l-2.5,-1.9l-2,0l-2,-1l-0.5,0.9l-1.5,0.3l-1.1,-0.3l1.1,-1.1l7,-0.2l2.1,1.3l0.2,1l0.7,0.7l5,0.3l1,0.7l2.3,0.3l-0.3,0.7zM83.5,-19.1l-1,-0.1l-0.7,-1.3l1.7,-1l1,1zM96,-19.5l0.1,-2l-0.6,-0.3l-0.4,0.3l0,2l0.4,0.4zM73.5,-16.1l-0.6,-2.4l0.6,-1.4l0.8,2.4zM110.5,-18l-2,-0.3l0,-1.5l2,-0.5l0.7,0.8l0,1zM-76.5,-17.4l-0.8,-0.1l-0.8,-1l1.6,-0.4l0.5,0.4zM74.5,-13l0,-2.6l0.4,2.1zM92.5,-11.1l-0.3,-0.4l0.3,-2.2l0.7,0.2l0.2,1l0,1zM37.5,-5.2l-2,0.5l-1.8,-1.8l0.1,-2l0.7,-1.7l3,-2.6l1,0.3l1,1.5l0.2,1.5l-1.2,3zM75.5,-11l-0.7,-1.5l0.7,-0.5l0.7,1.5zM37.5,17.5l-9,-0.4l-5,-1.7l-2,0.6l-3,0.1l-2.7,-0.6l-2,-2l-0.5,-3l0.7,-2l-4.5,-6.2l-0.7,-4.8l-1.2,-2l-2.1,0.5l-3,-1.2l-1,0.8l-10,0.6l-4,-2.7l-2,-1.9l0,-1.8l3,-0.7l1,0.7l2,-0.5l3,0.1l1,1.3l3,-1.4l1.9,1.2l0.4,1l0.7,0.1l3,-1.1l2,0.1l3,2.6l0.9,-0.7l0.1,-1l1,0.7l2,0l1,-1.1l2,0.4l1,-1l1,-0.3l1,0.7l2,-0.5l4,1.2l2,-1.1l1,0.2l2.3,3.8l2.7,1l0.2,2l1,2l-0.2,0.3l-3,-0.2l-0.3,0.9l0.5,2l0.8,1l1,-0.3l2,-2.2l0,1.5l1.4,2l1.6,1.3l1,-0.2l0.5,3.9l-0.4,2l0.7,2l-1.6,3zM76.5,-8.9l-0.4,-1.6l0.4,-0.6l0.6,1.6zM81.5,-6l-1.9,-0.5l-0.1,-3l2.1,0l0.3,3zM125.1,2.5l1.1,-1l-0.7,-1.4l-1.5,2.4l0.5,0.5zM-39.5,4.7l-1.1,-0.2l0.1,-1l1.5,1zM117.7,6.5l0.5,-1l-0.7,-0.7l-1.6,0.7l0.6,0.9zM47.5,25.6l-1.5,-0.1l-1.1,-1l0,-1l1.7,-2l-1.2,-1l-0.7,-4l0.6,-1l1.2,-0.5l1,0.9l0,-2.4l0.5,-1l1.5,-0.4l1,0.5l0.3,0.9l-0.3,6l-1,3.3zM-46.4,16.5l-1.1,-2.1l-0.4,0.1l-0.5,2l0.9,0.3zM33.7,14.5l-1.2,-0.5l-0.8,0.5l0.8,0.6zM168.5,16.8l-2,-0.3l-1,-1.3l1,-0.8l1,0l1.1,1.1zM178.5,19.5l-1,0l-1,-2l1,-1l1,-0.1l1.1,1.1zM-49.9,19.5l-1.6,-0.6l-1.1,0.6l2.1,0.8zM167.5,23.5l-1,0.1l-2,-1.1l-0.8,-1l-0.2,-2.1l1,0.1l0.9,1l1.1,0l1,1l0.7,1zM-62.5,30.2l-1,0.1l-0.8,-0.8l1.8,-2.6l1.6,1.6zM-56.5,36.1l-1,0.2l-0.6,-0.8l0.1,-1l1.5,-1.5l1.2,1.5zM177.5,40.6l-2,0.6l-1,-0.7l-1.1,-2l0,-3l5,2l0,2z"/><path fill="#fbac79" d="M-81.5,-31.2l-1,-0.3l-0.1,-1l1.1,-2.7l0.4,0.7l-0.3,1l1.2,1l-0.5,1zM-87.5,-31.1l-1,0.3l-0.8,-0.7l0.2,-1l1.6,-1.2zM-104.5,-19.9l-1.6,-1.6l-1.4,-2.7l0,-2.4l1,0.8l2.3,4.3l0.2,1zM150.5,11.7l-6,-2.4l-1,0.5l-4.8,-0.3l-1.8,-1l0.3,-1l-1.7,-1.7l-6,-1.3l-4,0.3l-2,1.3l-1.9,0.4l1.9,0.5l1,1.1l1,-0.6l2,0.8l0,1.2l-1,1.1l-5,-0.1l-3,-0.9l-2,0.3l-6.9,-0.4l-2.1,-0.9l-2,-0.1l-6,-5.9l-0.3,-1.1l-1.8,-2l-0.1,-1l-2.8,-3l0,-1.2l4.4,-0.8l-0.6,-2l0.3,-5l-1.1,-2.4l-2,0.2l-1.1,-0.8l0.1,-3.5l1,1.4l1,-0.9l0,-2.5l-1,-0.2l-1.1,0.7l-0.1,1l-0.8,0.3l-1.1,-1.3l-0.7,-3l-1.6,-2l4.4,-0.9l2,0.7l0.7,1.2l1.3,0.4l2,1.6l5,0.4l1.3,0.6l0.8,1l0.1,1l-1.4,2l0.4,1l2,2l0.2,4l-3.4,1.8l-1,-0.3l-1.2,-1.5l-1.8,-1.1l-1.2,1.1l-0.4,3l0.2,1l1.4,1.1l3.1,0.9l0.2,3l0.8,1l-0.7,1l0.3,1l3.3,4.9l2,0.5l3.6,-0.4l-3.6,-0.4l-0.5,-1.6l-1.5,-2l-0.2,-3l1.2,-1.7l4,-2.1l2.7,-2.2l1.3,-2.8l1.8,-2.2l0,-2l-0.8,-1l0.9,-3l3.1,-0.3l1,0.6l0.3,3.7l2.9,2l0,2l0.7,2l-0.1,2l-0.8,1.1l-1,0.3l-3.3,-0.4l-1,-1l0.1,-1l1.1,-1l-1.9,-1.4l-1.9,2.4l0.3,1l1.2,1l-0.5,2l0.9,1.4l4,0.4l2,-0.8l2,-0.1l2,1.7l3,0.1l2,1.7l3,-0.4l4,0.9l2,1l2,1.7l1,0.2l1.8,-0.8l0.2,-1.2l1,-0.5l1,0.3l3.7,2.4l1.3,2l2,0l0,1l2,1l2.1,2l-2.2,0l-1.9,-1.8l-1.3,-0.2l-0.7,-1.5l-0.1,0.5l-0.9,0.2l-2,-1.1l-1,-0.1l-1.9,2l1.3,2l-0.4,0.8zM-52.5,30.9l-1,0.1l-3.5,-2.5l-0.6,-2l1.1,-0.8l1.4,-2.2l-0.3,-1l-1.1,-0.8l-1,-2.3l-1,-0.7l-1.8,0.8l-0.2,1.4l-3,0.9l-0.6,-2.3l0.6,-0.7l2,0.5l0.4,-0.8l-0.4,-0.5l-1,-0.7l-3,0.1l-1,-0.4l-2,-1.8l-4,-2.2l-3.1,-3.5l-2.6,-6l-0.1,-2l1.1,-1l-0.3,-0.4l-1,1.2l-0.9,-1.8l1.3,-4l-0.6,-2l-5.8,-1.9l-4,-4.3l-3.2,-0.8l-3.8,-3.1l-2,1.1l-3.2,-1l-0.8,-1.1l1,-0.6l2.1,-0.3l-0.1,-5.2l1,1l1.5,3.2l1.5,0.8l2,0.3l1,-0.4l1,-2.3l3,0.3l0.2,1.3l-0.5,2l1.3,1.5l3.4,0.5l0.3,3l0.9,2l4.4,0.9l1.8,2.1l-1,3l0.2,0.9l1,-0.3l2,-2.2l1,-0.3l2,0.5l1,-0.6l3,-0.6l1,0.2l1.8,-0.6l1.4,-1l0.2,-2l0.6,-0.3l1,-0.1l0.4,1.4l2.6,1.8l4,1.2l2,1.2l7.3,7.8l-2.7,5l0.4,2l-1.6,1l0.6,0.6l0.9,-0.6l0.1,-0.8l0.1,0.8l2.9,3.4l1.6,0.6l0.4,0.6l1.5,-2.6l1.5,-0.2l2.3,-2.8l0.7,-2.7l0.3,2.7l-0.3,1l-1.7,2l-0.9,5l-1.4,4l-2.4,2l-3.6,1.3l-1.7,1.7l-1.3,2.2l-2.2,0.8zM-65.5,-18.1l-7,-0.2l-1,0.3l-1,-0.3l-0.2,-1.2l-2.8,-2.7l-1.7,-0.3l2.9,0l1.8,1l0.1,1l1.9,1.5l7,0.4zM73.5,-16.6l-0.4,-1.9l0.4,-1.1l0.6,2.1zM110.5,-18.1l-2,-0.4l0.2,-1l1.8,-0.6l0.6,0.6l0,1zM-76.5,-17.5l-1.2,-1l1.5,0zM104.5,-14.5l-1,-2l-0.3,1l-1.1,1zM92.5,-11.2l0,-2.4l0.4,0.1l0.3,2zM37.5,-5.5l-2,0.5l-1.5,-1.5l0,-1l0.5,-2.2l3,-2.8l1,0.4l1,1.5l0,1.1zM37.5,17.3l-2,0l-1.7,-1.8l0.4,-1l-1.7,-0.9l-1,0.3l-0.4,0.6l-0.4,1l0.4,1l-1.6,0.4l-1.9,-0.4l-1.1,-0.8l-2,0.1l-1,-0.7l-2,0.7l-5.1,-0.3l-2.3,-2l-0.6,-2.5l0.7,-2.5l-4.9,-7l-0.8,-6.1l-2,-0.2l-1,0.5l-3,-1l-0.8,0.8l-2.2,0.1l-2,-0.7l-1,0.7l-5,0.4l-4.9,-3.5l-1,-1l-0.1,-1.3l3,-0.6l1,0.6l4,-0.1l0.6,0.4l0.4,1.3l4,-2l2,2l1,0.1l3,-0.9l1.7,0.5l3.3,2.2l1,-0.8l3,-0.2l1,-0.9l2,0.1l2,-0.9l1,0.7l2,-0.8l3,0.8l2.5,2.8l1.9,0l0.6,-0.4l1,0.8l2.2,0.6l1.3,3l-0.5,0.8l-1,-0.3l-1.7,0.5l0.8,3l-0.1,2.6l3,-2.6l1,0.5l2,2.4l2.1,1.1l0.2,3l-0.7,2l1,2l-1.1,1l-0.6,2zM81.5,-6.2l-1.7,-0.3l0.3,-3l1.4,0zM28.5,-5.6l-2.8,-1.9l1.8,-1.5l0.9,0.5l0.9,2zM125.2,2.5l1,-1l-0.7,-1.7l-1.6,2.7l0.6,0.6zM117.8,6.5l0.4,-1l-0.7,-0.8l-1.8,0.8l0.8,1zM47.5,25.6l-1.2,-0.1l-1,-1l0.1,-1l1.2,-1l0.4,-1l-0.9,-2l1.4,-0.3l0.4,-0.7l-0.3,-2l0.6,-1l-0.2,-2l0.7,-1l0.8,-0.2l1.2,1.2l-0.4,6l-0.8,3zM26.8,14.5l1,-1l-1.3,-0.4l-0.8,0.4l0.8,1.2zM-48.2,17.5l1.7,-0.3l0.7,-0.7l-1.7,-2.8l-1,-0.1l-0.5,2.9l0.3,1zM168.5,16.2l-3,-0.7l2,-1l1.1,1zM46.5,17.8l-1,0.5l-0.4,-0.8l0.4,-1.2l1.3,0.2zM178.5,19.5l-1,-0.7l-0.5,-1.3l0.5,-0.8l1,-0.2l1,1zM-49.3,20.5l-0.2,-1.3l-2,-0.8l-1.9,1.1l-0.1,1l1,0.6zM166.5,23.6l-2.5,-2.1l0.5,-0.8l2,0.4l1,0.9l0.3,0.5l-0.3,0.8zM176.5,40.8l-1.7,-0.3l-1.3,-2.2l0,-1.7l2,0l2.3,0.9l-0.4,1l0.6,1l-0.5,1z"/><path fill="#f88f60" d="M150.5,11.6l-6,-2.5l-1.4,0.4l-0.6,-0.9l-1.5,0.9l-1.9,0l-2.1,-1l0.2,-1l-1.7,-1.7l-2.5,-0.3l-1.5,-0.8l-2,-0.3l-3,0l-3,1.6l-3.2,0.5l3.2,0.7l1,1l1,-0.6l2,0.9l-0.1,1l-0.9,1l-4,0l-4,-1.1l-2,0.4l-5.9,-0.3l-4.1,-1.4l-1,0.1l-6,-5.7l-0.3,-1l-1.7,-2l-0.2,-1l-2.8,-3l0,-1.1l4.7,-0.9l-0.8,-2l0.4,-5l-1.3,-2.5l-2,0l-0.9,-0.5l0.1,-1l2.2,-2l0.2,-2l-0.5,-1l-1.3,0l-1.8,2l-1,-1l-0.5,-3l-1.2,-2l3.7,-0.5l2,0.8l0.3,0.7l1.7,0.6l2,1.7l5,0.2l1.8,1.5l0,1l-1.2,2l0.4,1l2.1,2l0.2,4l-1.3,0.9l-3,0.5l-1,-1.4l-2,-1.3l-1.4,1.3l-0.3,3l0.1,1l1.6,1.4l3,0.6l0.3,3l0.8,1l-0.8,1l0.2,1l3.5,5l1,0l1,0.7l4.5,-0.7l-4.5,-0.6l-1.8,-3.4l-0.3,-3l1.1,-1.6l4,-2l2.8,-2.4l0.8,-1l0.4,-1.6l1.8,-2.4l0.1,-2l-0.7,-1l0.7,-3l3.1,-0.2l1,0.8l0.2,3.4l3,2l0.3,6l-0.5,1.1l-4.2,-0.1l-1,-1l0.1,-1l1.1,-1l-2,-1.7l-1.6,1.7l-0.4,1l0.2,1l1.2,1l-0.3,2l0.9,1.5l4,0.4l2.3,-0.9l1.7,-0.1l2,1.8l3.6,0.3l1.4,1.5l3,-0.4l4,0.8l2,1l2,1.8l1,0.2l1.8,-0.9l0.2,-1.1l1,-0.4l1.7,0.5l2.9,2l1.2,2l-0.2,1l-0.6,0.1l-2,-1.1l-1,0l-1.4,1l-0.6,1l1.3,2l-0.3,0.7zM-106.5,-22.6l-1,-1.9l0,-1.5l1,0.5l0.9,2zM-104.5,-20.3l-1.9,-2.2l0.9,-1l1.2,2zM-52.5,30.4l-1,-0.1l-2.9,-1.8l-0.2,-2l2,-3l-2.9,-5l-1,-0.4l-1,0.7l-0.8,-0.3l-1.7,-2l-1.5,0l-2,0.7l-1,-0.3l-3,-2.7l-3,-1.4l-3,-3.3l-2.5,-6l1.2,-3l-0.7,-0.9l-1,0.8l-0.6,-0.9l0,-1l1.2,-3l-0.6,-2l-6,-2l-4,-4.3l-3.1,-0.7l-3.9,-3.3l-2,1.1l-3,-0.8l-0.7,-1l3.1,-1l-0.1,-3l0.7,-0.8l1.3,2.8l2.7,1.2l2,-0.3l0.8,-0.9l0.2,-1.3l1,0.6l2,-0.2l0,1.9l-0.5,1l1.5,1.6l3.3,0.4l0.2,3l0.9,2l0.6,0.5l3,0l1,0.5l1.5,2l-0.9,3l0.4,3.8l0.4,-1.8l2.6,-3.3l1,-0.3l2,0.6l3,-1.2l2,0.1l3,-0.9l0.8,-1l-0.1,-2l0.3,-0.2l1,0l0.1,1.2l2.9,1.8l3.5,1.2l3.6,2l1.2,2l4.4,5l-2.5,5l0,2l-1.2,0.3l0,1.6l1,0.5l1,-0.4l1.7,1l3.3,4.1l1.8,-4.1l2.2,0l-1,6.3l-1,2.4l-2.7,2.3l-3.3,1.2l-1.8,1.8l-1.2,2l-3,0.6zM110.5,-18.2l-1.6,-0.3l0.3,-1l1.3,-0.5l0.5,1.5zM104.9,-12.5l1.1,-2l-1.5,-2l-2,-0.3l-1,2.3l1.9,1l1.1,1.2zM92.5,-11.3l0,-2.2l0.5,2zM36.5,-5.3l-1,0l-1.1,-1.2l-0.2,-2l3.3,-3.7l1.1,0.7l0.6,1l-0.1,1l-0.8,1l-0.3,2zM1.5,-4.5l-2,0l-1,-1.2l-1,-0.3l-1,1l-5,0.9l-3.5,-2.4l-2,-2l0.5,-0.8l2,-0.6l1,0.6l3,0.5l1,1.5l1,0l4,-2.4l1,1.7l2,0.2l3,-0.8l3.7,2.1l0.2,1l-2.9,0.8l-3,-0.7zM37.5,17l-2,-0.3l-0.8,-1.2l0,-1l-0.8,-1l1.6,-1l-0.3,-1l-0.7,-0.5l-1,2.1l-2,-0.1l-2,3.6l-1.1,-0.1l-0.4,-1l-0.1,-1l0.5,-1l-1.9,-0.9l-1.4,0.9l0.9,2l-0.5,0.2l-3,-1l-1,0.8l-4,0.1l-2.3,-1.1l-0.9,-1l0.5,-1l-0.3,-4l-5.1,-7l-0.8,-7l1.9,-1.1l2,0.2l3,-1.3l2,-0.3l3,0.4l1,-1l3,0.9l2,2.3l5,1.4l2.2,2.5l-0.2,0.4l-2,-0.2l-1.5,0.8l1.3,3l-0.8,1.5l-1,0.3l-0.4,1.2l0.4,0.8l1,-0.3l0.9,0.5l0.1,0.7l0.6,0.3l-0.3,1l0.7,1.4l2,-1.3l0,-1.1l-2,0l-1,-1l2,-3l1,-0.6l1.8,1.6l0.2,1.4l1,1l2,1.1l0.1,1.5l-1.1,2l0,0.8l1,0l0.3,1.2l-1.3,0.6l-0.5,2.4zM27.5,-6.8l-0.6,-0.7l0.6,-1l0.7,1zM81.5,-6.3l-1.4,-0.2l0.4,-2.8l1,0zM124.6,-6.5l0.3,-2l-1.4,-0.6l-0.9,0.6l1.9,2.5zM125.2,2.5l1.1,-1l-0.8,-1.9l-1.6,2.9l0.6,0.6zM117.9,6.5l0.4,-1l-0.8,-0.8l-1,0.1l-0.9,0.7l0.9,1.2l1,0.2zM162.5,10.5l-1.9,0l0.9,-0.8zM-51.1,21.5l2.4,-1l0,-1l-1,-1l0.2,-0.8l1,0.5l1,-0.4l0.9,0.7l0.1,1l1,0.4l0.2,-0.4l-0.3,-2l0.3,-1l-2.2,-3.4l-1,0l-0.4,0.4l-0.7,4l-3.7,1l-0.8,1l-0.1,1l1.3,1zM47.5,25.5l-1,0l-0.9,-1l0.3,-1l1.1,-1l0.3,-1l-0.4,-1l1.2,-2l-0.3,-1l0.8,-2l-0.2,-2l1.1,-1l1.1,1l-0.5,6l-0.9,3zM-61.5,20.6l-2,0.8l-0.1,-1.9zM166.5,23.5l-2,-1.8l0,-0.5l2,0.6l0.8,0.7zM176.5,40.6l-1.2,-0.1l-0.2,-1l0.4,-0.5l1,-0.2l1,0.5z"/><path fill="#f66f46" d="M99.5,-6.6l-1,-1.9l0.5,-5l-1.5,-2.7l-2.4,-0.3l0.3,-1l1.8,-2l0.3,-2l-1,-1.5l-1.7,0.5l-1.3,1.6l-0.6,-0.6l-0.6,-3l-0.6,-1l1.2,-1l1.6,-0.1l2,1.3l2,0.6l1,1.3l1,0.4l5,0.1l1.5,1.4l-1,3l0.2,1l2.3,2.2l0.2,3.8l-1.2,0.6l-3,0.6l-0.5,-1.2l1.5,-0.9l1.1,-2.1l-2.1,-2.5l-2,-0.5l-1.1,1l-0.2,2l1.2,1l-1.9,1.1l-0.5,0.9zM-104.5,-21.1l-1.2,-0.4l-0.4,-1l0.6,-0.6zM-78.5,0l-0.5,-1.5l1.2,-2l0,-1l-0.7,-2.2l-5.8,-1.8l-4.2,-4.5l-3,-0.6l-4,-3.4l-1,0l-1,1l-2.8,-0.5l-0.7,-1l0.5,-0.4l2,0.2l0.7,-0.8l-0.1,-3l0.4,-0.5l1.1,2.5l0.9,0.8l2,0.6l2.4,-0.4l0.6,-2.1l1,1.7l1,-0.8l1,0l-0.6,2.2l1.6,1.8l3.2,0.2l0.1,3l1,2l0.7,0.6l3,0l0.9,0.4l1.4,2l-0.7,2l-0.5,4zM110.5,-18.3l-1.2,-0.2l0.4,-1l0.8,-0.3l0.3,1.3zM150.5,11.6l-5.5,-2.1l-0.5,-0.6l-1,0.2l-0.5,-0.6l0.4,-2l-4.9,0l0,1.4l0.5,0.6l-1.5,0.2l-0.2,-1.2l-1.8,-1.8l-2.3,-0.2l-3.7,-1.3l-3,0l-2,1.4l-4,0.3l-0.6,0.6l3.6,0.9l1,0.9l1,-0.4l1.6,0.6l-0.6,1.8l-0.7,0.2l-2.3,-1.2l-1,0.7l-4,-1l-1,0.6l-5,0l-5,-1.6l-2,0l-6,-5.5l-0.2,-1l-1.8,-2l-0.1,-1l-2,-2l-0.9,-2l4,-0.4l2,-0.8l1,0.9l2.9,0.3l0.3,3l0.9,1l-0.8,1l0.1,1l1.7,2l0.6,3l3.1,1l-1.3,1l0.5,0.3l1.2,-1.3l4.8,-0.9l1,1.2l1,0.2l0.9,-1.5l-0.9,-0.9l-2,0.6l-5,-0.6l-1.6,-3.1l0.1,-2l-0.5,-1l1,-1.5l2.4,-1.5l1.6,-0.4l3.7,-3.6l0.3,-1.5l1,-0.5l0,-1l0.9,-1l0.1,-2l-0.5,-1l0.5,-2.9l3,-0.2l1,1l0.1,3.1l3,2l-0.1,7l-1,0l-0.3,-1l0.5,-2l-2.2,-1.2l-2,-0.1l-1,-0.6l-2.6,2.9l0.6,1l-0.3,1l1.5,0l-0.1,2l0.9,1.7l3.8,0.3l0.4,2l-0.9,2l0.7,0.7l1.8,-1.7l-0.8,-2.4l-0.7,-0.6l2.7,-1l1,0l2,1.7l3.4,0.3l1.6,1.6l3,-0.4l4,0.8l1,0.8l1,0.1l2,1.8l2,0l0.9,-0.7l0.1,-1.1l2,0l3.5,2.1l1.1,2l-0.6,1.1l-3,-1.2l-1.6,1.1l-0.5,1l1.3,2zM37.5,-6.2l-2,0.6l-0.7,-0.9l-0.4,-2l3.1,-3.4l1.4,1.4l-1,2zM-52.5,29.6l-1,0.2l-2.3,-1.3l-0.3,-2l0.3,-1l1.3,-1.4l1,-0.1l0,-0.7l-0.8,-0.8l0.8,-0.9l1,0.5l3,-0.5l1,0.1l1,0.9l1,-0.1l1.8,-2l-0.2,-4l-0.5,-1l0.7,-1l-2.8,-2l-1,0l-0.8,1l-1.2,3.7l-3.5,1.3l-1.5,2.6l-2,-3.1l-1,-0.7l-1,0.5l-1,-2.4l-5,1.5l-1,-0.2l-3,-2.8l-3,-1.2l-3.5,-4.2l-0.7,-3l-1,-2l2,-6l2.2,-2.9l1,-0.4l2,0.5l3,-1.1l2,0.1l3,-0.9l2,-2.1l9,4.3l1,0.5l5.1,7l-2.8,6l-1.3,1l0.3,2l0.7,0.9l2,-0.3l1,0.4l1,1l0.1,1l2.6,3l-0.3,1l-2.2,1l1.2,1l0.9,0l1.1,-3l0.8,-1l0,-2l0.8,-1.7l1.5,0.7l-0.5,5l-1,2.4l-3,2.6l-3,1.2l-3,3.5l-3,0.1zM-7.5,-4.5l-1,0.2l-1.9,-1.2l-3.1,-3.1l2,-0.6l2,0.5l2,0.8l1,1.8l3,-2.1l1,0.7l-0.2,1l-0.8,0.8l-3,0.5zM81.5,-6.4l-1.2,-0.1l0.2,-2.3l1,0.1zM5.5,-5.4l-3,-0.2l-1,0.5l-2,0l-0.7,-1.4l0.7,-0.7l5,-0.9l1.6,1.6zM29.5,14.9l-1,0.2l-0.2,-0.6l1.1,-1l-2.9,-1.6l-1.8,1.6l0.4,1l-0.6,0.5l-3,-1.9l-0.5,1.4l-2.5,0.9l-2.7,-0.9l-1,-1l0.9,-1l-0.8,-2l0.1,-2l0.5,-0.8l2,-0.1l0.8,-1.1l-1.8,-0.6l-1,0.3l-1,1l-4,-4.1l-1.1,-2.6l0,-3l-0.4,-1l0.5,-1.8l2,-1l1,0.2l2,-0.9l3,-0.5l4,1.2l2,-1.3l1,0.3l2,2.2l1.6,0.6l0.8,1l-0.6,1l2.2,3.3l0.4,1.7l-1.4,1l-1,1.7l-1.7,0.3l-1,1l1.7,1.4l1,0.2l2,-1.2l2,3.6l1,-0.5l1,0.5l-1,0.8l-1,-0.3l-2.4,2.5zM122.5,-5.5l-1,-1l0,-1.2l1,0.1l1.2,1.1l-0.7,1zM17.6,0.5l2.6,-3l-0.7,-1.2l-3.1,3.2l0.5,1zM31.5,-1.9l-1,0.2l0,-1.2l1,-0.1l0.4,0.5zM116.4,3.5l0.5,-1l-1.4,-0.4l-0.3,1.4l0.3,0.4zM37.5,16.7l-1.3,-0.2l-0.9,-1l-0.4,-2l1.1,-1l-0.1,-1l-0.4,-0.7l-1,-0.3l0.9,-2l-0.1,-1l-3.2,-1l1,-2l1.4,-1.1l1.5,1.1l-0.4,1l0.7,3l2.2,-0.5l0.8,1.5l-1.4,2l0.2,2zM-50.7,8.5l-0.6,-1l0.8,-1.1l-1.2,1.1l-0.3,1l0.5,0.4zM140.5,9.1l-0.6,-0.6l0.6,-1.3l0.5,1.3zM-55.8,11.5l0,-2l-0.7,-0.6l-0.7,1.6l0.7,1.3zM47.5,25.3l-1,-0.1l-0.6,-0.7l1.8,-3l-0.4,-1l1.1,-2l-0.3,-1l0.7,-2l0,-2l0.7,-0.7l1,0.7l-0.6,6zM-47.5,20.4l-0.6,-0.9l0.6,-1l0.5,1z"/><path fill="#f04c2f" d="M99.5,-7.2l-0.6,-1.3l0.3,-5l-1.7,-2.8l-1.9,-0.2l2.1,-3l0.5,-2l-1.7,-1.9l-2,0.7l-1,1.3l-1,-2.1l0.2,-2l0.8,-0.5l1,0l2,1.3l2,0.1l1,1.6l2,0.4l4,-0.1l1.3,1.2l-0.3,0.9l-1.4,0.1l0.6,1l0,2l2.8,2.6l0,3.4l-2,0.5l-1.7,-0.5l0.7,-0.4l1.4,-2.6l-2.4,-2.9l-2.8,-0.1l-0.7,1l-0.1,2l1,1l-1.7,1l-0.4,1zM-77.5,-2.8l-0.2,-2.7l-0.8,-1.4l-3,-0.6l-1,-0.7l-1.4,-0.3l-2.5,-2l-1.1,-1.9l-1,-0.8l-3,-0.6l-1.4,-1.7l-3.5,-2l-0.9,-1l0.8,-0.7l4,1.5l2,-1.1l1,0.6l1,-0.9l0.7,2.6l1.2,1l-0.4,2l0.5,1l0.3,-3l2.7,-0.1l0.2,3.1l0.9,2l0.9,0.8l3.6,0.2l1.4,2zM-97.5,-16.2l-2.4,-0.3l-0.8,-1l2.2,0.1l1,-0.8l0.8,0.7zM119.5,-15.1l0,-2.5l0.7,1.1l-0.1,1zM126.5,-8.6l-3,-1.5l-2.4,-0.4l-0.5,-2l1.9,-1l-1.4,-1l-0.2,-2l0.6,-1l2,0.2l0,2.8l0.9,1l2.2,1zM36.5,-6.1l-1.2,-0.4l-0.5,-2l2.7,-3.1l1.1,1.1l-1.2,2l0.1,1.6zM118.5,-8.3l-1,0.2l0,-1.7l1.7,0.3zM-55.5,19.3l-1,-0.4l-2,-3.4l-1,0.4l-1,-1l-5,1.8l-1,-0.2l-3,-3l-3,-0.9l-3,-3.4l-0.8,-2.7l0.3,-1l-1.3,-1l-0.1,-2l1.9,-3.5l2.2,1.5l0.6,-2l-0.8,-0.8l-1,0.6l-0.7,-0.8l1.7,-2.5l1,-0.5l2,0.5l3,-1.2l2,0.2l3,-0.9l2,-2l5,2.7l4.8,1.7l3.1,4l0.1,1.3l1,0.6l0.7,1.1l-1.7,3.8l-5,-0.2l-1,-0.7l-0.5,2.1l-1.5,1.4l-1,-0.5l-0.8,1.1l-0.4,1l0.5,1l2.7,2.7l1,-1.1l1,0.1l0.4,-1.7l1.6,-2.1l0.5,1.1l0.3,2l-0.9,3l0.1,1l-1,1l-3,0.9zM-8.5,-4.5l-3,-2l-0.4,-1l0.4,-0.7l2,-0.1l1.8,0.8l1,2zM3.5,-5.5l-1,-0.7l-2,0.5l-1.1,-0.8l5.1,-1.1l0.7,1.1l-0.7,0.9zM150.5,11.5l-2.8,-1l-0.2,-0.8l-2.3,-0.2l-1.5,-1l0.4,-2l-0.6,-0.6l-5,0l-0.5,0.6l0.1,2l-0.6,0.1l-0.5,-2.1l-7.5,-2.5l-3,0l-3,1.7l-3,-0.1l-1,0.9l1,0.6l2.5,0.4l0.3,1l-0.8,1l-4,-0.8l-1.2,0.8l-5,0l-2.7,-1l2.6,-2l3.3,-0.7l1,1.2l1,0.2l0.9,-1.7l-0.9,-0.9l-6,0.2l-1,-0.5l-1.1,-1.8l-0.1,-3l-0.6,-1l0.8,-1.3l1,-0.3l1.5,-1.4l1.5,-0.2l3,-2.9l1,1.1l0,1.4l1,0.3l1,-0.7l0,2l1,1.8l3.2,0.2l0.9,2l-0.8,2l0.7,0.8l1.9,-1.8l-0.7,-3l1.8,-0.7l2,0.5l1,1l3.3,0.2l1.7,1.8l3,-0.4l4,0.6l1,0.9l1,0.1l2,1.8l2,0l0.9,-0.8l0.1,-1.1l1.8,0.1l3.6,2l0.9,1l0.1,1l-0.4,0.9l-2,-1.1l-1,-0.1l-1.7,1.3l-0.7,1l1.6,2zM19.5,14.7l-1,0.4l-1.9,-0.6l-0.8,-1l0.8,-1l-1.4,-2l0.3,-1.8l2,0.3l1,-1.5l2,0.4l0.4,-0.4l-0.4,-2l-5,-0.1l-0.9,-0.9l0.9,-1.1l-3,1.7l-2.7,-3.6l-0.4,-2l0.5,-1l-0.6,-3l2.2,-1.5l2,0.1l1,-0.8l2,-0.3l1,0.1l1.9,1.4l-0.6,2l-1.3,0.9l-1.6,2.1l0.6,1.8l1,0.4l1,-2l2.1,-2.2l-0.1,-1l0.6,-2l2.4,-1.5l1,0.2l2.5,2.3l0.6,1l-0.1,1l3,4l-0.6,1l-1.4,0.2l-1.1,1.8l-1.8,1l-0.8,1l1.7,1l0.9,1l0.1,1l1,-1l2,-0.7l1.5,2.7l-0.5,0.7l-2,1.7l-0.8,-0.4l0.4,-2l-0.6,-0.6l-1,-0.4l-1,0.5l-0.8,0.5l-0.2,1.1l-1.1,-2.1l-0.9,-0.5l-0.7,0.5l1.3,1l0.3,1l-0.9,1l-4,-0.6l-1,-0.6l-0.5,0.2l1.8,2zM107.5,7.6l-2,0.1l-1,-1.1l-2.1,-1.1l-2.9,-3.3l-2.1,-3.7l-1.9,-2l0.5,-1l-1.2,-1l3.7,-0.2l2,-0.9l1,1.3l2,-0.4l1,0.4l0.1,2.8l0.9,1l-0.8,1l0.1,1l1.8,2l0.1,3l2.6,1zM-78.5,-0.3l-0.4,-1.2l0.4,-1l0.5,0l0.3,1zM-69.5,1.5l-2,-1.6l-0.7,0.6zM106.2,3.5l-1.7,-1.4l-1.1,1.4l2.1,1zM117.1,3.5l0.5,-1l-0.1,-0.8l-2,0l-0.8,0.8l0,1l0.8,0.9l1,0zM34.5,6.5l-1.7,0l0.7,-2l1,-0.7l1.1,0.7zM126.5,8.8l-1,0.5l-1.8,-0.8l1.8,-0.3l1.1,0.3zM-69.2,9.5l-1.3,-0.7l-0.5,0.7l0.5,0.5zM-53.5,11.8l-1,0.3l-0.6,-0.6l0.1,-2l0.5,-0.2l1.7,1.2zM36.5,15.8l-0.8,-1.3l0.7,-2l-0.2,-2l1.3,-1.7l1,-0.1l0.3,0.8l-0.3,0.8l-1.8,1.2l0.6,4zM-40.5,21.7l-0.8,-0.2l-0.2,-2l1.8,-3l-0.3,-2l0.4,-1l1.1,-0.1l0.2,2.1l-0.8,1l0.6,0.6l0,0.7l-1,2.9zM48.5,22.8l-0.5,-0.3l-0.2,-2l1,-2l-0.5,-1l0.7,-2l0.1,-2l0.4,-0.4l0.6,0.4l0.1,2l-0.5,4zM-42.5,17.8l-1,0.5l-1,-0.4l0,-2l2,1.3zM-48.5,28l-1,0.2l-0.9,-0.7l0.9,-3.2l-3,-0.3l-0.5,-1.5l3.5,-0.4l1,0.2l1,0.8l1.9,-0.6l2.1,-1.7l1.9,0.7l0,1l-3.9,2.1zM47.5,25l-1.4,-0.5l1.4,-1.7l0.6,0.7zM-52.5,28.9l-1,0.2l-1.8,-1.6l-0.1,-2l0.9,-0.8l1.9,0.8l0.4,1l0.5,1z"/><path fill="#ea2e1d" d="M93.5,-22.2l-0.5,-1.3l0.4,-1l1.1,-0.9l1.2,0.9l0.1,1l-1.3,0.2zM99.5,-8.4l-0.1,-5.1l-1.9,-3l-1,0l2.7,-4l-1.9,-3l0.2,-0.5l1,0.1l1,1.2l2,0.4l4,-0.3l1,1.1l-2.1,1l0.1,1.7l1,-0.1l0,0.9l-1,-0.3l-3,0.5l-0.9,1.3l-0.1,2l0.8,1l-1.5,1zM-88.5,-13.4l-1.6,-0.1l-2,-1l-0.2,-1l0.4,-1l-0.6,-0.9l-0.3,0.9l-0.7,0.2l-1,-0.2l-1.3,-1l1.3,-0.6l2,0.6l2,-0.7l1,0.5l1,-0.5l0.5,1.7l0.9,1l0.1,1zM122.5,-14.4l-0.9,-1.1l0.3,-1l1.6,-0.4l0,1.5zM107.5,-13.7l-0.7,-1.8l0.7,-0.3l0.8,1.3zM-84.5,-9.4l-1,-0.3l-1.3,-1.8l1.3,-2.2l1,0l1,0.8l0.8,2.4l-0.8,0.9zM107.5,-11.3l-1.8,-0.2l0.8,-1.4l1,-0.5l0.6,0.9l-0.1,1zM126.5,-9.4l-4.3,-1.1l-0.3,-2l1.6,-0.5l2,0.5l1,1zM-77.5,-4.8l-0.3,-1.7l-0.7,-0.6l-2.6,-0.4l-2.4,-1.1l1.2,-0.9l4.2,0l1.3,2zM36.5,-7l-1.1,-1.5l1.1,-1.3l0.8,0.3l-0.7,1zM-55.5,18.7l-2,-2.2l-1,-2l-1.2,0l-0.8,-0.7l-0.2,0.7l-1.7,1l-1.1,-0.2l-2,0.9l-1,-1.4l-1,0.3l-1,-0.6l-0.5,-2l0.8,-2l-0.3,-2l-2,-0.4l-3,3.1l-2,-2.2l-0.4,-2.5l1.4,-1l-2,-0.5l-0.8,-1.5l0.2,-1l1,-1l0.6,-1.6l1,1.8l1,0.1l1,-0.9l3,2l1.2,-1.4l-3.2,-2.3l-1,-1.9l-1.9,-0.8l0.9,-1.1l2,-0.6l2,0.5l2,-1.3l2,0.3l3,-1l2,-1.8l4.3,2l0.4,1l-0.7,1l2,1l0.7,1l0.1,1l-1.5,1l-0.3,1.1l-3.2,-2.1l-1,0l1.3,2l1.9,1.6l1,-0.2l1.2,-1.4l0,-1l1.7,-1l-0.9,-3l1,-0.4l1.5,0.4l2.5,3l0.6,1l-0.4,2l0.8,0.5l1,-0.1l0.4,0.6l-0.4,1.2l-2,-0.8l-1,2.1l-1,0.4l-3,-1.2l-1,3l-1,0.9l-1,0l-1.4,1.4l-0.3,1l2.7,4l1,0.3l1,-1.1l1.9,-0.2l0.1,-1.7l1,-0.3l0.3,1l-1.2,3l0.2,1zM-7.5,-5.5l-1,0.7l-2.5,-1.7l0,-1l1.5,-0.4l1.1,0.4zM4.5,-6.3l-1,0.3l-0.7,-0.5l0.7,-0.5l1,0.2zM12.5,4.8l-2.5,-3.3l-0.3,-2l0.8,-1l-0.1,-1l-1,-1l0.3,-1l1.8,-1.2l2,0.5l1,-1l3,-0.2l1.2,0.9l0.1,1l-3.4,4l-0.3,1l0.6,1l-0.2,0.4l-1,0.3zM151.5,10.8l-1,0.4l-2.4,-0.7l0.4,-1l-1,-1l-0.6,1l-1.5,0l-0.9,-1l0,-1.2l3,1.1l0.4,-0.9l-1.4,-1.5l-2,0.1l-1,-0.7l-5.5,0.1l-0.5,3l0,-2l-2,-0.9l-1.9,-0.1l0.4,-1l-0.5,-0.6l-1,0.7l-3,-0.8l-3,0l-3,1.8l-3,-0.5l-1.4,1.4l1.4,0.9l1.6,0.1l0.2,1l-0.8,0.4l-3,-0.6l-3,1l-1,-0.8l-2,0.5l-1.5,-0.5l2.4,-2l2.1,-0.5l1,1.1l1,0.2l0.8,-0.8l0.2,-1l-1.2,-1l1.1,-1l-0.4,-2l-2.5,-0.5l-0.3,-0.5l1.5,-3l-1.2,-0.5l-1,0.4l-0.9,-1.9l1.9,-2l1,-0.1l1,2.3l1,0.1l1,0.9l1,1.8l2.7,0l1,2l-0.5,2l0.8,0.8l1.9,-1.8l-0.1,-3l1.2,-0.3l2,0.2l1,1l3.2,0.1l0.2,1l1.6,0.9l3,-0.3l3.7,0.4l1.3,0.9l0.8,0.1l2.2,1.9l2,-0.1l1,-0.8l0,-1l1.1,0l0.9,0.9l3,1l1.2,1.1l-0.2,1.4l-1,0l-1,-0.9l-1,0.1l-2.7,2.4l1.7,1.7zM25.5,10l-1,-1.1l-2,-0.5l-0.8,-0.9l-1.2,-3.6l-1,0.7l-2,0.2l-0.6,-0.3l-0.1,-1l0.3,-1l1.1,-1l0.3,-1.3l2.4,-2.7l-0.1,-1l0.7,-1.7l3,-0.9l2,1.7l0.6,0.9l-0.2,1l1.4,2l-0.8,0.8l-1,-1.3l-1.1,0.5l-0.1,2l2.2,-0.5l0.8,0.5l-1.9,3l-2.2,2l2.1,2l0,1zM102.5,3.1l-2,-0.1l-1,-1l-2.8,-4.5l0.2,-2l-1.5,-1l3.9,0l-0.9,1l-0.1,1l1.2,0.8l1.7,-0.8l1.6,-2l1.7,0.4l0,2.6l1,1l-0.9,1l0,1l1,1l-0.1,0.8l-1,-0.8l-1.8,1zM-61,-3.5l-1.5,-1l-0.4,1l1.4,0.6zM114.5,-0.2l-2,0.1l-0.8,-0.4l-0.2,-0.7l-2,0.5l-0.5,-0.8l0.2,-1l1.3,-0.4l1.7,-1.6l1.2,0l-0.3,1l0.4,0.9l1,0.2l1,1.9zM114.5,4.6l-3,0l-1,-0.5l-1.1,-1.6l0.1,-1.9l1,0.1l1,1.1l1,-0.7l1,0.1l0.8,1.3l0.5,2zM-67.1,7.5l0.2,-2l-0.5,-1l-2.1,-0.1l0.9,1.1l0.1,1.1l1,1.1zM104.5,6.2l-2,-0.7l-1,-1l0,-0.8l1,-0.1l2,1l0.7,0.9zM-59.3,6.5l-2.2,-1.4l-0.5,0.4l0.5,1.4zM108.5,6.7l-3,0.4l-0.4,-0.6l1.4,-0.4zM30.5,11.1l-1.8,-1.6l0.8,-1.1l1,0.2l0.7,0.9l0.3,1zM-60.2,12.5l-1,-1l-0.2,-1l1.2,-1l-0.3,-0.7l-2,1.8l-0.3,0.9l2.3,1.8zM17.5,10.7l-1,0.6l-0.9,-0.8l0.9,-1.2l1.3,1.2zM23.5,11.8l-1.5,-0.3l-0.3,-1l0.8,-0.3l1,0.9zM-70.5,12.9l-1.9,-0.4l-0.7,-1l0.6,-0.8l2,0.3l0.6,1.5zM18.5,14.8l-1.1,-0.3l-0.3,-1l0.4,-1l1.5,1l0.1,1zM48.5,21.5l-0.1,-2l1,-1l-0.8,-1l0.5,-1l0.4,-3.1l0.4,2.1l-0.4,4zM-39.5,15.6l0,-1.6l1,0.2l0,1.1zM-40.5,21.3l-0.6,-0.8l0,-1l1.6,-2.5l0.5,0.5l-0.3,2zM-48.5,27.7l-1.4,-0.2l0.5,-2l0.9,-0.9l1.4,-1.1l1.6,-0.4l2,-1.7l1,0.1l0.4,1l-3.4,1.7zM-51.5,23.8l-0.8,-0.3l0.8,-0.9l0.9,0.9zM47.5,24.7l-1.1,-0.2l1.1,-1.2zM-52.5,28.2l-1,0.1l-1.2,-0.8l-0.3,-1l0.5,-1.3l1.2,0.3l0.1,1l1,1z"/><path fill="#e31611" d="M99.5,-13.9l-1,-1.6l-0.2,-2l0.6,-2l0.9,-1l-0.3,-1.2l5.6,-0.8l0.5,1l-1.5,1l-0.1,2l-2.5,0.4l-1.3,1.6l-0.2,2zM-89.5,-13.5l-2.4,-1l0.9,-2l-0.9,-1l1.4,-0.3l2,0.5l1.1,1.8l-0.1,1l-1,0.9zM-83.5,-9.9l-2,0l-1,-1.3l0,-0.7l2,-0.6l1,0.4l0.5,1.6zM125.5,-10.1l-2.8,-1.4l0.8,-0.7l2,0.2l0.5,0.5l0,1zM-77.5,-6.1l-1,-1.2l-1.7,-0.2l1.3,-1l-0.6,-0.8l-1,0.4l-0.8,-0.6l3,0l1.2,2zM-68.5,0.5l-3,-2l-0.4,-1l-1.4,-1l0.1,-1l1.7,-0.5l2,1l2,-1.9l2,0.4l3,-0.9l2,-1.8l2,0.5l1.8,1.2l0.2,1l-2.5,2l0.5,0.5l4,0.1l0.3,0.4l-0.3,1.2l-3,0.3l-1,-1l-1.5,-0.5l-0.5,-1l-2,-1.3l-0.8,1.3l1.4,1l-0.6,0.7l-1,0.2l-4,-2l-0.8,0.1l-0.4,1l0.7,2zM-8.5,-5.2l-2.1,-1.3l0.7,-1l1.8,1l0.1,1zM12.5,4.6l-2.4,-3.1l0,-2l1,-1l-0.2,-1l-1.2,-1l0.4,-1l1.4,-0.8l2,1.2l2,-0.1l0.6,-0.3l-0.6,-0.9l-1,0.8l-0.3,-0.9l3.3,-0.5l0.8,0.5l0.2,1l-1.3,1l-2.9,4l-1,3zM97.5,-4.5l-1.3,-1l2,0zM151.5,10.7l-1,0.3l-2,-0.5l0.9,-1l0,-1l-2.9,-3.1l-1,0.2l-2,-0.6l-2,0.1l-1,-0.5l-0.2,-1.1l-0.8,-0.6l-0.4,1.6l-2.6,1.3l-2.4,-0.3l0.1,-2l-1.3,0l-0.4,0.8l-1,-1.3l-1,0.6l-4,0l-3,1.9l-3.9,-1l0.2,-1l-1.3,-0.7l-0.1,-1.3l-0.9,-0.8l-1,0.3l-0.9,-0.5l1.8,-3l-0.9,-0.7l-2,0l-0.5,-1.3l0.5,-1l1,-0.6l1,0.5l1,1.7l1,0.1l1,0.9l0.5,1.4l2.7,0l1.1,2l-0.1,2l0.8,0.9l2,-1.9l0,-1.5l1,-1.2l1,0.9l1,-1.2l1,0.9l3.1,0.1l-0.4,1l2.3,1.2l2,-0.5l4.4,0.3l4.6,2.9l2,0l1,-1.4l0.1,0.5l2.9,0.5l1,0.9l1,-0.5l1.1,1.1l-0.1,1l-1,0.2l-1,-1l-1,0.2l-3,2.6zM-62.5,15.2l-1,-0.2l-2,0.4l-1,-2.7l-1,0.3l-0.8,-0.5l0.3,-3l0.4,-1l1.5,-1l-0.7,-3l-0.7,-0.8l-1.3,-0.2l0.9,-2l-0.6,-1l2,-0.8l2,-0.1l1,-0.7l1,0.1l1,-0.9l1,-0.1l1.4,2.5l-1.4,2l1,1.5l0.6,-0.5l-0.2,-2l0.6,-0.4l1.8,1.4l1.2,0.1l2,-2.1l1.8,-2l-0.8,-1.2l-0.3,-1.8l1.5,0l3.2,4l-1.4,1.9l-2.2,-0.9l0.8,1l1.4,0l0.9,1l-1,2l-0.9,0.5l-3,-1.2l-0.8,0.7l-0.2,2.1l-1,1l-2,0.8l-0.7,-0.9l0.1,-1l-1.4,-1.3l-3,-1.2l-1,0.5l2,2.9l1.4,0.1l-1.4,0.7l-1,1.4l-2,-0.7l-0.7,0.6l4.1,4l-0.4,1zM24.5,8l-2,-0.2l-1,-1.3l-0.7,-3l-1.3,-0.1l-0.9,-1.9l0,-1l2.6,-3l0.1,-2l1.2,-0.7l2,0l2.2,1.7l-0.2,0.7l-2.1,1.3l0.4,2l-1.4,2l3.1,-0.8l0.6,0.8l-3.4,4l1,1zM103.5,1.5l-1,0.7l-2,0.1l-1,-0.5l-1,-1.3l-0.3,-2l3.3,-1.6l2,-2.3l1,0.5l0,2l-0.4,0.4l0.9,1l-0.5,2.2zM110.5,-1.5l-1,0.5l-0.2,-1.5l1.2,-0.2l1.8,-1.8l0.8,0l-0.6,1.7zM114.5,-1.4l-1,0.8l-1,-0.9l1,-0.5zM-65,2.5l-0.5,-1.2l-1.6,1.2l0.6,1zM113.5,4.5l-2,0l-1,-0.6l-1,-1.4l0,-1.1l1,-0.1l1,1.1l2,-0.7l0.5,0.8l-0.1,2zM-73.5,10.8l-2.2,-2.3l0.2,-1.9l1.7,-1.1l-1.6,-1l-1.1,0.3l-0.6,-1.3l0.6,-1.5l1,-0.5l2,0.7l1,-0.7l2.8,2l-0.5,1l1,1l0.3,1l-0.4,1l-1.2,0.3l-1,1.1l-1,0.4zM104.5,5.6l-2,-0.1l0,-0.6l1,0zM116.5,8.8l-2,-1.2l-1,0.4l-1,-0.5l3,-1.4l1,1.2l1,0.1l0.9,-0.9l0.1,-1l0.3,1l1.5,1zM-57.5,13.3l-1,-0.1l-2.3,-1.7l0.1,-1l1.2,-1.7l1,-0.6l0.7,0.3l-0.8,2l1.4,2zM146.5,8.8l-1,0.4l-0.4,-0.7l0.4,-0.4l1.2,0.4zM30.5,10.6l-1.2,-1.1l0.2,-0.3l1.3,0.3zM-70.5,12.5l-1.5,0l-0.6,-1l1.1,-0.4l0.7,0.4zM-54.5,17.6l-2.5,-1.1l-0.8,-2l0.3,-0.6l1,-0.2l1,1.3l1,0.1l1,-0.7l1.4,0.1l-0.3,1l0.6,1zM-40.5,20.9l-0.3,-1.4l1.3,-1.6l0,2zM-48.5,27.5l-0.7,-1l0.1,-1l2.6,-1.7l0.5,0.7z"/></g>
<use href="#lakes" fill="#fff"/>
</g>
<path d="M422.55,281.80V441.60M473.80,281.80V441.60M525.05,281.80V441.60M576.30,281.80V441.60M627.55,281.80V441.60M371.30,308.43H678.80M371.30,335.07H678.80M371.30,361.70H678.80M371.30,388.33H678.80M371.30,414.97H678.80" stroke="#333" stroke-width="0.45" fill="none" opacity="0.75"/>
<rect x="371.30" y="281.80" width="307.50" height="159.80" fill="none" stroke="#666" stroke-width="0.55"/>
<text x="418.8" y="271.6" font-size="15.2" fill="#4b4fa6" textLength="210" lengthAdjust="spacingAndGlyphs">2012 Net Primary Productivity</text>
<text x="422.55" y="450.3" font-size="9.6" text-anchor="middle" fill="#111" textLength="45.5" lengthAdjust="spacingAndGlyphs">120°0'0"W</text>
<text x="473.80" y="450.3" font-size="9.6" text-anchor="middle" fill="#111" textLength="41.5" lengthAdjust="spacingAndGlyphs">60°0'0"W</text>
<text x="525.05" y="450.3" font-size="9.6" text-anchor="middle" fill="#111" textLength="27.0" lengthAdjust="spacingAndGlyphs">0°0'0"</text>
<text x="576.30" y="450.3" font-size="9.6" text-anchor="middle" fill="#111" textLength="38.5" lengthAdjust="spacingAndGlyphs">60°0'0"E</text>
<text x="627.55" y="450.3" font-size="9.6" text-anchor="middle" fill="#111" textLength="43.0" lengthAdjust="spacingAndGlyphs">120°0'0"E</text>
<clipPath id="tc4"><rect x="371.3" y="278.70" width="307.49999999999994" height="2.8"/></clipPath><g clip-path="url(#tc4)">
<text x="422.55" y="281.30" font-size="9.6" text-anchor="middle" fill="#333" textLength="45.5" lengthAdjust="spacingAndGlyphs">120°0'0"W</text>
<text x="473.80" y="281.30" font-size="9.6" text-anchor="middle" fill="#333" textLength="41.5" lengthAdjust="spacingAndGlyphs">60°0'0"W</text>
<text x="525.05" y="281.30" font-size="9.6" text-anchor="middle" fill="#333" textLength="27.0" lengthAdjust="spacingAndGlyphs">0°0'0"</text>
<text x="576.30" y="281.30" font-size="9.6" text-anchor="middle" fill="#333" textLength="38.5" lengthAdjust="spacingAndGlyphs">60°0'0"E</text>
<text x="627.55" y="281.30" font-size="9.6" text-anchor="middle" fill="#333" textLength="43.0" lengthAdjust="spacingAndGlyphs">120°0'0"E</text>
</g>
<text transform="translate(368.9,281.80) rotate(-90)" font-size="9.6" text-anchor="middle" fill="#111" textLength="32.7" lengthAdjust="spacingAndGlyphs">90°0'0"</text>
<text transform="translate(687.4,281.80) rotate(-90)" font-size="9.6" text-anchor="middle" fill="#111" textLength="32.7" lengthAdjust="spacingAndGlyphs">90°0'0"</text>
<text transform="translate(368.9,335.07) rotate(-90)" font-size="9.6" text-anchor="middle" fill="#111" textLength="40.2" lengthAdjust="spacingAndGlyphs">30°0'0"N</text>
<text transform="translate(687.4,335.07) rotate(-90)" font-size="9.6" text-anchor="middle" fill="#111" textLength="40.2" lengthAdjust="spacingAndGlyphs">30°0'0"N</text>
<text transform="translate(368.9,388.33) rotate(-90)" font-size="9.6" text-anchor="middle" fill="#111" textLength="38.5" lengthAdjust="spacingAndGlyphs">30°0'0"S</text>
<text transform="translate(687.4,388.33) rotate(-90)" font-size="9.6" text-anchor="middle" fill="#111" textLength="38.5" lengthAdjust="spacingAndGlyphs">30°0'0"S</text>
<text transform="translate(368.9,441.60) rotate(-90)" font-size="9.6" text-anchor="middle" fill="#111" textLength="32.7" lengthAdjust="spacingAndGlyphs">90°0'0"</text>
<text transform="translate(687.4,441.60) rotate(-90)" font-size="9.6" text-anchor="middle" fill="#111" textLength="32.7" lengthAdjust="spacingAndGlyphs">90°0'0"</text>
<text x="357.5" y="473.3" font-size="12.3" fill="#111" textLength="115" lengthAdjust="spacingAndGlyphs">2012NPP (gC•m⁻²• yr⁻¹)</text>
<rect x="473.8" y="464.5" width="191.20" height="10.50" fill="url(#cbg)"/>
<text x="474.6" y="485.2" font-size="12.6" text-anchor="middle" fill="#111">0</text>
<text x="568.6" y="485.0" font-size="12.6" text-anchor="middle" fill="#111">750</text>
<text x="663" y="484.6" font-size="12.6" text-anchor="middle" fill="#111">1500</text>
</svg></body></html>
